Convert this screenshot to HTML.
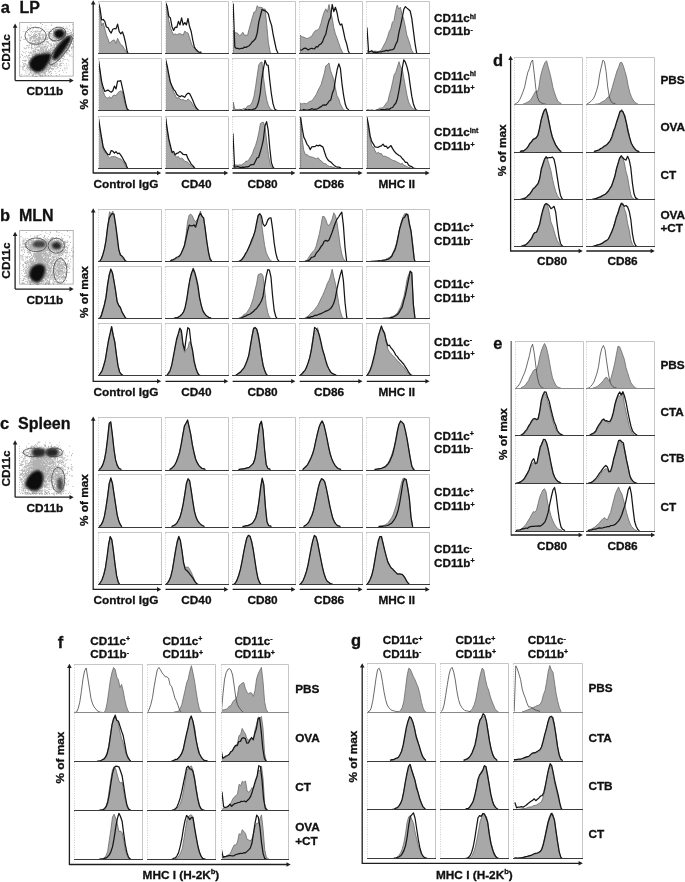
<!DOCTYPE html><html><head><meta charset="utf-8"><style>html,body{margin:0;padding:0;background:#fff;overflow:hidden}svg{display:block;filter:blur(0.3px)}</style></head><body>
<svg width="685" height="882" viewBox="0 0 685 882" font-family="'Liberation Sans', sans-serif" font-weight="bold" fill="#111">
<rect width="685" height="882" fill="#fff"/>
<rect x="98.5" y="1.5" width="63.0" height="52.0" fill="#fff" stroke="none"/>
<path d="M98.0,1.5 H161.5 V53.5" fill="none" stroke="#c6c6c6" stroke-width="1"/>
<line x1="98.5" y1="2.0" x2="98.5" y2="53.5" stroke="#cdcdcd" stroke-width="1" stroke-dasharray="1 1.4"/>
<rect x="165.5" y="1.5" width="63.0" height="52.0" fill="#fff" stroke="none"/>
<path d="M165.0,1.5 H228.5 V53.5" fill="none" stroke="#c6c6c6" stroke-width="1"/>
<line x1="165.5" y1="2.0" x2="165.5" y2="53.5" stroke="#cdcdcd" stroke-width="1" stroke-dasharray="1 1.4"/>
<rect x="232.5" y="1.5" width="63.0" height="52.0" fill="#fff" stroke="none"/>
<path d="M232.0,1.5 H295.5 V53.5" fill="none" stroke="#c6c6c6" stroke-width="1"/>
<line x1="232.5" y1="2.0" x2="232.5" y2="53.5" stroke="#cdcdcd" stroke-width="1" stroke-dasharray="1 1.4"/>
<rect x="299.5" y="1.5" width="63.0" height="52.0" fill="#fff" stroke="none"/>
<path d="M299.0,1.5 H362.5 V53.5" fill="none" stroke="#c6c6c6" stroke-width="1"/>
<line x1="299.5" y1="2.0" x2="299.5" y2="53.5" stroke="#cdcdcd" stroke-width="1" stroke-dasharray="1 1.4"/>
<rect x="366.5" y="1.5" width="63.0" height="52.0" fill="#fff" stroke="none"/>
<path d="M366.0,1.5 H429.5 V53.5" fill="none" stroke="#c6c6c6" stroke-width="1"/>
<line x1="366.5" y1="2.0" x2="366.5" y2="53.5" stroke="#cdcdcd" stroke-width="1" stroke-dasharray="1 1.4"/>
<rect x="98.5" y="58.5" width="63.0" height="52.0" fill="#fff" stroke="none"/>
<path d="M98.0,58.5 H161.5 V110.5" fill="none" stroke="#c6c6c6" stroke-width="1"/>
<line x1="98.5" y1="59.0" x2="98.5" y2="110.5" stroke="#cdcdcd" stroke-width="1" stroke-dasharray="1 1.4"/>
<rect x="165.5" y="58.5" width="63.0" height="52.0" fill="#fff" stroke="none"/>
<path d="M165.0,58.5 H228.5 V110.5" fill="none" stroke="#c6c6c6" stroke-width="1"/>
<line x1="165.5" y1="59.0" x2="165.5" y2="110.5" stroke="#cdcdcd" stroke-width="1" stroke-dasharray="1 1.4"/>
<rect x="232.5" y="58.5" width="63.0" height="52.0" fill="#fff" stroke="none"/>
<path d="M232.0,58.5 H295.5 V110.5" fill="none" stroke="#c6c6c6" stroke-width="1"/>
<line x1="232.5" y1="59.0" x2="232.5" y2="110.5" stroke="#cdcdcd" stroke-width="1" stroke-dasharray="1 1.4"/>
<rect x="299.5" y="58.5" width="63.0" height="52.0" fill="#fff" stroke="none"/>
<path d="M299.0,58.5 H362.5 V110.5" fill="none" stroke="#c6c6c6" stroke-width="1"/>
<line x1="299.5" y1="59.0" x2="299.5" y2="110.5" stroke="#cdcdcd" stroke-width="1" stroke-dasharray="1 1.4"/>
<rect x="366.5" y="58.5" width="63.0" height="52.0" fill="#fff" stroke="none"/>
<path d="M366.0,58.5 H429.5 V110.5" fill="none" stroke="#c6c6c6" stroke-width="1"/>
<line x1="366.5" y1="59.0" x2="366.5" y2="110.5" stroke="#cdcdcd" stroke-width="1" stroke-dasharray="1 1.4"/>
<rect x="98.5" y="116.5" width="63.0" height="52.0" fill="#fff" stroke="none"/>
<path d="M98.0,116.5 H161.5 V168.5" fill="none" stroke="#c6c6c6" stroke-width="1"/>
<line x1="98.5" y1="117.0" x2="98.5" y2="168.5" stroke="#cdcdcd" stroke-width="1" stroke-dasharray="1 1.4"/>
<rect x="165.5" y="116.5" width="63.0" height="52.0" fill="#fff" stroke="none"/>
<path d="M165.0,116.5 H228.5 V168.5" fill="none" stroke="#c6c6c6" stroke-width="1"/>
<line x1="165.5" y1="117.0" x2="165.5" y2="168.5" stroke="#cdcdcd" stroke-width="1" stroke-dasharray="1 1.4"/>
<rect x="232.5" y="116.5" width="63.0" height="52.0" fill="#fff" stroke="none"/>
<path d="M232.0,116.5 H295.5 V168.5" fill="none" stroke="#c6c6c6" stroke-width="1"/>
<line x1="232.5" y1="117.0" x2="232.5" y2="168.5" stroke="#cdcdcd" stroke-width="1" stroke-dasharray="1 1.4"/>
<rect x="299.5" y="116.5" width="63.0" height="52.0" fill="#fff" stroke="none"/>
<path d="M299.0,116.5 H362.5 V168.5" fill="none" stroke="#c6c6c6" stroke-width="1"/>
<line x1="299.5" y1="117.0" x2="299.5" y2="168.5" stroke="#cdcdcd" stroke-width="1" stroke-dasharray="1 1.4"/>
<rect x="366.5" y="116.5" width="63.0" height="52.0" fill="#fff" stroke="none"/>
<path d="M366.0,116.5 H429.5 V168.5" fill="none" stroke="#c6c6c6" stroke-width="1"/>
<line x1="366.5" y1="117.0" x2="366.5" y2="168.5" stroke="#cdcdcd" stroke-width="1" stroke-dasharray="1 1.4"/>
<rect x="98.5" y="209.5" width="63.0" height="52.0" fill="#fff" stroke="none"/>
<path d="M98.0,209.5 H161.5 V261.5" fill="none" stroke="#c6c6c6" stroke-width="1"/>
<line x1="98.5" y1="210.0" x2="98.5" y2="261.5" stroke="#cdcdcd" stroke-width="1" stroke-dasharray="1 1.4"/>
<rect x="165.5" y="209.5" width="63.0" height="52.0" fill="#fff" stroke="none"/>
<path d="M165.0,209.5 H228.5 V261.5" fill="none" stroke="#c6c6c6" stroke-width="1"/>
<line x1="165.5" y1="210.0" x2="165.5" y2="261.5" stroke="#cdcdcd" stroke-width="1" stroke-dasharray="1 1.4"/>
<rect x="232.5" y="209.5" width="63.0" height="52.0" fill="#fff" stroke="none"/>
<path d="M232.0,209.5 H295.5 V261.5" fill="none" stroke="#c6c6c6" stroke-width="1"/>
<line x1="232.5" y1="210.0" x2="232.5" y2="261.5" stroke="#cdcdcd" stroke-width="1" stroke-dasharray="1 1.4"/>
<rect x="299.5" y="209.5" width="63.0" height="52.0" fill="#fff" stroke="none"/>
<path d="M299.0,209.5 H362.5 V261.5" fill="none" stroke="#c6c6c6" stroke-width="1"/>
<line x1="299.5" y1="210.0" x2="299.5" y2="261.5" stroke="#cdcdcd" stroke-width="1" stroke-dasharray="1 1.4"/>
<rect x="366.5" y="209.5" width="63.0" height="52.0" fill="#fff" stroke="none"/>
<path d="M366.0,209.5 H429.5 V261.5" fill="none" stroke="#c6c6c6" stroke-width="1"/>
<line x1="366.5" y1="210.0" x2="366.5" y2="261.5" stroke="#cdcdcd" stroke-width="1" stroke-dasharray="1 1.4"/>
<rect x="98.5" y="266.5" width="63.0" height="52.0" fill="#fff" stroke="none"/>
<path d="M98.0,266.5 H161.5 V318.5" fill="none" stroke="#c6c6c6" stroke-width="1"/>
<line x1="98.5" y1="267.0" x2="98.5" y2="318.5" stroke="#cdcdcd" stroke-width="1" stroke-dasharray="1 1.4"/>
<rect x="165.5" y="266.5" width="63.0" height="52.0" fill="#fff" stroke="none"/>
<path d="M165.0,266.5 H228.5 V318.5" fill="none" stroke="#c6c6c6" stroke-width="1"/>
<line x1="165.5" y1="267.0" x2="165.5" y2="318.5" stroke="#cdcdcd" stroke-width="1" stroke-dasharray="1 1.4"/>
<rect x="232.5" y="266.5" width="63.0" height="52.0" fill="#fff" stroke="none"/>
<path d="M232.0,266.5 H295.5 V318.5" fill="none" stroke="#c6c6c6" stroke-width="1"/>
<line x1="232.5" y1="267.0" x2="232.5" y2="318.5" stroke="#cdcdcd" stroke-width="1" stroke-dasharray="1 1.4"/>
<rect x="299.5" y="266.5" width="63.0" height="52.0" fill="#fff" stroke="none"/>
<path d="M299.0,266.5 H362.5 V318.5" fill="none" stroke="#c6c6c6" stroke-width="1"/>
<line x1="299.5" y1="267.0" x2="299.5" y2="318.5" stroke="#cdcdcd" stroke-width="1" stroke-dasharray="1 1.4"/>
<rect x="366.5" y="266.5" width="63.0" height="52.0" fill="#fff" stroke="none"/>
<path d="M366.0,266.5 H429.5 V318.5" fill="none" stroke="#c6c6c6" stroke-width="1"/>
<line x1="366.5" y1="267.0" x2="366.5" y2="318.5" stroke="#cdcdcd" stroke-width="1" stroke-dasharray="1 1.4"/>
<rect x="98.5" y="323.5" width="63.0" height="52.0" fill="#fff" stroke="none"/>
<path d="M98.0,323.5 H161.5 V375.5" fill="none" stroke="#c6c6c6" stroke-width="1"/>
<line x1="98.5" y1="324.0" x2="98.5" y2="375.5" stroke="#cdcdcd" stroke-width="1" stroke-dasharray="1 1.4"/>
<rect x="165.5" y="323.5" width="63.0" height="52.0" fill="#fff" stroke="none"/>
<path d="M165.0,323.5 H228.5 V375.5" fill="none" stroke="#c6c6c6" stroke-width="1"/>
<line x1="165.5" y1="324.0" x2="165.5" y2="375.5" stroke="#cdcdcd" stroke-width="1" stroke-dasharray="1 1.4"/>
<rect x="232.5" y="323.5" width="63.0" height="52.0" fill="#fff" stroke="none"/>
<path d="M232.0,323.5 H295.5 V375.5" fill="none" stroke="#c6c6c6" stroke-width="1"/>
<line x1="232.5" y1="324.0" x2="232.5" y2="375.5" stroke="#cdcdcd" stroke-width="1" stroke-dasharray="1 1.4"/>
<rect x="299.5" y="323.5" width="63.0" height="52.0" fill="#fff" stroke="none"/>
<path d="M299.0,323.5 H362.5 V375.5" fill="none" stroke="#c6c6c6" stroke-width="1"/>
<line x1="299.5" y1="324.0" x2="299.5" y2="375.5" stroke="#cdcdcd" stroke-width="1" stroke-dasharray="1 1.4"/>
<rect x="366.5" y="323.5" width="63.0" height="52.0" fill="#fff" stroke="none"/>
<path d="M366.0,323.5 H429.5 V375.5" fill="none" stroke="#c6c6c6" stroke-width="1"/>
<line x1="366.5" y1="324.0" x2="366.5" y2="375.5" stroke="#cdcdcd" stroke-width="1" stroke-dasharray="1 1.4"/>
<rect x="98.5" y="417.5" width="63.0" height="53.0" fill="#fff" stroke="none"/>
<path d="M98.0,417.5 H161.5 V470.5" fill="none" stroke="#c6c6c6" stroke-width="1"/>
<line x1="98.5" y1="418.0" x2="98.5" y2="470.5" stroke="#cdcdcd" stroke-width="1" stroke-dasharray="1 1.4"/>
<rect x="165.5" y="417.5" width="63.0" height="53.0" fill="#fff" stroke="none"/>
<path d="M165.0,417.5 H228.5 V470.5" fill="none" stroke="#c6c6c6" stroke-width="1"/>
<line x1="165.5" y1="418.0" x2="165.5" y2="470.5" stroke="#cdcdcd" stroke-width="1" stroke-dasharray="1 1.4"/>
<rect x="232.5" y="417.5" width="63.0" height="53.0" fill="#fff" stroke="none"/>
<path d="M232.0,417.5 H295.5 V470.5" fill="none" stroke="#c6c6c6" stroke-width="1"/>
<line x1="232.5" y1="418.0" x2="232.5" y2="470.5" stroke="#cdcdcd" stroke-width="1" stroke-dasharray="1 1.4"/>
<rect x="299.5" y="417.5" width="63.0" height="53.0" fill="#fff" stroke="none"/>
<path d="M299.0,417.5 H362.5 V470.5" fill="none" stroke="#c6c6c6" stroke-width="1"/>
<line x1="299.5" y1="418.0" x2="299.5" y2="470.5" stroke="#cdcdcd" stroke-width="1" stroke-dasharray="1 1.4"/>
<rect x="366.5" y="417.5" width="63.0" height="53.0" fill="#fff" stroke="none"/>
<path d="M366.0,417.5 H429.5 V470.5" fill="none" stroke="#c6c6c6" stroke-width="1"/>
<line x1="366.5" y1="418.0" x2="366.5" y2="470.5" stroke="#cdcdcd" stroke-width="1" stroke-dasharray="1 1.4"/>
<rect x="98.5" y="474.5" width="63.0" height="53.0" fill="#fff" stroke="none"/>
<path d="M98.0,474.5 H161.5 V527.5" fill="none" stroke="#c6c6c6" stroke-width="1"/>
<line x1="98.5" y1="475.0" x2="98.5" y2="527.5" stroke="#cdcdcd" stroke-width="1" stroke-dasharray="1 1.4"/>
<rect x="165.5" y="474.5" width="63.0" height="53.0" fill="#fff" stroke="none"/>
<path d="M165.0,474.5 H228.5 V527.5" fill="none" stroke="#c6c6c6" stroke-width="1"/>
<line x1="165.5" y1="475.0" x2="165.5" y2="527.5" stroke="#cdcdcd" stroke-width="1" stroke-dasharray="1 1.4"/>
<rect x="232.5" y="474.5" width="63.0" height="53.0" fill="#fff" stroke="none"/>
<path d="M232.0,474.5 H295.5 V527.5" fill="none" stroke="#c6c6c6" stroke-width="1"/>
<line x1="232.5" y1="475.0" x2="232.5" y2="527.5" stroke="#cdcdcd" stroke-width="1" stroke-dasharray="1 1.4"/>
<rect x="299.5" y="474.5" width="63.0" height="53.0" fill="#fff" stroke="none"/>
<path d="M299.0,474.5 H362.5 V527.5" fill="none" stroke="#c6c6c6" stroke-width="1"/>
<line x1="299.5" y1="475.0" x2="299.5" y2="527.5" stroke="#cdcdcd" stroke-width="1" stroke-dasharray="1 1.4"/>
<rect x="366.5" y="474.5" width="63.0" height="53.0" fill="#fff" stroke="none"/>
<path d="M366.0,474.5 H429.5 V527.5" fill="none" stroke="#c6c6c6" stroke-width="1"/>
<line x1="366.5" y1="475.0" x2="366.5" y2="527.5" stroke="#cdcdcd" stroke-width="1" stroke-dasharray="1 1.4"/>
<rect x="98.5" y="532.5" width="63.0" height="52.0" fill="#fff" stroke="none"/>
<path d="M98.0,532.5 H161.5 V584.5" fill="none" stroke="#c6c6c6" stroke-width="1"/>
<line x1="98.5" y1="533.0" x2="98.5" y2="584.5" stroke="#cdcdcd" stroke-width="1" stroke-dasharray="1 1.4"/>
<rect x="165.5" y="532.5" width="63.0" height="52.0" fill="#fff" stroke="none"/>
<path d="M165.0,532.5 H228.5 V584.5" fill="none" stroke="#c6c6c6" stroke-width="1"/>
<line x1="165.5" y1="533.0" x2="165.5" y2="584.5" stroke="#cdcdcd" stroke-width="1" stroke-dasharray="1 1.4"/>
<rect x="232.5" y="532.5" width="63.0" height="52.0" fill="#fff" stroke="none"/>
<path d="M232.0,532.5 H295.5 V584.5" fill="none" stroke="#c6c6c6" stroke-width="1"/>
<line x1="232.5" y1="533.0" x2="232.5" y2="584.5" stroke="#cdcdcd" stroke-width="1" stroke-dasharray="1 1.4"/>
<rect x="299.5" y="532.5" width="63.0" height="52.0" fill="#fff" stroke="none"/>
<path d="M299.0,532.5 H362.5 V584.5" fill="none" stroke="#c6c6c6" stroke-width="1"/>
<line x1="299.5" y1="533.0" x2="299.5" y2="584.5" stroke="#cdcdcd" stroke-width="1" stroke-dasharray="1 1.4"/>
<rect x="366.5" y="532.5" width="63.0" height="52.0" fill="#fff" stroke="none"/>
<path d="M366.0,532.5 H429.5 V584.5" fill="none" stroke="#c6c6c6" stroke-width="1"/>
<line x1="366.5" y1="533.0" x2="366.5" y2="584.5" stroke="#cdcdcd" stroke-width="1" stroke-dasharray="1 1.4"/>
<rect x="514.5" y="57.5" width="68.0" height="47.0" fill="#fff" stroke="none"/>
<path d="M514.0,57.5 H582.5 V104.5" fill="none" stroke="#c6c6c6" stroke-width="1"/>
<line x1="514.5" y1="58.0" x2="514.5" y2="104.5" stroke="#cdcdcd" stroke-width="1" stroke-dasharray="1 1.4"/>
<rect x="514.5" y="104.5" width="68.0" height="48.0" fill="#fff" stroke="none"/>
<path d="M514.0,104.5 H582.5 V152.5" fill="none" stroke="#c6c6c6" stroke-width="1"/>
<line x1="514.5" y1="105.0" x2="514.5" y2="152.5" stroke="#cdcdcd" stroke-width="1" stroke-dasharray="1 1.4"/>
<rect x="514.5" y="152.5" width="68.0" height="47.0" fill="#fff" stroke="none"/>
<path d="M514.0,152.5 H582.5 V199.5" fill="none" stroke="#c6c6c6" stroke-width="1"/>
<line x1="514.5" y1="153.0" x2="514.5" y2="199.5" stroke="#cdcdcd" stroke-width="1" stroke-dasharray="1 1.4"/>
<rect x="514.5" y="199.5" width="68.0" height="47.0" fill="#fff" stroke="none"/>
<path d="M514.0,199.5 H582.5 V246.5" fill="none" stroke="#c6c6c6" stroke-width="1"/>
<line x1="514.5" y1="200.0" x2="514.5" y2="246.5" stroke="#cdcdcd" stroke-width="1" stroke-dasharray="1 1.4"/>
<rect x="586.5" y="57.5" width="68.0" height="47.0" fill="#fff" stroke="none"/>
<path d="M586.0,57.5 H654.5 V104.5" fill="none" stroke="#c6c6c6" stroke-width="1"/>
<line x1="586.5" y1="58.0" x2="586.5" y2="104.5" stroke="#cdcdcd" stroke-width="1" stroke-dasharray="1 1.4"/>
<rect x="586.5" y="104.5" width="68.0" height="48.0" fill="#fff" stroke="none"/>
<path d="M586.0,104.5 H654.5 V152.5" fill="none" stroke="#c6c6c6" stroke-width="1"/>
<line x1="586.5" y1="105.0" x2="586.5" y2="152.5" stroke="#cdcdcd" stroke-width="1" stroke-dasharray="1 1.4"/>
<rect x="586.5" y="152.5" width="68.0" height="47.0" fill="#fff" stroke="none"/>
<path d="M586.0,152.5 H654.5 V199.5" fill="none" stroke="#c6c6c6" stroke-width="1"/>
<line x1="586.5" y1="153.0" x2="586.5" y2="199.5" stroke="#cdcdcd" stroke-width="1" stroke-dasharray="1 1.4"/>
<rect x="586.5" y="199.5" width="68.0" height="47.0" fill="#fff" stroke="none"/>
<path d="M586.0,199.5 H654.5 V246.5" fill="none" stroke="#c6c6c6" stroke-width="1"/>
<line x1="586.5" y1="200.0" x2="586.5" y2="246.5" stroke="#cdcdcd" stroke-width="1" stroke-dasharray="1 1.4"/>
<rect x="515.5" y="341.5" width="68.0" height="47.0" fill="#fff" stroke="none"/>
<path d="M515.0,341.5 H583.5 V388.5" fill="none" stroke="#c6c6c6" stroke-width="1"/>
<line x1="515.5" y1="342.0" x2="515.5" y2="388.5" stroke="#cdcdcd" stroke-width="1" stroke-dasharray="1 1.4"/>
<rect x="515.5" y="388.5" width="68.0" height="47.0" fill="#fff" stroke="none"/>
<path d="M515.0,388.5 H583.5 V435.5" fill="none" stroke="#c6c6c6" stroke-width="1"/>
<line x1="515.5" y1="389.0" x2="515.5" y2="435.5" stroke="#cdcdcd" stroke-width="1" stroke-dasharray="1 1.4"/>
<rect x="515.5" y="435.5" width="68.0" height="48.0" fill="#fff" stroke="none"/>
<path d="M515.0,435.5 H583.5 V483.5" fill="none" stroke="#c6c6c6" stroke-width="1"/>
<line x1="515.5" y1="436.0" x2="515.5" y2="483.5" stroke="#cdcdcd" stroke-width="1" stroke-dasharray="1 1.4"/>
<rect x="515.5" y="483.5" width="68.0" height="48.0" fill="#fff" stroke="none"/>
<path d="M515.0,483.5 H583.5 V531.5" fill="none" stroke="#c6c6c6" stroke-width="1"/>
<line x1="515.5" y1="484.0" x2="515.5" y2="531.5" stroke="#cdcdcd" stroke-width="1" stroke-dasharray="1 1.4"/>
<rect x="586.5" y="341.5" width="68.0" height="47.0" fill="#fff" stroke="none"/>
<path d="M586.0,341.5 H654.5 V388.5" fill="none" stroke="#c6c6c6" stroke-width="1"/>
<line x1="586.5" y1="342.0" x2="586.5" y2="388.5" stroke="#cdcdcd" stroke-width="1" stroke-dasharray="1 1.4"/>
<rect x="586.5" y="388.5" width="68.0" height="47.0" fill="#fff" stroke="none"/>
<path d="M586.0,388.5 H654.5 V435.5" fill="none" stroke="#c6c6c6" stroke-width="1"/>
<line x1="586.5" y1="389.0" x2="586.5" y2="435.5" stroke="#cdcdcd" stroke-width="1" stroke-dasharray="1 1.4"/>
<rect x="586.5" y="435.5" width="68.0" height="48.0" fill="#fff" stroke="none"/>
<path d="M586.0,435.5 H654.5 V483.5" fill="none" stroke="#c6c6c6" stroke-width="1"/>
<line x1="586.5" y1="436.0" x2="586.5" y2="483.5" stroke="#cdcdcd" stroke-width="1" stroke-dasharray="1 1.4"/>
<rect x="586.5" y="483.5" width="68.0" height="48.0" fill="#fff" stroke="none"/>
<path d="M586.0,483.5 H654.5 V531.5" fill="none" stroke="#c6c6c6" stroke-width="1"/>
<line x1="586.5" y1="484.0" x2="586.5" y2="531.5" stroke="#cdcdcd" stroke-width="1" stroke-dasharray="1 1.4"/>
<rect x="74.5" y="664.5" width="68.0" height="48.0" fill="#fff" stroke="none"/>
<path d="M74.0,664.5 H142.5 V712.5" fill="none" stroke="#c6c6c6" stroke-width="1"/>
<line x1="74.5" y1="665.0" x2="74.5" y2="712.5" stroke="#cdcdcd" stroke-width="1" stroke-dasharray="1 1.4"/>
<rect x="74.5" y="712.5" width="68.0" height="49.0" fill="#fff" stroke="none"/>
<path d="M74.0,712.5 H142.5 V761.5" fill="none" stroke="#c6c6c6" stroke-width="1"/>
<line x1="74.5" y1="713.0" x2="74.5" y2="761.5" stroke="#cdcdcd" stroke-width="1" stroke-dasharray="1 1.4"/>
<rect x="74.5" y="761.5" width="68.0" height="49.0" fill="#fff" stroke="none"/>
<path d="M74.0,761.5 H142.5 V810.5" fill="none" stroke="#c6c6c6" stroke-width="1"/>
<line x1="74.5" y1="762.0" x2="74.5" y2="810.5" stroke="#cdcdcd" stroke-width="1" stroke-dasharray="1 1.4"/>
<rect x="74.5" y="810.5" width="68.0" height="49.0" fill="#fff" stroke="none"/>
<path d="M74.0,810.5 H142.5 V859.5" fill="none" stroke="#c6c6c6" stroke-width="1"/>
<line x1="74.5" y1="811.0" x2="74.5" y2="859.5" stroke="#cdcdcd" stroke-width="1" stroke-dasharray="1 1.4"/>
<rect x="147.5" y="664.5" width="68.0" height="48.0" fill="#fff" stroke="none"/>
<path d="M147.0,664.5 H215.5 V712.5" fill="none" stroke="#c6c6c6" stroke-width="1"/>
<line x1="147.5" y1="665.0" x2="147.5" y2="712.5" stroke="#cdcdcd" stroke-width="1" stroke-dasharray="1 1.4"/>
<rect x="147.5" y="712.5" width="68.0" height="49.0" fill="#fff" stroke="none"/>
<path d="M147.0,712.5 H215.5 V761.5" fill="none" stroke="#c6c6c6" stroke-width="1"/>
<line x1="147.5" y1="713.0" x2="147.5" y2="761.5" stroke="#cdcdcd" stroke-width="1" stroke-dasharray="1 1.4"/>
<rect x="147.5" y="761.5" width="68.0" height="49.0" fill="#fff" stroke="none"/>
<path d="M147.0,761.5 H215.5 V810.5" fill="none" stroke="#c6c6c6" stroke-width="1"/>
<line x1="147.5" y1="762.0" x2="147.5" y2="810.5" stroke="#cdcdcd" stroke-width="1" stroke-dasharray="1 1.4"/>
<rect x="147.5" y="810.5" width="68.0" height="49.0" fill="#fff" stroke="none"/>
<path d="M147.0,810.5 H215.5 V859.5" fill="none" stroke="#c6c6c6" stroke-width="1"/>
<line x1="147.5" y1="811.0" x2="147.5" y2="859.5" stroke="#cdcdcd" stroke-width="1" stroke-dasharray="1 1.4"/>
<rect x="221.5" y="664.5" width="67.0" height="48.0" fill="#fff" stroke="none"/>
<path d="M221.0,664.5 H288.5 V712.5" fill="none" stroke="#c6c6c6" stroke-width="1"/>
<line x1="221.5" y1="665.0" x2="221.5" y2="712.5" stroke="#cdcdcd" stroke-width="1" stroke-dasharray="1 1.4"/>
<rect x="221.5" y="712.5" width="67.0" height="49.0" fill="#fff" stroke="none"/>
<path d="M221.0,712.5 H288.5 V761.5" fill="none" stroke="#c6c6c6" stroke-width="1"/>
<line x1="221.5" y1="713.0" x2="221.5" y2="761.5" stroke="#cdcdcd" stroke-width="1" stroke-dasharray="1 1.4"/>
<rect x="221.5" y="761.5" width="67.0" height="49.0" fill="#fff" stroke="none"/>
<path d="M221.0,761.5 H288.5 V810.5" fill="none" stroke="#c6c6c6" stroke-width="1"/>
<line x1="221.5" y1="762.0" x2="221.5" y2="810.5" stroke="#cdcdcd" stroke-width="1" stroke-dasharray="1 1.4"/>
<rect x="221.5" y="810.5" width="67.0" height="49.0" fill="#fff" stroke="none"/>
<path d="M221.0,810.5 H288.5 V859.5" fill="none" stroke="#c6c6c6" stroke-width="1"/>
<line x1="221.5" y1="811.0" x2="221.5" y2="859.5" stroke="#cdcdcd" stroke-width="1" stroke-dasharray="1 1.4"/>
<rect x="367.5" y="663.5" width="68.0" height="49.0" fill="#fff" stroke="none"/>
<path d="M367.0,663.5 H435.5 V712.5" fill="none" stroke="#c6c6c6" stroke-width="1"/>
<line x1="367.5" y1="664.0" x2="367.5" y2="712.5" stroke="#cdcdcd" stroke-width="1" stroke-dasharray="1 1.4"/>
<rect x="367.5" y="712.5" width="68.0" height="49.0" fill="#fff" stroke="none"/>
<path d="M367.0,712.5 H435.5 V761.5" fill="none" stroke="#c6c6c6" stroke-width="1"/>
<line x1="367.5" y1="713.0" x2="367.5" y2="761.5" stroke="#cdcdcd" stroke-width="1" stroke-dasharray="1 1.4"/>
<rect x="367.5" y="761.5" width="68.0" height="48.0" fill="#fff" stroke="none"/>
<path d="M367.0,761.5 H435.5 V809.5" fill="none" stroke="#c6c6c6" stroke-width="1"/>
<line x1="367.5" y1="762.0" x2="367.5" y2="809.5" stroke="#cdcdcd" stroke-width="1" stroke-dasharray="1 1.4"/>
<rect x="367.5" y="809.5" width="68.0" height="49.0" fill="#fff" stroke="none"/>
<path d="M367.0,809.5 H435.5 V858.5" fill="none" stroke="#c6c6c6" stroke-width="1"/>
<line x1="367.5" y1="810.0" x2="367.5" y2="858.5" stroke="#cdcdcd" stroke-width="1" stroke-dasharray="1 1.4"/>
<rect x="440.5" y="663.5" width="68.0" height="49.0" fill="#fff" stroke="none"/>
<path d="M440.0,663.5 H508.5 V712.5" fill="none" stroke="#c6c6c6" stroke-width="1"/>
<line x1="440.5" y1="664.0" x2="440.5" y2="712.5" stroke="#cdcdcd" stroke-width="1" stroke-dasharray="1 1.4"/>
<rect x="440.5" y="712.5" width="68.0" height="49.0" fill="#fff" stroke="none"/>
<path d="M440.0,712.5 H508.5 V761.5" fill="none" stroke="#c6c6c6" stroke-width="1"/>
<line x1="440.5" y1="713.0" x2="440.5" y2="761.5" stroke="#cdcdcd" stroke-width="1" stroke-dasharray="1 1.4"/>
<rect x="440.5" y="761.5" width="68.0" height="48.0" fill="#fff" stroke="none"/>
<path d="M440.0,761.5 H508.5 V809.5" fill="none" stroke="#c6c6c6" stroke-width="1"/>
<line x1="440.5" y1="762.0" x2="440.5" y2="809.5" stroke="#cdcdcd" stroke-width="1" stroke-dasharray="1 1.4"/>
<rect x="440.5" y="809.5" width="68.0" height="49.0" fill="#fff" stroke="none"/>
<path d="M440.0,809.5 H508.5 V858.5" fill="none" stroke="#c6c6c6" stroke-width="1"/>
<line x1="440.5" y1="810.0" x2="440.5" y2="858.5" stroke="#cdcdcd" stroke-width="1" stroke-dasharray="1 1.4"/>
<rect x="513.5" y="663.5" width="69.0" height="49.0" fill="#fff" stroke="none"/>
<path d="M513.0,663.5 H582.5 V712.5" fill="none" stroke="#c6c6c6" stroke-width="1"/>
<line x1="513.5" y1="664.0" x2="513.5" y2="712.5" stroke="#cdcdcd" stroke-width="1" stroke-dasharray="1 1.4"/>
<rect x="513.5" y="712.5" width="69.0" height="49.0" fill="#fff" stroke="none"/>
<path d="M513.0,712.5 H582.5 V761.5" fill="none" stroke="#c6c6c6" stroke-width="1"/>
<line x1="513.5" y1="713.0" x2="513.5" y2="761.5" stroke="#cdcdcd" stroke-width="1" stroke-dasharray="1 1.4"/>
<rect x="513.5" y="761.5" width="69.0" height="48.0" fill="#fff" stroke="none"/>
<path d="M513.0,761.5 H582.5 V809.5" fill="none" stroke="#c6c6c6" stroke-width="1"/>
<line x1="513.5" y1="762.0" x2="513.5" y2="809.5" stroke="#cdcdcd" stroke-width="1" stroke-dasharray="1 1.4"/>
<rect x="513.5" y="809.5" width="69.0" height="49.0" fill="#fff" stroke="none"/>
<path d="M513.0,809.5 H582.5 V858.5" fill="none" stroke="#c6c6c6" stroke-width="1"/>
<line x1="513.5" y1="810.0" x2="513.5" y2="858.5" stroke="#cdcdcd" stroke-width="1" stroke-dasharray="1 1.4"/>
<defs><filter id="dblur" x="-50%" y="-50%" width="200%" height="200%"><feGaussianBlur stdDeviation="0.9"/></filter><filter id="sblur" x="-10%" y="-10%" width="120%" height="120%"><feGaussianBlur stdDeviation="0.45"/></filter></defs>
<rect x="19.7" y="22.5" width="53.5" height="53.599999999999994" fill="none" stroke="#a0a0a0" stroke-width="0.8"/>
<line x1="15.1" y1="80.6" x2="15.1" y2="26.6" stroke="#1e1e1e" stroke-width="1.3"/>
<path d="M12.8,27.8 L15.1,23.6 L17.4,27.8 Z" fill="#1e1e1e"/>
<line x1="15.1" y1="80.6" x2="70.7" y2="80.6" stroke="#1e1e1e" stroke-width="1.3"/>
<path d="M69.5,78.3 L73.7,80.6 L69.5,82.89999999999999 Z" fill="#1e1e1e"/>
<path d="M32.6 68.9h0.9v0.9h-0.9zM45.5 57.1h0.9v0.9h-0.9zM30.8 66.9h0.9v0.9h-0.9zM46.0 67.5h0.9v0.9h-0.9zM28.5 59.8h0.9v0.9h-0.9zM46.0 63.3h0.9v0.9h-0.9zM52.9 63.5h0.9v0.9h-0.9zM38.6 61.8h0.9v0.9h-0.9zM56.7 53.3h0.9v0.9h-0.9zM31.8 59.3h0.9v0.9h-0.9zM41.0 63.5h0.9v0.9h-0.9zM37.5 63.8h0.9v0.9h-0.9zM43.6 65.9h0.9v0.9h-0.9zM48.0 60.7h0.9v0.9h-0.9zM29.6 72.5h0.9v0.9h-0.9zM29.9 66.6h0.9v0.9h-0.9zM30.0 67.7h0.9v0.9h-0.9zM35.3 66.6h0.9v0.9h-0.9zM62.3 52.3h0.9v0.9h-0.9zM42.4 53.1h0.9v0.9h-0.9zM39.7 67.5h0.9v0.9h-0.9zM40.3 65.3h0.9v0.9h-0.9zM38.2 57.2h0.9v0.9h-0.9zM41.8 56.8h0.9v0.9h-0.9zM51.4 54.3h0.9v0.9h-0.9zM44.7 60.8h0.9v0.9h-0.9zM44.9 56.7h0.9v0.9h-0.9zM46.5 59.2h0.9v0.9h-0.9zM50.2 62.4h0.9v0.9h-0.9zM39.0 58.3h0.9v0.9h-0.9zM46.4 63.1h0.9v0.9h-0.9zM50.2 55.7h0.9v0.9h-0.9zM45.1 64.0h0.9v0.9h-0.9zM42.5 63.2h0.9v0.9h-0.9zM39.7 59.2h0.9v0.9h-0.9zM32.1 64.1h0.9v0.9h-0.9zM47.8 69.3h0.9v0.9h-0.9zM49.3 65.6h0.9v0.9h-0.9zM47.1 64.3h0.9v0.9h-0.9zM43.2 66.6h0.9v0.9h-0.9zM51.2 55.6h0.9v0.9h-0.9zM40.3 75.9h0.9v0.9h-0.9zM44.1 67.5h0.9v0.9h-0.9zM43.1 54.1h0.9v0.9h-0.9zM61.0 64.9h0.9v0.9h-0.9zM43.1 66.5h0.9v0.9h-0.9zM38.6 57.8h0.9v0.9h-0.9zM40.2 65.4h0.9v0.9h-0.9zM49.4 63.3h0.9v0.9h-0.9zM43.8 70.2h0.9v0.9h-0.9zM36.8 69.7h0.9v0.9h-0.9zM46.8 57.9h0.9v0.9h-0.9zM25.5 63.7h0.9v0.9h-0.9zM42.9 65.1h0.9v0.9h-0.9zM48.0 52.6h0.9v0.9h-0.9zM41.7 66.5h0.9v0.9h-0.9zM32.9 50.6h0.9v0.9h-0.9zM51.3 73.0h0.9v0.9h-0.9zM44.5 54.8h0.9v0.9h-0.9zM37.8 65.5h0.9v0.9h-0.9zM58.5 58.5h0.9v0.9h-0.9zM44.7 71.1h0.9v0.9h-0.9zM44.2 73.4h0.9v0.9h-0.9zM34.1 62.6h0.9v0.9h-0.9zM48.5 68.5h0.9v0.9h-0.9zM45.2 62.6h0.9v0.9h-0.9zM25.8 64.9h0.9v0.9h-0.9zM34.5 62.0h0.9v0.9h-0.9zM43.1 59.3h0.9v0.9h-0.9zM45.6 61.0h0.9v0.9h-0.9zM38.0 64.7h0.9v0.9h-0.9zM45.1 66.3h0.9v0.9h-0.9zM36.2 63.2h0.9v0.9h-0.9zM34.8 76.0h0.9v0.9h-0.9zM49.4 57.4h0.9v0.9h-0.9zM33.6 57.8h0.9v0.9h-0.9zM41.7 63.6h0.9v0.9h-0.9zM55.5 57.4h0.9v0.9h-0.9zM28.5 52.2h0.9v0.9h-0.9zM50.1 59.6h0.9v0.9h-0.9zM29.5 69.1h0.9v0.9h-0.9zM49.1 62.6h0.9v0.9h-0.9zM33.4 51.9h0.9v0.9h-0.9zM35.2 54.9h0.9v0.9h-0.9zM38.6 49.5h0.9v0.9h-0.9zM36.9 72.5h0.9v0.9h-0.9zM48.2 51.4h0.9v0.9h-0.9zM31.8 72.6h0.9v0.9h-0.9zM43.3 54.9h0.9v0.9h-0.9zM33.5 61.4h0.9v0.9h-0.9zM30.2 63.1h0.9v0.9h-0.9zM50.3 62.8h0.9v0.9h-0.9zM53.8 56.0h0.9v0.9h-0.9zM36.6 58.1h0.9v0.9h-0.9zM35.8 56.3h0.9v0.9h-0.9zM29.7 72.4h0.9v0.9h-0.9zM51.9 63.0h0.9v0.9h-0.9zM49.7 60.1h0.9v0.9h-0.9zM35.3 65.7h0.9v0.9h-0.9zM34.6 58.1h0.9v0.9h-0.9zM24.7 60.3h0.9v0.9h-0.9zM40.3 63.8h0.9v0.9h-0.9zM40.4 72.3h0.9v0.9h-0.9zM42.7 65.6h0.9v0.9h-0.9zM46.2 54.7h0.9v0.9h-0.9zM28.5 73.3h0.9v0.9h-0.9zM38.6 72.3h0.9v0.9h-0.9zM44.8 67.4h0.9v0.9h-0.9zM39.9 49.3h0.9v0.9h-0.9zM43.2 57.1h0.9v0.9h-0.9zM33.8 63.0h0.9v0.9h-0.9zM47.5 65.4h0.9v0.9h-0.9zM42.7 50.8h0.9v0.9h-0.9zM30.0 52.0h0.9v0.9h-0.9zM40.8 66.6h0.9v0.9h-0.9zM35.4 66.8h0.9v0.9h-0.9zM44.1 67.7h0.9v0.9h-0.9zM32.3 61.1h0.9v0.9h-0.9zM39.3 74.9h0.9v0.9h-0.9zM47.1 58.9h0.9v0.9h-0.9zM41.8 62.9h0.9v0.9h-0.9zM40.9 61.2h0.9v0.9h-0.9zM34.5 57.2h0.9v0.9h-0.9zM39.8 74.0h0.9v0.9h-0.9zM43.8 61.7h0.9v0.9h-0.9zM38.7 64.0h0.9v0.9h-0.9zM40.8 58.4h0.9v0.9h-0.9zM41.9 63.7h0.9v0.9h-0.9zM32.9 61.1h0.9v0.9h-0.9zM30.5 60.4h0.9v0.9h-0.9zM40.1 47.3h0.9v0.9h-0.9zM36.6 60.5h0.9v0.9h-0.9zM36.0 65.5h0.9v0.9h-0.9zM47.9 59.8h0.9v0.9h-0.9zM37.5 60.1h0.9v0.9h-0.9zM41.4 68.4h0.9v0.9h-0.9zM34.4 58.0h0.9v0.9h-0.9zM28.6 61.0h0.9v0.9h-0.9zM33.3 73.4h0.9v0.9h-0.9zM41.8 60.6h0.9v0.9h-0.9zM48.3 54.8h0.9v0.9h-0.9zM47.1 65.0h0.9v0.9h-0.9zM25.5 59.4h0.9v0.9h-0.9zM36.0 70.9h0.9v0.9h-0.9zM45.7 52.2h0.9v0.9h-0.9zM46.2 57.6h0.9v0.9h-0.9zM35.9 61.3h0.9v0.9h-0.9zM33.2 54.1h0.9v0.9h-0.9zM30.1 59.5h0.9v0.9h-0.9zM48.6 72.8h0.9v0.9h-0.9zM57.7 52.5h0.9v0.9h-0.9zM27.3 66.2h0.9v0.9h-0.9zM42.0 57.2h0.9v0.9h-0.9zM47.7 62.9h0.9v0.9h-0.9zM27.6 65.3h0.9v0.9h-0.9zM38.4 63.9h0.9v0.9h-0.9zM40.0 60.7h0.9v0.9h-0.9zM39.8 59.2h0.9v0.9h-0.9zM37.7 74.1h0.9v0.9h-0.9zM43.6 64.2h0.9v0.9h-0.9zM28.7 67.2h0.9v0.9h-0.9zM42.3 53.4h0.9v0.9h-0.9zM46.5 57.4h0.9v0.9h-0.9zM42.4 61.0h0.9v0.9h-0.9zM44.5 68.9h0.9v0.9h-0.9zM41.2 72.8h0.9v0.9h-0.9zM32.3 60.4h0.9v0.9h-0.9zM42.1 54.9h0.9v0.9h-0.9zM39.8 69.1h0.9v0.9h-0.9zM43.7 49.5h0.9v0.9h-0.9zM48.2 71.6h0.9v0.9h-0.9zM47.5 57.9h0.9v0.9h-0.9zM35.2 63.3h0.9v0.9h-0.9zM31.5 65.2h0.9v0.9h-0.9zM38.4 62.8h0.9v0.9h-0.9zM47.5 58.0h0.9v0.9h-0.9zM32.8 73.3h0.9v0.9h-0.9zM31.6 64.0h0.9v0.9h-0.9zM38.2 61.6h0.9v0.9h-0.9zM32.6 64.8h0.9v0.9h-0.9zM53.3 52.8h0.9v0.9h-0.9zM41.9 69.5h0.9v0.9h-0.9zM47.0 64.8h0.9v0.9h-0.9zM40.9 49.6h0.9v0.9h-0.9zM34.5 66.4h0.9v0.9h-0.9zM46.7 68.5h0.9v0.9h-0.9zM42.6 60.2h0.9v0.9h-0.9zM39.7 61.7h0.9v0.9h-0.9zM43.4 65.9h0.9v0.9h-0.9zM35.6 59.7h0.9v0.9h-0.9zM37.0 71.7h0.9v0.9h-0.9zM51.2 64.3h0.9v0.9h-0.9zM47.9 64.8h0.9v0.9h-0.9zM41.7 66.6h0.9v0.9h-0.9zM32.3 65.2h0.9v0.9h-0.9zM36.9 69.3h0.9v0.9h-0.9zM35.8 64.3h0.9v0.9h-0.9zM46.2 69.1h0.9v0.9h-0.9zM32.2 60.4h0.9v0.9h-0.9zM42.7 54.4h0.9v0.9h-0.9zM41.6 58.5h0.9v0.9h-0.9zM34.7 53.4h0.9v0.9h-0.9zM43.6 58.0h0.9v0.9h-0.9zM41.9 59.8h0.9v0.9h-0.9zM44.8 71.4h0.9v0.9h-0.9zM41.0 65.5h0.9v0.9h-0.9zM41.2 56.4h0.9v0.9h-0.9zM39.6 59.9h0.9v0.9h-0.9zM33.7 71.7h0.9v0.9h-0.9zM44.7 61.3h0.9v0.9h-0.9zM28.7 55.0h0.9v0.9h-0.9zM43.1 60.9h0.9v0.9h-0.9zM28.4 68.0h0.9v0.9h-0.9zM29.6 67.7h0.9v0.9h-0.9zM41.9 64.5h0.9v0.9h-0.9zM41.9 63.2h0.9v0.9h-0.9zM31.3 64.5h0.9v0.9h-0.9zM35.9 63.3h0.9v0.9h-0.9zM43.4 65.5h0.9v0.9h-0.9zM44.6 43.8h0.9v0.9h-0.9zM42.2 60.7h0.9v0.9h-0.9zM57.8 60.9h0.9v0.9h-0.9zM29.8 70.4h0.9v0.9h-0.9zM39.0 70.1h0.9v0.9h-0.9zM32.6 65.8h0.9v0.9h-0.9zM38.9 62.9h0.9v0.9h-0.9zM31.4 54.9h0.9v0.9h-0.9zM45.7 67.0h0.9v0.9h-0.9zM37.0 57.7h0.9v0.9h-0.9zM42.8 65.4h0.9v0.9h-0.9zM38.8 63.5h0.9v0.9h-0.9zM46.7 52.5h0.9v0.9h-0.9zM31.4 54.4h0.9v0.9h-0.9zM33.4 61.2h0.9v0.9h-0.9zM31.7 62.3h0.9v0.9h-0.9zM51.7 56.2h0.9v0.9h-0.9zM44.8 75.3h0.9v0.9h-0.9zM35.2 53.8h0.9v0.9h-0.9zM40.4 56.6h0.9v0.9h-0.9zM48.0 51.0h0.9v0.9h-0.9zM32.0 56.1h0.9v0.9h-0.9zM38.1 57.2h0.9v0.9h-0.9zM38.6 61.2h0.9v0.9h-0.9zM38.2 70.1h0.9v0.9h-0.9zM46.5 60.4h0.9v0.9h-0.9zM31.2 60.0h0.9v0.9h-0.9zM47.9 75.1h0.9v0.9h-0.9zM34.9 60.2h0.9v0.9h-0.9zM32.5 59.3h0.9v0.9h-0.9zM32.9 65.0h0.9v0.9h-0.9zM49.7 58.4h0.9v0.9h-0.9zM32.4 55.8h0.9v0.9h-0.9zM41.4 62.2h0.9v0.9h-0.9zM28.9 61.0h0.9v0.9h-0.9zM42.3 68.6h0.9v0.9h-0.9zM44.8 62.1h0.9v0.9h-0.9zM38.6 65.8h0.9v0.9h-0.9zM45.4 74.9h0.9v0.9h-0.9zM31.4 64.6h0.9v0.9h-0.9zM47.9 57.5h0.9v0.9h-0.9zM49.6 58.2h0.9v0.9h-0.9zM40.0 60.5h0.9v0.9h-0.9zM28.2 62.1h0.9v0.9h-0.9zM56.7 59.5h0.9v0.9h-0.9zM46.5 66.3h0.9v0.9h-0.9zM46.5 66.8h0.9v0.9h-0.9zM37.6 62.6h0.9v0.9h-0.9zM45.8 58.0h0.9v0.9h-0.9zM30.4 66.0h0.9v0.9h-0.9zM37.9 68.1h0.9v0.9h-0.9zM32.4 59.5h0.9v0.9h-0.9zM41.7 72.5h0.9v0.9h-0.9zM40.1 64.0h0.9v0.9h-0.9zM40.8 64.6h0.9v0.9h-0.9zM49.8 67.6h0.9v0.9h-0.9zM32.3 75.6h0.9v0.9h-0.9zM39.2 61.3h0.9v0.9h-0.9zM55.9 54.5h0.9v0.9h-0.9zM55.7 62.1h0.9v0.9h-0.9zM34.2 68.9h0.9v0.9h-0.9zM44.7 60.0h0.9v0.9h-0.9zM23.3 68.5h0.9v0.9h-0.9zM35.9 57.6h0.9v0.9h-0.9zM51.8 55.9h0.9v0.9h-0.9zM36.6 62.6h0.9v0.9h-0.9zM32.7 61.3h0.9v0.9h-0.9zM41.4 64.4h0.9v0.9h-0.9zM36.3 64.1h0.9v0.9h-0.9zM31.9 70.2h0.9v0.9h-0.9zM35.5 66.5h0.9v0.9h-0.9zM32.5 63.1h0.9v0.9h-0.9zM38.4 55.7h0.9v0.9h-0.9zM56.7 55.0h0.9v0.9h-0.9zM37.6 59.2h0.9v0.9h-0.9zM54.4 65.5h0.9v0.9h-0.9zM38.6 54.6h0.9v0.9h-0.9zM38.1 67.9h0.9v0.9h-0.9zM33.5 58.2h0.9v0.9h-0.9zM30.0 62.6h0.9v0.9h-0.9zM38.4 59.4h0.9v0.9h-0.9zM49.4 51.7h0.9v0.9h-0.9zM42.6 62.4h0.9v0.9h-0.9zM41.7 69.1h0.9v0.9h-0.9zM36.9 62.3h0.9v0.9h-0.9zM37.2 63.6h0.9v0.9h-0.9zM50.7 63.1h0.9v0.9h-0.9zM29.8 64.8h0.9v0.9h-0.9zM36.6 70.0h0.9v0.9h-0.9zM43.8 67.1h0.9v0.9h-0.9zM34.7 52.8h0.9v0.9h-0.9zM43.6 62.8h0.9v0.9h-0.9zM40.2 54.3h0.9v0.9h-0.9zM38.8 59.0h0.9v0.9h-0.9zM36.2 67.1h0.9v0.9h-0.9zM40.1 57.0h0.9v0.9h-0.9zM22.1 55.0h0.9v0.9h-0.9zM38.9 70.9h0.9v0.9h-0.9zM33.9 50.9h0.9v0.9h-0.9zM35.2 68.0h0.9v0.9h-0.9zM54.3 64.0h0.9v0.9h-0.9zM43.0 62.9h0.9v0.9h-0.9zM31.7 63.9h0.9v0.9h-0.9zM35.8 59.8h0.9v0.9h-0.9zM39.4 60.7h0.9v0.9h-0.9zM45.9 69.7h0.9v0.9h-0.9zM46.1 62.9h0.9v0.9h-0.9zM34.5 55.5h0.9v0.9h-0.9zM40.6 66.3h0.9v0.9h-0.9zM36.3 73.0h0.9v0.9h-0.9zM38.7 66.1h0.9v0.9h-0.9zM34.6 57.2h0.9v0.9h-0.9zM51.1 50.1h0.9v0.9h-0.9zM44.8 57.1h0.9v0.9h-0.9zM39.9 57.7h0.9v0.9h-0.9zM39.5 69.3h0.9v0.9h-0.9zM51.1 52.2h0.9v0.9h-0.9zM42.5 68.1h0.9v0.9h-0.9zM37.5 68.9h0.9v0.9h-0.9zM36.2 68.8h0.9v0.9h-0.9zM46.0 68.2h0.9v0.9h-0.9zM39.4 55.4h0.9v0.9h-0.9zM41.7 54.9h0.9v0.9h-0.9zM48.9 68.8h0.9v0.9h-0.9zM42.6 58.1h0.9v0.9h-0.9zM48.5 60.1h0.9v0.9h-0.9zM30.6 65.0h0.9v0.9h-0.9zM48.9 56.8h0.9v0.9h-0.9zM40.0 60.7h0.9v0.9h-0.9zM27.2 65.6h0.9v0.9h-0.9zM43.0 63.0h0.9v0.9h-0.9zM33.4 51.9h0.9v0.9h-0.9zM50.1 63.0h0.9v0.9h-0.9zM50.3 66.8h0.9v0.9h-0.9zM35.4 61.1h0.9v0.9h-0.9zM46.4 71.1h0.9v0.9h-0.9zM28.0 67.1h0.9v0.9h-0.9zM36.6 68.3h0.9v0.9h-0.9zM49.2 56.7h0.9v0.9h-0.9zM31.7 67.2h0.9v0.9h-0.9zM34.1 55.5h0.9v0.9h-0.9zM44.7 57.3h0.9v0.9h-0.9zM41.3 53.7h0.9v0.9h-0.9zM43.8 51.7h0.9v0.9h-0.9zM42.6 49.8h0.9v0.9h-0.9zM48.4 56.6h0.9v0.9h-0.9zM28.8 66.7h0.9v0.9h-0.9zM39.8 56.5h0.9v0.9h-0.9zM37.3 66.0h0.9v0.9h-0.9zM31.1 46.9h0.9v0.9h-0.9zM38.2 66.7h0.9v0.9h-0.9zM44.6 67.5h0.9v0.9h-0.9zM46.2 62.2h0.9v0.9h-0.9zM49.8 64.8h0.9v0.9h-0.9zM39.1 59.3h0.9v0.9h-0.9zM48.0 62.1h0.9v0.9h-0.9zM24.3 63.0h0.9v0.9h-0.9zM43.5 62.1h0.9v0.9h-0.9zM43.5 65.6h0.9v0.9h-0.9zM45.0 71.1h0.9v0.9h-0.9zM35.0 62.7h0.9v0.9h-0.9zM44.1 66.0h0.9v0.9h-0.9zM49.1 68.6h0.9v0.9h-0.9zM39.7 70.9h0.9v0.9h-0.9zM40.5 55.8h0.9v0.9h-0.9zM44.4 74.8h0.9v0.9h-0.9zM44.1 58.0h0.9v0.9h-0.9zM21.8 66.6h0.9v0.9h-0.9zM35.4 65.6h0.9v0.9h-0.9zM57.6 59.7h0.9v0.9h-0.9zM39.8 56.9h0.9v0.9h-0.9zM31.4 65.6h0.9v0.9h-0.9zM35.7 60.9h0.9v0.9h-0.9zM47.9 59.8h0.9v0.9h-0.9zM34.9 73.9h0.9v0.9h-0.9zM34.5 56.8h0.9v0.9h-0.9zM43.4 64.6h0.9v0.9h-0.9zM39.5 67.9h0.9v0.9h-0.9zM43.3 55.6h0.9v0.9h-0.9zM19.9 56.5h0.9v0.9h-0.9zM42.2 70.1h0.9v0.9h-0.9zM50.3 67.4h0.9v0.9h-0.9zM52.7 57.2h0.9v0.9h-0.9zM43.3 51.3h0.9v0.9h-0.9zM45.7 63.0h0.9v0.9h-0.9zM38.2 60.9h0.9v0.9h-0.9zM32.8 67.3h0.9v0.9h-0.9zM47.8 57.0h0.9v0.9h-0.9zM41.9 57.7h0.9v0.9h-0.9zM39.2 56.7h0.9v0.9h-0.9zM42.0 60.6h0.9v0.9h-0.9zM40.6 58.7h0.9v0.9h-0.9zM31.2 64.9h0.9v0.9h-0.9zM51.0 68.3h0.9v0.9h-0.9zM39.8 68.4h0.9v0.9h-0.9zM46.2 62.7h0.9v0.9h-0.9zM30.3 69.7h0.9v0.9h-0.9zM36.4 72.5h0.9v0.9h-0.9zM46.9 63.9h0.9v0.9h-0.9zM24.3 74.4h0.9v0.9h-0.9zM41.5 53.8h0.9v0.9h-0.9zM46.8 60.3h0.9v0.9h-0.9zM36.9 59.7h0.9v0.9h-0.9zM32.0 63.9h0.9v0.9h-0.9zM61.5 54.3h0.9v0.9h-0.9zM39.8 58.8h0.9v0.9h-0.9zM34.4 62.0h0.9v0.9h-0.9zM36.2 70.6h0.9v0.9h-0.9zM40.4 68.6h0.9v0.9h-0.9zM34.5 71.7h0.9v0.9h-0.9zM41.5 66.7h0.9v0.9h-0.9zM37.0 58.5h0.9v0.9h-0.9zM47.1 56.8h0.9v0.9h-0.9zM36.8 58.7h0.9v0.9h-0.9zM40.4 60.2h0.9v0.9h-0.9zM42.8 64.0h0.9v0.9h-0.9zM31.7 57.5h0.9v0.9h-0.9zM45.3 66.6h0.9v0.9h-0.9zM41.8 54.6h0.9v0.9h-0.9zM45.1 63.2h0.9v0.9h-0.9zM43.0 64.4h0.9v0.9h-0.9zM38.3 65.2h0.9v0.9h-0.9zM45.0 57.3h0.9v0.9h-0.9zM29.9 67.0h0.9v0.9h-0.9zM36.7 52.3h0.9v0.9h-0.9zM36.9 68.3h0.9v0.9h-0.9zM39.2 64.0h0.9v0.9h-0.9zM33.7 71.9h0.9v0.9h-0.9zM51.4 56.4h0.9v0.9h-0.9zM32.1 59.0h0.9v0.9h-0.9zM46.3 60.7h0.9v0.9h-0.9zM37.7 72.1h0.9v0.9h-0.9zM46.7 63.9h0.9v0.9h-0.9zM27.8 68.0h0.9v0.9h-0.9zM41.1 54.4h0.9v0.9h-0.9zM49.9 67.8h0.9v0.9h-0.9zM45.2 55.8h0.9v0.9h-0.9zM37.6 70.4h0.9v0.9h-0.9zM49.9 66.5h0.9v0.9h-0.9zM47.9 58.7h0.9v0.9h-0.9zM32.5 54.2h0.9v0.9h-0.9zM51.1 72.9h0.9v0.9h-0.9zM35.6 61.9h0.9v0.9h-0.9zM45.4 63.0h0.9v0.9h-0.9zM28.9 63.5h0.9v0.9h-0.9zM37.3 69.9h0.9v0.9h-0.9zM57.8 67.2h0.9v0.9h-0.9zM53.8 67.3h0.9v0.9h-0.9zM30.7 65.0h0.9v0.9h-0.9zM34.3 63.7h0.9v0.9h-0.9zM53.6 45.6h0.9v0.9h-0.9zM40.7 54.5h0.9v0.9h-0.9zM52.4 65.8h0.9v0.9h-0.9zM41.8 75.9h0.9v0.9h-0.9zM43.8 69.9h0.9v0.9h-0.9zM40.7 59.0h0.9v0.9h-0.9zM37.1 63.6h0.9v0.9h-0.9zM44.5 61.7h0.9v0.9h-0.9zM55.6 54.5h0.9v0.9h-0.9zM35.0 60.6h0.9v0.9h-0.9zM31.1 57.6h0.9v0.9h-0.9zM35.6 71.1h0.9v0.9h-0.9zM40.0 61.9h0.9v0.9h-0.9zM45.1 67.7h0.9v0.9h-0.9zM46.1 65.3h0.9v0.9h-0.9zM35.5 63.4h0.9v0.9h-0.9zM34.5 64.9h0.9v0.9h-0.9zM33.5 63.6h0.9v0.9h-0.9zM38.3 62.4h0.9v0.9h-0.9zM36.9 61.2h0.9v0.9h-0.9zM48.0 57.0h0.9v0.9h-0.9zM33.6 67.3h0.9v0.9h-0.9zM29.9 60.6h0.9v0.9h-0.9zM36.3 53.7h0.9v0.9h-0.9zM42.8 50.6h0.9v0.9h-0.9zM35.4 69.0h0.9v0.9h-0.9zM24.3 64.5h0.9v0.9h-0.9zM31.3 65.7h0.9v0.9h-0.9zM28.9 74.1h0.9v0.9h-0.9zM39.8 65.1h0.9v0.9h-0.9zM32.4 52.5h0.9v0.9h-0.9zM35.6 56.2h0.9v0.9h-0.9zM37.9 58.3h0.9v0.9h-0.9zM37.3 62.9h0.9v0.9h-0.9zM47.2 64.7h0.9v0.9h-0.9zM33.1 66.1h0.9v0.9h-0.9zM51.2 61.1h0.9v0.9h-0.9zM34.7 64.7h0.9v0.9h-0.9zM40.0 69.2h0.9v0.9h-0.9zM41.2 64.9h0.9v0.9h-0.9zM51.5 48.5h0.9v0.9h-0.9zM28.7 56.8h0.9v0.9h-0.9zM31.3 72.7h0.9v0.9h-0.9zM46.1 70.9h0.9v0.9h-0.9zM24.3 64.5h0.9v0.9h-0.9zM52.4 64.0h0.9v0.9h-0.9zM48.2 64.9h0.9v0.9h-0.9zM40.2 62.8h0.9v0.9h-0.9zM42.4 67.5h0.9v0.9h-0.9zM39.7 65.3h0.9v0.9h-0.9zM47.0 52.3h0.9v0.9h-0.9zM36.3 68.4h0.9v0.9h-0.9zM37.8 63.0h0.9v0.9h-0.9zM55.3 58.6h0.9v0.9h-0.9zM39.9 70.3h0.9v0.9h-0.9zM54.3 49.0h0.9v0.9h-0.9zM35.7 65.8h0.9v0.9h-0.9zM42.6 59.2h0.9v0.9h-0.9zM41.3 57.1h0.9v0.9h-0.9zM36.2 65.5h0.9v0.9h-0.9zM50.5 43.2h0.9v0.9h-0.9zM46.3 69.0h0.9v0.9h-0.9zM49.9 71.1h0.9v0.9h-0.9zM43.4 62.4h0.9v0.9h-0.9zM36.9 58.8h0.9v0.9h-0.9zM48.1 51.4h0.9v0.9h-0.9zM37.8 60.5h0.9v0.9h-0.9zM29.0 53.4h0.9v0.9h-0.9zM37.8 65.0h0.9v0.9h-0.9zM43.1 67.1h0.9v0.9h-0.9zM37.3 60.0h0.9v0.9h-0.9zM43.8 65.6h0.9v0.9h-0.9zM30.0 57.6h0.9v0.9h-0.9zM35.7 72.0h0.9v0.9h-0.9zM44.5 55.0h0.9v0.9h-0.9zM42.9 67.2h0.9v0.9h-0.9zM47.4 55.2h0.9v0.9h-0.9zM41.9 71.4h0.9v0.9h-0.9zM60.3 63.7h0.9v0.9h-0.9zM33.4 69.1h0.9v0.9h-0.9zM37.8 63.6h0.9v0.9h-0.9zM34.3 62.5h0.9v0.9h-0.9zM44.5 72.8h0.9v0.9h-0.9zM45.8 63.1h0.9v0.9h-0.9zM38.3 58.8h0.9v0.9h-0.9zM41.6 70.5h0.9v0.9h-0.9zM50.6 71.0h0.9v0.9h-0.9zM41.7 62.1h0.9v0.9h-0.9zM30.0 70.3h0.9v0.9h-0.9zM35.7 65.0h0.9v0.9h-0.9zM29.6 64.6h0.9v0.9h-0.9zM36.5 72.1h0.9v0.9h-0.9zM38.7 55.8h0.9v0.9h-0.9zM26.7 68.7h0.9v0.9h-0.9zM33.9 58.5h0.9v0.9h-0.9zM43.5 60.1h0.9v0.9h-0.9zM39.3 59.4h0.9v0.9h-0.9zM35.0 62.3h0.9v0.9h-0.9zM30.7 71.5h0.9v0.9h-0.9zM38.4 52.4h0.9v0.9h-0.9zM43.6 69.0h0.9v0.9h-0.9zM44.9 69.3h0.9v0.9h-0.9zM38.2 63.9h0.9v0.9h-0.9zM28.9 62.2h0.9v0.9h-0.9zM25.3 63.9h0.9v0.9h-0.9zM43.0 65.0h0.9v0.9h-0.9zM48.2 60.0h0.9v0.9h-0.9zM34.4 68.5h0.9v0.9h-0.9zM43.5 73.2h0.9v0.9h-0.9zM55.7 62.0h0.9v0.9h-0.9zM30.9 63.7h0.9v0.9h-0.9zM39.5 58.5h0.9v0.9h-0.9zM45.3 65.1h0.9v0.9h-0.9zM46.3 61.6h0.9v0.9h-0.9zM31.9 61.2h0.9v0.9h-0.9zM42.5 70.6h0.9v0.9h-0.9zM53.2 63.3h0.9v0.9h-0.9zM44.2 65.5h0.9v0.9h-0.9zM48.9 67.4h0.9v0.9h-0.9zM41.9 51.9h0.9v0.9h-0.9zM47.5 62.1h0.9v0.9h-0.9zM38.2 67.3h0.9v0.9h-0.9zM41.8 61.8h0.9v0.9h-0.9zM28.8 69.0h0.9v0.9h-0.9zM43.7 61.0h0.9v0.9h-0.9zM30.4 70.5h0.9v0.9h-0.9zM45.3 61.7h0.9v0.9h-0.9zM42.0 59.7h0.9v0.9h-0.9zM36.9 67.9h0.9v0.9h-0.9zM38.1 65.1h0.9v0.9h-0.9zM63.9 56.6h0.9v0.9h-0.9zM36.8 53.8h0.9v0.9h-0.9zM42.6 66.8h0.9v0.9h-0.9zM34.6 63.9h0.9v0.9h-0.9zM26.1 73.2h0.9v0.9h-0.9zM37.7 68.6h0.9v0.9h-0.9zM48.9 57.8h0.9v0.9h-0.9zM47.3 61.2h0.9v0.9h-0.9zM37.9 62.1h0.9v0.9h-0.9zM37.5 72.7h0.9v0.9h-0.9zM43.4 54.7h0.9v0.9h-0.9zM43.9 56.4h0.9v0.9h-0.9zM32.8 74.3h0.9v0.9h-0.9zM34.3 73.5h0.9v0.9h-0.9zM43.6 67.3h0.9v0.9h-0.9zM46.4 67.7h0.9v0.9h-0.9zM43.8 65.0h0.9v0.9h-0.9zM44.5 68.2h0.9v0.9h-0.9zM39.9 69.8h0.9v0.9h-0.9zM50.1 57.9h0.9v0.9h-0.9zM41.7 58.8h0.9v0.9h-0.9zM38.7 65.3h0.9v0.9h-0.9zM35.4 59.3h0.9v0.9h-0.9zM40.3 64.1h0.9v0.9h-0.9zM44.0 65.8h0.9v0.9h-0.9zM36.9 59.3h0.9v0.9h-0.9zM38.6 66.6h0.9v0.9h-0.9zM45.0 58.2h0.9v0.9h-0.9zM37.0 53.8h0.9v0.9h-0.9zM40.9 61.9h0.9v0.9h-0.9zM39.3 69.2h0.9v0.9h-0.9zM54.8 62.9h0.9v0.9h-0.9zM38.6 73.8h0.9v0.9h-0.9zM37.6 63.8h0.9v0.9h-0.9zM37.2 67.3h0.9v0.9h-0.9zM44.1 62.0h0.9v0.9h-0.9zM38.2 62.9h0.9v0.9h-0.9zM39.7 69.6h0.9v0.9h-0.9zM36.1 63.8h0.9v0.9h-0.9zM36.7 59.6h0.9v0.9h-0.9zM34.7 55.8h0.9v0.9h-0.9zM44.1 64.6h0.9v0.9h-0.9zM41.9 72.4h0.9v0.9h-0.9zM35.8 68.6h0.9v0.9h-0.9zM41.9 58.6h0.9v0.9h-0.9zM40.6 68.6h0.9v0.9h-0.9zM41.1 64.3h0.9v0.9h-0.9zM50.0 59.8h0.9v0.9h-0.9zM26.8 64.3h0.9v0.9h-0.9zM45.3 59.7h0.9v0.9h-0.9zM27.7 55.7h0.9v0.9h-0.9zM46.0 70.1h0.9v0.9h-0.9zM26.1 55.2h0.9v0.9h-0.9zM42.0 58.5h0.9v0.9h-0.9zM37.2 62.2h0.9v0.9h-0.9zM35.0 68.2h0.9v0.9h-0.9zM47.1 62.1h0.9v0.9h-0.9zM38.9 70.4h0.9v0.9h-0.9zM40.7 66.5h0.9v0.9h-0.9zM35.3 69.5h0.9v0.9h-0.9zM48.3 67.6h0.9v0.9h-0.9zM41.3 65.3h0.9v0.9h-0.9zM38.3 69.6h0.9v0.9h-0.9zM48.0 66.4h0.9v0.9h-0.9zM34.3 57.6h0.9v0.9h-0.9zM39.0 62.1h0.9v0.9h-0.9zM36.5 68.6h0.9v0.9h-0.9zM47.4 62.2h0.9v0.9h-0.9zM48.5 61.6h0.9v0.9h-0.9zM32.0 62.9h0.9v0.9h-0.9zM39.3 67.8h0.9v0.9h-0.9zM46.6 60.8h0.9v0.9h-0.9zM44.8 55.4h0.9v0.9h-0.9zM43.0 71.4h0.9v0.9h-0.9zM45.6 67.2h0.9v0.9h-0.9zM23.2 59.9h0.9v0.9h-0.9zM36.7 71.1h0.9v0.9h-0.9zM49.4 54.6h0.9v0.9h-0.9zM30.9 60.6h0.9v0.9h-0.9zM35.4 68.8h0.9v0.9h-0.9zM42.6 74.1h0.9v0.9h-0.9zM43.1 57.1h0.9v0.9h-0.9zM41.2 61.4h0.9v0.9h-0.9zM47.6 65.4h0.9v0.9h-0.9zM39.9 68.9h0.9v0.9h-0.9zM43.6 60.8h0.9v0.9h-0.9zM43.4 65.9h0.9v0.9h-0.9zM36.2 60.4h0.9v0.9h-0.9zM48.5 59.1h0.9v0.9h-0.9zM37.2 67.3h0.9v0.9h-0.9zM30.3 67.9h0.9v0.9h-0.9zM29.9 65.0h0.9v0.9h-0.9zM26.3 64.7h0.9v0.9h-0.9zM45.6 59.2h0.9v0.9h-0.9zM36.3 76.1h0.9v0.9h-0.9zM39.5 72.9h0.9v0.9h-0.9zM32.9 56.8h0.9v0.9h-0.9zM51.3 55.0h0.9v0.9h-0.9zM48.1 67.0h0.9v0.9h-0.9zM31.5 67.5h0.9v0.9h-0.9zM37.7 68.0h0.9v0.9h-0.9zM36.8 56.3h0.9v0.9h-0.9zM42.3 66.9h0.9v0.9h-0.9zM39.5 66.9h0.9v0.9h-0.9zM36.4 64.4h0.9v0.9h-0.9zM42.7 62.7h0.9v0.9h-0.9zM50.9 64.1h0.9v0.9h-0.9zM47.5 64.2h0.9v0.9h-0.9zM38.2 56.3h0.9v0.9h-0.9zM51.5 69.0h0.9v0.9h-0.9zM40.9 61.0h0.9v0.9h-0.9zM42.8 69.6h0.9v0.9h-0.9zM39.5 56.9h0.9v0.9h-0.9zM37.0 59.5h0.9v0.9h-0.9zM36.5 58.9h0.9v0.9h-0.9zM37.9 73.6h0.9v0.9h-0.9zM43.0 51.2h0.9v0.9h-0.9zM32.4 63.7h0.9v0.9h-0.9zM34.0 56.9h0.9v0.9h-0.9zM42.0 51.7h0.9v0.9h-0.9zM46.4 64.6h0.9v0.9h-0.9zM36.0 60.7h0.9v0.9h-0.9zM40.8 63.6h0.9v0.9h-0.9zM23.0 62.9h0.9v0.9h-0.9zM43.3 60.8h0.9v0.9h-0.9zM34.8 59.0h0.9v0.9h-0.9zM33.5 61.1h0.9v0.9h-0.9zM55.5 47.7h0.9v0.9h-0.9zM51.5 60.8h0.9v0.9h-0.9zM42.0 63.4h0.9v0.9h-0.9zM41.5 72.7h0.9v0.9h-0.9zM43.4 61.3h0.9v0.9h-0.9zM39.8 64.5h0.9v0.9h-0.9zM31.7 64.9h0.9v0.9h-0.9zM37.5 68.2h0.9v0.9h-0.9zM39.4 51.2h0.9v0.9h-0.9zM41.0 69.0h0.9v0.9h-0.9zM28.5 60.7h0.9v0.9h-0.9zM46.4 59.2h0.9v0.9h-0.9zM34.1 58.0h0.9v0.9h-0.9zM39.8 59.5h0.9v0.9h-0.9zM42.5 64.6h0.9v0.9h-0.9zM43.9 59.1h0.9v0.9h-0.9zM36.7 64.8h0.9v0.9h-0.9zM39.8 64.2h0.9v0.9h-0.9zM36.0 63.4h0.9v0.9h-0.9zM34.7 61.7h0.9v0.9h-0.9zM44.0 68.7h0.9v0.9h-0.9zM38.0 67.8h0.9v0.9h-0.9zM42.6 62.5h0.9v0.9h-0.9zM43.2 57.9h0.9v0.9h-0.9zM44.6 62.9h0.9v0.9h-0.9zM48.9 71.6h0.9v0.9h-0.9zM33.3 66.8h0.9v0.9h-0.9zM40.0 56.8h0.9v0.9h-0.9zM49.2 61.7h0.9v0.9h-0.9zM31.8 59.1h0.9v0.9h-0.9zM48.3 43.1h0.9v0.9h-0.9zM29.6 72.2h0.9v0.9h-0.9zM37.8 60.0h0.9v0.9h-0.9zM44.3 61.7h0.9v0.9h-0.9zM42.6 63.5h0.9v0.9h-0.9zM36.1 73.4h0.9v0.9h-0.9zM39.8 70.5h0.9v0.9h-0.9zM44.8 61.1h0.9v0.9h-0.9zM40.9 62.3h0.9v0.9h-0.9zM27.0 67.0h0.9v0.9h-0.9zM38.9 53.1h0.9v0.9h-0.9zM32.8 73.4h0.9v0.9h-0.9zM41.6 52.3h0.9v0.9h-0.9zM43.0 61.3h0.9v0.9h-0.9zM45.8 58.2h0.9v0.9h-0.9zM36.7 59.7h0.9v0.9h-0.9zM41.0 61.8h0.9v0.9h-0.9zM34.8 63.2h0.9v0.9h-0.9zM36.6 68.7h0.9v0.9h-0.9zM29.3 57.9h0.9v0.9h-0.9zM36.3 71.8h0.9v0.9h-0.9zM38.3 68.1h0.9v0.9h-0.9zM43.7 58.0h0.9v0.9h-0.9zM46.4 63.4h0.9v0.9h-0.9zM38.0 59.4h0.9v0.9h-0.9zM36.5 56.3h0.9v0.9h-0.9zM36.8 60.8h0.9v0.9h-0.9zM43.8 63.5h0.9v0.9h-0.9zM37.9 69.6h0.9v0.9h-0.9zM48.2 59.6h0.9v0.9h-0.9zM36.4 68.0h0.9v0.9h-0.9zM22.2 67.5h0.9v0.9h-0.9zM49.0 71.9h0.9v0.9h-0.9zM38.9 73.5h0.9v0.9h-0.9zM60.4 65.8h0.9v0.9h-0.9zM43.9 67.9h0.9v0.9h-0.9zM37.3 60.3h0.9v0.9h-0.9zM42.3 71.8h0.9v0.9h-0.9zM45.0 58.8h0.9v0.9h-0.9zM44.8 66.5h0.9v0.9h-0.9zM43.7 61.0h0.9v0.9h-0.9zM33.8 61.1h0.9v0.9h-0.9zM35.7 61.4h0.9v0.9h-0.9zM25.9 60.3h0.9v0.9h-0.9zM43.1 54.2h0.9v0.9h-0.9zM31.1 66.9h0.9v0.9h-0.9zM52.9 65.3h0.9v0.9h-0.9zM34.7 58.7h0.9v0.9h-0.9zM34.1 59.8h0.9v0.9h-0.9zM37.5 67.3h0.9v0.9h-0.9zM30.9 62.1h0.9v0.9h-0.9zM38.2 63.7h0.9v0.9h-0.9zM32.9 61.2h0.9v0.9h-0.9zM30.5 62.5h0.9v0.9h-0.9zM42.9 60.0h0.9v0.9h-0.9zM20.6 76.1h0.9v0.9h-0.9zM37.4 58.5h0.9v0.9h-0.9zM30.7 47.5h0.9v0.9h-0.9zM31.8 74.5h0.9v0.9h-0.9zM59.9 68.1h0.9v0.9h-0.9zM35.1 65.5h0.9v0.9h-0.9zM42.2 53.9h0.9v0.9h-0.9zM50.0 53.6h0.9v0.9h-0.9zM39.5 55.7h0.9v0.9h-0.9zM42.4 61.8h0.9v0.9h-0.9zM44.4 53.3h0.9v0.9h-0.9zM44.5 72.9h0.9v0.9h-0.9zM32.8 68.7h0.9v0.9h-0.9zM41.7 58.9h0.9v0.9h-0.9zM41.8 71.5h0.9v0.9h-0.9zM49.2 62.5h0.9v0.9h-0.9zM39.0 56.0h0.9v0.9h-0.9zM45.2 72.5h0.9v0.9h-0.9zM43.7 52.3h0.9v0.9h-0.9zM24.3 66.0h0.9v0.9h-0.9zM39.7 59.5h0.9v0.9h-0.9zM38.8 65.8h0.9v0.9h-0.9zM46.6 61.3h0.9v0.9h-0.9zM44.9 51.3h0.9v0.9h-0.9zM44.3 63.8h0.9v0.9h-0.9zM33.1 74.5h0.9v0.9h-0.9zM25.5 60.2h0.9v0.9h-0.9zM61.5 61.6h0.9v0.9h-0.9zM46.0 69.2h0.9v0.9h-0.9zM45.0 53.2h0.9v0.9h-0.9zM46.9 69.1h0.9v0.9h-0.9zM39.1 63.9h0.9v0.9h-0.9zM38.7 68.5h0.9v0.9h-0.9zM34.7 61.6h0.9v0.9h-0.9zM29.3 61.8h0.9v0.9h-0.9zM42.7 64.9h0.9v0.9h-0.9zM34.7 58.5h0.9v0.9h-0.9zM43.2 63.9h0.9v0.9h-0.9zM47.4 56.2h0.9v0.9h-0.9zM38.5 67.1h0.9v0.9h-0.9zM50.3 57.9h0.9v0.9h-0.9zM37.1 58.1h0.9v0.9h-0.9zM39.8 69.4h0.9v0.9h-0.9zM48.7 66.4h0.9v0.9h-0.9zM30.9 72.8h0.9v0.9h-0.9zM35.2 69.2h0.9v0.9h-0.9zM23.6 70.0h0.9v0.9h-0.9zM37.2 72.8h0.9v0.9h-0.9zM44.2 69.7h0.9v0.9h-0.9zM42.0 75.2h0.9v0.9h-0.9zM41.8 74.8h0.9v0.9h-0.9zM34.2 59.2h0.9v0.9h-0.9zM45.1 57.9h0.9v0.9h-0.9zM36.2 55.8h0.9v0.9h-0.9zM37.9 64.7h0.9v0.9h-0.9zM36.2 67.4h0.9v0.9h-0.9zM26.5 75.2h0.9v0.9h-0.9zM41.0 72.4h0.9v0.9h-0.9zM35.9 60.5h0.9v0.9h-0.9zM37.6 66.0h0.9v0.9h-0.9zM42.9 58.6h0.9v0.9h-0.9zM35.7 67.9h0.9v0.9h-0.9zM41.2 50.8h0.9v0.9h-0.9zM31.1 62.7h0.9v0.9h-0.9zM54.9 64.3h0.9v0.9h-0.9zM46.8 63.2h0.9v0.9h-0.9zM35.2 72.8h0.9v0.9h-0.9zM34.9 60.1h0.9v0.9h-0.9zM49.6 48.8h0.9v0.9h-0.9zM50.0 59.7h0.9v0.9h-0.9zM34.1 66.9h0.9v0.9h-0.9zM34.7 66.7h0.9v0.9h-0.9zM32.5 58.5h0.9v0.9h-0.9zM57.0 51.7h0.9v0.9h-0.9zM46.7 59.6h0.9v0.9h-0.9zM41.4 53.9h0.9v0.9h-0.9zM24.4 48.3h0.9v0.9h-0.9zM48.1 62.2h0.9v0.9h-0.9zM34.1 71.4h0.9v0.9h-0.9zM44.0 67.3h0.9v0.9h-0.9zM46.2 65.3h0.9v0.9h-0.9zM38.8 60.8h0.9v0.9h-0.9zM48.1 67.5h0.9v0.9h-0.9zM29.1 60.5h0.9v0.9h-0.9zM44.4 73.1h0.9v0.9h-0.9zM34.2 54.3h0.9v0.9h-0.9zM47.5 64.6h0.9v0.9h-0.9zM53.9 57.8h0.9v0.9h-0.9zM51.7 52.7h0.9v0.9h-0.9zM46.6 60.9h0.9v0.9h-0.9zM31.1 65.3h0.9v0.9h-0.9zM52.1 64.9h0.9v0.9h-0.9zM40.3 70.3h0.9v0.9h-0.9zM48.6 65.1h0.9v0.9h-0.9zM42.8 63.8h0.9v0.9h-0.9zM34.2 65.3h0.9v0.9h-0.9zM39.0 58.6h0.9v0.9h-0.9zM38.5 64.8h0.9v0.9h-0.9zM44.2 68.1h0.9v0.9h-0.9zM32.0 64.1h0.9v0.9h-0.9zM40.9 60.1h0.9v0.9h-0.9zM41.1 59.4h0.9v0.9h-0.9zM47.6 58.0h0.9v0.9h-0.9zM34.2 70.8h0.9v0.9h-0.9zM46.6 47.1h0.9v0.9h-0.9zM39.3 63.8h0.9v0.9h-0.9zM51.0 67.9h0.9v0.9h-0.9zM35.0 54.9h0.9v0.9h-0.9zM47.2 66.4h0.9v0.9h-0.9zM43.5 62.0h0.9v0.9h-0.9zM27.9 58.6h0.9v0.9h-0.9zM47.5 61.5h0.9v0.9h-0.9zM45.6 62.8h0.9v0.9h-0.9zM55.3 65.4h0.9v0.9h-0.9zM38.8 70.3h0.9v0.9h-0.9zM27.6 57.4h0.9v0.9h-0.9zM47.2 56.8h0.9v0.9h-0.9zM25.3 69.8h0.9v0.9h-0.9zM36.8 67.9h0.9v0.9h-0.9zM37.7 59.0h0.9v0.9h-0.9zM37.1 69.5h0.9v0.9h-0.9zM34.0 66.7h0.9v0.9h-0.9zM34.4 68.7h0.9v0.9h-0.9zM53.8 60.4h0.9v0.9h-0.9zM48.9 61.9h0.9v0.9h-0.9zM32.7 64.4h0.9v0.9h-0.9zM41.7 65.2h0.9v0.9h-0.9zM37.5 68.3h0.9v0.9h-0.9zM35.3 65.7h0.9v0.9h-0.9zM37.0 56.7h0.9v0.9h-0.9zM47.1 60.1h0.9v0.9h-0.9zM40.7 62.5h0.9v0.9h-0.9zM22.0 62.1h0.9v0.9h-0.9zM36.5 71.3h0.9v0.9h-0.9zM37.7 68.2h0.9v0.9h-0.9zM30.8 61.7h0.9v0.9h-0.9zM39.6 70.3h0.9v0.9h-0.9zM28.2 67.4h0.9v0.9h-0.9zM43.2 62.5h0.9v0.9h-0.9zM41.9 67.3h0.9v0.9h-0.9zM39.5 56.6h0.9v0.9h-0.9zM42.4 56.7h0.9v0.9h-0.9zM41.4 72.1h0.9v0.9h-0.9zM60.5 63.2h0.9v0.9h-0.9zM41.0 57.4h0.9v0.9h-0.9zM39.1 74.6h0.9v0.9h-0.9zM38.8 54.3h0.9v0.9h-0.9zM52.3 61.2h0.9v0.9h-0.9zM50.1 61.0h0.9v0.9h-0.9zM23.4 65.9h0.9v0.9h-0.9zM38.7 62.5h0.9v0.9h-0.9zM48.7 54.5h0.9v0.9h-0.9zM39.2 63.0h0.9v0.9h-0.9zM36.8 57.6h0.9v0.9h-0.9zM25.1 52.8h0.9v0.9h-0.9zM41.8 60.8h0.9v0.9h-0.9zM38.8 56.6h0.9v0.9h-0.9zM37.6 57.7h0.9v0.9h-0.9zM34.0 68.1h0.9v0.9h-0.9zM45.9 64.2h0.9v0.9h-0.9zM38.8 61.0h0.9v0.9h-0.9zM52.8 65.4h0.9v0.9h-0.9zM32.9 59.1h0.9v0.9h-0.9zM43.4 63.6h0.9v0.9h-0.9zM23.6 65.1h0.9v0.9h-0.9zM44.2 67.7h0.9v0.9h-0.9zM26.2 66.6h0.9v0.9h-0.9zM53.5 66.1h0.9v0.9h-0.9zM38.4 64.0h0.9v0.9h-0.9zM35.0 68.0h0.9v0.9h-0.9zM27.7 55.2h0.9v0.9h-0.9zM29.8 68.2h0.9v0.9h-0.9zM33.8 73.3h0.9v0.9h-0.9zM51.4 64.4h0.9v0.9h-0.9zM47.4 67.1h0.9v0.9h-0.9zM44.1 66.9h0.9v0.9h-0.9zM45.3 65.8h0.9v0.9h-0.9zM31.4 62.6h0.9v0.9h-0.9zM35.3 70.7h0.9v0.9h-0.9zM41.5 57.1h0.9v0.9h-0.9zM31.8 63.0h0.9v0.9h-0.9zM45.7 59.6h0.9v0.9h-0.9zM36.6 60.0h0.9v0.9h-0.9zM43.3 72.1h0.9v0.9h-0.9zM34.4 63.3h0.9v0.9h-0.9zM53.5 61.5h0.9v0.9h-0.9zM35.0 72.6h0.9v0.9h-0.9zM32.8 70.1h0.9v0.9h-0.9zM20.2 65.6h0.9v0.9h-0.9zM44.8 56.8h0.9v0.9h-0.9zM35.2 65.6h0.9v0.9h-0.9zM38.9 60.4h0.9v0.9h-0.9zM40.0 75.0h0.9v0.9h-0.9zM51.1 60.1h0.9v0.9h-0.9zM30.8 63.8h0.9v0.9h-0.9zM39.3 66.6h0.9v0.9h-0.9zM49.7 55.1h0.9v0.9h-0.9zM40.0 60.2h0.9v0.9h-0.9zM39.3 58.8h0.9v0.9h-0.9zM45.6 68.2h0.9v0.9h-0.9zM36.5 62.5h0.9v0.9h-0.9zM37.5 55.5h0.9v0.9h-0.9zM49.0 49.9h0.9v0.9h-0.9zM35.4 59.3h0.9v0.9h-0.9zM49.1 55.6h0.9v0.9h-0.9zM41.4 75.0h0.9v0.9h-0.9zM37.3 59.1h0.9v0.9h-0.9zM40.5 64.1h0.9v0.9h-0.9zM34.5 64.4h0.9v0.9h-0.9zM40.5 67.6h0.9v0.9h-0.9zM47.5 65.1h0.9v0.9h-0.9zM41.3 67.8h0.9v0.9h-0.9zM41.6 70.0h0.9v0.9h-0.9zM41.8 59.4h0.9v0.9h-0.9zM44.6 50.8h0.9v0.9h-0.9zM31.4 61.7h0.9v0.9h-0.9zM36.0 56.7h0.9v0.9h-0.9zM27.0 56.5h0.9v0.9h-0.9zM38.9 58.4h0.9v0.9h-0.9zM57.0 60.3h0.9v0.9h-0.9zM35.6 73.9h0.9v0.9h-0.9zM43.5 68.6h0.9v0.9h-0.9zM35.4 72.9h0.9v0.9h-0.9zM46.5 57.2h0.9v0.9h-0.9zM33.3 63.7h0.9v0.9h-0.9zM48.0 75.4h0.9v0.9h-0.9zM56.3 65.5h0.9v0.9h-0.9zM37.7 61.9h0.9v0.9h-0.9zM41.9 60.3h0.9v0.9h-0.9zM36.3 63.4h0.9v0.9h-0.9zM45.7 60.0h0.9v0.9h-0.9zM41.0 60.8h0.9v0.9h-0.9zM37.9 61.8h0.9v0.9h-0.9zM49.3 60.3h0.9v0.9h-0.9zM49.9 57.3h0.9v0.9h-0.9zM43.8 52.1h0.9v0.9h-0.9zM37.2 64.0h0.9v0.9h-0.9zM35.4 64.4h0.9v0.9h-0.9zM33.3 65.1h0.9v0.9h-0.9zM35.5 65.1h0.9v0.9h-0.9zM35.5 58.5h0.9v0.9h-0.9zM37.3 64.5h0.9v0.9h-0.9zM31.6 67.6h0.9v0.9h-0.9zM48.0 57.8h0.9v0.9h-0.9zM45.4 64.7h0.9v0.9h-0.9zM38.0 72.8h0.9v0.9h-0.9zM54.6 49.4h0.9v0.9h-0.9zM52.9 52.3h0.9v0.9h-0.9zM45.4 48.5h0.9v0.9h-0.9zM48.2 60.2h0.9v0.9h-0.9zM29.2 62.6h0.9v0.9h-0.9zM30.6 61.4h0.9v0.9h-0.9zM42.2 60.8h0.9v0.9h-0.9zM22.1 69.3h0.9v0.9h-0.9zM43.5 62.0h0.9v0.9h-0.9zM46.9 47.6h0.9v0.9h-0.9zM41.8 62.4h0.9v0.9h-0.9zM41.6 53.4h0.9v0.9h-0.9zM30.7 66.3h0.9v0.9h-0.9zM36.0 52.9h0.9v0.9h-0.9zM42.6 61.8h0.9v0.9h-0.9zM38.4 46.4h0.9v0.9h-0.9zM41.2 56.6h0.9v0.9h-0.9zM38.8 68.8h0.9v0.9h-0.9zM52.0 58.5h0.9v0.9h-0.9zM42.7 70.5h0.9v0.9h-0.9zM33.6 65.0h0.9v0.9h-0.9zM34.1 59.3h0.9v0.9h-0.9zM46.6 73.5h0.9v0.9h-0.9zM43.0 65.0h0.9v0.9h-0.9zM42.7 69.3h0.9v0.9h-0.9zM39.1 57.6h0.9v0.9h-0.9zM44.4 70.6h0.9v0.9h-0.9zM42.5 69.8h0.9v0.9h-0.9zM44.8 74.3h0.9v0.9h-0.9zM43.7 65.7h0.9v0.9h-0.9zM40.2 68.5h0.9v0.9h-0.9zM34.7 55.6h0.9v0.9h-0.9zM39.1 55.4h0.9v0.9h-0.9zM52.2 62.6h0.9v0.9h-0.9zM41.9 66.7h0.9v0.9h-0.9zM37.3 68.8h0.9v0.9h-0.9zM53.5 46.0h0.9v0.9h-0.9zM38.1 66.2h0.9v0.9h-0.9zM38.6 52.4h0.9v0.9h-0.9zM37.5 74.1h0.9v0.9h-0.9zM37.4 68.0h0.9v0.9h-0.9zM28.4 62.4h0.9v0.9h-0.9zM28.3 70.3h0.9v0.9h-0.9zM48.2 59.8h0.9v0.9h-0.9zM38.8 65.2h0.9v0.9h-0.9zM42.5 59.9h0.9v0.9h-0.9zM48.8 71.9h0.9v0.9h-0.9zM53.8 52.8h0.9v0.9h-0.9zM49.9 66.5h0.9v0.9h-0.9zM43.6 59.9h0.9v0.9h-0.9zM49.6 66.0h0.9v0.9h-0.9zM45.3 53.3h0.9v0.9h-0.9zM46.2 57.8h0.9v0.9h-0.9zM38.5 66.1h0.9v0.9h-0.9zM44.6 62.7h0.9v0.9h-0.9zM39.4 65.0h0.9v0.9h-0.9zM40.0 66.9h0.9v0.9h-0.9zM48.1 64.9h0.9v0.9h-0.9zM30.7 65.2h0.9v0.9h-0.9zM37.5 56.1h0.9v0.9h-0.9zM42.3 61.0h0.9v0.9h-0.9zM41.5 64.9h0.9v0.9h-0.9zM39.8 73.5h0.9v0.9h-0.9zM66.0 38.5h0.9v0.9h-0.9zM66.2 46.1h0.9v0.9h-0.9zM55.2 53.1h0.9v0.9h-0.9zM57.8 36.3h0.9v0.9h-0.9zM53.7 59.0h0.9v0.9h-0.9zM62.3 40.9h0.9v0.9h-0.9zM73.1 46.6h0.9v0.9h-0.9zM62.3 46.2h0.9v0.9h-0.9zM58.5 45.0h0.9v0.9h-0.9zM65.1 44.1h0.9v0.9h-0.9zM70.0 45.6h0.9v0.9h-0.9zM61.9 48.1h0.9v0.9h-0.9zM68.3 49.6h0.9v0.9h-0.9zM51.9 59.3h0.9v0.9h-0.9zM57.5 53.1h0.9v0.9h-0.9zM66.6 41.6h0.9v0.9h-0.9zM66.3 42.6h0.9v0.9h-0.9zM54.6 51.9h0.9v0.9h-0.9zM53.0 59.3h0.9v0.9h-0.9zM61.1 53.0h0.9v0.9h-0.9zM64.6 38.3h0.9v0.9h-0.9zM56.0 57.9h0.9v0.9h-0.9zM56.2 55.3h0.9v0.9h-0.9zM63.8 42.2h0.9v0.9h-0.9zM70.1 32.2h0.9v0.9h-0.9zM62.6 43.6h0.9v0.9h-0.9zM42.4 70.0h0.9v0.9h-0.9zM61.8 50.6h0.9v0.9h-0.9zM58.1 47.2h0.9v0.9h-0.9zM56.9 51.2h0.9v0.9h-0.9zM65.1 41.4h0.9v0.9h-0.9zM71.4 40.4h0.9v0.9h-0.9zM59.5 56.2h0.9v0.9h-0.9zM46.9 65.7h0.9v0.9h-0.9zM54.6 55.3h0.9v0.9h-0.9zM68.4 38.9h0.9v0.9h-0.9zM63.8 52.3h0.9v0.9h-0.9zM53.8 51.9h0.9v0.9h-0.9zM69.1 41.8h0.9v0.9h-0.9zM52.5 59.4h0.9v0.9h-0.9zM65.6 41.4h0.9v0.9h-0.9zM59.0 51.4h0.9v0.9h-0.9zM60.4 44.6h0.9v0.9h-0.9zM61.7 37.6h0.9v0.9h-0.9zM67.0 53.7h0.9v0.9h-0.9zM54.3 56.1h0.9v0.9h-0.9zM44.3 63.7h0.9v0.9h-0.9zM54.0 57.1h0.9v0.9h-0.9zM63.4 56.2h0.9v0.9h-0.9zM55.2 55.1h0.9v0.9h-0.9zM64.4 47.8h0.9v0.9h-0.9zM62.1 37.2h0.9v0.9h-0.9zM51.7 49.6h0.9v0.9h-0.9zM53.0 47.1h0.9v0.9h-0.9zM60.5 45.1h0.9v0.9h-0.9zM60.8 43.5h0.9v0.9h-0.9zM68.1 52.7h0.9v0.9h-0.9zM69.0 39.2h0.9v0.9h-0.9zM59.2 59.1h0.9v0.9h-0.9zM46.2 57.8h0.9v0.9h-0.9zM67.5 36.4h0.9v0.9h-0.9zM71.3 38.8h0.9v0.9h-0.9zM62.9 41.9h0.9v0.9h-0.9zM69.0 46.7h0.9v0.9h-0.9zM53.4 39.9h0.9v0.9h-0.9zM57.6 50.0h0.9v0.9h-0.9zM59.7 47.6h0.9v0.9h-0.9zM64.5 36.0h0.9v0.9h-0.9zM58.0 39.8h0.9v0.9h-0.9zM44.3 62.5h0.9v0.9h-0.9zM53.7 51.7h0.9v0.9h-0.9zM58.4 54.9h0.9v0.9h-0.9zM64.9 43.6h0.9v0.9h-0.9zM60.2 44.8h0.9v0.9h-0.9zM50.6 52.2h0.9v0.9h-0.9zM55.1 48.5h0.9v0.9h-0.9zM61.1 52.2h0.9v0.9h-0.9zM68.4 46.9h0.9v0.9h-0.9zM48.6 50.0h0.9v0.9h-0.9zM59.9 61.4h0.9v0.9h-0.9zM64.1 41.5h0.9v0.9h-0.9zM68.1 36.7h0.9v0.9h-0.9zM70.4 34.0h0.9v0.9h-0.9zM60.5 52.8h0.9v0.9h-0.9zM53.3 56.5h0.9v0.9h-0.9zM53.3 56.0h0.9v0.9h-0.9zM58.6 46.4h0.9v0.9h-0.9zM67.3 47.8h0.9v0.9h-0.9zM63.9 49.7h0.9v0.9h-0.9zM63.3 46.0h0.9v0.9h-0.9zM59.1 56.2h0.9v0.9h-0.9zM68.2 36.4h0.9v0.9h-0.9zM57.0 56.1h0.9v0.9h-0.9zM65.0 49.9h0.9v0.9h-0.9zM63.7 43.9h0.9v0.9h-0.9zM54.1 60.3h0.9v0.9h-0.9zM57.9 44.2h0.9v0.9h-0.9zM46.2 55.2h0.9v0.9h-0.9zM63.6 42.1h0.9v0.9h-0.9zM37.5 71.8h0.9v0.9h-0.9zM56.7 52.7h0.9v0.9h-0.9zM60.2 46.9h0.9v0.9h-0.9zM68.7 44.7h0.9v0.9h-0.9zM64.2 53.5h0.9v0.9h-0.9zM57.6 46.9h0.9v0.9h-0.9zM57.7 43.4h0.9v0.9h-0.9zM56.0 47.8h0.9v0.9h-0.9zM58.9 51.8h0.9v0.9h-0.9zM46.7 68.0h0.9v0.9h-0.9zM62.0 45.5h0.9v0.9h-0.9zM66.5 43.3h0.9v0.9h-0.9zM55.7 48.4h0.9v0.9h-0.9zM67.8 44.1h0.9v0.9h-0.9zM49.5 57.7h0.9v0.9h-0.9zM56.0 59.2h0.9v0.9h-0.9zM53.7 49.5h0.9v0.9h-0.9zM71.8 37.4h0.9v0.9h-0.9zM63.2 46.8h0.9v0.9h-0.9zM59.9 49.5h0.9v0.9h-0.9zM67.9 42.1h0.9v0.9h-0.9zM58.4 51.8h0.9v0.9h-0.9zM71.1 32.1h0.9v0.9h-0.9zM53.0 58.6h0.9v0.9h-0.9zM61.5 63.2h0.9v0.9h-0.9zM66.6 44.6h0.9v0.9h-0.9zM69.1 49.9h0.9v0.9h-0.9zM54.4 55.8h0.9v0.9h-0.9zM54.1 64.0h0.9v0.9h-0.9zM65.7 52.9h0.9v0.9h-0.9zM56.1 47.7h0.9v0.9h-0.9zM58.9 55.5h0.9v0.9h-0.9zM56.5 55.1h0.9v0.9h-0.9zM54.3 52.0h0.9v0.9h-0.9zM62.2 56.3h0.9v0.9h-0.9zM55.1 57.2h0.9v0.9h-0.9zM63.8 40.0h0.9v0.9h-0.9zM55.9 63.4h0.9v0.9h-0.9zM71.2 33.9h0.9v0.9h-0.9zM55.9 59.5h0.9v0.9h-0.9zM58.2 46.4h0.9v0.9h-0.9zM51.4 45.3h0.9v0.9h-0.9zM52.1 51.5h0.9v0.9h-0.9zM54.3 59.8h0.9v0.9h-0.9zM67.6 50.1h0.9v0.9h-0.9zM41.9 67.4h0.9v0.9h-0.9zM59.5 57.8h0.9v0.9h-0.9zM67.8 40.2h0.9v0.9h-0.9zM59.2 45.5h0.9v0.9h-0.9zM56.3 51.0h0.9v0.9h-0.9zM50.5 72.4h0.9v0.9h-0.9zM71.7 47.3h0.9v0.9h-0.9zM70.2 39.6h0.9v0.9h-0.9zM61.1 37.5h0.9v0.9h-0.9zM57.0 58.1h0.9v0.9h-0.9zM53.6 47.2h0.9v0.9h-0.9zM56.9 45.1h0.9v0.9h-0.9zM65.5 51.9h0.9v0.9h-0.9zM52.3 55.9h0.9v0.9h-0.9zM64.3 43.7h0.9v0.9h-0.9zM59.5 44.6h0.9v0.9h-0.9zM51.6 45.0h0.9v0.9h-0.9zM63.5 52.6h0.9v0.9h-0.9zM53.1 56.4h0.9v0.9h-0.9zM69.0 45.5h0.9v0.9h-0.9zM65.6 36.8h0.9v0.9h-0.9zM63.4 55.6h0.9v0.9h-0.9zM58.7 52.5h0.9v0.9h-0.9zM53.5 53.2h0.9v0.9h-0.9zM40.3 70.1h0.9v0.9h-0.9zM43.8 62.9h0.9v0.9h-0.9zM58.6 59.1h0.9v0.9h-0.9zM66.9 43.1h0.9v0.9h-0.9zM53.3 48.8h0.9v0.9h-0.9zM61.4 42.3h0.9v0.9h-0.9zM62.9 51.3h0.9v0.9h-0.9zM59.5 49.5h0.9v0.9h-0.9zM57.6 58.5h0.9v0.9h-0.9zM66.3 45.7h0.9v0.9h-0.9zM66.3 31.4h0.9v0.9h-0.9zM62.9 49.5h0.9v0.9h-0.9zM63.8 46.3h0.9v0.9h-0.9zM59.2 40.7h0.9v0.9h-0.9zM63.7 51.6h0.9v0.9h-0.9zM59.8 48.1h0.9v0.9h-0.9zM60.9 37.2h0.9v0.9h-0.9zM67.8 48.7h0.9v0.9h-0.9zM56.7 48.1h0.9v0.9h-0.9zM62.8 42.9h0.9v0.9h-0.9zM56.0 55.0h0.9v0.9h-0.9zM52.2 62.8h0.9v0.9h-0.9zM51.5 56.2h0.9v0.9h-0.9zM65.3 42.4h0.9v0.9h-0.9zM66.5 49.4h0.9v0.9h-0.9zM60.0 54.7h0.9v0.9h-0.9zM52.6 63.1h0.9v0.9h-0.9zM66.9 36.1h0.9v0.9h-0.9zM66.2 46.5h0.9v0.9h-0.9zM57.8 47.9h0.9v0.9h-0.9zM66.4 33.1h0.9v0.9h-0.9zM64.7 49.2h0.9v0.9h-0.9zM67.0 50.1h0.9v0.9h-0.9zM71.6 37.6h0.9v0.9h-0.9zM51.9 57.1h0.9v0.9h-0.9zM63.1 46.5h0.9v0.9h-0.9zM56.8 67.1h0.9v0.9h-0.9zM47.4 57.7h0.9v0.9h-0.9zM64.2 45.1h0.9v0.9h-0.9zM71.2 36.6h0.9v0.9h-0.9zM65.3 46.9h0.9v0.9h-0.9zM52.2 50.8h0.9v0.9h-0.9zM60.9 54.2h0.9v0.9h-0.9zM62.7 53.4h0.9v0.9h-0.9zM59.5 54.3h0.9v0.9h-0.9zM63.5 49.9h0.9v0.9h-0.9zM61.5 48.5h0.9v0.9h-0.9zM61.6 54.8h0.9v0.9h-0.9zM62.1 49.6h0.9v0.9h-0.9zM62.3 40.8h0.9v0.9h-0.9zM55.4 54.5h0.9v0.9h-0.9zM65.8 35.5h0.9v0.9h-0.9zM51.4 53.7h0.9v0.9h-0.9zM55.1 48.6h0.9v0.9h-0.9zM57.2 55.8h0.9v0.9h-0.9zM53.8 56.7h0.9v0.9h-0.9zM52.7 56.9h0.9v0.9h-0.9zM58.1 39.2h0.9v0.9h-0.9zM61.8 48.2h0.9v0.9h-0.9zM61.2 49.2h0.9v0.9h-0.9zM59.6 41.7h0.9v0.9h-0.9zM62.0 50.6h0.9v0.9h-0.9zM65.0 34.6h0.9v0.9h-0.9zM52.9 49.5h0.9v0.9h-0.9zM57.5 45.7h0.9v0.9h-0.9zM56.9 57.7h0.9v0.9h-0.9zM69.0 25.5h0.9v0.9h-0.9zM68.6 32.9h0.9v0.9h-0.9zM66.2 43.6h0.9v0.9h-0.9zM68.1 37.9h0.9v0.9h-0.9zM55.4 54.5h0.9v0.9h-0.9zM63.2 39.7h0.9v0.9h-0.9zM63.4 44.9h0.9v0.9h-0.9zM62.0 46.7h0.9v0.9h-0.9zM67.1 45.3h0.9v0.9h-0.9zM58.0 49.5h0.9v0.9h-0.9zM44.6 62.8h0.9v0.9h-0.9zM53.2 61.7h0.9v0.9h-0.9zM51.9 54.9h0.9v0.9h-0.9zM67.2 46.3h0.9v0.9h-0.9zM66.0 36.5h0.9v0.9h-0.9zM65.6 48.8h0.9v0.9h-0.9zM54.8 54.2h0.9v0.9h-0.9zM51.2 56.1h0.9v0.9h-0.9zM65.6 42.7h0.9v0.9h-0.9zM56.9 49.6h0.9v0.9h-0.9zM72.8 38.0h0.9v0.9h-0.9zM59.5 63.0h0.9v0.9h-0.9zM57.8 51.0h0.9v0.9h-0.9zM56.1 50.5h0.9v0.9h-0.9zM60.6 39.6h0.9v0.9h-0.9zM60.1 47.0h0.9v0.9h-0.9zM73.1 35.3h0.9v0.9h-0.9zM65.2 45.9h0.9v0.9h-0.9zM65.0 43.7h0.9v0.9h-0.9zM46.6 68.3h0.9v0.9h-0.9zM61.0 52.3h0.9v0.9h-0.9zM61.2 44.3h0.9v0.9h-0.9zM52.2 52.6h0.9v0.9h-0.9zM62.4 45.6h0.9v0.9h-0.9zM54.2 54.1h0.9v0.9h-0.9zM61.1 43.7h0.9v0.9h-0.9zM58.3 47.6h0.9v0.9h-0.9zM44.7 68.6h0.9v0.9h-0.9zM63.7 49.5h0.9v0.9h-0.9zM67.0 36.1h0.9v0.9h-0.9zM65.5 44.0h0.9v0.9h-0.9zM63.9 49.5h0.9v0.9h-0.9zM62.7 38.2h0.9v0.9h-0.9zM69.7 36.1h0.9v0.9h-0.9zM54.6 51.6h0.9v0.9h-0.9zM56.1 47.1h0.9v0.9h-0.9zM69.1 40.6h0.9v0.9h-0.9zM57.6 57.1h0.9v0.9h-0.9zM62.6 46.4h0.9v0.9h-0.9zM66.7 40.3h0.9v0.9h-0.9zM60.7 51.3h0.9v0.9h-0.9zM45.7 59.5h0.9v0.9h-0.9zM67.3 46.7h0.9v0.9h-0.9zM50.3 61.2h0.9v0.9h-0.9zM55.9 52.6h0.9v0.9h-0.9zM69.1 46.9h0.9v0.9h-0.9zM65.4 43.4h0.9v0.9h-0.9zM50.3 63.6h0.9v0.9h-0.9zM50.1 54.7h0.9v0.9h-0.9zM57.0 43.3h0.9v0.9h-0.9zM64.7 46.4h0.9v0.9h-0.9zM62.6 46.3h0.9v0.9h-0.9zM63.4 40.9h0.9v0.9h-0.9zM63.1 46.3h0.9v0.9h-0.9zM62.6 39.3h0.9v0.9h-0.9zM62.1 45.8h0.9v0.9h-0.9zM66.5 44.4h0.9v0.9h-0.9zM63.5 47.7h0.9v0.9h-0.9zM67.8 47.9h0.9v0.9h-0.9zM64.4 46.9h0.9v0.9h-0.9zM54.4 54.8h0.9v0.9h-0.9zM68.9 44.6h0.9v0.9h-0.9zM54.6 55.6h0.9v0.9h-0.9zM59.4 50.3h0.9v0.9h-0.9zM56.6 50.8h0.9v0.9h-0.9zM60.9 48.8h0.9v0.9h-0.9zM64.8 38.1h0.9v0.9h-0.9zM57.2 57.4h0.9v0.9h-0.9zM63.5 43.7h0.9v0.9h-0.9zM56.8 59.6h0.9v0.9h-0.9zM57.5 59.1h0.9v0.9h-0.9zM62.1 45.7h0.9v0.9h-0.9zM62.3 51.3h0.9v0.9h-0.9zM55.8 43.8h0.9v0.9h-0.9zM50.1 48.4h0.9v0.9h-0.9zM66.2 47.1h0.9v0.9h-0.9zM63.4 36.8h0.9v0.9h-0.9zM54.3 44.1h0.9v0.9h-0.9zM58.5 57.3h0.9v0.9h-0.9zM72.4 30.6h0.9v0.9h-0.9zM46.4 60.1h0.9v0.9h-0.9zM73.0 33.1h0.9v0.9h-0.9zM45.9 54.0h0.9v0.9h-0.9zM67.3 45.0h0.9v0.9h-0.9zM57.3 51.3h0.9v0.9h-0.9zM60.4 46.6h0.9v0.9h-0.9zM55.8 50.9h0.9v0.9h-0.9zM60.8 55.6h0.9v0.9h-0.9zM66.5 47.4h0.9v0.9h-0.9zM65.8 28.2h0.9v0.9h-0.9zM63.3 50.9h0.9v0.9h-0.9zM57.8 48.3h0.9v0.9h-0.9zM61.8 43.7h0.9v0.9h-0.9zM54.7 53.9h0.9v0.9h-0.9zM61.3 47.7h0.9v0.9h-0.9zM66.6 41.1h0.9v0.9h-0.9zM66.9 59.1h0.9v0.9h-0.9zM58.7 49.2h0.9v0.9h-0.9zM57.9 47.5h0.9v0.9h-0.9zM51.5 60.8h0.9v0.9h-0.9zM64.7 32.3h0.9v0.9h-0.9zM57.4 55.0h0.9v0.9h-0.9zM58.2 54.6h0.9v0.9h-0.9zM57.3 45.8h0.9v0.9h-0.9zM58.0 48.5h0.9v0.9h-0.9zM56.8 37.7h0.9v0.9h-0.9zM67.4 48.0h0.9v0.9h-0.9zM62.6 47.5h0.9v0.9h-0.9zM58.5 53.0h0.9v0.9h-0.9zM56.2 46.1h0.9v0.9h-0.9zM46.6 51.7h0.9v0.9h-0.9zM64.2 45.1h0.9v0.9h-0.9zM68.5 40.2h0.9v0.9h-0.9zM61.3 39.4h0.9v0.9h-0.9zM47.4 61.2h0.9v0.9h-0.9zM59.9 51.5h0.9v0.9h-0.9zM59.6 48.7h0.9v0.9h-0.9zM61.9 48.3h0.9v0.9h-0.9zM63.1 47.2h0.9v0.9h-0.9zM57.5 51.7h0.9v0.9h-0.9zM48.3 56.8h0.9v0.9h-0.9zM60.5 51.2h0.9v0.9h-0.9zM52.0 50.6h0.9v0.9h-0.9zM64.5 38.6h0.9v0.9h-0.9zM47.2 59.1h0.9v0.9h-0.9zM46.3 51.5h0.9v0.9h-0.9zM63.5 55.1h0.9v0.9h-0.9zM53.8 51.9h0.9v0.9h-0.9zM68.4 39.4h0.9v0.9h-0.9zM64.3 52.1h0.9v0.9h-0.9zM53.3 57.1h0.9v0.9h-0.9zM64.7 44.6h0.9v0.9h-0.9zM50.8 55.0h0.9v0.9h-0.9zM71.8 34.0h0.9v0.9h-0.9zM62.4 52.7h0.9v0.9h-0.9zM49.5 61.9h0.9v0.9h-0.9zM53.9 65.1h0.9v0.9h-0.9zM55.0 56.0h0.9v0.9h-0.9zM55.5 55.5h0.9v0.9h-0.9zM62.9 45.6h0.9v0.9h-0.9zM59.6 51.1h0.9v0.9h-0.9zM57.9 48.7h0.9v0.9h-0.9zM67.4 45.2h0.9v0.9h-0.9zM49.4 56.1h0.9v0.9h-0.9zM56.9 54.8h0.9v0.9h-0.9zM56.7 62.7h0.9v0.9h-0.9zM61.7 48.1h0.9v0.9h-0.9zM64.2 39.5h0.9v0.9h-0.9zM64.5 46.1h0.9v0.9h-0.9zM66.0 35.5h0.9v0.9h-0.9zM71.4 38.7h0.9v0.9h-0.9zM65.7 48.6h0.9v0.9h-0.9zM58.8 49.5h0.9v0.9h-0.9zM65.2 40.7h0.9v0.9h-0.9zM71.8 42.9h0.9v0.9h-0.9zM62.9 46.8h0.9v0.9h-0.9zM54.2 50.9h0.9v0.9h-0.9zM67.0 34.4h0.9v0.9h-0.9zM62.4 48.1h0.9v0.9h-0.9zM53.3 53.3h0.9v0.9h-0.9zM62.8 58.5h0.9v0.9h-0.9zM67.4 48.4h0.9v0.9h-0.9zM68.0 36.7h0.9v0.9h-0.9zM61.0 56.8h0.9v0.9h-0.9zM67.2 34.2h0.9v0.9h-0.9zM69.1 39.8h0.9v0.9h-0.9zM68.9 44.1h0.9v0.9h-0.9zM71.2 31.7h0.9v0.9h-0.9zM64.8 51.0h0.9v0.9h-0.9zM61.1 51.3h0.9v0.9h-0.9zM55.6 44.5h0.9v0.9h-0.9zM60.2 54.3h0.9v0.9h-0.9zM53.2 48.5h0.9v0.9h-0.9zM58.3 52.1h0.9v0.9h-0.9zM65.2 44.9h0.9v0.9h-0.9zM61.3 41.3h0.9v0.9h-0.9zM55.1 50.8h0.9v0.9h-0.9zM59.7 52.4h0.9v0.9h-0.9zM68.8 37.0h0.9v0.9h-0.9zM71.1 42.3h0.9v0.9h-0.9zM51.6 54.8h0.9v0.9h-0.9zM58.1 43.4h0.9v0.9h-0.9zM67.4 28.9h0.9v0.9h-0.9zM55.8 59.3h0.9v0.9h-0.9zM58.6 55.4h0.9v0.9h-0.9zM58.1 58.1h0.9v0.9h-0.9zM59.7 54.1h0.9v0.9h-0.9zM63.1 36.5h0.9v0.9h-0.9zM50.5 50.6h0.9v0.9h-0.9zM57.0 58.7h0.9v0.9h-0.9zM63.5 50.1h0.9v0.9h-0.9zM64.5 41.2h0.9v0.9h-0.9zM59.8 51.6h0.9v0.9h-0.9zM69.9 43.7h0.9v0.9h-0.9zM62.3 44.8h0.9v0.9h-0.9zM65.7 52.4h0.9v0.9h-0.9zM68.9 50.4h0.9v0.9h-0.9zM59.4 55.5h0.9v0.9h-0.9zM64.9 48.0h0.9v0.9h-0.9zM57.6 54.5h0.9v0.9h-0.9zM60.1 47.7h0.9v0.9h-0.9zM49.6 53.7h0.9v0.9h-0.9zM60.8 51.7h0.9v0.9h-0.9zM63.7 46.4h0.9v0.9h-0.9zM59.4 42.1h0.9v0.9h-0.9zM68.2 39.7h0.9v0.9h-0.9zM55.0 52.3h0.9v0.9h-0.9zM68.1 40.6h0.9v0.9h-0.9zM57.1 65.7h0.9v0.9h-0.9zM57.1 63.4h0.9v0.9h-0.9zM63.7 38.8h0.9v0.9h-0.9zM72.8 41.2h0.9v0.9h-0.9zM69.8 41.3h0.9v0.9h-0.9zM64.0 45.8h0.9v0.9h-0.9zM58.8 52.6h0.9v0.9h-0.9zM69.1 37.6h0.9v0.9h-0.9zM69.1 28.9h0.9v0.9h-0.9zM57.2 44.0h0.9v0.9h-0.9zM51.1 62.0h0.9v0.9h-0.9zM57.7 49.0h0.9v0.9h-0.9zM54.0 55.4h0.9v0.9h-0.9zM50.6 59.9h0.9v0.9h-0.9zM54.4 48.9h0.9v0.9h-0.9zM58.5 40.2h0.9v0.9h-0.9zM64.9 45.1h0.9v0.9h-0.9zM65.1 44.0h0.9v0.9h-0.9zM65.6 41.0h0.9v0.9h-0.9zM55.7 57.1h0.9v0.9h-0.9zM55.4 53.0h0.9v0.9h-0.9zM59.4 44.6h0.9v0.9h-0.9zM63.0 36.5h0.9v0.9h-0.9zM69.0 38.2h0.9v0.9h-0.9zM66.5 43.2h0.9v0.9h-0.9zM58.1 43.6h0.9v0.9h-0.9zM55.1 49.9h0.9v0.9h-0.9zM56.5 53.0h0.9v0.9h-0.9zM56.8 54.3h0.9v0.9h-0.9zM58.4 48.7h0.9v0.9h-0.9zM65.2 45.9h0.9v0.9h-0.9zM52.1 57.4h0.9v0.9h-0.9zM61.7 42.1h0.9v0.9h-0.9zM72.0 43.9h0.9v0.9h-0.9zM64.6 43.0h0.9v0.9h-0.9zM56.0 43.0h0.9v0.9h-0.9zM64.2 42.5h0.9v0.9h-0.9zM65.0 45.6h0.9v0.9h-0.9zM68.9 51.1h0.9v0.9h-0.9zM65.2 39.1h0.9v0.9h-0.9zM67.1 44.6h0.9v0.9h-0.9zM65.8 50.8h0.9v0.9h-0.9zM53.9 46.5h0.9v0.9h-0.9zM55.8 56.9h0.9v0.9h-0.9zM55.6 55.8h0.9v0.9h-0.9zM53.1 60.4h0.9v0.9h-0.9zM57.1 47.6h0.9v0.9h-0.9zM57.1 51.4h0.9v0.9h-0.9zM67.8 41.3h0.9v0.9h-0.9zM60.6 49.7h0.9v0.9h-0.9zM68.3 42.0h0.9v0.9h-0.9zM70.2 32.5h0.9v0.9h-0.9zM66.9 41.7h0.9v0.9h-0.9zM59.2 54.1h0.9v0.9h-0.9zM69.5 43.7h0.9v0.9h-0.9zM61.8 42.0h0.9v0.9h-0.9zM63.6 47.4h0.9v0.9h-0.9zM72.1 35.2h0.9v0.9h-0.9zM66.9 50.3h0.9v0.9h-0.9zM60.5 46.2h0.9v0.9h-0.9zM65.4 47.4h0.9v0.9h-0.9zM57.4 42.6h0.9v0.9h-0.9zM61.8 53.3h0.9v0.9h-0.9zM59.3 55.5h0.9v0.9h-0.9zM60.1 44.6h0.9v0.9h-0.9zM60.1 36.5h0.9v0.9h-0.9zM43.8 60.2h0.9v0.9h-0.9zM63.9 43.0h0.9v0.9h-0.9zM65.1 42.7h0.9v0.9h-0.9zM60.7 45.5h0.9v0.9h-0.9zM61.8 53.2h0.9v0.9h-0.9zM62.3 38.7h0.9v0.9h-0.9zM70.9 48.1h0.9v0.9h-0.9zM63.3 39.7h0.9v0.9h-0.9zM66.7 42.6h0.9v0.9h-0.9zM62.2 52.5h0.9v0.9h-0.9zM67.5 37.1h0.9v0.9h-0.9zM61.0 45.9h0.9v0.9h-0.9zM66.1 51.5h0.9v0.9h-0.9zM60.4 52.5h0.9v0.9h-0.9zM63.2 46.0h0.9v0.9h-0.9zM56.2 57.9h0.9v0.9h-0.9zM56.7 57.9h0.9v0.9h-0.9zM61.2 48.8h0.9v0.9h-0.9zM56.0 49.3h0.9v0.9h-0.9zM55.0 55.7h0.9v0.9h-0.9zM61.7 49.1h0.9v0.9h-0.9zM61.9 51.8h0.9v0.9h-0.9zM62.6 47.0h0.9v0.9h-0.9zM59.8 49.6h0.9v0.9h-0.9zM63.4 41.1h0.9v0.9h-0.9zM55.0 57.9h0.9v0.9h-0.9zM64.1 44.6h0.9v0.9h-0.9zM59.1 42.8h0.9v0.9h-0.9zM55.3 55.2h0.9v0.9h-0.9zM57.6 45.1h0.9v0.9h-0.9zM58.7 39.7h0.9v0.9h-0.9zM66.0 35.8h0.9v0.9h-0.9zM54.9 49.6h0.9v0.9h-0.9zM52.1 57.3h0.9v0.9h-0.9zM48.6 61.5h0.9v0.9h-0.9zM61.5 45.8h0.9v0.9h-0.9zM57.0 44.6h0.9v0.9h-0.9zM46.0 58.8h0.9v0.9h-0.9zM68.8 40.4h0.9v0.9h-0.9zM55.2 65.5h0.9v0.9h-0.9zM68.4 45.5h0.9v0.9h-0.9zM71.4 43.1h0.9v0.9h-0.9zM51.1 60.9h0.9v0.9h-0.9zM62.2 58.3h0.9v0.9h-0.9zM65.6 42.5h0.9v0.9h-0.9zM53.6 44.8h0.9v0.9h-0.9zM59.5 45.0h0.9v0.9h-0.9zM71.9 39.2h0.9v0.9h-0.9zM59.7 47.5h0.9v0.9h-0.9zM66.6 38.1h0.9v0.9h-0.9zM68.7 39.9h0.9v0.9h-0.9zM60.6 50.9h0.9v0.9h-0.9zM67.5 30.7h0.9v0.9h-0.9zM68.1 43.8h0.9v0.9h-0.9zM64.0 53.2h0.9v0.9h-0.9zM67.1 44.0h0.9v0.9h-0.9zM56.8 56.9h0.9v0.9h-0.9zM54.8 58.9h0.9v0.9h-0.9zM72.0 29.2h0.9v0.9h-0.9zM67.8 33.3h0.9v0.9h-0.9zM63.8 49.0h0.9v0.9h-0.9zM53.3 59.7h0.9v0.9h-0.9zM54.7 52.3h0.9v0.9h-0.9zM66.3 41.2h0.9v0.9h-0.9zM63.9 44.8h0.9v0.9h-0.9zM68.2 48.6h0.9v0.9h-0.9zM61.3 46.2h0.9v0.9h-0.9zM63.6 49.3h0.9v0.9h-0.9zM57.9 39.3h0.9v0.9h-0.9zM62.1 49.4h0.9v0.9h-0.9zM56.3 47.2h0.9v0.9h-0.9zM55.7 44.2h0.9v0.9h-0.9zM55.9 54.1h0.9v0.9h-0.9zM51.2 58.8h0.9v0.9h-0.9zM60.7 56.0h0.9v0.9h-0.9zM64.1 48.3h0.9v0.9h-0.9zM69.2 32.6h0.9v0.9h-0.9zM63.3 36.0h0.9v0.9h-0.9zM58.3 50.4h0.9v0.9h-0.9zM54.1 45.2h0.9v0.9h-0.9zM61.2 46.2h0.9v0.9h-0.9zM72.2 37.8h0.9v0.9h-0.9zM48.2 64.8h0.9v0.9h-0.9zM67.7 39.4h0.9v0.9h-0.9zM52.9 50.0h0.9v0.9h-0.9zM56.3 48.4h0.9v0.9h-0.9zM58.6 49.2h0.9v0.9h-0.9zM66.4 35.7h0.9v0.9h-0.9zM60.2 42.7h0.9v0.9h-0.9zM66.0 48.1h0.9v0.9h-0.9zM54.3 49.4h0.9v0.9h-0.9zM61.6 47.6h0.9v0.9h-0.9zM58.5 53.7h0.9v0.9h-0.9zM63.7 48.9h0.9v0.9h-0.9zM54.9 60.2h0.9v0.9h-0.9zM66.8 36.2h0.9v0.9h-0.9zM50.1 55.3h0.9v0.9h-0.9zM54.7 52.0h0.9v0.9h-0.9zM60.7 50.4h0.9v0.9h-0.9zM59.1 48.6h0.9v0.9h-0.9zM49.3 50.4h0.9v0.9h-0.9zM53.3 50.4h0.9v0.9h-0.9zM59.7 35.3h0.9v0.9h-0.9zM60.0 32.3h0.9v0.9h-0.9zM60.1 49.4h0.9v0.9h-0.9zM51.5 54.1h0.9v0.9h-0.9zM63.6 38.5h0.9v0.9h-0.9zM60.8 48.7h0.9v0.9h-0.9zM61.7 39.8h0.9v0.9h-0.9zM69.0 37.3h0.9v0.9h-0.9zM63.5 36.7h0.9v0.9h-0.9zM67.8 39.2h0.9v0.9h-0.9zM64.3 40.3h0.9v0.9h-0.9zM66.8 41.3h0.9v0.9h-0.9zM56.7 68.4h0.9v0.9h-0.9zM58.5 54.1h0.9v0.9h-0.9zM58.7 48.3h0.9v0.9h-0.9zM61.6 52.9h0.9v0.9h-0.9zM69.8 42.8h0.9v0.9h-0.9zM53.4 62.4h0.9v0.9h-0.9zM58.6 65.0h0.9v0.9h-0.9zM67.0 47.6h0.9v0.9h-0.9zM61.7 48.2h0.9v0.9h-0.9zM62.7 58.1h0.9v0.9h-0.9zM62.4 53.0h0.9v0.9h-0.9zM55.8 53.8h0.9v0.9h-0.9zM58.5 50.6h0.9v0.9h-0.9zM59.9 53.3h0.9v0.9h-0.9zM60.7 38.9h0.9v0.9h-0.9zM54.6 48.1h0.9v0.9h-0.9zM64.3 36.5h0.9v0.9h-0.9zM64.7 44.6h0.9v0.9h-0.9zM55.2 43.6h0.9v0.9h-0.9zM71.5 34.3h0.9v0.9h-0.9zM68.7 45.1h0.9v0.9h-0.9zM52.1 53.2h0.9v0.9h-0.9zM55.9 54.0h0.9v0.9h-0.9zM66.8 40.1h0.9v0.9h-0.9zM71.3 39.1h0.9v0.9h-0.9zM62.8 50.0h0.9v0.9h-0.9zM62.0 54.5h0.9v0.9h-0.9zM61.0 56.1h0.9v0.9h-0.9zM71.9 24.2h0.9v0.9h-0.9zM67.6 31.1h0.9v0.9h-0.9zM66.3 52.7h0.9v0.9h-0.9zM70.1 41.0h0.9v0.9h-0.9zM64.2 45.3h0.9v0.9h-0.9zM63.6 43.8h0.9v0.9h-0.9zM55.9 47.1h0.9v0.9h-0.9zM72.2 34.2h0.9v0.9h-0.9zM60.9 41.7h0.9v0.9h-0.9zM59.8 49.9h0.9v0.9h-0.9zM59.7 48.0h0.9v0.9h-0.9zM45.8 64.6h0.9v0.9h-0.9zM58.3 48.6h0.9v0.9h-0.9zM54.7 46.5h0.9v0.9h-0.9zM60.3 58.0h0.9v0.9h-0.9zM53.8 53.9h0.9v0.9h-0.9zM55.6 53.8h0.9v0.9h-0.9zM64.0 56.6h0.9v0.9h-0.9zM58.8 59.1h0.9v0.9h-0.9zM59.7 52.5h0.9v0.9h-0.9zM52.8 41.0h0.9v0.9h-0.9zM58.5 49.9h0.9v0.9h-0.9zM62.8 47.4h0.9v0.9h-0.9zM51.6 54.1h0.9v0.9h-0.9zM65.4 41.2h0.9v0.9h-0.9zM63.5 49.1h0.9v0.9h-0.9zM62.5 47.3h0.9v0.9h-0.9zM54.6 56.2h0.9v0.9h-0.9zM55.9 65.2h0.9v0.9h-0.9zM61.5 57.8h0.9v0.9h-0.9zM57.9 51.3h0.9v0.9h-0.9zM70.2 38.1h0.9v0.9h-0.9zM61.7 45.7h0.9v0.9h-0.9zM57.6 48.0h0.9v0.9h-0.9zM51.3 49.5h0.9v0.9h-0.9zM58.1 47.1h0.9v0.9h-0.9zM69.9 30.1h0.9v0.9h-0.9zM58.8 50.2h0.9v0.9h-0.9zM56.4 63.4h0.9v0.9h-0.9zM66.8 42.9h0.9v0.9h-0.9zM60.4 50.7h0.9v0.9h-0.9zM59.9 52.5h0.9v0.9h-0.9zM54.7 59.2h0.9v0.9h-0.9zM58.3 49.0h0.9v0.9h-0.9zM58.7 50.4h0.9v0.9h-0.9zM52.3 62.7h0.9v0.9h-0.9zM65.6 53.6h0.9v0.9h-0.9zM64.2 50.1h0.9v0.9h-0.9zM60.9 47.6h0.9v0.9h-0.9zM52.4 56.1h0.9v0.9h-0.9zM50.6 46.5h0.9v0.9h-0.9zM57.5 48.3h0.9v0.9h-0.9zM66.5 47.8h0.9v0.9h-0.9zM63.1 52.9h0.9v0.9h-0.9zM71.6 39.9h0.9v0.9h-0.9zM59.7 50.5h0.9v0.9h-0.9zM63.6 34.6h0.9v0.9h-0.9zM52.5 69.7h0.9v0.9h-0.9zM70.0 45.4h0.9v0.9h-0.9zM64.3 42.5h0.9v0.9h-0.9zM61.1 33.7h0.9v0.9h-0.9zM65.6 35.6h0.9v0.9h-0.9zM55.1 32.5h0.9v0.9h-0.9zM63.7 36.0h0.9v0.9h-0.9zM60.6 35.0h0.9v0.9h-0.9zM53.9 32.5h0.9v0.9h-0.9zM60.4 28.3h0.9v0.9h-0.9zM61.5 35.5h0.9v0.9h-0.9zM62.3 36.2h0.9v0.9h-0.9zM67.0 33.7h0.9v0.9h-0.9zM55.2 29.6h0.9v0.9h-0.9zM50.4 36.0h0.9v0.9h-0.9zM61.9 28.6h0.9v0.9h-0.9zM59.6 31.9h0.9v0.9h-0.9zM58.4 35.0h0.9v0.9h-0.9zM58.8 30.6h0.9v0.9h-0.9zM62.2 33.2h0.9v0.9h-0.9zM52.3 37.8h0.9v0.9h-0.9zM65.3 31.9h0.9v0.9h-0.9zM64.8 28.3h0.9v0.9h-0.9zM59.0 38.2h0.9v0.9h-0.9zM64.8 34.8h0.9v0.9h-0.9zM63.3 32.2h0.9v0.9h-0.9zM62.6 36.5h0.9v0.9h-0.9zM63.2 34.6h0.9v0.9h-0.9zM62.8 34.8h0.9v0.9h-0.9zM60.9 29.1h0.9v0.9h-0.9zM61.2 30.9h0.9v0.9h-0.9zM57.8 34.6h0.9v0.9h-0.9zM59.6 30.1h0.9v0.9h-0.9zM57.3 35.2h0.9v0.9h-0.9zM57.7 34.5h0.9v0.9h-0.9zM60.3 34.6h0.9v0.9h-0.9zM57.2 35.1h0.9v0.9h-0.9zM60.9 30.0h0.9v0.9h-0.9zM61.9 30.6h0.9v0.9h-0.9zM61.1 35.7h0.9v0.9h-0.9zM61.2 30.2h0.9v0.9h-0.9zM55.0 31.3h0.9v0.9h-0.9zM61.6 34.1h0.9v0.9h-0.9zM52.5 37.6h0.9v0.9h-0.9zM63.7 31.8h0.9v0.9h-0.9zM59.1 34.9h0.9v0.9h-0.9zM55.0 33.6h0.9v0.9h-0.9zM61.3 32.7h0.9v0.9h-0.9zM59.3 34.5h0.9v0.9h-0.9zM66.2 33.7h0.9v0.9h-0.9zM60.4 32.5h0.9v0.9h-0.9zM64.2 33.5h0.9v0.9h-0.9zM59.8 38.1h0.9v0.9h-0.9zM64.1 30.4h0.9v0.9h-0.9zM58.7 38.1h0.9v0.9h-0.9zM58.2 39.1h0.9v0.9h-0.9zM59.6 40.0h0.9v0.9h-0.9zM54.4 29.0h0.9v0.9h-0.9zM54.5 41.0h0.9v0.9h-0.9zM56.2 33.3h0.9v0.9h-0.9zM56.6 32.3h0.9v0.9h-0.9zM59.9 34.4h0.9v0.9h-0.9zM56.5 33.0h0.9v0.9h-0.9zM65.0 36.0h0.9v0.9h-0.9zM63.8 37.1h0.9v0.9h-0.9zM59.0 36.9h0.9v0.9h-0.9zM65.3 30.5h0.9v0.9h-0.9zM63.3 25.9h0.9v0.9h-0.9zM50.9 31.1h0.9v0.9h-0.9zM54.8 31.9h0.9v0.9h-0.9zM57.7 36.9h0.9v0.9h-0.9zM56.1 33.5h0.9v0.9h-0.9zM53.3 30.3h0.9v0.9h-0.9zM58.1 32.0h0.9v0.9h-0.9zM62.8 33.8h0.9v0.9h-0.9zM52.4 37.5h0.9v0.9h-0.9zM54.3 33.8h0.9v0.9h-0.9zM54.7 32.4h0.9v0.9h-0.9zM56.2 31.0h0.9v0.9h-0.9zM56.1 33.8h0.9v0.9h-0.9zM62.4 35.7h0.9v0.9h-0.9zM65.4 28.0h0.9v0.9h-0.9zM58.3 38.0h0.9v0.9h-0.9zM54.6 34.4h0.9v0.9h-0.9zM62.9 38.2h0.9v0.9h-0.9zM61.6 34.7h0.9v0.9h-0.9zM58.9 36.0h0.9v0.9h-0.9zM59.8 35.0h0.9v0.9h-0.9zM56.6 34.2h0.9v0.9h-0.9zM55.1 31.5h0.9v0.9h-0.9zM55.4 32.2h0.9v0.9h-0.9zM56.2 32.8h0.9v0.9h-0.9zM53.3 36.0h0.9v0.9h-0.9zM61.2 38.4h0.9v0.9h-0.9zM49.1 31.5h0.9v0.9h-0.9zM54.9 32.2h0.9v0.9h-0.9zM58.9 31.5h0.9v0.9h-0.9zM56.5 36.8h0.9v0.9h-0.9zM57.6 29.4h0.9v0.9h-0.9zM64.1 40.1h0.9v0.9h-0.9zM63.5 32.8h0.9v0.9h-0.9zM64.5 32.9h0.9v0.9h-0.9zM57.9 35.1h0.9v0.9h-0.9zM64.3 33.5h0.9v0.9h-0.9zM57.2 30.2h0.9v0.9h-0.9zM59.3 30.8h0.9v0.9h-0.9zM58.0 30.0h0.9v0.9h-0.9zM55.2 31.8h0.9v0.9h-0.9zM55.9 31.2h0.9v0.9h-0.9zM64.4 35.5h0.9v0.9h-0.9zM57.3 31.2h0.9v0.9h-0.9zM63.3 32.6h0.9v0.9h-0.9zM61.9 36.6h0.9v0.9h-0.9zM57.8 35.6h0.9v0.9h-0.9zM60.7 32.5h0.9v0.9h-0.9zM58.1 32.3h0.9v0.9h-0.9zM45.5 35.3h0.9v0.9h-0.9zM66.2 35.9h0.9v0.9h-0.9zM69.9 32.4h0.9v0.9h-0.9zM62.3 31.6h0.9v0.9h-0.9zM55.7 32.0h0.9v0.9h-0.9zM61.3 36.0h0.9v0.9h-0.9zM52.0 37.5h0.9v0.9h-0.9zM63.1 35.8h0.9v0.9h-0.9zM54.2 35.5h0.9v0.9h-0.9zM59.7 29.9h0.9v0.9h-0.9zM55.8 41.4h0.9v0.9h-0.9zM56.2 33.1h0.9v0.9h-0.9zM51.1 33.6h0.9v0.9h-0.9zM64.7 34.3h0.9v0.9h-0.9zM55.8 34.8h0.9v0.9h-0.9zM60.9 35.5h0.9v0.9h-0.9zM55.4 35.9h0.9v0.9h-0.9zM56.2 33.0h0.9v0.9h-0.9zM55.3 32.3h0.9v0.9h-0.9zM60.1 28.5h0.9v0.9h-0.9zM61.3 41.9h0.9v0.9h-0.9zM55.5 33.8h0.9v0.9h-0.9zM59.6 38.7h0.9v0.9h-0.9zM53.8 36.7h0.9v0.9h-0.9zM59.7 39.9h0.9v0.9h-0.9zM59.3 40.1h0.9v0.9h-0.9zM55.5 35.8h0.9v0.9h-0.9zM54.5 33.1h0.9v0.9h-0.9zM54.0 33.7h0.9v0.9h-0.9zM64.9 31.4h0.9v0.9h-0.9zM69.6 37.1h0.9v0.9h-0.9zM60.3 33.9h0.9v0.9h-0.9zM59.9 31.6h0.9v0.9h-0.9zM61.5 33.9h0.9v0.9h-0.9zM51.4 35.5h0.9v0.9h-0.9zM61.4 33.8h0.9v0.9h-0.9zM60.3 33.8h0.9v0.9h-0.9zM57.7 37.5h0.9v0.9h-0.9zM64.4 32.2h0.9v0.9h-0.9zM61.7 30.3h0.9v0.9h-0.9zM63.6 30.8h0.9v0.9h-0.9zM59.7 36.8h0.9v0.9h-0.9zM57.1 34.5h0.9v0.9h-0.9zM62.7 31.7h0.9v0.9h-0.9zM61.0 37.0h0.9v0.9h-0.9zM59.7 31.6h0.9v0.9h-0.9zM57.4 33.6h0.9v0.9h-0.9zM59.5 35.9h0.9v0.9h-0.9zM53.0 34.9h0.9v0.9h-0.9zM60.6 38.3h0.9v0.9h-0.9zM52.9 32.5h0.9v0.9h-0.9zM62.5 33.3h0.9v0.9h-0.9zM63.3 33.2h0.9v0.9h-0.9zM56.5 34.3h0.9v0.9h-0.9zM64.3 35.3h0.9v0.9h-0.9zM59.9 34.3h0.9v0.9h-0.9zM63.6 35.1h0.9v0.9h-0.9zM60.4 36.0h0.9v0.9h-0.9zM58.9 30.7h0.9v0.9h-0.9zM63.2 36.9h0.9v0.9h-0.9zM64.5 32.9h0.9v0.9h-0.9zM54.6 36.1h0.9v0.9h-0.9zM55.8 29.0h0.9v0.9h-0.9zM59.3 31.7h0.9v0.9h-0.9zM59.1 32.6h0.9v0.9h-0.9zM62.7 36.0h0.9v0.9h-0.9zM61.6 37.1h0.9v0.9h-0.9zM58.2 41.3h0.9v0.9h-0.9zM52.8 37.4h0.9v0.9h-0.9zM62.9 32.2h0.9v0.9h-0.9zM58.9 30.5h0.9v0.9h-0.9zM57.5 35.2h0.9v0.9h-0.9zM53.2 29.3h0.9v0.9h-0.9zM57.3 31.8h0.9v0.9h-0.9zM55.3 34.2h0.9v0.9h-0.9zM54.3 38.1h0.9v0.9h-0.9zM63.5 33.3h0.9v0.9h-0.9zM56.8 34.3h0.9v0.9h-0.9zM58.3 31.8h0.9v0.9h-0.9zM56.8 35.7h0.9v0.9h-0.9zM55.3 32.8h0.9v0.9h-0.9zM56.8 31.5h0.9v0.9h-0.9zM59.4 30.2h0.9v0.9h-0.9zM63.0 35.5h0.9v0.9h-0.9zM59.4 36.5h0.9v0.9h-0.9zM63.1 32.2h0.9v0.9h-0.9zM58.5 32.3h0.9v0.9h-0.9zM57.5 33.2h0.9v0.9h-0.9zM59.6 35.5h0.9v0.9h-0.9zM67.7 33.5h0.9v0.9h-0.9zM62.6 32.7h0.9v0.9h-0.9zM65.5 33.3h0.9v0.9h-0.9zM58.2 33.3h0.9v0.9h-0.9zM59.0 32.9h0.9v0.9h-0.9zM60.6 39.0h0.9v0.9h-0.9zM58.9 31.8h0.9v0.9h-0.9zM51.9 35.0h0.9v0.9h-0.9zM54.8 32.5h0.9v0.9h-0.9zM59.8 34.9h0.9v0.9h-0.9zM61.4 37.0h0.9v0.9h-0.9zM55.1 32.8h0.9v0.9h-0.9zM55.2 31.7h0.9v0.9h-0.9zM56.1 32.0h0.9v0.9h-0.9zM61.1 30.5h0.9v0.9h-0.9zM66.4 26.6h0.9v0.9h-0.9zM61.4 29.0h0.9v0.9h-0.9zM56.5 30.8h0.9v0.9h-0.9zM59.3 35.4h0.9v0.9h-0.9zM57.1 32.4h0.9v0.9h-0.9zM54.8 32.2h0.9v0.9h-0.9zM55.4 32.6h0.9v0.9h-0.9zM59.7 36.5h0.9v0.9h-0.9zM55.3 28.7h0.9v0.9h-0.9zM58.0 36.6h0.9v0.9h-0.9zM55.2 35.7h0.9v0.9h-0.9zM53.9 31.1h0.9v0.9h-0.9zM58.9 28.5h0.9v0.9h-0.9zM56.0 26.5h0.9v0.9h-0.9zM55.1 35.7h0.9v0.9h-0.9zM56.6 32.3h0.9v0.9h-0.9zM60.5 31.0h0.9v0.9h-0.9zM54.3 33.5h0.9v0.9h-0.9zM58.7 34.4h0.9v0.9h-0.9zM58.8 37.4h0.9v0.9h-0.9zM61.0 33.2h0.9v0.9h-0.9zM66.9 27.9h0.9v0.9h-0.9zM59.4 31.5h0.9v0.9h-0.9zM67.2 33.3h0.9v0.9h-0.9zM62.2 34.5h0.9v0.9h-0.9zM64.2 31.4h0.9v0.9h-0.9zM61.5 28.4h0.9v0.9h-0.9zM61.6 36.8h0.9v0.9h-0.9zM62.5 35.1h0.9v0.9h-0.9zM51.8 35.4h0.9v0.9h-0.9zM58.3 38.5h0.9v0.9h-0.9zM61.2 35.4h0.9v0.9h-0.9zM64.1 34.5h0.9v0.9h-0.9zM53.2 32.5h0.9v0.9h-0.9zM51.5 38.8h0.9v0.9h-0.9zM57.5 30.4h0.9v0.9h-0.9zM60.5 32.4h0.9v0.9h-0.9zM58.3 37.8h0.9v0.9h-0.9zM50.3 31.1h0.9v0.9h-0.9zM58.3 33.3h0.9v0.9h-0.9zM63.0 32.1h0.9v0.9h-0.9zM61.7 38.5h0.9v0.9h-0.9zM52.9 30.8h0.9v0.9h-0.9zM56.0 33.8h0.9v0.9h-0.9zM54.8 35.4h0.9v0.9h-0.9zM56.4 37.7h0.9v0.9h-0.9zM61.1 35.5h0.9v0.9h-0.9zM59.8 34.3h0.9v0.9h-0.9zM52.5 34.4h0.9v0.9h-0.9zM52.7 38.9h0.9v0.9h-0.9zM54.0 32.1h0.9v0.9h-0.9zM58.2 40.5h0.9v0.9h-0.9zM55.4 39.4h0.9v0.9h-0.9zM60.6 41.2h0.9v0.9h-0.9zM57.7 32.5h0.9v0.9h-0.9zM58.4 32.3h0.9v0.9h-0.9zM56.4 36.4h0.9v0.9h-0.9zM57.5 36.7h0.9v0.9h-0.9zM61.6 36.2h0.9v0.9h-0.9zM65.4 35.9h0.9v0.9h-0.9zM55.9 38.4h0.9v0.9h-0.9zM50.0 39.2h0.9v0.9h-0.9zM62.9 30.0h0.9v0.9h-0.9zM62.7 27.7h0.9v0.9h-0.9zM62.5 32.1h0.9v0.9h-0.9zM57.6 33.6h0.9v0.9h-0.9zM57.0 36.4h0.9v0.9h-0.9zM58.6 33.8h0.9v0.9h-0.9zM58.8 32.8h0.9v0.9h-0.9zM55.3 36.3h0.9v0.9h-0.9zM61.4 30.0h0.9v0.9h-0.9zM63.1 36.9h0.9v0.9h-0.9zM60.2 38.0h0.9v0.9h-0.9zM51.3 39.3h0.9v0.9h-0.9zM56.2 35.3h0.9v0.9h-0.9zM56.6 41.5h0.9v0.9h-0.9zM57.6 36.1h0.9v0.9h-0.9zM53.1 34.0h0.9v0.9h-0.9zM60.4 33.3h0.9v0.9h-0.9zM56.7 38.7h0.9v0.9h-0.9zM53.0 35.2h0.9v0.9h-0.9zM58.0 33.0h0.9v0.9h-0.9zM61.4 34.2h0.9v0.9h-0.9zM58.5 35.9h0.9v0.9h-0.9zM58.8 35.5h0.9v0.9h-0.9zM63.8 33.8h0.9v0.9h-0.9zM58.8 32.2h0.9v0.9h-0.9zM64.7 35.7h0.9v0.9h-0.9zM61.0 34.4h0.9v0.9h-0.9zM55.7 34.7h0.9v0.9h-0.9zM59.4 30.4h0.9v0.9h-0.9zM55.2 34.2h0.9v0.9h-0.9zM66.4 33.7h0.9v0.9h-0.9zM54.0 38.5h0.9v0.9h-0.9zM62.6 35.4h0.9v0.9h-0.9zM56.7 34.0h0.9v0.9h-0.9zM67.8 35.7h0.9v0.9h-0.9zM52.6 33.8h0.9v0.9h-0.9zM55.0 32.6h0.9v0.9h-0.9zM62.3 37.3h0.9v0.9h-0.9zM53.7 36.5h0.9v0.9h-0.9zM62.3 34.1h0.9v0.9h-0.9zM64.6 36.4h0.9v0.9h-0.9zM35.2 53.3h0.9v0.9h-0.9zM47.9 37.7h0.9v0.9h-0.9zM42.0 63.6h0.9v0.9h-0.9zM49.2 52.1h0.9v0.9h-0.9zM55.9 41.6h0.9v0.9h-0.9zM58.9 46.6h0.9v0.9h-0.9zM42.6 46.9h0.9v0.9h-0.9zM29.8 58.4h0.9v0.9h-0.9zM30.3 61.4h0.9v0.9h-0.9zM35.3 66.6h0.9v0.9h-0.9zM48.6 65.4h0.9v0.9h-0.9zM31.8 58.4h0.9v0.9h-0.9zM53.4 55.0h0.9v0.9h-0.9zM43.4 44.9h0.9v0.9h-0.9zM29.9 39.6h0.9v0.9h-0.9zM35.8 59.8h0.9v0.9h-0.9zM45.1 49.3h0.9v0.9h-0.9zM35.6 53.9h0.9v0.9h-0.9zM26.7 45.2h0.9v0.9h-0.9zM54.2 41.1h0.9v0.9h-0.9zM43.3 47.4h0.9v0.9h-0.9zM30.1 28.7h0.9v0.9h-0.9zM34.6 42.8h0.9v0.9h-0.9zM32.7 51.2h0.9v0.9h-0.9zM48.4 59.2h0.9v0.9h-0.9zM49.0 38.1h0.9v0.9h-0.9zM61.1 56.0h0.9v0.9h-0.9zM53.5 36.8h0.9v0.9h-0.9zM50.9 65.0h0.9v0.9h-0.9zM38.0 53.8h0.9v0.9h-0.9zM44.2 59.7h0.9v0.9h-0.9zM46.7 55.0h0.9v0.9h-0.9zM34.1 37.9h0.9v0.9h-0.9zM33.3 58.1h0.9v0.9h-0.9zM60.6 44.3h0.9v0.9h-0.9zM25.6 56.2h0.9v0.9h-0.9zM44.4 41.7h0.9v0.9h-0.9zM62.6 60.3h0.9v0.9h-0.9zM44.8 35.7h0.9v0.9h-0.9zM59.7 65.3h0.9v0.9h-0.9zM54.7 71.1h0.9v0.9h-0.9zM32.7 40.2h0.9v0.9h-0.9zM55.2 57.2h0.9v0.9h-0.9zM44.4 46.2h0.9v0.9h-0.9zM57.0 55.0h0.9v0.9h-0.9zM55.2 38.5h0.9v0.9h-0.9zM45.6 56.9h0.9v0.9h-0.9zM57.0 32.3h0.9v0.9h-0.9zM42.5 44.2h0.9v0.9h-0.9zM45.0 50.3h0.9v0.9h-0.9zM49.9 61.3h0.9v0.9h-0.9zM48.1 51.1h0.9v0.9h-0.9zM55.4 68.5h0.9v0.9h-0.9zM45.7 42.5h0.9v0.9h-0.9zM65.9 62.9h0.9v0.9h-0.9zM70.8 47.1h0.9v0.9h-0.9zM40.4 50.0h0.9v0.9h-0.9zM43.9 34.7h0.9v0.9h-0.9zM54.9 34.3h0.9v0.9h-0.9zM32.3 55.1h0.9v0.9h-0.9zM31.2 35.9h0.9v0.9h-0.9zM20.7 37.1h0.9v0.9h-0.9zM53.0 44.3h0.9v0.9h-0.9zM61.0 54.9h0.9v0.9h-0.9zM22.8 31.2h0.9v0.9h-0.9zM27.0 45.1h0.9v0.9h-0.9zM45.4 44.7h0.9v0.9h-0.9zM38.6 40.8h0.9v0.9h-0.9zM47.0 61.4h0.9v0.9h-0.9zM32.3 66.9h0.9v0.9h-0.9zM35.0 48.6h0.9v0.9h-0.9zM64.9 59.2h0.9v0.9h-0.9zM45.6 29.2h0.9v0.9h-0.9zM46.0 47.8h0.9v0.9h-0.9zM42.4 65.1h0.9v0.9h-0.9zM38.5 73.4h0.9v0.9h-0.9zM45.6 54.0h0.9v0.9h-0.9zM41.3 53.2h0.9v0.9h-0.9zM61.1 54.9h0.9v0.9h-0.9zM33.1 42.9h0.9v0.9h-0.9zM58.9 58.6h0.9v0.9h-0.9zM34.9 50.5h0.9v0.9h-0.9zM46.2 58.9h0.9v0.9h-0.9zM33.6 53.2h0.9v0.9h-0.9zM29.6 42.8h0.9v0.9h-0.9zM42.3 68.2h0.9v0.9h-0.9zM44.0 71.8h0.9v0.9h-0.9zM49.6 67.5h0.9v0.9h-0.9zM43.1 30.6h0.9v0.9h-0.9zM66.2 50.2h0.9v0.9h-0.9zM39.0 59.3h0.9v0.9h-0.9zM40.6 47.5h0.9v0.9h-0.9zM47.4 56.8h0.9v0.9h-0.9zM38.1 42.4h0.9v0.9h-0.9zM64.2 41.7h0.9v0.9h-0.9zM34.3 49.8h0.9v0.9h-0.9zM43.3 55.6h0.9v0.9h-0.9zM63.7 67.6h0.9v0.9h-0.9zM44.5 53.5h0.9v0.9h-0.9zM56.6 50.5h0.9v0.9h-0.9zM47.0 39.0h0.9v0.9h-0.9zM49.8 51.0h0.9v0.9h-0.9zM27.9 54.9h0.9v0.9h-0.9zM71.5 56.1h0.9v0.9h-0.9zM35.5 67.4h0.9v0.9h-0.9zM49.3 54.3h0.9v0.9h-0.9zM63.1 62.9h0.9v0.9h-0.9zM70.0 42.5h0.9v0.9h-0.9zM39.8 51.0h0.9v0.9h-0.9zM47.4 37.9h0.9v0.9h-0.9zM48.4 35.3h0.9v0.9h-0.9zM38.3 49.0h0.9v0.9h-0.9zM48.1 55.9h0.9v0.9h-0.9zM36.0 56.1h0.9v0.9h-0.9zM48.6 50.9h0.9v0.9h-0.9zM45.4 45.9h0.9v0.9h-0.9zM66.6 68.4h0.9v0.9h-0.9zM48.1 67.8h0.9v0.9h-0.9zM34.6 45.8h0.9v0.9h-0.9zM41.1 57.3h0.9v0.9h-0.9zM41.1 41.1h0.9v0.9h-0.9zM27.1 38.9h0.9v0.9h-0.9zM56.2 57.8h0.9v0.9h-0.9zM28.2 74.2h0.9v0.9h-0.9zM39.2 46.5h0.9v0.9h-0.9zM43.0 52.5h0.9v0.9h-0.9zM40.5 51.6h0.9v0.9h-0.9zM54.3 62.9h0.9v0.9h-0.9zM36.9 50.0h0.9v0.9h-0.9zM36.0 46.8h0.9v0.9h-0.9zM43.8 48.2h0.9v0.9h-0.9zM52.1 41.0h0.9v0.9h-0.9zM49.6 60.8h0.9v0.9h-0.9zM41.3 48.1h0.9v0.9h-0.9zM52.2 47.6h0.9v0.9h-0.9zM41.1 54.5h0.9v0.9h-0.9zM47.9 58.9h0.9v0.9h-0.9zM28.6 47.0h0.9v0.9h-0.9zM50.3 58.6h0.9v0.9h-0.9zM38.0 46.6h0.9v0.9h-0.9zM63.2 55.2h0.9v0.9h-0.9zM59.7 36.0h0.9v0.9h-0.9zM50.1 45.4h0.9v0.9h-0.9zM39.0 67.1h0.9v0.9h-0.9zM32.4 40.8h0.9v0.9h-0.9zM36.7 49.1h0.9v0.9h-0.9zM45.4 57.0h0.9v0.9h-0.9zM59.8 57.6h0.9v0.9h-0.9zM66.0 64.7h0.9v0.9h-0.9zM51.5 50.3h0.9v0.9h-0.9zM61.4 48.4h0.9v0.9h-0.9zM56.8 52.4h0.9v0.9h-0.9zM38.4 59.9h0.9v0.9h-0.9zM53.2 55.7h0.9v0.9h-0.9zM58.0 53.4h0.9v0.9h-0.9zM36.3 53.0h0.9v0.9h-0.9zM67.2 40.5h0.9v0.9h-0.9zM23.4 52.1h0.9v0.9h-0.9zM32.9 68.0h0.9v0.9h-0.9zM46.9 41.0h0.9v0.9h-0.9zM44.3 40.9h0.9v0.9h-0.9zM50.8 63.1h0.9v0.9h-0.9zM59.4 64.5h0.9v0.9h-0.9zM44.8 66.1h0.9v0.9h-0.9zM50.8 36.9h0.9v0.9h-0.9zM61.2 41.5h0.9v0.9h-0.9zM38.0 33.5h0.9v0.9h-0.9zM35.2 27.0h0.9v0.9h-0.9zM30.4 42.1h0.9v0.9h-0.9zM30.9 47.4h0.9v0.9h-0.9zM54.5 48.3h0.9v0.9h-0.9zM50.2 65.2h0.9v0.9h-0.9zM37.8 69.6h0.9v0.9h-0.9zM44.5 51.4h0.9v0.9h-0.9zM49.3 68.1h0.9v0.9h-0.9zM30.6 63.0h0.9v0.9h-0.9zM39.3 53.1h0.9v0.9h-0.9zM58.9 61.1h0.9v0.9h-0.9zM32.5 41.2h0.9v0.9h-0.9zM30.7 51.5h0.9v0.9h-0.9zM69.3 50.4h0.9v0.9h-0.9zM24.8 60.8h0.9v0.9h-0.9zM34.2 33.1h0.9v0.9h-0.9zM49.6 51.9h0.9v0.9h-0.9zM47.1 60.5h0.9v0.9h-0.9zM56.4 27.2h0.9v0.9h-0.9zM47.0 65.7h0.9v0.9h-0.9zM59.8 39.7h0.9v0.9h-0.9zM23.3 38.8h0.9v0.9h-0.9zM49.7 49.6h0.9v0.9h-0.9zM54.7 49.9h0.9v0.9h-0.9zM29.9 38.8h0.9v0.9h-0.9zM42.2 61.9h0.9v0.9h-0.9zM62.6 40.1h0.9v0.9h-0.9zM50.3 51.2h0.9v0.9h-0.9zM31.2 38.0h0.9v0.9h-0.9zM63.6 46.8h0.9v0.9h-0.9zM44.0 57.4h0.9v0.9h-0.9zM49.3 60.2h0.9v0.9h-0.9zM35.4 47.5h0.9v0.9h-0.9zM48.0 56.1h0.9v0.9h-0.9zM36.3 31.7h0.9v0.9h-0.9zM55.3 62.1h0.9v0.9h-0.9zM56.3 50.6h0.9v0.9h-0.9zM23.6 47.3h0.9v0.9h-0.9zM69.1 55.6h0.9v0.9h-0.9zM48.0 32.6h0.9v0.9h-0.9zM37.3 63.6h0.9v0.9h-0.9zM49.0 50.4h0.9v0.9h-0.9zM59.9 60.5h0.9v0.9h-0.9zM51.5 50.0h0.9v0.9h-0.9zM50.0 64.3h0.9v0.9h-0.9zM48.7 37.0h0.9v0.9h-0.9zM42.9 48.7h0.9v0.9h-0.9zM50.0 67.1h0.9v0.9h-0.9zM44.2 46.8h0.9v0.9h-0.9zM53.8 57.6h0.9v0.9h-0.9zM35.7 57.5h0.9v0.9h-0.9zM47.3 56.1h0.9v0.9h-0.9zM26.8 28.5h0.9v0.9h-0.9zM27.1 31.9h0.9v0.9h-0.9zM56.6 63.9h0.9v0.9h-0.9zM29.6 69.5h0.9v0.9h-0.9zM31.5 42.4h0.9v0.9h-0.9zM70.7 36.7h0.9v0.9h-0.9zM53.4 61.8h0.9v0.9h-0.9zM58.2 59.9h0.9v0.9h-0.9zM48.0 70.3h0.9v0.9h-0.9zM44.1 53.2h0.9v0.9h-0.9zM49.8 48.0h0.9v0.9h-0.9zM43.3 66.4h0.9v0.9h-0.9zM64.3 59.2h0.9v0.9h-0.9zM43.7 46.1h0.9v0.9h-0.9zM40.4 47.7h0.9v0.9h-0.9zM39.8 51.0h0.9v0.9h-0.9zM42.4 64.9h0.9v0.9h-0.9zM28.2 47.2h0.9v0.9h-0.9zM54.7 47.2h0.9v0.9h-0.9zM40.2 58.6h0.9v0.9h-0.9zM44.1 40.6h0.9v0.9h-0.9zM46.9 59.6h0.9v0.9h-0.9zM24.9 62.9h0.9v0.9h-0.9zM24.7 60.4h0.9v0.9h-0.9zM29.4 54.8h0.9v0.9h-0.9zM44.6 64.3h0.9v0.9h-0.9zM44.2 47.0h0.9v0.9h-0.9zM36.2 54.6h0.9v0.9h-0.9zM42.2 62.5h0.9v0.9h-0.9zM50.0 66.9h0.9v0.9h-0.9zM53.6 54.2h0.9v0.9h-0.9zM44.3 59.6h0.9v0.9h-0.9zM54.2 36.2h0.9v0.9h-0.9zM49.9 47.8h0.9v0.9h-0.9zM49.0 61.6h0.9v0.9h-0.9zM22.3 50.8h0.9v0.9h-0.9zM57.1 31.5h0.9v0.9h-0.9zM47.8 52.3h0.9v0.9h-0.9zM38.4 62.9h0.9v0.9h-0.9zM56.1 52.4h0.9v0.9h-0.9zM62.0 69.6h0.9v0.9h-0.9zM47.6 62.2h0.9v0.9h-0.9zM55.6 72.8h0.9v0.9h-0.9zM54.8 60.4h0.9v0.9h-0.9zM46.7 60.9h0.9v0.9h-0.9zM64.0 51.4h0.9v0.9h-0.9zM44.0 40.8h0.9v0.9h-0.9zM39.3 45.5h0.9v0.9h-0.9zM59.4 56.5h0.9v0.9h-0.9zM21.2 54.0h0.9v0.9h-0.9zM67.1 51.8h0.9v0.9h-0.9zM42.5 49.8h0.9v0.9h-0.9zM50.6 33.1h0.9v0.9h-0.9zM43.6 49.8h0.9v0.9h-0.9zM54.3 48.1h0.9v0.9h-0.9zM47.0 37.2h0.9v0.9h-0.9zM30.4 53.1h0.9v0.9h-0.9zM64.9 40.8h0.9v0.9h-0.9zM26.5 66.5h0.9v0.9h-0.9zM50.0 61.9h0.9v0.9h-0.9zM43.4 55.4h0.9v0.9h-0.9zM44.4 52.5h0.9v0.9h-0.9zM66.7 47.7h0.9v0.9h-0.9zM40.8 52.6h0.9v0.9h-0.9zM43.3 72.6h0.9v0.9h-0.9zM43.6 57.1h0.9v0.9h-0.9zM30.9 59.0h0.9v0.9h-0.9zM53.2 60.3h0.9v0.9h-0.9zM26.4 45.1h0.9v0.9h-0.9zM44.3 72.0h0.9v0.9h-0.9zM68.4 64.7h0.9v0.9h-0.9zM37.9 49.9h0.9v0.9h-0.9zM54.9 29.2h0.9v0.9h-0.9zM62.0 70.1h0.9v0.9h-0.9zM55.9 49.1h0.9v0.9h-0.9zM49.8 33.5h0.9v0.9h-0.9zM34.2 47.2h0.9v0.9h-0.9zM36.5 72.4h0.9v0.9h-0.9zM50.9 23.7h0.9v0.9h-0.9zM59.2 58.5h0.9v0.9h-0.9zM42.7 43.9h0.9v0.9h-0.9zM70.2 55.3h0.9v0.9h-0.9zM48.6 33.4h0.9v0.9h-0.9zM38.6 63.2h0.9v0.9h-0.9zM47.0 47.1h0.9v0.9h-0.9zM41.8 33.5h0.9v0.9h-0.9zM28.1 33.7h0.9v0.9h-0.9zM49.2 63.5h0.9v0.9h-0.9zM41.3 65.6h0.9v0.9h-0.9zM64.9 39.5h0.9v0.9h-0.9zM64.3 49.0h0.9v0.9h-0.9zM44.6 46.8h0.9v0.9h-0.9zM33.4 59.6h0.9v0.9h-0.9zM65.4 67.9h0.9v0.9h-0.9zM38.8 58.4h0.9v0.9h-0.9zM58.0 59.3h0.9v0.9h-0.9zM36.5 42.5h0.9v0.9h-0.9zM47.1 55.2h0.9v0.9h-0.9zM38.7 36.7h0.9v0.9h-0.9zM30.8 52.5h0.9v0.9h-0.9zM22.9 65.9h0.9v0.9h-0.9zM53.2 55.0h0.9v0.9h-0.9zM47.9 42.0h0.9v0.9h-0.9zM38.7 63.1h0.9v0.9h-0.9zM39.2 71.4h0.9v0.9h-0.9zM57.6 60.6h0.9v0.9h-0.9zM42.6 41.3h0.9v0.9h-0.9zM43.6 40.9h0.9v0.9h-0.9zM41.0 48.1h0.9v0.9h-0.9zM38.7 66.0h0.9v0.9h-0.9zM34.8 43.4h0.9v0.9h-0.9zM59.5 55.5h0.9v0.9h-0.9zM51.3 44.8h0.9v0.9h-0.9zM49.3 68.1h0.9v0.9h-0.9zM45.6 57.5h0.9v0.9h-0.9zM60.0 59.6h0.9v0.9h-0.9zM60.2 38.1h0.9v0.9h-0.9zM24.3 38.9h0.9v0.9h-0.9zM50.5 44.3h0.9v0.9h-0.9zM21.2 74.0h0.9v0.9h-0.9zM61.1 45.9h0.9v0.9h-0.9zM37.5 44.0h0.9v0.9h-0.9zM54.0 57.8h0.9v0.9h-0.9zM47.0 68.8h0.9v0.9h-0.9zM35.5 38.0h0.9v0.9h-0.9zM45.4 51.8h0.9v0.9h-0.9zM46.5 57.3h0.9v0.9h-0.9zM26.8 71.4h0.9v0.9h-0.9zM23.9 56.3h0.9v0.9h-0.9zM49.6 62.2h0.9v0.9h-0.9zM48.0 42.5h0.9v0.9h-0.9zM43.0 35.9h0.9v0.9h-0.9zM43.4 49.6h0.9v0.9h-0.9zM38.1 58.8h0.9v0.9h-0.9zM61.0 51.9h0.9v0.9h-0.9zM40.4 39.0h0.9v0.9h-0.9zM36.5 43.7h0.9v0.9h-0.9zM43.5 61.8h0.9v0.9h-0.9zM47.6 70.3h0.9v0.9h-0.9zM50.1 55.1h0.9v0.9h-0.9zM48.5 34.5h0.9v0.9h-0.9zM44.6 43.9h0.9v0.9h-0.9zM42.7 51.9h0.9v0.9h-0.9zM42.0 51.6h0.9v0.9h-0.9zM49.6 56.0h0.9v0.9h-0.9zM37.3 63.2h0.9v0.9h-0.9zM46.0 56.7h0.9v0.9h-0.9zM66.2 72.3h0.9v0.9h-0.9zM71.4 49.5h0.9v0.9h-0.9zM50.3 58.1h0.9v0.9h-0.9zM46.5 50.5h0.9v0.9h-0.9zM55.3 66.0h0.9v0.9h-0.9zM71.7 45.9h0.9v0.9h-0.9zM50.9 43.3h0.9v0.9h-0.9zM42.1 24.0h0.9v0.9h-0.9zM70.8 33.2h0.9v0.9h-0.9zM46.6 31.0h0.9v0.9h-0.9zM41.3 40.0h0.9v0.9h-0.9zM20.2 39.8h0.9v0.9h-0.9zM42.5 50.8h0.9v0.9h-0.9zM22.0 59.9h0.9v0.9h-0.9zM41.5 38.7h0.9v0.9h-0.9zM63.5 43.9h0.9v0.9h-0.9zM48.0 70.4h0.9v0.9h-0.9zM45.9 51.0h0.9v0.9h-0.9zM56.8 47.1h0.9v0.9h-0.9zM46.1 50.5h0.9v0.9h-0.9zM40.7 61.2h0.9v0.9h-0.9zM48.6 69.2h0.9v0.9h-0.9zM49.9 35.3h0.9v0.9h-0.9zM50.0 48.8h0.9v0.9h-0.9zM42.2 63.8h0.9v0.9h-0.9zM50.2 33.1h0.9v0.9h-0.9zM69.3 50.6h0.9v0.9h-0.9zM25.7 48.3h0.9v0.9h-0.9zM51.1 38.8h0.9v0.9h-0.9zM34.9 30.8h0.9v0.9h-0.9zM48.5 45.9h0.9v0.9h-0.9zM63.5 55.5h0.9v0.9h-0.9zM48.1 44.9h0.9v0.9h-0.9zM57.0 35.7h0.9v0.9h-0.9zM48.6 58.0h0.9v0.9h-0.9zM35.8 38.0h0.9v0.9h-0.9zM59.1 74.1h0.9v0.9h-0.9zM49.9 74.2h0.9v0.9h-0.9zM50.7 50.0h0.9v0.9h-0.9zM40.4 37.6h0.9v0.9h-0.9zM56.2 45.4h0.9v0.9h-0.9zM37.6 56.6h0.9v0.9h-0.9zM51.0 43.3h0.9v0.9h-0.9zM47.7 50.3h0.9v0.9h-0.9zM46.8 50.5h0.9v0.9h-0.9zM40.1 23.0h0.9v0.9h-0.9zM38.0 66.5h0.9v0.9h-0.9zM41.2 54.3h0.9v0.9h-0.9zM52.4 40.1h0.9v0.9h-0.9zM46.0 48.9h0.9v0.9h-0.9zM49.5 59.4h0.9v0.9h-0.9zM46.1 49.6h0.9v0.9h-0.9zM56.6 53.6h0.9v0.9h-0.9zM27.4 67.2h0.9v0.9h-0.9zM50.6 45.1h0.9v0.9h-0.9zM44.4 40.7h0.9v0.9h-0.9zM46.8 34.5h0.9v0.9h-0.9zM57.2 57.8h0.9v0.9h-0.9zM33.2 58.2h0.9v0.9h-0.9zM27.7 45.7h0.9v0.9h-0.9zM33.1 60.4h0.9v0.9h-0.9zM53.5 36.0h0.9v0.9h-0.9zM47.3 58.1h0.9v0.9h-0.9zM26.3 68.1h0.9v0.9h-0.9zM63.1 47.9h0.9v0.9h-0.9zM31.5 66.6h0.9v0.9h-0.9zM27.9 51.8h0.9v0.9h-0.9zM38.2 36.5h0.9v0.9h-0.9zM51.8 66.0h0.9v0.9h-0.9zM28.7 59.9h0.9v0.9h-0.9zM46.2 43.9h0.9v0.9h-0.9zM38.7 58.7h0.9v0.9h-0.9zM58.5 48.7h0.9v0.9h-0.9zM49.8 28.7h0.9v0.9h-0.9zM38.8 51.9h0.9v0.9h-0.9zM41.5 55.6h0.9v0.9h-0.9zM34.4 59.7h0.9v0.9h-0.9zM37.9 50.5h0.9v0.9h-0.9zM52.8 68.3h0.9v0.9h-0.9zM32.7 50.8h0.9v0.9h-0.9zM32.7 52.5h0.9v0.9h-0.9zM38.0 37.5h0.9v0.9h-0.9zM58.4 56.2h0.9v0.9h-0.9zM45.0 67.9h0.9v0.9h-0.9zM25.2 56.7h0.9v0.9h-0.9zM64.3 47.6h0.9v0.9h-0.9zM34.5 42.4h0.9v0.9h-0.9zM59.7 64.7h0.9v0.9h-0.9zM48.8 63.1h0.9v0.9h-0.9zM36.9 47.3h0.9v0.9h-0.9zM54.9 40.6h0.9v0.9h-0.9zM47.5 51.6h0.9v0.9h-0.9zM34.7 54.4h0.9v0.9h-0.9zM29.5 44.1h0.9v0.9h-0.9zM21.1 36.6h0.9v0.9h-0.9zM34.2 56.2h0.9v0.9h-0.9zM45.0 36.7h0.9v0.9h-0.9zM45.7 56.7h0.9v0.9h-0.9zM58.5 34.5h0.9v0.9h-0.9zM34.0 42.8h0.9v0.9h-0.9zM43.2 59.0h0.9v0.9h-0.9zM23.7 60.0h0.9v0.9h-0.9zM49.6 37.7h0.9v0.9h-0.9zM34.5 45.2h0.9v0.9h-0.9zM63.9 39.5h0.9v0.9h-0.9zM56.2 75.3h0.9v0.9h-0.9zM40.0 41.8h0.9v0.9h-0.9zM44.6 39.5h0.9v0.9h-0.9zM40.1 38.7h0.9v0.9h-0.9zM26.6 32.2h0.9v0.9h-0.9zM55.6 43.3h0.9v0.9h-0.9zM30.6 64.4h0.9v0.9h-0.9zM42.3 47.3h0.9v0.9h-0.9zM35.3 51.4h0.9v0.9h-0.9zM40.7 46.2h0.9v0.9h-0.9zM42.3 60.7h0.9v0.9h-0.9zM42.1 67.2h0.9v0.9h-0.9zM56.2 39.0h0.9v0.9h-0.9zM32.7 35.8h0.9v0.9h-0.9zM35.2 60.0h0.9v0.9h-0.9zM40.3 45.4h0.9v0.9h-0.9zM45.5 25.0h0.9v0.9h-0.9zM48.2 49.0h0.9v0.9h-0.9zM52.4 47.7h0.9v0.9h-0.9zM56.4 64.1h0.9v0.9h-0.9zM40.7 58.2h0.9v0.9h-0.9zM33.4 42.7h0.9v0.9h-0.9zM31.0 48.7h0.9v0.9h-0.9zM29.5 38.1h0.9v0.9h-0.9zM41.6 33.5h0.9v0.9h-0.9zM51.3 40.0h0.9v0.9h-0.9zM41.2 47.5h0.9v0.9h-0.9zM56.5 58.5h0.9v0.9h-0.9zM41.3 44.0h0.9v0.9h-0.9zM54.6 49.5h0.9v0.9h-0.9zM31.5 52.7h0.9v0.9h-0.9zM51.8 50.7h0.9v0.9h-0.9zM44.8 69.0h0.9v0.9h-0.9zM37.9 60.4h0.9v0.9h-0.9zM63.1 71.7h0.9v0.9h-0.9zM30.3 57.6h0.9v0.9h-0.9zM59.6 63.5h0.9v0.9h-0.9zM58.5 57.9h0.9v0.9h-0.9zM23.7 60.6h0.9v0.9h-0.9zM53.7 53.6h0.9v0.9h-0.9zM56.5 51.0h0.9v0.9h-0.9zM54.0 54.2h0.9v0.9h-0.9zM35.4 63.2h0.9v0.9h-0.9zM37.5 58.9h0.9v0.9h-0.9zM31.7 54.2h0.9v0.9h-0.9zM50.9 65.2h0.9v0.9h-0.9zM31.1 44.7h0.9v0.9h-0.9zM44.2 38.8h0.9v0.9h-0.9zM52.5 58.9h0.9v0.9h-0.9zM34.3 58.2h0.9v0.9h-0.9zM50.8 75.1h0.9v0.9h-0.9zM40.1 66.3h0.9v0.9h-0.9zM40.1 48.0h0.9v0.9h-0.9zM39.2 54.7h0.9v0.9h-0.9zM26.3 46.9h0.9v0.9h-0.9zM62.3 29.5h0.9v0.9h-0.9zM55.1 60.7h0.9v0.9h-0.9zM39.2 42.0h0.9v0.9h-0.9zM58.2 47.2h0.9v0.9h-0.9zM48.1 48.7h0.9v0.9h-0.9zM30.8 63.9h0.9v0.9h-0.9zM52.3 40.0h0.9v0.9h-0.9zM57.8 36.3h0.9v0.9h-0.9zM28.9 61.8h0.9v0.9h-0.9zM39.2 51.4h0.9v0.9h-0.9zM63.7 38.3h0.9v0.9h-0.9zM51.8 46.5h0.9v0.9h-0.9zM45.6 48.7h0.9v0.9h-0.9zM34.8 52.0h0.9v0.9h-0.9zM33.2 51.6h0.9v0.9h-0.9zM32.8 48.0h0.9v0.9h-0.9zM46.0 34.5h0.9v0.9h-0.9zM43.6 59.9h0.9v0.9h-0.9zM45.8 62.6h0.9v0.9h-0.9zM32.3 58.5h0.9v0.9h-0.9zM44.3 62.0h0.9v0.9h-0.9zM43.6 51.8h0.9v0.9h-0.9zM42.8 49.5h0.9v0.9h-0.9zM31.7 43.1h0.9v0.9h-0.9zM44.1 54.1h0.9v0.9h-0.9zM52.0 57.5h0.9v0.9h-0.9zM43.5 32.4h0.9v0.9h-0.9zM29.9 71.8h0.9v0.9h-0.9zM49.5 59.4h0.9v0.9h-0.9zM31.6 45.6h0.9v0.9h-0.9zM47.6 42.0h0.9v0.9h-0.9zM58.8 42.2h0.9v0.9h-0.9zM39.2 37.4h0.9v0.9h-0.9zM48.7 67.0h0.9v0.9h-0.9zM47.0 51.3h0.9v0.9h-0.9zM40.0 61.0h0.9v0.9h-0.9zM44.4 72.6h0.9v0.9h-0.9zM41.2 46.8h0.9v0.9h-0.9zM38.1 28.4h0.9v0.9h-0.9zM47.2 52.9h0.9v0.9h-0.9zM25.1 37.2h0.9v0.9h-0.9zM31.5 47.6h0.9v0.9h-0.9zM32.1 60.6h0.9v0.9h-0.9zM58.8 43.5h0.9v0.9h-0.9zM44.7 38.6h0.9v0.9h-0.9zM60.3 38.3h0.9v0.9h-0.9zM34.8 51.4h0.9v0.9h-0.9zM42.1 48.5h0.9v0.9h-0.9zM32.4 50.4h0.9v0.9h-0.9zM37.0 46.3h0.9v0.9h-0.9zM56.4 44.2h0.9v0.9h-0.9zM49.4 43.8h0.9v0.9h-0.9zM56.5 42.2h0.9v0.9h-0.9zM32.7 48.4h0.9v0.9h-0.9zM59.4 46.5h0.9v0.9h-0.9zM33.9 49.5h0.9v0.9h-0.9zM35.8 54.5h0.9v0.9h-0.9zM36.2 55.2h0.9v0.9h-0.9zM55.1 57.3h0.9v0.9h-0.9zM62.5 55.0h0.9v0.9h-0.9zM66.5 66.6h0.9v0.9h-0.9zM41.1 60.7h0.9v0.9h-0.9zM35.5 48.9h0.9v0.9h-0.9zM43.3 41.9h0.9v0.9h-0.9zM48.1 50.3h0.9v0.9h-0.9zM68.3 60.6h0.9v0.9h-0.9zM41.5 43.3h0.9v0.9h-0.9zM37.9 43.1h0.9v0.9h-0.9zM35.4 51.5h0.9v0.9h-0.9zM28.2 47.7h0.9v0.9h-0.9zM50.2 44.4h0.9v0.9h-0.9zM30.9 45.4h0.9v0.9h-0.9zM54.6 42.2h0.9v0.9h-0.9zM63.0 31.5h0.9v0.9h-0.9zM34.7 58.7h0.9v0.9h-0.9zM60.5 48.9h0.9v0.9h-0.9zM24.6 48.0h0.9v0.9h-0.9zM33.5 43.2h0.9v0.9h-0.9zM39.9 44.2h0.9v0.9h-0.9zM43.9 53.1h0.9v0.9h-0.9zM40.9 30.0h0.9v0.9h-0.9zM45.2 46.3h0.9v0.9h-0.9zM64.2 67.4h0.9v0.9h-0.9zM47.0 45.5h0.9v0.9h-0.9zM49.9 70.8h0.9v0.9h-0.9zM43.3 49.6h0.9v0.9h-0.9zM37.4 50.6h0.9v0.9h-0.9zM54.4 40.5h0.9v0.9h-0.9zM57.0 53.0h0.9v0.9h-0.9zM71.0 53.7h0.9v0.9h-0.9zM59.5 39.6h0.9v0.9h-0.9zM43.5 69.3h0.9v0.9h-0.9zM46.3 36.7h0.9v0.9h-0.9zM51.7 58.0h0.9v0.9h-0.9zM44.3 45.9h0.9v0.9h-0.9zM25.2 71.5h0.9v0.9h-0.9zM39.2 55.7h0.9v0.9h-0.9zM38.5 43.0h0.9v0.9h-0.9zM47.8 40.9h0.9v0.9h-0.9zM55.7 32.3h0.9v0.9h-0.9zM51.6 65.6h0.9v0.9h-0.9zM39.2 54.1h0.9v0.9h-0.9zM54.4 46.3h0.9v0.9h-0.9zM41.8 49.3h0.9v0.9h-0.9zM42.4 46.2h0.9v0.9h-0.9zM38.0 40.5h0.9v0.9h-0.9zM36.7 53.4h0.9v0.9h-0.9zM58.4 70.9h0.9v0.9h-0.9zM29.2 39.9h0.9v0.9h-0.9zM44.2 39.9h0.9v0.9h-0.9zM35.3 48.9h0.9v0.9h-0.9zM37.8 41.5h0.9v0.9h-0.9zM47.1 42.3h0.9v0.9h-0.9zM41.3 55.4h0.9v0.9h-0.9zM53.1 54.0h0.9v0.9h-0.9zM57.5 53.3h0.9v0.9h-0.9zM27.0 69.0h0.9v0.9h-0.9zM63.7 64.7h0.9v0.9h-0.9zM39.3 59.0h0.9v0.9h-0.9zM36.4 44.8h0.9v0.9h-0.9zM51.3 52.6h0.9v0.9h-0.9zM36.8 34.7h0.9v0.9h-0.9zM54.2 51.6h0.9v0.9h-0.9zM46.3 41.1h0.9v0.9h-0.9zM35.4 51.0h0.9v0.9h-0.9zM22.4 66.0h0.9v0.9h-0.9zM44.9 64.6h0.9v0.9h-0.9zM56.0 44.8h0.9v0.9h-0.9zM50.7 38.3h0.9v0.9h-0.9zM33.8 67.5h0.9v0.9h-0.9zM38.3 42.4h0.9v0.9h-0.9zM50.3 51.9h0.9v0.9h-0.9zM56.2 36.5h0.9v0.9h-0.9zM41.6 38.8h0.9v0.9h-0.9zM45.0 48.4h0.9v0.9h-0.9zM33.4 30.9h0.9v0.9h-0.9zM28.5 62.8h0.9v0.9h-0.9zM40.3 38.7h0.9v0.9h-0.9zM46.7 38.3h0.9v0.9h-0.9zM55.6 62.0h0.9v0.9h-0.9zM45.1 44.8h0.9v0.9h-0.9zM22.9 57.4h0.9v0.9h-0.9zM68.8 54.0h0.9v0.9h-0.9zM38.2 61.2h0.9v0.9h-0.9zM40.0 37.1h0.9v0.9h-0.9zM43.4 58.8h0.9v0.9h-0.9zM22.9 64.0h0.9v0.9h-0.9zM64.1 51.4h0.9v0.9h-0.9zM38.9 34.7h0.9v0.9h-0.9zM51.1 48.3h0.9v0.9h-0.9zM59.2 70.3h0.9v0.9h-0.9zM59.5 53.8h0.9v0.9h-0.9zM23.0 67.4h0.9v0.9h-0.9zM38.9 45.9h0.9v0.9h-0.9zM57.5 57.4h0.9v0.9h-0.9zM32.2 47.7h0.9v0.9h-0.9zM41.3 49.9h0.9v0.9h-0.9zM30.7 69.4h0.9v0.9h-0.9zM43.1 59.5h0.9v0.9h-0.9zM53.3 43.0h0.9v0.9h-0.9zM39.5 62.1h0.9v0.9h-0.9zM64.4 34.3h0.9v0.9h-0.9zM67.6 45.0h0.9v0.9h-0.9zM42.5 46.6h0.9v0.9h-0.9zM51.8 49.4h0.9v0.9h-0.9zM44.2 40.7h0.9v0.9h-0.9zM62.1 56.0h0.9v0.9h-0.9zM52.5 68.1h0.9v0.9h-0.9zM41.6 53.5h0.9v0.9h-0.9zM42.9 62.1h0.9v0.9h-0.9zM48.2 31.6h0.9v0.9h-0.9zM51.6 49.2h0.9v0.9h-0.9zM47.8 63.3h0.9v0.9h-0.9zM41.5 59.4h0.9v0.9h-0.9zM45.0 50.7h0.9v0.9h-0.9zM38.8 50.5h0.9v0.9h-0.9zM41.1 61.2h0.9v0.9h-0.9zM43.9 39.3h0.9v0.9h-0.9zM54.2 51.4h0.9v0.9h-0.9zM51.5 67.8h0.9v0.9h-0.9zM47.4 32.9h0.9v0.9h-0.9zM25.8 51.1h0.9v0.9h-0.9zM43.7 30.5h0.9v0.9h-0.9zM39.0 65.2h0.9v0.9h-0.9zM30.9 46.4h0.9v0.9h-0.9zM57.9 32.6h0.9v0.9h-0.9zM52.8 69.1h0.9v0.9h-0.9zM32.9 50.0h0.9v0.9h-0.9zM64.6 69.5h0.9v0.9h-0.9zM64.2 50.7h0.9v0.9h-0.9zM40.5 49.8h0.9v0.9h-0.9zM40.4 61.7h0.9v0.9h-0.9zM55.0 58.0h0.9v0.9h-0.9zM36.7 61.2h0.9v0.9h-0.9zM38.7 38.0h0.9v0.9h-0.9zM42.7 35.3h0.9v0.9h-0.9zM36.6 41.9h0.9v0.9h-0.9zM31.9 40.9h0.9v0.9h-0.9zM40.0 43.7h0.9v0.9h-0.9zM43.1 34.4h0.9v0.9h-0.9zM45.8 34.9h0.9v0.9h-0.9zM29.5 35.7h0.9v0.9h-0.9zM34.1 33.0h0.9v0.9h-0.9zM41.4 39.3h0.9v0.9h-0.9zM39.4 30.8h0.9v0.9h-0.9zM46.0 39.1h0.9v0.9h-0.9zM42.4 38.6h0.9v0.9h-0.9zM38.0 40.4h0.9v0.9h-0.9zM36.9 43.2h0.9v0.9h-0.9zM33.2 27.9h0.9v0.9h-0.9zM34.1 36.9h0.9v0.9h-0.9zM38.3 37.4h0.9v0.9h-0.9zM38.4 39.0h0.9v0.9h-0.9zM35.1 39.5h0.9v0.9h-0.9zM39.1 33.6h0.9v0.9h-0.9zM26.4 38.0h0.9v0.9h-0.9zM38.7 41.8h0.9v0.9h-0.9zM42.1 38.3h0.9v0.9h-0.9zM42.4 34.5h0.9v0.9h-0.9zM33.5 43.0h0.9v0.9h-0.9zM29.5 36.9h0.9v0.9h-0.9zM30.3 31.6h0.9v0.9h-0.9zM47.7 29.2h0.9v0.9h-0.9zM45.7 35.0h0.9v0.9h-0.9zM32.0 29.6h0.9v0.9h-0.9zM37.3 39.8h0.9v0.9h-0.9zM39.2 33.0h0.9v0.9h-0.9zM45.0 38.0h0.9v0.9h-0.9zM38.9 39.7h0.9v0.9h-0.9zM39.1 35.6h0.9v0.9h-0.9zM38.0 33.9h0.9v0.9h-0.9zM37.5 32.8h0.9v0.9h-0.9zM28.3 34.4h0.9v0.9h-0.9zM35.2 34.0h0.9v0.9h-0.9zM34.4 34.6h0.9v0.9h-0.9zM36.3 44.8h0.9v0.9h-0.9zM39.3 40.8h0.9v0.9h-0.9zM41.5 40.9h0.9v0.9h-0.9zM38.4 40.8h0.9v0.9h-0.9zM41.9 36.4h0.9v0.9h-0.9zM34.6 37.0h0.9v0.9h-0.9zM35.8 39.1h0.9v0.9h-0.9zM33.7 35.2h0.9v0.9h-0.9zM37.4 39.2h0.9v0.9h-0.9zM35.5 30.5h0.9v0.9h-0.9zM34.8 40.8h0.9v0.9h-0.9zM34.9 42.6h0.9v0.9h-0.9zM33.3 36.0h0.9v0.9h-0.9zM40.4 42.2h0.9v0.9h-0.9zM34.5 43.5h0.9v0.9h-0.9zM37.1 38.8h0.9v0.9h-0.9zM45.8 40.8h0.9v0.9h-0.9zM34.9 36.8h0.9v0.9h-0.9zM31.2 42.0h0.9v0.9h-0.9zM38.0 45.3h0.9v0.9h-0.9zM42.7 37.2h0.9v0.9h-0.9zM32.8 35.7h0.9v0.9h-0.9zM42.9 36.5h0.9v0.9h-0.9zM42.3 42.5h0.9v0.9h-0.9zM44.2 38.2h0.9v0.9h-0.9zM40.0 31.5h0.9v0.9h-0.9zM38.0 37.2h0.9v0.9h-0.9zM41.1 29.4h0.9v0.9h-0.9zM34.4 47.3h0.9v0.9h-0.9zM37.0 35.0h0.9v0.9h-0.9zM36.7 36.5h0.9v0.9h-0.9zM34.3 39.7h0.9v0.9h-0.9zM37.6 42.1h0.9v0.9h-0.9zM49.7 40.3h0.9v0.9h-0.9zM38.1 43.6h0.9v0.9h-0.9zM28.7 45.1h0.9v0.9h-0.9zM30.0 35.0h0.9v0.9h-0.9zM36.5 31.2h0.9v0.9h-0.9zM32.8 37.8h0.9v0.9h-0.9zM38.4 31.0h0.9v0.9h-0.9zM20.0 40.0h0.9v0.9h-0.9zM27.2 38.6h0.9v0.9h-0.9zM38.7 40.6h0.9v0.9h-0.9zM33.1 34.4h0.9v0.9h-0.9zM52.8 36.7h0.9v0.9h-0.9zM30.6 31.3h0.9v0.9h-0.9zM34.7 44.7h0.9v0.9h-0.9zM39.9 33.2h0.9v0.9h-0.9zM28.7 34.4h0.9v0.9h-0.9zM36.0 38.4h0.9v0.9h-0.9zM38.8 42.0h0.9v0.9h-0.9zM28.9 30.3h0.9v0.9h-0.9zM35.6 39.7h0.9v0.9h-0.9zM33.1 38.3h0.9v0.9h-0.9zM35.6 42.2h0.9v0.9h-0.9zM35.0 35.1h0.9v0.9h-0.9zM38.9 41.5h0.9v0.9h-0.9zM32.6 36.6h0.9v0.9h-0.9zM32.2 32.1h0.9v0.9h-0.9zM49.3 34.4h0.9v0.9h-0.9zM34.4 35.6h0.9v0.9h-0.9zM31.7 36.5h0.9v0.9h-0.9zM35.6 38.8h0.9v0.9h-0.9zM33.1 30.9h0.9v0.9h-0.9zM35.4 40.2h0.9v0.9h-0.9zM43.0 36.7h0.9v0.9h-0.9zM34.7 33.8h0.9v0.9h-0.9zM44.2 34.5h0.9v0.9h-0.9zM33.3 36.9h0.9v0.9h-0.9zM34.9 37.4h0.9v0.9h-0.9zM38.4 44.6h0.9v0.9h-0.9zM38.9 39.0h0.9v0.9h-0.9zM28.2 46.9h0.9v0.9h-0.9zM38.9 41.0h0.9v0.9h-0.9zM34.4 36.7h0.9v0.9h-0.9zM34.1 36.3h0.9v0.9h-0.9zM33.9 40.6h0.9v0.9h-0.9zM41.9 36.9h0.9v0.9h-0.9zM34.5 40.8h0.9v0.9h-0.9zM35.0 39.5h0.9v0.9h-0.9zM32.6 43.3h0.9v0.9h-0.9zM33.6 39.6h0.9v0.9h-0.9zM45.4 38.9h0.9v0.9h-0.9zM34.7 40.4h0.9v0.9h-0.9zM44.4 27.3h0.9v0.9h-0.9zM34.0 36.5h0.9v0.9h-0.9zM40.8 30.5h0.9v0.9h-0.9zM40.5 37.4h0.9v0.9h-0.9zM39.2 32.6h0.9v0.9h-0.9zM43.1 48.7h0.9v0.9h-0.9zM36.8 39.8h0.9v0.9h-0.9zM30.5 24.6h0.9v0.9h-0.9zM35.7 36.1h0.9v0.9h-0.9zM39.8 37.4h0.9v0.9h-0.9zM28.9 27.2h0.9v0.9h-0.9zM42.1 41.4h0.9v0.9h-0.9zM35.4 36.0h0.9v0.9h-0.9zM39.9 34.8h0.9v0.9h-0.9zM29.1 42.7h0.9v0.9h-0.9zM28.6 35.3h0.9v0.9h-0.9zM43.2 39.2h0.9v0.9h-0.9zM42.1 43.8h0.9v0.9h-0.9zM37.2 30.6h0.9v0.9h-0.9zM26.8 27.3h0.9v0.9h-0.9zM40.2 30.7h0.9v0.9h-0.9zM35.4 37.6h0.9v0.9h-0.9zM38.0 37.0h0.9v0.9h-0.9zM43.1 38.6h0.9v0.9h-0.9zM42.0 36.8h0.9v0.9h-0.9zM36.3 37.9h0.9v0.9h-0.9zM38.8 40.6h0.9v0.9h-0.9zM33.5 39.9h0.9v0.9h-0.9zM51.3 25.1h0.9v0.9h-0.9zM39.6 36.6h0.9v0.9h-0.9zM34.9 34.5h0.9v0.9h-0.9zM29.7 38.2h0.9v0.9h-0.9zM32.2 44.2h0.9v0.9h-0.9zM37.9 45.0h0.9v0.9h-0.9zM36.8 30.7h0.9v0.9h-0.9zM38.5 38.1h0.9v0.9h-0.9zM40.8 26.3h0.9v0.9h-0.9zM36.5 43.7h0.9v0.9h-0.9zM36.6 27.9h0.9v0.9h-0.9zM38.4 39.3h0.9v0.9h-0.9zM43.8 39.7h0.9v0.9h-0.9zM30.7 42.4h0.9v0.9h-0.9zM40.0 42.5h0.9v0.9h-0.9zM35.2 41.8h0.9v0.9h-0.9zM24.6 31.1h0.9v0.9h-0.9zM39.5 44.3h0.9v0.9h-0.9zM39.3 37.9h0.9v0.9h-0.9zM35.2 35.2h0.9v0.9h-0.9zM42.2 29.1h0.9v0.9h-0.9zM37.6 43.9h0.9v0.9h-0.9zM27.0 27.0h0.9v0.9h-0.9zM30.7 37.1h0.9v0.9h-0.9zM39.1 34.5h0.9v0.9h-0.9zM40.5 34.8h0.9v0.9h-0.9zM27.3 41.7h0.9v0.9h-0.9zM36.1 34.1h0.9v0.9h-0.9zM27.1 25.7h0.9v0.9h-0.9zM30.3 40.4h0.9v0.9h-0.9zM31.1 31.0h0.9v0.9h-0.9zM31.8 39.8h0.9v0.9h-0.9zM39.4 42.7h0.9v0.9h-0.9zM31.3 43.9h0.9v0.9h-0.9zM44.9 39.1h0.9v0.9h-0.9zM41.9 44.7h0.9v0.9h-0.9zM38.3 33.2h0.9v0.9h-0.9zM39.1 38.8h0.9v0.9h-0.9zM40.0 49.0h0.9v0.9h-0.9zM36.4 36.1h0.9v0.9h-0.9zM43.0 37.3h0.9v0.9h-0.9zM29.3 38.6h0.9v0.9h-0.9zM41.7 29.8h0.9v0.9h-0.9zM45.6 45.9h0.9v0.9h-0.9zM30.0 38.3h0.9v0.9h-0.9zM38.4 39.7h0.9v0.9h-0.9zM37.7 40.4h0.9v0.9h-0.9zM31.9 36.0h0.9v0.9h-0.9zM35.7 39.2h0.9v0.9h-0.9zM47.0 41.2h0.9v0.9h-0.9zM30.4 38.9h0.9v0.9h-0.9zM46.7 46.5h0.9v0.9h-0.9zM45.6 37.6h0.9v0.9h-0.9zM40.4 38.0h0.9v0.9h-0.9zM30.0 37.4h0.9v0.9h-0.9zM34.0 31.4h0.9v0.9h-0.9zM35.4 35.4h0.9v0.9h-0.9zM34.8 40.5h0.9v0.9h-0.9zM30.3 37.5h0.9v0.9h-0.9zM38.2 38.5h0.9v0.9h-0.9zM37.7 37.6h0.9v0.9h-0.9zM27.5 27.7h0.9v0.9h-0.9zM33.0 35.3h0.9v0.9h-0.9zM31.1 33.6h0.9v0.9h-0.9zM33.9 44.9h0.9v0.9h-0.9zM35.6 40.8h0.9v0.9h-0.9zM39.9 37.9h0.9v0.9h-0.9zM41.6 34.6h0.9v0.9h-0.9zM35.2 31.8h0.9v0.9h-0.9zM35.5 41.2h0.9v0.9h-0.9zM31.3 36.8h0.9v0.9h-0.9z" fill="#000" opacity="0.3" filter="url(#sblur)"/>
<g filter="url(#dblur)" fill="#0a0a0a">
<polygon points="30.8,60.4 32.7,57.5 37.0,55.1 43.8,54.1 50.5,53.6 50.0,58.5 47.6,63.3 43.8,69.1 39.9,71.5 35.1,71.5 31.3,69.1 29.3,64.2" opacity="1" stroke="#0a0a0a" stroke-width="1" stroke-linejoin="round"/>
<polygon points="52.5,58.5 54.4,51.7 58.2,45.9 63.1,40.2 67.4,36.8 70.8,36.3 69.8,41.1 66.0,46.9 62.1,52.7 58.2,57.5 55.4,59.4" opacity="1" stroke="#0a0a0a" stroke-width="1" stroke-linejoin="round"/>
<polygon points="54.2,32.2 57.5,29.8 62.0,30.0 64.5,33.0 63.0,36.8 59.0,38.2 55.5,37.0" opacity="1" stroke="#0a0a0a" stroke-width="1" stroke-linejoin="round"/>
</g>
<ellipse cx="35.6" cy="35.8" rx="10.6" ry="8.6" transform="rotate(0 35.6 35.8)" fill="none" stroke="#3a3a3a" stroke-width="0.7"/>
<ellipse cx="57.3" cy="34.0" rx="8.8" ry="6.5" transform="rotate(-22 57.3 34.0)" fill="none" stroke="#3a3a3a" stroke-width="0.7"/>
<ellipse cx="60.6" cy="50.3" rx="18.0" ry="5.0" transform="rotate(-52 60.6 50.3)" fill="none" stroke="#3a3a3a" stroke-width="0.7"/>
<rect x="19.7" y="230.5" width="53.5" height="53.60000000000002" fill="none" stroke="#a0a0a0" stroke-width="0.8"/>
<line x1="15.1" y1="289.1" x2="15.1" y2="234.8" stroke="#1e1e1e" stroke-width="1.3"/>
<path d="M12.8,236.0 L15.1,231.8 L17.4,236.0 Z" fill="#1e1e1e"/>
<line x1="15.1" y1="289.1" x2="70.7" y2="289.1" stroke="#1e1e1e" stroke-width="1.3"/>
<path d="M69.5,286.8 L73.7,289.1 L69.5,291.40000000000003 Z" fill="#1e1e1e"/>
<path d="M35.6 272.6h0.9v0.9h-0.9zM34.2 274.8h0.9v0.9h-0.9zM29.0 272.8h0.9v0.9h-0.9zM49.3 267.5h0.9v0.9h-0.9zM43.3 269.3h0.9v0.9h-0.9zM40.8 278.4h0.9v0.9h-0.9zM47.0 279.7h0.9v0.9h-0.9zM39.3 257.2h0.9v0.9h-0.9zM35.8 264.4h0.9v0.9h-0.9zM25.4 275.4h0.9v0.9h-0.9zM21.3 273.2h0.9v0.9h-0.9zM43.0 271.0h0.9v0.9h-0.9zM30.7 270.1h0.9v0.9h-0.9zM48.6 266.9h0.9v0.9h-0.9zM31.3 276.0h0.9v0.9h-0.9zM31.5 281.6h0.9v0.9h-0.9zM33.9 263.9h0.9v0.9h-0.9zM27.8 270.0h0.9v0.9h-0.9zM44.2 274.6h0.9v0.9h-0.9zM35.2 261.9h0.9v0.9h-0.9zM39.6 268.8h0.9v0.9h-0.9zM53.5 267.6h0.9v0.9h-0.9zM29.9 262.7h0.9v0.9h-0.9zM37.6 277.4h0.9v0.9h-0.9zM37.1 281.6h0.9v0.9h-0.9zM42.4 269.8h0.9v0.9h-0.9zM49.0 269.7h0.9v0.9h-0.9zM38.4 273.7h0.9v0.9h-0.9zM44.6 274.2h0.9v0.9h-0.9zM41.7 259.9h0.9v0.9h-0.9zM36.4 274.1h0.9v0.9h-0.9zM49.0 262.9h0.9v0.9h-0.9zM28.4 277.7h0.9v0.9h-0.9zM51.9 276.9h0.9v0.9h-0.9zM25.6 258.4h0.9v0.9h-0.9zM35.8 266.6h0.9v0.9h-0.9zM39.0 281.1h0.9v0.9h-0.9zM43.3 267.5h0.9v0.9h-0.9zM32.8 271.0h0.9v0.9h-0.9zM39.1 277.6h0.9v0.9h-0.9zM33.3 279.9h0.9v0.9h-0.9zM42.1 271.9h0.9v0.9h-0.9zM41.7 271.8h0.9v0.9h-0.9zM33.8 279.5h0.9v0.9h-0.9zM39.4 274.6h0.9v0.9h-0.9zM32.7 270.5h0.9v0.9h-0.9zM28.6 272.6h0.9v0.9h-0.9zM32.8 262.5h0.9v0.9h-0.9zM53.5 266.9h0.9v0.9h-0.9zM43.7 281.7h0.9v0.9h-0.9zM40.1 274.1h0.9v0.9h-0.9zM36.2 276.6h0.9v0.9h-0.9zM39.0 277.6h0.9v0.9h-0.9zM43.3 262.6h0.9v0.9h-0.9zM28.9 271.5h0.9v0.9h-0.9zM38.5 263.8h0.9v0.9h-0.9zM42.7 277.7h0.9v0.9h-0.9zM37.8 280.8h0.9v0.9h-0.9zM41.3 273.1h0.9v0.9h-0.9zM31.8 280.5h0.9v0.9h-0.9zM34.9 267.5h0.9v0.9h-0.9zM30.2 276.9h0.9v0.9h-0.9zM39.0 272.4h0.9v0.9h-0.9zM44.3 268.5h0.9v0.9h-0.9zM43.1 270.5h0.9v0.9h-0.9zM36.4 271.6h0.9v0.9h-0.9zM36.9 283.1h0.9v0.9h-0.9zM32.0 279.7h0.9v0.9h-0.9zM45.3 273.5h0.9v0.9h-0.9zM34.4 264.5h0.9v0.9h-0.9zM35.8 273.9h0.9v0.9h-0.9zM30.5 275.2h0.9v0.9h-0.9zM37.6 280.3h0.9v0.9h-0.9zM49.4 282.6h0.9v0.9h-0.9zM31.9 271.3h0.9v0.9h-0.9zM29.3 268.8h0.9v0.9h-0.9zM26.6 279.5h0.9v0.9h-0.9zM22.3 274.9h0.9v0.9h-0.9zM39.9 262.6h0.9v0.9h-0.9zM40.6 283.1h0.9v0.9h-0.9zM48.9 273.4h0.9v0.9h-0.9zM41.8 275.4h0.9v0.9h-0.9zM46.4 274.8h0.9v0.9h-0.9zM45.6 267.4h0.9v0.9h-0.9zM34.2 264.9h0.9v0.9h-0.9zM37.5 264.2h0.9v0.9h-0.9zM38.8 269.4h0.9v0.9h-0.9zM27.8 273.2h0.9v0.9h-0.9zM43.8 278.0h0.9v0.9h-0.9zM39.6 271.9h0.9v0.9h-0.9zM37.9 261.9h0.9v0.9h-0.9zM51.9 263.8h0.9v0.9h-0.9zM32.6 264.9h0.9v0.9h-0.9zM30.0 273.0h0.9v0.9h-0.9zM33.0 268.4h0.9v0.9h-0.9zM40.9 265.2h0.9v0.9h-0.9zM29.4 275.1h0.9v0.9h-0.9zM36.1 259.8h0.9v0.9h-0.9zM42.7 263.8h0.9v0.9h-0.9zM37.0 273.2h0.9v0.9h-0.9zM38.6 275.3h0.9v0.9h-0.9zM34.5 272.4h0.9v0.9h-0.9zM26.1 273.1h0.9v0.9h-0.9zM24.0 276.0h0.9v0.9h-0.9zM31.2 278.3h0.9v0.9h-0.9zM36.0 276.6h0.9v0.9h-0.9zM34.4 270.8h0.9v0.9h-0.9zM39.4 278.1h0.9v0.9h-0.9zM37.9 253.6h0.9v0.9h-0.9zM37.1 278.2h0.9v0.9h-0.9zM45.6 272.7h0.9v0.9h-0.9zM48.3 249.4h0.9v0.9h-0.9zM35.2 268.2h0.9v0.9h-0.9zM50.7 273.7h0.9v0.9h-0.9zM53.7 276.3h0.9v0.9h-0.9zM34.9 268.5h0.9v0.9h-0.9zM31.5 273.0h0.9v0.9h-0.9zM39.2 266.3h0.9v0.9h-0.9zM47.2 282.5h0.9v0.9h-0.9zM34.4 276.4h0.9v0.9h-0.9zM36.6 269.4h0.9v0.9h-0.9zM32.3 267.4h0.9v0.9h-0.9zM36.6 270.7h0.9v0.9h-0.9zM45.5 268.5h0.9v0.9h-0.9zM43.7 263.2h0.9v0.9h-0.9zM38.7 278.7h0.9v0.9h-0.9zM45.4 271.5h0.9v0.9h-0.9zM31.0 255.1h0.9v0.9h-0.9zM30.3 270.8h0.9v0.9h-0.9zM39.4 276.6h0.9v0.9h-0.9zM38.1 271.9h0.9v0.9h-0.9zM38.1 281.5h0.9v0.9h-0.9zM36.3 279.9h0.9v0.9h-0.9zM46.1 276.3h0.9v0.9h-0.9zM41.3 276.4h0.9v0.9h-0.9zM43.8 280.7h0.9v0.9h-0.9zM37.1 281.9h0.9v0.9h-0.9zM44.8 276.3h0.9v0.9h-0.9zM37.9 278.7h0.9v0.9h-0.9zM38.9 271.5h0.9v0.9h-0.9zM29.6 272.2h0.9v0.9h-0.9zM35.3 276.9h0.9v0.9h-0.9zM35.4 272.7h0.9v0.9h-0.9zM42.2 274.3h0.9v0.9h-0.9zM32.8 276.1h0.9v0.9h-0.9zM36.6 265.8h0.9v0.9h-0.9zM31.4 266.0h0.9v0.9h-0.9zM36.1 256.9h0.9v0.9h-0.9zM28.6 267.4h0.9v0.9h-0.9zM34.8 271.6h0.9v0.9h-0.9zM42.3 266.4h0.9v0.9h-0.9zM46.7 277.6h0.9v0.9h-0.9zM21.5 270.1h0.9v0.9h-0.9zM30.1 275.8h0.9v0.9h-0.9zM50.4 265.4h0.9v0.9h-0.9zM39.2 265.7h0.9v0.9h-0.9zM26.7 276.0h0.9v0.9h-0.9zM43.5 269.4h0.9v0.9h-0.9zM36.1 264.1h0.9v0.9h-0.9zM33.1 270.7h0.9v0.9h-0.9zM35.1 278.0h0.9v0.9h-0.9zM38.5 273.1h0.9v0.9h-0.9zM37.0 277.7h0.9v0.9h-0.9zM42.5 264.3h0.9v0.9h-0.9zM35.4 275.9h0.9v0.9h-0.9zM33.9 262.0h0.9v0.9h-0.9zM32.1 263.4h0.9v0.9h-0.9zM35.9 271.8h0.9v0.9h-0.9zM43.0 260.2h0.9v0.9h-0.9zM39.1 279.4h0.9v0.9h-0.9zM54.8 274.1h0.9v0.9h-0.9zM44.2 261.8h0.9v0.9h-0.9zM39.6 269.2h0.9v0.9h-0.9zM48.2 268.1h0.9v0.9h-0.9zM50.1 267.7h0.9v0.9h-0.9zM39.8 275.9h0.9v0.9h-0.9zM39.1 269.2h0.9v0.9h-0.9zM28.7 281.8h0.9v0.9h-0.9zM41.2 267.5h0.9v0.9h-0.9zM27.6 277.1h0.9v0.9h-0.9zM46.0 274.3h0.9v0.9h-0.9zM33.5 276.7h0.9v0.9h-0.9zM38.8 282.3h0.9v0.9h-0.9zM37.0 268.0h0.9v0.9h-0.9zM38.3 263.6h0.9v0.9h-0.9zM30.6 268.0h0.9v0.9h-0.9zM35.9 273.5h0.9v0.9h-0.9zM28.3 269.0h0.9v0.9h-0.9zM52.2 263.3h0.9v0.9h-0.9zM35.3 269.3h0.9v0.9h-0.9zM42.2 268.2h0.9v0.9h-0.9zM52.6 271.9h0.9v0.9h-0.9zM38.6 274.5h0.9v0.9h-0.9zM45.6 277.8h0.9v0.9h-0.9zM28.0 271.9h0.9v0.9h-0.9zM31.7 280.6h0.9v0.9h-0.9zM40.1 276.3h0.9v0.9h-0.9zM37.4 268.0h0.9v0.9h-0.9zM42.8 280.8h0.9v0.9h-0.9zM52.2 273.9h0.9v0.9h-0.9zM45.8 266.9h0.9v0.9h-0.9zM40.7 273.9h0.9v0.9h-0.9zM30.9 267.6h0.9v0.9h-0.9zM38.1 271.7h0.9v0.9h-0.9zM35.6 270.8h0.9v0.9h-0.9zM37.6 270.0h0.9v0.9h-0.9zM25.9 272.1h0.9v0.9h-0.9zM48.6 273.9h0.9v0.9h-0.9zM39.1 267.5h0.9v0.9h-0.9zM33.0 265.5h0.9v0.9h-0.9zM28.3 271.8h0.9v0.9h-0.9zM30.7 274.2h0.9v0.9h-0.9zM39.5 263.2h0.9v0.9h-0.9zM51.9 273.1h0.9v0.9h-0.9zM38.5 270.0h0.9v0.9h-0.9zM29.5 271.5h0.9v0.9h-0.9zM43.1 259.0h0.9v0.9h-0.9zM37.1 274.0h0.9v0.9h-0.9zM51.4 261.4h0.9v0.9h-0.9zM31.0 280.1h0.9v0.9h-0.9zM31.5 276.6h0.9v0.9h-0.9zM32.0 263.8h0.9v0.9h-0.9zM42.6 270.0h0.9v0.9h-0.9zM30.0 272.0h0.9v0.9h-0.9zM44.8 273.6h0.9v0.9h-0.9zM53.2 266.6h0.9v0.9h-0.9zM47.4 277.0h0.9v0.9h-0.9zM41.8 279.2h0.9v0.9h-0.9zM35.6 270.7h0.9v0.9h-0.9zM29.2 266.5h0.9v0.9h-0.9zM31.2 279.2h0.9v0.9h-0.9zM33.7 274.9h0.9v0.9h-0.9zM32.9 265.6h0.9v0.9h-0.9zM43.3 261.4h0.9v0.9h-0.9zM38.5 266.1h0.9v0.9h-0.9zM31.8 270.5h0.9v0.9h-0.9zM49.3 281.5h0.9v0.9h-0.9zM41.8 277.2h0.9v0.9h-0.9zM41.1 268.8h0.9v0.9h-0.9zM38.3 272.4h0.9v0.9h-0.9zM40.0 279.8h0.9v0.9h-0.9zM31.1 262.5h0.9v0.9h-0.9zM47.8 266.9h0.9v0.9h-0.9zM43.5 276.4h0.9v0.9h-0.9zM36.0 274.1h0.9v0.9h-0.9zM43.0 272.8h0.9v0.9h-0.9zM47.5 274.8h0.9v0.9h-0.9zM45.2 276.4h0.9v0.9h-0.9zM37.5 278.6h0.9v0.9h-0.9zM36.9 268.2h0.9v0.9h-0.9zM36.5 273.5h0.9v0.9h-0.9zM33.7 277.9h0.9v0.9h-0.9zM38.8 275.4h0.9v0.9h-0.9zM34.5 274.2h0.9v0.9h-0.9zM41.9 271.7h0.9v0.9h-0.9zM35.1 274.6h0.9v0.9h-0.9zM39.3 269.2h0.9v0.9h-0.9zM41.9 277.0h0.9v0.9h-0.9zM50.6 267.1h0.9v0.9h-0.9zM28.4 273.4h0.9v0.9h-0.9zM48.2 281.8h0.9v0.9h-0.9zM38.0 267.8h0.9v0.9h-0.9zM39.6 269.9h0.9v0.9h-0.9zM31.7 272.7h0.9v0.9h-0.9zM32.9 270.1h0.9v0.9h-0.9zM32.5 270.7h0.9v0.9h-0.9zM40.1 273.9h0.9v0.9h-0.9zM40.0 266.0h0.9v0.9h-0.9zM27.8 270.6h0.9v0.9h-0.9zM36.1 277.4h0.9v0.9h-0.9zM26.9 277.7h0.9v0.9h-0.9zM37.5 265.3h0.9v0.9h-0.9zM33.7 269.0h0.9v0.9h-0.9zM46.2 271.4h0.9v0.9h-0.9zM40.1 267.1h0.9v0.9h-0.9zM29.0 266.3h0.9v0.9h-0.9zM26.8 268.8h0.9v0.9h-0.9zM32.5 280.0h0.9v0.9h-0.9zM40.1 279.2h0.9v0.9h-0.9zM38.4 272.1h0.9v0.9h-0.9zM38.6 281.5h0.9v0.9h-0.9zM33.2 263.3h0.9v0.9h-0.9zM34.8 262.2h0.9v0.9h-0.9zM34.5 270.1h0.9v0.9h-0.9zM32.3 270.6h0.9v0.9h-0.9zM44.6 274.6h0.9v0.9h-0.9zM44.3 273.0h0.9v0.9h-0.9zM39.3 263.5h0.9v0.9h-0.9zM44.5 276.4h0.9v0.9h-0.9zM46.4 273.9h0.9v0.9h-0.9zM32.2 257.7h0.9v0.9h-0.9zM43.2 266.4h0.9v0.9h-0.9zM29.0 273.3h0.9v0.9h-0.9zM32.2 278.6h0.9v0.9h-0.9zM33.4 268.5h0.9v0.9h-0.9zM35.6 271.3h0.9v0.9h-0.9zM39.5 271.0h0.9v0.9h-0.9zM47.6 264.8h0.9v0.9h-0.9zM41.4 262.2h0.9v0.9h-0.9zM38.8 281.8h0.9v0.9h-0.9zM46.0 279.0h0.9v0.9h-0.9zM38.9 268.6h0.9v0.9h-0.9zM34.2 273.6h0.9v0.9h-0.9zM33.7 262.9h0.9v0.9h-0.9zM44.6 277.9h0.9v0.9h-0.9zM40.4 270.5h0.9v0.9h-0.9zM41.8 270.7h0.9v0.9h-0.9zM39.6 273.8h0.9v0.9h-0.9zM38.0 268.5h0.9v0.9h-0.9zM42.4 268.1h0.9v0.9h-0.9zM46.1 281.1h0.9v0.9h-0.9zM34.8 276.0h0.9v0.9h-0.9zM42.4 274.1h0.9v0.9h-0.9zM29.4 273.6h0.9v0.9h-0.9zM35.0 271.2h0.9v0.9h-0.9zM50.3 275.6h0.9v0.9h-0.9zM27.0 276.4h0.9v0.9h-0.9zM44.8 268.5h0.9v0.9h-0.9zM37.6 268.1h0.9v0.9h-0.9zM37.4 281.4h0.9v0.9h-0.9zM54.3 274.4h0.9v0.9h-0.9zM36.3 282.9h0.9v0.9h-0.9zM34.4 279.0h0.9v0.9h-0.9zM30.8 277.2h0.9v0.9h-0.9zM46.4 281.8h0.9v0.9h-0.9zM46.2 281.5h0.9v0.9h-0.9zM36.4 278.1h0.9v0.9h-0.9zM42.5 275.7h0.9v0.9h-0.9zM43.1 272.2h0.9v0.9h-0.9zM30.1 282.0h0.9v0.9h-0.9zM49.8 272.3h0.9v0.9h-0.9zM47.3 277.9h0.9v0.9h-0.9zM41.9 261.6h0.9v0.9h-0.9zM34.6 271.0h0.9v0.9h-0.9zM34.7 264.2h0.9v0.9h-0.9zM25.9 272.1h0.9v0.9h-0.9zM38.5 279.6h0.9v0.9h-0.9zM29.7 260.5h0.9v0.9h-0.9zM50.5 274.5h0.9v0.9h-0.9zM35.2 280.1h0.9v0.9h-0.9zM30.2 270.6h0.9v0.9h-0.9zM41.8 277.1h0.9v0.9h-0.9zM43.1 271.2h0.9v0.9h-0.9zM48.6 264.7h0.9v0.9h-0.9zM23.0 269.1h0.9v0.9h-0.9zM37.9 273.0h0.9v0.9h-0.9zM25.3 261.4h0.9v0.9h-0.9zM33.7 278.7h0.9v0.9h-0.9zM29.7 268.0h0.9v0.9h-0.9zM27.3 262.6h0.9v0.9h-0.9zM29.1 270.7h0.9v0.9h-0.9zM31.2 274.1h0.9v0.9h-0.9zM46.4 272.7h0.9v0.9h-0.9zM34.2 272.6h0.9v0.9h-0.9zM36.0 271.2h0.9v0.9h-0.9zM32.5 273.1h0.9v0.9h-0.9zM32.9 275.4h0.9v0.9h-0.9zM36.8 280.5h0.9v0.9h-0.9zM39.9 277.2h0.9v0.9h-0.9zM37.0 269.8h0.9v0.9h-0.9zM41.8 267.8h0.9v0.9h-0.9zM31.8 276.9h0.9v0.9h-0.9zM41.0 273.7h0.9v0.9h-0.9zM44.4 271.1h0.9v0.9h-0.9zM28.5 275.3h0.9v0.9h-0.9zM39.7 275.7h0.9v0.9h-0.9zM44.2 266.6h0.9v0.9h-0.9zM33.9 279.9h0.9v0.9h-0.9zM42.0 260.3h0.9v0.9h-0.9zM37.3 278.5h0.9v0.9h-0.9zM28.9 270.8h0.9v0.9h-0.9zM30.4 269.8h0.9v0.9h-0.9zM38.8 268.0h0.9v0.9h-0.9zM27.5 275.6h0.9v0.9h-0.9zM41.4 270.3h0.9v0.9h-0.9zM31.5 278.4h0.9v0.9h-0.9zM34.7 281.1h0.9v0.9h-0.9zM41.7 271.9h0.9v0.9h-0.9zM45.8 261.5h0.9v0.9h-0.9zM31.0 272.4h0.9v0.9h-0.9zM41.9 279.9h0.9v0.9h-0.9zM41.5 268.0h0.9v0.9h-0.9zM40.2 281.2h0.9v0.9h-0.9zM39.2 264.9h0.9v0.9h-0.9zM33.1 281.6h0.9v0.9h-0.9zM30.5 280.9h0.9v0.9h-0.9zM42.4 261.7h0.9v0.9h-0.9zM38.1 269.6h0.9v0.9h-0.9zM34.0 283.0h0.9v0.9h-0.9zM30.1 260.4h0.9v0.9h-0.9zM34.7 273.5h0.9v0.9h-0.9zM38.6 274.3h0.9v0.9h-0.9zM31.8 270.6h0.9v0.9h-0.9zM50.0 278.9h0.9v0.9h-0.9zM42.0 276.5h0.9v0.9h-0.9zM40.3 262.9h0.9v0.9h-0.9zM25.0 275.2h0.9v0.9h-0.9zM28.0 276.2h0.9v0.9h-0.9zM39.3 272.7h0.9v0.9h-0.9zM29.9 267.8h0.9v0.9h-0.9zM45.8 272.6h0.9v0.9h-0.9zM36.1 276.7h0.9v0.9h-0.9zM33.6 271.0h0.9v0.9h-0.9zM38.0 277.6h0.9v0.9h-0.9zM34.6 265.2h0.9v0.9h-0.9zM42.4 270.5h0.9v0.9h-0.9zM38.6 265.9h0.9v0.9h-0.9zM51.4 275.0h0.9v0.9h-0.9zM38.0 279.6h0.9v0.9h-0.9zM29.7 273.0h0.9v0.9h-0.9zM29.8 265.8h0.9v0.9h-0.9zM41.1 282.0h0.9v0.9h-0.9zM41.1 267.2h0.9v0.9h-0.9zM35.5 278.1h0.9v0.9h-0.9zM34.9 270.4h0.9v0.9h-0.9zM37.3 278.9h0.9v0.9h-0.9zM34.9 261.8h0.9v0.9h-0.9zM33.7 271.3h0.9v0.9h-0.9zM35.3 274.7h0.9v0.9h-0.9zM44.1 274.1h0.9v0.9h-0.9zM40.3 269.0h0.9v0.9h-0.9zM35.8 276.7h0.9v0.9h-0.9zM28.4 278.5h0.9v0.9h-0.9zM32.0 270.1h0.9v0.9h-0.9zM39.8 277.6h0.9v0.9h-0.9zM38.2 268.8h0.9v0.9h-0.9zM49.3 274.5h0.9v0.9h-0.9zM37.2 273.5h0.9v0.9h-0.9zM38.2 271.3h0.9v0.9h-0.9zM34.6 265.2h0.9v0.9h-0.9zM29.0 276.5h0.9v0.9h-0.9zM47.4 276.1h0.9v0.9h-0.9zM38.2 271.6h0.9v0.9h-0.9zM37.5 276.8h0.9v0.9h-0.9zM47.0 254.5h0.9v0.9h-0.9zM41.3 273.4h0.9v0.9h-0.9zM37.5 273.8h0.9v0.9h-0.9zM40.5 277.9h0.9v0.9h-0.9zM47.9 272.0h0.9v0.9h-0.9zM38.6 279.8h0.9v0.9h-0.9zM33.6 271.2h0.9v0.9h-0.9zM40.6 275.3h0.9v0.9h-0.9zM36.1 274.7h0.9v0.9h-0.9zM54.6 273.1h0.9v0.9h-0.9zM30.1 273.1h0.9v0.9h-0.9zM26.3 266.7h0.9v0.9h-0.9zM23.4 279.1h0.9v0.9h-0.9zM42.2 272.4h0.9v0.9h-0.9zM24.3 262.4h0.9v0.9h-0.9zM27.5 271.3h0.9v0.9h-0.9zM41.6 277.8h0.9v0.9h-0.9zM35.3 268.7h0.9v0.9h-0.9zM43.6 272.8h0.9v0.9h-0.9zM27.7 266.3h0.9v0.9h-0.9zM31.4 282.2h0.9v0.9h-0.9zM37.9 260.9h0.9v0.9h-0.9zM33.6 278.3h0.9v0.9h-0.9zM31.6 268.2h0.9v0.9h-0.9zM28.6 273.1h0.9v0.9h-0.9zM37.9 269.2h0.9v0.9h-0.9zM37.2 276.6h0.9v0.9h-0.9zM32.8 271.7h0.9v0.9h-0.9zM41.3 271.7h0.9v0.9h-0.9zM26.0 275.0h0.9v0.9h-0.9zM36.0 275.7h0.9v0.9h-0.9zM36.3 283.9h0.9v0.9h-0.9zM39.2 278.4h0.9v0.9h-0.9zM31.2 272.2h0.9v0.9h-0.9zM35.6 275.9h0.9v0.9h-0.9zM26.4 270.7h0.9v0.9h-0.9zM33.4 267.7h0.9v0.9h-0.9zM32.8 276.5h0.9v0.9h-0.9zM42.2 278.4h0.9v0.9h-0.9zM26.3 268.4h0.9v0.9h-0.9zM38.3 274.0h0.9v0.9h-0.9zM42.7 270.3h0.9v0.9h-0.9zM37.4 258.7h0.9v0.9h-0.9zM35.5 277.1h0.9v0.9h-0.9zM39.0 267.4h0.9v0.9h-0.9zM36.7 272.9h0.9v0.9h-0.9zM31.7 268.2h0.9v0.9h-0.9zM37.3 277.6h0.9v0.9h-0.9zM50.4 268.6h0.9v0.9h-0.9zM33.9 278.2h0.9v0.9h-0.9zM32.9 277.8h0.9v0.9h-0.9zM22.9 282.6h0.9v0.9h-0.9zM42.9 274.7h0.9v0.9h-0.9zM29.1 268.7h0.9v0.9h-0.9zM30.2 281.6h0.9v0.9h-0.9zM33.4 274.1h0.9v0.9h-0.9zM41.1 271.2h0.9v0.9h-0.9zM35.5 257.0h0.9v0.9h-0.9zM39.1 266.9h0.9v0.9h-0.9zM40.4 271.6h0.9v0.9h-0.9zM24.5 268.5h0.9v0.9h-0.9zM28.4 277.4h0.9v0.9h-0.9zM26.8 272.2h0.9v0.9h-0.9zM37.9 261.9h0.9v0.9h-0.9zM38.1 268.3h0.9v0.9h-0.9zM32.2 261.8h0.9v0.9h-0.9zM37.7 268.7h0.9v0.9h-0.9zM36.0 272.5h0.9v0.9h-0.9zM46.4 272.8h0.9v0.9h-0.9zM35.6 282.4h0.9v0.9h-0.9zM32.4 280.6h0.9v0.9h-0.9zM42.2 260.2h0.9v0.9h-0.9zM46.5 273.5h0.9v0.9h-0.9zM29.9 269.7h0.9v0.9h-0.9zM37.7 274.6h0.9v0.9h-0.9zM52.4 263.4h0.9v0.9h-0.9zM39.7 269.4h0.9v0.9h-0.9zM34.6 269.2h0.9v0.9h-0.9zM30.1 283.1h0.9v0.9h-0.9zM38.0 272.7h0.9v0.9h-0.9zM40.7 262.7h0.9v0.9h-0.9zM36.5 269.1h0.9v0.9h-0.9zM29.1 281.1h0.9v0.9h-0.9zM37.4 277.2h0.9v0.9h-0.9zM33.0 272.9h0.9v0.9h-0.9zM36.0 277.0h0.9v0.9h-0.9zM37.2 276.2h0.9v0.9h-0.9zM31.5 275.4h0.9v0.9h-0.9zM39.0 276.8h0.9v0.9h-0.9zM34.7 274.2h0.9v0.9h-0.9zM36.1 274.9h0.9v0.9h-0.9zM37.4 269.5h0.9v0.9h-0.9zM33.5 273.1h0.9v0.9h-0.9zM32.9 254.8h0.9v0.9h-0.9zM36.7 270.1h0.9v0.9h-0.9zM37.6 277.1h0.9v0.9h-0.9zM39.3 271.5h0.9v0.9h-0.9zM40.0 261.4h0.9v0.9h-0.9zM41.5 267.3h0.9v0.9h-0.9zM31.3 275.3h0.9v0.9h-0.9zM33.9 265.8h0.9v0.9h-0.9zM36.4 265.6h0.9v0.9h-0.9zM43.1 266.1h0.9v0.9h-0.9zM34.9 280.0h0.9v0.9h-0.9zM42.8 276.1h0.9v0.9h-0.9zM28.4 275.6h0.9v0.9h-0.9zM43.5 280.6h0.9v0.9h-0.9zM39.7 277.7h0.9v0.9h-0.9zM35.6 275.3h0.9v0.9h-0.9zM39.3 273.4h0.9v0.9h-0.9zM46.0 268.4h0.9v0.9h-0.9zM45.5 270.4h0.9v0.9h-0.9zM30.7 269.6h0.9v0.9h-0.9zM31.9 270.2h0.9v0.9h-0.9zM39.3 281.9h0.9v0.9h-0.9zM45.0 255.6h0.9v0.9h-0.9zM45.2 269.2h0.9v0.9h-0.9zM37.8 281.9h0.9v0.9h-0.9zM38.4 266.3h0.9v0.9h-0.9zM34.4 273.7h0.9v0.9h-0.9zM34.8 266.1h0.9v0.9h-0.9zM44.7 283.8h0.9v0.9h-0.9zM37.3 277.5h0.9v0.9h-0.9zM32.4 271.2h0.9v0.9h-0.9zM32.4 278.9h0.9v0.9h-0.9zM45.4 270.4h0.9v0.9h-0.9zM25.1 276.4h0.9v0.9h-0.9zM51.0 268.4h0.9v0.9h-0.9zM48.1 277.0h0.9v0.9h-0.9zM40.5 262.5h0.9v0.9h-0.9zM37.4 262.8h0.9v0.9h-0.9zM39.2 268.3h0.9v0.9h-0.9zM33.1 271.4h0.9v0.9h-0.9zM36.1 282.8h0.9v0.9h-0.9zM37.4 273.8h0.9v0.9h-0.9zM31.6 265.4h0.9v0.9h-0.9zM38.4 272.3h0.9v0.9h-0.9zM35.2 276.0h0.9v0.9h-0.9zM48.1 268.4h0.9v0.9h-0.9zM40.0 280.1h0.9v0.9h-0.9zM35.2 263.5h0.9v0.9h-0.9zM28.9 272.5h0.9v0.9h-0.9zM37.1 275.5h0.9v0.9h-0.9zM40.0 280.6h0.9v0.9h-0.9zM36.5 274.0h0.9v0.9h-0.9zM32.7 263.9h0.9v0.9h-0.9zM38.1 265.5h0.9v0.9h-0.9zM46.2 269.2h0.9v0.9h-0.9zM48.3 269.9h0.9v0.9h-0.9zM34.7 280.1h0.9v0.9h-0.9zM37.8 282.8h0.9v0.9h-0.9zM30.7 277.0h0.9v0.9h-0.9zM33.8 275.7h0.9v0.9h-0.9zM29.3 265.5h0.9v0.9h-0.9zM34.5 275.6h0.9v0.9h-0.9zM31.4 265.5h0.9v0.9h-0.9zM26.2 267.1h0.9v0.9h-0.9zM47.9 270.6h0.9v0.9h-0.9zM26.4 261.3h0.9v0.9h-0.9zM30.4 268.5h0.9v0.9h-0.9zM37.5 279.1h0.9v0.9h-0.9zM33.0 276.5h0.9v0.9h-0.9zM35.6 277.2h0.9v0.9h-0.9zM42.5 279.5h0.9v0.9h-0.9zM25.5 276.0h0.9v0.9h-0.9zM37.5 256.9h0.9v0.9h-0.9zM39.9 271.7h0.9v0.9h-0.9zM31.3 258.4h0.9v0.9h-0.9zM39.7 275.4h0.9v0.9h-0.9zM40.9 274.3h0.9v0.9h-0.9zM50.3 270.5h0.9v0.9h-0.9zM37.3 273.6h0.9v0.9h-0.9zM45.5 283.4h0.9v0.9h-0.9zM31.9 280.4h0.9v0.9h-0.9zM31.8 277.8h0.9v0.9h-0.9zM29.1 258.9h0.9v0.9h-0.9zM42.6 276.9h0.9v0.9h-0.9zM36.5 260.7h0.9v0.9h-0.9zM34.1 268.4h0.9v0.9h-0.9zM41.4 274.6h0.9v0.9h-0.9zM25.3 265.4h0.9v0.9h-0.9zM30.5 266.8h0.9v0.9h-0.9zM27.7 279.3h0.9v0.9h-0.9zM44.4 272.8h0.9v0.9h-0.9zM33.3 265.5h0.9v0.9h-0.9zM42.4 277.3h0.9v0.9h-0.9zM45.1 270.2h0.9v0.9h-0.9zM33.1 275.4h0.9v0.9h-0.9zM28.2 279.9h0.9v0.9h-0.9zM34.8 263.6h0.9v0.9h-0.9zM43.2 272.0h0.9v0.9h-0.9zM33.4 282.1h0.9v0.9h-0.9zM46.9 270.0h0.9v0.9h-0.9zM46.3 264.2h0.9v0.9h-0.9zM45.8 276.0h0.9v0.9h-0.9zM35.4 283.5h0.9v0.9h-0.9zM41.8 261.3h0.9v0.9h-0.9zM38.1 279.6h0.9v0.9h-0.9zM36.2 264.1h0.9v0.9h-0.9zM27.6 267.9h0.9v0.9h-0.9zM32.9 273.6h0.9v0.9h-0.9zM48.2 271.5h0.9v0.9h-0.9zM28.7 271.8h0.9v0.9h-0.9zM37.4 278.1h0.9v0.9h-0.9zM45.3 278.0h0.9v0.9h-0.9zM39.8 268.4h0.9v0.9h-0.9zM38.1 280.3h0.9v0.9h-0.9zM32.7 283.9h0.9v0.9h-0.9zM36.1 278.4h0.9v0.9h-0.9zM25.2 278.8h0.9v0.9h-0.9zM36.8 269.5h0.9v0.9h-0.9zM38.0 275.0h0.9v0.9h-0.9zM34.0 263.4h0.9v0.9h-0.9zM38.8 278.3h0.9v0.9h-0.9zM38.5 271.5h0.9v0.9h-0.9zM37.9 259.9h0.9v0.9h-0.9zM34.7 267.5h0.9v0.9h-0.9zM38.8 257.3h0.9v0.9h-0.9zM29.3 268.1h0.9v0.9h-0.9zM26.8 261.5h0.9v0.9h-0.9zM46.6 273.0h0.9v0.9h-0.9zM33.7 272.7h0.9v0.9h-0.9zM30.2 272.4h0.9v0.9h-0.9zM35.1 265.3h0.9v0.9h-0.9zM36.4 277.6h0.9v0.9h-0.9zM38.5 264.0h0.9v0.9h-0.9zM38.3 268.6h0.9v0.9h-0.9zM33.8 273.6h0.9v0.9h-0.9zM38.8 279.1h0.9v0.9h-0.9zM42.2 279.2h0.9v0.9h-0.9zM46.7 282.9h0.9v0.9h-0.9zM45.6 283.0h0.9v0.9h-0.9zM33.5 278.5h0.9v0.9h-0.9zM43.3 279.9h0.9v0.9h-0.9zM44.8 279.0h0.9v0.9h-0.9zM32.2 271.0h0.9v0.9h-0.9zM32.6 263.2h0.9v0.9h-0.9zM48.9 281.4h0.9v0.9h-0.9zM46.7 265.7h0.9v0.9h-0.9zM42.7 271.0h0.9v0.9h-0.9zM40.8 279.1h0.9v0.9h-0.9zM46.3 269.3h0.9v0.9h-0.9zM44.0 281.7h0.9v0.9h-0.9zM40.8 266.3h0.9v0.9h-0.9zM31.3 260.4h0.9v0.9h-0.9zM26.0 276.8h0.9v0.9h-0.9zM27.8 266.0h0.9v0.9h-0.9zM39.6 270.2h0.9v0.9h-0.9zM38.7 282.1h0.9v0.9h-0.9zM33.1 277.2h0.9v0.9h-0.9zM43.9 274.2h0.9v0.9h-0.9zM43.6 274.1h0.9v0.9h-0.9zM37.2 279.7h0.9v0.9h-0.9zM36.0 271.9h0.9v0.9h-0.9zM39.5 281.0h0.9v0.9h-0.9zM29.1 279.9h0.9v0.9h-0.9zM38.3 275.1h0.9v0.9h-0.9zM47.2 268.6h0.9v0.9h-0.9zM32.9 264.7h0.9v0.9h-0.9zM37.6 276.9h0.9v0.9h-0.9zM27.2 274.9h0.9v0.9h-0.9zM29.3 273.6h0.9v0.9h-0.9zM49.3 283.5h0.9v0.9h-0.9zM36.2 279.9h0.9v0.9h-0.9zM45.0 258.2h0.9v0.9h-0.9zM31.3 277.7h0.9v0.9h-0.9zM42.1 266.9h0.9v0.9h-0.9zM39.7 276.9h0.9v0.9h-0.9zM36.7 273.4h0.9v0.9h-0.9zM48.5 280.9h0.9v0.9h-0.9zM45.0 262.9h0.9v0.9h-0.9zM34.0 278.7h0.9v0.9h-0.9zM39.1 272.5h0.9v0.9h-0.9zM31.0 274.7h0.9v0.9h-0.9zM38.5 262.5h0.9v0.9h-0.9zM53.8 275.3h0.9v0.9h-0.9zM27.5 261.4h0.9v0.9h-0.9zM33.9 269.7h0.9v0.9h-0.9zM32.0 271.8h0.9v0.9h-0.9zM47.9 268.0h0.9v0.9h-0.9zM43.4 280.3h0.9v0.9h-0.9zM31.9 262.5h0.9v0.9h-0.9zM40.9 281.1h0.9v0.9h-0.9zM41.4 278.5h0.9v0.9h-0.9zM32.3 277.3h0.9v0.9h-0.9zM29.7 276.4h0.9v0.9h-0.9zM42.1 279.5h0.9v0.9h-0.9zM45.0 279.4h0.9v0.9h-0.9zM43.9 276.0h0.9v0.9h-0.9zM48.1 275.2h0.9v0.9h-0.9zM47.6 270.7h0.9v0.9h-0.9zM29.8 273.9h0.9v0.9h-0.9zM37.6 270.3h0.9v0.9h-0.9zM31.4 278.4h0.9v0.9h-0.9zM39.1 280.3h0.9v0.9h-0.9zM34.4 275.7h0.9v0.9h-0.9zM31.9 268.1h0.9v0.9h-0.9zM41.5 280.0h0.9v0.9h-0.9zM36.7 282.1h0.9v0.9h-0.9zM31.0 282.2h0.9v0.9h-0.9zM36.7 272.6h0.9v0.9h-0.9zM29.7 282.0h0.9v0.9h-0.9zM29.5 282.1h0.9v0.9h-0.9zM48.5 262.7h0.9v0.9h-0.9zM38.4 265.7h0.9v0.9h-0.9zM34.2 272.9h0.9v0.9h-0.9zM34.7 277.9h0.9v0.9h-0.9zM42.4 262.0h0.9v0.9h-0.9zM31.1 263.1h0.9v0.9h-0.9zM28.0 275.7h0.9v0.9h-0.9zM36.2 273.8h0.9v0.9h-0.9zM24.4 268.7h0.9v0.9h-0.9zM23.1 270.8h0.9v0.9h-0.9zM32.7 275.8h0.9v0.9h-0.9zM39.6 279.8h0.9v0.9h-0.9zM35.3 275.9h0.9v0.9h-0.9zM39.5 266.2h0.9v0.9h-0.9zM36.3 281.2h0.9v0.9h-0.9zM31.1 280.5h0.9v0.9h-0.9zM33.6 282.1h0.9v0.9h-0.9zM38.5 267.5h0.9v0.9h-0.9zM36.9 282.0h0.9v0.9h-0.9zM26.3 264.6h0.9v0.9h-0.9zM41.0 266.4h0.9v0.9h-0.9zM25.7 271.5h0.9v0.9h-0.9zM34.4 270.9h0.9v0.9h-0.9zM34.3 274.9h0.9v0.9h-0.9zM33.5 261.5h0.9v0.9h-0.9zM35.9 271.0h0.9v0.9h-0.9zM35.9 273.6h0.9v0.9h-0.9zM34.5 261.7h0.9v0.9h-0.9zM38.3 284.0h0.9v0.9h-0.9zM40.2 274.8h0.9v0.9h-0.9zM41.4 271.6h0.9v0.9h-0.9zM30.4 258.5h0.9v0.9h-0.9zM39.1 265.6h0.9v0.9h-0.9zM30.6 275.0h0.9v0.9h-0.9zM26.5 269.6h0.9v0.9h-0.9zM32.2 272.8h0.9v0.9h-0.9zM36.2 276.4h0.9v0.9h-0.9zM37.0 264.8h0.9v0.9h-0.9zM21.7 283.1h0.9v0.9h-0.9zM32.2 277.2h0.9v0.9h-0.9zM36.9 278.6h0.9v0.9h-0.9zM35.6 281.3h0.9v0.9h-0.9zM30.0 275.6h0.9v0.9h-0.9zM41.0 268.0h0.9v0.9h-0.9zM31.9 266.8h0.9v0.9h-0.9zM45.7 271.4h0.9v0.9h-0.9zM43.0 271.2h0.9v0.9h-0.9zM37.7 277.7h0.9v0.9h-0.9zM38.9 270.2h0.9v0.9h-0.9zM45.5 278.7h0.9v0.9h-0.9zM32.9 275.4h0.9v0.9h-0.9zM49.8 270.6h0.9v0.9h-0.9zM37.2 276.7h0.9v0.9h-0.9zM34.8 271.7h0.9v0.9h-0.9zM42.7 271.9h0.9v0.9h-0.9zM35.8 275.0h0.9v0.9h-0.9zM28.7 272.2h0.9v0.9h-0.9zM42.6 281.9h0.9v0.9h-0.9zM25.4 269.8h0.9v0.9h-0.9zM49.5 268.2h0.9v0.9h-0.9zM31.1 274.4h0.9v0.9h-0.9zM33.7 266.9h0.9v0.9h-0.9zM32.1 273.6h0.9v0.9h-0.9zM38.3 275.9h0.9v0.9h-0.9zM29.6 260.0h0.9v0.9h-0.9zM42.1 273.3h0.9v0.9h-0.9zM37.3 275.9h0.9v0.9h-0.9zM45.0 282.5h0.9v0.9h-0.9zM32.6 277.8h0.9v0.9h-0.9zM38.5 283.7h0.9v0.9h-0.9zM51.1 277.9h0.9v0.9h-0.9zM30.4 276.0h0.9v0.9h-0.9zM32.3 272.1h0.9v0.9h-0.9zM44.4 270.0h0.9v0.9h-0.9zM25.2 266.9h0.9v0.9h-0.9zM32.5 260.7h0.9v0.9h-0.9zM40.3 277.6h0.9v0.9h-0.9zM37.4 281.3h0.9v0.9h-0.9zM37.4 279.9h0.9v0.9h-0.9zM31.8 275.6h0.9v0.9h-0.9zM36.5 264.9h0.9v0.9h-0.9zM39.8 267.1h0.9v0.9h-0.9zM45.2 262.9h0.9v0.9h-0.9zM23.0 280.1h0.9v0.9h-0.9zM41.5 271.6h0.9v0.9h-0.9zM25.5 266.4h0.9v0.9h-0.9zM23.9 282.6h0.9v0.9h-0.9zM42.3 269.1h0.9v0.9h-0.9zM45.7 275.3h0.9v0.9h-0.9zM32.5 269.8h0.9v0.9h-0.9zM43.4 270.4h0.9v0.9h-0.9zM32.7 271.3h0.9v0.9h-0.9zM37.6 264.4h0.9v0.9h-0.9zM35.7 276.6h0.9v0.9h-0.9zM37.1 265.7h0.9v0.9h-0.9zM40.5 266.6h0.9v0.9h-0.9zM28.0 267.6h0.9v0.9h-0.9zM40.2 270.5h0.9v0.9h-0.9zM41.7 279.1h0.9v0.9h-0.9zM32.8 277.9h0.9v0.9h-0.9zM40.9 276.6h0.9v0.9h-0.9zM33.0 276.5h0.9v0.9h-0.9zM37.3 278.7h0.9v0.9h-0.9zM37.1 269.4h0.9v0.9h-0.9zM27.8 271.1h0.9v0.9h-0.9zM48.4 276.8h0.9v0.9h-0.9zM38.1 267.9h0.9v0.9h-0.9zM39.2 274.4h0.9v0.9h-0.9zM38.6 271.8h0.9v0.9h-0.9zM31.4 266.1h0.9v0.9h-0.9zM34.3 266.0h0.9v0.9h-0.9zM29.8 274.1h0.9v0.9h-0.9zM37.7 269.8h0.9v0.9h-0.9zM34.7 280.8h0.9v0.9h-0.9zM28.6 276.5h0.9v0.9h-0.9zM21.9 282.0h0.9v0.9h-0.9zM48.4 276.4h0.9v0.9h-0.9zM40.6 277.2h0.9v0.9h-0.9zM23.3 277.7h0.9v0.9h-0.9zM41.1 280.0h0.9v0.9h-0.9zM40.2 265.6h0.9v0.9h-0.9zM37.3 246.7h0.9v0.9h-0.9zM39.4 268.3h0.9v0.9h-0.9zM31.9 280.1h0.9v0.9h-0.9zM40.5 253.6h0.9v0.9h-0.9zM45.2 264.3h0.9v0.9h-0.9zM30.4 264.7h0.9v0.9h-0.9zM46.5 265.5h0.9v0.9h-0.9zM38.4 277.7h0.9v0.9h-0.9zM21.5 280.4h0.9v0.9h-0.9zM30.3 283.8h0.9v0.9h-0.9zM32.4 282.9h0.9v0.9h-0.9zM53.0 260.4h0.9v0.9h-0.9zM29.9 267.6h0.9v0.9h-0.9zM37.2 276.6h0.9v0.9h-0.9zM43.1 267.5h0.9v0.9h-0.9zM32.8 273.4h0.9v0.9h-0.9zM46.5 269.7h0.9v0.9h-0.9zM42.1 268.6h0.9v0.9h-0.9zM29.2 272.6h0.9v0.9h-0.9zM37.9 273.9h0.9v0.9h-0.9zM32.6 268.5h0.9v0.9h-0.9zM44.7 264.3h0.9v0.9h-0.9zM34.3 264.4h0.9v0.9h-0.9zM35.9 282.2h0.9v0.9h-0.9zM35.3 268.0h0.9v0.9h-0.9zM34.5 273.1h0.9v0.9h-0.9zM35.0 265.9h0.9v0.9h-0.9zM37.1 284.0h0.9v0.9h-0.9zM39.2 268.6h0.9v0.9h-0.9zM45.4 274.9h0.9v0.9h-0.9zM39.8 272.6h0.9v0.9h-0.9zM41.4 264.6h0.9v0.9h-0.9zM36.9 271.9h0.9v0.9h-0.9zM35.3 274.0h0.9v0.9h-0.9zM56.2 269.5h0.9v0.9h-0.9zM36.6 263.6h0.9v0.9h-0.9zM38.2 269.5h0.9v0.9h-0.9zM43.4 273.4h0.9v0.9h-0.9zM36.0 273.3h0.9v0.9h-0.9zM48.4 282.9h0.9v0.9h-0.9zM38.2 281.1h0.9v0.9h-0.9zM37.4 261.7h0.9v0.9h-0.9zM27.2 275.2h0.9v0.9h-0.9zM39.9 269.4h0.9v0.9h-0.9zM29.6 277.9h0.9v0.9h-0.9zM35.5 264.1h0.9v0.9h-0.9zM41.5 274.8h0.9v0.9h-0.9zM27.1 282.4h0.9v0.9h-0.9zM33.9 268.7h0.9v0.9h-0.9zM32.5 269.8h0.9v0.9h-0.9zM47.0 272.5h0.9v0.9h-0.9zM42.5 269.1h0.9v0.9h-0.9zM43.1 283.3h0.9v0.9h-0.9zM40.8 259.6h0.9v0.9h-0.9zM29.5 267.2h0.9v0.9h-0.9zM41.9 274.9h0.9v0.9h-0.9zM38.4 275.0h0.9v0.9h-0.9zM34.8 272.1h0.9v0.9h-0.9zM33.2 272.5h0.9v0.9h-0.9zM46.2 273.8h0.9v0.9h-0.9zM34.5 269.6h0.9v0.9h-0.9zM23.9 277.5h0.9v0.9h-0.9zM42.1 276.9h0.9v0.9h-0.9zM36.3 277.9h0.9v0.9h-0.9zM41.5 283.2h0.9v0.9h-0.9zM30.9 282.0h0.9v0.9h-0.9zM28.2 280.6h0.9v0.9h-0.9zM52.8 283.3h0.9v0.9h-0.9zM36.3 274.1h0.9v0.9h-0.9zM33.9 271.6h0.9v0.9h-0.9zM38.7 268.5h0.9v0.9h-0.9zM44.1 277.0h0.9v0.9h-0.9zM30.0 266.6h0.9v0.9h-0.9zM36.9 270.8h0.9v0.9h-0.9zM47.9 267.7h0.9v0.9h-0.9zM37.1 272.2h0.9v0.9h-0.9zM35.1 277.3h0.9v0.9h-0.9zM41.4 270.0h0.9v0.9h-0.9zM33.0 275.2h0.9v0.9h-0.9zM37.2 269.5h0.9v0.9h-0.9zM26.1 273.6h0.9v0.9h-0.9zM33.4 276.2h0.9v0.9h-0.9zM32.9 271.9h0.9v0.9h-0.9zM37.5 260.2h0.9v0.9h-0.9zM36.8 275.2h0.9v0.9h-0.9zM36.2 273.6h0.9v0.9h-0.9zM48.7 260.8h0.9v0.9h-0.9zM31.3 267.2h0.9v0.9h-0.9zM32.5 268.6h0.9v0.9h-0.9zM28.9 269.1h0.9v0.9h-0.9zM40.9 268.8h0.9v0.9h-0.9zM40.1 279.7h0.9v0.9h-0.9zM42.0 275.7h0.9v0.9h-0.9zM24.6 269.9h0.9v0.9h-0.9zM22.8 259.5h0.9v0.9h-0.9zM44.5 254.2h0.9v0.9h-0.9zM41.9 269.6h0.9v0.9h-0.9zM39.5 283.4h0.9v0.9h-0.9zM37.8 265.9h0.9v0.9h-0.9zM42.5 264.7h0.9v0.9h-0.9zM37.2 272.6h0.9v0.9h-0.9zM46.1 262.2h0.9v0.9h-0.9zM45.0 262.8h0.9v0.9h-0.9zM40.0 276.2h0.9v0.9h-0.9zM32.8 270.7h0.9v0.9h-0.9zM23.1 282.9h0.9v0.9h-0.9zM40.6 271.4h0.9v0.9h-0.9zM36.3 272.5h0.9v0.9h-0.9zM41.1 272.6h0.9v0.9h-0.9zM47.2 282.3h0.9v0.9h-0.9zM38.9 270.4h0.9v0.9h-0.9zM24.8 263.0h0.9v0.9h-0.9zM51.1 275.1h0.9v0.9h-0.9zM47.4 260.7h0.9v0.9h-0.9zM27.7 278.0h0.9v0.9h-0.9zM46.1 264.2h0.9v0.9h-0.9zM28.3 263.7h0.9v0.9h-0.9zM40.4 257.5h0.9v0.9h-0.9zM49.2 267.1h0.9v0.9h-0.9zM38.3 279.2h0.9v0.9h-0.9zM36.4 272.9h0.9v0.9h-0.9zM44.6 273.1h0.9v0.9h-0.9zM34.0 272.1h0.9v0.9h-0.9zM23.2 266.8h0.9v0.9h-0.9zM32.0 281.8h0.9v0.9h-0.9zM41.1 266.6h0.9v0.9h-0.9zM27.0 275.9h0.9v0.9h-0.9zM38.6 279.1h0.9v0.9h-0.9zM36.8 275.5h0.9v0.9h-0.9zM38.2 266.0h0.9v0.9h-0.9zM41.8 279.5h0.9v0.9h-0.9zM33.3 282.1h0.9v0.9h-0.9zM41.7 268.5h0.9v0.9h-0.9zM29.4 283.5h0.9v0.9h-0.9zM44.6 265.8h0.9v0.9h-0.9zM37.0 270.5h0.9v0.9h-0.9zM39.9 272.2h0.9v0.9h-0.9zM29.4 262.1h0.9v0.9h-0.9zM32.1 258.0h0.9v0.9h-0.9zM40.4 270.5h0.9v0.9h-0.9zM47.3 282.5h0.9v0.9h-0.9zM43.4 272.2h0.9v0.9h-0.9zM38.3 268.4h0.9v0.9h-0.9zM33.8 272.2h0.9v0.9h-0.9zM35.0 269.8h0.9v0.9h-0.9zM35.6 273.5h0.9v0.9h-0.9zM46.0 273.2h0.9v0.9h-0.9zM33.9 276.8h0.9v0.9h-0.9zM39.9 265.4h0.9v0.9h-0.9zM35.4 271.9h0.9v0.9h-0.9zM31.2 277.9h0.9v0.9h-0.9zM40.0 269.5h0.9v0.9h-0.9zM44.1 276.9h0.9v0.9h-0.9zM37.0 275.0h0.9v0.9h-0.9zM41.8 279.0h0.9v0.9h-0.9zM32.1 274.6h0.9v0.9h-0.9zM36.8 270.8h0.9v0.9h-0.9zM33.6 280.4h0.9v0.9h-0.9zM32.1 278.8h0.9v0.9h-0.9zM44.8 271.7h0.9v0.9h-0.9zM36.4 280.9h0.9v0.9h-0.9zM49.2 274.4h0.9v0.9h-0.9zM35.6 275.3h0.9v0.9h-0.9zM42.3 271.2h0.9v0.9h-0.9zM42.2 277.5h0.9v0.9h-0.9zM38.7 266.5h0.9v0.9h-0.9zM44.6 258.5h0.9v0.9h-0.9zM33.0 259.3h0.9v0.9h-0.9zM35.0 271.1h0.9v0.9h-0.9zM35.7 267.9h0.9v0.9h-0.9zM44.3 260.1h0.9v0.9h-0.9zM26.8 273.6h0.9v0.9h-0.9zM44.5 277.1h0.9v0.9h-0.9zM31.6 258.6h0.9v0.9h-0.9zM40.5 275.6h0.9v0.9h-0.9zM39.3 263.6h0.9v0.9h-0.9zM47.6 281.1h0.9v0.9h-0.9zM40.0 277.0h0.9v0.9h-0.9zM36.2 270.9h0.9v0.9h-0.9zM38.6 267.2h0.9v0.9h-0.9zM41.1 264.5h0.9v0.9h-0.9zM47.9 268.7h0.9v0.9h-0.9zM44.3 246.5h0.9v0.9h-0.9zM45.0 246.0h0.9v0.9h-0.9zM36.3 248.5h0.9v0.9h-0.9zM45.8 240.5h0.9v0.9h-0.9zM38.6 243.4h0.9v0.9h-0.9zM30.8 244.8h0.9v0.9h-0.9zM35.8 237.7h0.9v0.9h-0.9zM51.9 244.8h0.9v0.9h-0.9zM37.1 245.2h0.9v0.9h-0.9zM31.7 241.7h0.9v0.9h-0.9zM50.2 243.0h0.9v0.9h-0.9zM26.1 245.6h0.9v0.9h-0.9zM44.5 242.0h0.9v0.9h-0.9zM33.8 248.9h0.9v0.9h-0.9zM44.5 240.3h0.9v0.9h-0.9zM34.9 243.2h0.9v0.9h-0.9zM36.8 240.1h0.9v0.9h-0.9zM36.7 240.9h0.9v0.9h-0.9zM43.2 245.1h0.9v0.9h-0.9zM34.6 243.5h0.9v0.9h-0.9zM34.7 247.5h0.9v0.9h-0.9zM41.6 246.6h0.9v0.9h-0.9zM23.3 246.8h0.9v0.9h-0.9zM37.4 243.0h0.9v0.9h-0.9zM28.1 248.3h0.9v0.9h-0.9zM49.0 244.5h0.9v0.9h-0.9zM36.9 242.0h0.9v0.9h-0.9zM44.0 244.7h0.9v0.9h-0.9zM33.1 248.8h0.9v0.9h-0.9zM41.7 245.4h0.9v0.9h-0.9zM37.6 243.6h0.9v0.9h-0.9zM32.4 242.7h0.9v0.9h-0.9zM34.3 247.4h0.9v0.9h-0.9zM31.3 249.4h0.9v0.9h-0.9zM45.8 242.3h0.9v0.9h-0.9zM32.6 238.7h0.9v0.9h-0.9zM44.1 246.8h0.9v0.9h-0.9zM49.6 245.4h0.9v0.9h-0.9zM41.0 243.4h0.9v0.9h-0.9zM29.4 246.6h0.9v0.9h-0.9zM35.7 244.3h0.9v0.9h-0.9zM32.7 246.1h0.9v0.9h-0.9zM26.2 240.3h0.9v0.9h-0.9zM45.7 246.4h0.9v0.9h-0.9zM31.3 245.3h0.9v0.9h-0.9zM40.7 247.9h0.9v0.9h-0.9zM45.7 247.8h0.9v0.9h-0.9zM34.1 250.9h0.9v0.9h-0.9zM38.2 246.8h0.9v0.9h-0.9zM42.3 249.4h0.9v0.9h-0.9zM45.6 238.9h0.9v0.9h-0.9zM28.1 244.0h0.9v0.9h-0.9zM32.6 247.7h0.9v0.9h-0.9zM48.8 248.9h0.9v0.9h-0.9zM30.9 246.2h0.9v0.9h-0.9zM44.7 246.9h0.9v0.9h-0.9zM44.7 253.4h0.9v0.9h-0.9zM43.8 245.9h0.9v0.9h-0.9zM42.1 245.5h0.9v0.9h-0.9zM35.4 244.5h0.9v0.9h-0.9zM31.7 241.2h0.9v0.9h-0.9zM38.6 241.5h0.9v0.9h-0.9zM33.8 242.2h0.9v0.9h-0.9zM30.1 235.5h0.9v0.9h-0.9zM42.6 249.0h0.9v0.9h-0.9zM39.5 242.1h0.9v0.9h-0.9zM46.0 245.7h0.9v0.9h-0.9zM28.4 244.2h0.9v0.9h-0.9zM38.4 241.5h0.9v0.9h-0.9zM41.8 239.6h0.9v0.9h-0.9zM38.2 246.9h0.9v0.9h-0.9zM24.8 246.4h0.9v0.9h-0.9zM44.1 241.6h0.9v0.9h-0.9zM30.0 243.8h0.9v0.9h-0.9zM38.0 243.8h0.9v0.9h-0.9zM35.8 240.7h0.9v0.9h-0.9zM25.3 242.0h0.9v0.9h-0.9zM44.5 247.0h0.9v0.9h-0.9zM43.0 243.8h0.9v0.9h-0.9zM33.8 242.7h0.9v0.9h-0.9zM39.1 239.8h0.9v0.9h-0.9zM40.5 245.9h0.9v0.9h-0.9zM33.7 247.4h0.9v0.9h-0.9zM42.9 237.0h0.9v0.9h-0.9zM35.1 244.0h0.9v0.9h-0.9zM21.7 246.5h0.9v0.9h-0.9zM44.7 246.2h0.9v0.9h-0.9zM37.0 249.2h0.9v0.9h-0.9zM38.5 245.5h0.9v0.9h-0.9zM41.3 248.2h0.9v0.9h-0.9zM26.1 247.5h0.9v0.9h-0.9zM40.4 249.2h0.9v0.9h-0.9zM39.4 244.2h0.9v0.9h-0.9zM33.2 244.6h0.9v0.9h-0.9zM33.9 246.2h0.9v0.9h-0.9zM38.3 242.0h0.9v0.9h-0.9zM42.7 244.3h0.9v0.9h-0.9zM35.2 249.0h0.9v0.9h-0.9zM41.1 245.9h0.9v0.9h-0.9zM32.8 248.7h0.9v0.9h-0.9zM42.0 240.5h0.9v0.9h-0.9zM36.0 248.6h0.9v0.9h-0.9zM44.7 244.1h0.9v0.9h-0.9zM39.5 245.1h0.9v0.9h-0.9zM21.7 246.9h0.9v0.9h-0.9zM48.1 242.7h0.9v0.9h-0.9zM38.8 247.7h0.9v0.9h-0.9zM39.7 248.0h0.9v0.9h-0.9zM38.2 243.7h0.9v0.9h-0.9zM33.2 244.2h0.9v0.9h-0.9zM28.9 240.5h0.9v0.9h-0.9zM38.6 241.5h0.9v0.9h-0.9zM38.9 244.2h0.9v0.9h-0.9zM36.9 246.3h0.9v0.9h-0.9zM34.7 241.0h0.9v0.9h-0.9zM36.1 243.8h0.9v0.9h-0.9zM47.3 247.8h0.9v0.9h-0.9zM28.6 238.5h0.9v0.9h-0.9zM29.4 246.3h0.9v0.9h-0.9zM25.1 247.4h0.9v0.9h-0.9zM35.7 248.2h0.9v0.9h-0.9zM39.6 241.4h0.9v0.9h-0.9zM35.1 245.1h0.9v0.9h-0.9zM46.0 243.6h0.9v0.9h-0.9zM33.9 244.9h0.9v0.9h-0.9zM32.5 246.2h0.9v0.9h-0.9zM40.6 247.4h0.9v0.9h-0.9zM31.9 248.3h0.9v0.9h-0.9zM57.7 249.1h0.9v0.9h-0.9zM38.6 244.1h0.9v0.9h-0.9zM27.1 246.0h0.9v0.9h-0.9zM52.2 246.3h0.9v0.9h-0.9zM40.6 244.3h0.9v0.9h-0.9zM29.9 252.3h0.9v0.9h-0.9zM35.5 249.8h0.9v0.9h-0.9zM38.2 244.2h0.9v0.9h-0.9zM31.8 244.9h0.9v0.9h-0.9zM39.3 243.3h0.9v0.9h-0.9zM37.3 243.9h0.9v0.9h-0.9zM31.8 242.2h0.9v0.9h-0.9zM56.5 240.2h0.9v0.9h-0.9zM42.8 239.9h0.9v0.9h-0.9zM31.3 247.6h0.9v0.9h-0.9zM27.8 247.0h0.9v0.9h-0.9zM48.2 243.8h0.9v0.9h-0.9zM43.3 247.8h0.9v0.9h-0.9zM23.4 243.1h0.9v0.9h-0.9zM35.0 247.5h0.9v0.9h-0.9zM34.7 240.3h0.9v0.9h-0.9zM28.5 244.7h0.9v0.9h-0.9zM38.4 245.9h0.9v0.9h-0.9zM30.1 246.1h0.9v0.9h-0.9zM37.1 241.2h0.9v0.9h-0.9zM29.0 251.7h0.9v0.9h-0.9zM42.0 243.3h0.9v0.9h-0.9zM41.9 242.1h0.9v0.9h-0.9zM49.8 246.4h0.9v0.9h-0.9zM22.0 243.2h0.9v0.9h-0.9zM36.1 244.9h0.9v0.9h-0.9zM29.6 247.7h0.9v0.9h-0.9zM39.0 249.3h0.9v0.9h-0.9zM39.4 249.4h0.9v0.9h-0.9zM49.0 244.9h0.9v0.9h-0.9zM40.0 247.6h0.9v0.9h-0.9zM41.2 244.2h0.9v0.9h-0.9zM54.4 248.5h0.9v0.9h-0.9zM41.5 240.6h0.9v0.9h-0.9zM30.3 243.9h0.9v0.9h-0.9zM30.0 239.7h0.9v0.9h-0.9zM42.3 246.8h0.9v0.9h-0.9zM33.9 244.5h0.9v0.9h-0.9zM45.8 247.5h0.9v0.9h-0.9zM50.8 243.9h0.9v0.9h-0.9zM35.4 247.2h0.9v0.9h-0.9zM51.0 244.0h0.9v0.9h-0.9zM35.6 243.7h0.9v0.9h-0.9zM45.9 248.5h0.9v0.9h-0.9zM31.1 248.1h0.9v0.9h-0.9zM43.5 248.8h0.9v0.9h-0.9zM34.6 244.4h0.9v0.9h-0.9zM41.7 246.3h0.9v0.9h-0.9zM31.2 247.1h0.9v0.9h-0.9zM42.3 243.8h0.9v0.9h-0.9zM41.0 248.3h0.9v0.9h-0.9zM38.1 244.8h0.9v0.9h-0.9zM30.8 244.4h0.9v0.9h-0.9zM33.1 241.3h0.9v0.9h-0.9zM44.7 246.1h0.9v0.9h-0.9zM40.3 245.2h0.9v0.9h-0.9zM47.6 238.9h0.9v0.9h-0.9zM49.0 243.1h0.9v0.9h-0.9zM31.7 242.0h0.9v0.9h-0.9zM31.9 244.1h0.9v0.9h-0.9zM43.4 241.9h0.9v0.9h-0.9zM43.7 242.9h0.9v0.9h-0.9zM38.0 249.2h0.9v0.9h-0.9zM35.7 240.8h0.9v0.9h-0.9zM38.6 245.9h0.9v0.9h-0.9zM35.4 243.2h0.9v0.9h-0.9zM42.4 241.5h0.9v0.9h-0.9zM37.1 241.9h0.9v0.9h-0.9zM42.3 243.2h0.9v0.9h-0.9zM40.5 244.4h0.9v0.9h-0.9zM37.5 241.7h0.9v0.9h-0.9zM46.8 242.8h0.9v0.9h-0.9zM37.1 240.4h0.9v0.9h-0.9zM38.6 241.8h0.9v0.9h-0.9zM30.5 247.9h0.9v0.9h-0.9zM43.4 245.5h0.9v0.9h-0.9zM39.4 246.4h0.9v0.9h-0.9zM38.0 245.2h0.9v0.9h-0.9zM31.1 243.3h0.9v0.9h-0.9zM36.9 236.1h0.9v0.9h-0.9zM29.6 241.7h0.9v0.9h-0.9zM52.2 239.3h0.9v0.9h-0.9zM24.9 246.8h0.9v0.9h-0.9zM31.0 246.1h0.9v0.9h-0.9zM37.7 249.9h0.9v0.9h-0.9zM37.9 247.4h0.9v0.9h-0.9zM36.8 244.7h0.9v0.9h-0.9zM38.1 244.4h0.9v0.9h-0.9zM48.0 249.7h0.9v0.9h-0.9zM38.2 243.8h0.9v0.9h-0.9zM39.4 247.8h0.9v0.9h-0.9zM43.1 244.8h0.9v0.9h-0.9zM26.9 252.2h0.9v0.9h-0.9zM48.3 246.1h0.9v0.9h-0.9zM40.3 249.0h0.9v0.9h-0.9zM49.7 244.9h0.9v0.9h-0.9zM40.2 244.0h0.9v0.9h-0.9zM51.7 243.4h0.9v0.9h-0.9zM35.1 248.0h0.9v0.9h-0.9zM42.4 244.6h0.9v0.9h-0.9zM44.0 245.6h0.9v0.9h-0.9zM38.0 245.8h0.9v0.9h-0.9zM42.1 245.3h0.9v0.9h-0.9zM41.5 245.1h0.9v0.9h-0.9zM41.9 241.5h0.9v0.9h-0.9zM50.0 248.0h0.9v0.9h-0.9zM40.3 246.6h0.9v0.9h-0.9zM50.8 246.2h0.9v0.9h-0.9zM29.3 245.9h0.9v0.9h-0.9zM24.3 244.0h0.9v0.9h-0.9zM48.3 241.1h0.9v0.9h-0.9zM27.4 243.5h0.9v0.9h-0.9zM40.9 250.9h0.9v0.9h-0.9zM36.4 244.4h0.9v0.9h-0.9zM29.8 251.5h0.9v0.9h-0.9zM37.1 246.1h0.9v0.9h-0.9zM45.4 244.2h0.9v0.9h-0.9zM32.1 243.1h0.9v0.9h-0.9zM37.6 247.4h0.9v0.9h-0.9zM45.4 242.9h0.9v0.9h-0.9zM35.7 240.1h0.9v0.9h-0.9zM38.4 251.7h0.9v0.9h-0.9zM41.3 243.6h0.9v0.9h-0.9zM48.7 246.1h0.9v0.9h-0.9zM46.2 249.9h0.9v0.9h-0.9zM29.6 244.8h0.9v0.9h-0.9zM36.6 248.6h0.9v0.9h-0.9zM37.5 245.1h0.9v0.9h-0.9zM24.1 243.0h0.9v0.9h-0.9zM34.1 241.3h0.9v0.9h-0.9zM39.3 243.7h0.9v0.9h-0.9zM39.5 247.6h0.9v0.9h-0.9zM41.0 244.7h0.9v0.9h-0.9zM40.4 241.0h0.9v0.9h-0.9zM35.5 242.8h0.9v0.9h-0.9zM51.3 240.5h0.9v0.9h-0.9zM35.5 246.4h0.9v0.9h-0.9zM34.8 246.7h0.9v0.9h-0.9zM30.1 247.9h0.9v0.9h-0.9zM39.5 237.5h0.9v0.9h-0.9zM28.2 240.4h0.9v0.9h-0.9zM36.3 243.4h0.9v0.9h-0.9zM40.4 246.6h0.9v0.9h-0.9zM42.2 246.1h0.9v0.9h-0.9zM32.4 239.7h0.9v0.9h-0.9zM29.6 245.8h0.9v0.9h-0.9zM31.3 240.6h0.9v0.9h-0.9zM32.0 245.9h0.9v0.9h-0.9zM28.8 243.9h0.9v0.9h-0.9zM43.1 247.3h0.9v0.9h-0.9zM26.2 244.4h0.9v0.9h-0.9zM34.1 252.6h0.9v0.9h-0.9zM36.3 240.0h0.9v0.9h-0.9zM33.7 244.5h0.9v0.9h-0.9zM34.7 246.9h0.9v0.9h-0.9zM35.3 244.7h0.9v0.9h-0.9zM61.8 246.0h0.9v0.9h-0.9zM43.9 244.6h0.9v0.9h-0.9zM21.0 250.1h0.9v0.9h-0.9zM34.9 246.8h0.9v0.9h-0.9zM28.2 244.9h0.9v0.9h-0.9zM45.6 241.0h0.9v0.9h-0.9zM51.4 247.8h0.9v0.9h-0.9zM40.7 243.7h0.9v0.9h-0.9zM44.6 237.9h0.9v0.9h-0.9zM46.8 238.1h0.9v0.9h-0.9zM34.5 248.9h0.9v0.9h-0.9zM40.4 238.4h0.9v0.9h-0.9zM26.4 240.4h0.9v0.9h-0.9zM34.3 241.8h0.9v0.9h-0.9zM44.8 243.4h0.9v0.9h-0.9zM50.3 249.0h0.9v0.9h-0.9zM29.4 248.7h0.9v0.9h-0.9zM47.2 240.7h0.9v0.9h-0.9zM35.7 241.8h0.9v0.9h-0.9zM31.0 244.3h0.9v0.9h-0.9zM40.2 241.8h0.9v0.9h-0.9zM26.8 246.6h0.9v0.9h-0.9zM47.3 248.3h0.9v0.9h-0.9zM28.1 242.8h0.9v0.9h-0.9zM35.8 242.3h0.9v0.9h-0.9zM45.5 241.5h0.9v0.9h-0.9zM35.9 245.7h0.9v0.9h-0.9zM38.5 245.3h0.9v0.9h-0.9zM37.0 246.2h0.9v0.9h-0.9zM40.3 244.7h0.9v0.9h-0.9zM41.9 245.9h0.9v0.9h-0.9zM43.0 246.1h0.9v0.9h-0.9zM41.2 245.7h0.9v0.9h-0.9zM32.1 242.9h0.9v0.9h-0.9zM35.9 242.3h0.9v0.9h-0.9zM34.7 242.3h0.9v0.9h-0.9zM33.2 245.6h0.9v0.9h-0.9zM58.9 250.9h0.9v0.9h-0.9zM38.0 244.7h0.9v0.9h-0.9zM36.2 243.8h0.9v0.9h-0.9zM42.0 245.9h0.9v0.9h-0.9zM40.0 247.5h0.9v0.9h-0.9zM34.9 246.9h0.9v0.9h-0.9zM39.2 241.3h0.9v0.9h-0.9zM46.8 241.5h0.9v0.9h-0.9zM43.6 242.2h0.9v0.9h-0.9zM33.2 248.2h0.9v0.9h-0.9zM40.8 244.5h0.9v0.9h-0.9zM32.5 238.9h0.9v0.9h-0.9zM34.6 244.0h0.9v0.9h-0.9zM44.2 244.5h0.9v0.9h-0.9zM45.0 242.7h0.9v0.9h-0.9zM44.4 247.3h0.9v0.9h-0.9zM36.3 247.2h0.9v0.9h-0.9zM49.7 240.0h0.9v0.9h-0.9zM28.9 242.3h0.9v0.9h-0.9zM34.1 241.4h0.9v0.9h-0.9zM39.1 240.0h0.9v0.9h-0.9zM50.6 244.2h0.9v0.9h-0.9zM39.5 243.9h0.9v0.9h-0.9zM34.1 244.9h0.9v0.9h-0.9zM37.1 245.7h0.9v0.9h-0.9zM43.2 241.8h0.9v0.9h-0.9zM25.7 242.3h0.9v0.9h-0.9zM39.7 237.9h0.9v0.9h-0.9zM41.1 244.8h0.9v0.9h-0.9zM28.8 245.2h0.9v0.9h-0.9zM44.5 244.2h0.9v0.9h-0.9zM41.4 246.4h0.9v0.9h-0.9zM46.2 248.4h0.9v0.9h-0.9zM32.9 243.8h0.9v0.9h-0.9zM38.3 241.3h0.9v0.9h-0.9zM38.9 245.7h0.9v0.9h-0.9zM40.3 238.4h0.9v0.9h-0.9zM33.6 236.4h0.9v0.9h-0.9zM38.7 244.4h0.9v0.9h-0.9zM43.5 247.4h0.9v0.9h-0.9zM31.5 244.2h0.9v0.9h-0.9zM39.2 247.0h0.9v0.9h-0.9zM46.1 243.9h0.9v0.9h-0.9zM27.9 247.1h0.9v0.9h-0.9zM36.6 238.6h0.9v0.9h-0.9zM39.3 241.7h0.9v0.9h-0.9zM38.3 248.4h0.9v0.9h-0.9zM37.6 241.9h0.9v0.9h-0.9zM41.0 243.6h0.9v0.9h-0.9zM38.7 247.7h0.9v0.9h-0.9zM39.6 246.1h0.9v0.9h-0.9zM37.7 244.9h0.9v0.9h-0.9zM30.9 242.0h0.9v0.9h-0.9zM45.1 248.7h0.9v0.9h-0.9zM30.5 246.7h0.9v0.9h-0.9zM44.2 241.9h0.9v0.9h-0.9zM42.9 246.4h0.9v0.9h-0.9zM46.4 250.2h0.9v0.9h-0.9zM38.2 245.8h0.9v0.9h-0.9zM32.0 245.4h0.9v0.9h-0.9zM38.3 243.8h0.9v0.9h-0.9zM39.0 247.3h0.9v0.9h-0.9zM44.5 247.0h0.9v0.9h-0.9zM50.5 239.9h0.9v0.9h-0.9zM37.1 244.2h0.9v0.9h-0.9zM35.4 243.1h0.9v0.9h-0.9zM28.5 243.5h0.9v0.9h-0.9zM46.6 243.1h0.9v0.9h-0.9zM37.9 245.9h0.9v0.9h-0.9zM38.1 241.4h0.9v0.9h-0.9zM34.6 248.3h0.9v0.9h-0.9zM33.5 240.5h0.9v0.9h-0.9zM51.3 245.0h0.9v0.9h-0.9zM30.5 238.8h0.9v0.9h-0.9zM33.0 240.3h0.9v0.9h-0.9zM37.2 247.5h0.9v0.9h-0.9zM43.6 243.3h0.9v0.9h-0.9zM42.6 243.1h0.9v0.9h-0.9zM20.6 246.8h0.9v0.9h-0.9zM32.6 241.4h0.9v0.9h-0.9zM45.0 244.7h0.9v0.9h-0.9zM44.1 247.6h0.9v0.9h-0.9zM43.4 244.1h0.9v0.9h-0.9zM52.4 241.3h0.9v0.9h-0.9zM44.8 250.6h0.9v0.9h-0.9zM37.0 242.6h0.9v0.9h-0.9zM44.0 248.1h0.9v0.9h-0.9zM42.1 242.5h0.9v0.9h-0.9zM39.3 239.8h0.9v0.9h-0.9zM45.6 248.2h0.9v0.9h-0.9zM37.0 246.5h0.9v0.9h-0.9zM36.2 244.7h0.9v0.9h-0.9zM39.3 243.9h0.9v0.9h-0.9zM58.4 243.6h0.9v0.9h-0.9zM45.3 241.7h0.9v0.9h-0.9zM40.1 244.4h0.9v0.9h-0.9zM32.5 247.2h0.9v0.9h-0.9zM43.6 248.8h0.9v0.9h-0.9zM41.2 241.2h0.9v0.9h-0.9zM43.9 245.5h0.9v0.9h-0.9zM51.0 236.9h0.9v0.9h-0.9zM37.1 244.9h0.9v0.9h-0.9zM45.5 240.7h0.9v0.9h-0.9zM46.0 245.5h0.9v0.9h-0.9zM24.1 252.1h0.9v0.9h-0.9zM23.5 241.2h0.9v0.9h-0.9zM32.4 246.0h0.9v0.9h-0.9zM35.0 244.2h0.9v0.9h-0.9zM33.0 246.1h0.9v0.9h-0.9zM43.9 250.1h0.9v0.9h-0.9zM28.0 242.2h0.9v0.9h-0.9zM34.1 243.1h0.9v0.9h-0.9zM37.2 246.6h0.9v0.9h-0.9zM33.9 242.5h0.9v0.9h-0.9zM46.9 249.0h0.9v0.9h-0.9zM51.1 251.1h0.9v0.9h-0.9zM33.1 248.9h0.9v0.9h-0.9zM43.2 244.3h0.9v0.9h-0.9zM42.6 242.5h0.9v0.9h-0.9zM30.5 243.7h0.9v0.9h-0.9zM27.7 243.2h0.9v0.9h-0.9zM38.7 241.3h0.9v0.9h-0.9zM33.1 238.2h0.9v0.9h-0.9zM30.1 244.3h0.9v0.9h-0.9zM33.7 245.0h0.9v0.9h-0.9zM33.7 242.9h0.9v0.9h-0.9zM26.8 250.0h0.9v0.9h-0.9zM36.5 247.4h0.9v0.9h-0.9zM32.8 240.7h0.9v0.9h-0.9zM40.1 243.1h0.9v0.9h-0.9zM37.7 246.5h0.9v0.9h-0.9zM42.4 247.1h0.9v0.9h-0.9zM39.6 238.3h0.9v0.9h-0.9zM41.6 249.4h0.9v0.9h-0.9zM40.9 247.9h0.9v0.9h-0.9zM41.6 246.2h0.9v0.9h-0.9zM42.4 239.7h0.9v0.9h-0.9zM23.4 244.7h0.9v0.9h-0.9zM42.5 246.3h0.9v0.9h-0.9zM36.3 243.0h0.9v0.9h-0.9zM31.0 245.6h0.9v0.9h-0.9zM40.5 246.9h0.9v0.9h-0.9zM37.4 248.6h0.9v0.9h-0.9zM33.2 248.1h0.9v0.9h-0.9zM32.7 249.1h0.9v0.9h-0.9zM45.0 241.3h0.9v0.9h-0.9zM42.0 241.3h0.9v0.9h-0.9zM50.9 248.1h0.9v0.9h-0.9zM38.9 245.7h0.9v0.9h-0.9zM37.9 243.0h0.9v0.9h-0.9zM30.6 244.3h0.9v0.9h-0.9zM45.3 245.7h0.9v0.9h-0.9zM46.2 247.9h0.9v0.9h-0.9zM42.0 241.6h0.9v0.9h-0.9zM31.5 243.3h0.9v0.9h-0.9zM22.9 239.5h0.9v0.9h-0.9zM38.8 248.9h0.9v0.9h-0.9zM53.5 245.1h0.9v0.9h-0.9zM44.9 245.7h0.9v0.9h-0.9zM32.1 247.6h0.9v0.9h-0.9zM38.0 246.6h0.9v0.9h-0.9zM25.3 243.5h0.9v0.9h-0.9zM45.1 243.8h0.9v0.9h-0.9zM38.2 247.4h0.9v0.9h-0.9zM48.5 249.0h0.9v0.9h-0.9zM39.3 242.8h0.9v0.9h-0.9zM45.0 242.5h0.9v0.9h-0.9zM29.8 241.9h0.9v0.9h-0.9zM38.0 242.2h0.9v0.9h-0.9zM32.6 247.8h0.9v0.9h-0.9zM30.3 240.6h0.9v0.9h-0.9zM38.7 246.7h0.9v0.9h-0.9zM34.6 241.4h0.9v0.9h-0.9zM55.3 243.2h0.9v0.9h-0.9zM57.0 242.2h0.9v0.9h-0.9zM47.4 240.6h0.9v0.9h-0.9zM49.8 246.4h0.9v0.9h-0.9zM40.3 242.8h0.9v0.9h-0.9zM49.6 249.1h0.9v0.9h-0.9zM39.0 245.4h0.9v0.9h-0.9zM34.0 246.9h0.9v0.9h-0.9zM36.5 246.5h0.9v0.9h-0.9zM25.0 246.2h0.9v0.9h-0.9zM45.8 245.3h0.9v0.9h-0.9zM49.8 242.3h0.9v0.9h-0.9zM46.9 245.2h0.9v0.9h-0.9zM39.4 246.3h0.9v0.9h-0.9zM48.3 239.0h0.9v0.9h-0.9zM39.2 244.5h0.9v0.9h-0.9zM44.3 244.8h0.9v0.9h-0.9zM35.6 245.6h0.9v0.9h-0.9zM44.7 242.6h0.9v0.9h-0.9zM40.1 244.4h0.9v0.9h-0.9zM34.8 244.8h0.9v0.9h-0.9zM52.7 243.3h0.9v0.9h-0.9zM42.9 246.5h0.9v0.9h-0.9zM47.3 243.7h0.9v0.9h-0.9zM30.3 247.2h0.9v0.9h-0.9zM24.7 245.7h0.9v0.9h-0.9zM45.7 246.8h0.9v0.9h-0.9zM39.5 244.1h0.9v0.9h-0.9zM35.3 247.7h0.9v0.9h-0.9zM27.2 240.9h0.9v0.9h-0.9zM35.2 244.1h0.9v0.9h-0.9zM42.3 243.9h0.9v0.9h-0.9zM39.2 243.0h0.9v0.9h-0.9zM46.2 247.5h0.9v0.9h-0.9zM27.1 248.3h0.9v0.9h-0.9zM41.1 245.1h0.9v0.9h-0.9zM44.6 246.3h0.9v0.9h-0.9zM40.1 246.2h0.9v0.9h-0.9zM26.4 246.1h0.9v0.9h-0.9zM39.8 241.3h0.9v0.9h-0.9zM34.9 246.6h0.9v0.9h-0.9zM35.6 241.5h0.9v0.9h-0.9zM37.0 242.9h0.9v0.9h-0.9zM39.5 248.6h0.9v0.9h-0.9zM52.9 244.7h0.9v0.9h-0.9zM42.0 241.5h0.9v0.9h-0.9zM43.5 246.4h0.9v0.9h-0.9zM34.3 247.0h0.9v0.9h-0.9zM34.4 245.2h0.9v0.9h-0.9zM40.6 245.0h0.9v0.9h-0.9zM40.9 246.2h0.9v0.9h-0.9zM34.6 245.4h0.9v0.9h-0.9zM43.6 248.0h0.9v0.9h-0.9zM32.8 243.4h0.9v0.9h-0.9zM35.6 240.6h0.9v0.9h-0.9zM41.7 250.8h0.9v0.9h-0.9zM34.5 243.7h0.9v0.9h-0.9zM35.8 244.5h0.9v0.9h-0.9zM32.8 250.9h0.9v0.9h-0.9zM31.6 246.9h0.9v0.9h-0.9zM45.4 245.2h0.9v0.9h-0.9zM48.7 239.3h0.9v0.9h-0.9zM41.4 244.3h0.9v0.9h-0.9zM40.3 242.3h0.9v0.9h-0.9zM31.7 242.2h0.9v0.9h-0.9zM38.8 246.6h0.9v0.9h-0.9zM52.1 243.9h0.9v0.9h-0.9zM27.0 247.7h0.9v0.9h-0.9zM35.8 241.5h0.9v0.9h-0.9zM43.4 238.7h0.9v0.9h-0.9zM29.7 250.7h0.9v0.9h-0.9zM34.9 246.3h0.9v0.9h-0.9zM47.6 240.7h0.9v0.9h-0.9zM39.6 248.5h0.9v0.9h-0.9zM44.6 249.2h0.9v0.9h-0.9zM56.0 251.3h0.9v0.9h-0.9zM43.5 242.7h0.9v0.9h-0.9zM44.5 242.6h0.9v0.9h-0.9zM26.1 240.0h0.9v0.9h-0.9zM38.8 244.6h0.9v0.9h-0.9zM34.7 248.3h0.9v0.9h-0.9zM37.6 242.3h0.9v0.9h-0.9zM38.4 244.6h0.9v0.9h-0.9zM42.8 244.6h0.9v0.9h-0.9zM44.9 243.3h0.9v0.9h-0.9zM37.6 246.6h0.9v0.9h-0.9zM33.1 245.4h0.9v0.9h-0.9zM39.8 248.0h0.9v0.9h-0.9zM21.5 248.9h0.9v0.9h-0.9zM36.2 245.0h0.9v0.9h-0.9zM48.3 246.4h0.9v0.9h-0.9zM28.8 243.7h0.9v0.9h-0.9zM43.7 243.8h0.9v0.9h-0.9zM41.1 247.6h0.9v0.9h-0.9zM52.2 242.5h0.9v0.9h-0.9zM27.4 242.3h0.9v0.9h-0.9zM35.3 247.9h0.9v0.9h-0.9zM40.3 248.8h0.9v0.9h-0.9zM39.9 240.4h0.9v0.9h-0.9zM41.2 242.6h0.9v0.9h-0.9zM40.7 239.5h0.9v0.9h-0.9zM43.9 241.4h0.9v0.9h-0.9zM35.7 247.6h0.9v0.9h-0.9zM36.9 241.8h0.9v0.9h-0.9zM48.7 243.7h0.9v0.9h-0.9zM45.3 244.4h0.9v0.9h-0.9zM26.0 244.1h0.9v0.9h-0.9zM41.2 244.2h0.9v0.9h-0.9zM50.1 239.3h0.9v0.9h-0.9zM33.4 246.8h0.9v0.9h-0.9zM46.3 247.5h0.9v0.9h-0.9zM31.9 245.8h0.9v0.9h-0.9zM42.0 250.6h0.9v0.9h-0.9zM53.5 246.3h0.9v0.9h-0.9zM43.0 247.2h0.9v0.9h-0.9zM37.8 245.7h0.9v0.9h-0.9zM41.1 245.2h0.9v0.9h-0.9zM43.2 244.8h0.9v0.9h-0.9zM34.6 248.4h0.9v0.9h-0.9zM45.0 242.3h0.9v0.9h-0.9zM42.7 241.9h0.9v0.9h-0.9zM40.7 242.4h0.9v0.9h-0.9zM34.3 246.1h0.9v0.9h-0.9zM32.2 247.2h0.9v0.9h-0.9zM49.7 243.9h0.9v0.9h-0.9zM33.3 246.0h0.9v0.9h-0.9zM36.9 239.8h0.9v0.9h-0.9zM53.5 243.2h0.9v0.9h-0.9zM51.3 247.6h0.9v0.9h-0.9zM43.2 246.0h0.9v0.9h-0.9zM36.3 246.8h0.9v0.9h-0.9zM34.4 246.0h0.9v0.9h-0.9zM32.5 244.9h0.9v0.9h-0.9zM41.1 245.0h0.9v0.9h-0.9zM40.6 246.4h0.9v0.9h-0.9zM50.5 243.1h0.9v0.9h-0.9zM39.9 244.8h0.9v0.9h-0.9zM43.5 249.9h0.9v0.9h-0.9zM40.6 241.7h0.9v0.9h-0.9zM43.6 242.5h0.9v0.9h-0.9zM28.0 241.3h0.9v0.9h-0.9zM38.5 240.3h0.9v0.9h-0.9zM35.8 246.2h0.9v0.9h-0.9zM22.6 248.7h0.9v0.9h-0.9zM52.3 244.2h0.9v0.9h-0.9zM37.8 243.9h0.9v0.9h-0.9zM27.9 244.2h0.9v0.9h-0.9zM31.0 241.8h0.9v0.9h-0.9zM33.3 241.3h0.9v0.9h-0.9zM23.1 248.5h0.9v0.9h-0.9zM30.8 247.6h0.9v0.9h-0.9zM43.6 243.7h0.9v0.9h-0.9zM38.7 244.9h0.9v0.9h-0.9zM41.9 246.0h0.9v0.9h-0.9zM36.4 244.6h0.9v0.9h-0.9zM45.5 242.1h0.9v0.9h-0.9zM26.8 237.9h0.9v0.9h-0.9zM35.9 247.8h0.9v0.9h-0.9zM52.8 242.8h0.9v0.9h-0.9zM39.5 241.9h0.9v0.9h-0.9zM39.1 244.1h0.9v0.9h-0.9zM44.6 247.2h0.9v0.9h-0.9zM41.4 244.9h0.9v0.9h-0.9zM44.4 244.0h0.9v0.9h-0.9zM47.3 249.4h0.9v0.9h-0.9zM44.2 250.2h0.9v0.9h-0.9zM34.1 246.3h0.9v0.9h-0.9zM40.2 242.3h0.9v0.9h-0.9zM40.7 244.2h0.9v0.9h-0.9zM41.6 245.2h0.9v0.9h-0.9zM43.2 243.7h0.9v0.9h-0.9zM38.4 247.6h0.9v0.9h-0.9zM47.3 245.2h0.9v0.9h-0.9zM26.3 247.6h0.9v0.9h-0.9zM42.8 241.2h0.9v0.9h-0.9zM24.7 239.6h0.9v0.9h-0.9zM27.3 250.4h0.9v0.9h-0.9zM35.3 244.2h0.9v0.9h-0.9zM43.5 249.5h0.9v0.9h-0.9zM39.4 244.5h0.9v0.9h-0.9zM45.5 249.0h0.9v0.9h-0.9zM40.2 242.9h0.9v0.9h-0.9zM31.0 247.5h0.9v0.9h-0.9zM31.7 242.9h0.9v0.9h-0.9zM23.4 240.8h0.9v0.9h-0.9zM42.6 242.8h0.9v0.9h-0.9zM43.7 244.2h0.9v0.9h-0.9zM34.6 247.7h0.9v0.9h-0.9zM39.2 243.6h0.9v0.9h-0.9zM48.8 241.5h0.9v0.9h-0.9zM30.5 244.8h0.9v0.9h-0.9zM38.1 238.6h0.9v0.9h-0.9zM36.2 243.9h0.9v0.9h-0.9zM32.3 245.3h0.9v0.9h-0.9zM23.6 246.1h0.9v0.9h-0.9zM45.4 252.0h0.9v0.9h-0.9zM29.3 247.8h0.9v0.9h-0.9zM32.7 239.4h0.9v0.9h-0.9zM38.1 242.0h0.9v0.9h-0.9zM34.2 241.9h0.9v0.9h-0.9zM41.5 244.1h0.9v0.9h-0.9zM41.1 245.4h0.9v0.9h-0.9zM41.3 244.8h0.9v0.9h-0.9zM29.9 246.8h0.9v0.9h-0.9zM35.6 244.9h0.9v0.9h-0.9zM39.2 245.1h0.9v0.9h-0.9zM33.6 242.8h0.9v0.9h-0.9zM31.9 243.7h0.9v0.9h-0.9zM43.2 241.7h0.9v0.9h-0.9zM40.1 250.3h0.9v0.9h-0.9zM28.4 244.9h0.9v0.9h-0.9zM40.4 243.9h0.9v0.9h-0.9zM34.4 247.0h0.9v0.9h-0.9zM37.4 245.4h0.9v0.9h-0.9zM30.5 248.7h0.9v0.9h-0.9zM51.7 243.8h0.9v0.9h-0.9zM41.2 242.9h0.9v0.9h-0.9zM46.7 246.1h0.9v0.9h-0.9zM39.8 244.3h0.9v0.9h-0.9zM31.6 245.4h0.9v0.9h-0.9zM40.7 238.8h0.9v0.9h-0.9zM56.2 239.5h0.9v0.9h-0.9zM63.0 246.1h0.9v0.9h-0.9zM58.0 243.1h0.9v0.9h-0.9zM64.3 246.9h0.9v0.9h-0.9zM56.2 245.1h0.9v0.9h-0.9zM51.7 244.4h0.9v0.9h-0.9zM54.2 241.7h0.9v0.9h-0.9zM60.9 240.4h0.9v0.9h-0.9zM57.6 249.9h0.9v0.9h-0.9zM56.9 246.8h0.9v0.9h-0.9zM53.7 242.2h0.9v0.9h-0.9zM64.0 240.8h0.9v0.9h-0.9zM57.7 242.0h0.9v0.9h-0.9zM58.3 247.8h0.9v0.9h-0.9zM61.2 245.7h0.9v0.9h-0.9zM55.9 244.6h0.9v0.9h-0.9zM55.8 245.4h0.9v0.9h-0.9zM59.6 245.0h0.9v0.9h-0.9zM54.8 253.3h0.9v0.9h-0.9zM50.2 246.1h0.9v0.9h-0.9zM67.5 241.3h0.9v0.9h-0.9zM62.5 246.4h0.9v0.9h-0.9zM60.7 247.9h0.9v0.9h-0.9zM48.8 248.8h0.9v0.9h-0.9zM54.2 240.7h0.9v0.9h-0.9zM58.0 242.2h0.9v0.9h-0.9zM54.9 246.7h0.9v0.9h-0.9zM48.7 248.3h0.9v0.9h-0.9zM59.3 246.0h0.9v0.9h-0.9zM60.0 245.4h0.9v0.9h-0.9zM62.9 244.2h0.9v0.9h-0.9zM56.7 248.0h0.9v0.9h-0.9zM58.0 240.5h0.9v0.9h-0.9zM54.3 249.5h0.9v0.9h-0.9zM53.3 240.7h0.9v0.9h-0.9zM57.8 242.4h0.9v0.9h-0.9zM61.7 243.5h0.9v0.9h-0.9zM44.3 241.5h0.9v0.9h-0.9zM50.6 243.3h0.9v0.9h-0.9zM57.1 245.9h0.9v0.9h-0.9zM60.0 242.9h0.9v0.9h-0.9zM53.3 246.8h0.9v0.9h-0.9zM57.9 248.4h0.9v0.9h-0.9zM48.6 246.2h0.9v0.9h-0.9zM57.7 247.3h0.9v0.9h-0.9zM54.2 246.4h0.9v0.9h-0.9zM47.5 242.2h0.9v0.9h-0.9zM61.0 242.7h0.9v0.9h-0.9zM57.1 252.9h0.9v0.9h-0.9zM48.0 242.2h0.9v0.9h-0.9zM56.2 246.6h0.9v0.9h-0.9zM56.3 246.1h0.9v0.9h-0.9zM49.9 244.5h0.9v0.9h-0.9zM60.2 242.0h0.9v0.9h-0.9zM54.7 245.5h0.9v0.9h-0.9zM59.9 243.3h0.9v0.9h-0.9zM61.9 246.6h0.9v0.9h-0.9zM56.9 244.8h0.9v0.9h-0.9zM52.6 241.6h0.9v0.9h-0.9zM59.2 245.5h0.9v0.9h-0.9zM59.5 248.1h0.9v0.9h-0.9zM51.5 246.0h0.9v0.9h-0.9zM52.5 239.4h0.9v0.9h-0.9zM60.2 245.9h0.9v0.9h-0.9zM56.1 249.6h0.9v0.9h-0.9zM50.3 249.4h0.9v0.9h-0.9zM53.3 246.7h0.9v0.9h-0.9zM56.0 242.8h0.9v0.9h-0.9zM48.8 249.1h0.9v0.9h-0.9zM53.6 246.9h0.9v0.9h-0.9zM53.4 246.3h0.9v0.9h-0.9zM54.7 245.3h0.9v0.9h-0.9zM59.5 251.1h0.9v0.9h-0.9zM51.0 243.6h0.9v0.9h-0.9zM57.4 244.4h0.9v0.9h-0.9zM55.2 248.2h0.9v0.9h-0.9zM55.6 242.1h0.9v0.9h-0.9zM59.7 246.1h0.9v0.9h-0.9zM57.7 246.1h0.9v0.9h-0.9zM46.9 249.7h0.9v0.9h-0.9zM52.1 249.4h0.9v0.9h-0.9zM49.9 245.9h0.9v0.9h-0.9zM57.0 243.6h0.9v0.9h-0.9zM57.7 247.4h0.9v0.9h-0.9zM53.1 247.7h0.9v0.9h-0.9zM56.0 247.7h0.9v0.9h-0.9zM51.9 243.6h0.9v0.9h-0.9zM53.4 243.9h0.9v0.9h-0.9zM53.8 247.4h0.9v0.9h-0.9zM57.3 243.1h0.9v0.9h-0.9zM54.7 247.2h0.9v0.9h-0.9zM52.0 244.4h0.9v0.9h-0.9zM53.5 242.4h0.9v0.9h-0.9zM50.8 243.1h0.9v0.9h-0.9zM58.7 244.3h0.9v0.9h-0.9zM57.4 243.7h0.9v0.9h-0.9zM48.6 243.8h0.9v0.9h-0.9zM59.6 245.9h0.9v0.9h-0.9zM53.2 246.6h0.9v0.9h-0.9zM55.5 243.8h0.9v0.9h-0.9zM52.7 246.5h0.9v0.9h-0.9zM53.6 240.4h0.9v0.9h-0.9zM57.0 241.5h0.9v0.9h-0.9zM47.3 241.0h0.9v0.9h-0.9zM45.4 249.7h0.9v0.9h-0.9zM54.3 248.9h0.9v0.9h-0.9zM57.1 244.5h0.9v0.9h-0.9zM48.3 247.3h0.9v0.9h-0.9zM54.6 245.1h0.9v0.9h-0.9zM49.1 249.9h0.9v0.9h-0.9zM51.5 246.6h0.9v0.9h-0.9zM55.5 251.2h0.9v0.9h-0.9zM63.3 247.1h0.9v0.9h-0.9zM54.4 249.3h0.9v0.9h-0.9zM59.7 240.2h0.9v0.9h-0.9zM55.9 243.4h0.9v0.9h-0.9zM61.7 250.8h0.9v0.9h-0.9zM51.9 244.4h0.9v0.9h-0.9zM51.6 247.4h0.9v0.9h-0.9zM59.9 240.6h0.9v0.9h-0.9zM48.1 247.7h0.9v0.9h-0.9zM56.8 242.9h0.9v0.9h-0.9zM57.6 249.3h0.9v0.9h-0.9zM62.7 247.4h0.9v0.9h-0.9zM52.7 248.4h0.9v0.9h-0.9zM58.1 243.9h0.9v0.9h-0.9zM62.7 250.3h0.9v0.9h-0.9zM66.1 246.0h0.9v0.9h-0.9zM54.1 245.0h0.9v0.9h-0.9zM56.2 242.9h0.9v0.9h-0.9zM49.2 251.4h0.9v0.9h-0.9zM59.3 247.1h0.9v0.9h-0.9zM60.5 243.8h0.9v0.9h-0.9zM54.3 245.0h0.9v0.9h-0.9zM62.3 245.3h0.9v0.9h-0.9zM57.0 244.2h0.9v0.9h-0.9zM57.8 247.6h0.9v0.9h-0.9zM55.8 244.4h0.9v0.9h-0.9zM64.6 242.6h0.9v0.9h-0.9zM52.3 248.0h0.9v0.9h-0.9zM51.0 242.4h0.9v0.9h-0.9zM57.8 248.7h0.9v0.9h-0.9zM66.5 252.1h0.9v0.9h-0.9zM57.9 252.0h0.9v0.9h-0.9zM50.0 245.1h0.9v0.9h-0.9zM48.6 250.3h0.9v0.9h-0.9zM53.0 246.3h0.9v0.9h-0.9zM53.9 246.4h0.9v0.9h-0.9zM54.2 248.0h0.9v0.9h-0.9zM60.6 244.5h0.9v0.9h-0.9zM55.5 244.8h0.9v0.9h-0.9zM52.0 251.0h0.9v0.9h-0.9zM46.5 239.6h0.9v0.9h-0.9zM47.8 249.7h0.9v0.9h-0.9zM58.5 249.2h0.9v0.9h-0.9zM50.3 245.2h0.9v0.9h-0.9zM65.4 241.3h0.9v0.9h-0.9zM46.1 240.9h0.9v0.9h-0.9zM54.3 248.5h0.9v0.9h-0.9zM59.6 245.1h0.9v0.9h-0.9zM57.3 245.4h0.9v0.9h-0.9zM53.7 250.1h0.9v0.9h-0.9zM56.2 245.0h0.9v0.9h-0.9zM55.8 246.2h0.9v0.9h-0.9zM57.9 249.2h0.9v0.9h-0.9zM55.7 247.2h0.9v0.9h-0.9zM54.3 243.8h0.9v0.9h-0.9zM64.9 244.3h0.9v0.9h-0.9zM64.0 240.8h0.9v0.9h-0.9zM63.9 241.9h0.9v0.9h-0.9zM55.4 245.9h0.9v0.9h-0.9zM55.8 245.7h0.9v0.9h-0.9zM52.4 248.4h0.9v0.9h-0.9zM54.3 242.2h0.9v0.9h-0.9zM59.7 247.3h0.9v0.9h-0.9zM52.6 241.4h0.9v0.9h-0.9zM60.5 246.1h0.9v0.9h-0.9zM54.9 243.4h0.9v0.9h-0.9zM50.3 250.2h0.9v0.9h-0.9zM57.7 243.2h0.9v0.9h-0.9zM58.6 246.6h0.9v0.9h-0.9zM56.5 239.9h0.9v0.9h-0.9zM58.2 247.9h0.9v0.9h-0.9zM50.6 247.4h0.9v0.9h-0.9zM54.7 246.3h0.9v0.9h-0.9zM50.9 248.2h0.9v0.9h-0.9zM55.8 245.4h0.9v0.9h-0.9zM57.1 242.2h0.9v0.9h-0.9zM57.9 251.4h0.9v0.9h-0.9zM58.8 245.6h0.9v0.9h-0.9zM51.5 246.4h0.9v0.9h-0.9zM55.5 244.7h0.9v0.9h-0.9zM53.3 245.3h0.9v0.9h-0.9zM58.8 245.9h0.9v0.9h-0.9zM57.5 246.5h0.9v0.9h-0.9zM44.1 253.7h0.9v0.9h-0.9zM59.1 245.2h0.9v0.9h-0.9zM55.8 248.9h0.9v0.9h-0.9zM58.3 250.7h0.9v0.9h-0.9zM48.9 246.1h0.9v0.9h-0.9zM52.5 246.5h0.9v0.9h-0.9zM57.3 247.0h0.9v0.9h-0.9zM51.3 248.0h0.9v0.9h-0.9zM60.4 246.2h0.9v0.9h-0.9zM56.3 250.7h0.9v0.9h-0.9zM60.2 244.1h0.9v0.9h-0.9zM61.3 247.2h0.9v0.9h-0.9zM51.3 243.6h0.9v0.9h-0.9zM47.1 243.0h0.9v0.9h-0.9zM55.8 248.7h0.9v0.9h-0.9zM55.5 244.2h0.9v0.9h-0.9zM54.4 243.6h0.9v0.9h-0.9zM53.7 251.5h0.9v0.9h-0.9zM56.2 242.0h0.9v0.9h-0.9zM55.3 243.4h0.9v0.9h-0.9zM50.7 242.8h0.9v0.9h-0.9zM64.2 242.7h0.9v0.9h-0.9zM52.0 245.1h0.9v0.9h-0.9zM60.9 252.9h0.9v0.9h-0.9zM58.5 247.2h0.9v0.9h-0.9zM54.1 245.1h0.9v0.9h-0.9zM62.2 243.4h0.9v0.9h-0.9zM58.8 242.6h0.9v0.9h-0.9zM55.2 245.1h0.9v0.9h-0.9zM59.8 239.6h0.9v0.9h-0.9zM48.5 245.7h0.9v0.9h-0.9zM56.3 248.3h0.9v0.9h-0.9zM49.0 248.9h0.9v0.9h-0.9zM58.5 245.0h0.9v0.9h-0.9zM62.2 243.8h0.9v0.9h-0.9zM60.9 250.1h0.9v0.9h-0.9zM55.2 246.4h0.9v0.9h-0.9zM53.6 246.4h0.9v0.9h-0.9zM58.0 244.2h0.9v0.9h-0.9zM55.6 246.8h0.9v0.9h-0.9zM49.8 245.9h0.9v0.9h-0.9zM56.4 250.8h0.9v0.9h-0.9zM58.0 244.6h0.9v0.9h-0.9zM55.3 247.8h0.9v0.9h-0.9zM51.0 247.3h0.9v0.9h-0.9zM51.9 249.0h0.9v0.9h-0.9zM60.7 243.1h0.9v0.9h-0.9zM59.5 248.3h0.9v0.9h-0.9zM50.0 244.6h0.9v0.9h-0.9zM55.4 248.8h0.9v0.9h-0.9zM52.6 249.5h0.9v0.9h-0.9zM60.7 245.3h0.9v0.9h-0.9zM54.4 246.5h0.9v0.9h-0.9zM57.8 247.5h0.9v0.9h-0.9zM49.1 243.9h0.9v0.9h-0.9zM48.7 249.6h0.9v0.9h-0.9zM60.0 245.2h0.9v0.9h-0.9zM58.8 242.1h0.9v0.9h-0.9zM55.8 247.3h0.9v0.9h-0.9zM48.3 245.9h0.9v0.9h-0.9zM50.3 248.9h0.9v0.9h-0.9zM55.2 244.5h0.9v0.9h-0.9zM50.8 249.0h0.9v0.9h-0.9zM56.4 243.8h0.9v0.9h-0.9zM53.0 243.0h0.9v0.9h-0.9zM61.2 244.2h0.9v0.9h-0.9zM64.0 244.5h0.9v0.9h-0.9zM51.4 244.9h0.9v0.9h-0.9zM55.1 248.2h0.9v0.9h-0.9zM67.2 251.8h0.9v0.9h-0.9zM58.8 241.1h0.9v0.9h-0.9zM63.0 251.8h0.9v0.9h-0.9zM48.9 245.0h0.9v0.9h-0.9zM57.7 252.9h0.9v0.9h-0.9zM60.3 246.3h0.9v0.9h-0.9zM45.0 249.1h0.9v0.9h-0.9zM49.9 243.8h0.9v0.9h-0.9zM49.0 247.6h0.9v0.9h-0.9zM65.1 246.5h0.9v0.9h-0.9zM60.0 243.4h0.9v0.9h-0.9zM50.0 246.7h0.9v0.9h-0.9zM47.7 242.9h0.9v0.9h-0.9zM56.2 242.4h0.9v0.9h-0.9zM58.0 253.3h0.9v0.9h-0.9zM59.8 250.3h0.9v0.9h-0.9zM51.9 245.0h0.9v0.9h-0.9zM55.5 247.4h0.9v0.9h-0.9zM50.3 243.3h0.9v0.9h-0.9zM60.6 247.9h0.9v0.9h-0.9zM64.1 251.2h0.9v0.9h-0.9zM57.7 243.5h0.9v0.9h-0.9zM52.6 242.6h0.9v0.9h-0.9zM59.9 249.1h0.9v0.9h-0.9zM62.7 244.1h0.9v0.9h-0.9zM61.7 243.9h0.9v0.9h-0.9zM55.9 243.8h0.9v0.9h-0.9zM57.9 246.3h0.9v0.9h-0.9zM56.1 238.3h0.9v0.9h-0.9zM57.8 248.8h0.9v0.9h-0.9zM60.2 241.6h0.9v0.9h-0.9zM46.0 250.1h0.9v0.9h-0.9zM55.8 244.4h0.9v0.9h-0.9zM50.6 243.3h0.9v0.9h-0.9zM50.3 243.2h0.9v0.9h-0.9zM57.8 239.8h0.9v0.9h-0.9zM63.8 249.9h0.9v0.9h-0.9zM47.3 246.3h0.9v0.9h-0.9zM56.5 248.7h0.9v0.9h-0.9zM40.7 249.9h0.9v0.9h-0.9zM62.7 243.7h0.9v0.9h-0.9zM53.7 248.8h0.9v0.9h-0.9zM57.2 251.5h0.9v0.9h-0.9zM49.9 241.4h0.9v0.9h-0.9zM54.7 245.9h0.9v0.9h-0.9zM53.2 247.7h0.9v0.9h-0.9zM52.4 247.5h0.9v0.9h-0.9zM50.1 251.1h0.9v0.9h-0.9zM59.7 246.2h0.9v0.9h-0.9zM51.7 244.5h0.9v0.9h-0.9zM51.1 240.8h0.9v0.9h-0.9zM50.9 249.6h0.9v0.9h-0.9zM53.9 248.9h0.9v0.9h-0.9zM56.3 244.0h0.9v0.9h-0.9zM50.1 244.4h0.9v0.9h-0.9zM55.8 243.1h0.9v0.9h-0.9zM52.2 241.9h0.9v0.9h-0.9zM62.2 240.4h0.9v0.9h-0.9zM57.9 241.6h0.9v0.9h-0.9zM53.8 251.7h0.9v0.9h-0.9zM51.9 247.1h0.9v0.9h-0.9zM50.2 251.6h0.9v0.9h-0.9zM61.7 250.7h0.9v0.9h-0.9zM51.9 240.3h0.9v0.9h-0.9zM49.6 240.5h0.9v0.9h-0.9zM61.1 246.5h0.9v0.9h-0.9zM54.5 242.8h0.9v0.9h-0.9zM57.6 244.6h0.9v0.9h-0.9zM52.9 246.4h0.9v0.9h-0.9zM50.5 240.6h0.9v0.9h-0.9zM60.6 251.5h0.9v0.9h-0.9zM46.2 247.3h0.9v0.9h-0.9zM48.2 243.5h0.9v0.9h-0.9zM53.6 248.7h0.9v0.9h-0.9zM47.2 250.5h0.9v0.9h-0.9zM55.4 251.2h0.9v0.9h-0.9zM51.3 238.1h0.9v0.9h-0.9zM59.2 241.9h0.9v0.9h-0.9zM67.4 246.8h0.9v0.9h-0.9zM60.5 241.9h0.9v0.9h-0.9zM54.8 246.3h0.9v0.9h-0.9zM46.6 240.8h0.9v0.9h-0.9zM56.3 247.3h0.9v0.9h-0.9zM53.1 252.3h0.9v0.9h-0.9zM62.4 238.9h0.9v0.9h-0.9zM52.5 241.5h0.9v0.9h-0.9zM50.1 243.8h0.9v0.9h-0.9zM45.9 246.7h0.9v0.9h-0.9zM61.6 250.1h0.9v0.9h-0.9zM47.2 246.4h0.9v0.9h-0.9zM57.8 244.0h0.9v0.9h-0.9zM63.9 247.8h0.9v0.9h-0.9zM61.7 245.9h0.9v0.9h-0.9zM58.5 248.2h0.9v0.9h-0.9zM50.6 239.7h0.9v0.9h-0.9zM55.6 242.1h0.9v0.9h-0.9zM60.0 241.8h0.9v0.9h-0.9zM57.8 241.1h0.9v0.9h-0.9zM65.1 246.3h0.9v0.9h-0.9zM49.6 245.5h0.9v0.9h-0.9zM56.0 237.0h0.9v0.9h-0.9zM49.9 246.7h0.9v0.9h-0.9zM51.2 244.3h0.9v0.9h-0.9zM62.5 249.7h0.9v0.9h-0.9zM56.2 247.0h0.9v0.9h-0.9zM63.2 246.8h0.9v0.9h-0.9zM48.1 246.3h0.9v0.9h-0.9zM49.3 242.8h0.9v0.9h-0.9zM55.6 245.3h0.9v0.9h-0.9zM54.9 248.1h0.9v0.9h-0.9zM54.2 246.3h0.9v0.9h-0.9zM58.9 243.8h0.9v0.9h-0.9zM54.1 244.5h0.9v0.9h-0.9zM49.8 242.7h0.9v0.9h-0.9zM57.6 245.8h0.9v0.9h-0.9zM48.3 248.0h0.9v0.9h-0.9zM58.9 248.7h0.9v0.9h-0.9zM61.4 245.9h0.9v0.9h-0.9zM58.2 244.9h0.9v0.9h-0.9zM50.4 245.2h0.9v0.9h-0.9zM57.6 246.4h0.9v0.9h-0.9zM52.3 243.1h0.9v0.9h-0.9zM52.4 244.1h0.9v0.9h-0.9zM53.9 247.3h0.9v0.9h-0.9zM54.8 238.0h0.9v0.9h-0.9zM58.9 243.9h0.9v0.9h-0.9zM64.9 251.7h0.9v0.9h-0.9zM60.2 244.8h0.9v0.9h-0.9zM55.0 240.6h0.9v0.9h-0.9zM62.4 243.9h0.9v0.9h-0.9zM60.3 246.8h0.9v0.9h-0.9zM64.6 246.2h0.9v0.9h-0.9zM55.6 243.8h0.9v0.9h-0.9zM47.3 247.0h0.9v0.9h-0.9zM52.0 248.9h0.9v0.9h-0.9zM61.3 246.5h0.9v0.9h-0.9zM66.5 246.8h0.9v0.9h-0.9zM59.5 243.0h0.9v0.9h-0.9zM58.8 245.3h0.9v0.9h-0.9zM62.5 245.3h0.9v0.9h-0.9zM44.8 248.6h0.9v0.9h-0.9zM61.0 241.4h0.9v0.9h-0.9zM55.3 246.9h0.9v0.9h-0.9zM59.3 242.3h0.9v0.9h-0.9zM51.6 243.8h0.9v0.9h-0.9zM53.1 243.5h0.9v0.9h-0.9zM56.4 240.8h0.9v0.9h-0.9zM57.4 242.2h0.9v0.9h-0.9zM52.8 243.3h0.9v0.9h-0.9zM59.3 246.1h0.9v0.9h-0.9zM52.8 246.8h0.9v0.9h-0.9zM50.5 246.3h0.9v0.9h-0.9zM56.3 245.7h0.9v0.9h-0.9zM49.2 246.7h0.9v0.9h-0.9zM58.1 246.8h0.9v0.9h-0.9zM53.2 249.0h0.9v0.9h-0.9zM64.2 249.6h0.9v0.9h-0.9zM56.8 251.2h0.9v0.9h-0.9zM51.8 239.6h0.9v0.9h-0.9zM51.3 243.3h0.9v0.9h-0.9zM52.4 245.0h0.9v0.9h-0.9zM56.9 244.5h0.9v0.9h-0.9zM50.5 244.4h0.9v0.9h-0.9zM57.7 242.2h0.9v0.9h-0.9zM48.4 244.0h0.9v0.9h-0.9zM53.7 256.7h0.9v0.9h-0.9zM56.8 243.5h0.9v0.9h-0.9zM53.8 243.4h0.9v0.9h-0.9zM59.0 252.9h0.9v0.9h-0.9zM57.6 243.6h0.9v0.9h-0.9zM56.4 254.5h0.9v0.9h-0.9zM51.1 243.3h0.9v0.9h-0.9zM53.0 244.0h0.9v0.9h-0.9zM44.1 242.0h0.9v0.9h-0.9zM54.0 248.1h0.9v0.9h-0.9zM50.5 241.7h0.9v0.9h-0.9zM53.8 241.0h0.9v0.9h-0.9zM46.2 245.6h0.9v0.9h-0.9zM57.1 244.0h0.9v0.9h-0.9zM57.5 247.2h0.9v0.9h-0.9zM59.2 244.7h0.9v0.9h-0.9zM57.9 243.6h0.9v0.9h-0.9zM56.3 248.4h0.9v0.9h-0.9zM63.7 246.9h0.9v0.9h-0.9zM53.1 243.7h0.9v0.9h-0.9zM49.8 248.1h0.9v0.9h-0.9zM61.4 243.0h0.9v0.9h-0.9zM53.3 245.0h0.9v0.9h-0.9zM48.3 241.4h0.9v0.9h-0.9zM58.0 243.2h0.9v0.9h-0.9zM58.2 246.8h0.9v0.9h-0.9zM62.1 243.2h0.9v0.9h-0.9zM62.3 244.0h0.9v0.9h-0.9zM55.6 249.9h0.9v0.9h-0.9zM53.0 241.6h0.9v0.9h-0.9zM58.8 244.4h0.9v0.9h-0.9zM47.9 249.9h0.9v0.9h-0.9zM52.1 248.2h0.9v0.9h-0.9zM55.1 242.8h0.9v0.9h-0.9zM55.9 240.9h0.9v0.9h-0.9zM60.8 242.1h0.9v0.9h-0.9zM55.7 253.7h0.9v0.9h-0.9zM54.3 245.5h0.9v0.9h-0.9zM49.0 250.7h0.9v0.9h-0.9zM56.6 246.2h0.9v0.9h-0.9zM48.5 244.2h0.9v0.9h-0.9zM54.7 244.0h0.9v0.9h-0.9zM52.2 238.0h0.9v0.9h-0.9zM50.2 252.8h0.9v0.9h-0.9zM57.2 248.3h0.9v0.9h-0.9zM49.5 249.8h0.9v0.9h-0.9zM53.0 244.3h0.9v0.9h-0.9zM56.2 245.0h0.9v0.9h-0.9zM58.5 241.9h0.9v0.9h-0.9zM55.9 241.5h0.9v0.9h-0.9zM66.7 240.3h0.9v0.9h-0.9zM62.0 249.6h0.9v0.9h-0.9zM54.3 245.0h0.9v0.9h-0.9zM54.7 247.1h0.9v0.9h-0.9zM58.2 247.0h0.9v0.9h-0.9zM59.1 246.6h0.9v0.9h-0.9zM51.2 247.6h0.9v0.9h-0.9zM52.6 241.9h0.9v0.9h-0.9zM57.2 244.8h0.9v0.9h-0.9zM42.9 248.2h0.9v0.9h-0.9zM55.5 247.0h0.9v0.9h-0.9zM49.2 244.7h0.9v0.9h-0.9zM52.4 245.2h0.9v0.9h-0.9zM60.8 242.3h0.9v0.9h-0.9zM53.6 244.2h0.9v0.9h-0.9zM57.0 240.1h0.9v0.9h-0.9zM58.5 243.4h0.9v0.9h-0.9zM62.1 249.6h0.9v0.9h-0.9zM53.9 243.4h0.9v0.9h-0.9zM53.3 243.1h0.9v0.9h-0.9zM60.0 252.0h0.9v0.9h-0.9zM49.4 242.7h0.9v0.9h-0.9zM56.1 246.2h0.9v0.9h-0.9zM57.5 241.2h0.9v0.9h-0.9zM59.2 244.3h0.9v0.9h-0.9zM58.4 244.7h0.9v0.9h-0.9zM48.7 248.5h0.9v0.9h-0.9zM54.4 243.5h0.9v0.9h-0.9zM48.8 244.1h0.9v0.9h-0.9zM61.2 249.6h0.9v0.9h-0.9zM58.8 243.6h0.9v0.9h-0.9zM56.1 246.3h0.9v0.9h-0.9zM52.6 244.2h0.9v0.9h-0.9zM56.5 242.3h0.9v0.9h-0.9zM54.1 241.7h0.9v0.9h-0.9zM52.3 243.8h0.9v0.9h-0.9zM57.2 247.4h0.9v0.9h-0.9zM52.0 245.9h0.9v0.9h-0.9zM62.4 238.1h0.9v0.9h-0.9zM54.7 240.5h0.9v0.9h-0.9zM61.3 247.1h0.9v0.9h-0.9zM57.8 246.6h0.9v0.9h-0.9zM47.5 249.4h0.9v0.9h-0.9zM54.1 244.9h0.9v0.9h-0.9zM48.3 245.7h0.9v0.9h-0.9zM47.4 240.2h0.9v0.9h-0.9zM66.7 244.6h0.9v0.9h-0.9zM66.4 250.4h0.9v0.9h-0.9zM61.6 238.7h0.9v0.9h-0.9zM63.4 245.8h0.9v0.9h-0.9zM52.6 252.6h0.9v0.9h-0.9zM59.6 248.4h0.9v0.9h-0.9zM50.3 244.4h0.9v0.9h-0.9zM58.6 245.2h0.9v0.9h-0.9zM46.1 246.1h0.9v0.9h-0.9zM55.2 244.4h0.9v0.9h-0.9zM57.0 243.7h0.9v0.9h-0.9zM61.9 239.7h0.9v0.9h-0.9zM51.9 247.4h0.9v0.9h-0.9zM60.2 250.9h0.9v0.9h-0.9zM60.4 241.4h0.9v0.9h-0.9zM59.7 244.3h0.9v0.9h-0.9zM62.2 248.8h0.9v0.9h-0.9zM51.3 244.5h0.9v0.9h-0.9zM56.3 241.4h0.9v0.9h-0.9zM48.1 244.2h0.9v0.9h-0.9zM59.0 250.3h0.9v0.9h-0.9zM57.7 246.2h0.9v0.9h-0.9zM53.5 250.1h0.9v0.9h-0.9zM48.8 247.3h0.9v0.9h-0.9zM60.6 250.2h0.9v0.9h-0.9zM51.5 242.2h0.9v0.9h-0.9zM53.6 248.2h0.9v0.9h-0.9zM57.7 245.4h0.9v0.9h-0.9zM59.9 245.4h0.9v0.9h-0.9zM54.6 251.3h0.9v0.9h-0.9zM53.7 246.5h0.9v0.9h-0.9zM52.0 247.2h0.9v0.9h-0.9zM52.6 247.9h0.9v0.9h-0.9zM54.4 245.4h0.9v0.9h-0.9zM66.6 247.8h0.9v0.9h-0.9zM60.1 244.2h0.9v0.9h-0.9zM53.9 248.2h0.9v0.9h-0.9zM59.6 246.9h0.9v0.9h-0.9zM60.9 238.2h0.9v0.9h-0.9zM55.9 249.4h0.9v0.9h-0.9zM58.6 249.5h0.9v0.9h-0.9zM51.0 247.3h0.9v0.9h-0.9zM51.6 240.2h0.9v0.9h-0.9zM63.9 247.9h0.9v0.9h-0.9zM62.9 243.2h0.9v0.9h-0.9zM55.1 243.2h0.9v0.9h-0.9zM61.5 243.6h0.9v0.9h-0.9zM52.7 244.2h0.9v0.9h-0.9zM53.1 243.3h0.9v0.9h-0.9zM64.3 241.7h0.9v0.9h-0.9zM51.2 240.9h0.9v0.9h-0.9zM61.1 242.5h0.9v0.9h-0.9zM59.1 250.4h0.9v0.9h-0.9zM57.4 251.8h0.9v0.9h-0.9zM52.6 254.0h0.9v0.9h-0.9zM59.7 240.6h0.9v0.9h-0.9zM58.5 244.2h0.9v0.9h-0.9zM62.6 241.2h0.9v0.9h-0.9zM60.1 240.4h0.9v0.9h-0.9zM58.2 239.7h0.9v0.9h-0.9zM43.5 247.0h0.9v0.9h-0.9zM49.6 249.5h0.9v0.9h-0.9zM56.0 243.3h0.9v0.9h-0.9zM60.6 251.9h0.9v0.9h-0.9zM53.4 243.1h0.9v0.9h-0.9zM55.7 241.5h0.9v0.9h-0.9zM53.6 242.0h0.9v0.9h-0.9zM62.9 241.7h0.9v0.9h-0.9zM62.0 249.2h0.9v0.9h-0.9zM53.9 245.2h0.9v0.9h-0.9zM50.8 250.9h0.9v0.9h-0.9zM52.8 246.2h0.9v0.9h-0.9zM53.2 245.5h0.9v0.9h-0.9zM58.4 247.2h0.9v0.9h-0.9zM60.8 245.6h0.9v0.9h-0.9zM58.3 240.1h0.9v0.9h-0.9zM53.6 239.2h0.9v0.9h-0.9zM59.8 245.5h0.9v0.9h-0.9zM49.2 243.4h0.9v0.9h-0.9zM57.3 250.4h0.9v0.9h-0.9zM52.9 246.7h0.9v0.9h-0.9zM49.4 253.6h0.9v0.9h-0.9zM49.7 248.2h0.9v0.9h-0.9zM59.6 265.0h0.9v0.9h-0.9zM63.1 271.5h0.9v0.9h-0.9zM63.3 266.4h0.9v0.9h-0.9zM58.7 262.4h0.9v0.9h-0.9zM58.6 268.7h0.9v0.9h-0.9zM60.6 265.3h0.9v0.9h-0.9zM58.3 251.2h0.9v0.9h-0.9zM65.0 277.6h0.9v0.9h-0.9zM61.6 272.2h0.9v0.9h-0.9zM55.9 261.3h0.9v0.9h-0.9zM58.7 267.0h0.9v0.9h-0.9zM61.2 266.4h0.9v0.9h-0.9zM52.3 276.3h0.9v0.9h-0.9zM58.1 274.3h0.9v0.9h-0.9zM59.4 276.2h0.9v0.9h-0.9zM62.1 267.0h0.9v0.9h-0.9zM60.8 271.4h0.9v0.9h-0.9zM60.1 260.9h0.9v0.9h-0.9zM57.8 270.8h0.9v0.9h-0.9zM58.9 255.3h0.9v0.9h-0.9zM62.5 270.9h0.9v0.9h-0.9zM59.0 264.1h0.9v0.9h-0.9zM57.5 271.0h0.9v0.9h-0.9zM64.4 279.9h0.9v0.9h-0.9zM60.0 271.6h0.9v0.9h-0.9zM60.6 276.8h0.9v0.9h-0.9zM63.4 277.3h0.9v0.9h-0.9zM59.8 278.6h0.9v0.9h-0.9zM53.7 262.7h0.9v0.9h-0.9zM61.4 276.9h0.9v0.9h-0.9zM57.4 278.0h0.9v0.9h-0.9zM59.2 269.7h0.9v0.9h-0.9zM59.7 267.5h0.9v0.9h-0.9zM63.3 267.7h0.9v0.9h-0.9zM57.7 276.6h0.9v0.9h-0.9zM56.3 270.6h0.9v0.9h-0.9zM57.3 269.9h0.9v0.9h-0.9zM55.0 267.6h0.9v0.9h-0.9zM54.6 272.6h0.9v0.9h-0.9zM60.5 263.4h0.9v0.9h-0.9zM55.3 264.4h0.9v0.9h-0.9zM57.0 281.8h0.9v0.9h-0.9zM62.3 265.4h0.9v0.9h-0.9zM62.4 273.1h0.9v0.9h-0.9zM56.0 258.6h0.9v0.9h-0.9zM57.6 261.0h0.9v0.9h-0.9zM57.4 266.4h0.9v0.9h-0.9zM60.9 257.1h0.9v0.9h-0.9zM66.2 267.0h0.9v0.9h-0.9zM56.6 264.6h0.9v0.9h-0.9zM56.6 279.2h0.9v0.9h-0.9zM57.0 252.3h0.9v0.9h-0.9zM57.3 274.8h0.9v0.9h-0.9zM56.2 270.2h0.9v0.9h-0.9zM64.2 277.1h0.9v0.9h-0.9zM56.1 276.6h0.9v0.9h-0.9zM59.9 268.0h0.9v0.9h-0.9zM66.3 265.2h0.9v0.9h-0.9zM62.1 267.5h0.9v0.9h-0.9zM57.6 260.1h0.9v0.9h-0.9zM61.5 272.6h0.9v0.9h-0.9zM65.4 264.3h0.9v0.9h-0.9zM64.1 267.0h0.9v0.9h-0.9zM55.8 272.6h0.9v0.9h-0.9zM62.7 268.7h0.9v0.9h-0.9zM63.8 283.7h0.9v0.9h-0.9zM64.9 272.5h0.9v0.9h-0.9zM57.2 283.5h0.9v0.9h-0.9zM60.9 267.8h0.9v0.9h-0.9zM56.2 274.6h0.9v0.9h-0.9zM65.8 274.9h0.9v0.9h-0.9zM57.0 272.3h0.9v0.9h-0.9zM58.7 274.2h0.9v0.9h-0.9zM65.7 258.1h0.9v0.9h-0.9zM60.9 268.0h0.9v0.9h-0.9zM60.9 268.2h0.9v0.9h-0.9zM56.9 281.3h0.9v0.9h-0.9zM58.9 267.6h0.9v0.9h-0.9zM63.4 276.6h0.9v0.9h-0.9zM63.3 265.6h0.9v0.9h-0.9zM59.0 276.1h0.9v0.9h-0.9zM57.8 262.9h0.9v0.9h-0.9zM56.8 266.1h0.9v0.9h-0.9zM55.3 266.1h0.9v0.9h-0.9zM58.3 277.3h0.9v0.9h-0.9zM56.5 269.3h0.9v0.9h-0.9zM58.4 264.3h0.9v0.9h-0.9zM56.3 270.0h0.9v0.9h-0.9zM62.0 270.8h0.9v0.9h-0.9zM55.4 278.9h0.9v0.9h-0.9zM60.1 269.9h0.9v0.9h-0.9zM55.2 267.8h0.9v0.9h-0.9zM65.8 272.9h0.9v0.9h-0.9zM63.8 268.6h0.9v0.9h-0.9zM56.9 263.5h0.9v0.9h-0.9zM59.4 265.8h0.9v0.9h-0.9zM61.9 264.6h0.9v0.9h-0.9zM63.2 261.5h0.9v0.9h-0.9zM54.7 279.4h0.9v0.9h-0.9zM56.8 272.4h0.9v0.9h-0.9zM61.8 271.9h0.9v0.9h-0.9zM63.8 275.9h0.9v0.9h-0.9zM60.0 270.7h0.9v0.9h-0.9zM64.3 270.8h0.9v0.9h-0.9zM62.9 276.3h0.9v0.9h-0.9zM58.0 274.9h0.9v0.9h-0.9zM69.2 263.6h0.9v0.9h-0.9zM62.8 255.6h0.9v0.9h-0.9zM59.1 267.6h0.9v0.9h-0.9zM61.6 272.1h0.9v0.9h-0.9zM55.7 261.7h0.9v0.9h-0.9zM59.6 265.7h0.9v0.9h-0.9zM59.2 271.8h0.9v0.9h-0.9zM59.9 281.5h0.9v0.9h-0.9zM61.0 273.5h0.9v0.9h-0.9zM57.4 281.2h0.9v0.9h-0.9zM63.6 272.1h0.9v0.9h-0.9zM59.4 274.0h0.9v0.9h-0.9zM63.6 278.3h0.9v0.9h-0.9zM57.9 277.4h0.9v0.9h-0.9zM60.0 265.7h0.9v0.9h-0.9zM59.0 276.6h0.9v0.9h-0.9zM65.8 268.4h0.9v0.9h-0.9zM58.3 271.7h0.9v0.9h-0.9zM58.6 261.0h0.9v0.9h-0.9zM63.9 263.5h0.9v0.9h-0.9zM58.9 271.3h0.9v0.9h-0.9zM59.3 276.4h0.9v0.9h-0.9zM56.5 261.0h0.9v0.9h-0.9zM60.8 270.1h0.9v0.9h-0.9zM56.3 276.3h0.9v0.9h-0.9zM60.7 258.7h0.9v0.9h-0.9zM60.7 274.8h0.9v0.9h-0.9zM62.2 265.4h0.9v0.9h-0.9zM59.3 270.0h0.9v0.9h-0.9zM61.6 265.2h0.9v0.9h-0.9zM59.6 268.1h0.9v0.9h-0.9zM59.5 264.9h0.9v0.9h-0.9zM61.1 277.9h0.9v0.9h-0.9zM64.3 270.1h0.9v0.9h-0.9zM61.1 271.1h0.9v0.9h-0.9zM61.2 262.8h0.9v0.9h-0.9zM54.5 281.6h0.9v0.9h-0.9zM68.3 265.5h0.9v0.9h-0.9zM62.9 272.9h0.9v0.9h-0.9zM64.2 262.9h0.9v0.9h-0.9zM67.1 262.7h0.9v0.9h-0.9zM60.1 268.7h0.9v0.9h-0.9zM66.3 277.2h0.9v0.9h-0.9zM57.5 274.8h0.9v0.9h-0.9zM59.6 261.0h0.9v0.9h-0.9zM58.4 277.6h0.9v0.9h-0.9zM53.4 282.3h0.9v0.9h-0.9zM62.3 277.4h0.9v0.9h-0.9zM53.8 275.2h0.9v0.9h-0.9zM57.2 259.4h0.9v0.9h-0.9zM57.5 273.1h0.9v0.9h-0.9zM63.7 281.8h0.9v0.9h-0.9zM62.3 272.7h0.9v0.9h-0.9zM58.9 262.3h0.9v0.9h-0.9zM61.5 270.5h0.9v0.9h-0.9zM60.2 261.2h0.9v0.9h-0.9zM57.5 269.9h0.9v0.9h-0.9zM58.7 273.3h0.9v0.9h-0.9zM64.6 273.7h0.9v0.9h-0.9zM61.4 268.2h0.9v0.9h-0.9zM55.6 273.4h0.9v0.9h-0.9zM60.0 265.8h0.9v0.9h-0.9zM57.5 276.6h0.9v0.9h-0.9zM61.9 270.2h0.9v0.9h-0.9zM62.6 259.4h0.9v0.9h-0.9zM59.7 281.2h0.9v0.9h-0.9zM58.9 272.9h0.9v0.9h-0.9zM59.2 273.6h0.9v0.9h-0.9zM56.8 260.0h0.9v0.9h-0.9zM62.9 274.5h0.9v0.9h-0.9zM63.1 263.9h0.9v0.9h-0.9zM60.8 269.7h0.9v0.9h-0.9zM53.2 260.6h0.9v0.9h-0.9zM61.5 283.3h0.9v0.9h-0.9zM58.4 283.4h0.9v0.9h-0.9zM56.6 275.5h0.9v0.9h-0.9zM58.9 262.3h0.9v0.9h-0.9zM62.7 265.9h0.9v0.9h-0.9zM61.5 277.6h0.9v0.9h-0.9zM57.8 265.8h0.9v0.9h-0.9zM59.6 270.2h0.9v0.9h-0.9zM65.7 275.6h0.9v0.9h-0.9zM58.0 272.0h0.9v0.9h-0.9zM59.3 270.1h0.9v0.9h-0.9zM63.0 275.0h0.9v0.9h-0.9zM59.0 276.7h0.9v0.9h-0.9zM63.2 275.1h0.9v0.9h-0.9zM58.2 282.2h0.9v0.9h-0.9zM64.8 264.7h0.9v0.9h-0.9zM62.8 276.6h0.9v0.9h-0.9zM61.7 276.3h0.9v0.9h-0.9zM59.3 269.2h0.9v0.9h-0.9zM62.4 271.5h0.9v0.9h-0.9zM63.0 281.2h0.9v0.9h-0.9zM60.4 274.6h0.9v0.9h-0.9zM64.5 264.2h0.9v0.9h-0.9zM55.4 274.7h0.9v0.9h-0.9zM64.9 268.2h0.9v0.9h-0.9zM61.4 267.7h0.9v0.9h-0.9zM59.9 270.1h0.9v0.9h-0.9zM66.9 258.7h0.9v0.9h-0.9zM58.0 261.1h0.9v0.9h-0.9zM53.4 249.7h0.9v0.9h-0.9zM62.0 270.1h0.9v0.9h-0.9zM59.7 271.4h0.9v0.9h-0.9zM60.0 268.5h0.9v0.9h-0.9zM58.7 271.6h0.9v0.9h-0.9zM58.2 267.8h0.9v0.9h-0.9zM62.1 276.1h0.9v0.9h-0.9zM63.2 279.4h0.9v0.9h-0.9zM61.7 272.7h0.9v0.9h-0.9zM53.2 279.3h0.9v0.9h-0.9zM61.4 270.0h0.9v0.9h-0.9zM54.9 268.7h0.9v0.9h-0.9zM56.8 270.1h0.9v0.9h-0.9zM60.9 270.2h0.9v0.9h-0.9zM59.5 269.8h0.9v0.9h-0.9zM66.6 263.7h0.9v0.9h-0.9zM61.9 264.4h0.9v0.9h-0.9zM59.0 279.5h0.9v0.9h-0.9zM56.8 270.5h0.9v0.9h-0.9zM56.3 281.8h0.9v0.9h-0.9zM61.1 276.6h0.9v0.9h-0.9zM59.7 278.9h0.9v0.9h-0.9zM55.9 275.2h0.9v0.9h-0.9zM53.0 280.4h0.9v0.9h-0.9zM58.1 267.5h0.9v0.9h-0.9zM64.3 270.7h0.9v0.9h-0.9zM61.8 267.2h0.9v0.9h-0.9zM58.6 278.4h0.9v0.9h-0.9zM57.9 266.9h0.9v0.9h-0.9zM61.9 268.6h0.9v0.9h-0.9zM55.1 269.5h0.9v0.9h-0.9zM65.3 265.5h0.9v0.9h-0.9zM26.8 270.4h0.9v0.9h-0.9zM39.1 253.1h0.9v0.9h-0.9zM70.4 261.6h0.9v0.9h-0.9zM31.7 267.1h0.9v0.9h-0.9zM49.7 256.0h0.9v0.9h-0.9zM39.2 258.7h0.9v0.9h-0.9zM36.4 268.8h0.9v0.9h-0.9zM69.1 237.1h0.9v0.9h-0.9zM44.8 266.7h0.9v0.9h-0.9zM44.9 272.4h0.9v0.9h-0.9zM57.0 261.4h0.9v0.9h-0.9zM37.5 272.1h0.9v0.9h-0.9zM36.9 252.3h0.9v0.9h-0.9zM42.3 262.4h0.9v0.9h-0.9zM38.4 256.8h0.9v0.9h-0.9zM47.6 273.4h0.9v0.9h-0.9zM36.6 249.2h0.9v0.9h-0.9zM28.9 256.8h0.9v0.9h-0.9zM47.1 267.0h0.9v0.9h-0.9zM39.9 245.0h0.9v0.9h-0.9zM29.9 271.6h0.9v0.9h-0.9zM53.0 269.3h0.9v0.9h-0.9zM56.4 260.8h0.9v0.9h-0.9zM39.1 247.2h0.9v0.9h-0.9zM45.6 256.6h0.9v0.9h-0.9zM31.5 252.5h0.9v0.9h-0.9zM29.3 266.2h0.9v0.9h-0.9zM46.5 276.2h0.9v0.9h-0.9zM45.9 257.1h0.9v0.9h-0.9zM53.9 263.6h0.9v0.9h-0.9zM28.2 243.9h0.9v0.9h-0.9zM32.0 273.8h0.9v0.9h-0.9zM65.7 254.9h0.9v0.9h-0.9zM51.7 269.6h0.9v0.9h-0.9zM48.8 283.0h0.9v0.9h-0.9zM43.0 253.3h0.9v0.9h-0.9zM28.8 249.3h0.9v0.9h-0.9zM44.1 236.3h0.9v0.9h-0.9zM57.6 239.2h0.9v0.9h-0.9zM28.6 252.8h0.9v0.9h-0.9zM39.4 255.0h0.9v0.9h-0.9zM40.9 281.0h0.9v0.9h-0.9zM39.6 268.3h0.9v0.9h-0.9zM32.9 278.8h0.9v0.9h-0.9zM42.7 262.6h0.9v0.9h-0.9zM30.6 249.2h0.9v0.9h-0.9zM44.8 243.2h0.9v0.9h-0.9zM50.2 262.6h0.9v0.9h-0.9zM56.0 248.9h0.9v0.9h-0.9zM49.2 279.8h0.9v0.9h-0.9zM44.0 258.5h0.9v0.9h-0.9zM64.0 264.2h0.9v0.9h-0.9zM61.9 248.6h0.9v0.9h-0.9zM43.2 266.2h0.9v0.9h-0.9zM51.7 271.2h0.9v0.9h-0.9zM55.8 256.3h0.9v0.9h-0.9zM41.0 256.0h0.9v0.9h-0.9zM53.8 270.0h0.9v0.9h-0.9zM36.3 265.4h0.9v0.9h-0.9zM41.1 252.8h0.9v0.9h-0.9zM46.2 271.6h0.9v0.9h-0.9zM40.8 249.2h0.9v0.9h-0.9zM34.9 255.2h0.9v0.9h-0.9zM44.6 260.6h0.9v0.9h-0.9zM41.5 257.7h0.9v0.9h-0.9zM49.1 242.8h0.9v0.9h-0.9zM36.5 277.4h0.9v0.9h-0.9zM41.1 273.1h0.9v0.9h-0.9zM41.2 253.5h0.9v0.9h-0.9zM30.2 264.8h0.9v0.9h-0.9zM37.9 277.4h0.9v0.9h-0.9zM56.0 267.5h0.9v0.9h-0.9zM34.4 263.7h0.9v0.9h-0.9zM35.0 258.9h0.9v0.9h-0.9zM54.0 273.9h0.9v0.9h-0.9zM25.2 272.9h0.9v0.9h-0.9zM66.8 249.5h0.9v0.9h-0.9zM45.4 271.5h0.9v0.9h-0.9zM44.4 270.7h0.9v0.9h-0.9zM46.0 268.8h0.9v0.9h-0.9zM43.0 251.1h0.9v0.9h-0.9zM49.9 247.8h0.9v0.9h-0.9zM28.8 252.8h0.9v0.9h-0.9zM47.0 254.9h0.9v0.9h-0.9zM47.2 248.3h0.9v0.9h-0.9zM57.5 262.6h0.9v0.9h-0.9zM43.1 249.1h0.9v0.9h-0.9zM43.2 255.1h0.9v0.9h-0.9zM42.2 243.1h0.9v0.9h-0.9zM52.7 261.0h0.9v0.9h-0.9zM65.1 272.2h0.9v0.9h-0.9zM28.7 251.0h0.9v0.9h-0.9zM50.7 264.0h0.9v0.9h-0.9zM46.9 258.6h0.9v0.9h-0.9zM52.3 274.8h0.9v0.9h-0.9zM30.0 259.6h0.9v0.9h-0.9zM31.0 243.6h0.9v0.9h-0.9zM34.0 271.0h0.9v0.9h-0.9zM62.2 278.8h0.9v0.9h-0.9zM48.0 256.9h0.9v0.9h-0.9zM44.3 265.4h0.9v0.9h-0.9zM39.2 259.0h0.9v0.9h-0.9zM34.7 254.6h0.9v0.9h-0.9zM46.1 260.9h0.9v0.9h-0.9zM50.8 275.0h0.9v0.9h-0.9zM53.6 267.5h0.9v0.9h-0.9zM36.3 271.4h0.9v0.9h-0.9zM70.8 255.9h0.9v0.9h-0.9zM59.0 269.9h0.9v0.9h-0.9zM45.8 257.9h0.9v0.9h-0.9zM62.2 254.1h0.9v0.9h-0.9zM53.3 257.1h0.9v0.9h-0.9zM54.5 275.4h0.9v0.9h-0.9zM53.5 273.3h0.9v0.9h-0.9zM42.1 266.3h0.9v0.9h-0.9zM53.3 283.4h0.9v0.9h-0.9zM48.0 264.4h0.9v0.9h-0.9zM38.2 265.0h0.9v0.9h-0.9zM25.6 256.8h0.9v0.9h-0.9zM61.3 252.6h0.9v0.9h-0.9zM41.6 268.7h0.9v0.9h-0.9zM35.9 263.9h0.9v0.9h-0.9zM32.8 255.5h0.9v0.9h-0.9zM59.3 244.9h0.9v0.9h-0.9zM22.3 240.5h0.9v0.9h-0.9zM52.6 254.1h0.9v0.9h-0.9zM61.8 240.1h0.9v0.9h-0.9zM48.8 233.8h0.9v0.9h-0.9zM71.9 268.7h0.9v0.9h-0.9zM40.7 253.6h0.9v0.9h-0.9zM44.5 234.9h0.9v0.9h-0.9zM20.1 244.5h0.9v0.9h-0.9zM38.3 245.5h0.9v0.9h-0.9zM61.6 233.3h0.9v0.9h-0.9zM52.0 246.6h0.9v0.9h-0.9zM41.7 251.6h0.9v0.9h-0.9zM47.2 265.4h0.9v0.9h-0.9zM30.5 275.0h0.9v0.9h-0.9zM33.7 241.5h0.9v0.9h-0.9zM42.7 270.2h0.9v0.9h-0.9zM49.4 255.8h0.9v0.9h-0.9zM62.7 246.5h0.9v0.9h-0.9zM34.9 279.9h0.9v0.9h-0.9zM59.8 254.5h0.9v0.9h-0.9zM46.0 253.5h0.9v0.9h-0.9zM48.3 258.9h0.9v0.9h-0.9zM32.0 244.6h0.9v0.9h-0.9zM43.7 251.1h0.9v0.9h-0.9zM38.7 254.9h0.9v0.9h-0.9zM43.2 280.0h0.9v0.9h-0.9zM48.6 252.5h0.9v0.9h-0.9zM49.9 245.1h0.9v0.9h-0.9zM33.6 262.3h0.9v0.9h-0.9zM34.2 248.2h0.9v0.9h-0.9zM63.3 280.4h0.9v0.9h-0.9zM56.1 246.6h0.9v0.9h-0.9zM24.2 249.5h0.9v0.9h-0.9zM29.6 249.8h0.9v0.9h-0.9zM39.5 264.0h0.9v0.9h-0.9zM71.3 248.3h0.9v0.9h-0.9zM41.6 240.9h0.9v0.9h-0.9zM62.4 271.0h0.9v0.9h-0.9zM49.0 250.2h0.9v0.9h-0.9zM43.0 263.4h0.9v0.9h-0.9zM51.3 247.8h0.9v0.9h-0.9zM59.5 253.3h0.9v0.9h-0.9zM51.3 270.3h0.9v0.9h-0.9zM52.6 245.3h0.9v0.9h-0.9zM48.8 267.3h0.9v0.9h-0.9zM38.7 246.7h0.9v0.9h-0.9zM45.9 268.2h0.9v0.9h-0.9zM62.0 277.0h0.9v0.9h-0.9zM50.1 238.8h0.9v0.9h-0.9zM44.2 255.5h0.9v0.9h-0.9zM61.8 268.7h0.9v0.9h-0.9zM29.8 243.4h0.9v0.9h-0.9zM46.7 247.5h0.9v0.9h-0.9zM23.7 239.6h0.9v0.9h-0.9zM61.1 264.6h0.9v0.9h-0.9zM31.1 257.5h0.9v0.9h-0.9zM38.2 249.8h0.9v0.9h-0.9zM57.5 275.1h0.9v0.9h-0.9zM57.9 255.2h0.9v0.9h-0.9zM60.1 242.6h0.9v0.9h-0.9zM22.4 251.4h0.9v0.9h-0.9zM38.7 269.7h0.9v0.9h-0.9zM31.7 260.8h0.9v0.9h-0.9zM48.4 264.3h0.9v0.9h-0.9zM38.5 254.8h0.9v0.9h-0.9zM34.1 258.3h0.9v0.9h-0.9zM35.4 265.9h0.9v0.9h-0.9zM47.9 258.4h0.9v0.9h-0.9zM46.4 261.3h0.9v0.9h-0.9zM54.8 273.3h0.9v0.9h-0.9zM22.2 275.0h0.9v0.9h-0.9zM49.3 270.4h0.9v0.9h-0.9zM58.0 254.8h0.9v0.9h-0.9zM34.4 271.5h0.9v0.9h-0.9zM66.6 253.7h0.9v0.9h-0.9zM24.9 270.8h0.9v0.9h-0.9zM55.8 258.2h0.9v0.9h-0.9zM31.2 281.8h0.9v0.9h-0.9zM41.1 262.6h0.9v0.9h-0.9zM37.5 277.6h0.9v0.9h-0.9zM48.9 274.9h0.9v0.9h-0.9zM55.2 267.8h0.9v0.9h-0.9zM42.5 255.9h0.9v0.9h-0.9zM37.2 255.9h0.9v0.9h-0.9zM28.2 266.9h0.9v0.9h-0.9zM58.0 261.0h0.9v0.9h-0.9zM20.6 255.7h0.9v0.9h-0.9zM62.9 243.7h0.9v0.9h-0.9zM38.3 259.2h0.9v0.9h-0.9zM44.0 265.1h0.9v0.9h-0.9zM56.7 265.5h0.9v0.9h-0.9zM40.8 241.7h0.9v0.9h-0.9zM46.0 252.1h0.9v0.9h-0.9zM47.0 262.3h0.9v0.9h-0.9zM35.0 259.9h0.9v0.9h-0.9zM44.3 239.8h0.9v0.9h-0.9zM40.7 268.3h0.9v0.9h-0.9zM21.2 259.4h0.9v0.9h-0.9zM59.9 247.4h0.9v0.9h-0.9zM40.7 242.7h0.9v0.9h-0.9zM63.4 263.1h0.9v0.9h-0.9zM47.3 260.2h0.9v0.9h-0.9zM46.1 270.0h0.9v0.9h-0.9zM46.9 241.5h0.9v0.9h-0.9zM59.5 262.0h0.9v0.9h-0.9zM47.7 254.8h0.9v0.9h-0.9zM38.8 252.6h0.9v0.9h-0.9zM42.4 259.2h0.9v0.9h-0.9zM44.2 244.1h0.9v0.9h-0.9zM38.6 262.9h0.9v0.9h-0.9zM53.2 268.4h0.9v0.9h-0.9zM36.9 267.6h0.9v0.9h-0.9zM45.4 273.3h0.9v0.9h-0.9zM38.4 276.7h0.9v0.9h-0.9zM43.1 261.7h0.9v0.9h-0.9zM45.9 261.2h0.9v0.9h-0.9zM33.9 267.6h0.9v0.9h-0.9zM39.8 274.5h0.9v0.9h-0.9zM43.4 246.7h0.9v0.9h-0.9zM22.2 246.5h0.9v0.9h-0.9zM54.3 260.2h0.9v0.9h-0.9zM57.1 269.3h0.9v0.9h-0.9zM52.3 245.5h0.9v0.9h-0.9zM46.4 247.9h0.9v0.9h-0.9zM62.0 253.3h0.9v0.9h-0.9zM48.8 254.5h0.9v0.9h-0.9zM49.5 278.2h0.9v0.9h-0.9zM48.8 278.7h0.9v0.9h-0.9zM30.6 262.5h0.9v0.9h-0.9zM31.2 280.9h0.9v0.9h-0.9zM47.0 265.2h0.9v0.9h-0.9zM41.8 266.5h0.9v0.9h-0.9zM38.1 265.3h0.9v0.9h-0.9zM28.3 264.5h0.9v0.9h-0.9zM30.6 265.7h0.9v0.9h-0.9zM32.3 273.7h0.9v0.9h-0.9zM37.0 265.5h0.9v0.9h-0.9zM32.3 266.5h0.9v0.9h-0.9zM35.3 271.8h0.9v0.9h-0.9zM54.5 278.4h0.9v0.9h-0.9zM47.3 246.2h0.9v0.9h-0.9zM45.4 266.2h0.9v0.9h-0.9zM37.6 265.0h0.9v0.9h-0.9zM53.1 250.3h0.9v0.9h-0.9zM65.1 249.0h0.9v0.9h-0.9zM39.8 258.7h0.9v0.9h-0.9zM43.4 248.8h0.9v0.9h-0.9zM62.0 260.0h0.9v0.9h-0.9zM38.9 248.4h0.9v0.9h-0.9zM50.6 262.4h0.9v0.9h-0.9zM37.6 263.6h0.9v0.9h-0.9zM68.0 260.1h0.9v0.9h-0.9zM28.0 266.7h0.9v0.9h-0.9zM64.1 258.3h0.9v0.9h-0.9zM36.5 266.8h0.9v0.9h-0.9zM41.6 271.1h0.9v0.9h-0.9zM49.6 262.7h0.9v0.9h-0.9zM40.2 269.8h0.9v0.9h-0.9zM47.3 253.4h0.9v0.9h-0.9zM50.0 253.3h0.9v0.9h-0.9zM60.6 261.5h0.9v0.9h-0.9zM43.9 268.4h0.9v0.9h-0.9zM37.8 255.3h0.9v0.9h-0.9zM54.6 278.4h0.9v0.9h-0.9zM52.9 237.0h0.9v0.9h-0.9zM44.1 271.9h0.9v0.9h-0.9zM35.5 262.4h0.9v0.9h-0.9zM41.9 273.8h0.9v0.9h-0.9zM55.7 269.7h0.9v0.9h-0.9zM43.3 261.7h0.9v0.9h-0.9zM30.1 252.2h0.9v0.9h-0.9zM58.2 249.0h0.9v0.9h-0.9zM47.4 270.2h0.9v0.9h-0.9zM41.7 278.9h0.9v0.9h-0.9zM33.1 256.1h0.9v0.9h-0.9zM51.2 240.9h0.9v0.9h-0.9zM39.1 264.1h0.9v0.9h-0.9zM49.5 270.7h0.9v0.9h-0.9zM40.9 267.3h0.9v0.9h-0.9zM60.1 263.8h0.9v0.9h-0.9zM30.4 264.3h0.9v0.9h-0.9zM72.6 252.6h0.9v0.9h-0.9zM36.7 267.4h0.9v0.9h-0.9zM42.7 250.0h0.9v0.9h-0.9zM47.4 276.1h0.9v0.9h-0.9zM48.4 274.1h0.9v0.9h-0.9zM44.8 250.4h0.9v0.9h-0.9zM57.4 260.2h0.9v0.9h-0.9zM59.2 271.1h0.9v0.9h-0.9zM49.9 262.0h0.9v0.9h-0.9zM41.4 230.8h0.9v0.9h-0.9zM42.4 256.4h0.9v0.9h-0.9zM41.1 269.5h0.9v0.9h-0.9zM40.9 249.7h0.9v0.9h-0.9zM54.0 247.2h0.9v0.9h-0.9zM55.7 264.2h0.9v0.9h-0.9zM55.4 278.6h0.9v0.9h-0.9zM62.1 267.1h0.9v0.9h-0.9zM47.7 262.7h0.9v0.9h-0.9zM41.5 253.9h0.9v0.9h-0.9zM60.2 276.4h0.9v0.9h-0.9zM58.4 242.9h0.9v0.9h-0.9zM54.0 242.4h0.9v0.9h-0.9zM26.9 277.6h0.9v0.9h-0.9zM48.1 283.9h0.9v0.9h-0.9zM65.2 242.1h0.9v0.9h-0.9zM25.3 281.0h0.9v0.9h-0.9zM34.1 256.8h0.9v0.9h-0.9zM51.6 274.6h0.9v0.9h-0.9zM53.9 245.0h0.9v0.9h-0.9zM45.9 260.9h0.9v0.9h-0.9zM62.3 253.8h0.9v0.9h-0.9zM60.2 274.5h0.9v0.9h-0.9zM45.0 257.1h0.9v0.9h-0.9zM60.8 281.0h0.9v0.9h-0.9zM31.3 238.1h0.9v0.9h-0.9zM44.2 267.2h0.9v0.9h-0.9zM41.1 241.3h0.9v0.9h-0.9zM36.2 268.3h0.9v0.9h-0.9zM32.6 272.8h0.9v0.9h-0.9zM48.2 258.7h0.9v0.9h-0.9zM20.6 236.1h0.9v0.9h-0.9zM45.2 265.4h0.9v0.9h-0.9zM53.8 278.7h0.9v0.9h-0.9zM45.5 258.7h0.9v0.9h-0.9zM50.3 277.3h0.9v0.9h-0.9zM41.8 277.5h0.9v0.9h-0.9zM52.0 281.8h0.9v0.9h-0.9zM46.1 275.6h0.9v0.9h-0.9zM45.7 265.8h0.9v0.9h-0.9zM42.6 261.7h0.9v0.9h-0.9zM28.3 246.3h0.9v0.9h-0.9zM33.7 273.9h0.9v0.9h-0.9zM57.7 264.3h0.9v0.9h-0.9zM54.4 247.3h0.9v0.9h-0.9zM39.1 267.6h0.9v0.9h-0.9zM32.8 239.4h0.9v0.9h-0.9zM20.4 278.2h0.9v0.9h-0.9zM44.3 260.8h0.9v0.9h-0.9zM48.8 278.0h0.9v0.9h-0.9zM29.1 248.8h0.9v0.9h-0.9zM28.1 243.6h0.9v0.9h-0.9zM44.7 253.0h0.9v0.9h-0.9zM59.1 262.6h0.9v0.9h-0.9zM44.2 278.3h0.9v0.9h-0.9zM22.8 242.7h0.9v0.9h-0.9zM58.4 242.5h0.9v0.9h-0.9zM39.1 255.0h0.9v0.9h-0.9zM67.6 263.6h0.9v0.9h-0.9zM49.5 272.4h0.9v0.9h-0.9zM34.1 273.2h0.9v0.9h-0.9zM49.8 231.5h0.9v0.9h-0.9zM32.4 245.9h0.9v0.9h-0.9zM53.2 265.4h0.9v0.9h-0.9zM61.7 268.9h0.9v0.9h-0.9zM25.0 238.3h0.9v0.9h-0.9zM33.1 260.3h0.9v0.9h-0.9zM22.4 244.2h0.9v0.9h-0.9zM46.6 245.5h0.9v0.9h-0.9zM45.2 261.3h0.9v0.9h-0.9zM24.3 268.0h0.9v0.9h-0.9zM57.0 257.4h0.9v0.9h-0.9zM47.9 261.9h0.9v0.9h-0.9zM50.4 239.0h0.9v0.9h-0.9zM44.3 249.1h0.9v0.9h-0.9zM38.2 242.4h0.9v0.9h-0.9zM40.5 244.5h0.9v0.9h-0.9zM63.5 251.1h0.9v0.9h-0.9zM32.5 268.5h0.9v0.9h-0.9zM59.5 255.6h0.9v0.9h-0.9zM50.6 259.3h0.9v0.9h-0.9zM42.1 261.7h0.9v0.9h-0.9zM53.5 262.7h0.9v0.9h-0.9zM45.0 254.8h0.9v0.9h-0.9zM60.4 275.4h0.9v0.9h-0.9zM33.8 261.8h0.9v0.9h-0.9zM55.7 258.0h0.9v0.9h-0.9zM45.5 281.9h0.9v0.9h-0.9zM48.6 246.2h0.9v0.9h-0.9zM39.1 250.0h0.9v0.9h-0.9zM42.2 262.3h0.9v0.9h-0.9zM48.2 256.3h0.9v0.9h-0.9zM28.6 249.9h0.9v0.9h-0.9zM53.2 259.8h0.9v0.9h-0.9zM44.1 257.7h0.9v0.9h-0.9zM65.1 258.3h0.9v0.9h-0.9zM50.7 254.8h0.9v0.9h-0.9zM54.1 247.9h0.9v0.9h-0.9zM50.2 267.2h0.9v0.9h-0.9zM41.3 256.6h0.9v0.9h-0.9zM62.6 259.1h0.9v0.9h-0.9zM63.7 246.4h0.9v0.9h-0.9zM47.6 275.2h0.9v0.9h-0.9zM41.7 266.7h0.9v0.9h-0.9zM57.4 256.6h0.9v0.9h-0.9zM56.5 231.9h0.9v0.9h-0.9zM44.1 264.1h0.9v0.9h-0.9zM36.6 248.2h0.9v0.9h-0.9zM42.4 261.5h0.9v0.9h-0.9zM45.1 260.7h0.9v0.9h-0.9zM51.6 265.0h0.9v0.9h-0.9zM55.1 272.1h0.9v0.9h-0.9zM70.0 258.8h0.9v0.9h-0.9zM45.0 245.5h0.9v0.9h-0.9zM44.6 274.7h0.9v0.9h-0.9zM67.0 266.4h0.9v0.9h-0.9zM35.8 269.1h0.9v0.9h-0.9zM32.3 243.6h0.9v0.9h-0.9zM65.0 252.7h0.9v0.9h-0.9zM63.0 250.7h0.9v0.9h-0.9zM48.4 246.5h0.9v0.9h-0.9zM56.5 277.9h0.9v0.9h-0.9zM45.7 255.8h0.9v0.9h-0.9zM31.9 242.8h0.9v0.9h-0.9zM60.7 253.5h0.9v0.9h-0.9zM32.7 269.9h0.9v0.9h-0.9zM42.5 263.8h0.9v0.9h-0.9zM31.5 264.9h0.9v0.9h-0.9zM24.4 261.6h0.9v0.9h-0.9zM44.3 267.8h0.9v0.9h-0.9zM32.3 261.1h0.9v0.9h-0.9zM23.3 242.7h0.9v0.9h-0.9zM59.0 255.5h0.9v0.9h-0.9zM43.8 264.2h0.9v0.9h-0.9zM44.7 268.9h0.9v0.9h-0.9zM32.5 268.0h0.9v0.9h-0.9zM62.8 247.2h0.9v0.9h-0.9zM34.3 250.9h0.9v0.9h-0.9zM66.7 242.0h0.9v0.9h-0.9zM40.7 243.9h0.9v0.9h-0.9zM48.1 268.3h0.9v0.9h-0.9zM58.9 248.2h0.9v0.9h-0.9zM34.2 276.5h0.9v0.9h-0.9zM47.6 262.7h0.9v0.9h-0.9zM20.2 255.5h0.9v0.9h-0.9zM48.7 266.6h0.9v0.9h-0.9zM43.8 272.1h0.9v0.9h-0.9zM59.4 258.3h0.9v0.9h-0.9zM54.0 278.5h0.9v0.9h-0.9zM70.1 242.0h0.9v0.9h-0.9zM54.7 277.0h0.9v0.9h-0.9zM56.2 247.5h0.9v0.9h-0.9zM48.7 260.2h0.9v0.9h-0.9zM47.1 259.6h0.9v0.9h-0.9zM30.2 258.0h0.9v0.9h-0.9zM48.7 269.8h0.9v0.9h-0.9zM59.1 261.5h0.9v0.9h-0.9zM49.3 252.5h0.9v0.9h-0.9zM44.9 260.8h0.9v0.9h-0.9zM28.9 272.8h0.9v0.9h-0.9zM34.9 281.8h0.9v0.9h-0.9zM62.7 260.4h0.9v0.9h-0.9zM50.9 261.5h0.9v0.9h-0.9zM47.9 236.2h0.9v0.9h-0.9zM43.5 245.9h0.9v0.9h-0.9zM52.9 259.6h0.9v0.9h-0.9zM33.4 266.6h0.9v0.9h-0.9zM59.7 259.5h0.9v0.9h-0.9zM27.0 268.1h0.9v0.9h-0.9zM59.6 266.6h0.9v0.9h-0.9zM72.7 251.0h0.9v0.9h-0.9zM32.6 265.8h0.9v0.9h-0.9zM32.3 263.7h0.9v0.9h-0.9zM44.8 269.8h0.9v0.9h-0.9zM52.1 260.5h0.9v0.9h-0.9zM36.3 251.4h0.9v0.9h-0.9zM53.2 263.1h0.9v0.9h-0.9zM44.4 259.1h0.9v0.9h-0.9zM38.0 271.7h0.9v0.9h-0.9zM38.9 270.9h0.9v0.9h-0.9zM64.4 261.9h0.9v0.9h-0.9zM42.9 264.5h0.9v0.9h-0.9zM31.5 242.7h0.9v0.9h-0.9zM61.8 263.7h0.9v0.9h-0.9zM44.3 275.8h0.9v0.9h-0.9zM50.2 243.5h0.9v0.9h-0.9zM44.1 254.4h0.9v0.9h-0.9zM57.3 252.0h0.9v0.9h-0.9zM44.0 270.5h0.9v0.9h-0.9zM37.4 257.1h0.9v0.9h-0.9zM57.6 265.0h0.9v0.9h-0.9zM51.5 257.6h0.9v0.9h-0.9zM30.7 261.4h0.9v0.9h-0.9zM60.5 244.2h0.9v0.9h-0.9zM44.3 266.9h0.9v0.9h-0.9zM48.3 261.0h0.9v0.9h-0.9zM53.4 277.8h0.9v0.9h-0.9zM36.9 254.2h0.9v0.9h-0.9zM56.1 249.9h0.9v0.9h-0.9zM59.4 246.1h0.9v0.9h-0.9zM46.6 269.8h0.9v0.9h-0.9zM60.9 270.2h0.9v0.9h-0.9zM34.8 253.1h0.9v0.9h-0.9zM57.0 261.1h0.9v0.9h-0.9zM35.9 266.6h0.9v0.9h-0.9zM49.6 248.9h0.9v0.9h-0.9zM37.9 263.0h0.9v0.9h-0.9zM54.7 262.5h0.9v0.9h-0.9zM36.8 236.1h0.9v0.9h-0.9zM35.3 244.4h0.9v0.9h-0.9zM43.8 247.3h0.9v0.9h-0.9zM49.4 243.1h0.9v0.9h-0.9zM48.3 276.3h0.9v0.9h-0.9zM42.8 247.9h0.9v0.9h-0.9zM48.0 283.5h0.9v0.9h-0.9zM40.1 245.2h0.9v0.9h-0.9zM60.2 259.8h0.9v0.9h-0.9zM28.0 251.6h0.9v0.9h-0.9zM58.7 243.6h0.9v0.9h-0.9zM35.5 275.0h0.9v0.9h-0.9zM39.1 244.0h0.9v0.9h-0.9zM43.9 273.2h0.9v0.9h-0.9zM24.4 273.3h0.9v0.9h-0.9zM48.0 265.3h0.9v0.9h-0.9zM52.9 258.8h0.9v0.9h-0.9zM21.9 259.4h0.9v0.9h-0.9zM38.2 246.7h0.9v0.9h-0.9zM55.4 245.9h0.9v0.9h-0.9zM40.6 251.5h0.9v0.9h-0.9zM36.8 255.5h0.9v0.9h-0.9zM43.5 240.7h0.9v0.9h-0.9zM35.2 266.9h0.9v0.9h-0.9zM44.6 247.7h0.9v0.9h-0.9zM38.1 269.4h0.9v0.9h-0.9zM50.0 232.3h0.9v0.9h-0.9zM57.1 270.4h0.9v0.9h-0.9zM40.1 266.2h0.9v0.9h-0.9zM46.9 261.2h0.9v0.9h-0.9zM53.0 262.9h0.9v0.9h-0.9zM42.2 253.2h0.9v0.9h-0.9zM40.0 267.8h0.9v0.9h-0.9zM57.5 260.2h0.9v0.9h-0.9zM36.1 258.0h0.9v0.9h-0.9zM31.3 258.7h0.9v0.9h-0.9zM56.5 257.4h0.9v0.9h-0.9zM54.4 238.2h0.9v0.9h-0.9zM35.8 258.0h0.9v0.9h-0.9zM30.3 260.0h0.9v0.9h-0.9zM34.6 276.8h0.9v0.9h-0.9zM54.7 265.7h0.9v0.9h-0.9zM39.3 249.5h0.9v0.9h-0.9zM35.1 276.3h0.9v0.9h-0.9zM29.3 262.3h0.9v0.9h-0.9zM40.0 260.2h0.9v0.9h-0.9zM51.5 269.9h0.9v0.9h-0.9zM54.8 262.0h0.9v0.9h-0.9zM35.8 248.9h0.9v0.9h-0.9zM38.5 264.7h0.9v0.9h-0.9zM55.2 263.0h0.9v0.9h-0.9zM55.7 261.0h0.9v0.9h-0.9zM34.5 249.9h0.9v0.9h-0.9zM61.3 264.7h0.9v0.9h-0.9zM47.5 256.8h0.9v0.9h-0.9zM50.4 263.0h0.9v0.9h-0.9zM38.5 260.2h0.9v0.9h-0.9zM38.5 252.3h0.9v0.9h-0.9zM46.3 247.4h0.9v0.9h-0.9zM53.8 255.6h0.9v0.9h-0.9zM56.1 247.8h0.9v0.9h-0.9zM34.4 282.8h0.9v0.9h-0.9zM62.8 263.5h0.9v0.9h-0.9zM63.2 266.7h0.9v0.9h-0.9zM50.6 264.1h0.9v0.9h-0.9zM63.9 272.4h0.9v0.9h-0.9zM30.9 261.8h0.9v0.9h-0.9zM24.7 255.8h0.9v0.9h-0.9zM42.3 268.8h0.9v0.9h-0.9zM55.5 255.8h0.9v0.9h-0.9zM45.4 274.3h0.9v0.9h-0.9zM45.7 253.6h0.9v0.9h-0.9zM42.4 277.7h0.9v0.9h-0.9zM46.3 262.6h0.9v0.9h-0.9zM45.2 266.1h0.9v0.9h-0.9zM44.3 274.6h0.9v0.9h-0.9zM62.2 263.9h0.9v0.9h-0.9zM26.7 274.7h0.9v0.9h-0.9zM47.8 261.0h0.9v0.9h-0.9zM64.0 264.8h0.9v0.9h-0.9zM42.8 252.7h0.9v0.9h-0.9zM64.8 268.5h0.9v0.9h-0.9zM37.7 244.5h0.9v0.9h-0.9zM52.7 255.6h0.9v0.9h-0.9zM68.8 272.0h0.9v0.9h-0.9zM47.5 267.6h0.9v0.9h-0.9zM50.0 248.9h0.9v0.9h-0.9zM51.7 273.7h0.9v0.9h-0.9zM38.9 255.5h0.9v0.9h-0.9zM50.2 258.0h0.9v0.9h-0.9zM60.5 270.4h0.9v0.9h-0.9zM58.1 263.6h0.9v0.9h-0.9zM44.2 276.8h0.9v0.9h-0.9zM51.3 266.3h0.9v0.9h-0.9zM62.2 251.5h0.9v0.9h-0.9zM26.6 256.5h0.9v0.9h-0.9zM49.6 272.5h0.9v0.9h-0.9zM42.9 255.0h0.9v0.9h-0.9zM38.2 259.2h0.9v0.9h-0.9zM40.3 276.2h0.9v0.9h-0.9zM46.2 256.8h0.9v0.9h-0.9zM48.8 251.7h0.9v0.9h-0.9zM43.9 252.5h0.9v0.9h-0.9zM43.9 252.6h0.9v0.9h-0.9zM54.4 247.3h0.9v0.9h-0.9zM62.5 262.0h0.9v0.9h-0.9zM30.8 244.0h0.9v0.9h-0.9zM36.1 241.7h0.9v0.9h-0.9zM43.6 268.4h0.9v0.9h-0.9zM47.5 258.0h0.9v0.9h-0.9zM67.2 265.8h0.9v0.9h-0.9zM30.0 261.1h0.9v0.9h-0.9zM30.3 257.9h0.9v0.9h-0.9zM47.2 275.7h0.9v0.9h-0.9zM47.8 251.9h0.9v0.9h-0.9zM47.6 265.2h0.9v0.9h-0.9zM37.0 258.7h0.9v0.9h-0.9zM51.0 251.5h0.9v0.9h-0.9zM56.1 252.1h0.9v0.9h-0.9zM36.7 258.2h0.9v0.9h-0.9zM49.3 260.8h0.9v0.9h-0.9zM53.5 246.2h0.9v0.9h-0.9zM53.8 259.3h0.9v0.9h-0.9zM36.4 264.3h0.9v0.9h-0.9zM38.1 274.8h0.9v0.9h-0.9zM44.6 269.1h0.9v0.9h-0.9zM24.1 250.4h0.9v0.9h-0.9zM36.1 265.0h0.9v0.9h-0.9zM34.0 252.2h0.9v0.9h-0.9zM29.8 256.1h0.9v0.9h-0.9zM25.0 246.1h0.9v0.9h-0.9zM51.3 268.2h0.9v0.9h-0.9zM65.2 274.0h0.9v0.9h-0.9zM61.4 267.0h0.9v0.9h-0.9zM36.6 249.8h0.9v0.9h-0.9zM54.6 272.2h0.9v0.9h-0.9zM34.1 272.4h0.9v0.9h-0.9zM46.6 265.3h0.9v0.9h-0.9zM34.0 235.4h0.9v0.9h-0.9zM29.2 256.4h0.9v0.9h-0.9zM54.2 257.0h0.9v0.9h-0.9zM60.1 245.7h0.9v0.9h-0.9zM65.2 263.6h0.9v0.9h-0.9zM38.4 254.8h0.9v0.9h-0.9zM56.5 248.1h0.9v0.9h-0.9zM30.4 260.1h0.9v0.9h-0.9zM52.6 257.7h0.9v0.9h-0.9zM42.0 273.5h0.9v0.9h-0.9zM45.0 260.2h0.9v0.9h-0.9zM66.1 280.1h0.9v0.9h-0.9zM34.1 248.2h0.9v0.9h-0.9zM31.4 267.1h0.9v0.9h-0.9zM52.4 256.7h0.9v0.9h-0.9zM43.2 251.3h0.9v0.9h-0.9zM48.2 271.7h0.9v0.9h-0.9zM28.6 252.5h0.9v0.9h-0.9zM54.4 263.4h0.9v0.9h-0.9zM42.0 258.2h0.9v0.9h-0.9zM41.1 256.9h0.9v0.9h-0.9zM35.5 256.8h0.9v0.9h-0.9zM44.6 245.9h0.9v0.9h-0.9zM44.9 260.2h0.9v0.9h-0.9zM44.8 263.7h0.9v0.9h-0.9zM46.4 268.5h0.9v0.9h-0.9zM41.6 263.8h0.9v0.9h-0.9zM40.3 259.5h0.9v0.9h-0.9zM69.8 265.5h0.9v0.9h-0.9zM33.1 274.4h0.9v0.9h-0.9zM42.4 247.2h0.9v0.9h-0.9zM29.0 269.6h0.9v0.9h-0.9zM45.3 268.1h0.9v0.9h-0.9zM26.5 244.0h0.9v0.9h-0.9zM42.9 267.2h0.9v0.9h-0.9zM39.8 275.3h0.9v0.9h-0.9zM43.3 247.8h0.9v0.9h-0.9zM51.7 268.0h0.9v0.9h-0.9zM50.3 263.5h0.9v0.9h-0.9zM27.8 265.9h0.9v0.9h-0.9zM41.2 241.9h0.9v0.9h-0.9zM44.9 258.8h0.9v0.9h-0.9zM36.8 267.4h0.9v0.9h-0.9zM36.8 247.9h0.9v0.9h-0.9zM60.8 264.2h0.9v0.9h-0.9zM58.0 273.5h0.9v0.9h-0.9zM48.8 276.7h0.9v0.9h-0.9zM21.5 257.4h0.9v0.9h-0.9zM67.9 244.9h0.9v0.9h-0.9zM23.1 254.1h0.9v0.9h-0.9zM38.2 252.1h0.9v0.9h-0.9zM41.8 253.1h0.9v0.9h-0.9zM48.0 258.1h0.9v0.9h-0.9zM52.8 257.3h0.9v0.9h-0.9zM40.4 263.3h0.9v0.9h-0.9zM32.0 256.8h0.9v0.9h-0.9zM50.7 254.5h0.9v0.9h-0.9zM55.8 256.6h0.9v0.9h-0.9zM44.2 263.3h0.9v0.9h-0.9zM47.0 260.4h0.9v0.9h-0.9zM22.8 260.1h0.9v0.9h-0.9zM38.2 253.3h0.9v0.9h-0.9zM49.8 249.0h0.9v0.9h-0.9zM41.3 255.3h0.9v0.9h-0.9zM27.0 260.0h0.9v0.9h-0.9zM60.2 261.6h0.9v0.9h-0.9zM43.9 257.4h0.9v0.9h-0.9zM38.9 241.4h0.9v0.9h-0.9zM44.9 268.3h0.9v0.9h-0.9zM22.4 237.5h0.9v0.9h-0.9zM47.4 280.3h0.9v0.9h-0.9zM61.7 264.3h0.9v0.9h-0.9zM32.5 282.3h0.9v0.9h-0.9zM45.0 250.2h0.9v0.9h-0.9zM32.2 275.3h0.9v0.9h-0.9zM44.6 271.2h0.9v0.9h-0.9zM32.3 265.7h0.9v0.9h-0.9zM35.8 272.1h0.9v0.9h-0.9zM25.5 272.2h0.9v0.9h-0.9zM34.4 256.3h0.9v0.9h-0.9zM30.5 277.7h0.9v0.9h-0.9zM44.1 260.1h0.9v0.9h-0.9zM36.1 254.9h0.9v0.9h-0.9zM44.3 258.4h0.9v0.9h-0.9zM42.1 263.4h0.9v0.9h-0.9zM57.5 267.6h0.9v0.9h-0.9zM47.0 261.1h0.9v0.9h-0.9zM34.2 269.8h0.9v0.9h-0.9zM29.9 253.0h0.9v0.9h-0.9zM60.9 236.8h0.9v0.9h-0.9zM40.9 260.8h0.9v0.9h-0.9zM49.3 271.4h0.9v0.9h-0.9zM36.4 252.0h0.9v0.9h-0.9zM34.6 265.0h0.9v0.9h-0.9zM60.8 265.6h0.9v0.9h-0.9zM43.3 268.1h0.9v0.9h-0.9zM53.8 276.9h0.9v0.9h-0.9zM25.4 262.2h0.9v0.9h-0.9zM58.9 263.1h0.9v0.9h-0.9zM30.9 268.6h0.9v0.9h-0.9zM39.2 263.4h0.9v0.9h-0.9zM72.3 254.9h0.9v0.9h-0.9zM40.1 267.6h0.9v0.9h-0.9zM35.8 265.6h0.9v0.9h-0.9zM33.6 265.3h0.9v0.9h-0.9zM58.0 262.2h0.9v0.9h-0.9zM67.1 264.3h0.9v0.9h-0.9zM45.3 250.6h0.9v0.9h-0.9zM47.6 253.7h0.9v0.9h-0.9zM48.9 265.9h0.9v0.9h-0.9zM53.3 245.8h0.9v0.9h-0.9zM44.8 239.4h0.9v0.9h-0.9zM54.7 254.3h0.9v0.9h-0.9zM34.5 249.3h0.9v0.9h-0.9zM35.2 268.5h0.9v0.9h-0.9zM33.8 245.9h0.9v0.9h-0.9zM58.2 240.7h0.9v0.9h-0.9zM41.1 260.2h0.9v0.9h-0.9zM40.9 269.7h0.9v0.9h-0.9zM39.4 262.5h0.9v0.9h-0.9zM42.3 280.4h0.9v0.9h-0.9zM50.4 275.7h0.9v0.9h-0.9zM51.7 251.0h0.9v0.9h-0.9zM43.2 263.2h0.9v0.9h-0.9zM41.1 240.6h0.9v0.9h-0.9zM45.7 254.1h0.9v0.9h-0.9zM49.3 256.1h0.9v0.9h-0.9zM50.3 247.4h0.9v0.9h-0.9zM31.8 257.8h0.9v0.9h-0.9zM52.7 251.8h0.9v0.9h-0.9zM36.8 248.1h0.9v0.9h-0.9zM38.5 239.8h0.9v0.9h-0.9zM49.8 261.9h0.9v0.9h-0.9zM69.2 268.0h0.9v0.9h-0.9zM56.9 264.9h0.9v0.9h-0.9zM66.6 263.2h0.9v0.9h-0.9zM54.0 263.1h0.9v0.9h-0.9zM37.8 243.3h0.9v0.9h-0.9zM59.6 268.2h0.9v0.9h-0.9zM65.3 250.0h0.9v0.9h-0.9zM32.0 250.5h0.9v0.9h-0.9zM21.5 250.0h0.9v0.9h-0.9zM26.7 259.9h0.9v0.9h-0.9zM35.1 262.1h0.9v0.9h-0.9zM63.8 264.7h0.9v0.9h-0.9zM52.5 277.1h0.9v0.9h-0.9zM32.6 260.4h0.9v0.9h-0.9zM67.2 231.1h0.9v0.9h-0.9zM52.0 265.1h0.9v0.9h-0.9zM40.7 267.6h0.9v0.9h-0.9zM49.8 254.1h0.9v0.9h-0.9zM51.1 257.2h0.9v0.9h-0.9zM56.9 265.8h0.9v0.9h-0.9zM40.8 264.6h0.9v0.9h-0.9zM41.9 274.2h0.9v0.9h-0.9zM36.0 250.9h0.9v0.9h-0.9zM51.2 241.5h0.9v0.9h-0.9zM43.5 268.4h0.9v0.9h-0.9zM65.4 242.3h0.9v0.9h-0.9zM26.8 251.7h0.9v0.9h-0.9zM51.2 270.4h0.9v0.9h-0.9zM38.8 275.1h0.9v0.9h-0.9zM37.2 265.8h0.9v0.9h-0.9zM41.7 281.4h0.9v0.9h-0.9zM61.8 274.2h0.9v0.9h-0.9zM38.5 241.0h0.9v0.9h-0.9zM39.8 253.9h0.9v0.9h-0.9zM36.3 251.5h0.9v0.9h-0.9zM40.0 266.0h0.9v0.9h-0.9zM59.9 272.8h0.9v0.9h-0.9zM63.9 235.0h0.9v0.9h-0.9zM58.2 270.4h0.9v0.9h-0.9zM56.4 258.9h0.9v0.9h-0.9zM41.8 254.2h0.9v0.9h-0.9zM39.2 257.3h0.9v0.9h-0.9zM37.0 279.0h0.9v0.9h-0.9zM53.0 272.0h0.9v0.9h-0.9zM66.0 264.0h0.9v0.9h-0.9zM57.4 252.1h0.9v0.9h-0.9zM50.0 269.1h0.9v0.9h-0.9zM30.7 269.4h0.9v0.9h-0.9zM46.0 254.6h0.9v0.9h-0.9zM62.2 262.2h0.9v0.9h-0.9zM44.7 271.1h0.9v0.9h-0.9zM38.3 243.4h0.9v0.9h-0.9zM55.8 273.7h0.9v0.9h-0.9zM38.7 263.9h0.9v0.9h-0.9zM45.9 264.0h0.9v0.9h-0.9zM58.3 262.4h0.9v0.9h-0.9zM54.3 271.0h0.9v0.9h-0.9zM41.7 265.2h0.9v0.9h-0.9zM40.9 259.1h0.9v0.9h-0.9zM61.3 251.2h0.9v0.9h-0.9zM54.8 258.9h0.9v0.9h-0.9zM39.8 262.7h0.9v0.9h-0.9zM38.5 241.4h0.9v0.9h-0.9zM58.6 269.9h0.9v0.9h-0.9zM39.9 245.5h0.9v0.9h-0.9zM33.6 281.8h0.9v0.9h-0.9zM34.1 252.5h0.9v0.9h-0.9zM69.5 236.0h0.9v0.9h-0.9zM31.6 248.9h0.9v0.9h-0.9zM38.4 235.0h0.9v0.9h-0.9zM47.4 244.6h0.9v0.9h-0.9zM28.8 264.6h0.9v0.9h-0.9zM33.9 265.7h0.9v0.9h-0.9zM35.7 280.5h0.9v0.9h-0.9zM31.0 264.1h0.9v0.9h-0.9zM31.7 277.6h0.9v0.9h-0.9zM22.8 256.7h0.9v0.9h-0.9zM47.2 255.8h0.9v0.9h-0.9zM43.3 254.6h0.9v0.9h-0.9zM39.0 264.1h0.9v0.9h-0.9zM68.6 266.5h0.9v0.9h-0.9zM51.0 253.1h0.9v0.9h-0.9zM34.7 261.7h0.9v0.9h-0.9zM37.1 280.8h0.9v0.9h-0.9zM45.3 280.0h0.9v0.9h-0.9zM42.8 275.0h0.9v0.9h-0.9zM27.3 282.3h0.9v0.9h-0.9zM30.4 263.5h0.9v0.9h-0.9zM43.5 259.2h0.9v0.9h-0.9zM55.3 249.7h0.9v0.9h-0.9zM51.6 241.8h0.9v0.9h-0.9zM27.6 270.3h0.9v0.9h-0.9zM62.0 248.4h0.9v0.9h-0.9zM52.4 256.6h0.9v0.9h-0.9zM65.3 265.3h0.9v0.9h-0.9zM67.8 256.1h0.9v0.9h-0.9zM68.7 253.4h0.9v0.9h-0.9zM66.9 269.6h0.9v0.9h-0.9zM27.7 274.0h0.9v0.9h-0.9zM48.3 271.7h0.9v0.9h-0.9zM34.9 256.0h0.9v0.9h-0.9zM30.0 280.6h0.9v0.9h-0.9zM45.3 231.8h0.9v0.9h-0.9zM55.4 262.9h0.9v0.9h-0.9zM51.8 256.0h0.9v0.9h-0.9zM39.2 270.0h0.9v0.9h-0.9zM46.4 232.9h0.9v0.9h-0.9zM44.1 271.9h0.9v0.9h-0.9zM57.8 272.8h0.9v0.9h-0.9zM39.2 245.6h0.9v0.9h-0.9zM50.5 247.6h0.9v0.9h-0.9zM62.1 258.5h0.9v0.9h-0.9zM55.1 265.2h0.9v0.9h-0.9zM56.4 266.1h0.9v0.9h-0.9zM51.1 263.3h0.9v0.9h-0.9zM35.8 240.9h0.9v0.9h-0.9zM25.1 275.4h0.9v0.9h-0.9zM37.0 265.9h0.9v0.9h-0.9zM22.2 256.1h0.9v0.9h-0.9zM54.2 264.0h0.9v0.9h-0.9zM31.0 261.4h0.9v0.9h-0.9zM47.1 273.7h0.9v0.9h-0.9zM38.6 247.4h0.9v0.9h-0.9zM62.7 253.6h0.9v0.9h-0.9zM42.7 254.9h0.9v0.9h-0.9zM42.6 263.3h0.9v0.9h-0.9zM56.7 266.1h0.9v0.9h-0.9zM72.5 246.9h0.9v0.9h-0.9zM49.1 258.6h0.9v0.9h-0.9zM44.8 272.8h0.9v0.9h-0.9zM36.0 261.5h0.9v0.9h-0.9zM47.5 266.6h0.9v0.9h-0.9zM48.3 246.8h0.9v0.9h-0.9zM56.0 231.1h0.9v0.9h-0.9zM33.7 250.2h0.9v0.9h-0.9zM43.6 262.9h0.9v0.9h-0.9zM45.0 264.5h0.9v0.9h-0.9zM63.4 268.0h0.9v0.9h-0.9zM43.7 236.5h0.9v0.9h-0.9zM59.7 259.7h0.9v0.9h-0.9zM31.0 266.9h0.9v0.9h-0.9zM32.2 276.3h0.9v0.9h-0.9zM41.0 255.8h0.9v0.9h-0.9zM44.9 279.2h0.9v0.9h-0.9zM27.7 276.9h0.9v0.9h-0.9zM65.8 271.8h0.9v0.9h-0.9zM45.5 273.2h0.9v0.9h-0.9zM39.3 251.0h0.9v0.9h-0.9zM60.6 242.4h0.9v0.9h-0.9zM50.6 254.5h0.9v0.9h-0.9zM41.3 260.8h0.9v0.9h-0.9zM39.1 277.0h0.9v0.9h-0.9zM36.2 247.1h0.9v0.9h-0.9zM28.7 261.4h0.9v0.9h-0.9zM47.7 260.3h0.9v0.9h-0.9zM47.4 246.9h0.9v0.9h-0.9zM50.0 271.4h0.9v0.9h-0.9zM27.1 257.5h0.9v0.9h-0.9zM45.3 256.7h0.9v0.9h-0.9zM35.3 252.9h0.9v0.9h-0.9zM32.3 281.0h0.9v0.9h-0.9zM29.6 247.8h0.9v0.9h-0.9zM26.3 263.0h0.9v0.9h-0.9zM32.9 268.3h0.9v0.9h-0.9zM46.6 265.4h0.9v0.9h-0.9zM54.8 260.5h0.9v0.9h-0.9zM40.3 261.8h0.9v0.9h-0.9zM57.5 249.8h0.9v0.9h-0.9zM42.2 281.2h0.9v0.9h-0.9zM49.9 276.7h0.9v0.9h-0.9zM53.9 239.6h0.9v0.9h-0.9zM40.5 244.7h0.9v0.9h-0.9zM48.5 259.3h0.9v0.9h-0.9zM54.5 263.9h0.9v0.9h-0.9zM40.7 275.0h0.9v0.9h-0.9zM28.8 239.7h0.9v0.9h-0.9zM56.8 266.1h0.9v0.9h-0.9zM53.6 249.3h0.9v0.9h-0.9zM53.8 268.9h0.9v0.9h-0.9zM45.9 261.1h0.9v0.9h-0.9zM43.1 266.3h0.9v0.9h-0.9zM28.0 277.5h0.9v0.9h-0.9zM33.7 247.9h0.9v0.9h-0.9zM60.7 259.9h0.9v0.9h-0.9zM25.5 263.0h0.9v0.9h-0.9zM38.4 265.7h0.9v0.9h-0.9zM30.2 259.6h0.9v0.9h-0.9zM40.1 281.2h0.9v0.9h-0.9zM32.7 273.6h0.9v0.9h-0.9zM56.9 265.4h0.9v0.9h-0.9zM41.8 267.2h0.9v0.9h-0.9zM35.2 273.8h0.9v0.9h-0.9zM23.8 278.1h0.9v0.9h-0.9zM40.3 253.5h0.9v0.9h-0.9zM48.7 281.8h0.9v0.9h-0.9zM44.0 265.4h0.9v0.9h-0.9zM28.5 260.6h0.9v0.9h-0.9zM44.1 253.3h0.9v0.9h-0.9zM28.1 253.9h0.9v0.9h-0.9zM49.6 269.4h0.9v0.9h-0.9zM67.5 235.3h0.9v0.9h-0.9zM67.5 272.1h0.9v0.9h-0.9zM44.8 276.7h0.9v0.9h-0.9zM49.2 240.6h0.9v0.9h-0.9zM54.0 243.4h0.9v0.9h-0.9zM54.3 244.7h0.9v0.9h-0.9zM24.2 272.4h0.9v0.9h-0.9zM39.1 252.5h0.9v0.9h-0.9zM67.7 261.0h0.9v0.9h-0.9zM64.9 257.6h0.9v0.9h-0.9zM43.9 235.3h0.9v0.9h-0.9zM60.9 255.0h0.9v0.9h-0.9zM57.6 252.3h0.9v0.9h-0.9zM21.7 264.4h0.9v0.9h-0.9zM58.5 232.1h0.9v0.9h-0.9zM30.3 276.0h0.9v0.9h-0.9zM65.1 255.8h0.9v0.9h-0.9zM48.4 267.9h0.9v0.9h-0.9zM50.4 246.4h0.9v0.9h-0.9zM58.7 281.7h0.9v0.9h-0.9zM47.1 262.3h0.9v0.9h-0.9zM37.6 267.2h0.9v0.9h-0.9zM53.6 253.5h0.9v0.9h-0.9zM24.2 242.6h0.9v0.9h-0.9zM51.8 262.5h0.9v0.9h-0.9zM40.6 233.9h0.9v0.9h-0.9zM26.6 281.1h0.9v0.9h-0.9zM32.9 248.1h0.9v0.9h-0.9zM57.6 276.1h0.9v0.9h-0.9zM38.6 262.5h0.9v0.9h-0.9zM50.7 266.5h0.9v0.9h-0.9zM39.3 260.6h0.9v0.9h-0.9zM52.3 279.5h0.9v0.9h-0.9zM50.4 238.1h0.9v0.9h-0.9zM32.9 248.6h0.9v0.9h-0.9zM54.6 278.9h0.9v0.9h-0.9zM51.2 245.2h0.9v0.9h-0.9zM40.8 259.0h0.9v0.9h-0.9zM55.8 262.8h0.9v0.9h-0.9zM54.6 254.6h0.9v0.9h-0.9zM68.9 244.6h0.9v0.9h-0.9zM43.6 273.4h0.9v0.9h-0.9zM55.1 246.0h0.9v0.9h-0.9zM36.9 255.7h0.9v0.9h-0.9zM55.6 271.1h0.9v0.9h-0.9zM26.2 256.9h0.9v0.9h-0.9zM47.5 273.1h0.9v0.9h-0.9zM52.6 276.4h0.9v0.9h-0.9zM39.7 251.7h0.9v0.9h-0.9zM47.1 263.6h0.9v0.9h-0.9zM43.1 247.1h0.9v0.9h-0.9zM47.9 254.5h0.9v0.9h-0.9zM52.9 258.5h0.9v0.9h-0.9zM34.7 248.4h0.9v0.9h-0.9zM37.0 259.5h0.9v0.9h-0.9zM43.6 243.3h0.9v0.9h-0.9zM52.7 255.8h0.9v0.9h-0.9zM53.0 262.8h0.9v0.9h-0.9zM40.1 275.7h0.9v0.9h-0.9zM55.5 244.6h0.9v0.9h-0.9zM42.2 243.1h0.9v0.9h-0.9zM37.3 258.3h0.9v0.9h-0.9zM38.2 257.2h0.9v0.9h-0.9zM51.0 273.7h0.9v0.9h-0.9zM51.9 271.8h0.9v0.9h-0.9zM37.3 255.2h0.9v0.9h-0.9zM57.0 253.1h0.9v0.9h-0.9zM50.9 261.4h0.9v0.9h-0.9zM52.2 274.4h0.9v0.9h-0.9zM46.7 253.3h0.9v0.9h-0.9zM35.3 282.0h0.9v0.9h-0.9zM56.2 244.2h0.9v0.9h-0.9zM45.2 252.0h0.9v0.9h-0.9zM45.3 283.5h0.9v0.9h-0.9zM46.1 242.3h0.9v0.9h-0.9zM45.8 260.7h0.9v0.9h-0.9zM31.1 243.5h0.9v0.9h-0.9zM37.0 259.3h0.9v0.9h-0.9zM57.7 250.6h0.9v0.9h-0.9zM49.3 280.5h0.9v0.9h-0.9zM33.0 246.3h0.9v0.9h-0.9zM37.1 266.3h0.9v0.9h-0.9zM32.6 272.8h0.9v0.9h-0.9zM37.0 251.7h0.9v0.9h-0.9zM49.7 270.2h0.9v0.9h-0.9zM39.5 258.2h0.9v0.9h-0.9zM55.6 281.7h0.9v0.9h-0.9zM38.2 270.3h0.9v0.9h-0.9zM57.5 267.7h0.9v0.9h-0.9zM47.0 263.1h0.9v0.9h-0.9zM31.5 257.8h0.9v0.9h-0.9zM35.0 253.3h0.9v0.9h-0.9zM48.6 255.1h0.9v0.9h-0.9zM59.7 248.0h0.9v0.9h-0.9zM55.9 250.2h0.9v0.9h-0.9zM43.5 251.5h0.9v0.9h-0.9zM42.9 267.1h0.9v0.9h-0.9zM31.8 265.4h0.9v0.9h-0.9zM52.5 250.0h0.9v0.9h-0.9zM41.4 273.3h0.9v0.9h-0.9zM39.7 268.1h0.9v0.9h-0.9zM44.2 259.3h0.9v0.9h-0.9zM46.7 263.9h0.9v0.9h-0.9zM41.6 273.2h0.9v0.9h-0.9zM45.6 261.5h0.9v0.9h-0.9zM54.3 268.4h0.9v0.9h-0.9zM48.6 274.7h0.9v0.9h-0.9zM22.5 257.9h0.9v0.9h-0.9zM53.5 270.1h0.9v0.9h-0.9zM58.1 269.3h0.9v0.9h-0.9zM43.5 277.0h0.9v0.9h-0.9zM36.6 255.5h0.9v0.9h-0.9zM65.7 256.2h0.9v0.9h-0.9zM62.0 250.3h0.9v0.9h-0.9zM44.7 271.9h0.9v0.9h-0.9zM24.8 258.7h0.9v0.9h-0.9zM43.4 259.7h0.9v0.9h-0.9zM56.9 247.6h0.9v0.9h-0.9zM65.2 255.6h0.9v0.9h-0.9zM32.0 264.0h0.9v0.9h-0.9zM53.2 270.4h0.9v0.9h-0.9zM51.6 249.6h0.9v0.9h-0.9zM22.2 280.1h0.9v0.9h-0.9zM47.0 264.7h0.9v0.9h-0.9zM58.6 271.3h0.9v0.9h-0.9zM30.9 239.8h0.9v0.9h-0.9zM22.4 241.3h0.9v0.9h-0.9zM52.2 260.9h0.9v0.9h-0.9zM44.9 248.8h0.9v0.9h-0.9zM45.9 255.0h0.9v0.9h-0.9zM44.0 267.1h0.9v0.9h-0.9zM45.2 267.6h0.9v0.9h-0.9zM42.4 276.2h0.9v0.9h-0.9zM66.7 256.9h0.9v0.9h-0.9zM46.4 258.2h0.9v0.9h-0.9zM39.5 273.8h0.9v0.9h-0.9zM59.9 268.2h0.9v0.9h-0.9zM27.0 261.8h0.9v0.9h-0.9zM41.0 262.9h0.9v0.9h-0.9zM58.4 256.7h0.9v0.9h-0.9zM60.8 280.8h0.9v0.9h-0.9zM39.6 266.5h0.9v0.9h-0.9zM53.4 268.0h0.9v0.9h-0.9zM55.4 237.6h0.9v0.9h-0.9zM58.0 273.4h0.9v0.9h-0.9zM41.8 280.6h0.9v0.9h-0.9zM49.2 267.1h0.9v0.9h-0.9zM53.7 266.5h0.9v0.9h-0.9zM61.7 252.6h0.9v0.9h-0.9zM36.4 251.2h0.9v0.9h-0.9zM56.7 255.4h0.9v0.9h-0.9zM50.0 255.0h0.9v0.9h-0.9zM34.6 254.5h0.9v0.9h-0.9zM44.2 253.4h0.9v0.9h-0.9zM61.7 268.1h0.9v0.9h-0.9zM54.0 262.8h0.9v0.9h-0.9zM44.8 238.6h0.9v0.9h-0.9zM45.0 251.1h0.9v0.9h-0.9zM54.6 259.0h0.9v0.9h-0.9zM47.6 240.4h0.9v0.9h-0.9zM54.0 264.2h0.9v0.9h-0.9zM35.9 264.4h0.9v0.9h-0.9zM65.5 272.2h0.9v0.9h-0.9zM40.1 246.2h0.9v0.9h-0.9zM35.4 264.1h0.9v0.9h-0.9zM43.5 268.6h0.9v0.9h-0.9zM49.2 260.3h0.9v0.9h-0.9zM44.7 266.4h0.9v0.9h-0.9zM37.9 260.0h0.9v0.9h-0.9zM36.0 264.7h0.9v0.9h-0.9zM52.9 270.9h0.9v0.9h-0.9zM44.2 250.6h0.9v0.9h-0.9zM38.7 267.9h0.9v0.9h-0.9zM37.9 263.4h0.9v0.9h-0.9zM49.3 270.6h0.9v0.9h-0.9zM34.6 277.4h0.9v0.9h-0.9zM27.6 273.9h0.9v0.9h-0.9zM49.9 275.9h0.9v0.9h-0.9zM41.1 265.2h0.9v0.9h-0.9zM35.7 255.0h0.9v0.9h-0.9zM25.9 263.4h0.9v0.9h-0.9zM39.9 275.3h0.9v0.9h-0.9zM67.3 247.9h0.9v0.9h-0.9zM62.0 265.9h0.9v0.9h-0.9zM32.5 240.4h0.9v0.9h-0.9zM45.8 255.7h0.9v0.9h-0.9zM58.7 254.0h0.9v0.9h-0.9zM65.2 242.7h0.9v0.9h-0.9zM46.3 264.7h0.9v0.9h-0.9zM65.8 270.9h0.9v0.9h-0.9zM40.0 267.6h0.9v0.9h-0.9zM50.6 265.8h0.9v0.9h-0.9zM39.2 253.8h0.9v0.9h-0.9zM31.4 246.4h0.9v0.9h-0.9zM49.1 268.5h0.9v0.9h-0.9zM37.9 271.1h0.9v0.9h-0.9zM30.9 253.9h0.9v0.9h-0.9zM39.0 247.5h0.9v0.9h-0.9zM31.9 264.0h0.9v0.9h-0.9zM40.8 260.2h0.9v0.9h-0.9zM44.3 249.5h0.9v0.9h-0.9zM60.4 257.0h0.9v0.9h-0.9zM59.9 254.4h0.9v0.9h-0.9zM54.3 251.0h0.9v0.9h-0.9zM20.6 257.5h0.9v0.9h-0.9zM51.2 261.1h0.9v0.9h-0.9zM62.2 270.2h0.9v0.9h-0.9zM42.5 268.9h0.9v0.9h-0.9zM57.8 257.2h0.9v0.9h-0.9zM51.0 276.5h0.9v0.9h-0.9zM27.8 264.2h0.9v0.9h-0.9zM50.3 272.5h0.9v0.9h-0.9zM48.8 266.4h0.9v0.9h-0.9zM53.8 281.0h0.9v0.9h-0.9zM44.9 265.1h0.9v0.9h-0.9zM41.1 271.4h0.9v0.9h-0.9zM38.4 241.9h0.9v0.9h-0.9zM31.2 254.7h0.9v0.9h-0.9zM32.6 255.7h0.9v0.9h-0.9zM45.8 262.8h0.9v0.9h-0.9zM37.0 276.1h0.9v0.9h-0.9zM55.5 263.2h0.9v0.9h-0.9zM57.5 259.3h0.9v0.9h-0.9zM48.0 275.0h0.9v0.9h-0.9zM51.9 261.7h0.9v0.9h-0.9zM27.7 256.4h0.9v0.9h-0.9zM36.7 269.1h0.9v0.9h-0.9zM47.3 264.3h0.9v0.9h-0.9zM26.2 266.2h0.9v0.9h-0.9zM51.8 278.2h0.9v0.9h-0.9zM58.3 235.1h0.9v0.9h-0.9zM59.1 264.7h0.9v0.9h-0.9zM41.5 247.4h0.9v0.9h-0.9zM44.5 277.0h0.9v0.9h-0.9zM52.1 263.2h0.9v0.9h-0.9zM48.2 249.5h0.9v0.9h-0.9zM22.4 265.4h0.9v0.9h-0.9zM31.3 260.7h0.9v0.9h-0.9zM58.5 254.0h0.9v0.9h-0.9zM32.6 261.5h0.9v0.9h-0.9zM38.8 258.3h0.9v0.9h-0.9zM49.3 259.9h0.9v0.9h-0.9zM54.9 281.0h0.9v0.9h-0.9zM38.7 238.2h0.9v0.9h-0.9zM31.4 275.8h0.9v0.9h-0.9zM43.5 260.1h0.9v0.9h-0.9zM41.3 272.4h0.9v0.9h-0.9zM64.4 241.3h0.9v0.9h-0.9zM58.8 259.5h0.9v0.9h-0.9zM25.8 246.4h0.9v0.9h-0.9zM46.7 264.2h0.9v0.9h-0.9zM33.9 271.5h0.9v0.9h-0.9zM42.5 265.7h0.9v0.9h-0.9zM30.3 259.0h0.9v0.9h-0.9zM67.5 241.9h0.9v0.9h-0.9zM48.8 259.1h0.9v0.9h-0.9zM54.2 268.3h0.9v0.9h-0.9zM57.3 263.7h0.9v0.9h-0.9zM23.7 276.1h0.9v0.9h-0.9zM71.1 250.1h0.9v0.9h-0.9zM40.1 266.5h0.9v0.9h-0.9zM28.0 262.3h0.9v0.9h-0.9zM49.3 260.8h0.9v0.9h-0.9zM43.6 272.0h0.9v0.9h-0.9zM43.1 277.0h0.9v0.9h-0.9zM41.2 251.8h0.9v0.9h-0.9zM56.7 269.9h0.9v0.9h-0.9zM27.9 246.7h0.9v0.9h-0.9zM44.0 270.5h0.9v0.9h-0.9zM42.4 256.2h0.9v0.9h-0.9zM43.2 276.5h0.9v0.9h-0.9zM22.2 254.8h0.9v0.9h-0.9zM34.9 266.2h0.9v0.9h-0.9zM64.5 276.0h0.9v0.9h-0.9zM48.3 257.6h0.9v0.9h-0.9zM60.0 257.2h0.9v0.9h-0.9zM37.1 268.8h0.9v0.9h-0.9zM54.8 272.0h0.9v0.9h-0.9zM27.0 256.3h0.9v0.9h-0.9zM41.6 263.4h0.9v0.9h-0.9zM47.3 246.2h0.9v0.9h-0.9zM28.8 247.3h0.9v0.9h-0.9zM27.2 281.7h0.9v0.9h-0.9zM46.5 236.9h0.9v0.9h-0.9zM33.5 262.0h0.9v0.9h-0.9zM56.3 279.0h0.9v0.9h-0.9zM55.7 248.0h0.9v0.9h-0.9zM51.6 247.9h0.9v0.9h-0.9zM49.9 259.0h0.9v0.9h-0.9zM63.5 252.0h0.9v0.9h-0.9zM61.0 270.5h0.9v0.9h-0.9zM30.6 243.7h0.9v0.9h-0.9zM48.6 265.8h0.9v0.9h-0.9zM29.9 265.5h0.9v0.9h-0.9zM23.4 278.4h0.9v0.9h-0.9zM34.7 265.4h0.9v0.9h-0.9zM39.9 269.5h0.9v0.9h-0.9zM54.8 241.2h0.9v0.9h-0.9zM51.1 262.4h0.9v0.9h-0.9zM37.0 269.8h0.9v0.9h-0.9zM51.8 272.3h0.9v0.9h-0.9zM22.2 264.9h0.9v0.9h-0.9zM41.3 260.5h0.9v0.9h-0.9zM67.5 267.3h0.9v0.9h-0.9zM60.8 252.5h0.9v0.9h-0.9zM41.6 250.9h0.9v0.9h-0.9zM42.5 258.4h0.9v0.9h-0.9zM59.6 252.4h0.9v0.9h-0.9zM61.7 253.8h0.9v0.9h-0.9zM69.4 255.1h0.9v0.9h-0.9zM38.5 263.9h0.9v0.9h-0.9zM44.8 253.2h0.9v0.9h-0.9zM56.7 268.7h0.9v0.9h-0.9zM59.5 245.0h0.9v0.9h-0.9zM59.3 237.9h0.9v0.9h-0.9zM49.8 255.9h0.9v0.9h-0.9zM37.2 266.3h0.9v0.9h-0.9zM34.0 254.0h0.9v0.9h-0.9zM35.1 273.5h0.9v0.9h-0.9zM59.5 261.2h0.9v0.9h-0.9zM47.5 254.3h0.9v0.9h-0.9zM59.8 271.2h0.9v0.9h-0.9zM39.1 248.9h0.9v0.9h-0.9zM62.2 247.4h0.9v0.9h-0.9zM54.0 274.8h0.9v0.9h-0.9zM27.6 265.4h0.9v0.9h-0.9zM53.9 273.8h0.9v0.9h-0.9zM64.7 252.2h0.9v0.9h-0.9zM52.6 266.7h0.9v0.9h-0.9zM62.9 265.7h0.9v0.9h-0.9zM53.3 246.9h0.9v0.9h-0.9zM51.5 261.8h0.9v0.9h-0.9zM51.7 246.0h0.9v0.9h-0.9zM38.0 263.2h0.9v0.9h-0.9zM37.7 274.4h0.9v0.9h-0.9zM56.3 258.2h0.9v0.9h-0.9zM63.5 266.7h0.9v0.9h-0.9zM53.1 265.8h0.9v0.9h-0.9zM69.4 252.1h0.9v0.9h-0.9zM59.6 268.7h0.9v0.9h-0.9zM36.7 270.0h0.9v0.9h-0.9zM44.9 252.9h0.9v0.9h-0.9zM43.0 263.5h0.9v0.9h-0.9zM40.0 251.3h0.9v0.9h-0.9zM47.2 261.1h0.9v0.9h-0.9zM36.8 251.0h0.9v0.9h-0.9zM33.6 254.0h0.9v0.9h-0.9zM58.5 266.9h0.9v0.9h-0.9zM35.6 261.3h0.9v0.9h-0.9zM43.7 265.3h0.9v0.9h-0.9zM51.1 239.6h0.9v0.9h-0.9zM31.3 264.4h0.9v0.9h-0.9zM42.6 270.9h0.9v0.9h-0.9zM36.5 237.5h0.9v0.9h-0.9zM41.0 278.7h0.9v0.9h-0.9zM39.9 251.1h0.9v0.9h-0.9zM55.9 234.9h0.9v0.9h-0.9zM32.0 244.2h0.9v0.9h-0.9zM65.0 246.5h0.9v0.9h-0.9zM47.5 262.2h0.9v0.9h-0.9zM49.4 265.2h0.9v0.9h-0.9zM58.8 265.5h0.9v0.9h-0.9zM40.2 262.7h0.9v0.9h-0.9zM50.3 267.6h0.9v0.9h-0.9zM61.8 258.4h0.9v0.9h-0.9zM39.6 234.2h0.9v0.9h-0.9zM53.5 258.5h0.9v0.9h-0.9zM57.0 248.7h0.9v0.9h-0.9zM44.3 252.4h0.9v0.9h-0.9zM34.9 246.6h0.9v0.9h-0.9zM43.8 253.0h0.9v0.9h-0.9zM56.5 266.7h0.9v0.9h-0.9zM54.6 256.2h0.9v0.9h-0.9zM53.5 258.9h0.9v0.9h-0.9zM29.6 250.0h0.9v0.9h-0.9zM44.8 268.8h0.9v0.9h-0.9zM30.4 284.0h0.9v0.9h-0.9zM45.7 252.2h0.9v0.9h-0.9zM48.2 255.7h0.9v0.9h-0.9zM48.4 241.7h0.9v0.9h-0.9zM53.1 265.6h0.9v0.9h-0.9zM51.3 279.2h0.9v0.9h-0.9zM37.6 271.9h0.9v0.9h-0.9zM49.9 254.1h0.9v0.9h-0.9zM47.3 270.1h0.9v0.9h-0.9zM52.1 237.0h0.9v0.9h-0.9zM45.6 257.2h0.9v0.9h-0.9zM64.2 272.2h0.9v0.9h-0.9zM31.7 260.7h0.9v0.9h-0.9zM43.3 275.0h0.9v0.9h-0.9zM58.9 248.4h0.9v0.9h-0.9zM51.4 258.9h0.9v0.9h-0.9zM45.2 260.6h0.9v0.9h-0.9zM44.4 275.6h0.9v0.9h-0.9zM20.7 254.9h0.9v0.9h-0.9zM43.4 251.8h0.9v0.9h-0.9zM46.7 249.4h0.9v0.9h-0.9zM72.2 256.3h0.9v0.9h-0.9zM49.7 247.8h0.9v0.9h-0.9zM32.4 279.9h0.9v0.9h-0.9zM32.1 260.7h0.9v0.9h-0.9zM51.6 260.1h0.9v0.9h-0.9zM56.8 275.0h0.9v0.9h-0.9zM44.3 271.1h0.9v0.9h-0.9zM61.5 264.7h0.9v0.9h-0.9zM66.7 250.9h0.9v0.9h-0.9zM65.9 252.2h0.9v0.9h-0.9zM50.4 268.6h0.9v0.9h-0.9zM45.3 275.3h0.9v0.9h-0.9zM23.2 265.7h0.9v0.9h-0.9zM25.8 232.1h0.9v0.9h-0.9zM33.2 273.4h0.9v0.9h-0.9zM46.1 258.8h0.9v0.9h-0.9zM42.5 248.1h0.9v0.9h-0.9zM34.6 262.4h0.9v0.9h-0.9zM43.0 258.5h0.9v0.9h-0.9zM38.4 274.9h0.9v0.9h-0.9zM41.2 273.6h0.9v0.9h-0.9zM31.0 264.3h0.9v0.9h-0.9zM53.9 265.0h0.9v0.9h-0.9zM43.1 246.1h0.9v0.9h-0.9zM63.9 242.9h0.9v0.9h-0.9zM35.2 269.0h0.9v0.9h-0.9zM62.1 244.9h0.9v0.9h-0.9zM36.8 281.3h0.9v0.9h-0.9zM59.3 276.4h0.9v0.9h-0.9zM40.9 257.3h0.9v0.9h-0.9zM36.8 235.1h0.9v0.9h-0.9zM45.4 283.8h0.9v0.9h-0.9zM50.5 275.0h0.9v0.9h-0.9zM42.7 246.9h0.9v0.9h-0.9zM37.1 236.8h0.9v0.9h-0.9zM35.4 236.2h0.9v0.9h-0.9zM46.7 280.2h0.9v0.9h-0.9zM40.7 262.4h0.9v0.9h-0.9zM45.2 259.5h0.9v0.9h-0.9zM41.7 264.9h0.9v0.9h-0.9zM20.4 262.7h0.9v0.9h-0.9zM23.0 264.1h0.9v0.9h-0.9zM28.4 264.2h0.9v0.9h-0.9zM46.9 266.1h0.9v0.9h-0.9zM36.7 257.7h0.9v0.9h-0.9zM45.6 253.0h0.9v0.9h-0.9zM34.5 272.5h0.9v0.9h-0.9zM40.7 263.6h0.9v0.9h-0.9zM40.4 251.2h0.9v0.9h-0.9zM66.3 252.6h0.9v0.9h-0.9zM38.9 258.5h0.9v0.9h-0.9zM39.9 260.8h0.9v0.9h-0.9zM35.4 259.3h0.9v0.9h-0.9zM36.1 256.3h0.9v0.9h-0.9zM40.2 244.7h0.9v0.9h-0.9zM40.3 261.2h0.9v0.9h-0.9zM35.6 265.9h0.9v0.9h-0.9zM41.0 253.8h0.9v0.9h-0.9zM36.2 261.8h0.9v0.9h-0.9zM37.1 244.6h0.9v0.9h-0.9zM37.1 259.4h0.9v0.9h-0.9zM41.4 253.1h0.9v0.9h-0.9zM38.2 256.7h0.9v0.9h-0.9zM38.3 256.1h0.9v0.9h-0.9zM40.6 259.5h0.9v0.9h-0.9zM41.3 246.8h0.9v0.9h-0.9zM41.1 252.1h0.9v0.9h-0.9zM36.5 258.3h0.9v0.9h-0.9zM39.8 263.8h0.9v0.9h-0.9zM36.3 259.2h0.9v0.9h-0.9zM41.1 249.6h0.9v0.9h-0.9zM42.6 256.2h0.9v0.9h-0.9zM34.4 253.7h0.9v0.9h-0.9zM40.4 256.0h0.9v0.9h-0.9zM40.3 260.5h0.9v0.9h-0.9zM38.1 247.9h0.9v0.9h-0.9zM39.4 249.7h0.9v0.9h-0.9zM39.9 260.2h0.9v0.9h-0.9zM38.5 260.1h0.9v0.9h-0.9zM39.4 253.6h0.9v0.9h-0.9zM34.8 244.9h0.9v0.9h-0.9zM38.4 268.8h0.9v0.9h-0.9zM37.3 253.2h0.9v0.9h-0.9zM36.4 257.6h0.9v0.9h-0.9zM38.3 257.5h0.9v0.9h-0.9zM38.8 243.8h0.9v0.9h-0.9zM33.6 259.8h0.9v0.9h-0.9zM39.3 252.4h0.9v0.9h-0.9zM38.8 261.5h0.9v0.9h-0.9zM34.9 257.3h0.9v0.9h-0.9zM37.8 254.5h0.9v0.9h-0.9zM37.5 242.5h0.9v0.9h-0.9zM39.1 259.5h0.9v0.9h-0.9zM36.9 257.1h0.9v0.9h-0.9zM37.4 254.9h0.9v0.9h-0.9zM39.7 254.4h0.9v0.9h-0.9zM44.1 260.3h0.9v0.9h-0.9zM35.6 260.0h0.9v0.9h-0.9zM40.6 243.1h0.9v0.9h-0.9zM40.2 252.8h0.9v0.9h-0.9zM38.0 254.6h0.9v0.9h-0.9zM35.0 254.7h0.9v0.9h-0.9zM38.4 255.7h0.9v0.9h-0.9zM35.7 256.0h0.9v0.9h-0.9zM38.5 250.5h0.9v0.9h-0.9zM40.8 258.3h0.9v0.9h-0.9zM40.7 255.5h0.9v0.9h-0.9zM39.2 265.6h0.9v0.9h-0.9zM39.6 256.0h0.9v0.9h-0.9zM37.9 261.8h0.9v0.9h-0.9zM38.9 253.2h0.9v0.9h-0.9zM37.3 261.4h0.9v0.9h-0.9zM36.7 257.0h0.9v0.9h-0.9zM39.4 245.2h0.9v0.9h-0.9zM40.9 255.4h0.9v0.9h-0.9zM37.1 262.4h0.9v0.9h-0.9zM38.4 257.6h0.9v0.9h-0.9zM40.2 262.0h0.9v0.9h-0.9zM39.1 260.5h0.9v0.9h-0.9zM36.2 252.9h0.9v0.9h-0.9zM40.7 256.1h0.9v0.9h-0.9zM37.0 264.7h0.9v0.9h-0.9zM41.5 260.0h0.9v0.9h-0.9zM38.5 265.9h0.9v0.9h-0.9zM37.9 251.4h0.9v0.9h-0.9zM38.9 254.9h0.9v0.9h-0.9zM39.4 252.6h0.9v0.9h-0.9zM42.3 256.8h0.9v0.9h-0.9zM40.1 262.3h0.9v0.9h-0.9zM45.0 254.7h0.9v0.9h-0.9zM37.9 260.2h0.9v0.9h-0.9zM40.1 259.5h0.9v0.9h-0.9zM39.6 265.1h0.9v0.9h-0.9zM41.4 263.1h0.9v0.9h-0.9zM33.6 254.9h0.9v0.9h-0.9zM36.7 253.5h0.9v0.9h-0.9zM37.6 269.3h0.9v0.9h-0.9zM39.5 250.0h0.9v0.9h-0.9zM39.2 262.5h0.9v0.9h-0.9zM42.0 257.0h0.9v0.9h-0.9zM38.1 251.4h0.9v0.9h-0.9zM38.4 255.8h0.9v0.9h-0.9zM35.6 251.5h0.9v0.9h-0.9zM43.0 263.7h0.9v0.9h-0.9zM35.3 266.0h0.9v0.9h-0.9zM40.7 247.9h0.9v0.9h-0.9zM38.4 259.2h0.9v0.9h-0.9zM33.1 253.4h0.9v0.9h-0.9zM37.5 263.2h0.9v0.9h-0.9zM37.3 258.8h0.9v0.9h-0.9zM39.6 249.7h0.9v0.9h-0.9zM35.4 260.9h0.9v0.9h-0.9zM40.0 262.5h0.9v0.9h-0.9zM38.4 252.3h0.9v0.9h-0.9zM34.4 269.0h0.9v0.9h-0.9zM34.4 257.4h0.9v0.9h-0.9zM38.8 246.4h0.9v0.9h-0.9zM38.2 260.1h0.9v0.9h-0.9zM39.6 252.6h0.9v0.9h-0.9zM37.0 255.4h0.9v0.9h-0.9zM39.0 256.9h0.9v0.9h-0.9zM30.6 249.4h0.9v0.9h-0.9zM37.0 254.6h0.9v0.9h-0.9zM39.5 251.1h0.9v0.9h-0.9zM34.3 256.7h0.9v0.9h-0.9zM39.4 261.2h0.9v0.9h-0.9zM41.2 260.8h0.9v0.9h-0.9zM38.7 263.8h0.9v0.9h-0.9zM40.1 245.4h0.9v0.9h-0.9zM43.4 258.7h0.9v0.9h-0.9zM38.3 254.0h0.9v0.9h-0.9zM37.6 250.1h0.9v0.9h-0.9zM39.7 253.8h0.9v0.9h-0.9zM39.4 247.9h0.9v0.9h-0.9zM40.7 261.3h0.9v0.9h-0.9zM40.9 260.5h0.9v0.9h-0.9zM40.3 257.8h0.9v0.9h-0.9zM39.7 263.2h0.9v0.9h-0.9zM39.0 249.2h0.9v0.9h-0.9zM39.0 258.4h0.9v0.9h-0.9zM43.2 259.2h0.9v0.9h-0.9zM35.9 253.8h0.9v0.9h-0.9zM38.3 269.9h0.9v0.9h-0.9zM40.4 255.2h0.9v0.9h-0.9zM36.9 263.4h0.9v0.9h-0.9zM38.8 259.6h0.9v0.9h-0.9zM37.4 257.5h0.9v0.9h-0.9zM42.3 265.9h0.9v0.9h-0.9zM39.2 253.7h0.9v0.9h-0.9zM38.0 248.4h0.9v0.9h-0.9zM39.7 250.2h0.9v0.9h-0.9zM39.2 255.1h0.9v0.9h-0.9zM39.9 263.8h0.9v0.9h-0.9zM39.5 260.5h0.9v0.9h-0.9zM38.5 247.2h0.9v0.9h-0.9zM39.0 264.1h0.9v0.9h-0.9zM40.9 257.2h0.9v0.9h-0.9zM42.1 249.9h0.9v0.9h-0.9zM41.2 259.0h0.9v0.9h-0.9zM39.1 259.8h0.9v0.9h-0.9zM42.6 251.6h0.9v0.9h-0.9zM41.3 259.6h0.9v0.9h-0.9zM38.4 256.8h0.9v0.9h-0.9zM36.4 256.5h0.9v0.9h-0.9zM40.3 261.1h0.9v0.9h-0.9zM38.1 264.8h0.9v0.9h-0.9zM37.6 257.5h0.9v0.9h-0.9zM41.4 252.9h0.9v0.9h-0.9zM38.9 262.2h0.9v0.9h-0.9zM41.5 262.3h0.9v0.9h-0.9zM35.3 266.0h0.9v0.9h-0.9zM37.2 263.0h0.9v0.9h-0.9zM37.9 259.3h0.9v0.9h-0.9zM35.6 268.6h0.9v0.9h-0.9zM38.1 267.9h0.9v0.9h-0.9zM40.1 261.5h0.9v0.9h-0.9zM35.0 253.2h0.9v0.9h-0.9zM40.6 258.6h0.9v0.9h-0.9zM38.8 267.5h0.9v0.9h-0.9zM39.1 254.7h0.9v0.9h-0.9zM38.1 252.0h0.9v0.9h-0.9zM39.2 259.7h0.9v0.9h-0.9zM38.0 256.1h0.9v0.9h-0.9zM38.4 258.6h0.9v0.9h-0.9zM40.4 256.7h0.9v0.9h-0.9zM37.3 252.6h0.9v0.9h-0.9zM37.9 254.3h0.9v0.9h-0.9zM39.3 253.2h0.9v0.9h-0.9zM37.8 266.4h0.9v0.9h-0.9zM37.3 248.9h0.9v0.9h-0.9zM37.2 256.0h0.9v0.9h-0.9zM38.5 260.8h0.9v0.9h-0.9zM39.8 259.7h0.9v0.9h-0.9zM35.9 265.6h0.9v0.9h-0.9zM37.2 255.0h0.9v0.9h-0.9zM38.5 260.0h0.9v0.9h-0.9zM38.6 249.2h0.9v0.9h-0.9zM41.0 250.9h0.9v0.9h-0.9zM36.2 256.7h0.9v0.9h-0.9zM38.6 257.4h0.9v0.9h-0.9zM36.9 253.4h0.9v0.9h-0.9zM36.9 254.8h0.9v0.9h-0.9zM39.5 261.5h0.9v0.9h-0.9zM40.8 262.4h0.9v0.9h-0.9zM33.6 253.0h0.9v0.9h-0.9zM36.3 259.1h0.9v0.9h-0.9zM36.0 259.0h0.9v0.9h-0.9zM41.5 253.5h0.9v0.9h-0.9zM38.4 263.1h0.9v0.9h-0.9zM36.7 254.4h0.9v0.9h-0.9zM40.5 255.1h0.9v0.9h-0.9zM40.6 250.1h0.9v0.9h-0.9zM39.6 259.4h0.9v0.9h-0.9zM35.4 253.8h0.9v0.9h-0.9zM37.3 260.3h0.9v0.9h-0.9zM37.3 257.5h0.9v0.9h-0.9zM35.8 267.6h0.9v0.9h-0.9zM40.6 259.4h0.9v0.9h-0.9zM37.7 258.1h0.9v0.9h-0.9zM35.1 257.2h0.9v0.9h-0.9zM33.5 252.4h0.9v0.9h-0.9zM38.7 267.7h0.9v0.9h-0.9zM40.7 262.9h0.9v0.9h-0.9zM42.7 257.8h0.9v0.9h-0.9zM40.3 255.1h0.9v0.9h-0.9zM39.8 257.8h0.9v0.9h-0.9zM33.4 256.2h0.9v0.9h-0.9zM42.3 251.0h0.9v0.9h-0.9zM39.9 266.0h0.9v0.9h-0.9zM38.1 258.9h0.9v0.9h-0.9zM37.4 251.8h0.9v0.9h-0.9zM40.7 256.6h0.9v0.9h-0.9zM37.5 262.3h0.9v0.9h-0.9zM40.2 261.8h0.9v0.9h-0.9zM43.5 255.5h0.9v0.9h-0.9zM38.9 253.6h0.9v0.9h-0.9zM37.7 262.1h0.9v0.9h-0.9zM39.9 258.4h0.9v0.9h-0.9zM40.6 253.4h0.9v0.9h-0.9zM37.4 258.9h0.9v0.9h-0.9zM37.9 240.0h0.9v0.9h-0.9zM39.3 262.5h0.9v0.9h-0.9zM37.4 246.7h0.9v0.9h-0.9zM41.5 258.6h0.9v0.9h-0.9zM39.0 258.7h0.9v0.9h-0.9zM38.9 252.8h0.9v0.9h-0.9zM37.8 260.0h0.9v0.9h-0.9zM37.1 254.9h0.9v0.9h-0.9zM39.8 256.3h0.9v0.9h-0.9zM38.5 253.4h0.9v0.9h-0.9zM41.1 253.5h0.9v0.9h-0.9zM35.1 248.6h0.9v0.9h-0.9zM38.7 256.0h0.9v0.9h-0.9zM38.9 258.8h0.9v0.9h-0.9zM40.2 266.4h0.9v0.9h-0.9zM38.1 254.1h0.9v0.9h-0.9zM36.4 264.3h0.9v0.9h-0.9zM32.6 256.4h0.9v0.9h-0.9zM42.3 248.0h0.9v0.9h-0.9zM36.9 257.8h0.9v0.9h-0.9zM40.2 262.7h0.9v0.9h-0.9zM37.5 259.3h0.9v0.9h-0.9zM39.4 255.9h0.9v0.9h-0.9zM39.2 254.4h0.9v0.9h-0.9zM38.4 258.1h0.9v0.9h-0.9zM40.3 254.1h0.9v0.9h-0.9zM38.6 258.2h0.9v0.9h-0.9zM37.5 258.6h0.9v0.9h-0.9zM37.8 260.3h0.9v0.9h-0.9zM38.3 259.5h0.9v0.9h-0.9zM37.5 255.7h0.9v0.9h-0.9zM35.5 247.0h0.9v0.9h-0.9zM42.0 266.3h0.9v0.9h-0.9zM37.7 261.5h0.9v0.9h-0.9zM33.4 259.8h0.9v0.9h-0.9zM38.0 250.4h0.9v0.9h-0.9zM40.3 263.3h0.9v0.9h-0.9zM37.8 258.5h0.9v0.9h-0.9zM38.6 249.4h0.9v0.9h-0.9zM36.3 245.5h0.9v0.9h-0.9zM36.7 254.3h0.9v0.9h-0.9zM36.9 251.6h0.9v0.9h-0.9zM38.7 257.8h0.9v0.9h-0.9zM38.4 255.8h0.9v0.9h-0.9zM37.7 252.4h0.9v0.9h-0.9zM42.3 256.3h0.9v0.9h-0.9zM39.3 262.7h0.9v0.9h-0.9zM35.6 255.2h0.9v0.9h-0.9zM40.2 255.2h0.9v0.9h-0.9zM40.1 261.9h0.9v0.9h-0.9zM38.7 264.4h0.9v0.9h-0.9zM41.2 256.7h0.9v0.9h-0.9zM41.0 263.3h0.9v0.9h-0.9zM38.2 249.7h0.9v0.9h-0.9zM39.1 261.4h0.9v0.9h-0.9zM36.1 249.4h0.9v0.9h-0.9zM39.5 261.6h0.9v0.9h-0.9zM38.7 257.4h0.9v0.9h-0.9z" fill="#000" opacity="0.3" filter="url(#sblur)"/>
<g filter="url(#dblur)" fill="#0a0a0a">
<polygon points="30.3,271.3 32.2,267.4 36.1,265.0 40.9,264.5 44.3,266.5 44.8,271.3 42.8,277.1 39.9,280.9 36.1,281.9 32.2,280.0 29.8,276.1" opacity="1" stroke="#0a0a0a" stroke-width="1" stroke-linejoin="round"/>
<polygon points="33.5,243.0 38.0,241.2 44.0,242.0 44.5,246.0 39.0,247.0 33.5,245.8" opacity="0.7" stroke="#0a0a0a" stroke-width="1" stroke-linejoin="round"/>
<polygon points="52.5,244.0 57.0,242.2 60.5,244.5 60.0,248.2 55.0,248.8 52.5,246.8" opacity="0.85" stroke="#0a0a0a" stroke-width="1" stroke-linejoin="round"/>
</g>
<ellipse cx="36.1" cy="244.8" rx="10.6" ry="6.8" transform="rotate(0 36.1 244.8)" fill="none" stroke="#3a3a3a" stroke-width="0.7"/>
<ellipse cx="56.3" cy="245.7" rx="8.2" ry="7.5" transform="rotate(0 56.3 245.7)" fill="none" stroke="#3a3a3a" stroke-width="0.7"/>
<ellipse cx="60.2" cy="270.8" rx="6.7" ry="12.5" transform="rotate(0 60.2 270.8)" fill="none" stroke="#3a3a3a" stroke-width="0.7"/>
<line x1="15.1" y1="497.2" x2="15.1" y2="443.3" stroke="#1e1e1e" stroke-width="1.3"/>
<path d="M12.8,444.5 L15.1,440.3 L17.4,444.5 Z" fill="#1e1e1e"/>
<line x1="15.1" y1="497.2" x2="70.7" y2="497.2" stroke="#1e1e1e" stroke-width="1.3"/>
<path d="M69.5,494.9 L73.7,497.2 L69.5,499.5 Z" fill="#1e1e1e"/>
<line x1="19.5" y1="446" x2="19.5" y2="493.5" stroke="#999" stroke-width="0.8" stroke-dasharray="0.8 1.6"/>
<line x1="20" y1="493.5" x2="72" y2="493.5" stroke="#999" stroke-width="0.8" stroke-dasharray="0.8 1.6"/>
<path d="M30.9 477.5h0.9v0.9h-0.9zM47.4 469.1h0.9v0.9h-0.9zM26.4 486.5h0.9v0.9h-0.9zM38.8 481.9h0.9v0.9h-0.9zM31.3 483.2h0.9v0.9h-0.9zM36.0 480.7h0.9v0.9h-0.9zM28.7 476.9h0.9v0.9h-0.9zM55.8 481.8h0.9v0.9h-0.9zM53.9 482.9h0.9v0.9h-0.9zM35.3 485.6h0.9v0.9h-0.9zM28.4 482.5h0.9v0.9h-0.9zM40.6 474.0h0.9v0.9h-0.9zM31.7 473.1h0.9v0.9h-0.9zM40.5 479.2h0.9v0.9h-0.9zM39.3 487.7h0.9v0.9h-0.9zM29.9 477.3h0.9v0.9h-0.9zM20.6 489.4h0.9v0.9h-0.9zM36.6 475.7h0.9v0.9h-0.9zM36.2 485.3h0.9v0.9h-0.9zM39.1 472.9h0.9v0.9h-0.9zM39.0 482.9h0.9v0.9h-0.9zM42.0 486.6h0.9v0.9h-0.9zM23.2 475.9h0.9v0.9h-0.9zM24.2 481.8h0.9v0.9h-0.9zM32.4 483.6h0.9v0.9h-0.9zM47.2 470.9h0.9v0.9h-0.9zM36.1 492.5h0.9v0.9h-0.9zM34.2 478.7h0.9v0.9h-0.9zM37.2 473.5h0.9v0.9h-0.9zM36.6 490.7h0.9v0.9h-0.9zM40.1 474.9h0.9v0.9h-0.9zM38.6 479.9h0.9v0.9h-0.9zM35.9 476.7h0.9v0.9h-0.9zM49.1 475.9h0.9v0.9h-0.9zM30.7 493.6h0.9v0.9h-0.9zM34.1 483.5h0.9v0.9h-0.9zM44.0 485.4h0.9v0.9h-0.9zM42.1 484.6h0.9v0.9h-0.9zM30.1 481.1h0.9v0.9h-0.9zM29.2 477.8h0.9v0.9h-0.9zM37.4 477.1h0.9v0.9h-0.9zM19.8 477.0h0.9v0.9h-0.9zM36.6 476.0h0.9v0.9h-0.9zM33.5 475.9h0.9v0.9h-0.9zM37.9 479.8h0.9v0.9h-0.9zM40.5 485.9h0.9v0.9h-0.9zM26.5 480.4h0.9v0.9h-0.9zM32.7 481.7h0.9v0.9h-0.9zM35.7 469.8h0.9v0.9h-0.9zM31.9 484.6h0.9v0.9h-0.9zM35.0 482.7h0.9v0.9h-0.9zM33.6 479.2h0.9v0.9h-0.9zM41.8 490.8h0.9v0.9h-0.9zM33.8 477.5h0.9v0.9h-0.9zM40.7 475.9h0.9v0.9h-0.9zM28.4 464.8h0.9v0.9h-0.9zM25.4 481.7h0.9v0.9h-0.9zM34.7 473.6h0.9v0.9h-0.9zM42.9 480.8h0.9v0.9h-0.9zM24.7 478.7h0.9v0.9h-0.9zM36.8 489.6h0.9v0.9h-0.9zM43.3 474.0h0.9v0.9h-0.9zM29.7 477.8h0.9v0.9h-0.9zM29.6 483.8h0.9v0.9h-0.9zM24.1 482.7h0.9v0.9h-0.9zM38.4 483.2h0.9v0.9h-0.9zM49.6 478.1h0.9v0.9h-0.9zM31.4 493.1h0.9v0.9h-0.9zM41.5 468.9h0.9v0.9h-0.9zM31.4 481.0h0.9v0.9h-0.9zM29.9 473.8h0.9v0.9h-0.9zM23.0 484.6h0.9v0.9h-0.9zM29.8 488.1h0.9v0.9h-0.9zM44.6 475.9h0.9v0.9h-0.9zM36.7 475.9h0.9v0.9h-0.9zM26.7 483.7h0.9v0.9h-0.9zM41.1 477.3h0.9v0.9h-0.9zM33.8 485.6h0.9v0.9h-0.9zM34.2 488.5h0.9v0.9h-0.9zM28.8 483.4h0.9v0.9h-0.9zM36.9 469.0h0.9v0.9h-0.9zM36.1 479.9h0.9v0.9h-0.9zM38.9 472.7h0.9v0.9h-0.9zM22.5 492.9h0.9v0.9h-0.9zM37.3 480.8h0.9v0.9h-0.9zM35.0 480.1h0.9v0.9h-0.9zM30.0 481.6h0.9v0.9h-0.9zM42.0 486.9h0.9v0.9h-0.9zM36.6 483.9h0.9v0.9h-0.9zM26.6 482.1h0.9v0.9h-0.9zM34.0 478.4h0.9v0.9h-0.9zM28.4 466.3h0.9v0.9h-0.9zM40.6 474.0h0.9v0.9h-0.9zM37.7 472.9h0.9v0.9h-0.9zM30.1 483.3h0.9v0.9h-0.9zM40.5 468.0h0.9v0.9h-0.9zM35.4 481.8h0.9v0.9h-0.9zM29.8 486.3h0.9v0.9h-0.9zM36.0 476.7h0.9v0.9h-0.9zM37.0 466.9h0.9v0.9h-0.9zM25.9 488.0h0.9v0.9h-0.9zM39.0 494.2h0.9v0.9h-0.9zM43.4 473.3h0.9v0.9h-0.9zM42.6 489.6h0.9v0.9h-0.9zM26.3 465.6h0.9v0.9h-0.9zM37.6 465.1h0.9v0.9h-0.9zM40.1 483.8h0.9v0.9h-0.9zM29.4 489.2h0.9v0.9h-0.9zM30.4 485.2h0.9v0.9h-0.9zM20.6 473.2h0.9v0.9h-0.9zM24.0 469.6h0.9v0.9h-0.9zM31.5 483.6h0.9v0.9h-0.9zM25.1 474.4h0.9v0.9h-0.9zM37.2 473.5h0.9v0.9h-0.9zM19.8 477.8h0.9v0.9h-0.9zM33.6 485.4h0.9v0.9h-0.9zM35.3 490.2h0.9v0.9h-0.9zM39.0 466.1h0.9v0.9h-0.9zM34.9 488.1h0.9v0.9h-0.9zM34.1 491.9h0.9v0.9h-0.9zM36.7 478.9h0.9v0.9h-0.9zM28.4 469.5h0.9v0.9h-0.9zM37.4 491.7h0.9v0.9h-0.9zM35.7 478.0h0.9v0.9h-0.9zM32.1 478.6h0.9v0.9h-0.9zM34.9 475.1h0.9v0.9h-0.9zM34.5 483.6h0.9v0.9h-0.9zM47.5 486.4h0.9v0.9h-0.9zM34.2 478.1h0.9v0.9h-0.9zM27.7 480.5h0.9v0.9h-0.9zM27.1 489.7h0.9v0.9h-0.9zM26.2 484.6h0.9v0.9h-0.9zM46.7 474.3h0.9v0.9h-0.9zM23.4 489.5h0.9v0.9h-0.9zM35.9 472.8h0.9v0.9h-0.9zM43.9 477.7h0.9v0.9h-0.9zM39.4 490.7h0.9v0.9h-0.9zM45.4 484.7h0.9v0.9h-0.9zM33.9 469.2h0.9v0.9h-0.9zM26.8 483.4h0.9v0.9h-0.9zM44.2 471.5h0.9v0.9h-0.9zM33.6 480.6h0.9v0.9h-0.9zM32.6 461.9h0.9v0.9h-0.9zM26.6 484.2h0.9v0.9h-0.9zM37.4 484.6h0.9v0.9h-0.9zM40.4 472.6h0.9v0.9h-0.9zM23.9 470.9h0.9v0.9h-0.9zM47.2 472.6h0.9v0.9h-0.9zM34.0 474.1h0.9v0.9h-0.9zM42.1 472.0h0.9v0.9h-0.9zM33.0 468.6h0.9v0.9h-0.9zM36.7 482.1h0.9v0.9h-0.9zM32.4 477.9h0.9v0.9h-0.9zM33.5 475.6h0.9v0.9h-0.9zM47.6 492.2h0.9v0.9h-0.9zM39.2 483.1h0.9v0.9h-0.9zM23.8 486.3h0.9v0.9h-0.9zM36.8 483.9h0.9v0.9h-0.9zM34.3 491.5h0.9v0.9h-0.9zM50.0 477.5h0.9v0.9h-0.9zM37.4 481.7h0.9v0.9h-0.9zM32.8 479.4h0.9v0.9h-0.9zM28.4 484.6h0.9v0.9h-0.9zM21.9 479.1h0.9v0.9h-0.9zM35.3 480.1h0.9v0.9h-0.9zM29.4 469.7h0.9v0.9h-0.9zM24.7 469.2h0.9v0.9h-0.9zM30.2 485.0h0.9v0.9h-0.9zM22.4 470.5h0.9v0.9h-0.9zM35.6 490.4h0.9v0.9h-0.9zM32.7 464.2h0.9v0.9h-0.9zM30.8 487.4h0.9v0.9h-0.9zM31.9 475.9h0.9v0.9h-0.9zM37.0 482.2h0.9v0.9h-0.9zM22.4 488.4h0.9v0.9h-0.9zM38.8 475.2h0.9v0.9h-0.9zM41.5 491.6h0.9v0.9h-0.9zM35.8 475.3h0.9v0.9h-0.9zM35.5 484.9h0.9v0.9h-0.9zM38.6 476.9h0.9v0.9h-0.9zM26.0 471.0h0.9v0.9h-0.9zM34.6 488.0h0.9v0.9h-0.9zM31.4 489.1h0.9v0.9h-0.9zM37.0 477.6h0.9v0.9h-0.9zM36.8 477.4h0.9v0.9h-0.9zM28.6 477.8h0.9v0.9h-0.9zM33.3 486.1h0.9v0.9h-0.9zM35.3 461.2h0.9v0.9h-0.9zM35.5 486.1h0.9v0.9h-0.9zM31.3 479.8h0.9v0.9h-0.9zM27.6 468.3h0.9v0.9h-0.9zM40.2 484.2h0.9v0.9h-0.9zM39.2 477.8h0.9v0.9h-0.9zM40.5 483.9h0.9v0.9h-0.9zM24.0 475.6h0.9v0.9h-0.9zM31.7 481.2h0.9v0.9h-0.9zM29.2 471.8h0.9v0.9h-0.9zM26.8 479.3h0.9v0.9h-0.9zM38.2 487.5h0.9v0.9h-0.9zM41.6 494.1h0.9v0.9h-0.9zM35.2 474.7h0.9v0.9h-0.9zM32.9 474.3h0.9v0.9h-0.9zM31.0 474.5h0.9v0.9h-0.9zM35.3 469.8h0.9v0.9h-0.9zM31.6 481.2h0.9v0.9h-0.9zM32.0 478.0h0.9v0.9h-0.9zM39.3 478.2h0.9v0.9h-0.9zM29.3 480.0h0.9v0.9h-0.9zM30.3 479.7h0.9v0.9h-0.9zM37.1 484.8h0.9v0.9h-0.9zM37.0 469.0h0.9v0.9h-0.9zM35.5 491.0h0.9v0.9h-0.9zM29.8 483.9h0.9v0.9h-0.9zM37.2 490.4h0.9v0.9h-0.9zM38.9 484.0h0.9v0.9h-0.9zM40.8 474.8h0.9v0.9h-0.9zM39.6 479.4h0.9v0.9h-0.9zM30.1 467.6h0.9v0.9h-0.9zM25.9 480.6h0.9v0.9h-0.9zM22.2 475.1h0.9v0.9h-0.9zM29.2 479.6h0.9v0.9h-0.9zM25.5 481.1h0.9v0.9h-0.9zM27.7 481.2h0.9v0.9h-0.9zM40.6 473.2h0.9v0.9h-0.9zM36.7 482.7h0.9v0.9h-0.9zM45.9 459.8h0.9v0.9h-0.9zM39.4 476.6h0.9v0.9h-0.9zM39.0 481.6h0.9v0.9h-0.9zM36.1 478.1h0.9v0.9h-0.9zM29.2 481.2h0.9v0.9h-0.9zM31.6 485.6h0.9v0.9h-0.9zM24.8 484.9h0.9v0.9h-0.9zM33.1 468.2h0.9v0.9h-0.9zM32.4 485.0h0.9v0.9h-0.9zM28.9 474.8h0.9v0.9h-0.9zM32.9 475.9h0.9v0.9h-0.9zM38.3 474.0h0.9v0.9h-0.9zM39.2 476.7h0.9v0.9h-0.9zM50.8 474.7h0.9v0.9h-0.9zM41.5 475.7h0.9v0.9h-0.9zM35.5 478.8h0.9v0.9h-0.9zM33.1 472.9h0.9v0.9h-0.9zM35.2 489.2h0.9v0.9h-0.9zM28.5 467.9h0.9v0.9h-0.9zM46.9 474.6h0.9v0.9h-0.9zM26.5 482.3h0.9v0.9h-0.9zM33.1 493.5h0.9v0.9h-0.9zM32.5 493.3h0.9v0.9h-0.9zM37.2 483.3h0.9v0.9h-0.9zM24.0 483.9h0.9v0.9h-0.9zM46.5 487.7h0.9v0.9h-0.9zM40.4 484.4h0.9v0.9h-0.9zM27.0 481.6h0.9v0.9h-0.9zM22.0 485.8h0.9v0.9h-0.9zM28.7 477.7h0.9v0.9h-0.9zM24.7 493.6h0.9v0.9h-0.9zM33.2 485.3h0.9v0.9h-0.9zM31.5 481.5h0.9v0.9h-0.9zM31.1 473.4h0.9v0.9h-0.9zM28.2 490.2h0.9v0.9h-0.9zM30.8 480.6h0.9v0.9h-0.9zM46.6 487.0h0.9v0.9h-0.9zM40.8 480.9h0.9v0.9h-0.9zM36.6 489.6h0.9v0.9h-0.9zM30.3 490.0h0.9v0.9h-0.9zM45.1 465.2h0.9v0.9h-0.9zM47.0 490.4h0.9v0.9h-0.9zM40.0 484.1h0.9v0.9h-0.9zM43.2 476.4h0.9v0.9h-0.9zM23.2 477.5h0.9v0.9h-0.9zM39.2 476.1h0.9v0.9h-0.9zM43.0 472.5h0.9v0.9h-0.9zM30.2 487.9h0.9v0.9h-0.9zM25.9 476.1h0.9v0.9h-0.9zM45.4 469.7h0.9v0.9h-0.9zM33.8 469.1h0.9v0.9h-0.9zM36.2 469.2h0.9v0.9h-0.9zM30.6 476.1h0.9v0.9h-0.9zM26.1 480.7h0.9v0.9h-0.9zM40.4 481.0h0.9v0.9h-0.9zM26.7 494.2h0.9v0.9h-0.9zM43.7 479.5h0.9v0.9h-0.9zM35.1 477.1h0.9v0.9h-0.9zM32.2 478.9h0.9v0.9h-0.9zM35.6 466.4h0.9v0.9h-0.9zM23.2 480.5h0.9v0.9h-0.9zM29.1 483.2h0.9v0.9h-0.9zM23.2 488.2h0.9v0.9h-0.9zM36.5 475.9h0.9v0.9h-0.9zM31.5 485.8h0.9v0.9h-0.9zM30.9 481.1h0.9v0.9h-0.9zM40.7 482.9h0.9v0.9h-0.9zM39.2 474.8h0.9v0.9h-0.9zM36.8 481.5h0.9v0.9h-0.9zM36.9 480.1h0.9v0.9h-0.9zM27.8 489.7h0.9v0.9h-0.9zM26.1 475.6h0.9v0.9h-0.9zM43.1 471.4h0.9v0.9h-0.9zM27.6 477.4h0.9v0.9h-0.9zM39.1 490.0h0.9v0.9h-0.9zM37.5 476.1h0.9v0.9h-0.9zM42.2 489.6h0.9v0.9h-0.9zM44.7 489.3h0.9v0.9h-0.9zM29.5 484.0h0.9v0.9h-0.9zM35.4 466.5h0.9v0.9h-0.9zM28.6 484.1h0.9v0.9h-0.9zM32.3 487.2h0.9v0.9h-0.9zM30.3 477.8h0.9v0.9h-0.9zM38.6 479.4h0.9v0.9h-0.9zM36.9 474.0h0.9v0.9h-0.9zM34.2 491.9h0.9v0.9h-0.9zM27.4 469.4h0.9v0.9h-0.9zM36.8 467.6h0.9v0.9h-0.9zM29.5 481.2h0.9v0.9h-0.9zM28.0 478.9h0.9v0.9h-0.9zM23.7 485.7h0.9v0.9h-0.9zM38.3 468.2h0.9v0.9h-0.9zM41.7 478.1h0.9v0.9h-0.9zM40.3 466.1h0.9v0.9h-0.9zM23.6 487.4h0.9v0.9h-0.9zM39.7 487.8h0.9v0.9h-0.9zM27.5 482.7h0.9v0.9h-0.9zM47.9 481.2h0.9v0.9h-0.9zM38.7 478.7h0.9v0.9h-0.9zM31.2 485.1h0.9v0.9h-0.9zM26.1 487.8h0.9v0.9h-0.9zM41.3 481.0h0.9v0.9h-0.9zM34.8 468.9h0.9v0.9h-0.9zM35.7 486.5h0.9v0.9h-0.9zM33.9 476.4h0.9v0.9h-0.9zM31.7 477.8h0.9v0.9h-0.9zM53.4 486.9h0.9v0.9h-0.9zM24.0 487.9h0.9v0.9h-0.9zM35.2 467.9h0.9v0.9h-0.9zM51.3 475.8h0.9v0.9h-0.9zM31.3 482.7h0.9v0.9h-0.9zM44.0 480.9h0.9v0.9h-0.9zM45.3 479.5h0.9v0.9h-0.9zM32.0 475.9h0.9v0.9h-0.9zM29.7 477.4h0.9v0.9h-0.9zM46.5 480.0h0.9v0.9h-0.9zM36.3 483.3h0.9v0.9h-0.9zM33.9 478.2h0.9v0.9h-0.9zM37.0 480.9h0.9v0.9h-0.9zM32.1 477.3h0.9v0.9h-0.9zM43.6 474.5h0.9v0.9h-0.9zM29.0 472.1h0.9v0.9h-0.9zM37.4 483.3h0.9v0.9h-0.9zM31.7 486.1h0.9v0.9h-0.9zM46.6 473.6h0.9v0.9h-0.9zM36.1 475.6h0.9v0.9h-0.9zM32.6 482.9h0.9v0.9h-0.9zM28.2 464.1h0.9v0.9h-0.9zM41.4 479.2h0.9v0.9h-0.9zM40.9 475.2h0.9v0.9h-0.9zM40.1 482.1h0.9v0.9h-0.9zM42.3 478.9h0.9v0.9h-0.9zM28.6 470.5h0.9v0.9h-0.9zM33.0 485.5h0.9v0.9h-0.9zM26.7 483.8h0.9v0.9h-0.9zM39.6 472.3h0.9v0.9h-0.9zM31.0 481.6h0.9v0.9h-0.9zM37.5 485.4h0.9v0.9h-0.9zM31.7 478.7h0.9v0.9h-0.9zM37.6 488.6h0.9v0.9h-0.9zM32.3 491.2h0.9v0.9h-0.9zM38.8 476.4h0.9v0.9h-0.9zM39.9 483.2h0.9v0.9h-0.9zM37.9 489.8h0.9v0.9h-0.9zM39.7 488.9h0.9v0.9h-0.9zM45.8 484.4h0.9v0.9h-0.9zM27.9 471.1h0.9v0.9h-0.9zM21.4 463.9h0.9v0.9h-0.9zM31.4 477.0h0.9v0.9h-0.9zM31.9 489.4h0.9v0.9h-0.9zM35.7 492.5h0.9v0.9h-0.9zM37.2 476.2h0.9v0.9h-0.9zM37.5 488.2h0.9v0.9h-0.9zM26.0 478.8h0.9v0.9h-0.9zM37.7 477.6h0.9v0.9h-0.9zM45.3 487.0h0.9v0.9h-0.9zM40.5 480.6h0.9v0.9h-0.9zM35.6 466.4h0.9v0.9h-0.9zM30.0 485.8h0.9v0.9h-0.9zM30.9 479.0h0.9v0.9h-0.9zM21.2 473.0h0.9v0.9h-0.9zM34.1 480.2h0.9v0.9h-0.9zM30.0 477.7h0.9v0.9h-0.9zM38.2 489.1h0.9v0.9h-0.9zM36.8 491.2h0.9v0.9h-0.9zM25.8 485.8h0.9v0.9h-0.9zM37.4 480.8h0.9v0.9h-0.9zM34.6 486.8h0.9v0.9h-0.9zM32.4 492.7h0.9v0.9h-0.9zM28.0 480.3h0.9v0.9h-0.9zM34.6 469.7h0.9v0.9h-0.9zM43.3 468.9h0.9v0.9h-0.9zM39.2 481.2h0.9v0.9h-0.9zM38.7 475.5h0.9v0.9h-0.9zM33.2 484.9h0.9v0.9h-0.9zM28.6 481.2h0.9v0.9h-0.9zM36.7 475.0h0.9v0.9h-0.9zM34.1 486.1h0.9v0.9h-0.9zM34.8 470.1h0.9v0.9h-0.9zM30.8 475.3h0.9v0.9h-0.9zM37.6 472.4h0.9v0.9h-0.9zM40.5 473.6h0.9v0.9h-0.9zM38.8 471.4h0.9v0.9h-0.9zM32.6 484.2h0.9v0.9h-0.9zM34.3 467.5h0.9v0.9h-0.9zM32.0 492.0h0.9v0.9h-0.9zM28.5 481.7h0.9v0.9h-0.9zM34.5 487.1h0.9v0.9h-0.9zM32.5 489.6h0.9v0.9h-0.9zM26.7 480.0h0.9v0.9h-0.9zM26.7 477.5h0.9v0.9h-0.9zM24.2 475.4h0.9v0.9h-0.9zM26.2 493.9h0.9v0.9h-0.9zM33.3 483.8h0.9v0.9h-0.9zM36.9 489.7h0.9v0.9h-0.9zM29.4 477.2h0.9v0.9h-0.9zM43.2 478.7h0.9v0.9h-0.9zM36.1 469.8h0.9v0.9h-0.9zM25.6 476.1h0.9v0.9h-0.9zM30.6 479.8h0.9v0.9h-0.9zM44.2 471.6h0.9v0.9h-0.9zM34.3 476.3h0.9v0.9h-0.9zM33.7 481.5h0.9v0.9h-0.9zM28.3 474.5h0.9v0.9h-0.9zM26.5 491.9h0.9v0.9h-0.9zM27.3 473.9h0.9v0.9h-0.9zM23.5 485.8h0.9v0.9h-0.9zM32.6 481.8h0.9v0.9h-0.9zM36.5 477.4h0.9v0.9h-0.9zM37.1 479.7h0.9v0.9h-0.9zM41.7 487.9h0.9v0.9h-0.9zM26.5 475.4h0.9v0.9h-0.9zM37.4 474.2h0.9v0.9h-0.9zM34.7 486.1h0.9v0.9h-0.9zM30.3 481.9h0.9v0.9h-0.9zM30.6 485.1h0.9v0.9h-0.9zM34.1 476.3h0.9v0.9h-0.9zM45.4 470.3h0.9v0.9h-0.9zM37.3 472.8h0.9v0.9h-0.9zM24.6 476.9h0.9v0.9h-0.9zM22.3 476.6h0.9v0.9h-0.9zM49.4 489.2h0.9v0.9h-0.9zM38.5 469.3h0.9v0.9h-0.9zM19.9 473.5h0.9v0.9h-0.9zM25.4 481.8h0.9v0.9h-0.9zM25.9 475.3h0.9v0.9h-0.9zM50.8 475.3h0.9v0.9h-0.9zM38.6 486.0h0.9v0.9h-0.9zM52.5 473.2h0.9v0.9h-0.9zM30.1 477.8h0.9v0.9h-0.9zM37.4 480.7h0.9v0.9h-0.9zM42.8 485.5h0.9v0.9h-0.9zM26.7 482.2h0.9v0.9h-0.9zM44.8 484.9h0.9v0.9h-0.9zM31.7 489.0h0.9v0.9h-0.9zM28.8 483.3h0.9v0.9h-0.9zM42.7 484.9h0.9v0.9h-0.9zM33.3 489.7h0.9v0.9h-0.9zM44.8 486.2h0.9v0.9h-0.9zM50.9 480.0h0.9v0.9h-0.9zM24.2 481.3h0.9v0.9h-0.9zM33.3 487.7h0.9v0.9h-0.9zM48.2 488.8h0.9v0.9h-0.9zM34.2 488.3h0.9v0.9h-0.9zM23.9 478.3h0.9v0.9h-0.9zM31.6 490.7h0.9v0.9h-0.9zM38.5 484.7h0.9v0.9h-0.9zM37.1 476.4h0.9v0.9h-0.9zM27.2 478.4h0.9v0.9h-0.9zM33.0 485.0h0.9v0.9h-0.9zM39.9 480.6h0.9v0.9h-0.9zM36.8 471.5h0.9v0.9h-0.9zM44.6 467.2h0.9v0.9h-0.9zM32.7 477.3h0.9v0.9h-0.9zM28.8 487.2h0.9v0.9h-0.9zM36.1 470.9h0.9v0.9h-0.9zM43.7 480.6h0.9v0.9h-0.9zM35.6 494.1h0.9v0.9h-0.9zM44.1 489.5h0.9v0.9h-0.9zM28.8 485.0h0.9v0.9h-0.9zM39.5 468.8h0.9v0.9h-0.9zM29.0 481.3h0.9v0.9h-0.9zM40.8 478.8h0.9v0.9h-0.9zM36.7 460.2h0.9v0.9h-0.9zM50.5 472.9h0.9v0.9h-0.9zM24.3 488.1h0.9v0.9h-0.9zM28.7 477.6h0.9v0.9h-0.9zM25.1 478.3h0.9v0.9h-0.9zM34.6 484.6h0.9v0.9h-0.9zM40.3 482.7h0.9v0.9h-0.9zM26.1 477.7h0.9v0.9h-0.9zM24.3 467.1h0.9v0.9h-0.9zM30.7 486.0h0.9v0.9h-0.9zM29.4 479.7h0.9v0.9h-0.9zM38.5 479.9h0.9v0.9h-0.9zM29.3 485.8h0.9v0.9h-0.9zM34.8 486.8h0.9v0.9h-0.9zM27.0 479.4h0.9v0.9h-0.9zM38.1 476.0h0.9v0.9h-0.9zM36.5 488.5h0.9v0.9h-0.9zM26.7 484.7h0.9v0.9h-0.9zM33.3 492.0h0.9v0.9h-0.9zM22.8 477.1h0.9v0.9h-0.9zM37.7 490.7h0.9v0.9h-0.9zM35.3 481.8h0.9v0.9h-0.9zM28.8 493.4h0.9v0.9h-0.9zM37.2 488.1h0.9v0.9h-0.9zM38.5 475.5h0.9v0.9h-0.9zM43.9 486.4h0.9v0.9h-0.9zM40.2 473.9h0.9v0.9h-0.9zM41.6 489.5h0.9v0.9h-0.9zM43.5 477.1h0.9v0.9h-0.9zM36.3 473.6h0.9v0.9h-0.9zM33.6 468.8h0.9v0.9h-0.9zM35.0 475.9h0.9v0.9h-0.9zM27.1 482.6h0.9v0.9h-0.9zM26.4 488.2h0.9v0.9h-0.9zM31.6 478.4h0.9v0.9h-0.9zM35.3 484.1h0.9v0.9h-0.9zM33.2 477.4h0.9v0.9h-0.9zM21.0 478.6h0.9v0.9h-0.9zM43.8 484.5h0.9v0.9h-0.9zM36.5 486.0h0.9v0.9h-0.9zM39.0 471.8h0.9v0.9h-0.9zM38.5 481.0h0.9v0.9h-0.9zM35.0 486.0h0.9v0.9h-0.9zM36.6 477.6h0.9v0.9h-0.9zM28.8 470.7h0.9v0.9h-0.9zM46.7 493.4h0.9v0.9h-0.9zM49.0 468.0h0.9v0.9h-0.9zM31.3 479.5h0.9v0.9h-0.9zM28.9 485.0h0.9v0.9h-0.9zM27.7 473.5h0.9v0.9h-0.9zM41.1 472.5h0.9v0.9h-0.9zM28.2 477.7h0.9v0.9h-0.9zM38.8 482.7h0.9v0.9h-0.9zM33.9 477.7h0.9v0.9h-0.9zM33.0 484.2h0.9v0.9h-0.9zM48.8 471.5h0.9v0.9h-0.9zM37.4 469.1h0.9v0.9h-0.9zM48.6 467.1h0.9v0.9h-0.9zM32.8 487.0h0.9v0.9h-0.9zM36.8 481.9h0.9v0.9h-0.9zM33.2 479.0h0.9v0.9h-0.9zM23.3 480.2h0.9v0.9h-0.9zM27.8 492.4h0.9v0.9h-0.9zM34.9 485.6h0.9v0.9h-0.9zM32.6 487.3h0.9v0.9h-0.9zM33.3 474.4h0.9v0.9h-0.9zM33.5 477.3h0.9v0.9h-0.9zM35.1 487.0h0.9v0.9h-0.9zM37.8 475.8h0.9v0.9h-0.9zM36.0 483.3h0.9v0.9h-0.9zM31.1 478.0h0.9v0.9h-0.9zM33.4 477.0h0.9v0.9h-0.9zM25.6 492.2h0.9v0.9h-0.9zM32.7 479.1h0.9v0.9h-0.9zM26.4 469.5h0.9v0.9h-0.9zM25.4 486.8h0.9v0.9h-0.9zM31.3 489.7h0.9v0.9h-0.9zM30.8 477.8h0.9v0.9h-0.9zM29.2 484.7h0.9v0.9h-0.9zM24.1 491.9h0.9v0.9h-0.9zM33.1 483.3h0.9v0.9h-0.9zM43.8 474.5h0.9v0.9h-0.9zM33.2 491.0h0.9v0.9h-0.9zM38.2 481.6h0.9v0.9h-0.9zM27.0 492.0h0.9v0.9h-0.9zM42.3 472.0h0.9v0.9h-0.9zM35.1 484.1h0.9v0.9h-0.9zM36.0 489.2h0.9v0.9h-0.9zM39.2 471.8h0.9v0.9h-0.9zM32.3 471.1h0.9v0.9h-0.9zM32.8 467.7h0.9v0.9h-0.9zM39.9 471.3h0.9v0.9h-0.9zM25.0 481.9h0.9v0.9h-0.9zM37.0 485.2h0.9v0.9h-0.9zM36.9 469.0h0.9v0.9h-0.9zM40.3 486.9h0.9v0.9h-0.9zM42.3 477.9h0.9v0.9h-0.9zM33.0 473.2h0.9v0.9h-0.9zM42.4 475.0h0.9v0.9h-0.9zM34.8 492.7h0.9v0.9h-0.9zM32.8 487.9h0.9v0.9h-0.9zM31.5 481.7h0.9v0.9h-0.9zM26.9 472.2h0.9v0.9h-0.9zM53.1 489.1h0.9v0.9h-0.9zM31.5 476.6h0.9v0.9h-0.9zM38.8 482.5h0.9v0.9h-0.9zM31.9 473.1h0.9v0.9h-0.9zM43.0 472.8h0.9v0.9h-0.9zM43.8 468.6h0.9v0.9h-0.9zM27.3 472.0h0.9v0.9h-0.9zM34.3 486.3h0.9v0.9h-0.9zM21.6 478.3h0.9v0.9h-0.9zM33.1 486.4h0.9v0.9h-0.9zM27.7 480.6h0.9v0.9h-0.9zM40.5 487.3h0.9v0.9h-0.9zM32.4 478.9h0.9v0.9h-0.9zM48.9 473.5h0.9v0.9h-0.9zM30.3 482.8h0.9v0.9h-0.9zM40.7 486.1h0.9v0.9h-0.9zM36.3 484.5h0.9v0.9h-0.9zM26.4 485.7h0.9v0.9h-0.9zM25.9 471.2h0.9v0.9h-0.9zM29.3 481.8h0.9v0.9h-0.9zM23.4 470.1h0.9v0.9h-0.9zM27.6 479.4h0.9v0.9h-0.9zM28.2 467.5h0.9v0.9h-0.9zM41.4 486.1h0.9v0.9h-0.9zM33.4 476.6h0.9v0.9h-0.9zM39.6 480.4h0.9v0.9h-0.9zM26.1 475.0h0.9v0.9h-0.9zM35.2 486.7h0.9v0.9h-0.9zM42.3 484.5h0.9v0.9h-0.9zM47.2 476.2h0.9v0.9h-0.9zM27.1 492.2h0.9v0.9h-0.9zM30.6 490.6h0.9v0.9h-0.9zM45.4 474.9h0.9v0.9h-0.9zM29.9 470.7h0.9v0.9h-0.9zM49.1 491.4h0.9v0.9h-0.9zM33.3 491.3h0.9v0.9h-0.9zM44.0 466.9h0.9v0.9h-0.9zM42.4 472.7h0.9v0.9h-0.9zM41.1 483.5h0.9v0.9h-0.9zM33.0 475.4h0.9v0.9h-0.9zM33.5 490.0h0.9v0.9h-0.9zM36.5 478.3h0.9v0.9h-0.9zM44.3 481.7h0.9v0.9h-0.9zM33.2 468.9h0.9v0.9h-0.9zM29.0 474.6h0.9v0.9h-0.9zM24.9 491.5h0.9v0.9h-0.9zM33.4 493.0h0.9v0.9h-0.9zM38.8 471.2h0.9v0.9h-0.9zM37.5 472.4h0.9v0.9h-0.9zM34.7 476.0h0.9v0.9h-0.9zM33.3 479.4h0.9v0.9h-0.9zM41.7 490.5h0.9v0.9h-0.9zM34.9 483.5h0.9v0.9h-0.9zM22.3 483.9h0.9v0.9h-0.9zM36.0 484.9h0.9v0.9h-0.9zM36.1 481.4h0.9v0.9h-0.9zM36.8 483.4h0.9v0.9h-0.9zM38.5 479.3h0.9v0.9h-0.9zM34.9 481.3h0.9v0.9h-0.9zM21.6 481.4h0.9v0.9h-0.9zM25.4 473.3h0.9v0.9h-0.9zM32.3 493.0h0.9v0.9h-0.9zM29.9 482.5h0.9v0.9h-0.9zM42.1 481.8h0.9v0.9h-0.9zM49.0 476.9h0.9v0.9h-0.9zM37.6 479.2h0.9v0.9h-0.9zM40.3 492.7h0.9v0.9h-0.9zM36.7 480.7h0.9v0.9h-0.9zM38.8 478.1h0.9v0.9h-0.9zM22.9 473.8h0.9v0.9h-0.9zM27.9 477.1h0.9v0.9h-0.9zM45.5 485.4h0.9v0.9h-0.9zM29.8 477.4h0.9v0.9h-0.9zM41.3 483.3h0.9v0.9h-0.9zM36.0 482.0h0.9v0.9h-0.9zM33.8 462.0h0.9v0.9h-0.9zM30.4 482.8h0.9v0.9h-0.9zM28.9 492.6h0.9v0.9h-0.9zM31.8 486.5h0.9v0.9h-0.9zM39.1 478.9h0.9v0.9h-0.9zM29.6 481.3h0.9v0.9h-0.9zM34.4 485.1h0.9v0.9h-0.9zM23.3 474.0h0.9v0.9h-0.9zM46.0 485.0h0.9v0.9h-0.9zM20.8 469.7h0.9v0.9h-0.9zM38.7 478.7h0.9v0.9h-0.9zM37.5 487.8h0.9v0.9h-0.9zM22.4 468.5h0.9v0.9h-0.9zM38.4 471.0h0.9v0.9h-0.9zM36.8 478.4h0.9v0.9h-0.9zM37.6 474.0h0.9v0.9h-0.9zM33.9 481.1h0.9v0.9h-0.9zM33.3 485.0h0.9v0.9h-0.9zM27.2 477.1h0.9v0.9h-0.9zM28.2 480.5h0.9v0.9h-0.9zM41.3 466.4h0.9v0.9h-0.9zM42.6 485.7h0.9v0.9h-0.9zM38.0 482.5h0.9v0.9h-0.9zM28.5 476.7h0.9v0.9h-0.9zM25.8 481.3h0.9v0.9h-0.9zM48.0 476.2h0.9v0.9h-0.9zM31.7 481.2h0.9v0.9h-0.9zM32.5 483.6h0.9v0.9h-0.9zM39.9 493.3h0.9v0.9h-0.9zM36.1 474.0h0.9v0.9h-0.9zM37.2 473.9h0.9v0.9h-0.9zM46.1 484.6h0.9v0.9h-0.9zM24.5 467.8h0.9v0.9h-0.9zM33.1 483.0h0.9v0.9h-0.9zM39.7 475.2h0.9v0.9h-0.9zM27.4 470.0h0.9v0.9h-0.9zM39.3 480.3h0.9v0.9h-0.9zM36.0 490.3h0.9v0.9h-0.9zM25.9 492.6h0.9v0.9h-0.9zM39.8 474.1h0.9v0.9h-0.9zM38.0 473.9h0.9v0.9h-0.9zM38.1 476.5h0.9v0.9h-0.9zM51.2 482.5h0.9v0.9h-0.9zM22.5 487.8h0.9v0.9h-0.9zM37.1 468.0h0.9v0.9h-0.9zM28.1 482.5h0.9v0.9h-0.9zM39.0 480.9h0.9v0.9h-0.9zM38.8 471.2h0.9v0.9h-0.9zM40.0 475.0h0.9v0.9h-0.9zM37.0 489.4h0.9v0.9h-0.9zM36.8 475.0h0.9v0.9h-0.9zM29.9 483.0h0.9v0.9h-0.9zM41.1 485.3h0.9v0.9h-0.9zM31.2 478.8h0.9v0.9h-0.9zM31.0 487.6h0.9v0.9h-0.9zM33.9 476.8h0.9v0.9h-0.9zM41.7 468.3h0.9v0.9h-0.9zM26.4 481.2h0.9v0.9h-0.9zM32.5 486.4h0.9v0.9h-0.9zM35.7 466.8h0.9v0.9h-0.9zM38.1 470.1h0.9v0.9h-0.9zM30.8 483.4h0.9v0.9h-0.9zM32.4 468.1h0.9v0.9h-0.9zM38.6 489.6h0.9v0.9h-0.9zM33.9 480.4h0.9v0.9h-0.9zM36.7 473.2h0.9v0.9h-0.9zM36.1 483.4h0.9v0.9h-0.9zM44.6 482.6h0.9v0.9h-0.9zM50.3 475.5h0.9v0.9h-0.9zM36.7 478.9h0.9v0.9h-0.9zM36.9 468.6h0.9v0.9h-0.9zM34.0 483.5h0.9v0.9h-0.9zM34.1 479.6h0.9v0.9h-0.9zM26.8 475.5h0.9v0.9h-0.9zM25.5 475.4h0.9v0.9h-0.9zM42.0 477.8h0.9v0.9h-0.9zM45.0 475.5h0.9v0.9h-0.9zM28.0 475.6h0.9v0.9h-0.9zM39.8 492.7h0.9v0.9h-0.9zM35.4 481.8h0.9v0.9h-0.9zM36.0 478.3h0.9v0.9h-0.9zM35.4 472.8h0.9v0.9h-0.9zM27.9 475.1h0.9v0.9h-0.9zM41.8 473.2h0.9v0.9h-0.9zM43.2 485.4h0.9v0.9h-0.9zM33.1 476.8h0.9v0.9h-0.9zM29.6 484.2h0.9v0.9h-0.9zM31.3 486.8h0.9v0.9h-0.9zM33.4 493.5h0.9v0.9h-0.9zM35.3 475.5h0.9v0.9h-0.9zM34.8 485.7h0.9v0.9h-0.9zM43.6 480.5h0.9v0.9h-0.9zM30.8 467.6h0.9v0.9h-0.9zM28.3 463.3h0.9v0.9h-0.9zM35.7 484.2h0.9v0.9h-0.9zM21.8 484.5h0.9v0.9h-0.9zM27.6 474.9h0.9v0.9h-0.9zM30.5 488.5h0.9v0.9h-0.9zM33.9 471.1h0.9v0.9h-0.9zM41.2 479.1h0.9v0.9h-0.9zM44.0 465.7h0.9v0.9h-0.9zM21.7 482.2h0.9v0.9h-0.9zM30.6 481.3h0.9v0.9h-0.9zM31.0 482.6h0.9v0.9h-0.9zM23.5 471.2h0.9v0.9h-0.9zM30.3 473.8h0.9v0.9h-0.9zM26.7 474.4h0.9v0.9h-0.9zM24.9 490.0h0.9v0.9h-0.9zM38.4 485.2h0.9v0.9h-0.9zM25.6 479.2h0.9v0.9h-0.9zM34.7 475.4h0.9v0.9h-0.9zM27.5 484.0h0.9v0.9h-0.9zM44.0 491.3h0.9v0.9h-0.9zM26.8 478.8h0.9v0.9h-0.9zM24.2 485.3h0.9v0.9h-0.9zM23.9 476.1h0.9v0.9h-0.9zM25.4 480.2h0.9v0.9h-0.9zM26.7 484.2h0.9v0.9h-0.9zM50.6 473.9h0.9v0.9h-0.9zM41.3 474.0h0.9v0.9h-0.9zM37.5 469.1h0.9v0.9h-0.9zM38.8 468.9h0.9v0.9h-0.9zM24.4 480.5h0.9v0.9h-0.9zM28.2 472.6h0.9v0.9h-0.9zM27.5 475.6h0.9v0.9h-0.9zM33.7 485.8h0.9v0.9h-0.9zM39.1 470.3h0.9v0.9h-0.9zM29.2 476.4h0.9v0.9h-0.9zM45.7 476.9h0.9v0.9h-0.9zM33.5 470.3h0.9v0.9h-0.9zM35.1 486.5h0.9v0.9h-0.9zM25.5 474.4h0.9v0.9h-0.9zM34.5 490.6h0.9v0.9h-0.9zM28.2 472.0h0.9v0.9h-0.9zM36.1 489.4h0.9v0.9h-0.9zM39.4 474.2h0.9v0.9h-0.9zM29.6 487.1h0.9v0.9h-0.9zM42.8 479.4h0.9v0.9h-0.9zM43.4 478.9h0.9v0.9h-0.9zM34.3 477.1h0.9v0.9h-0.9zM24.8 465.7h0.9v0.9h-0.9zM34.9 477.0h0.9v0.9h-0.9zM31.5 479.2h0.9v0.9h-0.9zM38.0 492.7h0.9v0.9h-0.9zM28.8 475.2h0.9v0.9h-0.9zM39.3 467.5h0.9v0.9h-0.9zM30.1 493.7h0.9v0.9h-0.9zM33.7 480.3h0.9v0.9h-0.9zM23.2 484.2h0.9v0.9h-0.9zM43.1 473.5h0.9v0.9h-0.9zM39.0 475.0h0.9v0.9h-0.9zM21.6 491.8h0.9v0.9h-0.9zM39.6 474.2h0.9v0.9h-0.9zM23.7 473.7h0.9v0.9h-0.9zM23.6 475.2h0.9v0.9h-0.9zM33.8 474.0h0.9v0.9h-0.9zM48.0 478.6h0.9v0.9h-0.9zM36.1 492.2h0.9v0.9h-0.9zM38.0 475.7h0.9v0.9h-0.9zM39.0 477.8h0.9v0.9h-0.9zM25.5 485.2h0.9v0.9h-0.9zM35.6 489.6h0.9v0.9h-0.9zM26.7 484.2h0.9v0.9h-0.9zM34.7 489.6h0.9v0.9h-0.9zM42.7 467.4h0.9v0.9h-0.9zM22.9 480.7h0.9v0.9h-0.9zM26.4 485.0h0.9v0.9h-0.9zM38.7 479.4h0.9v0.9h-0.9zM31.0 485.5h0.9v0.9h-0.9zM38.5 464.3h0.9v0.9h-0.9zM48.4 484.3h0.9v0.9h-0.9zM33.3 473.0h0.9v0.9h-0.9zM35.3 482.4h0.9v0.9h-0.9zM42.0 481.1h0.9v0.9h-0.9zM36.7 482.5h0.9v0.9h-0.9zM35.2 484.2h0.9v0.9h-0.9zM37.0 491.6h0.9v0.9h-0.9zM45.2 491.6h0.9v0.9h-0.9zM38.5 491.8h0.9v0.9h-0.9zM27.4 473.7h0.9v0.9h-0.9zM26.4 480.2h0.9v0.9h-0.9zM44.5 483.9h0.9v0.9h-0.9zM34.8 489.0h0.9v0.9h-0.9zM28.9 480.5h0.9v0.9h-0.9zM30.0 477.1h0.9v0.9h-0.9zM40.0 480.3h0.9v0.9h-0.9zM35.3 478.8h0.9v0.9h-0.9zM31.7 480.3h0.9v0.9h-0.9zM36.5 468.2h0.9v0.9h-0.9zM37.4 472.1h0.9v0.9h-0.9zM42.3 484.5h0.9v0.9h-0.9zM46.4 465.7h0.9v0.9h-0.9zM32.3 472.7h0.9v0.9h-0.9zM38.0 486.8h0.9v0.9h-0.9zM33.2 487.8h0.9v0.9h-0.9zM40.3 485.3h0.9v0.9h-0.9zM29.8 483.7h0.9v0.9h-0.9zM39.5 468.3h0.9v0.9h-0.9zM44.3 481.7h0.9v0.9h-0.9zM33.4 477.9h0.9v0.9h-0.9zM28.8 468.7h0.9v0.9h-0.9zM41.8 474.0h0.9v0.9h-0.9zM34.5 482.1h0.9v0.9h-0.9zM40.2 463.8h0.9v0.9h-0.9zM38.7 483.5h0.9v0.9h-0.9zM38.3 475.2h0.9v0.9h-0.9zM28.6 478.2h0.9v0.9h-0.9zM21.1 484.4h0.9v0.9h-0.9zM38.8 482.3h0.9v0.9h-0.9zM22.6 480.9h0.9v0.9h-0.9zM31.5 479.4h0.9v0.9h-0.9zM30.4 484.4h0.9v0.9h-0.9zM30.9 476.6h0.9v0.9h-0.9zM34.3 483.4h0.9v0.9h-0.9zM32.5 482.2h0.9v0.9h-0.9zM38.9 480.5h0.9v0.9h-0.9zM26.3 481.8h0.9v0.9h-0.9zM49.0 475.2h0.9v0.9h-0.9zM22.8 489.3h0.9v0.9h-0.9zM42.5 471.0h0.9v0.9h-0.9zM22.7 489.4h0.9v0.9h-0.9zM38.1 488.5h0.9v0.9h-0.9zM28.2 485.9h0.9v0.9h-0.9zM38.8 464.3h0.9v0.9h-0.9zM36.4 484.7h0.9v0.9h-0.9zM45.8 473.6h0.9v0.9h-0.9zM38.0 483.1h0.9v0.9h-0.9zM31.9 485.3h0.9v0.9h-0.9zM31.6 480.6h0.9v0.9h-0.9zM20.1 474.5h0.9v0.9h-0.9zM34.6 474.4h0.9v0.9h-0.9zM25.5 476.6h0.9v0.9h-0.9zM34.9 474.6h0.9v0.9h-0.9zM34.3 480.8h0.9v0.9h-0.9zM31.1 475.9h0.9v0.9h-0.9zM38.5 487.4h0.9v0.9h-0.9zM32.1 482.8h0.9v0.9h-0.9zM31.3 468.3h0.9v0.9h-0.9zM44.6 474.1h0.9v0.9h-0.9zM37.4 488.3h0.9v0.9h-0.9zM36.2 477.8h0.9v0.9h-0.9zM34.8 487.0h0.9v0.9h-0.9zM27.7 488.3h0.9v0.9h-0.9zM21.9 472.3h0.9v0.9h-0.9zM38.1 485.2h0.9v0.9h-0.9zM36.2 480.2h0.9v0.9h-0.9zM26.7 480.7h0.9v0.9h-0.9zM27.7 486.4h0.9v0.9h-0.9zM28.7 485.3h0.9v0.9h-0.9zM53.2 486.5h0.9v0.9h-0.9zM41.0 467.4h0.9v0.9h-0.9zM31.9 472.1h0.9v0.9h-0.9zM23.8 473.3h0.9v0.9h-0.9zM22.6 489.7h0.9v0.9h-0.9zM27.3 484.7h0.9v0.9h-0.9zM30.6 486.2h0.9v0.9h-0.9zM37.8 487.3h0.9v0.9h-0.9zM25.5 487.3h0.9v0.9h-0.9zM48.6 482.7h0.9v0.9h-0.9zM27.7 481.1h0.9v0.9h-0.9zM26.9 479.6h0.9v0.9h-0.9zM38.4 471.2h0.9v0.9h-0.9zM40.7 475.4h0.9v0.9h-0.9zM40.8 486.1h0.9v0.9h-0.9zM39.9 467.8h0.9v0.9h-0.9zM36.4 476.8h0.9v0.9h-0.9zM28.3 473.3h0.9v0.9h-0.9zM34.4 478.2h0.9v0.9h-0.9zM36.2 489.8h0.9v0.9h-0.9zM35.6 467.0h0.9v0.9h-0.9zM26.1 488.3h0.9v0.9h-0.9zM32.0 474.6h0.9v0.9h-0.9zM30.0 486.6h0.9v0.9h-0.9zM38.6 470.6h0.9v0.9h-0.9zM30.5 476.1h0.9v0.9h-0.9zM27.8 491.9h0.9v0.9h-0.9zM33.5 484.9h0.9v0.9h-0.9zM21.7 469.8h0.9v0.9h-0.9zM38.8 480.5h0.9v0.9h-0.9zM34.4 483.0h0.9v0.9h-0.9zM27.5 485.9h0.9v0.9h-0.9zM38.1 481.4h0.9v0.9h-0.9zM42.7 469.0h0.9v0.9h-0.9zM46.7 464.5h0.9v0.9h-0.9zM25.1 489.8h0.9v0.9h-0.9zM40.2 481.6h0.9v0.9h-0.9zM45.0 482.1h0.9v0.9h-0.9zM28.7 486.3h0.9v0.9h-0.9zM26.8 481.8h0.9v0.9h-0.9zM31.3 473.0h0.9v0.9h-0.9zM38.1 487.0h0.9v0.9h-0.9zM38.5 486.4h0.9v0.9h-0.9zM33.4 480.7h0.9v0.9h-0.9zM35.0 461.9h0.9v0.9h-0.9zM36.1 491.0h0.9v0.9h-0.9zM37.5 482.2h0.9v0.9h-0.9zM33.4 482.1h0.9v0.9h-0.9zM40.3 482.4h0.9v0.9h-0.9zM24.4 487.1h0.9v0.9h-0.9zM32.4 473.2h0.9v0.9h-0.9zM26.8 480.8h0.9v0.9h-0.9zM36.6 487.1h0.9v0.9h-0.9zM21.6 491.8h0.9v0.9h-0.9zM46.4 481.0h0.9v0.9h-0.9zM37.2 482.1h0.9v0.9h-0.9zM31.8 487.6h0.9v0.9h-0.9zM43.9 459.7h0.9v0.9h-0.9zM21.2 487.3h0.9v0.9h-0.9zM25.1 492.0h0.9v0.9h-0.9zM26.2 481.1h0.9v0.9h-0.9zM31.0 478.7h0.9v0.9h-0.9zM24.3 470.5h0.9v0.9h-0.9zM30.8 475.6h0.9v0.9h-0.9zM31.7 483.3h0.9v0.9h-0.9zM43.7 486.8h0.9v0.9h-0.9zM34.5 477.6h0.9v0.9h-0.9zM27.8 493.5h0.9v0.9h-0.9zM34.3 469.4h0.9v0.9h-0.9zM31.4 474.1h0.9v0.9h-0.9zM33.7 489.3h0.9v0.9h-0.9zM38.7 478.9h0.9v0.9h-0.9zM28.8 483.5h0.9v0.9h-0.9zM26.3 473.5h0.9v0.9h-0.9zM44.0 479.8h0.9v0.9h-0.9zM31.4 481.0h0.9v0.9h-0.9zM24.2 469.5h0.9v0.9h-0.9zM46.0 467.3h0.9v0.9h-0.9zM37.7 482.8h0.9v0.9h-0.9zM38.1 466.1h0.9v0.9h-0.9zM32.3 475.4h0.9v0.9h-0.9zM35.9 474.5h0.9v0.9h-0.9zM44.5 477.4h0.9v0.9h-0.9zM22.7 486.6h0.9v0.9h-0.9zM35.7 485.6h0.9v0.9h-0.9zM37.8 481.7h0.9v0.9h-0.9zM45.8 493.1h0.9v0.9h-0.9zM26.7 482.3h0.9v0.9h-0.9zM37.4 482.6h0.9v0.9h-0.9zM30.5 489.8h0.9v0.9h-0.9zM36.4 473.0h0.9v0.9h-0.9zM34.8 481.1h0.9v0.9h-0.9zM31.9 485.1h0.9v0.9h-0.9zM31.1 471.2h0.9v0.9h-0.9zM32.4 480.1h0.9v0.9h-0.9zM30.7 483.3h0.9v0.9h-0.9zM40.8 473.1h0.9v0.9h-0.9zM33.7 476.7h0.9v0.9h-0.9zM34.9 483.5h0.9v0.9h-0.9zM25.0 475.4h0.9v0.9h-0.9zM31.3 471.9h0.9v0.9h-0.9zM31.3 482.1h0.9v0.9h-0.9zM42.7 475.4h0.9v0.9h-0.9zM33.8 474.8h0.9v0.9h-0.9zM22.2 464.2h0.9v0.9h-0.9zM24.7 473.1h0.9v0.9h-0.9zM33.0 480.8h0.9v0.9h-0.9zM40.3 484.6h0.9v0.9h-0.9zM37.1 468.4h0.9v0.9h-0.9zM39.5 493.1h0.9v0.9h-0.9zM41.8 491.7h0.9v0.9h-0.9zM30.1 474.7h0.9v0.9h-0.9zM35.7 486.6h0.9v0.9h-0.9zM35.8 478.8h0.9v0.9h-0.9zM39.2 471.6h0.9v0.9h-0.9zM36.0 472.7h0.9v0.9h-0.9zM32.9 477.6h0.9v0.9h-0.9zM30.9 478.8h0.9v0.9h-0.9zM52.9 488.3h0.9v0.9h-0.9zM29.9 474.7h0.9v0.9h-0.9zM42.6 484.0h0.9v0.9h-0.9zM37.5 487.5h0.9v0.9h-0.9zM44.9 475.4h0.9v0.9h-0.9zM27.9 471.1h0.9v0.9h-0.9zM34.0 480.6h0.9v0.9h-0.9zM28.5 470.3h0.9v0.9h-0.9zM32.0 481.2h0.9v0.9h-0.9zM40.7 479.8h0.9v0.9h-0.9zM33.0 485.6h0.9v0.9h-0.9zM29.9 484.9h0.9v0.9h-0.9zM27.2 481.8h0.9v0.9h-0.9zM35.5 493.6h0.9v0.9h-0.9zM35.8 478.7h0.9v0.9h-0.9zM41.2 479.8h0.9v0.9h-0.9zM36.1 490.9h0.9v0.9h-0.9zM33.4 476.0h0.9v0.9h-0.9zM31.6 491.8h0.9v0.9h-0.9zM35.4 487.5h0.9v0.9h-0.9zM35.2 478.4h0.9v0.9h-0.9zM46.3 459.6h0.9v0.9h-0.9zM32.5 492.5h0.9v0.9h-0.9zM25.0 482.1h0.9v0.9h-0.9zM36.9 475.3h0.9v0.9h-0.9zM42.5 475.8h0.9v0.9h-0.9zM32.6 474.9h0.9v0.9h-0.9zM37.2 475.2h0.9v0.9h-0.9zM41.0 484.7h0.9v0.9h-0.9zM38.8 467.8h0.9v0.9h-0.9zM34.1 490.5h0.9v0.9h-0.9zM32.6 479.3h0.9v0.9h-0.9zM34.8 486.6h0.9v0.9h-0.9zM45.7 481.6h0.9v0.9h-0.9zM30.4 480.5h0.9v0.9h-0.9zM20.8 481.1h0.9v0.9h-0.9zM32.5 456.5h0.9v0.9h-0.9zM25.5 484.2h0.9v0.9h-0.9zM25.1 485.6h0.9v0.9h-0.9zM22.8 482.9h0.9v0.9h-0.9zM44.2 481.3h0.9v0.9h-0.9zM35.5 482.0h0.9v0.9h-0.9zM25.0 473.6h0.9v0.9h-0.9zM42.6 479.0h0.9v0.9h-0.9zM27.6 473.3h0.9v0.9h-0.9zM39.8 484.8h0.9v0.9h-0.9zM20.0 479.2h0.9v0.9h-0.9zM39.8 483.6h0.9v0.9h-0.9zM27.3 476.7h0.9v0.9h-0.9zM27.5 478.4h0.9v0.9h-0.9zM34.2 491.8h0.9v0.9h-0.9zM31.9 479.7h0.9v0.9h-0.9zM23.6 479.9h0.9v0.9h-0.9zM47.3 473.2h0.9v0.9h-0.9zM33.5 467.6h0.9v0.9h-0.9zM24.2 479.0h0.9v0.9h-0.9zM33.1 467.1h0.9v0.9h-0.9zM36.0 479.7h0.9v0.9h-0.9zM37.7 479.4h0.9v0.9h-0.9zM31.1 477.9h0.9v0.9h-0.9zM29.4 481.6h0.9v0.9h-0.9zM37.1 481.2h0.9v0.9h-0.9zM44.7 465.0h0.9v0.9h-0.9zM26.3 478.6h0.9v0.9h-0.9zM34.6 465.0h0.9v0.9h-0.9zM30.3 490.0h0.9v0.9h-0.9zM40.5 472.3h0.9v0.9h-0.9zM51.2 475.3h0.9v0.9h-0.9zM35.7 476.7h0.9v0.9h-0.9zM30.0 483.0h0.9v0.9h-0.9zM33.4 480.3h0.9v0.9h-0.9zM31.2 476.6h0.9v0.9h-0.9zM29.7 477.5h0.9v0.9h-0.9zM22.1 483.4h0.9v0.9h-0.9zM33.7 483.0h0.9v0.9h-0.9zM50.1 474.3h0.9v0.9h-0.9zM35.9 476.9h0.9v0.9h-0.9zM36.7 465.5h0.9v0.9h-0.9zM45.8 485.8h0.9v0.9h-0.9zM31.3 488.4h0.9v0.9h-0.9zM32.8 487.5h0.9v0.9h-0.9zM49.0 470.6h0.9v0.9h-0.9zM32.5 471.7h0.9v0.9h-0.9zM36.2 482.6h0.9v0.9h-0.9zM36.5 491.4h0.9v0.9h-0.9zM30.4 475.4h0.9v0.9h-0.9zM40.5 490.1h0.9v0.9h-0.9zM27.3 480.8h0.9v0.9h-0.9zM25.6 481.7h0.9v0.9h-0.9zM33.9 487.6h0.9v0.9h-0.9zM32.0 476.5h0.9v0.9h-0.9zM43.6 474.2h0.9v0.9h-0.9zM32.3 475.8h0.9v0.9h-0.9zM24.7 483.3h0.9v0.9h-0.9zM39.0 471.5h0.9v0.9h-0.9zM45.0 492.1h0.9v0.9h-0.9zM30.9 481.6h0.9v0.9h-0.9zM26.9 472.5h0.9v0.9h-0.9zM39.8 479.6h0.9v0.9h-0.9zM25.2 488.3h0.9v0.9h-0.9zM29.5 477.5h0.9v0.9h-0.9zM42.8 476.9h0.9v0.9h-0.9zM37.1 481.0h0.9v0.9h-0.9zM31.4 484.6h0.9v0.9h-0.9zM53.5 478.8h0.9v0.9h-0.9zM37.1 463.8h0.9v0.9h-0.9zM34.7 479.8h0.9v0.9h-0.9zM34.0 490.5h0.9v0.9h-0.9zM41.4 480.2h0.9v0.9h-0.9zM29.2 476.5h0.9v0.9h-0.9zM38.5 477.1h0.9v0.9h-0.9zM32.6 485.3h0.9v0.9h-0.9zM24.2 475.6h0.9v0.9h-0.9zM38.0 476.0h0.9v0.9h-0.9zM30.5 487.2h0.9v0.9h-0.9zM47.2 479.2h0.9v0.9h-0.9zM30.8 490.1h0.9v0.9h-0.9zM36.0 473.1h0.9v0.9h-0.9zM36.6 480.7h0.9v0.9h-0.9zM34.5 485.1h0.9v0.9h-0.9zM32.3 478.5h0.9v0.9h-0.9zM36.2 483.0h0.9v0.9h-0.9zM44.7 465.9h0.9v0.9h-0.9zM43.0 477.3h0.9v0.9h-0.9zM35.9 474.9h0.9v0.9h-0.9zM31.5 484.1h0.9v0.9h-0.9zM24.2 473.3h0.9v0.9h-0.9zM31.2 486.9h0.9v0.9h-0.9zM28.5 487.7h0.9v0.9h-0.9zM45.6 482.7h0.9v0.9h-0.9zM36.0 483.9h0.9v0.9h-0.9zM28.2 480.1h0.9v0.9h-0.9zM36.8 485.4h0.9v0.9h-0.9zM25.0 486.2h0.9v0.9h-0.9zM26.0 475.6h0.9v0.9h-0.9zM23.6 477.7h0.9v0.9h-0.9zM35.6 482.8h0.9v0.9h-0.9zM35.6 481.4h0.9v0.9h-0.9zM37.9 486.0h0.9v0.9h-0.9zM40.4 481.3h0.9v0.9h-0.9zM36.6 475.3h0.9v0.9h-0.9zM42.2 475.5h0.9v0.9h-0.9zM20.4 480.1h0.9v0.9h-0.9zM34.5 493.0h0.9v0.9h-0.9zM48.6 488.4h0.9v0.9h-0.9zM36.9 489.6h0.9v0.9h-0.9zM25.2 484.4h0.9v0.9h-0.9zM24.5 475.6h0.9v0.9h-0.9zM38.6 469.3h0.9v0.9h-0.9zM31.8 485.7h0.9v0.9h-0.9zM32.0 481.2h0.9v0.9h-0.9zM34.2 480.1h0.9v0.9h-0.9zM31.7 476.7h0.9v0.9h-0.9zM31.0 472.8h0.9v0.9h-0.9zM39.8 489.9h0.9v0.9h-0.9zM29.6 486.9h0.9v0.9h-0.9zM41.0 477.9h0.9v0.9h-0.9zM23.3 490.9h0.9v0.9h-0.9zM25.6 483.3h0.9v0.9h-0.9zM33.5 479.8h0.9v0.9h-0.9zM25.2 484.7h0.9v0.9h-0.9zM26.4 482.8h0.9v0.9h-0.9zM41.7 472.6h0.9v0.9h-0.9zM35.6 492.1h0.9v0.9h-0.9zM26.1 479.3h0.9v0.9h-0.9zM31.3 457.4h0.9v0.9h-0.9zM31.2 482.1h0.9v0.9h-0.9zM38.9 490.8h0.9v0.9h-0.9zM33.3 470.5h0.9v0.9h-0.9zM38.9 481.6h0.9v0.9h-0.9zM36.3 477.9h0.9v0.9h-0.9zM43.2 477.9h0.9v0.9h-0.9zM37.5 482.8h0.9v0.9h-0.9zM32.7 480.1h0.9v0.9h-0.9zM32.8 469.1h0.9v0.9h-0.9zM26.0 467.6h0.9v0.9h-0.9zM34.3 485.3h0.9v0.9h-0.9zM32.9 477.6h0.9v0.9h-0.9zM33.6 487.8h0.9v0.9h-0.9zM23.3 480.1h0.9v0.9h-0.9zM36.5 477.0h0.9v0.9h-0.9zM35.2 476.8h0.9v0.9h-0.9zM49.6 478.1h0.9v0.9h-0.9zM32.6 486.2h0.9v0.9h-0.9zM37.2 477.7h0.9v0.9h-0.9zM38.0 482.3h0.9v0.9h-0.9zM38.7 487.2h0.9v0.9h-0.9zM35.2 476.6h0.9v0.9h-0.9zM26.8 464.9h0.9v0.9h-0.9zM31.0 484.3h0.9v0.9h-0.9zM27.3 488.4h0.9v0.9h-0.9zM27.9 475.7h0.9v0.9h-0.9zM38.9 479.7h0.9v0.9h-0.9zM37.4 475.9h0.9v0.9h-0.9zM30.5 486.8h0.9v0.9h-0.9zM31.3 478.9h0.9v0.9h-0.9zM31.3 489.1h0.9v0.9h-0.9zM29.3 479.3h0.9v0.9h-0.9zM38.9 477.7h0.9v0.9h-0.9zM30.0 478.4h0.9v0.9h-0.9zM40.2 491.3h0.9v0.9h-0.9zM34.0 491.9h0.9v0.9h-0.9zM33.7 487.0h0.9v0.9h-0.9zM34.5 472.6h0.9v0.9h-0.9zM40.9 471.1h0.9v0.9h-0.9zM36.9 472.8h0.9v0.9h-0.9zM28.3 490.5h0.9v0.9h-0.9zM29.1 483.7h0.9v0.9h-0.9zM38.6 482.4h0.9v0.9h-0.9zM27.9 482.9h0.9v0.9h-0.9zM35.3 470.5h0.9v0.9h-0.9zM37.2 483.1h0.9v0.9h-0.9zM39.5 483.1h0.9v0.9h-0.9zM38.6 469.7h0.9v0.9h-0.9zM32.1 472.4h0.9v0.9h-0.9zM38.8 476.3h0.9v0.9h-0.9zM31.4 479.1h0.9v0.9h-0.9zM31.8 481.8h0.9v0.9h-0.9zM36.0 483.8h0.9v0.9h-0.9zM26.0 475.1h0.9v0.9h-0.9zM45.0 492.0h0.9v0.9h-0.9zM39.4 476.6h0.9v0.9h-0.9zM37.8 479.7h0.9v0.9h-0.9zM37.3 483.5h0.9v0.9h-0.9zM31.0 474.0h0.9v0.9h-0.9zM40.1 473.8h0.9v0.9h-0.9zM41.3 479.4h0.9v0.9h-0.9zM33.5 489.5h0.9v0.9h-0.9zM30.8 488.6h0.9v0.9h-0.9zM41.2 466.5h0.9v0.9h-0.9zM47.2 473.2h0.9v0.9h-0.9zM33.8 478.0h0.9v0.9h-0.9zM34.3 486.9h0.9v0.9h-0.9zM38.6 476.1h0.9v0.9h-0.9zM23.2 467.3h0.9v0.9h-0.9zM29.9 494.0h0.9v0.9h-0.9zM28.8 478.7h0.9v0.9h-0.9zM21.5 490.3h0.9v0.9h-0.9zM27.2 487.6h0.9v0.9h-0.9zM39.9 482.6h0.9v0.9h-0.9zM30.4 478.7h0.9v0.9h-0.9zM34.7 476.6h0.9v0.9h-0.9zM38.2 474.3h0.9v0.9h-0.9zM48.7 479.8h0.9v0.9h-0.9zM35.1 481.5h0.9v0.9h-0.9zM47.2 486.7h0.9v0.9h-0.9zM34.8 481.4h0.9v0.9h-0.9zM29.8 450.6h0.9v0.9h-0.9zM45.0 445.4h0.9v0.9h-0.9zM31.9 452.6h0.9v0.9h-0.9zM34.1 457.0h0.9v0.9h-0.9zM40.4 453.1h0.9v0.9h-0.9zM42.3 456.2h0.9v0.9h-0.9zM39.6 450.0h0.9v0.9h-0.9zM38.1 455.5h0.9v0.9h-0.9zM41.8 453.2h0.9v0.9h-0.9zM46.6 457.3h0.9v0.9h-0.9zM25.9 455.6h0.9v0.9h-0.9zM40.7 454.7h0.9v0.9h-0.9zM22.0 451.9h0.9v0.9h-0.9zM47.6 458.8h0.9v0.9h-0.9zM46.5 448.1h0.9v0.9h-0.9zM36.6 455.9h0.9v0.9h-0.9zM42.7 448.9h0.9v0.9h-0.9zM34.6 450.3h0.9v0.9h-0.9zM37.1 456.4h0.9v0.9h-0.9zM35.2 452.8h0.9v0.9h-0.9zM39.7 451.8h0.9v0.9h-0.9zM29.7 453.8h0.9v0.9h-0.9zM46.1 452.3h0.9v0.9h-0.9zM45.2 456.6h0.9v0.9h-0.9zM31.1 455.2h0.9v0.9h-0.9zM44.9 450.7h0.9v0.9h-0.9zM38.4 453.8h0.9v0.9h-0.9zM44.1 453.4h0.9v0.9h-0.9zM39.9 457.4h0.9v0.9h-0.9zM39.2 451.7h0.9v0.9h-0.9zM36.5 452.1h0.9v0.9h-0.9zM40.9 455.4h0.9v0.9h-0.9zM35.2 453.9h0.9v0.9h-0.9zM35.9 454.5h0.9v0.9h-0.9zM33.9 454.8h0.9v0.9h-0.9zM48.9 452.4h0.9v0.9h-0.9zM39.3 451.9h0.9v0.9h-0.9zM43.1 448.1h0.9v0.9h-0.9zM49.2 450.8h0.9v0.9h-0.9zM38.1 453.0h0.9v0.9h-0.9zM39.8 451.8h0.9v0.9h-0.9zM35.8 450.9h0.9v0.9h-0.9zM39.9 449.9h0.9v0.9h-0.9zM39.5 454.3h0.9v0.9h-0.9zM41.0 454.7h0.9v0.9h-0.9zM38.5 453.0h0.9v0.9h-0.9zM43.9 451.4h0.9v0.9h-0.9zM37.6 450.2h0.9v0.9h-0.9zM43.8 456.9h0.9v0.9h-0.9zM30.0 454.2h0.9v0.9h-0.9zM40.0 454.9h0.9v0.9h-0.9zM41.2 454.3h0.9v0.9h-0.9zM50.1 446.4h0.9v0.9h-0.9zM35.2 456.3h0.9v0.9h-0.9zM39.6 454.9h0.9v0.9h-0.9zM41.4 456.0h0.9v0.9h-0.9zM35.8 455.6h0.9v0.9h-0.9zM38.8 456.8h0.9v0.9h-0.9zM38.4 454.7h0.9v0.9h-0.9zM33.9 456.0h0.9v0.9h-0.9zM33.3 457.4h0.9v0.9h-0.9zM48.5 456.6h0.9v0.9h-0.9zM38.2 447.2h0.9v0.9h-0.9zM26.1 452.6h0.9v0.9h-0.9zM47.7 449.4h0.9v0.9h-0.9zM41.4 450.6h0.9v0.9h-0.9zM33.2 448.8h0.9v0.9h-0.9zM35.5 452.3h0.9v0.9h-0.9zM31.5 445.3h0.9v0.9h-0.9zM34.4 452.7h0.9v0.9h-0.9zM34.1 453.9h0.9v0.9h-0.9zM33.4 450.9h0.9v0.9h-0.9zM30.3 455.0h0.9v0.9h-0.9zM37.0 451.4h0.9v0.9h-0.9zM43.3 457.9h0.9v0.9h-0.9zM36.0 451.6h0.9v0.9h-0.9zM46.5 449.9h0.9v0.9h-0.9zM32.4 451.1h0.9v0.9h-0.9zM33.6 455.4h0.9v0.9h-0.9zM24.0 453.2h0.9v0.9h-0.9zM41.1 450.4h0.9v0.9h-0.9zM39.1 454.8h0.9v0.9h-0.9zM36.5 449.1h0.9v0.9h-0.9zM39.3 455.2h0.9v0.9h-0.9zM32.6 451.8h0.9v0.9h-0.9zM41.4 453.7h0.9v0.9h-0.9zM27.2 454.9h0.9v0.9h-0.9zM35.6 449.9h0.9v0.9h-0.9zM46.4 450.4h0.9v0.9h-0.9zM35.6 453.1h0.9v0.9h-0.9zM44.3 455.3h0.9v0.9h-0.9zM33.4 454.8h0.9v0.9h-0.9zM32.3 456.5h0.9v0.9h-0.9zM30.8 447.2h0.9v0.9h-0.9zM39.2 448.7h0.9v0.9h-0.9zM48.0 451.5h0.9v0.9h-0.9zM48.8 448.9h0.9v0.9h-0.9zM43.5 452.1h0.9v0.9h-0.9zM39.0 450.0h0.9v0.9h-0.9zM40.2 453.2h0.9v0.9h-0.9zM54.1 452.6h0.9v0.9h-0.9zM41.2 451.6h0.9v0.9h-0.9zM43.8 451.6h0.9v0.9h-0.9zM39.0 452.4h0.9v0.9h-0.9zM38.6 453.4h0.9v0.9h-0.9zM38.1 449.2h0.9v0.9h-0.9zM43.0 451.4h0.9v0.9h-0.9zM32.7 450.1h0.9v0.9h-0.9zM38.5 453.1h0.9v0.9h-0.9zM43.3 451.2h0.9v0.9h-0.9zM34.0 454.2h0.9v0.9h-0.9zM44.4 455.5h0.9v0.9h-0.9zM26.3 454.1h0.9v0.9h-0.9zM38.5 452.4h0.9v0.9h-0.9zM36.9 457.7h0.9v0.9h-0.9zM39.7 455.1h0.9v0.9h-0.9zM30.2 451.6h0.9v0.9h-0.9zM42.0 455.2h0.9v0.9h-0.9zM44.4 452.6h0.9v0.9h-0.9zM47.1 451.7h0.9v0.9h-0.9zM34.2 452.0h0.9v0.9h-0.9zM46.3 451.7h0.9v0.9h-0.9zM30.8 453.0h0.9v0.9h-0.9zM34.0 455.6h0.9v0.9h-0.9zM38.7 453.4h0.9v0.9h-0.9zM39.7 448.0h0.9v0.9h-0.9zM31.0 452.2h0.9v0.9h-0.9zM33.0 454.1h0.9v0.9h-0.9zM39.5 451.7h0.9v0.9h-0.9zM39.7 452.6h0.9v0.9h-0.9zM29.1 453.2h0.9v0.9h-0.9zM42.7 450.8h0.9v0.9h-0.9zM34.1 452.2h0.9v0.9h-0.9zM42.0 453.3h0.9v0.9h-0.9zM34.1 452.4h0.9v0.9h-0.9zM35.1 448.7h0.9v0.9h-0.9zM28.9 451.0h0.9v0.9h-0.9zM45.0 455.8h0.9v0.9h-0.9zM32.3 458.4h0.9v0.9h-0.9zM34.4 449.4h0.9v0.9h-0.9zM27.9 448.7h0.9v0.9h-0.9zM43.7 453.2h0.9v0.9h-0.9zM38.7 449.7h0.9v0.9h-0.9zM43.0 450.0h0.9v0.9h-0.9zM25.5 451.7h0.9v0.9h-0.9zM38.7 456.0h0.9v0.9h-0.9zM32.2 457.1h0.9v0.9h-0.9zM48.5 451.3h0.9v0.9h-0.9zM40.9 449.8h0.9v0.9h-0.9zM38.3 450.7h0.9v0.9h-0.9zM22.4 452.9h0.9v0.9h-0.9zM40.9 453.9h0.9v0.9h-0.9zM46.2 454.8h0.9v0.9h-0.9zM28.0 453.7h0.9v0.9h-0.9zM38.7 452.5h0.9v0.9h-0.9zM39.2 450.4h0.9v0.9h-0.9zM35.1 449.3h0.9v0.9h-0.9zM42.2 449.3h0.9v0.9h-0.9zM39.8 454.2h0.9v0.9h-0.9zM35.8 454.4h0.9v0.9h-0.9zM36.9 454.8h0.9v0.9h-0.9zM40.0 455.3h0.9v0.9h-0.9zM38.0 452.9h0.9v0.9h-0.9zM33.4 454.0h0.9v0.9h-0.9zM44.7 453.3h0.9v0.9h-0.9zM43.2 451.1h0.9v0.9h-0.9zM31.7 449.8h0.9v0.9h-0.9zM32.1 452.3h0.9v0.9h-0.9zM32.1 451.4h0.9v0.9h-0.9zM39.0 452.0h0.9v0.9h-0.9zM32.6 453.2h0.9v0.9h-0.9zM39.5 449.3h0.9v0.9h-0.9zM50.2 455.8h0.9v0.9h-0.9zM41.1 449.6h0.9v0.9h-0.9zM34.3 455.0h0.9v0.9h-0.9zM49.3 451.3h0.9v0.9h-0.9zM29.4 455.9h0.9v0.9h-0.9zM35.6 455.0h0.9v0.9h-0.9zM33.5 452.0h0.9v0.9h-0.9zM35.5 449.5h0.9v0.9h-0.9zM43.0 448.9h0.9v0.9h-0.9zM37.3 454.0h0.9v0.9h-0.9zM35.2 451.7h0.9v0.9h-0.9zM38.0 455.0h0.9v0.9h-0.9zM33.9 453.1h0.9v0.9h-0.9zM44.8 452.3h0.9v0.9h-0.9zM30.8 453.1h0.9v0.9h-0.9zM22.9 452.3h0.9v0.9h-0.9zM39.9 454.3h0.9v0.9h-0.9zM40.2 450.0h0.9v0.9h-0.9zM42.7 454.8h0.9v0.9h-0.9zM39.1 452.7h0.9v0.9h-0.9zM36.3 449.9h0.9v0.9h-0.9zM38.3 450.9h0.9v0.9h-0.9zM43.3 455.4h0.9v0.9h-0.9zM37.2 457.4h0.9v0.9h-0.9zM40.5 458.5h0.9v0.9h-0.9zM43.9 456.6h0.9v0.9h-0.9zM28.8 452.2h0.9v0.9h-0.9zM47.8 451.3h0.9v0.9h-0.9zM29.4 449.8h0.9v0.9h-0.9zM36.8 450.7h0.9v0.9h-0.9zM34.2 447.8h0.9v0.9h-0.9zM35.6 450.4h0.9v0.9h-0.9zM40.6 457.0h0.9v0.9h-0.9zM38.7 454.7h0.9v0.9h-0.9zM37.7 452.9h0.9v0.9h-0.9zM32.5 452.3h0.9v0.9h-0.9zM42.5 450.8h0.9v0.9h-0.9zM41.8 448.7h0.9v0.9h-0.9zM41.4 452.5h0.9v0.9h-0.9zM40.6 450.9h0.9v0.9h-0.9zM37.1 453.5h0.9v0.9h-0.9zM49.8 450.9h0.9v0.9h-0.9zM41.5 458.8h0.9v0.9h-0.9zM39.6 453.1h0.9v0.9h-0.9zM46.1 449.1h0.9v0.9h-0.9zM31.4 450.5h0.9v0.9h-0.9zM50.0 449.9h0.9v0.9h-0.9zM37.5 450.5h0.9v0.9h-0.9zM40.5 452.9h0.9v0.9h-0.9zM34.1 451.9h0.9v0.9h-0.9zM42.4 452.2h0.9v0.9h-0.9zM34.8 449.7h0.9v0.9h-0.9zM50.9 446.5h0.9v0.9h-0.9zM37.1 452.5h0.9v0.9h-0.9zM35.6 454.1h0.9v0.9h-0.9zM26.7 452.0h0.9v0.9h-0.9zM31.5 452.6h0.9v0.9h-0.9zM36.4 453.4h0.9v0.9h-0.9zM28.3 452.5h0.9v0.9h-0.9zM37.2 451.7h0.9v0.9h-0.9zM35.0 451.1h0.9v0.9h-0.9zM47.1 454.8h0.9v0.9h-0.9zM37.9 453.5h0.9v0.9h-0.9zM43.3 451.3h0.9v0.9h-0.9zM31.2 454.0h0.9v0.9h-0.9zM35.9 454.3h0.9v0.9h-0.9zM39.6 448.6h0.9v0.9h-0.9zM44.3 451.6h0.9v0.9h-0.9zM44.6 452.6h0.9v0.9h-0.9zM45.0 451.9h0.9v0.9h-0.9zM32.2 450.7h0.9v0.9h-0.9zM40.3 458.7h0.9v0.9h-0.9zM37.7 448.3h0.9v0.9h-0.9zM40.6 453.8h0.9v0.9h-0.9zM39.1 453.7h0.9v0.9h-0.9zM34.6 452.3h0.9v0.9h-0.9zM35.0 449.8h0.9v0.9h-0.9zM36.6 450.4h0.9v0.9h-0.9zM30.7 454.8h0.9v0.9h-0.9zM26.7 449.6h0.9v0.9h-0.9zM44.0 454.1h0.9v0.9h-0.9zM37.6 455.3h0.9v0.9h-0.9zM44.8 448.4h0.9v0.9h-0.9zM36.1 452.4h0.9v0.9h-0.9zM33.5 448.9h0.9v0.9h-0.9zM38.1 447.6h0.9v0.9h-0.9zM34.2 451.4h0.9v0.9h-0.9zM37.2 454.4h0.9v0.9h-0.9zM36.9 454.5h0.9v0.9h-0.9zM43.1 454.7h0.9v0.9h-0.9zM31.6 449.7h0.9v0.9h-0.9zM36.3 456.3h0.9v0.9h-0.9zM44.7 454.3h0.9v0.9h-0.9zM32.3 452.4h0.9v0.9h-0.9zM36.0 454.1h0.9v0.9h-0.9zM44.3 448.2h0.9v0.9h-0.9zM31.5 452.3h0.9v0.9h-0.9zM23.2 451.2h0.9v0.9h-0.9zM36.8 452.0h0.9v0.9h-0.9zM41.0 450.3h0.9v0.9h-0.9zM46.7 454.0h0.9v0.9h-0.9zM34.9 453.2h0.9v0.9h-0.9zM39.5 452.8h0.9v0.9h-0.9zM33.4 455.8h0.9v0.9h-0.9zM39.5 451.1h0.9v0.9h-0.9zM38.8 454.5h0.9v0.9h-0.9zM37.2 448.7h0.9v0.9h-0.9zM30.8 453.6h0.9v0.9h-0.9zM38.5 453.8h0.9v0.9h-0.9zM35.4 450.0h0.9v0.9h-0.9zM46.7 453.2h0.9v0.9h-0.9zM36.7 456.2h0.9v0.9h-0.9zM32.4 455.9h0.9v0.9h-0.9zM26.4 454.4h0.9v0.9h-0.9zM35.8 451.4h0.9v0.9h-0.9zM45.3 452.9h0.9v0.9h-0.9zM43.2 453.9h0.9v0.9h-0.9zM43.5 458.1h0.9v0.9h-0.9zM37.2 455.3h0.9v0.9h-0.9zM41.0 451.4h0.9v0.9h-0.9zM36.3 452.7h0.9v0.9h-0.9zM37.6 458.1h0.9v0.9h-0.9zM35.6 454.5h0.9v0.9h-0.9zM40.6 450.7h0.9v0.9h-0.9zM32.4 452.8h0.9v0.9h-0.9zM36.0 454.2h0.9v0.9h-0.9zM37.3 455.3h0.9v0.9h-0.9zM30.1 454.4h0.9v0.9h-0.9zM37.0 454.6h0.9v0.9h-0.9zM36.7 454.5h0.9v0.9h-0.9zM38.7 452.2h0.9v0.9h-0.9zM40.6 450.8h0.9v0.9h-0.9zM39.5 452.3h0.9v0.9h-0.9zM35.6 449.6h0.9v0.9h-0.9zM24.3 451.5h0.9v0.9h-0.9zM49.9 450.8h0.9v0.9h-0.9zM39.0 454.6h0.9v0.9h-0.9zM42.8 450.8h0.9v0.9h-0.9zM35.6 449.6h0.9v0.9h-0.9zM30.9 450.5h0.9v0.9h-0.9zM40.7 449.9h0.9v0.9h-0.9zM41.7 452.9h0.9v0.9h-0.9zM44.4 446.5h0.9v0.9h-0.9zM32.6 451.1h0.9v0.9h-0.9zM35.1 455.7h0.9v0.9h-0.9zM32.3 452.6h0.9v0.9h-0.9zM41.9 453.7h0.9v0.9h-0.9zM35.6 450.3h0.9v0.9h-0.9zM37.4 450.3h0.9v0.9h-0.9zM42.3 449.5h0.9v0.9h-0.9zM45.1 457.5h0.9v0.9h-0.9zM28.5 456.7h0.9v0.9h-0.9zM25.3 457.8h0.9v0.9h-0.9zM43.2 450.5h0.9v0.9h-0.9zM41.9 448.7h0.9v0.9h-0.9zM35.8 450.2h0.9v0.9h-0.9zM46.9 450.8h0.9v0.9h-0.9zM34.5 448.5h0.9v0.9h-0.9zM37.8 453.7h0.9v0.9h-0.9zM42.7 452.0h0.9v0.9h-0.9zM40.1 457.9h0.9v0.9h-0.9zM36.7 451.6h0.9v0.9h-0.9zM36.4 453.1h0.9v0.9h-0.9zM40.3 452.1h0.9v0.9h-0.9zM36.5 456.3h0.9v0.9h-0.9zM34.9 451.6h0.9v0.9h-0.9zM33.8 454.1h0.9v0.9h-0.9zM37.4 452.3h0.9v0.9h-0.9zM30.4 453.0h0.9v0.9h-0.9zM35.7 449.1h0.9v0.9h-0.9zM34.6 450.8h0.9v0.9h-0.9zM33.2 456.4h0.9v0.9h-0.9zM35.0 456.0h0.9v0.9h-0.9zM27.4 449.0h0.9v0.9h-0.9zM43.8 454.7h0.9v0.9h-0.9zM40.9 455.9h0.9v0.9h-0.9zM41.4 455.5h0.9v0.9h-0.9zM36.2 453.9h0.9v0.9h-0.9zM36.3 450.1h0.9v0.9h-0.9zM31.2 450.6h0.9v0.9h-0.9zM46.0 456.0h0.9v0.9h-0.9zM32.6 451.6h0.9v0.9h-0.9zM40.0 452.6h0.9v0.9h-0.9zM32.2 454.6h0.9v0.9h-0.9zM35.6 450.2h0.9v0.9h-0.9zM30.1 454.1h0.9v0.9h-0.9zM37.9 447.2h0.9v0.9h-0.9zM40.5 450.6h0.9v0.9h-0.9zM33.2 450.4h0.9v0.9h-0.9zM24.9 453.9h0.9v0.9h-0.9zM44.4 451.2h0.9v0.9h-0.9zM38.2 452.2h0.9v0.9h-0.9zM40.2 457.4h0.9v0.9h-0.9zM47.1 450.7h0.9v0.9h-0.9zM49.2 450.9h0.9v0.9h-0.9zM39.9 452.6h0.9v0.9h-0.9zM45.1 446.2h0.9v0.9h-0.9zM34.8 454.6h0.9v0.9h-0.9zM34.5 450.4h0.9v0.9h-0.9zM36.4 450.9h0.9v0.9h-0.9zM40.7 447.3h0.9v0.9h-0.9zM46.0 456.0h0.9v0.9h-0.9zM46.3 450.7h0.9v0.9h-0.9zM41.0 450.6h0.9v0.9h-0.9zM44.7 451.3h0.9v0.9h-0.9zM40.4 459.8h0.9v0.9h-0.9zM37.0 454.1h0.9v0.9h-0.9zM42.0 452.0h0.9v0.9h-0.9zM35.0 453.7h0.9v0.9h-0.9zM35.5 451.5h0.9v0.9h-0.9zM32.4 453.0h0.9v0.9h-0.9zM41.4 453.3h0.9v0.9h-0.9zM30.3 448.6h0.9v0.9h-0.9zM38.6 452.0h0.9v0.9h-0.9zM40.3 454.9h0.9v0.9h-0.9zM41.6 450.6h0.9v0.9h-0.9zM33.3 453.3h0.9v0.9h-0.9zM39.9 454.7h0.9v0.9h-0.9zM40.8 454.2h0.9v0.9h-0.9zM24.2 453.0h0.9v0.9h-0.9zM23.4 450.0h0.9v0.9h-0.9zM30.5 448.8h0.9v0.9h-0.9zM39.3 448.6h0.9v0.9h-0.9zM48.2 451.5h0.9v0.9h-0.9zM37.9 452.5h0.9v0.9h-0.9zM41.2 451.0h0.9v0.9h-0.9zM48.8 450.2h0.9v0.9h-0.9zM45.5 450.3h0.9v0.9h-0.9zM32.5 454.2h0.9v0.9h-0.9zM50.9 448.7h0.9v0.9h-0.9zM41.2 447.9h0.9v0.9h-0.9zM24.9 453.6h0.9v0.9h-0.9zM39.3 451.2h0.9v0.9h-0.9zM39.7 452.4h0.9v0.9h-0.9zM36.6 452.8h0.9v0.9h-0.9zM35.1 452.3h0.9v0.9h-0.9zM42.4 446.7h0.9v0.9h-0.9zM38.6 457.1h0.9v0.9h-0.9zM45.1 455.7h0.9v0.9h-0.9zM46.5 454.5h0.9v0.9h-0.9zM33.0 446.1h0.9v0.9h-0.9zM33.6 452.0h0.9v0.9h-0.9zM40.1 454.5h0.9v0.9h-0.9zM32.6 452.5h0.9v0.9h-0.9zM22.3 455.2h0.9v0.9h-0.9zM40.3 452.4h0.9v0.9h-0.9zM37.3 455.0h0.9v0.9h-0.9zM33.8 453.0h0.9v0.9h-0.9zM34.7 454.1h0.9v0.9h-0.9zM44.1 448.8h0.9v0.9h-0.9zM30.8 451.6h0.9v0.9h-0.9zM34.6 453.2h0.9v0.9h-0.9zM38.8 450.9h0.9v0.9h-0.9zM44.5 454.3h0.9v0.9h-0.9zM34.6 452.0h0.9v0.9h-0.9zM40.9 456.1h0.9v0.9h-0.9zM41.2 450.3h0.9v0.9h-0.9zM36.0 455.3h0.9v0.9h-0.9zM40.3 455.1h0.9v0.9h-0.9zM34.7 450.6h0.9v0.9h-0.9zM38.4 453.2h0.9v0.9h-0.9zM41.0 451.1h0.9v0.9h-0.9zM45.6 452.4h0.9v0.9h-0.9zM31.3 452.0h0.9v0.9h-0.9zM35.8 457.5h0.9v0.9h-0.9zM34.0 449.7h0.9v0.9h-0.9zM39.9 453.6h0.9v0.9h-0.9zM36.5 451.3h0.9v0.9h-0.9zM36.0 454.5h0.9v0.9h-0.9zM39.7 452.0h0.9v0.9h-0.9zM25.2 450.5h0.9v0.9h-0.9zM27.5 452.0h0.9v0.9h-0.9zM32.6 450.5h0.9v0.9h-0.9zM34.8 454.0h0.9v0.9h-0.9zM44.5 451.4h0.9v0.9h-0.9zM32.2 453.9h0.9v0.9h-0.9zM39.5 448.5h0.9v0.9h-0.9zM30.5 455.5h0.9v0.9h-0.9zM39.3 449.2h0.9v0.9h-0.9zM43.1 452.3h0.9v0.9h-0.9zM44.4 454.5h0.9v0.9h-0.9zM30.0 446.8h0.9v0.9h-0.9zM36.4 448.9h0.9v0.9h-0.9zM40.2 455.3h0.9v0.9h-0.9zM40.2 454.7h0.9v0.9h-0.9zM38.6 456.8h0.9v0.9h-0.9zM51.2 449.8h0.9v0.9h-0.9zM36.0 456.8h0.9v0.9h-0.9zM33.9 449.0h0.9v0.9h-0.9zM39.8 456.6h0.9v0.9h-0.9zM39.9 456.0h0.9v0.9h-0.9zM29.3 453.2h0.9v0.9h-0.9zM31.6 456.6h0.9v0.9h-0.9zM37.5 456.2h0.9v0.9h-0.9zM36.8 455.2h0.9v0.9h-0.9zM41.1 450.6h0.9v0.9h-0.9zM40.0 451.1h0.9v0.9h-0.9zM38.9 453.5h0.9v0.9h-0.9zM39.3 455.5h0.9v0.9h-0.9zM42.7 452.5h0.9v0.9h-0.9zM32.8 456.1h0.9v0.9h-0.9zM29.8 453.8h0.9v0.9h-0.9zM37.5 449.5h0.9v0.9h-0.9zM31.8 450.8h0.9v0.9h-0.9zM43.8 453.4h0.9v0.9h-0.9zM44.8 451.5h0.9v0.9h-0.9zM35.5 452.5h0.9v0.9h-0.9zM42.4 455.6h0.9v0.9h-0.9zM36.4 455.7h0.9v0.9h-0.9zM43.5 457.5h0.9v0.9h-0.9zM39.4 451.2h0.9v0.9h-0.9zM38.9 454.8h0.9v0.9h-0.9zM41.6 452.0h0.9v0.9h-0.9zM30.2 448.4h0.9v0.9h-0.9zM41.1 451.5h0.9v0.9h-0.9zM44.7 450.0h0.9v0.9h-0.9zM38.1 456.5h0.9v0.9h-0.9zM40.6 451.9h0.9v0.9h-0.9zM44.2 458.6h0.9v0.9h-0.9zM41.1 451.8h0.9v0.9h-0.9zM40.0 448.9h0.9v0.9h-0.9zM44.4 445.3h0.9v0.9h-0.9zM32.7 454.2h0.9v0.9h-0.9zM40.3 452.3h0.9v0.9h-0.9zM29.7 450.6h0.9v0.9h-0.9zM37.4 454.5h0.9v0.9h-0.9zM37.2 447.8h0.9v0.9h-0.9zM45.2 455.4h0.9v0.9h-0.9zM41.6 448.3h0.9v0.9h-0.9zM37.8 452.4h0.9v0.9h-0.9zM35.2 449.8h0.9v0.9h-0.9zM38.2 453.3h0.9v0.9h-0.9zM40.4 454.8h0.9v0.9h-0.9zM41.3 450.5h0.9v0.9h-0.9zM30.7 449.5h0.9v0.9h-0.9zM36.5 452.4h0.9v0.9h-0.9zM36.8 455.6h0.9v0.9h-0.9zM38.3 450.8h0.9v0.9h-0.9zM39.7 447.5h0.9v0.9h-0.9zM33.0 451.0h0.9v0.9h-0.9zM50.8 450.0h0.9v0.9h-0.9zM56.2 453.3h0.9v0.9h-0.9zM50.1 454.9h0.9v0.9h-0.9zM61.4 452.7h0.9v0.9h-0.9zM50.4 452.4h0.9v0.9h-0.9zM42.3 450.5h0.9v0.9h-0.9zM51.5 453.6h0.9v0.9h-0.9zM54.9 453.2h0.9v0.9h-0.9zM52.8 451.1h0.9v0.9h-0.9zM49.7 452.3h0.9v0.9h-0.9zM56.5 450.4h0.9v0.9h-0.9zM47.4 452.8h0.9v0.9h-0.9zM47.9 451.8h0.9v0.9h-0.9zM50.1 454.1h0.9v0.9h-0.9zM46.7 450.0h0.9v0.9h-0.9zM52.1 450.4h0.9v0.9h-0.9zM52.8 449.2h0.9v0.9h-0.9zM60.2 453.7h0.9v0.9h-0.9zM33.7 449.6h0.9v0.9h-0.9zM49.4 455.0h0.9v0.9h-0.9zM57.5 451.8h0.9v0.9h-0.9zM38.4 450.4h0.9v0.9h-0.9zM52.9 452.7h0.9v0.9h-0.9zM48.9 453.6h0.9v0.9h-0.9zM43.0 456.3h0.9v0.9h-0.9zM53.4 451.6h0.9v0.9h-0.9zM60.1 447.4h0.9v0.9h-0.9zM56.1 454.8h0.9v0.9h-0.9zM58.3 452.3h0.9v0.9h-0.9zM54.5 451.3h0.9v0.9h-0.9zM52.9 452.2h0.9v0.9h-0.9zM52.9 453.4h0.9v0.9h-0.9zM54.3 455.5h0.9v0.9h-0.9zM47.7 449.1h0.9v0.9h-0.9zM50.7 449.6h0.9v0.9h-0.9zM55.5 452.1h0.9v0.9h-0.9zM48.3 455.6h0.9v0.9h-0.9zM54.9 456.3h0.9v0.9h-0.9zM51.2 452.1h0.9v0.9h-0.9zM49.1 456.0h0.9v0.9h-0.9zM54.9 452.9h0.9v0.9h-0.9zM54.4 455.3h0.9v0.9h-0.9zM59.8 451.4h0.9v0.9h-0.9zM54.1 452.5h0.9v0.9h-0.9zM49.3 450.4h0.9v0.9h-0.9zM56.3 449.8h0.9v0.9h-0.9zM50.5 453.8h0.9v0.9h-0.9zM50.8 451.2h0.9v0.9h-0.9zM54.3 451.7h0.9v0.9h-0.9zM61.4 454.8h0.9v0.9h-0.9zM52.3 453.7h0.9v0.9h-0.9zM58.0 446.7h0.9v0.9h-0.9zM46.6 453.3h0.9v0.9h-0.9zM51.9 454.9h0.9v0.9h-0.9zM54.7 452.9h0.9v0.9h-0.9zM55.9 450.4h0.9v0.9h-0.9zM53.0 453.7h0.9v0.9h-0.9zM54.8 452.0h0.9v0.9h-0.9zM51.3 457.2h0.9v0.9h-0.9zM58.1 453.0h0.9v0.9h-0.9zM47.8 454.0h0.9v0.9h-0.9zM49.9 456.8h0.9v0.9h-0.9zM54.7 450.5h0.9v0.9h-0.9zM58.4 453.7h0.9v0.9h-0.9zM55.9 454.7h0.9v0.9h-0.9zM55.0 452.2h0.9v0.9h-0.9zM46.2 447.2h0.9v0.9h-0.9zM59.2 451.0h0.9v0.9h-0.9zM53.8 455.2h0.9v0.9h-0.9zM54.1 454.7h0.9v0.9h-0.9zM54.5 455.0h0.9v0.9h-0.9zM52.2 450.2h0.9v0.9h-0.9zM41.6 449.5h0.9v0.9h-0.9zM56.1 450.3h0.9v0.9h-0.9zM49.1 450.4h0.9v0.9h-0.9zM43.6 454.9h0.9v0.9h-0.9zM54.4 450.9h0.9v0.9h-0.9zM47.5 455.0h0.9v0.9h-0.9zM51.7 452.5h0.9v0.9h-0.9zM50.7 454.4h0.9v0.9h-0.9zM48.9 449.9h0.9v0.9h-0.9zM47.9 452.7h0.9v0.9h-0.9zM48.2 450.0h0.9v0.9h-0.9zM46.4 451.9h0.9v0.9h-0.9zM54.2 454.1h0.9v0.9h-0.9zM53.6 456.3h0.9v0.9h-0.9zM45.3 452.0h0.9v0.9h-0.9zM42.5 452.9h0.9v0.9h-0.9zM51.4 446.8h0.9v0.9h-0.9zM53.6 449.5h0.9v0.9h-0.9zM50.6 451.4h0.9v0.9h-0.9zM53.4 457.5h0.9v0.9h-0.9zM49.4 457.6h0.9v0.9h-0.9zM46.1 449.8h0.9v0.9h-0.9zM57.9 450.2h0.9v0.9h-0.9zM57.7 448.7h0.9v0.9h-0.9zM54.2 454.4h0.9v0.9h-0.9zM41.4 453.5h0.9v0.9h-0.9zM49.1 452.3h0.9v0.9h-0.9zM50.9 454.8h0.9v0.9h-0.9zM56.8 453.4h0.9v0.9h-0.9zM50.7 453.7h0.9v0.9h-0.9zM39.3 454.5h0.9v0.9h-0.9zM46.6 453.0h0.9v0.9h-0.9zM52.0 454.5h0.9v0.9h-0.9zM45.7 455.0h0.9v0.9h-0.9zM61.3 455.1h0.9v0.9h-0.9zM43.0 453.2h0.9v0.9h-0.9zM41.5 454.4h0.9v0.9h-0.9zM52.4 449.8h0.9v0.9h-0.9zM50.2 453.6h0.9v0.9h-0.9zM45.3 452.4h0.9v0.9h-0.9zM49.2 449.1h0.9v0.9h-0.9zM50.9 452.9h0.9v0.9h-0.9zM52.7 455.2h0.9v0.9h-0.9zM56.3 452.6h0.9v0.9h-0.9zM42.8 451.0h0.9v0.9h-0.9zM54.2 458.3h0.9v0.9h-0.9zM47.5 454.9h0.9v0.9h-0.9zM49.7 449.2h0.9v0.9h-0.9zM58.9 454.1h0.9v0.9h-0.9zM48.0 450.5h0.9v0.9h-0.9zM51.6 459.9h0.9v0.9h-0.9zM49.1 453.4h0.9v0.9h-0.9zM44.6 450.1h0.9v0.9h-0.9zM52.4 454.3h0.9v0.9h-0.9zM53.3 454.1h0.9v0.9h-0.9zM51.7 452.4h0.9v0.9h-0.9zM48.6 454.2h0.9v0.9h-0.9zM54.8 451.9h0.9v0.9h-0.9zM56.0 453.7h0.9v0.9h-0.9zM51.0 449.5h0.9v0.9h-0.9zM47.1 450.5h0.9v0.9h-0.9zM55.5 450.5h0.9v0.9h-0.9zM54.3 452.7h0.9v0.9h-0.9zM50.4 452.3h0.9v0.9h-0.9zM56.8 453.6h0.9v0.9h-0.9zM57.5 450.2h0.9v0.9h-0.9zM39.4 451.1h0.9v0.9h-0.9zM50.1 448.9h0.9v0.9h-0.9zM46.1 451.4h0.9v0.9h-0.9zM47.7 454.0h0.9v0.9h-0.9zM47.1 449.8h0.9v0.9h-0.9zM47.8 448.7h0.9v0.9h-0.9zM48.9 453.6h0.9v0.9h-0.9zM47.4 455.2h0.9v0.9h-0.9zM47.5 452.2h0.9v0.9h-0.9zM46.3 454.3h0.9v0.9h-0.9zM53.9 452.3h0.9v0.9h-0.9zM46.1 457.1h0.9v0.9h-0.9zM53.1 455.5h0.9v0.9h-0.9zM41.9 451.0h0.9v0.9h-0.9zM56.7 450.8h0.9v0.9h-0.9zM40.0 453.0h0.9v0.9h-0.9zM53.8 454.6h0.9v0.9h-0.9zM47.4 451.0h0.9v0.9h-0.9zM48.5 451.9h0.9v0.9h-0.9zM53.6 452.3h0.9v0.9h-0.9zM51.0 451.6h0.9v0.9h-0.9zM52.4 451.3h0.9v0.9h-0.9zM46.3 451.6h0.9v0.9h-0.9zM46.7 451.9h0.9v0.9h-0.9zM57.9 451.0h0.9v0.9h-0.9zM51.3 452.6h0.9v0.9h-0.9zM47.0 450.4h0.9v0.9h-0.9zM57.1 451.3h0.9v0.9h-0.9zM49.0 452.9h0.9v0.9h-0.9zM49.9 450.4h0.9v0.9h-0.9zM60.5 451.4h0.9v0.9h-0.9zM52.5 451.1h0.9v0.9h-0.9zM48.1 451.9h0.9v0.9h-0.9zM49.9 450.1h0.9v0.9h-0.9zM51.3 451.8h0.9v0.9h-0.9zM56.9 457.2h0.9v0.9h-0.9zM46.7 451.1h0.9v0.9h-0.9zM54.6 452.7h0.9v0.9h-0.9zM48.7 455.3h0.9v0.9h-0.9zM49.3 451.4h0.9v0.9h-0.9zM51.0 452.2h0.9v0.9h-0.9zM55.1 450.8h0.9v0.9h-0.9zM49.2 448.7h0.9v0.9h-0.9zM46.3 455.9h0.9v0.9h-0.9zM58.7 449.0h0.9v0.9h-0.9zM51.9 450.2h0.9v0.9h-0.9zM50.8 449.6h0.9v0.9h-0.9zM50.7 451.6h0.9v0.9h-0.9zM47.7 451.2h0.9v0.9h-0.9zM42.9 451.5h0.9v0.9h-0.9zM51.8 454.6h0.9v0.9h-0.9zM50.9 449.9h0.9v0.9h-0.9zM47.9 450.8h0.9v0.9h-0.9zM48.8 449.0h0.9v0.9h-0.9zM46.4 452.4h0.9v0.9h-0.9zM45.6 455.9h0.9v0.9h-0.9zM52.1 450.3h0.9v0.9h-0.9zM48.6 454.5h0.9v0.9h-0.9zM47.9 445.8h0.9v0.9h-0.9zM57.1 455.8h0.9v0.9h-0.9zM53.4 456.8h0.9v0.9h-0.9zM48.0 450.1h0.9v0.9h-0.9zM53.8 451.1h0.9v0.9h-0.9zM48.0 452.2h0.9v0.9h-0.9zM46.5 454.1h0.9v0.9h-0.9zM46.7 449.3h0.9v0.9h-0.9zM52.4 453.2h0.9v0.9h-0.9zM49.0 454.1h0.9v0.9h-0.9zM50.2 456.2h0.9v0.9h-0.9zM50.0 448.7h0.9v0.9h-0.9zM51.3 449.5h0.9v0.9h-0.9zM48.8 452.3h0.9v0.9h-0.9zM52.5 450.1h0.9v0.9h-0.9zM52.0 453.3h0.9v0.9h-0.9zM54.1 454.1h0.9v0.9h-0.9zM63.1 449.9h0.9v0.9h-0.9zM55.1 451.8h0.9v0.9h-0.9zM51.8 453.9h0.9v0.9h-0.9zM52.4 455.9h0.9v0.9h-0.9zM47.1 452.6h0.9v0.9h-0.9zM53.6 449.7h0.9v0.9h-0.9zM57.9 448.6h0.9v0.9h-0.9zM46.2 451.8h0.9v0.9h-0.9zM56.0 451.7h0.9v0.9h-0.9zM48.5 454.0h0.9v0.9h-0.9zM44.3 452.7h0.9v0.9h-0.9zM48.5 450.3h0.9v0.9h-0.9zM58.9 454.7h0.9v0.9h-0.9zM50.2 452.5h0.9v0.9h-0.9zM48.6 448.3h0.9v0.9h-0.9zM47.0 452.6h0.9v0.9h-0.9zM42.2 456.5h0.9v0.9h-0.9zM45.1 452.1h0.9v0.9h-0.9zM55.3 451.9h0.9v0.9h-0.9zM53.8 456.4h0.9v0.9h-0.9zM47.3 452.0h0.9v0.9h-0.9zM58.8 451.6h0.9v0.9h-0.9zM57.4 454.0h0.9v0.9h-0.9zM53.6 453.3h0.9v0.9h-0.9zM41.0 453.2h0.9v0.9h-0.9zM52.9 453.1h0.9v0.9h-0.9zM50.8 451.2h0.9v0.9h-0.9zM42.4 454.3h0.9v0.9h-0.9zM52.6 455.5h0.9v0.9h-0.9zM54.7 453.5h0.9v0.9h-0.9zM52.2 454.6h0.9v0.9h-0.9zM48.8 453.7h0.9v0.9h-0.9zM52.8 449.0h0.9v0.9h-0.9zM57.3 454.6h0.9v0.9h-0.9zM52.2 453.8h0.9v0.9h-0.9zM55.1 449.3h0.9v0.9h-0.9zM61.0 457.1h0.9v0.9h-0.9zM51.4 453.4h0.9v0.9h-0.9zM47.9 452.1h0.9v0.9h-0.9zM46.8 453.2h0.9v0.9h-0.9zM53.9 450.9h0.9v0.9h-0.9zM41.7 452.8h0.9v0.9h-0.9zM49.1 448.4h0.9v0.9h-0.9zM46.7 453.7h0.9v0.9h-0.9zM46.7 449.1h0.9v0.9h-0.9zM50.6 456.3h0.9v0.9h-0.9zM53.1 452.8h0.9v0.9h-0.9zM50.1 453.1h0.9v0.9h-0.9zM55.5 454.4h0.9v0.9h-0.9zM48.3 451.3h0.9v0.9h-0.9zM55.3 452.9h0.9v0.9h-0.9zM58.5 455.7h0.9v0.9h-0.9zM49.9 451.3h0.9v0.9h-0.9zM47.5 453.2h0.9v0.9h-0.9zM50.0 456.6h0.9v0.9h-0.9zM55.0 448.2h0.9v0.9h-0.9zM51.6 449.5h0.9v0.9h-0.9zM52.2 448.3h0.9v0.9h-0.9zM54.6 451.7h0.9v0.9h-0.9zM55.3 449.4h0.9v0.9h-0.9zM44.3 451.8h0.9v0.9h-0.9zM53.2 452.5h0.9v0.9h-0.9zM52.5 450.6h0.9v0.9h-0.9zM51.1 451.5h0.9v0.9h-0.9zM53.0 452.0h0.9v0.9h-0.9zM43.1 452.0h0.9v0.9h-0.9zM60.6 449.1h0.9v0.9h-0.9zM55.5 450.4h0.9v0.9h-0.9zM51.1 450.7h0.9v0.9h-0.9zM45.4 449.2h0.9v0.9h-0.9zM48.8 455.4h0.9v0.9h-0.9zM60.9 450.0h0.9v0.9h-0.9zM38.9 452.5h0.9v0.9h-0.9zM52.9 447.9h0.9v0.9h-0.9zM57.1 447.0h0.9v0.9h-0.9zM52.4 450.7h0.9v0.9h-0.9zM55.0 451.7h0.9v0.9h-0.9zM54.5 454.7h0.9v0.9h-0.9zM51.7 455.6h0.9v0.9h-0.9zM49.9 453.9h0.9v0.9h-0.9zM49.6 456.4h0.9v0.9h-0.9zM43.2 448.8h0.9v0.9h-0.9zM47.1 454.6h0.9v0.9h-0.9zM54.6 456.2h0.9v0.9h-0.9zM53.1 447.9h0.9v0.9h-0.9zM44.5 452.1h0.9v0.9h-0.9zM52.7 453.9h0.9v0.9h-0.9zM50.5 451.5h0.9v0.9h-0.9zM52.7 451.1h0.9v0.9h-0.9zM47.5 454.3h0.9v0.9h-0.9zM50.1 452.2h0.9v0.9h-0.9zM41.6 455.7h0.9v0.9h-0.9zM48.4 454.0h0.9v0.9h-0.9zM50.4 454.8h0.9v0.9h-0.9zM48.7 452.7h0.9v0.9h-0.9zM51.9 452.5h0.9v0.9h-0.9zM45.8 452.2h0.9v0.9h-0.9zM48.5 448.6h0.9v0.9h-0.9zM46.5 453.3h0.9v0.9h-0.9zM69.0 451.9h0.9v0.9h-0.9zM45.1 449.6h0.9v0.9h-0.9zM59.0 452.4h0.9v0.9h-0.9zM60.4 452.8h0.9v0.9h-0.9zM54.1 458.6h0.9v0.9h-0.9zM55.9 454.3h0.9v0.9h-0.9zM45.8 456.9h0.9v0.9h-0.9zM46.8 448.2h0.9v0.9h-0.9zM54.9 453.8h0.9v0.9h-0.9zM60.8 452.1h0.9v0.9h-0.9zM49.8 455.8h0.9v0.9h-0.9zM56.1 453.0h0.9v0.9h-0.9zM57.9 453.9h0.9v0.9h-0.9zM45.5 450.9h0.9v0.9h-0.9zM55.4 450.7h0.9v0.9h-0.9zM49.5 456.6h0.9v0.9h-0.9zM51.7 459.2h0.9v0.9h-0.9zM54.6 452.9h0.9v0.9h-0.9zM46.3 451.0h0.9v0.9h-0.9zM43.6 453.9h0.9v0.9h-0.9zM56.7 454.6h0.9v0.9h-0.9zM56.2 454.2h0.9v0.9h-0.9zM58.6 455.4h0.9v0.9h-0.9zM47.1 453.6h0.9v0.9h-0.9zM45.1 448.6h0.9v0.9h-0.9zM47.0 450.8h0.9v0.9h-0.9zM53.6 447.4h0.9v0.9h-0.9zM51.0 450.1h0.9v0.9h-0.9zM45.7 449.5h0.9v0.9h-0.9zM60.7 452.7h0.9v0.9h-0.9zM45.3 441.9h0.9v0.9h-0.9zM50.2 456.3h0.9v0.9h-0.9zM60.8 448.8h0.9v0.9h-0.9zM55.8 452.7h0.9v0.9h-0.9zM57.7 454.2h0.9v0.9h-0.9zM43.3 452.5h0.9v0.9h-0.9zM53.4 456.3h0.9v0.9h-0.9zM49.3 452.8h0.9v0.9h-0.9zM45.0 454.1h0.9v0.9h-0.9zM46.4 448.0h0.9v0.9h-0.9zM53.3 452.8h0.9v0.9h-0.9zM47.2 452.1h0.9v0.9h-0.9zM52.4 446.9h0.9v0.9h-0.9zM48.1 458.7h0.9v0.9h-0.9zM58.0 453.1h0.9v0.9h-0.9zM47.9 447.1h0.9v0.9h-0.9zM47.5 452.0h0.9v0.9h-0.9zM43.5 452.5h0.9v0.9h-0.9zM50.0 450.6h0.9v0.9h-0.9zM49.8 453.9h0.9v0.9h-0.9zM48.2 455.2h0.9v0.9h-0.9zM63.6 452.4h0.9v0.9h-0.9zM44.5 448.9h0.9v0.9h-0.9zM47.8 449.9h0.9v0.9h-0.9zM47.9 455.9h0.9v0.9h-0.9zM59.2 451.6h0.9v0.9h-0.9zM55.8 456.9h0.9v0.9h-0.9zM53.6 450.9h0.9v0.9h-0.9zM48.6 451.7h0.9v0.9h-0.9zM47.6 453.9h0.9v0.9h-0.9zM57.7 453.9h0.9v0.9h-0.9zM47.2 450.1h0.9v0.9h-0.9zM50.3 449.4h0.9v0.9h-0.9zM42.3 454.3h0.9v0.9h-0.9zM44.2 455.2h0.9v0.9h-0.9zM49.0 451.0h0.9v0.9h-0.9zM48.4 455.0h0.9v0.9h-0.9zM46.4 451.1h0.9v0.9h-0.9zM45.6 452.4h0.9v0.9h-0.9zM40.9 452.3h0.9v0.9h-0.9zM56.3 455.2h0.9v0.9h-0.9zM35.9 455.6h0.9v0.9h-0.9zM50.0 455.1h0.9v0.9h-0.9zM55.9 451.3h0.9v0.9h-0.9zM48.5 454.9h0.9v0.9h-0.9zM59.6 448.4h0.9v0.9h-0.9zM50.2 453.8h0.9v0.9h-0.9zM53.5 454.9h0.9v0.9h-0.9zM44.1 456.8h0.9v0.9h-0.9zM41.1 456.2h0.9v0.9h-0.9zM53.1 456.2h0.9v0.9h-0.9zM47.5 451.7h0.9v0.9h-0.9zM43.8 454.1h0.9v0.9h-0.9zM52.6 449.5h0.9v0.9h-0.9zM49.5 453.4h0.9v0.9h-0.9zM46.4 448.8h0.9v0.9h-0.9zM61.2 454.5h0.9v0.9h-0.9zM49.7 456.9h0.9v0.9h-0.9zM45.5 452.7h0.9v0.9h-0.9zM43.0 456.3h0.9v0.9h-0.9zM55.9 455.5h0.9v0.9h-0.9zM52.3 452.1h0.9v0.9h-0.9zM50.7 452.7h0.9v0.9h-0.9zM45.2 449.9h0.9v0.9h-0.9zM51.9 449.3h0.9v0.9h-0.9zM46.6 455.2h0.9v0.9h-0.9zM44.5 453.0h0.9v0.9h-0.9zM57.7 453.4h0.9v0.9h-0.9zM50.2 449.8h0.9v0.9h-0.9zM53.1 454.1h0.9v0.9h-0.9zM56.1 452.8h0.9v0.9h-0.9zM54.3 455.8h0.9v0.9h-0.9zM53.9 449.5h0.9v0.9h-0.9zM45.2 453.0h0.9v0.9h-0.9zM50.7 456.4h0.9v0.9h-0.9zM57.0 449.2h0.9v0.9h-0.9zM49.2 450.6h0.9v0.9h-0.9zM46.4 447.9h0.9v0.9h-0.9zM51.1 454.3h0.9v0.9h-0.9zM52.7 448.8h0.9v0.9h-0.9zM54.2 454.0h0.9v0.9h-0.9zM50.6 452.7h0.9v0.9h-0.9zM55.9 451.8h0.9v0.9h-0.9zM49.0 450.9h0.9v0.9h-0.9zM46.1 456.8h0.9v0.9h-0.9zM47.7 449.0h0.9v0.9h-0.9zM41.9 450.6h0.9v0.9h-0.9zM60.9 453.0h0.9v0.9h-0.9zM55.9 448.4h0.9v0.9h-0.9zM57.8 454.2h0.9v0.9h-0.9zM54.0 451.8h0.9v0.9h-0.9zM49.6 451.5h0.9v0.9h-0.9zM53.5 453.1h0.9v0.9h-0.9zM63.2 451.4h0.9v0.9h-0.9zM54.4 452.6h0.9v0.9h-0.9zM47.5 453.2h0.9v0.9h-0.9zM51.3 453.5h0.9v0.9h-0.9zM45.6 454.7h0.9v0.9h-0.9zM48.3 452.0h0.9v0.9h-0.9zM44.1 450.6h0.9v0.9h-0.9zM43.0 455.3h0.9v0.9h-0.9zM54.2 451.8h0.9v0.9h-0.9zM48.6 452.3h0.9v0.9h-0.9zM50.9 450.0h0.9v0.9h-0.9zM48.7 451.5h0.9v0.9h-0.9zM51.7 454.9h0.9v0.9h-0.9zM55.4 448.7h0.9v0.9h-0.9zM58.7 454.1h0.9v0.9h-0.9zM55.8 456.7h0.9v0.9h-0.9zM52.9 453.8h0.9v0.9h-0.9zM48.9 451.4h0.9v0.9h-0.9zM50.4 454.8h0.9v0.9h-0.9zM44.0 451.9h0.9v0.9h-0.9zM50.9 454.3h0.9v0.9h-0.9zM54.8 446.5h0.9v0.9h-0.9zM48.1 446.3h0.9v0.9h-0.9zM48.0 454.4h0.9v0.9h-0.9zM53.0 454.0h0.9v0.9h-0.9zM51.2 448.3h0.9v0.9h-0.9zM60.6 454.6h0.9v0.9h-0.9zM60.5 451.6h0.9v0.9h-0.9zM50.6 452.3h0.9v0.9h-0.9zM52.5 453.3h0.9v0.9h-0.9zM55.4 454.3h0.9v0.9h-0.9zM54.2 452.9h0.9v0.9h-0.9zM56.9 454.8h0.9v0.9h-0.9zM44.2 456.0h0.9v0.9h-0.9zM50.2 457.0h0.9v0.9h-0.9zM51.7 453.9h0.9v0.9h-0.9zM48.2 451.0h0.9v0.9h-0.9zM50.6 448.9h0.9v0.9h-0.9zM60.6 455.5h0.9v0.9h-0.9zM55.4 451.9h0.9v0.9h-0.9zM49.2 450.8h0.9v0.9h-0.9zM45.4 457.6h0.9v0.9h-0.9zM47.3 453.5h0.9v0.9h-0.9zM53.6 445.9h0.9v0.9h-0.9zM50.8 454.8h0.9v0.9h-0.9zM57.7 456.7h0.9v0.9h-0.9zM44.4 458.3h0.9v0.9h-0.9zM54.0 448.4h0.9v0.9h-0.9zM45.3 455.1h0.9v0.9h-0.9zM54.5 453.0h0.9v0.9h-0.9zM56.7 451.8h0.9v0.9h-0.9zM57.0 453.8h0.9v0.9h-0.9zM49.4 456.2h0.9v0.9h-0.9zM56.4 448.0h0.9v0.9h-0.9zM61.7 456.1h0.9v0.9h-0.9zM51.2 451.9h0.9v0.9h-0.9zM48.3 451.3h0.9v0.9h-0.9zM48.8 452.1h0.9v0.9h-0.9zM55.2 447.7h0.9v0.9h-0.9zM48.2 453.7h0.9v0.9h-0.9zM53.5 449.2h0.9v0.9h-0.9zM54.4 450.0h0.9v0.9h-0.9zM55.1 453.3h0.9v0.9h-0.9zM47.4 454.4h0.9v0.9h-0.9zM55.9 453.7h0.9v0.9h-0.9zM52.1 451.4h0.9v0.9h-0.9zM54.3 450.3h0.9v0.9h-0.9zM45.3 454.1h0.9v0.9h-0.9zM53.0 451.8h0.9v0.9h-0.9zM54.9 452.2h0.9v0.9h-0.9zM53.8 453.5h0.9v0.9h-0.9zM55.7 455.3h0.9v0.9h-0.9zM52.1 452.0h0.9v0.9h-0.9zM55.2 450.1h0.9v0.9h-0.9zM50.2 453.2h0.9v0.9h-0.9zM47.6 450.5h0.9v0.9h-0.9zM49.4 453.8h0.9v0.9h-0.9zM58.7 483.4h0.9v0.9h-0.9zM59.2 482.2h0.9v0.9h-0.9zM62.3 471.1h0.9v0.9h-0.9zM63.5 484.7h0.9v0.9h-0.9zM57.6 490.3h0.9v0.9h-0.9zM58.3 483.7h0.9v0.9h-0.9zM60.9 482.4h0.9v0.9h-0.9zM60.3 484.0h0.9v0.9h-0.9zM58.2 484.2h0.9v0.9h-0.9zM63.4 480.1h0.9v0.9h-0.9zM61.8 491.9h0.9v0.9h-0.9zM53.7 486.6h0.9v0.9h-0.9zM59.5 471.0h0.9v0.9h-0.9zM58.7 489.2h0.9v0.9h-0.9zM58.0 490.5h0.9v0.9h-0.9zM60.5 488.8h0.9v0.9h-0.9zM59.5 489.7h0.9v0.9h-0.9zM60.7 462.2h0.9v0.9h-0.9zM57.8 484.4h0.9v0.9h-0.9zM61.2 477.3h0.9v0.9h-0.9zM58.2 490.6h0.9v0.9h-0.9zM58.3 485.1h0.9v0.9h-0.9zM57.4 484.7h0.9v0.9h-0.9zM55.9 486.1h0.9v0.9h-0.9zM60.2 484.3h0.9v0.9h-0.9zM61.4 474.8h0.9v0.9h-0.9zM54.0 485.8h0.9v0.9h-0.9zM55.3 486.8h0.9v0.9h-0.9zM63.1 480.1h0.9v0.9h-0.9zM56.3 490.5h0.9v0.9h-0.9zM59.6 470.0h0.9v0.9h-0.9zM61.7 486.4h0.9v0.9h-0.9zM59.7 481.7h0.9v0.9h-0.9zM63.2 482.8h0.9v0.9h-0.9zM64.6 483.0h0.9v0.9h-0.9zM56.3 483.8h0.9v0.9h-0.9zM61.8 482.0h0.9v0.9h-0.9zM58.8 487.5h0.9v0.9h-0.9zM54.8 475.7h0.9v0.9h-0.9zM62.5 479.2h0.9v0.9h-0.9zM57.0 475.3h0.9v0.9h-0.9zM61.4 476.0h0.9v0.9h-0.9zM56.1 481.2h0.9v0.9h-0.9zM57.5 485.4h0.9v0.9h-0.9zM63.0 478.1h0.9v0.9h-0.9zM62.0 490.4h0.9v0.9h-0.9zM60.2 484.5h0.9v0.9h-0.9zM63.3 479.0h0.9v0.9h-0.9zM63.5 490.6h0.9v0.9h-0.9zM62.2 480.7h0.9v0.9h-0.9zM56.7 482.0h0.9v0.9h-0.9zM56.1 480.2h0.9v0.9h-0.9zM61.6 479.7h0.9v0.9h-0.9zM62.1 477.0h0.9v0.9h-0.9zM56.0 479.0h0.9v0.9h-0.9zM63.0 484.5h0.9v0.9h-0.9zM60.0 483.6h0.9v0.9h-0.9zM58.8 479.9h0.9v0.9h-0.9zM58.7 474.2h0.9v0.9h-0.9zM62.5 490.4h0.9v0.9h-0.9zM54.6 481.5h0.9v0.9h-0.9zM58.2 480.8h0.9v0.9h-0.9zM60.0 481.5h0.9v0.9h-0.9zM56.2 474.1h0.9v0.9h-0.9zM59.3 468.5h0.9v0.9h-0.9zM57.2 488.9h0.9v0.9h-0.9zM58.6 478.8h0.9v0.9h-0.9zM59.8 488.2h0.9v0.9h-0.9zM62.3 475.4h0.9v0.9h-0.9zM61.4 481.7h0.9v0.9h-0.9zM57.7 487.5h0.9v0.9h-0.9zM60.5 489.7h0.9v0.9h-0.9zM60.7 484.8h0.9v0.9h-0.9zM61.0 483.2h0.9v0.9h-0.9zM53.1 484.9h0.9v0.9h-0.9zM59.9 473.1h0.9v0.9h-0.9zM58.6 486.6h0.9v0.9h-0.9zM62.0 476.2h0.9v0.9h-0.9zM59.5 481.7h0.9v0.9h-0.9zM58.2 488.0h0.9v0.9h-0.9zM64.3 480.6h0.9v0.9h-0.9zM59.9 484.7h0.9v0.9h-0.9zM61.5 481.4h0.9v0.9h-0.9zM57.7 491.0h0.9v0.9h-0.9zM54.7 479.9h0.9v0.9h-0.9zM60.0 487.0h0.9v0.9h-0.9zM58.8 477.9h0.9v0.9h-0.9zM55.6 474.8h0.9v0.9h-0.9zM57.7 477.4h0.9v0.9h-0.9zM52.1 493.2h0.9v0.9h-0.9zM60.5 488.3h0.9v0.9h-0.9zM58.9 487.1h0.9v0.9h-0.9zM57.6 488.0h0.9v0.9h-0.9zM58.3 486.0h0.9v0.9h-0.9zM61.4 479.2h0.9v0.9h-0.9zM57.3 475.0h0.9v0.9h-0.9zM57.4 493.0h0.9v0.9h-0.9zM64.1 480.8h0.9v0.9h-0.9zM61.7 482.9h0.9v0.9h-0.9zM59.8 480.7h0.9v0.9h-0.9zM61.6 476.3h0.9v0.9h-0.9zM57.1 490.1h0.9v0.9h-0.9zM64.1 484.6h0.9v0.9h-0.9zM54.9 471.5h0.9v0.9h-0.9zM56.4 485.1h0.9v0.9h-0.9zM59.9 484.6h0.9v0.9h-0.9zM63.8 479.4h0.9v0.9h-0.9zM58.6 481.1h0.9v0.9h-0.9zM58.7 480.7h0.9v0.9h-0.9zM59.9 479.7h0.9v0.9h-0.9zM54.2 481.3h0.9v0.9h-0.9zM59.8 485.8h0.9v0.9h-0.9zM58.2 486.1h0.9v0.9h-0.9zM57.9 477.3h0.9v0.9h-0.9zM52.5 485.3h0.9v0.9h-0.9zM54.2 475.4h0.9v0.9h-0.9zM60.4 493.5h0.9v0.9h-0.9zM60.1 492.7h0.9v0.9h-0.9zM55.6 481.9h0.9v0.9h-0.9zM57.5 484.7h0.9v0.9h-0.9zM60.8 475.5h0.9v0.9h-0.9zM59.1 482.3h0.9v0.9h-0.9zM58.1 482.0h0.9v0.9h-0.9zM63.8 473.5h0.9v0.9h-0.9zM57.6 477.3h0.9v0.9h-0.9zM58.4 486.3h0.9v0.9h-0.9zM57.1 480.2h0.9v0.9h-0.9zM55.7 486.7h0.9v0.9h-0.9zM56.5 486.6h0.9v0.9h-0.9zM55.4 483.7h0.9v0.9h-0.9zM63.5 487.9h0.9v0.9h-0.9zM62.4 481.4h0.9v0.9h-0.9zM59.9 485.0h0.9v0.9h-0.9zM59.2 483.1h0.9v0.9h-0.9zM53.7 487.2h0.9v0.9h-0.9zM56.9 485.8h0.9v0.9h-0.9zM55.2 482.7h0.9v0.9h-0.9zM60.3 485.2h0.9v0.9h-0.9zM56.3 480.7h0.9v0.9h-0.9zM59.7 479.8h0.9v0.9h-0.9zM57.5 478.5h0.9v0.9h-0.9zM58.6 492.6h0.9v0.9h-0.9zM61.3 476.1h0.9v0.9h-0.9zM56.1 474.2h0.9v0.9h-0.9zM57.9 491.8h0.9v0.9h-0.9zM63.3 484.1h0.9v0.9h-0.9zM56.6 479.4h0.9v0.9h-0.9zM55.6 488.2h0.9v0.9h-0.9zM59.7 480.1h0.9v0.9h-0.9zM61.6 482.8h0.9v0.9h-0.9zM56.1 481.8h0.9v0.9h-0.9zM59.8 476.4h0.9v0.9h-0.9zM58.6 486.2h0.9v0.9h-0.9zM53.5 477.4h0.9v0.9h-0.9zM60.7 482.8h0.9v0.9h-0.9zM55.8 470.9h0.9v0.9h-0.9zM60.1 482.5h0.9v0.9h-0.9zM58.2 471.0h0.9v0.9h-0.9zM61.1 485.1h0.9v0.9h-0.9zM58.3 485.0h0.9v0.9h-0.9zM60.2 475.4h0.9v0.9h-0.9zM55.9 477.8h0.9v0.9h-0.9zM57.1 487.4h0.9v0.9h-0.9zM62.3 484.7h0.9v0.9h-0.9zM60.8 486.8h0.9v0.9h-0.9zM60.3 478.3h0.9v0.9h-0.9zM60.9 490.7h0.9v0.9h-0.9zM53.8 487.1h0.9v0.9h-0.9zM60.1 486.2h0.9v0.9h-0.9zM56.3 483.6h0.9v0.9h-0.9zM60.3 492.0h0.9v0.9h-0.9zM62.8 473.1h0.9v0.9h-0.9zM63.6 490.0h0.9v0.9h-0.9zM58.8 489.7h0.9v0.9h-0.9zM55.3 481.0h0.9v0.9h-0.9zM60.4 484.1h0.9v0.9h-0.9zM60.4 477.2h0.9v0.9h-0.9zM56.1 489.6h0.9v0.9h-0.9zM59.8 480.5h0.9v0.9h-0.9zM62.3 491.6h0.9v0.9h-0.9zM59.8 478.3h0.9v0.9h-0.9zM64.7 475.7h0.9v0.9h-0.9zM58.6 486.4h0.9v0.9h-0.9zM57.4 492.3h0.9v0.9h-0.9zM59.4 491.2h0.9v0.9h-0.9zM59.0 480.3h0.9v0.9h-0.9zM58.4 489.6h0.9v0.9h-0.9zM61.3 487.1h0.9v0.9h-0.9zM64.1 486.4h0.9v0.9h-0.9zM61.0 493.9h0.9v0.9h-0.9zM58.0 488.0h0.9v0.9h-0.9zM63.1 485.1h0.9v0.9h-0.9zM59.0 492.2h0.9v0.9h-0.9zM57.7 484.5h0.9v0.9h-0.9zM58.3 482.4h0.9v0.9h-0.9zM55.9 492.7h0.9v0.9h-0.9zM54.8 488.1h0.9v0.9h-0.9zM57.7 480.4h0.9v0.9h-0.9zM54.0 479.1h0.9v0.9h-0.9zM59.3 471.8h0.9v0.9h-0.9zM59.7 473.6h0.9v0.9h-0.9zM60.3 487.8h0.9v0.9h-0.9zM63.2 491.1h0.9v0.9h-0.9zM56.5 489.4h0.9v0.9h-0.9zM57.9 475.0h0.9v0.9h-0.9zM62.1 483.0h0.9v0.9h-0.9zM59.7 487.4h0.9v0.9h-0.9zM56.8 490.7h0.9v0.9h-0.9zM60.8 478.1h0.9v0.9h-0.9zM57.0 478.4h0.9v0.9h-0.9zM59.8 477.1h0.9v0.9h-0.9zM65.5 490.0h0.9v0.9h-0.9zM58.7 488.0h0.9v0.9h-0.9zM59.3 487.1h0.9v0.9h-0.9zM54.8 483.9h0.9v0.9h-0.9zM58.6 482.3h0.9v0.9h-0.9zM57.8 488.3h0.9v0.9h-0.9zM58.6 473.8h0.9v0.9h-0.9zM55.6 490.1h0.9v0.9h-0.9zM62.2 472.5h0.9v0.9h-0.9zM56.9 490.1h0.9v0.9h-0.9zM57.8 477.9h0.9v0.9h-0.9zM62.6 484.4h0.9v0.9h-0.9zM54.6 475.4h0.9v0.9h-0.9zM60.3 478.1h0.9v0.9h-0.9zM63.7 478.4h0.9v0.9h-0.9zM59.8 487.7h0.9v0.9h-0.9zM60.5 482.8h0.9v0.9h-0.9zM56.4 484.5h0.9v0.9h-0.9zM49.2 493.5h0.9v0.9h-0.9zM61.5 490.9h0.9v0.9h-0.9zM61.7 478.7h0.9v0.9h-0.9zM60.9 481.5h0.9v0.9h-0.9zM63.0 469.7h0.9v0.9h-0.9zM59.6 492.1h0.9v0.9h-0.9zM60.0 482.4h0.9v0.9h-0.9zM63.5 477.1h0.9v0.9h-0.9zM59.7 489.7h0.9v0.9h-0.9zM55.5 477.0h0.9v0.9h-0.9zM61.3 481.9h0.9v0.9h-0.9zM59.2 477.0h0.9v0.9h-0.9zM61.8 484.1h0.9v0.9h-0.9zM55.1 488.2h0.9v0.9h-0.9zM63.5 489.2h0.9v0.9h-0.9zM58.4 481.9h0.9v0.9h-0.9zM58.0 482.5h0.9v0.9h-0.9zM59.6 486.2h0.9v0.9h-0.9zM57.1 490.9h0.9v0.9h-0.9zM56.2 470.2h0.9v0.9h-0.9zM57.8 475.0h0.9v0.9h-0.9zM59.1 483.7h0.9v0.9h-0.9zM60.1 491.9h0.9v0.9h-0.9zM61.8 488.6h0.9v0.9h-0.9zM61.8 485.5h0.9v0.9h-0.9zM56.5 469.3h0.9v0.9h-0.9zM62.6 488.8h0.9v0.9h-0.9zM58.7 478.7h0.9v0.9h-0.9zM54.9 483.5h0.9v0.9h-0.9zM59.6 483.4h0.9v0.9h-0.9zM60.3 481.5h0.9v0.9h-0.9zM55.7 490.0h0.9v0.9h-0.9zM57.2 476.4h0.9v0.9h-0.9zM58.7 489.4h0.9v0.9h-0.9zM60.7 491.5h0.9v0.9h-0.9zM60.1 486.5h0.9v0.9h-0.9zM60.9 488.7h0.9v0.9h-0.9zM61.9 483.4h0.9v0.9h-0.9zM59.6 486.0h0.9v0.9h-0.9zM57.1 483.6h0.9v0.9h-0.9zM58.3 471.8h0.9v0.9h-0.9zM57.5 482.1h0.9v0.9h-0.9zM56.7 488.5h0.9v0.9h-0.9zM59.8 478.4h0.9v0.9h-0.9zM55.3 477.3h0.9v0.9h-0.9zM60.5 478.8h0.9v0.9h-0.9zM58.5 481.4h0.9v0.9h-0.9zM58.5 485.0h0.9v0.9h-0.9zM59.2 490.8h0.9v0.9h-0.9zM59.4 479.2h0.9v0.9h-0.9zM61.7 482.2h0.9v0.9h-0.9zM59.7 481.1h0.9v0.9h-0.9zM58.1 489.5h0.9v0.9h-0.9zM62.7 478.4h0.9v0.9h-0.9zM56.6 487.4h0.9v0.9h-0.9zM54.7 475.8h0.9v0.9h-0.9zM60.1 482.7h0.9v0.9h-0.9zM57.3 486.3h0.9v0.9h-0.9zM53.2 493.6h0.9v0.9h-0.9zM57.3 485.5h0.9v0.9h-0.9zM60.0 486.2h0.9v0.9h-0.9zM61.3 482.0h0.9v0.9h-0.9zM66.4 478.5h0.9v0.9h-0.9zM57.6 473.9h0.9v0.9h-0.9zM57.8 481.1h0.9v0.9h-0.9zM61.0 484.7h0.9v0.9h-0.9zM60.7 488.0h0.9v0.9h-0.9zM62.5 480.2h0.9v0.9h-0.9zM58.8 489.6h0.9v0.9h-0.9zM58.6 486.2h0.9v0.9h-0.9zM57.8 478.0h0.9v0.9h-0.9zM57.7 486.4h0.9v0.9h-0.9zM59.6 489.0h0.9v0.9h-0.9zM61.5 480.3h0.9v0.9h-0.9zM57.5 478.0h0.9v0.9h-0.9zM54.4 484.1h0.9v0.9h-0.9zM59.2 482.8h0.9v0.9h-0.9zM60.7 479.0h0.9v0.9h-0.9zM54.4 489.2h0.9v0.9h-0.9zM60.3 473.7h0.9v0.9h-0.9zM59.9 492.6h0.9v0.9h-0.9zM62.1 487.7h0.9v0.9h-0.9zM57.5 477.1h0.9v0.9h-0.9zM57.3 481.9h0.9v0.9h-0.9zM57.7 482.5h0.9v0.9h-0.9zM62.7 491.0h0.9v0.9h-0.9zM57.5 487.3h0.9v0.9h-0.9zM59.5 473.2h0.9v0.9h-0.9zM60.6 477.4h0.9v0.9h-0.9zM57.7 485.9h0.9v0.9h-0.9zM55.6 479.5h0.9v0.9h-0.9zM58.3 490.1h0.9v0.9h-0.9zM60.5 482.5h0.9v0.9h-0.9zM59.0 486.7h0.9v0.9h-0.9zM63.4 487.5h0.9v0.9h-0.9zM59.2 490.2h0.9v0.9h-0.9zM60.6 482.1h0.9v0.9h-0.9zM57.1 490.6h0.9v0.9h-0.9zM56.1 477.9h0.9v0.9h-0.9zM59.6 480.5h0.9v0.9h-0.9zM59.4 484.6h0.9v0.9h-0.9zM58.3 490.9h0.9v0.9h-0.9zM55.8 488.5h0.9v0.9h-0.9zM57.9 480.9h0.9v0.9h-0.9zM56.6 481.5h0.9v0.9h-0.9zM56.1 475.1h0.9v0.9h-0.9zM57.3 486.7h0.9v0.9h-0.9zM59.0 481.4h0.9v0.9h-0.9zM53.4 494.0h0.9v0.9h-0.9zM59.5 493.4h0.9v0.9h-0.9zM58.5 473.6h0.9v0.9h-0.9zM62.4 491.6h0.9v0.9h-0.9zM63.4 490.9h0.9v0.9h-0.9zM55.1 479.1h0.9v0.9h-0.9zM57.0 490.3h0.9v0.9h-0.9zM69.2 491.5h0.9v0.9h-0.9zM60.5 492.2h0.9v0.9h-0.9zM58.4 487.4h0.9v0.9h-0.9zM58.8 481.4h0.9v0.9h-0.9zM55.4 492.4h0.9v0.9h-0.9zM57.7 493.2h0.9v0.9h-0.9zM62.6 487.7h0.9v0.9h-0.9zM56.4 479.7h0.9v0.9h-0.9zM58.3 472.0h0.9v0.9h-0.9zM57.4 479.9h0.9v0.9h-0.9zM63.6 478.2h0.9v0.9h-0.9zM61.9 475.5h0.9v0.9h-0.9zM58.9 480.0h0.9v0.9h-0.9zM61.6 482.1h0.9v0.9h-0.9zM60.0 484.2h0.9v0.9h-0.9zM59.4 485.2h0.9v0.9h-0.9zM60.3 488.8h0.9v0.9h-0.9zM60.7 489.1h0.9v0.9h-0.9zM59.7 485.7h0.9v0.9h-0.9zM56.3 488.3h0.9v0.9h-0.9zM57.4 482.5h0.9v0.9h-0.9zM59.9 480.4h0.9v0.9h-0.9zM55.5 484.3h0.9v0.9h-0.9zM59.3 476.5h0.9v0.9h-0.9zM60.2 474.9h0.9v0.9h-0.9zM54.1 483.6h0.9v0.9h-0.9zM62.5 478.2h0.9v0.9h-0.9zM59.3 485.6h0.9v0.9h-0.9zM64.9 478.1h0.9v0.9h-0.9zM53.7 492.2h0.9v0.9h-0.9zM61.2 482.8h0.9v0.9h-0.9zM58.0 476.6h0.9v0.9h-0.9zM60.2 484.4h0.9v0.9h-0.9zM58.9 475.7h0.9v0.9h-0.9zM58.0 485.7h0.9v0.9h-0.9zM60.1 486.4h0.9v0.9h-0.9zM57.3 476.1h0.9v0.9h-0.9zM59.1 490.8h0.9v0.9h-0.9zM59.0 476.4h0.9v0.9h-0.9zM57.8 491.7h0.9v0.9h-0.9zM57.9 474.8h0.9v0.9h-0.9zM56.3 494.2h0.9v0.9h-0.9zM58.2 477.5h0.9v0.9h-0.9zM58.2 480.0h0.9v0.9h-0.9zM57.9 481.9h0.9v0.9h-0.9zM61.9 475.0h0.9v0.9h-0.9zM57.2 473.5h0.9v0.9h-0.9zM61.5 480.8h0.9v0.9h-0.9zM55.5 489.2h0.9v0.9h-0.9zM56.6 490.5h0.9v0.9h-0.9zM58.4 468.2h0.9v0.9h-0.9zM63.0 472.9h0.9v0.9h-0.9zM60.0 480.7h0.9v0.9h-0.9zM61.3 481.4h0.9v0.9h-0.9zM59.2 479.2h0.9v0.9h-0.9zM56.3 485.4h0.9v0.9h-0.9zM40.6 457.8h0.9v0.9h-0.9zM46.6 465.5h0.9v0.9h-0.9zM50.7 479.9h0.9v0.9h-0.9zM30.0 471.3h0.9v0.9h-0.9zM43.5 478.6h0.9v0.9h-0.9zM62.8 463.4h0.9v0.9h-0.9zM23.4 490.6h0.9v0.9h-0.9zM53.0 465.5h0.9v0.9h-0.9zM37.9 474.7h0.9v0.9h-0.9zM57.4 465.9h0.9v0.9h-0.9zM65.1 469.3h0.9v0.9h-0.9zM57.9 463.6h0.9v0.9h-0.9zM53.8 445.9h0.9v0.9h-0.9zM56.3 480.4h0.9v0.9h-0.9zM54.3 453.9h0.9v0.9h-0.9zM34.4 493.1h0.9v0.9h-0.9zM41.0 479.1h0.9v0.9h-0.9zM49.9 468.7h0.9v0.9h-0.9zM43.3 470.1h0.9v0.9h-0.9zM49.6 473.0h0.9v0.9h-0.9zM37.1 463.3h0.9v0.9h-0.9zM44.0 452.4h0.9v0.9h-0.9zM35.2 448.4h0.9v0.9h-0.9zM22.2 480.7h0.9v0.9h-0.9zM33.2 465.6h0.9v0.9h-0.9zM33.1 491.7h0.9v0.9h-0.9zM53.7 487.5h0.9v0.9h-0.9zM43.6 467.3h0.9v0.9h-0.9zM47.9 462.8h0.9v0.9h-0.9zM52.8 481.0h0.9v0.9h-0.9zM50.2 457.5h0.9v0.9h-0.9zM58.0 452.0h0.9v0.9h-0.9zM37.2 485.8h0.9v0.9h-0.9zM46.0 454.7h0.9v0.9h-0.9zM34.3 456.9h0.9v0.9h-0.9zM55.1 474.8h0.9v0.9h-0.9zM44.6 464.0h0.9v0.9h-0.9zM42.5 479.9h0.9v0.9h-0.9zM51.5 486.6h0.9v0.9h-0.9zM38.6 474.7h0.9v0.9h-0.9zM47.4 451.1h0.9v0.9h-0.9zM61.6 478.2h0.9v0.9h-0.9zM49.6 469.0h0.9v0.9h-0.9zM25.2 462.3h0.9v0.9h-0.9zM46.9 493.4h0.9v0.9h-0.9zM57.1 451.9h0.9v0.9h-0.9zM43.8 477.2h0.9v0.9h-0.9zM38.0 452.9h0.9v0.9h-0.9zM34.6 446.6h0.9v0.9h-0.9zM48.2 462.6h0.9v0.9h-0.9zM59.7 468.1h0.9v0.9h-0.9zM44.0 463.0h0.9v0.9h-0.9zM40.6 488.2h0.9v0.9h-0.9zM53.4 455.1h0.9v0.9h-0.9zM52.6 463.7h0.9v0.9h-0.9zM38.5 470.3h0.9v0.9h-0.9zM58.6 461.1h0.9v0.9h-0.9zM45.1 459.7h0.9v0.9h-0.9zM61.8 467.2h0.9v0.9h-0.9zM39.0 473.2h0.9v0.9h-0.9zM41.4 482.1h0.9v0.9h-0.9zM60.2 469.1h0.9v0.9h-0.9zM44.9 473.0h0.9v0.9h-0.9zM40.7 474.3h0.9v0.9h-0.9zM44.3 469.1h0.9v0.9h-0.9zM42.3 474.7h0.9v0.9h-0.9zM25.9 473.9h0.9v0.9h-0.9zM34.4 455.9h0.9v0.9h-0.9zM50.9 477.2h0.9v0.9h-0.9zM38.1 448.7h0.9v0.9h-0.9zM56.8 477.9h0.9v0.9h-0.9zM66.4 458.9h0.9v0.9h-0.9zM36.2 492.8h0.9v0.9h-0.9zM60.4 456.5h0.9v0.9h-0.9zM44.3 444.8h0.9v0.9h-0.9zM44.6 477.6h0.9v0.9h-0.9zM35.3 475.5h0.9v0.9h-0.9zM52.0 475.7h0.9v0.9h-0.9zM40.2 455.7h0.9v0.9h-0.9zM52.5 485.3h0.9v0.9h-0.9zM51.3 444.6h0.9v0.9h-0.9zM41.7 468.4h0.9v0.9h-0.9zM48.8 476.4h0.9v0.9h-0.9zM29.5 466.8h0.9v0.9h-0.9zM50.6 462.8h0.9v0.9h-0.9zM37.6 457.7h0.9v0.9h-0.9zM33.0 476.7h0.9v0.9h-0.9zM25.6 480.8h0.9v0.9h-0.9zM38.0 477.1h0.9v0.9h-0.9zM57.8 470.5h0.9v0.9h-0.9zM37.8 487.8h0.9v0.9h-0.9zM45.7 450.9h0.9v0.9h-0.9zM55.4 454.4h0.9v0.9h-0.9zM35.1 463.8h0.9v0.9h-0.9zM46.9 468.2h0.9v0.9h-0.9zM28.8 453.6h0.9v0.9h-0.9zM50.5 479.9h0.9v0.9h-0.9zM36.5 489.7h0.9v0.9h-0.9zM42.7 462.4h0.9v0.9h-0.9zM34.5 484.0h0.9v0.9h-0.9zM47.6 460.3h0.9v0.9h-0.9zM32.4 452.4h0.9v0.9h-0.9zM45.4 461.0h0.9v0.9h-0.9zM51.8 485.1h0.9v0.9h-0.9zM27.5 482.0h0.9v0.9h-0.9zM54.5 455.0h0.9v0.9h-0.9zM37.3 462.1h0.9v0.9h-0.9zM52.6 453.0h0.9v0.9h-0.9zM60.8 483.1h0.9v0.9h-0.9zM53.0 460.9h0.9v0.9h-0.9zM61.6 470.2h0.9v0.9h-0.9zM61.7 472.7h0.9v0.9h-0.9zM43.9 468.3h0.9v0.9h-0.9zM55.9 478.9h0.9v0.9h-0.9zM41.2 491.9h0.9v0.9h-0.9zM46.6 474.8h0.9v0.9h-0.9zM54.5 487.2h0.9v0.9h-0.9zM32.6 446.1h0.9v0.9h-0.9zM38.4 457.2h0.9v0.9h-0.9zM56.0 474.1h0.9v0.9h-0.9zM44.9 454.2h0.9v0.9h-0.9zM48.1 468.3h0.9v0.9h-0.9zM42.0 461.8h0.9v0.9h-0.9zM48.6 469.5h0.9v0.9h-0.9zM54.2 471.8h0.9v0.9h-0.9zM59.4 490.8h0.9v0.9h-0.9zM62.3 478.9h0.9v0.9h-0.9zM35.0 466.9h0.9v0.9h-0.9zM64.4 481.8h0.9v0.9h-0.9zM47.1 468.5h0.9v0.9h-0.9zM28.2 464.5h0.9v0.9h-0.9zM37.1 468.4h0.9v0.9h-0.9zM41.2 480.7h0.9v0.9h-0.9zM47.4 463.2h0.9v0.9h-0.9zM22.3 470.0h0.9v0.9h-0.9zM45.1 460.3h0.9v0.9h-0.9zM55.5 478.0h0.9v0.9h-0.9zM52.2 461.4h0.9v0.9h-0.9zM31.9 491.9h0.9v0.9h-0.9zM54.7 457.4h0.9v0.9h-0.9zM47.9 450.3h0.9v0.9h-0.9zM51.3 459.5h0.9v0.9h-0.9zM63.4 475.9h0.9v0.9h-0.9zM37.9 467.9h0.9v0.9h-0.9zM30.1 461.5h0.9v0.9h-0.9zM48.6 476.3h0.9v0.9h-0.9zM47.9 463.1h0.9v0.9h-0.9zM24.8 456.0h0.9v0.9h-0.9zM57.9 476.1h0.9v0.9h-0.9zM33.1 468.7h0.9v0.9h-0.9zM35.3 460.1h0.9v0.9h-0.9zM48.7 479.3h0.9v0.9h-0.9zM36.7 477.8h0.9v0.9h-0.9zM45.8 460.5h0.9v0.9h-0.9zM63.2 462.0h0.9v0.9h-0.9zM49.3 463.9h0.9v0.9h-0.9zM55.3 466.0h0.9v0.9h-0.9zM39.2 476.3h0.9v0.9h-0.9zM50.8 463.1h0.9v0.9h-0.9zM52.7 482.6h0.9v0.9h-0.9zM36.3 445.0h0.9v0.9h-0.9zM32.4 460.4h0.9v0.9h-0.9zM64.6 457.2h0.9v0.9h-0.9zM33.0 469.9h0.9v0.9h-0.9zM29.0 462.3h0.9v0.9h-0.9zM58.1 464.7h0.9v0.9h-0.9zM39.7 473.8h0.9v0.9h-0.9zM41.8 452.3h0.9v0.9h-0.9zM56.5 451.4h0.9v0.9h-0.9zM34.0 452.1h0.9v0.9h-0.9zM36.3 467.4h0.9v0.9h-0.9zM63.5 464.8h0.9v0.9h-0.9zM67.4 467.0h0.9v0.9h-0.9zM28.3 475.6h0.9v0.9h-0.9zM58.9 453.1h0.9v0.9h-0.9zM40.6 456.4h0.9v0.9h-0.9zM57.2 461.7h0.9v0.9h-0.9zM30.3 464.1h0.9v0.9h-0.9zM57.4 477.1h0.9v0.9h-0.9zM46.4 456.9h0.9v0.9h-0.9zM53.1 478.1h0.9v0.9h-0.9zM36.5 463.8h0.9v0.9h-0.9zM50.8 477.0h0.9v0.9h-0.9zM51.0 478.7h0.9v0.9h-0.9zM58.4 474.4h0.9v0.9h-0.9zM50.2 451.7h0.9v0.9h-0.9zM44.2 456.6h0.9v0.9h-0.9zM43.7 475.1h0.9v0.9h-0.9zM45.4 458.2h0.9v0.9h-0.9zM60.7 482.7h0.9v0.9h-0.9zM46.8 477.7h0.9v0.9h-0.9zM27.2 464.7h0.9v0.9h-0.9zM63.9 485.1h0.9v0.9h-0.9zM56.0 447.2h0.9v0.9h-0.9zM50.4 453.8h0.9v0.9h-0.9zM45.0 480.5h0.9v0.9h-0.9zM46.3 474.1h0.9v0.9h-0.9zM44.2 450.4h0.9v0.9h-0.9zM34.2 463.8h0.9v0.9h-0.9zM32.9 477.0h0.9v0.9h-0.9zM46.7 460.7h0.9v0.9h-0.9zM60.4 488.7h0.9v0.9h-0.9zM59.3 474.7h0.9v0.9h-0.9zM62.2 472.9h0.9v0.9h-0.9zM34.8 473.4h0.9v0.9h-0.9zM41.4 469.6h0.9v0.9h-0.9zM68.0 467.9h0.9v0.9h-0.9zM38.0 462.9h0.9v0.9h-0.9zM45.1 494.2h0.9v0.9h-0.9zM48.2 483.5h0.9v0.9h-0.9zM39.1 474.4h0.9v0.9h-0.9zM31.4 486.7h0.9v0.9h-0.9zM41.8 465.0h0.9v0.9h-0.9zM46.3 492.0h0.9v0.9h-0.9zM32.1 475.7h0.9v0.9h-0.9zM33.6 471.5h0.9v0.9h-0.9zM31.8 482.8h0.9v0.9h-0.9zM65.5 463.2h0.9v0.9h-0.9zM20.9 451.7h0.9v0.9h-0.9zM29.9 475.7h0.9v0.9h-0.9zM42.6 462.4h0.9v0.9h-0.9zM39.3 473.5h0.9v0.9h-0.9zM55.7 474.2h0.9v0.9h-0.9zM46.9 472.4h0.9v0.9h-0.9zM33.6 457.8h0.9v0.9h-0.9zM39.5 466.1h0.9v0.9h-0.9zM46.3 460.1h0.9v0.9h-0.9zM44.9 469.7h0.9v0.9h-0.9zM52.6 474.6h0.9v0.9h-0.9zM49.1 470.7h0.9v0.9h-0.9zM25.2 461.4h0.9v0.9h-0.9zM45.1 469.2h0.9v0.9h-0.9zM31.5 484.9h0.9v0.9h-0.9zM57.9 463.7h0.9v0.9h-0.9zM60.7 448.9h0.9v0.9h-0.9zM57.2 470.3h0.9v0.9h-0.9zM38.5 457.6h0.9v0.9h-0.9zM48.2 459.1h0.9v0.9h-0.9zM44.2 462.5h0.9v0.9h-0.9zM58.0 446.3h0.9v0.9h-0.9zM51.7 468.0h0.9v0.9h-0.9zM54.2 478.4h0.9v0.9h-0.9zM32.8 466.2h0.9v0.9h-0.9zM43.5 475.6h0.9v0.9h-0.9zM55.1 457.9h0.9v0.9h-0.9zM69.0 470.9h0.9v0.9h-0.9zM49.1 462.7h0.9v0.9h-0.9zM39.2 486.7h0.9v0.9h-0.9zM31.4 477.5h0.9v0.9h-0.9zM57.1 477.9h0.9v0.9h-0.9zM47.7 468.8h0.9v0.9h-0.9zM24.4 457.3h0.9v0.9h-0.9zM45.9 473.3h0.9v0.9h-0.9zM54.9 477.5h0.9v0.9h-0.9zM50.8 468.2h0.9v0.9h-0.9zM63.1 471.9h0.9v0.9h-0.9zM50.7 488.7h0.9v0.9h-0.9zM41.4 459.7h0.9v0.9h-0.9zM53.1 468.2h0.9v0.9h-0.9zM57.0 458.0h0.9v0.9h-0.9zM36.9 475.5h0.9v0.9h-0.9zM47.5 461.6h0.9v0.9h-0.9zM54.7 466.7h0.9v0.9h-0.9zM44.6 474.6h0.9v0.9h-0.9zM62.0 479.3h0.9v0.9h-0.9zM31.5 455.7h0.9v0.9h-0.9zM43.8 450.2h0.9v0.9h-0.9zM43.1 468.1h0.9v0.9h-0.9zM50.7 464.8h0.9v0.9h-0.9zM34.7 464.9h0.9v0.9h-0.9zM41.8 493.6h0.9v0.9h-0.9zM53.5 471.4h0.9v0.9h-0.9zM48.1 470.8h0.9v0.9h-0.9zM32.9 469.2h0.9v0.9h-0.9zM41.7 467.5h0.9v0.9h-0.9zM36.5 477.7h0.9v0.9h-0.9zM42.4 454.8h0.9v0.9h-0.9zM52.5 470.5h0.9v0.9h-0.9zM37.1 462.8h0.9v0.9h-0.9zM43.5 483.6h0.9v0.9h-0.9zM56.2 454.7h0.9v0.9h-0.9zM34.1 450.1h0.9v0.9h-0.9zM48.3 466.0h0.9v0.9h-0.9zM37.4 473.0h0.9v0.9h-0.9zM41.4 493.3h0.9v0.9h-0.9zM54.8 471.0h0.9v0.9h-0.9zM68.2 466.8h0.9v0.9h-0.9zM27.9 443.2h0.9v0.9h-0.9zM57.6 470.4h0.9v0.9h-0.9zM38.5 466.8h0.9v0.9h-0.9zM44.3 444.9h0.9v0.9h-0.9zM24.8 460.1h0.9v0.9h-0.9zM46.1 475.9h0.9v0.9h-0.9zM52.9 486.3h0.9v0.9h-0.9zM39.2 447.4h0.9v0.9h-0.9zM47.5 468.9h0.9v0.9h-0.9zM62.2 471.3h0.9v0.9h-0.9zM48.5 462.6h0.9v0.9h-0.9zM38.9 486.1h0.9v0.9h-0.9zM39.4 445.4h0.9v0.9h-0.9zM44.0 467.7h0.9v0.9h-0.9zM31.5 452.5h0.9v0.9h-0.9zM39.5 446.8h0.9v0.9h-0.9zM42.6 465.8h0.9v0.9h-0.9zM35.6 458.9h0.9v0.9h-0.9zM35.2 467.7h0.9v0.9h-0.9zM47.1 461.0h0.9v0.9h-0.9zM30.0 485.4h0.9v0.9h-0.9zM33.2 466.0h0.9v0.9h-0.9zM25.8 478.0h0.9v0.9h-0.9zM44.8 469.7h0.9v0.9h-0.9zM61.2 471.5h0.9v0.9h-0.9zM62.9 473.1h0.9v0.9h-0.9zM69.2 474.9h0.9v0.9h-0.9zM29.1 482.8h0.9v0.9h-0.9zM47.0 459.1h0.9v0.9h-0.9zM45.8 473.1h0.9v0.9h-0.9zM42.9 477.8h0.9v0.9h-0.9zM38.5 458.3h0.9v0.9h-0.9zM27.6 464.9h0.9v0.9h-0.9zM42.7 465.6h0.9v0.9h-0.9zM49.5 472.5h0.9v0.9h-0.9zM37.0 464.9h0.9v0.9h-0.9zM49.4 462.0h0.9v0.9h-0.9zM35.2 478.3h0.9v0.9h-0.9zM37.5 455.0h0.9v0.9h-0.9zM50.5 473.7h0.9v0.9h-0.9zM60.0 459.4h0.9v0.9h-0.9zM43.4 460.8h0.9v0.9h-0.9zM41.7 479.9h0.9v0.9h-0.9zM47.5 476.6h0.9v0.9h-0.9zM62.4 473.1h0.9v0.9h-0.9zM41.6 469.4h0.9v0.9h-0.9zM49.0 450.3h0.9v0.9h-0.9zM26.4 460.1h0.9v0.9h-0.9zM68.1 483.8h0.9v0.9h-0.9zM56.8 458.4h0.9v0.9h-0.9zM20.6 463.1h0.9v0.9h-0.9zM60.2 482.0h0.9v0.9h-0.9zM33.3 468.2h0.9v0.9h-0.9zM39.0 460.8h0.9v0.9h-0.9zM46.1 465.4h0.9v0.9h-0.9zM43.5 476.6h0.9v0.9h-0.9zM42.9 446.9h0.9v0.9h-0.9zM46.0 474.9h0.9v0.9h-0.9zM29.2 474.6h0.9v0.9h-0.9zM60.0 470.7h0.9v0.9h-0.9zM38.1 477.5h0.9v0.9h-0.9zM53.1 477.5h0.9v0.9h-0.9zM54.6 460.7h0.9v0.9h-0.9zM34.1 488.6h0.9v0.9h-0.9zM59.3 460.4h0.9v0.9h-0.9zM41.2 472.5h0.9v0.9h-0.9zM43.6 478.9h0.9v0.9h-0.9zM44.8 466.0h0.9v0.9h-0.9zM29.7 455.4h0.9v0.9h-0.9zM32.0 449.5h0.9v0.9h-0.9zM22.1 471.5h0.9v0.9h-0.9zM60.8 473.3h0.9v0.9h-0.9zM72.0 453.1h0.9v0.9h-0.9zM63.0 470.9h0.9v0.9h-0.9zM25.2 463.4h0.9v0.9h-0.9zM37.7 457.2h0.9v0.9h-0.9zM20.7 470.3h0.9v0.9h-0.9zM54.2 480.2h0.9v0.9h-0.9zM60.9 462.9h0.9v0.9h-0.9zM62.0 461.7h0.9v0.9h-0.9zM65.8 475.1h0.9v0.9h-0.9zM48.1 491.6h0.9v0.9h-0.9zM22.1 473.0h0.9v0.9h-0.9zM46.4 474.0h0.9v0.9h-0.9zM62.6 482.0h0.9v0.9h-0.9zM40.1 479.8h0.9v0.9h-0.9zM71.1 475.5h0.9v0.9h-0.9zM35.5 450.5h0.9v0.9h-0.9zM45.8 452.1h0.9v0.9h-0.9zM48.9 460.6h0.9v0.9h-0.9zM28.9 464.9h0.9v0.9h-0.9zM56.6 486.7h0.9v0.9h-0.9zM38.9 465.0h0.9v0.9h-0.9zM29.4 462.0h0.9v0.9h-0.9zM41.1 491.7h0.9v0.9h-0.9zM43.8 487.3h0.9v0.9h-0.9zM47.5 477.2h0.9v0.9h-0.9zM45.3 467.4h0.9v0.9h-0.9zM37.3 462.1h0.9v0.9h-0.9zM28.5 488.5h0.9v0.9h-0.9zM28.9 474.2h0.9v0.9h-0.9zM63.1 480.9h0.9v0.9h-0.9zM35.3 468.4h0.9v0.9h-0.9zM34.0 464.1h0.9v0.9h-0.9zM44.1 479.8h0.9v0.9h-0.9zM52.9 464.3h0.9v0.9h-0.9zM48.6 487.1h0.9v0.9h-0.9zM50.0 475.8h0.9v0.9h-0.9zM47.4 471.2h0.9v0.9h-0.9zM25.7 474.0h0.9v0.9h-0.9zM35.8 456.7h0.9v0.9h-0.9zM50.7 482.6h0.9v0.9h-0.9zM47.7 468.0h0.9v0.9h-0.9zM41.4 462.4h0.9v0.9h-0.9zM42.6 475.6h0.9v0.9h-0.9zM46.6 490.2h0.9v0.9h-0.9zM22.2 461.8h0.9v0.9h-0.9zM50.6 460.8h0.9v0.9h-0.9zM30.5 473.6h0.9v0.9h-0.9zM59.5 476.9h0.9v0.9h-0.9zM41.5 470.5h0.9v0.9h-0.9zM39.1 480.1h0.9v0.9h-0.9zM45.0 476.9h0.9v0.9h-0.9zM41.4 490.5h0.9v0.9h-0.9zM50.4 464.3h0.9v0.9h-0.9zM47.6 450.9h0.9v0.9h-0.9zM21.5 474.6h0.9v0.9h-0.9zM48.8 480.0h0.9v0.9h-0.9zM36.7 476.8h0.9v0.9h-0.9zM33.4 469.8h0.9v0.9h-0.9zM30.0 477.9h0.9v0.9h-0.9zM62.6 462.2h0.9v0.9h-0.9zM47.9 473.2h0.9v0.9h-0.9zM24.8 461.5h0.9v0.9h-0.9zM29.5 467.0h0.9v0.9h-0.9zM40.9 461.7h0.9v0.9h-0.9zM50.7 458.3h0.9v0.9h-0.9zM55.7 477.3h0.9v0.9h-0.9zM31.8 448.5h0.9v0.9h-0.9zM36.2 478.5h0.9v0.9h-0.9zM44.4 462.7h0.9v0.9h-0.9zM42.9 446.9h0.9v0.9h-0.9zM24.1 455.8h0.9v0.9h-0.9zM48.0 466.5h0.9v0.9h-0.9zM42.1 459.4h0.9v0.9h-0.9zM52.6 459.0h0.9v0.9h-0.9zM40.0 467.8h0.9v0.9h-0.9zM42.0 450.3h0.9v0.9h-0.9zM34.6 473.4h0.9v0.9h-0.9zM47.2 464.8h0.9v0.9h-0.9zM46.2 453.6h0.9v0.9h-0.9zM47.0 468.0h0.9v0.9h-0.9zM33.6 482.7h0.9v0.9h-0.9zM53.7 472.8h0.9v0.9h-0.9zM47.8 476.1h0.9v0.9h-0.9zM40.4 466.4h0.9v0.9h-0.9zM55.6 475.2h0.9v0.9h-0.9zM33.8 467.5h0.9v0.9h-0.9zM38.0 454.1h0.9v0.9h-0.9zM27.2 454.7h0.9v0.9h-0.9zM27.3 462.7h0.9v0.9h-0.9zM57.2 454.9h0.9v0.9h-0.9zM32.7 466.4h0.9v0.9h-0.9zM49.8 471.9h0.9v0.9h-0.9zM23.8 485.6h0.9v0.9h-0.9zM41.9 479.9h0.9v0.9h-0.9zM36.0 462.7h0.9v0.9h-0.9zM57.2 468.0h0.9v0.9h-0.9zM49.3 478.2h0.9v0.9h-0.9zM49.2 466.2h0.9v0.9h-0.9zM39.5 472.6h0.9v0.9h-0.9zM53.3 473.9h0.9v0.9h-0.9zM47.3 456.5h0.9v0.9h-0.9zM38.6 477.6h0.9v0.9h-0.9zM50.5 452.7h0.9v0.9h-0.9zM55.3 474.1h0.9v0.9h-0.9zM28.8 471.1h0.9v0.9h-0.9zM35.4 464.7h0.9v0.9h-0.9zM41.3 469.1h0.9v0.9h-0.9zM42.7 476.1h0.9v0.9h-0.9zM43.1 468.5h0.9v0.9h-0.9zM48.5 474.5h0.9v0.9h-0.9zM54.6 490.7h0.9v0.9h-0.9zM49.5 466.8h0.9v0.9h-0.9zM38.7 479.3h0.9v0.9h-0.9zM45.5 457.0h0.9v0.9h-0.9zM45.3 465.8h0.9v0.9h-0.9zM47.2 466.6h0.9v0.9h-0.9zM33.1 458.6h0.9v0.9h-0.9zM31.5 471.3h0.9v0.9h-0.9zM60.2 461.0h0.9v0.9h-0.9zM27.8 467.6h0.9v0.9h-0.9zM59.6 469.0h0.9v0.9h-0.9zM41.9 464.2h0.9v0.9h-0.9zM44.3 455.7h0.9v0.9h-0.9zM42.4 473.8h0.9v0.9h-0.9zM36.0 464.8h0.9v0.9h-0.9zM60.0 481.4h0.9v0.9h-0.9zM29.4 450.4h0.9v0.9h-0.9zM48.0 477.1h0.9v0.9h-0.9zM53.9 468.2h0.9v0.9h-0.9zM48.7 478.6h0.9v0.9h-0.9zM50.9 481.6h0.9v0.9h-0.9zM23.5 479.8h0.9v0.9h-0.9zM49.1 462.1h0.9v0.9h-0.9zM24.4 475.3h0.9v0.9h-0.9zM42.3 471.7h0.9v0.9h-0.9zM35.4 475.1h0.9v0.9h-0.9zM55.2 464.7h0.9v0.9h-0.9zM51.8 467.5h0.9v0.9h-0.9zM50.1 473.6h0.9v0.9h-0.9zM66.3 459.2h0.9v0.9h-0.9zM67.5 455.8h0.9v0.9h-0.9zM38.3 460.8h0.9v0.9h-0.9zM48.8 481.1h0.9v0.9h-0.9zM57.2 458.2h0.9v0.9h-0.9zM44.8 477.8h0.9v0.9h-0.9zM53.3 468.6h0.9v0.9h-0.9zM56.5 466.1h0.9v0.9h-0.9zM36.9 454.2h0.9v0.9h-0.9zM57.9 466.7h0.9v0.9h-0.9zM38.0 456.1h0.9v0.9h-0.9zM53.0 479.3h0.9v0.9h-0.9zM50.5 481.1h0.9v0.9h-0.9zM40.5 466.3h0.9v0.9h-0.9zM36.7 473.1h0.9v0.9h-0.9zM30.0 479.6h0.9v0.9h-0.9zM48.9 470.4h0.9v0.9h-0.9zM61.5 464.1h0.9v0.9h-0.9zM62.1 468.0h0.9v0.9h-0.9zM43.0 477.2h0.9v0.9h-0.9zM35.6 468.5h0.9v0.9h-0.9zM64.6 482.7h0.9v0.9h-0.9zM32.6 467.6h0.9v0.9h-0.9zM57.6 466.4h0.9v0.9h-0.9zM30.3 477.4h0.9v0.9h-0.9zM32.3 471.4h0.9v0.9h-0.9zM34.2 481.4h0.9v0.9h-0.9zM53.5 478.4h0.9v0.9h-0.9zM48.6 466.1h0.9v0.9h-0.9zM56.2 466.2h0.9v0.9h-0.9zM44.6 469.5h0.9v0.9h-0.9zM37.8 454.1h0.9v0.9h-0.9zM45.5 479.2h0.9v0.9h-0.9zM38.2 487.8h0.9v0.9h-0.9zM41.2 450.3h0.9v0.9h-0.9zM31.1 446.4h0.9v0.9h-0.9zM67.0 473.5h0.9v0.9h-0.9zM51.7 459.2h0.9v0.9h-0.9zM52.0 467.9h0.9v0.9h-0.9zM43.0 456.5h0.9v0.9h-0.9zM42.8 462.0h0.9v0.9h-0.9zM58.2 455.7h0.9v0.9h-0.9zM40.3 477.0h0.9v0.9h-0.9zM48.6 467.0h0.9v0.9h-0.9zM64.2 475.1h0.9v0.9h-0.9zM33.7 447.1h0.9v0.9h-0.9zM31.0 468.7h0.9v0.9h-0.9zM47.6 451.9h0.9v0.9h-0.9zM50.5 467.7h0.9v0.9h-0.9zM32.3 459.4h0.9v0.9h-0.9zM46.9 479.0h0.9v0.9h-0.9zM69.8 459.6h0.9v0.9h-0.9zM38.6 462.1h0.9v0.9h-0.9zM54.4 457.0h0.9v0.9h-0.9zM39.0 471.3h0.9v0.9h-0.9zM46.2 462.8h0.9v0.9h-0.9zM54.8 476.5h0.9v0.9h-0.9zM52.2 460.6h0.9v0.9h-0.9zM37.8 479.9h0.9v0.9h-0.9zM46.4 451.0h0.9v0.9h-0.9zM24.3 457.7h0.9v0.9h-0.9zM51.9 457.1h0.9v0.9h-0.9zM41.0 456.5h0.9v0.9h-0.9zM42.1 467.0h0.9v0.9h-0.9zM26.1 445.7h0.9v0.9h-0.9zM54.1 466.9h0.9v0.9h-0.9zM37.3 443.5h0.9v0.9h-0.9zM70.9 468.8h0.9v0.9h-0.9zM42.7 478.9h0.9v0.9h-0.9zM34.0 472.5h0.9v0.9h-0.9zM42.1 463.0h0.9v0.9h-0.9zM49.2 463.8h0.9v0.9h-0.9zM66.4 455.4h0.9v0.9h-0.9zM23.1 457.7h0.9v0.9h-0.9zM43.5 473.3h0.9v0.9h-0.9zM41.4 462.6h0.9v0.9h-0.9zM42.3 464.7h0.9v0.9h-0.9zM39.5 481.6h0.9v0.9h-0.9zM38.5 479.6h0.9v0.9h-0.9zM51.5 459.1h0.9v0.9h-0.9zM44.1 472.4h0.9v0.9h-0.9zM29.3 462.8h0.9v0.9h-0.9zM51.5 476.9h0.9v0.9h-0.9zM47.6 466.3h0.9v0.9h-0.9zM32.3 479.0h0.9v0.9h-0.9zM44.3 466.4h0.9v0.9h-0.9zM55.8 490.2h0.9v0.9h-0.9zM41.8 474.5h0.9v0.9h-0.9zM45.2 475.9h0.9v0.9h-0.9zM46.3 466.4h0.9v0.9h-0.9zM29.5 483.3h0.9v0.9h-0.9zM57.0 453.6h0.9v0.9h-0.9zM28.7 468.0h0.9v0.9h-0.9zM43.9 466.1h0.9v0.9h-0.9zM38.9 455.8h0.9v0.9h-0.9zM35.7 454.8h0.9v0.9h-0.9zM41.8 459.3h0.9v0.9h-0.9zM30.5 471.7h0.9v0.9h-0.9zM52.0 470.3h0.9v0.9h-0.9zM40.6 458.9h0.9v0.9h-0.9zM41.0 471.9h0.9v0.9h-0.9zM36.2 457.7h0.9v0.9h-0.9zM42.6 471.0h0.9v0.9h-0.9zM29.3 464.8h0.9v0.9h-0.9zM32.7 447.7h0.9v0.9h-0.9zM41.3 455.1h0.9v0.9h-0.9zM37.5 456.5h0.9v0.9h-0.9zM52.1 470.5h0.9v0.9h-0.9zM48.8 454.4h0.9v0.9h-0.9zM56.8 458.9h0.9v0.9h-0.9zM54.4 462.0h0.9v0.9h-0.9zM20.7 486.7h0.9v0.9h-0.9zM46.8 483.8h0.9v0.9h-0.9zM54.2 460.4h0.9v0.9h-0.9zM57.6 476.9h0.9v0.9h-0.9zM58.8 460.1h0.9v0.9h-0.9zM39.7 464.9h0.9v0.9h-0.9zM39.3 472.3h0.9v0.9h-0.9zM43.6 465.5h0.9v0.9h-0.9zM44.9 476.2h0.9v0.9h-0.9zM47.2 472.8h0.9v0.9h-0.9zM59.6 460.4h0.9v0.9h-0.9zM36.9 472.6h0.9v0.9h-0.9zM64.2 481.5h0.9v0.9h-0.9zM61.2 473.3h0.9v0.9h-0.9zM52.4 450.1h0.9v0.9h-0.9zM51.9 479.2h0.9v0.9h-0.9zM58.6 455.6h0.9v0.9h-0.9zM49.9 476.3h0.9v0.9h-0.9zM44.4 458.9h0.9v0.9h-0.9zM50.3 466.9h0.9v0.9h-0.9zM31.0 475.6h0.9v0.9h-0.9zM21.8 468.7h0.9v0.9h-0.9zM36.8 467.2h0.9v0.9h-0.9zM34.2 478.8h0.9v0.9h-0.9zM40.4 456.8h0.9v0.9h-0.9zM49.8 459.0h0.9v0.9h-0.9zM58.5 484.2h0.9v0.9h-0.9zM25.0 464.4h0.9v0.9h-0.9zM52.5 472.9h0.9v0.9h-0.9zM21.6 456.6h0.9v0.9h-0.9zM37.3 481.1h0.9v0.9h-0.9zM30.4 468.4h0.9v0.9h-0.9zM31.6 464.7h0.9v0.9h-0.9zM28.3 465.6h0.9v0.9h-0.9zM54.7 474.0h0.9v0.9h-0.9zM46.3 473.1h0.9v0.9h-0.9zM23.0 480.9h0.9v0.9h-0.9zM24.7 483.3h0.9v0.9h-0.9zM44.4 467.3h0.9v0.9h-0.9zM55.5 462.6h0.9v0.9h-0.9zM41.0 464.8h0.9v0.9h-0.9zM49.3 481.5h0.9v0.9h-0.9zM39.9 468.8h0.9v0.9h-0.9zM44.2 474.5h0.9v0.9h-0.9zM45.8 467.4h0.9v0.9h-0.9zM53.7 471.2h0.9v0.9h-0.9zM53.6 485.2h0.9v0.9h-0.9zM55.6 469.5h0.9v0.9h-0.9zM41.7 468.2h0.9v0.9h-0.9zM43.6 475.5h0.9v0.9h-0.9zM42.7 476.9h0.9v0.9h-0.9zM38.3 477.4h0.9v0.9h-0.9zM45.4 472.0h0.9v0.9h-0.9zM33.2 460.7h0.9v0.9h-0.9zM33.1 471.1h0.9v0.9h-0.9zM58.6 486.0h0.9v0.9h-0.9zM55.2 457.7h0.9v0.9h-0.9zM39.1 469.5h0.9v0.9h-0.9zM30.2 460.3h0.9v0.9h-0.9zM42.6 464.3h0.9v0.9h-0.9zM62.7 458.5h0.9v0.9h-0.9zM55.0 458.4h0.9v0.9h-0.9zM34.5 469.3h0.9v0.9h-0.9zM67.3 472.3h0.9v0.9h-0.9zM47.6 448.3h0.9v0.9h-0.9zM50.5 469.8h0.9v0.9h-0.9zM44.8 452.8h0.9v0.9h-0.9zM51.9 487.7h0.9v0.9h-0.9zM63.9 478.2h0.9v0.9h-0.9zM33.6 472.4h0.9v0.9h-0.9zM32.6 451.9h0.9v0.9h-0.9zM39.9 473.1h0.9v0.9h-0.9zM36.9 461.6h0.9v0.9h-0.9zM52.2 473.9h0.9v0.9h-0.9zM45.9 473.7h0.9v0.9h-0.9zM65.2 466.5h0.9v0.9h-0.9zM57.9 464.2h0.9v0.9h-0.9zM36.0 471.9h0.9v0.9h-0.9zM44.5 486.2h0.9v0.9h-0.9zM41.4 463.0h0.9v0.9h-0.9zM46.3 480.4h0.9v0.9h-0.9zM44.0 456.5h0.9v0.9h-0.9zM39.8 471.8h0.9v0.9h-0.9zM44.2 485.7h0.9v0.9h-0.9zM50.9 445.6h0.9v0.9h-0.9zM45.4 464.8h0.9v0.9h-0.9zM46.3 480.2h0.9v0.9h-0.9zM38.5 469.9h0.9v0.9h-0.9zM45.2 471.6h0.9v0.9h-0.9zM47.1 457.1h0.9v0.9h-0.9zM45.4 481.9h0.9v0.9h-0.9zM71.0 454.5h0.9v0.9h-0.9zM56.9 451.9h0.9v0.9h-0.9zM34.2 463.0h0.9v0.9h-0.9zM42.9 475.2h0.9v0.9h-0.9zM54.5 479.2h0.9v0.9h-0.9zM48.9 480.3h0.9v0.9h-0.9zM45.3 482.7h0.9v0.9h-0.9zM57.5 469.7h0.9v0.9h-0.9zM41.7 473.6h0.9v0.9h-0.9zM27.2 455.6h0.9v0.9h-0.9zM44.3 453.9h0.9v0.9h-0.9zM49.7 442.3h0.9v0.9h-0.9zM37.8 480.7h0.9v0.9h-0.9zM28.2 479.8h0.9v0.9h-0.9zM22.7 459.5h0.9v0.9h-0.9zM32.9 472.2h0.9v0.9h-0.9zM21.3 461.6h0.9v0.9h-0.9zM24.1 476.1h0.9v0.9h-0.9zM59.5 463.1h0.9v0.9h-0.9zM34.7 467.7h0.9v0.9h-0.9zM62.7 460.7h0.9v0.9h-0.9zM61.7 475.8h0.9v0.9h-0.9zM54.5 467.7h0.9v0.9h-0.9zM49.6 463.7h0.9v0.9h-0.9zM63.6 457.4h0.9v0.9h-0.9zM52.3 465.0h0.9v0.9h-0.9zM41.1 467.5h0.9v0.9h-0.9zM34.8 461.6h0.9v0.9h-0.9zM53.3 462.1h0.9v0.9h-0.9zM58.9 469.1h0.9v0.9h-0.9zM35.1 487.9h0.9v0.9h-0.9zM41.5 449.5h0.9v0.9h-0.9zM58.3 468.5h0.9v0.9h-0.9zM22.3 474.8h0.9v0.9h-0.9zM36.4 472.5h0.9v0.9h-0.9zM59.3 452.6h0.9v0.9h-0.9zM44.8 471.6h0.9v0.9h-0.9zM32.2 458.2h0.9v0.9h-0.9zM57.6 475.8h0.9v0.9h-0.9zM43.1 465.8h0.9v0.9h-0.9zM31.3 446.0h0.9v0.9h-0.9zM55.5 474.8h0.9v0.9h-0.9zM49.7 454.3h0.9v0.9h-0.9zM52.3 461.7h0.9v0.9h-0.9zM25.9 469.6h0.9v0.9h-0.9zM31.6 462.5h0.9v0.9h-0.9zM51.4 470.3h0.9v0.9h-0.9zM58.8 480.8h0.9v0.9h-0.9zM36.7 468.6h0.9v0.9h-0.9zM52.5 477.4h0.9v0.9h-0.9zM22.7 470.9h0.9v0.9h-0.9zM46.5 465.1h0.9v0.9h-0.9zM39.7 479.3h0.9v0.9h-0.9zM49.6 459.4h0.9v0.9h-0.9zM48.0 475.9h0.9v0.9h-0.9zM48.3 470.3h0.9v0.9h-0.9zM37.5 472.4h0.9v0.9h-0.9zM55.3 472.9h0.9v0.9h-0.9zM48.9 489.2h0.9v0.9h-0.9zM36.3 481.5h0.9v0.9h-0.9zM58.1 467.6h0.9v0.9h-0.9zM50.7 468.8h0.9v0.9h-0.9zM22.9 450.5h0.9v0.9h-0.9zM45.9 461.6h0.9v0.9h-0.9zM62.8 450.3h0.9v0.9h-0.9zM50.0 476.1h0.9v0.9h-0.9zM48.0 455.3h0.9v0.9h-0.9zM37.0 453.0h0.9v0.9h-0.9zM50.2 469.9h0.9v0.9h-0.9zM57.1 468.6h0.9v0.9h-0.9zM54.8 471.6h0.9v0.9h-0.9zM49.6 460.2h0.9v0.9h-0.9zM53.1 462.4h0.9v0.9h-0.9zM52.6 465.4h0.9v0.9h-0.9zM54.0 472.8h0.9v0.9h-0.9zM36.4 476.1h0.9v0.9h-0.9zM36.1 477.3h0.9v0.9h-0.9zM36.7 467.0h0.9v0.9h-0.9zM52.8 475.0h0.9v0.9h-0.9zM54.3 475.6h0.9v0.9h-0.9zM41.0 487.6h0.9v0.9h-0.9zM43.3 461.5h0.9v0.9h-0.9zM44.9 490.6h0.9v0.9h-0.9zM58.7 468.3h0.9v0.9h-0.9zM44.4 463.0h0.9v0.9h-0.9zM51.7 461.3h0.9v0.9h-0.9zM37.5 471.4h0.9v0.9h-0.9zM37.4 448.2h0.9v0.9h-0.9zM38.4 460.0h0.9v0.9h-0.9zM33.7 476.0h0.9v0.9h-0.9zM63.1 465.2h0.9v0.9h-0.9zM48.4 481.2h0.9v0.9h-0.9zM64.7 464.8h0.9v0.9h-0.9zM32.4 471.4h0.9v0.9h-0.9zM52.7 467.6h0.9v0.9h-0.9zM31.4 450.2h0.9v0.9h-0.9zM30.1 473.5h0.9v0.9h-0.9zM65.1 477.4h0.9v0.9h-0.9zM42.8 469.3h0.9v0.9h-0.9zM49.8 476.1h0.9v0.9h-0.9zM49.8 480.0h0.9v0.9h-0.9zM50.1 464.0h0.9v0.9h-0.9zM49.9 474.9h0.9v0.9h-0.9zM59.2 474.8h0.9v0.9h-0.9zM54.1 484.4h0.9v0.9h-0.9zM59.1 441.7h0.9v0.9h-0.9zM47.9 469.6h0.9v0.9h-0.9zM36.5 473.3h0.9v0.9h-0.9zM61.7 469.9h0.9v0.9h-0.9zM51.2 477.2h0.9v0.9h-0.9zM57.1 487.2h0.9v0.9h-0.9zM35.9 467.8h0.9v0.9h-0.9zM31.9 453.4h0.9v0.9h-0.9zM53.2 465.4h0.9v0.9h-0.9zM49.7 451.0h0.9v0.9h-0.9zM44.8 452.7h0.9v0.9h-0.9zM33.0 467.6h0.9v0.9h-0.9zM40.8 475.0h0.9v0.9h-0.9zM43.9 452.4h0.9v0.9h-0.9zM43.9 466.1h0.9v0.9h-0.9zM38.0 468.0h0.9v0.9h-0.9zM26.3 462.8h0.9v0.9h-0.9zM39.7 473.4h0.9v0.9h-0.9zM28.9 457.4h0.9v0.9h-0.9zM41.3 472.7h0.9v0.9h-0.9zM30.9 479.6h0.9v0.9h-0.9zM50.9 478.8h0.9v0.9h-0.9zM39.5 471.5h0.9v0.9h-0.9zM63.5 475.1h0.9v0.9h-0.9zM35.0 464.5h0.9v0.9h-0.9zM31.3 463.7h0.9v0.9h-0.9zM39.4 441.8h0.9v0.9h-0.9zM36.0 449.8h0.9v0.9h-0.9zM52.9 467.8h0.9v0.9h-0.9zM66.6 472.8h0.9v0.9h-0.9zM58.7 467.5h0.9v0.9h-0.9zM34.7 456.7h0.9v0.9h-0.9zM42.5 461.4h0.9v0.9h-0.9zM55.0 468.7h0.9v0.9h-0.9zM51.5 452.6h0.9v0.9h-0.9zM39.7 473.7h0.9v0.9h-0.9zM62.2 454.1h0.9v0.9h-0.9zM36.0 482.9h0.9v0.9h-0.9zM54.5 475.1h0.9v0.9h-0.9zM49.3 473.1h0.9v0.9h-0.9zM51.7 484.0h0.9v0.9h-0.9zM52.2 459.9h0.9v0.9h-0.9zM45.9 470.8h0.9v0.9h-0.9zM40.0 473.9h0.9v0.9h-0.9zM28.0 478.7h0.9v0.9h-0.9zM63.4 466.6h0.9v0.9h-0.9zM51.9 462.9h0.9v0.9h-0.9zM42.1 473.4h0.9v0.9h-0.9zM24.8 472.5h0.9v0.9h-0.9zM26.4 447.2h0.9v0.9h-0.9zM41.8 470.5h0.9v0.9h-0.9zM41.3 475.8h0.9v0.9h-0.9zM41.2 461.1h0.9v0.9h-0.9zM59.5 469.1h0.9v0.9h-0.9zM48.9 462.0h0.9v0.9h-0.9zM45.9 453.8h0.9v0.9h-0.9zM29.5 469.7h0.9v0.9h-0.9zM26.3 466.3h0.9v0.9h-0.9zM44.7 463.9h0.9v0.9h-0.9zM47.3 474.1h0.9v0.9h-0.9zM38.2 465.3h0.9v0.9h-0.9zM35.2 475.2h0.9v0.9h-0.9zM39.1 461.9h0.9v0.9h-0.9zM56.1 471.1h0.9v0.9h-0.9zM30.5 480.7h0.9v0.9h-0.9zM39.8 487.8h0.9v0.9h-0.9zM55.9 477.3h0.9v0.9h-0.9zM24.9 471.8h0.9v0.9h-0.9zM35.2 493.0h0.9v0.9h-0.9zM54.7 473.4h0.9v0.9h-0.9zM72.5 486.1h0.9v0.9h-0.9zM25.6 470.0h0.9v0.9h-0.9zM34.7 444.8h0.9v0.9h-0.9zM20.3 469.7h0.9v0.9h-0.9zM39.0 471.1h0.9v0.9h-0.9zM37.7 456.6h0.9v0.9h-0.9zM59.4 482.5h0.9v0.9h-0.9zM42.4 470.3h0.9v0.9h-0.9zM72.0 475.6h0.9v0.9h-0.9zM56.8 459.8h0.9v0.9h-0.9zM40.4 452.9h0.9v0.9h-0.9zM32.2 454.1h0.9v0.9h-0.9zM49.3 485.7h0.9v0.9h-0.9zM67.5 459.4h0.9v0.9h-0.9zM53.3 463.8h0.9v0.9h-0.9zM31.8 464.3h0.9v0.9h-0.9zM47.0 469.7h0.9v0.9h-0.9zM45.9 492.5h0.9v0.9h-0.9zM60.4 493.0h0.9v0.9h-0.9zM20.5 479.1h0.9v0.9h-0.9zM57.4 466.3h0.9v0.9h-0.9zM34.3 461.0h0.9v0.9h-0.9zM45.3 472.2h0.9v0.9h-0.9zM47.1 483.2h0.9v0.9h-0.9zM47.7 450.4h0.9v0.9h-0.9zM56.2 467.2h0.9v0.9h-0.9zM54.0 460.4h0.9v0.9h-0.9zM31.9 468.4h0.9v0.9h-0.9zM39.7 460.8h0.9v0.9h-0.9zM62.5 461.7h0.9v0.9h-0.9zM36.5 468.7h0.9v0.9h-0.9zM47.5 470.6h0.9v0.9h-0.9zM48.0 480.6h0.9v0.9h-0.9zM26.5 469.2h0.9v0.9h-0.9zM59.1 462.6h0.9v0.9h-0.9zM35.4 476.8h0.9v0.9h-0.9zM58.5 475.5h0.9v0.9h-0.9zM42.4 478.1h0.9v0.9h-0.9zM45.2 453.9h0.9v0.9h-0.9zM51.1 481.5h0.9v0.9h-0.9zM54.4 446.1h0.9v0.9h-0.9zM52.8 469.3h0.9v0.9h-0.9zM43.7 475.4h0.9v0.9h-0.9zM40.5 475.0h0.9v0.9h-0.9zM39.1 467.5h0.9v0.9h-0.9zM30.3 458.5h0.9v0.9h-0.9zM51.8 484.8h0.9v0.9h-0.9zM45.6 473.1h0.9v0.9h-0.9zM38.3 465.1h0.9v0.9h-0.9zM47.0 462.6h0.9v0.9h-0.9zM33.2 477.2h0.9v0.9h-0.9zM50.2 461.6h0.9v0.9h-0.9zM42.0 466.7h0.9v0.9h-0.9zM45.0 481.1h0.9v0.9h-0.9zM46.1 475.8h0.9v0.9h-0.9zM71.2 467.7h0.9v0.9h-0.9zM57.4 455.3h0.9v0.9h-0.9zM58.0 450.1h0.9v0.9h-0.9zM40.4 452.6h0.9v0.9h-0.9zM54.5 469.5h0.9v0.9h-0.9zM35.8 458.2h0.9v0.9h-0.9zM38.6 473.1h0.9v0.9h-0.9zM43.2 448.4h0.9v0.9h-0.9zM50.3 450.9h0.9v0.9h-0.9zM54.2 454.3h0.9v0.9h-0.9zM33.9 478.3h0.9v0.9h-0.9zM53.2 461.3h0.9v0.9h-0.9zM52.9 481.3h0.9v0.9h-0.9zM34.3 467.0h0.9v0.9h-0.9zM34.1 445.3h0.9v0.9h-0.9zM42.9 466.7h0.9v0.9h-0.9zM43.5 443.9h0.9v0.9h-0.9zM43.0 469.6h0.9v0.9h-0.9zM32.3 465.7h0.9v0.9h-0.9zM59.7 468.2h0.9v0.9h-0.9zM34.9 458.2h0.9v0.9h-0.9zM34.6 458.5h0.9v0.9h-0.9zM49.0 442.4h0.9v0.9h-0.9zM51.7 456.0h0.9v0.9h-0.9zM56.6 487.4h0.9v0.9h-0.9zM38.5 479.0h0.9v0.9h-0.9zM56.7 473.9h0.9v0.9h-0.9zM50.2 456.0h0.9v0.9h-0.9zM31.0 457.0h0.9v0.9h-0.9zM35.7 460.8h0.9v0.9h-0.9zM51.9 466.7h0.9v0.9h-0.9zM37.3 479.0h0.9v0.9h-0.9zM37.6 489.2h0.9v0.9h-0.9zM38.0 441.7h0.9v0.9h-0.9zM37.9 472.3h0.9v0.9h-0.9zM22.4 460.8h0.9v0.9h-0.9zM31.8 467.4h0.9v0.9h-0.9zM55.4 475.3h0.9v0.9h-0.9zM38.0 475.3h0.9v0.9h-0.9zM49.7 456.6h0.9v0.9h-0.9zM48.8 466.8h0.9v0.9h-0.9zM55.7 456.8h0.9v0.9h-0.9zM42.3 471.2h0.9v0.9h-0.9zM49.5 478.0h0.9v0.9h-0.9zM41.2 458.8h0.9v0.9h-0.9zM48.0 455.2h0.9v0.9h-0.9zM45.3 471.6h0.9v0.9h-0.9zM36.3 485.0h0.9v0.9h-0.9zM31.3 467.5h0.9v0.9h-0.9zM48.5 476.9h0.9v0.9h-0.9zM44.8 457.8h0.9v0.9h-0.9zM34.4 455.6h0.9v0.9h-0.9zM46.9 493.9h0.9v0.9h-0.9zM43.1 469.8h0.9v0.9h-0.9zM70.9 466.3h0.9v0.9h-0.9zM70.5 468.3h0.9v0.9h-0.9zM50.0 454.7h0.9v0.9h-0.9zM47.1 464.7h0.9v0.9h-0.9zM64.0 465.9h0.9v0.9h-0.9zM57.6 453.7h0.9v0.9h-0.9zM34.5 481.7h0.9v0.9h-0.9zM61.0 472.8h0.9v0.9h-0.9zM43.9 455.7h0.9v0.9h-0.9zM36.6 469.9h0.9v0.9h-0.9zM37.1 471.9h0.9v0.9h-0.9zM54.0 469.0h0.9v0.9h-0.9zM68.3 480.4h0.9v0.9h-0.9zM47.7 472.5h0.9v0.9h-0.9zM49.1 467.9h0.9v0.9h-0.9zM39.1 468.2h0.9v0.9h-0.9zM61.7 455.5h0.9v0.9h-0.9zM52.6 476.6h0.9v0.9h-0.9zM41.7 454.0h0.9v0.9h-0.9zM56.4 489.5h0.9v0.9h-0.9zM55.0 459.6h0.9v0.9h-0.9zM45.5 461.1h0.9v0.9h-0.9zM34.0 447.3h0.9v0.9h-0.9zM49.3 475.2h0.9v0.9h-0.9zM53.3 464.1h0.9v0.9h-0.9zM46.2 451.5h0.9v0.9h-0.9zM32.7 449.5h0.9v0.9h-0.9zM45.8 458.9h0.9v0.9h-0.9zM33.2 478.3h0.9v0.9h-0.9zM45.6 480.9h0.9v0.9h-0.9zM43.1 463.2h0.9v0.9h-0.9zM56.3 461.2h0.9v0.9h-0.9zM43.9 471.9h0.9v0.9h-0.9zM42.3 474.6h0.9v0.9h-0.9zM45.8 470.8h0.9v0.9h-0.9zM42.5 459.2h0.9v0.9h-0.9zM59.5 466.4h0.9v0.9h-0.9zM43.4 456.9h0.9v0.9h-0.9zM48.3 457.8h0.9v0.9h-0.9zM46.5 456.9h0.9v0.9h-0.9zM45.2 468.7h0.9v0.9h-0.9zM55.7 473.0h0.9v0.9h-0.9zM22.0 469.8h0.9v0.9h-0.9zM54.7 470.3h0.9v0.9h-0.9zM57.6 476.3h0.9v0.9h-0.9zM51.6 482.7h0.9v0.9h-0.9zM37.1 484.1h0.9v0.9h-0.9zM30.7 449.5h0.9v0.9h-0.9zM45.2 479.8h0.9v0.9h-0.9zM25.8 464.7h0.9v0.9h-0.9zM26.7 468.6h0.9v0.9h-0.9zM39.7 479.7h0.9v0.9h-0.9zM39.8 476.2h0.9v0.9h-0.9zM39.2 453.8h0.9v0.9h-0.9zM53.2 460.8h0.9v0.9h-0.9zM43.7 480.0h0.9v0.9h-0.9zM20.4 475.2h0.9v0.9h-0.9zM55.2 452.6h0.9v0.9h-0.9zM53.8 476.4h0.9v0.9h-0.9zM53.5 453.4h0.9v0.9h-0.9zM21.4 482.5h0.9v0.9h-0.9zM41.4 453.2h0.9v0.9h-0.9zM49.8 449.5h0.9v0.9h-0.9zM47.4 472.1h0.9v0.9h-0.9zM32.3 454.2h0.9v0.9h-0.9zM39.9 472.2h0.9v0.9h-0.9zM35.5 446.7h0.9v0.9h-0.9zM29.3 469.2h0.9v0.9h-0.9zM45.8 463.6h0.9v0.9h-0.9zM50.5 479.6h0.9v0.9h-0.9zM50.2 458.9h0.9v0.9h-0.9zM53.5 472.5h0.9v0.9h-0.9zM42.5 461.4h0.9v0.9h-0.9zM41.5 462.7h0.9v0.9h-0.9zM45.4 467.3h0.9v0.9h-0.9zM24.9 467.0h0.9v0.9h-0.9zM33.1 461.7h0.9v0.9h-0.9zM71.6 469.4h0.9v0.9h-0.9zM52.6 460.0h0.9v0.9h-0.9zM38.1 453.0h0.9v0.9h-0.9zM29.9 474.4h0.9v0.9h-0.9zM31.6 475.8h0.9v0.9h-0.9zM40.3 474.4h0.9v0.9h-0.9zM52.5 476.4h0.9v0.9h-0.9zM42.0 471.7h0.9v0.9h-0.9zM64.2 469.6h0.9v0.9h-0.9zM42.9 477.5h0.9v0.9h-0.9zM40.7 472.4h0.9v0.9h-0.9zM37.9 457.7h0.9v0.9h-0.9zM57.3 471.5h0.9v0.9h-0.9zM36.7 473.8h0.9v0.9h-0.9zM48.5 483.9h0.9v0.9h-0.9zM51.1 446.6h0.9v0.9h-0.9zM43.4 467.3h0.9v0.9h-0.9zM49.3 454.6h0.9v0.9h-0.9zM39.0 463.3h0.9v0.9h-0.9zM30.8 467.4h0.9v0.9h-0.9zM57.7 461.1h0.9v0.9h-0.9zM35.8 465.4h0.9v0.9h-0.9zM27.7 472.9h0.9v0.9h-0.9zM56.9 461.8h0.9v0.9h-0.9zM42.7 474.5h0.9v0.9h-0.9zM50.4 466.6h0.9v0.9h-0.9zM37.4 460.2h0.9v0.9h-0.9zM51.5 472.9h0.9v0.9h-0.9zM50.8 462.7h0.9v0.9h-0.9zM35.3 481.2h0.9v0.9h-0.9zM47.8 474.3h0.9v0.9h-0.9zM36.9 471.5h0.9v0.9h-0.9zM30.4 484.6h0.9v0.9h-0.9zM22.3 471.2h0.9v0.9h-0.9zM33.0 487.4h0.9v0.9h-0.9zM38.2 458.2h0.9v0.9h-0.9zM33.8 453.6h0.9v0.9h-0.9zM59.1 451.2h0.9v0.9h-0.9zM43.7 468.5h0.9v0.9h-0.9zM49.7 467.2h0.9v0.9h-0.9zM30.5 470.3h0.9v0.9h-0.9zM42.6 463.7h0.9v0.9h-0.9zM52.1 467.7h0.9v0.9h-0.9zM30.6 467.2h0.9v0.9h-0.9zM47.7 469.8h0.9v0.9h-0.9zM47.1 478.1h0.9v0.9h-0.9zM44.8 456.5h0.9v0.9h-0.9zM21.3 479.3h0.9v0.9h-0.9zM49.0 460.5h0.9v0.9h-0.9zM33.2 486.9h0.9v0.9h-0.9zM60.4 469.2h0.9v0.9h-0.9zM51.9 477.9h0.9v0.9h-0.9zM67.4 480.9h0.9v0.9h-0.9zM58.0 473.0h0.9v0.9h-0.9zM57.6 462.3h0.9v0.9h-0.9zM56.8 468.6h0.9v0.9h-0.9zM37.5 475.6h0.9v0.9h-0.9zM57.2 467.4h0.9v0.9h-0.9zM31.7 464.0h0.9v0.9h-0.9zM48.7 469.2h0.9v0.9h-0.9zM52.2 482.2h0.9v0.9h-0.9zM34.6 472.3h0.9v0.9h-0.9zM63.7 453.7h0.9v0.9h-0.9zM45.8 458.6h0.9v0.9h-0.9zM59.1 474.4h0.9v0.9h-0.9zM48.9 478.2h0.9v0.9h-0.9zM35.5 466.1h0.9v0.9h-0.9zM29.3 467.8h0.9v0.9h-0.9zM27.8 470.8h0.9v0.9h-0.9zM41.7 459.3h0.9v0.9h-0.9zM50.3 461.7h0.9v0.9h-0.9zM48.8 461.9h0.9v0.9h-0.9zM30.3 476.0h0.9v0.9h-0.9zM32.9 462.7h0.9v0.9h-0.9zM45.8 464.2h0.9v0.9h-0.9zM51.6 466.6h0.9v0.9h-0.9zM57.2 475.9h0.9v0.9h-0.9zM44.8 456.9h0.9v0.9h-0.9zM45.1 472.6h0.9v0.9h-0.9zM44.0 467.2h0.9v0.9h-0.9zM55.5 464.0h0.9v0.9h-0.9zM41.4 454.0h0.9v0.9h-0.9zM42.5 465.9h0.9v0.9h-0.9zM48.9 468.7h0.9v0.9h-0.9zM38.0 464.3h0.9v0.9h-0.9zM53.3 470.2h0.9v0.9h-0.9zM42.5 457.8h0.9v0.9h-0.9zM45.1 444.6h0.9v0.9h-0.9zM52.0 460.9h0.9v0.9h-0.9zM57.4 448.5h0.9v0.9h-0.9zM58.2 453.8h0.9v0.9h-0.9zM40.1 473.9h0.9v0.9h-0.9zM41.8 479.3h0.9v0.9h-0.9zM37.5 478.0h0.9v0.9h-0.9zM54.6 487.2h0.9v0.9h-0.9zM59.1 480.0h0.9v0.9h-0.9zM38.4 453.7h0.9v0.9h-0.9zM56.6 481.3h0.9v0.9h-0.9zM54.1 494.5h0.9v0.9h-0.9zM38.1 465.2h0.9v0.9h-0.9zM36.9 485.7h0.9v0.9h-0.9zM40.4 462.5h0.9v0.9h-0.9zM45.8 481.2h0.9v0.9h-0.9zM26.7 454.0h0.9v0.9h-0.9zM59.0 467.3h0.9v0.9h-0.9zM37.2 471.5h0.9v0.9h-0.9zM49.7 461.0h0.9v0.9h-0.9zM20.0 464.8h0.9v0.9h-0.9zM33.2 463.5h0.9v0.9h-0.9zM36.8 473.5h0.9v0.9h-0.9zM41.3 465.0h0.9v0.9h-0.9zM62.7 487.2h0.9v0.9h-0.9zM42.6 456.0h0.9v0.9h-0.9zM44.9 467.2h0.9v0.9h-0.9zM45.2 463.0h0.9v0.9h-0.9zM43.3 467.9h0.9v0.9h-0.9zM48.4 458.7h0.9v0.9h-0.9zM63.9 482.1h0.9v0.9h-0.9zM48.8 475.8h0.9v0.9h-0.9zM50.3 468.1h0.9v0.9h-0.9zM49.7 455.4h0.9v0.9h-0.9zM45.8 470.0h0.9v0.9h-0.9zM62.1 460.3h0.9v0.9h-0.9zM45.6 472.4h0.9v0.9h-0.9zM48.3 490.9h0.9v0.9h-0.9zM30.5 480.6h0.9v0.9h-0.9zM30.3 466.5h0.9v0.9h-0.9zM40.0 471.2h0.9v0.9h-0.9zM56.6 465.5h0.9v0.9h-0.9zM58.4 470.9h0.9v0.9h-0.9zM36.3 449.0h0.9v0.9h-0.9zM50.8 471.0h0.9v0.9h-0.9zM29.9 483.4h0.9v0.9h-0.9zM31.3 472.5h0.9v0.9h-0.9zM60.1 482.3h0.9v0.9h-0.9zM40.4 458.6h0.9v0.9h-0.9zM49.3 463.2h0.9v0.9h-0.9zM52.4 481.0h0.9v0.9h-0.9zM49.1 467.4h0.9v0.9h-0.9zM47.4 463.7h0.9v0.9h-0.9zM44.7 475.0h0.9v0.9h-0.9zM54.5 469.4h0.9v0.9h-0.9zM48.0 480.4h0.9v0.9h-0.9zM45.3 469.8h0.9v0.9h-0.9zM35.5 464.2h0.9v0.9h-0.9zM42.7 451.8h0.9v0.9h-0.9zM49.0 470.9h0.9v0.9h-0.9zM35.6 481.4h0.9v0.9h-0.9zM45.9 482.5h0.9v0.9h-0.9zM34.2 463.7h0.9v0.9h-0.9zM56.5 474.9h0.9v0.9h-0.9zM63.0 458.9h0.9v0.9h-0.9zM67.6 468.8h0.9v0.9h-0.9zM48.3 446.4h0.9v0.9h-0.9zM52.8 473.7h0.9v0.9h-0.9zM39.3 461.8h0.9v0.9h-0.9zM51.2 459.1h0.9v0.9h-0.9zM55.1 468.6h0.9v0.9h-0.9zM55.1 465.3h0.9v0.9h-0.9zM41.3 478.8h0.9v0.9h-0.9zM42.8 453.7h0.9v0.9h-0.9zM48.0 464.2h0.9v0.9h-0.9zM60.5 467.1h0.9v0.9h-0.9zM40.4 456.4h0.9v0.9h-0.9zM46.4 490.0h0.9v0.9h-0.9zM34.0 474.2h0.9v0.9h-0.9zM44.0 459.8h0.9v0.9h-0.9zM53.8 478.5h0.9v0.9h-0.9zM56.0 474.0h0.9v0.9h-0.9zM21.3 465.0h0.9v0.9h-0.9zM51.0 466.2h0.9v0.9h-0.9zM56.6 461.0h0.9v0.9h-0.9zM53.3 476.6h0.9v0.9h-0.9zM40.0 479.5h0.9v0.9h-0.9zM44.2 465.5h0.9v0.9h-0.9zM63.6 458.7h0.9v0.9h-0.9zM44.5 476.7h0.9v0.9h-0.9zM43.5 458.8h0.9v0.9h-0.9zM35.7 475.7h0.9v0.9h-0.9zM34.6 467.2h0.9v0.9h-0.9zM39.1 486.3h0.9v0.9h-0.9zM27.4 479.8h0.9v0.9h-0.9zM61.5 465.6h0.9v0.9h-0.9zM49.9 463.1h0.9v0.9h-0.9zM58.6 462.2h0.9v0.9h-0.9zM44.3 494.0h0.9v0.9h-0.9zM48.2 449.0h0.9v0.9h-0.9zM49.3 467.2h0.9v0.9h-0.9zM29.3 483.8h0.9v0.9h-0.9zM37.1 465.6h0.9v0.9h-0.9zM61.3 467.1h0.9v0.9h-0.9zM54.9 468.2h0.9v0.9h-0.9zM41.1 470.8h0.9v0.9h-0.9zM49.1 449.3h0.9v0.9h-0.9zM25.3 466.4h0.9v0.9h-0.9zM43.1 468.9h0.9v0.9h-0.9zM46.7 462.7h0.9v0.9h-0.9zM57.7 488.9h0.9v0.9h-0.9zM59.4 457.0h0.9v0.9h-0.9zM57.0 481.5h0.9v0.9h-0.9zM21.0 461.3h0.9v0.9h-0.9zM50.9 453.0h0.9v0.9h-0.9zM53.2 471.2h0.9v0.9h-0.9zM40.7 470.7h0.9v0.9h-0.9zM42.9 463.4h0.9v0.9h-0.9zM38.5 441.6h0.9v0.9h-0.9zM48.6 458.5h0.9v0.9h-0.9zM43.8 462.3h0.9v0.9h-0.9zM42.7 471.8h0.9v0.9h-0.9zM39.3 486.7h0.9v0.9h-0.9zM39.9 449.7h0.9v0.9h-0.9zM48.8 469.4h0.9v0.9h-0.9zM53.9 466.0h0.9v0.9h-0.9zM64.9 455.2h0.9v0.9h-0.9zM37.2 482.0h0.9v0.9h-0.9zM49.5 478.7h0.9v0.9h-0.9zM40.6 462.0h0.9v0.9h-0.9zM35.9 446.2h0.9v0.9h-0.9zM52.4 463.6h0.9v0.9h-0.9zM30.1 493.7h0.9v0.9h-0.9zM38.4 462.4h0.9v0.9h-0.9zM62.2 461.0h0.9v0.9h-0.9zM39.3 470.4h0.9v0.9h-0.9zM45.0 485.3h0.9v0.9h-0.9zM47.0 484.6h0.9v0.9h-0.9zM43.3 466.3h0.9v0.9h-0.9zM56.1 468.7h0.9v0.9h-0.9zM40.7 462.6h0.9v0.9h-0.9zM43.2 474.8h0.9v0.9h-0.9zM32.7 471.6h0.9v0.9h-0.9zM42.8 482.7h0.9v0.9h-0.9zM40.9 469.4h0.9v0.9h-0.9zM55.5 457.0h0.9v0.9h-0.9zM42.6 482.9h0.9v0.9h-0.9zM53.7 463.2h0.9v0.9h-0.9zM49.8 458.1h0.9v0.9h-0.9zM59.4 473.1h0.9v0.9h-0.9zM33.4 465.1h0.9v0.9h-0.9zM51.0 482.1h0.9v0.9h-0.9zM28.6 471.3h0.9v0.9h-0.9zM27.1 468.4h0.9v0.9h-0.9zM64.6 474.3h0.9v0.9h-0.9zM31.2 451.2h0.9v0.9h-0.9zM72.3 466.6h0.9v0.9h-0.9zM38.8 465.6h0.9v0.9h-0.9zM35.6 454.4h0.9v0.9h-0.9zM66.3 484.8h0.9v0.9h-0.9zM34.4 477.8h0.9v0.9h-0.9zM61.9 453.9h0.9v0.9h-0.9zM33.0 477.2h0.9v0.9h-0.9zM35.0 470.6h0.9v0.9h-0.9zM42.1 467.0h0.9v0.9h-0.9zM50.0 473.3h0.9v0.9h-0.9zM35.7 448.3h0.9v0.9h-0.9zM21.9 465.6h0.9v0.9h-0.9zM42.4 456.3h0.9v0.9h-0.9zM27.0 465.8h0.9v0.9h-0.9zM37.8 474.7h0.9v0.9h-0.9zM53.7 463.0h0.9v0.9h-0.9zM43.6 459.4h0.9v0.9h-0.9zM60.8 476.6h0.9v0.9h-0.9zM25.4 471.3h0.9v0.9h-0.9zM50.9 482.6h0.9v0.9h-0.9zM45.3 478.1h0.9v0.9h-0.9zM46.5 465.7h0.9v0.9h-0.9zM51.3 471.8h0.9v0.9h-0.9zM59.3 444.7h0.9v0.9h-0.9zM38.0 473.2h0.9v0.9h-0.9zM47.6 467.9h0.9v0.9h-0.9zM50.5 469.9h0.9v0.9h-0.9zM51.7 462.8h0.9v0.9h-0.9zM39.3 464.7h0.9v0.9h-0.9zM42.7 455.6h0.9v0.9h-0.9zM47.0 462.0h0.9v0.9h-0.9zM64.6 464.3h0.9v0.9h-0.9zM56.8 471.0h0.9v0.9h-0.9zM36.0 468.2h0.9v0.9h-0.9zM55.4 453.9h0.9v0.9h-0.9zM59.5 469.7h0.9v0.9h-0.9zM34.7 468.1h0.9v0.9h-0.9zM39.0 466.7h0.9v0.9h-0.9zM55.4 456.0h0.9v0.9h-0.9zM31.7 447.9h0.9v0.9h-0.9zM31.3 462.1h0.9v0.9h-0.9zM37.6 463.7h0.9v0.9h-0.9zM50.0 460.8h0.9v0.9h-0.9zM56.8 459.3h0.9v0.9h-0.9zM40.6 465.9h0.9v0.9h-0.9zM37.3 459.4h0.9v0.9h-0.9zM40.5 465.3h0.9v0.9h-0.9zM50.1 469.2h0.9v0.9h-0.9zM47.0 448.9h0.9v0.9h-0.9zM33.0 464.9h0.9v0.9h-0.9zM53.4 466.3h0.9v0.9h-0.9zM37.1 459.2h0.9v0.9h-0.9zM40.0 476.7h0.9v0.9h-0.9zM67.3 470.8h0.9v0.9h-0.9zM30.7 466.6h0.9v0.9h-0.9zM28.1 462.9h0.9v0.9h-0.9zM46.3 477.5h0.9v0.9h-0.9zM47.5 457.9h0.9v0.9h-0.9zM50.3 470.5h0.9v0.9h-0.9zM61.3 462.1h0.9v0.9h-0.9zM38.2 462.3h0.9v0.9h-0.9zM65.5 460.1h0.9v0.9h-0.9zM57.4 454.3h0.9v0.9h-0.9zM43.4 464.7h0.9v0.9h-0.9zM51.6 464.9h0.9v0.9h-0.9zM46.4 455.8h0.9v0.9h-0.9zM36.7 488.3h0.9v0.9h-0.9zM44.0 481.0h0.9v0.9h-0.9zM39.5 454.8h0.9v0.9h-0.9zM30.8 467.2h0.9v0.9h-0.9zM58.0 464.7h0.9v0.9h-0.9zM62.4 469.6h0.9v0.9h-0.9zM57.1 465.3h0.9v0.9h-0.9zM54.2 458.8h0.9v0.9h-0.9zM39.2 472.3h0.9v0.9h-0.9zM52.6 461.0h0.9v0.9h-0.9zM53.9 471.3h0.9v0.9h-0.9zM31.0 475.1h0.9v0.9h-0.9zM61.5 458.3h0.9v0.9h-0.9zM37.6 456.4h0.9v0.9h-0.9zM50.9 448.6h0.9v0.9h-0.9zM35.9 477.1h0.9v0.9h-0.9zM26.9 461.4h0.9v0.9h-0.9zM30.0 460.8h0.9v0.9h-0.9zM39.6 459.7h0.9v0.9h-0.9zM56.6 475.8h0.9v0.9h-0.9zM31.3 466.9h0.9v0.9h-0.9zM64.6 482.0h0.9v0.9h-0.9zM62.4 457.0h0.9v0.9h-0.9zM40.7 451.4h0.9v0.9h-0.9zM62.2 457.0h0.9v0.9h-0.9zM40.4 465.5h0.9v0.9h-0.9zM48.0 466.2h0.9v0.9h-0.9zM42.3 476.2h0.9v0.9h-0.9zM47.7 471.6h0.9v0.9h-0.9zM41.6 463.7h0.9v0.9h-0.9zM48.7 460.0h0.9v0.9h-0.9zM50.7 468.1h0.9v0.9h-0.9zM56.9 466.3h0.9v0.9h-0.9zM42.5 454.8h0.9v0.9h-0.9zM29.1 466.4h0.9v0.9h-0.9zM37.2 473.8h0.9v0.9h-0.9zM30.8 467.4h0.9v0.9h-0.9zM41.9 486.7h0.9v0.9h-0.9zM33.3 467.1h0.9v0.9h-0.9zM24.9 471.7h0.9v0.9h-0.9zM39.4 463.2h0.9v0.9h-0.9zM50.7 448.1h0.9v0.9h-0.9zM37.1 464.3h0.9v0.9h-0.9zM45.3 486.1h0.9v0.9h-0.9zM30.3 472.5h0.9v0.9h-0.9zM47.9 469.8h0.9v0.9h-0.9zM40.4 466.5h0.9v0.9h-0.9zM45.3 471.0h0.9v0.9h-0.9zM55.0 473.0h0.9v0.9h-0.9zM64.5 460.4h0.9v0.9h-0.9zM46.2 453.1h0.9v0.9h-0.9zM49.1 475.7h0.9v0.9h-0.9zM20.4 464.1h0.9v0.9h-0.9zM64.1 477.9h0.9v0.9h-0.9zM33.1 464.2h0.9v0.9h-0.9zM44.3 462.8h0.9v0.9h-0.9zM41.2 468.3h0.9v0.9h-0.9zM41.0 477.2h0.9v0.9h-0.9zM20.8 474.1h0.9v0.9h-0.9zM52.2 462.8h0.9v0.9h-0.9zM49.0 460.2h0.9v0.9h-0.9zM43.3 454.8h0.9v0.9h-0.9zM50.4 477.2h0.9v0.9h-0.9zM61.2 470.4h0.9v0.9h-0.9zM30.9 460.3h0.9v0.9h-0.9zM39.1 469.6h0.9v0.9h-0.9zM37.3 465.4h0.9v0.9h-0.9zM47.6 452.1h0.9v0.9h-0.9zM22.8 463.9h0.9v0.9h-0.9zM57.5 448.0h0.9v0.9h-0.9zM47.4 458.5h0.9v0.9h-0.9zM51.3 482.0h0.9v0.9h-0.9zM41.6 453.4h0.9v0.9h-0.9zM46.9 473.2h0.9v0.9h-0.9zM54.3 448.8h0.9v0.9h-0.9zM42.8 451.4h0.9v0.9h-0.9zM20.8 464.5h0.9v0.9h-0.9zM61.9 471.0h0.9v0.9h-0.9zM32.4 451.7h0.9v0.9h-0.9zM38.7 465.5h0.9v0.9h-0.9zM40.6 459.9h0.9v0.9h-0.9zM47.7 474.2h0.9v0.9h-0.9zM36.8 472.8h0.9v0.9h-0.9zM31.8 476.6h0.9v0.9h-0.9zM34.7 479.1h0.9v0.9h-0.9zM49.8 455.9h0.9v0.9h-0.9zM53.3 457.9h0.9v0.9h-0.9zM41.2 461.1h0.9v0.9h-0.9zM40.1 479.2h0.9v0.9h-0.9zM44.1 455.6h0.9v0.9h-0.9zM56.1 448.1h0.9v0.9h-0.9zM46.7 469.7h0.9v0.9h-0.9zM58.9 468.1h0.9v0.9h-0.9zM41.1 476.4h0.9v0.9h-0.9zM46.6 471.3h0.9v0.9h-0.9zM42.8 451.1h0.9v0.9h-0.9zM55.7 476.5h0.9v0.9h-0.9zM44.0 457.3h0.9v0.9h-0.9zM59.9 480.7h0.9v0.9h-0.9zM41.3 457.8h0.9v0.9h-0.9zM30.7 466.2h0.9v0.9h-0.9zM41.1 445.7h0.9v0.9h-0.9zM32.7 458.5h0.9v0.9h-0.9zM42.3 477.1h0.9v0.9h-0.9zM54.5 454.0h0.9v0.9h-0.9zM46.6 453.9h0.9v0.9h-0.9zM47.8 455.4h0.9v0.9h-0.9zM48.4 450.9h0.9v0.9h-0.9zM48.8 488.8h0.9v0.9h-0.9zM41.4 479.6h0.9v0.9h-0.9zM42.5 465.4h0.9v0.9h-0.9zM28.2 452.0h0.9v0.9h-0.9zM31.0 483.2h0.9v0.9h-0.9zM49.0 464.6h0.9v0.9h-0.9zM40.2 461.4h0.9v0.9h-0.9zM42.8 475.9h0.9v0.9h-0.9zM37.2 468.5h0.9v0.9h-0.9zM23.7 458.4h0.9v0.9h-0.9zM37.1 476.2h0.9v0.9h-0.9zM61.0 460.1h0.9v0.9h-0.9zM59.6 472.4h0.9v0.9h-0.9zM54.8 462.0h0.9v0.9h-0.9zM52.5 451.5h0.9v0.9h-0.9zM46.4 453.9h0.9v0.9h-0.9zM37.5 442.6h0.9v0.9h-0.9zM45.8 484.7h0.9v0.9h-0.9zM57.0 474.2h0.9v0.9h-0.9zM60.3 461.6h0.9v0.9h-0.9zM45.9 467.5h0.9v0.9h-0.9zM58.5 464.9h0.9v0.9h-0.9zM34.1 477.4h0.9v0.9h-0.9zM43.6 455.5h0.9v0.9h-0.9zM59.1 469.7h0.9v0.9h-0.9zM31.2 469.7h0.9v0.9h-0.9zM53.4 486.3h0.9v0.9h-0.9zM71.0 455.3h0.9v0.9h-0.9zM48.3 473.8h0.9v0.9h-0.9zM63.0 468.6h0.9v0.9h-0.9zM54.9 474.3h0.9v0.9h-0.9zM44.7 471.0h0.9v0.9h-0.9zM30.7 456.4h0.9v0.9h-0.9zM42.7 460.1h0.9v0.9h-0.9zM39.4 460.2h0.9v0.9h-0.9zM23.4 459.4h0.9v0.9h-0.9zM60.9 475.1h0.9v0.9h-0.9zM44.2 485.9h0.9v0.9h-0.9zM41.2 471.4h0.9v0.9h-0.9zM38.9 455.4h0.9v0.9h-0.9zM36.5 461.8h0.9v0.9h-0.9zM31.3 473.5h0.9v0.9h-0.9zM59.1 456.8h0.9v0.9h-0.9zM45.6 483.4h0.9v0.9h-0.9zM56.5 485.0h0.9v0.9h-0.9zM46.4 449.2h0.9v0.9h-0.9zM40.7 457.8h0.9v0.9h-0.9zM36.8 469.3h0.9v0.9h-0.9zM48.8 466.0h0.9v0.9h-0.9zM39.6 475.5h0.9v0.9h-0.9zM39.3 459.8h0.9v0.9h-0.9zM45.3 472.3h0.9v0.9h-0.9zM65.6 483.6h0.9v0.9h-0.9zM48.9 457.6h0.9v0.9h-0.9zM63.8 458.2h0.9v0.9h-0.9zM38.2 482.8h0.9v0.9h-0.9zM49.6 484.6h0.9v0.9h-0.9zM38.0 486.1h0.9v0.9h-0.9zM50.7 466.0h0.9v0.9h-0.9zM51.6 456.6h0.9v0.9h-0.9zM65.4 473.0h0.9v0.9h-0.9zM41.2 469.5h0.9v0.9h-0.9zM41.9 452.0h0.9v0.9h-0.9zM32.8 465.3h0.9v0.9h-0.9zM32.9 481.9h0.9v0.9h-0.9zM35.1 448.3h0.9v0.9h-0.9zM42.1 487.0h0.9v0.9h-0.9zM44.0 473.3h0.9v0.9h-0.9zM52.3 462.0h0.9v0.9h-0.9zM35.3 443.9h0.9v0.9h-0.9zM53.8 463.9h0.9v0.9h-0.9zM46.6 468.6h0.9v0.9h-0.9zM49.6 459.2h0.9v0.9h-0.9zM50.7 486.9h0.9v0.9h-0.9zM37.0 462.8h0.9v0.9h-0.9zM45.1 467.6h0.9v0.9h-0.9zM38.6 460.9h0.9v0.9h-0.9zM47.7 476.9h0.9v0.9h-0.9zM34.8 462.2h0.9v0.9h-0.9zM48.6 458.4h0.9v0.9h-0.9zM47.1 477.9h0.9v0.9h-0.9zM54.9 463.4h0.9v0.9h-0.9zM56.6 444.8h0.9v0.9h-0.9zM42.7 474.7h0.9v0.9h-0.9zM48.5 477.3h0.9v0.9h-0.9zM37.4 478.1h0.9v0.9h-0.9zM58.3 473.7h0.9v0.9h-0.9zM20.6 456.8h0.9v0.9h-0.9zM44.4 470.0h0.9v0.9h-0.9zM48.9 470.8h0.9v0.9h-0.9zM69.4 474.4h0.9v0.9h-0.9zM48.9 464.5h0.9v0.9h-0.9zM50.9 470.0h0.9v0.9h-0.9zM30.3 461.1h0.9v0.9h-0.9zM24.1 466.1h0.9v0.9h-0.9zM50.3 467.2h0.9v0.9h-0.9zM56.1 455.1h0.9v0.9h-0.9zM71.8 469.8h0.9v0.9h-0.9zM38.2 459.7h0.9v0.9h-0.9zM51.3 462.0h0.9v0.9h-0.9zM70.9 464.0h0.9v0.9h-0.9zM53.8 469.2h0.9v0.9h-0.9zM40.7 483.5h0.9v0.9h-0.9zM47.0 454.8h0.9v0.9h-0.9zM45.3 458.3h0.9v0.9h-0.9zM35.3 476.4h0.9v0.9h-0.9zM35.1 469.1h0.9v0.9h-0.9zM23.5 452.6h0.9v0.9h-0.9zM41.2 459.8h0.9v0.9h-0.9zM39.3 475.4h0.9v0.9h-0.9zM31.0 478.6h0.9v0.9h-0.9zM57.2 469.5h0.9v0.9h-0.9zM37.7 467.1h0.9v0.9h-0.9zM41.5 460.6h0.9v0.9h-0.9zM41.1 459.0h0.9v0.9h-0.9zM34.6 476.1h0.9v0.9h-0.9zM39.0 462.4h0.9v0.9h-0.9zM45.4 473.8h0.9v0.9h-0.9zM33.8 476.3h0.9v0.9h-0.9zM52.7 475.5h0.9v0.9h-0.9zM69.3 445.8h0.9v0.9h-0.9zM23.4 460.7h0.9v0.9h-0.9zM37.5 464.0h0.9v0.9h-0.9zM36.5 473.5h0.9v0.9h-0.9zM34.6 464.2h0.9v0.9h-0.9zM39.0 465.2h0.9v0.9h-0.9zM37.4 466.8h0.9v0.9h-0.9zM39.8 466.8h0.9v0.9h-0.9zM36.6 455.0h0.9v0.9h-0.9zM37.9 454.3h0.9v0.9h-0.9zM35.8 465.1h0.9v0.9h-0.9zM35.1 465.9h0.9v0.9h-0.9zM37.7 457.5h0.9v0.9h-0.9zM32.8 474.6h0.9v0.9h-0.9zM37.3 476.3h0.9v0.9h-0.9zM43.5 465.4h0.9v0.9h-0.9zM35.8 462.6h0.9v0.9h-0.9zM35.7 464.1h0.9v0.9h-0.9zM37.0 459.3h0.9v0.9h-0.9zM41.8 456.4h0.9v0.9h-0.9zM33.3 467.1h0.9v0.9h-0.9zM32.6 454.9h0.9v0.9h-0.9zM33.6 459.5h0.9v0.9h-0.9zM37.4 468.2h0.9v0.9h-0.9zM27.8 464.6h0.9v0.9h-0.9zM38.9 464.3h0.9v0.9h-0.9zM29.7 467.9h0.9v0.9h-0.9zM32.8 454.9h0.9v0.9h-0.9zM35.4 468.3h0.9v0.9h-0.9zM34.3 461.9h0.9v0.9h-0.9zM29.3 463.4h0.9v0.9h-0.9zM34.3 464.7h0.9v0.9h-0.9zM35.9 469.8h0.9v0.9h-0.9zM37.0 456.1h0.9v0.9h-0.9zM38.5 453.8h0.9v0.9h-0.9zM35.5 468.9h0.9v0.9h-0.9zM41.8 467.4h0.9v0.9h-0.9zM30.6 473.0h0.9v0.9h-0.9zM38.8 473.3h0.9v0.9h-0.9zM37.8 467.8h0.9v0.9h-0.9zM37.8 467.2h0.9v0.9h-0.9zM38.6 461.9h0.9v0.9h-0.9zM34.6 472.4h0.9v0.9h-0.9zM41.0 460.5h0.9v0.9h-0.9zM34.7 467.0h0.9v0.9h-0.9zM38.5 466.0h0.9v0.9h-0.9zM32.7 468.7h0.9v0.9h-0.9zM34.3 464.7h0.9v0.9h-0.9zM34.6 468.7h0.9v0.9h-0.9zM37.3 458.5h0.9v0.9h-0.9zM38.1 461.1h0.9v0.9h-0.9zM36.6 459.0h0.9v0.9h-0.9zM35.7 464.0h0.9v0.9h-0.9zM32.8 460.1h0.9v0.9h-0.9zM34.4 469.9h0.9v0.9h-0.9zM35.0 461.0h0.9v0.9h-0.9zM34.7 459.7h0.9v0.9h-0.9zM43.3 456.0h0.9v0.9h-0.9zM39.3 461.1h0.9v0.9h-0.9zM35.2 460.1h0.9v0.9h-0.9zM37.9 463.4h0.9v0.9h-0.9zM40.4 465.6h0.9v0.9h-0.9zM37.2 446.6h0.9v0.9h-0.9zM35.0 467.5h0.9v0.9h-0.9zM38.0 473.5h0.9v0.9h-0.9zM40.9 454.9h0.9v0.9h-0.9zM35.2 463.3h0.9v0.9h-0.9zM35.3 452.5h0.9v0.9h-0.9zM43.8 469.4h0.9v0.9h-0.9zM30.6 460.0h0.9v0.9h-0.9zM36.2 467.0h0.9v0.9h-0.9zM36.1 468.3h0.9v0.9h-0.9zM39.9 464.7h0.9v0.9h-0.9zM44.8 470.7h0.9v0.9h-0.9zM39.3 468.7h0.9v0.9h-0.9zM33.6 465.7h0.9v0.9h-0.9zM33.7 466.4h0.9v0.9h-0.9zM37.1 464.9h0.9v0.9h-0.9zM33.2 457.8h0.9v0.9h-0.9zM34.5 462.0h0.9v0.9h-0.9zM33.2 455.3h0.9v0.9h-0.9zM33.2 474.1h0.9v0.9h-0.9zM37.6 455.2h0.9v0.9h-0.9zM40.7 481.6h0.9v0.9h-0.9zM38.3 467.3h0.9v0.9h-0.9zM39.9 464.6h0.9v0.9h-0.9zM32.6 464.5h0.9v0.9h-0.9zM40.0 462.6h0.9v0.9h-0.9zM35.6 466.9h0.9v0.9h-0.9zM34.1 466.5h0.9v0.9h-0.9zM44.5 462.0h0.9v0.9h-0.9zM37.6 469.3h0.9v0.9h-0.9zM41.0 464.4h0.9v0.9h-0.9zM35.9 464.2h0.9v0.9h-0.9zM40.2 468.1h0.9v0.9h-0.9zM44.7 468.7h0.9v0.9h-0.9zM38.7 456.7h0.9v0.9h-0.9zM30.9 464.1h0.9v0.9h-0.9zM33.8 467.9h0.9v0.9h-0.9zM41.6 463.2h0.9v0.9h-0.9zM33.7 457.8h0.9v0.9h-0.9zM37.0 463.6h0.9v0.9h-0.9zM37.5 464.0h0.9v0.9h-0.9zM37.8 466.0h0.9v0.9h-0.9zM39.1 463.5h0.9v0.9h-0.9zM41.2 476.1h0.9v0.9h-0.9zM37.2 460.5h0.9v0.9h-0.9zM41.1 467.8h0.9v0.9h-0.9zM36.5 459.1h0.9v0.9h-0.9zM37.4 469.9h0.9v0.9h-0.9zM33.1 464.4h0.9v0.9h-0.9zM39.8 466.9h0.9v0.9h-0.9zM33.1 466.9h0.9v0.9h-0.9zM39.6 457.1h0.9v0.9h-0.9zM31.0 475.6h0.9v0.9h-0.9zM38.8 466.1h0.9v0.9h-0.9zM38.5 461.2h0.9v0.9h-0.9zM33.9 451.8h0.9v0.9h-0.9zM38.9 457.3h0.9v0.9h-0.9zM34.4 478.3h0.9v0.9h-0.9zM39.9 465.2h0.9v0.9h-0.9zM36.4 466.6h0.9v0.9h-0.9zM33.5 456.1h0.9v0.9h-0.9zM35.8 471.0h0.9v0.9h-0.9zM40.3 465.3h0.9v0.9h-0.9zM37.3 456.9h0.9v0.9h-0.9zM39.7 466.9h0.9v0.9h-0.9zM34.1 474.7h0.9v0.9h-0.9zM44.3 453.5h0.9v0.9h-0.9zM34.5 469.0h0.9v0.9h-0.9zM36.4 462.9h0.9v0.9h-0.9zM33.0 470.6h0.9v0.9h-0.9zM35.1 469.3h0.9v0.9h-0.9zM34.8 468.2h0.9v0.9h-0.9zM37.3 469.7h0.9v0.9h-0.9zM39.3 460.4h0.9v0.9h-0.9zM33.2 457.1h0.9v0.9h-0.9zM37.5 468.9h0.9v0.9h-0.9zM38.0 460.6h0.9v0.9h-0.9zM36.0 472.0h0.9v0.9h-0.9zM33.5 462.4h0.9v0.9h-0.9zM40.1 454.7h0.9v0.9h-0.9zM39.0 468.5h0.9v0.9h-0.9zM37.1 454.5h0.9v0.9h-0.9zM34.8 470.4h0.9v0.9h-0.9zM31.8 460.8h0.9v0.9h-0.9zM34.1 455.9h0.9v0.9h-0.9zM31.8 459.2h0.9v0.9h-0.9zM34.9 466.2h0.9v0.9h-0.9zM38.1 464.5h0.9v0.9h-0.9zM34.1 466.2h0.9v0.9h-0.9zM36.3 473.8h0.9v0.9h-0.9zM35.8 458.6h0.9v0.9h-0.9zM36.4 469.5h0.9v0.9h-0.9zM31.1 472.7h0.9v0.9h-0.9zM33.6 463.2h0.9v0.9h-0.9zM35.5 465.5h0.9v0.9h-0.9zM33.0 463.6h0.9v0.9h-0.9zM40.2 460.7h0.9v0.9h-0.9zM36.8 471.4h0.9v0.9h-0.9zM30.9 462.0h0.9v0.9h-0.9zM39.1 462.5h0.9v0.9h-0.9zM36.6 460.6h0.9v0.9h-0.9zM39.6 463.3h0.9v0.9h-0.9zM35.8 457.9h0.9v0.9h-0.9zM39.2 470.3h0.9v0.9h-0.9zM35.0 454.7h0.9v0.9h-0.9zM34.1 474.0h0.9v0.9h-0.9zM41.3 477.3h0.9v0.9h-0.9zM36.4 453.8h0.9v0.9h-0.9zM36.7 466.2h0.9v0.9h-0.9zM35.6 460.6h0.9v0.9h-0.9zM35.2 461.1h0.9v0.9h-0.9zM44.2 467.8h0.9v0.9h-0.9zM36.9 461.0h0.9v0.9h-0.9zM42.1 468.4h0.9v0.9h-0.9zM39.2 461.2h0.9v0.9h-0.9zM37.9 463.5h0.9v0.9h-0.9zM32.4 463.4h0.9v0.9h-0.9zM35.6 467.8h0.9v0.9h-0.9zM40.1 458.5h0.9v0.9h-0.9zM35.4 469.3h0.9v0.9h-0.9zM43.9 456.8h0.9v0.9h-0.9zM40.7 460.0h0.9v0.9h-0.9zM37.5 471.8h0.9v0.9h-0.9zM36.0 459.5h0.9v0.9h-0.9zM32.4 466.8h0.9v0.9h-0.9zM34.4 468.7h0.9v0.9h-0.9zM34.3 460.0h0.9v0.9h-0.9zM36.7 459.8h0.9v0.9h-0.9zM33.5 459.1h0.9v0.9h-0.9zM38.7 473.4h0.9v0.9h-0.9zM40.7 469.0h0.9v0.9h-0.9zM35.6 461.2h0.9v0.9h-0.9zM38.0 465.8h0.9v0.9h-0.9zM32.9 465.1h0.9v0.9h-0.9zM35.3 464.2h0.9v0.9h-0.9zM35.0 455.7h0.9v0.9h-0.9zM33.8 454.0h0.9v0.9h-0.9zM35.4 460.7h0.9v0.9h-0.9zM33.6 465.7h0.9v0.9h-0.9zM32.3 459.4h0.9v0.9h-0.9zM30.2 465.1h0.9v0.9h-0.9zM39.4 463.1h0.9v0.9h-0.9zM37.2 465.2h0.9v0.9h-0.9zM37.5 467.0h0.9v0.9h-0.9zM42.4 470.4h0.9v0.9h-0.9zM40.8 466.2h0.9v0.9h-0.9zM38.6 471.8h0.9v0.9h-0.9zM35.0 468.4h0.9v0.9h-0.9zM31.4 470.8h0.9v0.9h-0.9zM34.6 463.4h0.9v0.9h-0.9zM37.7 467.9h0.9v0.9h-0.9zM44.1 474.1h0.9v0.9h-0.9zM37.3 459.7h0.9v0.9h-0.9zM30.6 457.5h0.9v0.9h-0.9zM36.8 467.1h0.9v0.9h-0.9zM29.8 466.4h0.9v0.9h-0.9zM31.9 469.6h0.9v0.9h-0.9zM44.1 468.3h0.9v0.9h-0.9zM35.1 462.9h0.9v0.9h-0.9zM38.3 469.9h0.9v0.9h-0.9zM38.3 457.3h0.9v0.9h-0.9zM46.4 466.0h0.9v0.9h-0.9zM36.9 474.8h0.9v0.9h-0.9zM37.7 469.5h0.9v0.9h-0.9zM40.6 468.1h0.9v0.9h-0.9zM37.7 467.1h0.9v0.9h-0.9zM45.0 469.5h0.9v0.9h-0.9zM36.8 459.6h0.9v0.9h-0.9zM37.4 464.2h0.9v0.9h-0.9zM35.4 453.6h0.9v0.9h-0.9zM34.9 474.6h0.9v0.9h-0.9zM38.6 464.6h0.9v0.9h-0.9zM33.5 462.5h0.9v0.9h-0.9zM31.6 461.0h0.9v0.9h-0.9zM40.4 456.9h0.9v0.9h-0.9zM32.9 457.8h0.9v0.9h-0.9zM29.0 451.0h0.9v0.9h-0.9zM33.1 454.2h0.9v0.9h-0.9zM37.2 458.4h0.9v0.9h-0.9zM37.5 463.6h0.9v0.9h-0.9zM37.1 461.6h0.9v0.9h-0.9zM37.7 466.7h0.9v0.9h-0.9zM39.8 462.7h0.9v0.9h-0.9zM33.6 468.0h0.9v0.9h-0.9zM37.5 475.2h0.9v0.9h-0.9zM33.6 450.0h0.9v0.9h-0.9zM39.3 469.8h0.9v0.9h-0.9zM34.0 466.6h0.9v0.9h-0.9zM42.9 457.0h0.9v0.9h-0.9zM38.1 468.6h0.9v0.9h-0.9zM40.5 465.4h0.9v0.9h-0.9zM35.2 482.3h0.9v0.9h-0.9zM34.5 472.4h0.9v0.9h-0.9zM37.7 469.3h0.9v0.9h-0.9zM36.4 467.6h0.9v0.9h-0.9zM37.9 467.7h0.9v0.9h-0.9zM35.2 462.4h0.9v0.9h-0.9zM37.2 462.7h0.9v0.9h-0.9zM33.4 467.1h0.9v0.9h-0.9zM34.7 460.1h0.9v0.9h-0.9zM34.0 467.1h0.9v0.9h-0.9zM37.5 469.3h0.9v0.9h-0.9zM37.7 454.0h0.9v0.9h-0.9zM37.4 470.1h0.9v0.9h-0.9zM35.8 460.7h0.9v0.9h-0.9zM34.7 471.1h0.9v0.9h-0.9zM34.3 461.0h0.9v0.9h-0.9zM33.5 462.6h0.9v0.9h-0.9zM42.6 460.5h0.9v0.9h-0.9zM33.2 456.1h0.9v0.9h-0.9zM40.4 475.0h0.9v0.9h-0.9zM34.4 470.8h0.9v0.9h-0.9zM38.9 456.7h0.9v0.9h-0.9zM36.8 457.7h0.9v0.9h-0.9zM38.4 472.0h0.9v0.9h-0.9zM35.3 468.2h0.9v0.9h-0.9zM27.2 459.7h0.9v0.9h-0.9zM38.7 472.2h0.9v0.9h-0.9zM32.3 466.8h0.9v0.9h-0.9zM33.4 463.8h0.9v0.9h-0.9zM39.1 468.5h0.9v0.9h-0.9zM36.6 459.1h0.9v0.9h-0.9zM37.0 466.6h0.9v0.9h-0.9zM35.6 462.0h0.9v0.9h-0.9zM30.7 463.5h0.9v0.9h-0.9zM44.6 468.1h0.9v0.9h-0.9zM37.5 459.2h0.9v0.9h-0.9zM44.2 461.8h0.9v0.9h-0.9zM33.9 463.4h0.9v0.9h-0.9zM37.2 463.6h0.9v0.9h-0.9zM33.4 457.4h0.9v0.9h-0.9zM36.0 463.3h0.9v0.9h-0.9zM38.3 453.8h0.9v0.9h-0.9zM38.7 470.1h0.9v0.9h-0.9zM36.8 449.3h0.9v0.9h-0.9zM37.5 464.6h0.9v0.9h-0.9zM39.3 467.2h0.9v0.9h-0.9zM36.2 470.8h0.9v0.9h-0.9zM33.1 460.0h0.9v0.9h-0.9zM36.3 467.9h0.9v0.9h-0.9zM25.7 472.5h0.9v0.9h-0.9zM37.1 460.3h0.9v0.9h-0.9zM39.9 463.2h0.9v0.9h-0.9zM39.2 470.6h0.9v0.9h-0.9zM46.5 470.9h0.9v0.9h-0.9zM40.8 456.7h0.9v0.9h-0.9zM33.7 471.7h0.9v0.9h-0.9zM36.6 462.2h0.9v0.9h-0.9zM38.8 465.4h0.9v0.9h-0.9zM37.1 467.6h0.9v0.9h-0.9zM32.9 462.7h0.9v0.9h-0.9zM40.2 467.6h0.9v0.9h-0.9zM41.2 460.7h0.9v0.9h-0.9zM38.4 456.3h0.9v0.9h-0.9zM44.6 461.5h0.9v0.9h-0.9zM30.7 458.9h0.9v0.9h-0.9zM38.6 469.7h0.9v0.9h-0.9zM43.9 469.1h0.9v0.9h-0.9zM35.3 474.2h0.9v0.9h-0.9zM32.5 472.6h0.9v0.9h-0.9zM31.2 470.9h0.9v0.9h-0.9zM33.4 460.0h0.9v0.9h-0.9zM41.4 465.3h0.9v0.9h-0.9zM37.7 469.2h0.9v0.9h-0.9zM35.0 461.2h0.9v0.9h-0.9zM31.9 470.2h0.9v0.9h-0.9zM38.1 459.0h0.9v0.9h-0.9zM32.2 460.8h0.9v0.9h-0.9zM41.0 456.1h0.9v0.9h-0.9zM37.6 456.9h0.9v0.9h-0.9zM36.5 462.3h0.9v0.9h-0.9zM35.8 455.4h0.9v0.9h-0.9zM41.1 460.5h0.9v0.9h-0.9zM33.2 461.5h0.9v0.9h-0.9zM36.0 464.5h0.9v0.9h-0.9zM30.5 462.3h0.9v0.9h-0.9zM36.1 463.2h0.9v0.9h-0.9zM41.7 454.2h0.9v0.9h-0.9zM38.6 465.7h0.9v0.9h-0.9zM39.7 457.1h0.9v0.9h-0.9zM40.9 473.7h0.9v0.9h-0.9zM36.3 473.1h0.9v0.9h-0.9zM32.4 462.6h0.9v0.9h-0.9zM37.9 459.0h0.9v0.9h-0.9zM30.9 458.3h0.9v0.9h-0.9zM39.9 457.4h0.9v0.9h-0.9zM36.3 454.4h0.9v0.9h-0.9zM40.4 461.1h0.9v0.9h-0.9zM39.1 465.4h0.9v0.9h-0.9zM36.8 458.6h0.9v0.9h-0.9zM39.1 467.9h0.9v0.9h-0.9zM37.1 459.7h0.9v0.9h-0.9zM32.4 471.6h0.9v0.9h-0.9zM40.5 450.6h0.9v0.9h-0.9zM31.0 463.9h0.9v0.9h-0.9zM36.8 466.8h0.9v0.9h-0.9zM38.2 456.5h0.9v0.9h-0.9zM39.8 477.1h0.9v0.9h-0.9zM40.4 454.8h0.9v0.9h-0.9zM39.5 461.3h0.9v0.9h-0.9zM37.9 461.8h0.9v0.9h-0.9zM36.3 465.3h0.9v0.9h-0.9zM33.7 466.0h0.9v0.9h-0.9zM37.9 468.3h0.9v0.9h-0.9zM36.1 465.4h0.9v0.9h-0.9zM34.2 461.1h0.9v0.9h-0.9zM37.1 468.8h0.9v0.9h-0.9zM33.7 451.1h0.9v0.9h-0.9zM38.5 475.4h0.9v0.9h-0.9zM31.2 465.8h0.9v0.9h-0.9zM32.4 460.4h0.9v0.9h-0.9zM36.7 456.7h0.9v0.9h-0.9zM38.6 470.4h0.9v0.9h-0.9zM42.9 469.5h0.9v0.9h-0.9zM41.2 457.4h0.9v0.9h-0.9zM35.2 471.5h0.9v0.9h-0.9zM38.1 463.1h0.9v0.9h-0.9zM36.9 462.2h0.9v0.9h-0.9zM38.7 459.0h0.9v0.9h-0.9zM37.9 464.6h0.9v0.9h-0.9zM41.0 458.4h0.9v0.9h-0.9zM40.0 471.2h0.9v0.9h-0.9zM33.6 461.1h0.9v0.9h-0.9zM35.6 467.8h0.9v0.9h-0.9zM37.0 465.4h0.9v0.9h-0.9zM39.2 453.7h0.9v0.9h-0.9zM37.0 457.4h0.9v0.9h-0.9zM37.4 468.7h0.9v0.9h-0.9zM38.7 454.7h0.9v0.9h-0.9zM38.3 471.2h0.9v0.9h-0.9zM39.5 466.7h0.9v0.9h-0.9zM36.1 470.5h0.9v0.9h-0.9zM38.0 459.2h0.9v0.9h-0.9zM39.1 458.9h0.9v0.9h-0.9zM42.4 458.1h0.9v0.9h-0.9zM40.9 454.8h0.9v0.9h-0.9zM42.3 468.5h0.9v0.9h-0.9zM36.9 465.0h0.9v0.9h-0.9zM37.3 463.2h0.9v0.9h-0.9zM39.3 461.2h0.9v0.9h-0.9z" fill="#000" opacity="0.3" filter="url(#sblur)"/>
<g filter="url(#dblur)" fill="#0a0a0a">
<polygon points="26.5,481.3 28.9,476.5 32.2,473.1 37.0,470.7 40.9,471.6 42.8,475.5 42.8,481.3 40.9,487.1 37.0,490.0 31.3,490.0 27.4,487.5 25.5,484.2" opacity="1" stroke="#0a0a0a" stroke-width="1" stroke-linejoin="round"/>
<polygon points="33.0,450.0 38.0,448.7 44.0,449.5 45.0,453.0 43.0,455.8 37.0,456.2 33.0,455.0" opacity="0.85" stroke="#0a0a0a" stroke-width="1" stroke-linejoin="round"/>
<polygon points="47.0,450.0 52.0,448.7 57.0,449.5 58.0,453.0 56.0,455.8 50.0,456.2 47.0,455.0" opacity="0.85" stroke="#0a0a0a" stroke-width="1" stroke-linejoin="round"/>
<polygon points="58.0,479.0 61.0,478.0 62.5,484.0 62.0,489.5 58.5,489.5 57.5,485.0" opacity="0.6" stroke="#0a0a0a" stroke-width="1" stroke-linejoin="round"/>
</g>
<ellipse cx="32.7" cy="452.4" rx="9.6" ry="4.3" transform="rotate(0 32.7 452.4)" fill="none" stroke="#3a3a3a" stroke-width="0.7"/>
<ellipse cx="54.4" cy="452.4" rx="8.2" ry="4.3" transform="rotate(0 54.4 452.4)" fill="none" stroke="#3a3a3a" stroke-width="0.7"/>
<ellipse cx="58.2" cy="479.8" rx="6.5" ry="12.5" transform="rotate(0 58.2 479.8)" fill="none" stroke="#3a3a3a" stroke-width="0.7"/>
<defs></defs>
<clipPath id="c1_0"><rect x="99.0" y="2.0" width="62.0" height="51.5"/></clipPath>
<g clip-path="url(#c1_0)">
<polygon points="98.4,53.5 98.4,2.7 100.0,14.4 101.6,25.7 103.2,22.9 104.8,28.8 106.4,34.9 108.0,39.0 109.6,43.2 111.2,41.6 112.8,40.3 114.4,39.9 116.0,43.4 117.6,38.3 119.2,41.6 120.8,44.8 122.4,45.6 124.0,48.3 125.6,50.2 127.2,53.5 127.6,53.2 127.6,53.5" fill="#a8a8a8" stroke="#6a6a6a" stroke-width="0.8" stroke-linejoin="round"/>
<polyline points="98.4,2.7 100.0,8.3 101.6,19.8 103.2,19.5 104.8,21.4 106.4,27.0 108.0,27.6 109.6,31.1 111.2,33.0 112.8,29.3 114.4,28.5 116.0,28.9 117.6,24.1 119.2,31.7 120.8,33.8 122.4,31.8 124.0,36.3 125.6,43.0 127.2,51.5 128.0,53.2" fill="none" stroke="#161616" stroke-width="1.25" stroke-linejoin="round" stroke-linecap="round"/>
</g>
<clipPath id="c1_1"><rect x="166.0" y="2.0" width="62.0" height="51.5"/></clipPath>
<g clip-path="url(#c1_1)">
<polygon points="165.6,53.5 165.6,2.7 167.2,11.0 168.8,20.4 170.4,27.6 172.0,31.5 173.6,34.9 175.2,33.8 176.8,34.8 178.4,33.9 180.0,33.7 181.6,34.3 183.2,35.1 184.8,31.1 186.4,32.4 188.0,33.1 189.6,37.7 191.2,42.9 192.8,46.8 194.4,48.2 196.0,50.2 197.6,52.4 199.2,53.2 200.0,53.2 200.0,53.5" fill="#a8a8a8" stroke="#6a6a6a" stroke-width="0.8" stroke-linejoin="round"/>
<polyline points="165.6,2.7 167.2,6.6 168.8,16.4 170.4,18.0 172.0,26.7 173.6,30.4 175.2,27.2 176.8,27.5 178.4,21.3 180.0,24.9 181.6,17.8 183.2,25.0 184.8,22.6 186.4,24.9 188.0,18.5 189.6,26.8 191.2,31.5 192.8,40.3 194.4,47.1 196.0,49.5 197.6,51.0 199.2,52.4 200.8,52.0 201.0,53.2" fill="none" stroke="#161616" stroke-width="1.25" stroke-linejoin="round" stroke-linecap="round"/>
</g>
<clipPath id="c1_2"><rect x="233.0" y="2.0" width="62.0" height="51.5"/></clipPath>
<g clip-path="url(#c1_2)">
<polygon points="233.2,53.5 233.2,30.0 234.8,32.7 236.4,32.8 238.0,33.6 239.6,35.8 241.2,34.6 242.8,32.3 244.4,35.1 246.0,35.3 247.6,35.2 249.2,28.8 250.8,23.0 252.4,17.3 254.0,12.0 255.6,11.7 257.2,5.7 258.8,7.5 260.4,7.3 262.0,7.6 263.6,9.1 265.2,9.0 266.8,25.6 268.4,42.8 270.0,51.4 270.6,53.2 270.6,53.5" fill="#a8a8a8" stroke="#6a6a6a" stroke-width="0.8" stroke-linejoin="round"/>
<polyline points="233.2,4.0 234.8,47.1 236.4,48.4 238.0,48.4 239.6,49.0 241.2,48.3 242.8,48.4 244.4,47.1 246.0,47.4 247.6,46.5 249.2,45.7 250.8,43.8 252.4,41.7 254.0,40.4 255.6,38.5 257.2,33.1 258.8,21.8 260.4,15.8 262.0,9.3 263.6,10.4 265.2,10.8 266.8,12.0 268.4,14.2 270.0,20.8 271.6,25.4 273.2,34.8 274.8,42.5 276.4,49.8 278.0,53.2" fill="none" stroke="#161616" stroke-width="1.25" stroke-linejoin="round" stroke-linecap="round"/>
</g>
<clipPath id="c1_3"><rect x="300.0" y="2.0" width="62.0" height="51.5"/></clipPath>
<g clip-path="url(#c1_3)">
<polygon points="300.2,53.5 300.2,35.0 301.8,36.9 303.4,36.9 305.0,37.8 306.6,38.4 308.2,38.3 309.8,37.2 311.4,36.5 313.0,33.9 314.6,31.4 316.2,30.3 317.8,30.0 319.4,27.9 321.0,23.2 322.6,17.0 324.2,11.9 325.8,8.8 327.4,12.1 329.0,4.5 330.6,12.3 332.2,18.1 333.8,27.7 335.4,33.9 337.0,38.0 338.6,42.7 340.2,47.3 341.8,51.0 343.0,53.2 343.0,53.5" fill="#a8a8a8" stroke="#6a6a6a" stroke-width="0.8" stroke-linejoin="round"/>
<polyline points="300.2,50.0 301.8,50.1 303.4,48.7 305.0,48.1 306.6,48.7 308.2,49.9 309.8,49.0 311.4,48.3 313.0,48.6 314.6,48.8 316.2,46.7 317.8,46.8 319.4,44.7 321.0,43.9 322.6,41.6 324.2,37.2 325.8,34.2 327.4,26.6 329.0,20.5 330.6,17.4 332.2,4.5 333.8,11.6 335.4,7.3 337.0,12.5 338.6,21.0 340.2,25.1 341.8,24.0 343.4,31.0 345.0,38.7 346.6,43.6 348.2,50.7 349.4,53.2" fill="none" stroke="#161616" stroke-width="1.25" stroke-linejoin="round" stroke-linecap="round"/>
</g>
<clipPath id="c1_4"><rect x="367.0" y="2.0" width="62.0" height="51.5"/></clipPath>
<g clip-path="url(#c1_4)">
<polygon points="366.8,53.5 366.8,50.8 368.4,50.8 370.0,51.9 371.6,50.4 373.2,51.3 374.8,51.1 376.4,51.3 378.0,51.5 379.6,51.1 381.2,50.2 382.8,47.2 384.4,44.3 386.0,41.2 387.6,36.9 389.2,31.5 390.8,28.8 392.4,22.2 394.0,20.5 395.6,11.3 397.2,5.1 398.8,9.0 400.4,7.2 402.0,14.5 403.6,18.3 405.2,26.0 406.8,35.0 408.4,39.3 410.0,44.3 411.6,50.3 413.2,52.6 413.4,53.1 413.4,53.5" fill="#a8a8a8" stroke="#6a6a6a" stroke-width="0.8" stroke-linejoin="round"/>
<polyline points="367.0,28.0 368.6,52.2 370.2,51.5 371.8,50.9 373.4,52.3 375.0,52.2 376.6,52.7 378.2,52.1 379.8,51.9 381.4,51.9 383.0,51.2 384.6,51.1 386.2,50.2 387.8,50.9 389.4,50.1 391.0,49.9 392.6,49.7 394.2,48.4 395.8,44.2 397.4,41.1 399.0,32.2 400.6,25.7 402.2,18.0 403.8,9.3 405.4,6.6 407.0,8.1 408.6,9.5 410.2,11.0 411.8,18.3 413.4,30.9 415.0,43.3 416.6,52.8 416.9,53.1" fill="none" stroke="#161616" stroke-width="1.25" stroke-linejoin="round" stroke-linecap="round"/>
</g>
<clipPath id="c1_5"><rect x="99.0" y="59.0" width="62.0" height="51.5"/></clipPath>
<g clip-path="url(#c1_5)">
<polygon points="98.4,110.5 98.4,59.7 100.0,70.6 101.6,84.7 103.2,91.5 104.8,95.8 106.4,97.6 108.0,98.2 109.6,96.7 111.2,98.5 112.8,95.8 114.4,95.1 116.0,95.7 117.6,93.2 119.2,91.8 120.8,90.9 122.4,91.7 124.0,99.1 125.6,105.7 127.2,109.9 128.4,110.4 128.4,110.5" fill="#a8a8a8" stroke="#6a6a6a" stroke-width="0.8" stroke-linejoin="round"/>
<polyline points="98.4,59.7 100.0,70.3 101.6,81.3 103.2,87.3 104.8,91.4 106.4,90.7 108.0,90.1 109.6,91.3 111.2,92.2 112.8,90.7 114.4,86.1 116.0,88.9 117.6,81.2 119.2,81.1 120.8,80.6 122.4,87.8 124.0,95.2 125.6,103.2 127.2,109.1 128.8,110.3 129.0,110.4" fill="none" stroke="#161616" stroke-width="1.25" stroke-linejoin="round" stroke-linecap="round"/>
</g>
<clipPath id="c1_6"><rect x="166.0" y="59.0" width="62.0" height="51.5"/></clipPath>
<g clip-path="url(#c1_6)">
<polygon points="165.6,110.5 165.6,59.7 167.2,67.8 168.8,75.9 170.4,82.2 172.0,87.4 173.6,91.9 175.2,95.1 176.8,98.5 178.4,97.2 180.0,99.3 181.6,99.7 183.2,99.6 184.8,100.5 186.4,100.9 188.0,98.9 189.6,100.2 191.2,102.0 192.8,104.8 194.4,107.1 196.0,108.3 197.6,109.9 199.0,110.4 199.0,110.5" fill="#a8a8a8" stroke="#6a6a6a" stroke-width="0.8" stroke-linejoin="round"/>
<polyline points="165.6,59.7 167.2,65.8 168.8,74.5 170.4,82.3 172.0,86.0 173.6,89.3 175.2,91.1 176.8,94.5 178.4,95.7 180.0,96.8 181.6,95.7 183.2,96.4 184.8,97.3 186.4,94.5 188.0,93.2 189.6,93.6 191.2,96.8 192.8,100.3 194.4,104.4 196.0,107.5 197.6,109.4 199.0,110.4" fill="none" stroke="#161616" stroke-width="1.25" stroke-linejoin="round" stroke-linecap="round"/>
</g>
<clipPath id="c1_7"><rect x="233.0" y="59.0" width="62.0" height="51.5"/></clipPath>
<g clip-path="url(#c1_7)">
<polygon points="233.2,110.5 233.2,102.0 234.8,109.2 236.4,109.6 238.0,109.4 239.6,109.3 241.2,109.7 242.8,109.1 244.4,108.3 246.0,108.5 247.6,105.9 249.2,105.8 250.8,104.6 252.4,101.8 254.0,96.3 255.6,86.5 257.2,75.6 258.8,64.9 260.4,62.5 262.0,62.0 263.6,78.5 265.2,90.7 266.8,100.1 268.4,105.5 270.0,108.6 271.6,109.7 273.0,110.4 273.0,110.5" fill="#a8a8a8" stroke="#6a6a6a" stroke-width="0.8" stroke-linejoin="round"/>
<polyline points="233.0,110.4 234.6,110.5 236.2,110.3 237.8,110.5 239.4,110.4 241.0,110.1 242.6,110.5 244.2,110.5 245.8,109.4 247.4,110.4 249.0,109.5 250.6,109.8 252.2,109.5 253.8,109.1 255.4,108.7 257.0,106.5 258.6,101.6 260.2,93.5 261.8,78.9 263.4,68.8 265.0,60.3 266.6,64.8 268.2,65.4 269.8,80.8 271.4,94.0 273.0,103.6 274.6,108.9 276.2,110.1 277.0,110.4" fill="none" stroke="#161616" stroke-width="1.25" stroke-linejoin="round" stroke-linecap="round"/>
</g>
<clipPath id="c1_8"><rect x="300.0" y="59.0" width="62.0" height="51.5"/></clipPath>
<g clip-path="url(#c1_8)">
<polygon points="300.2,110.5 300.2,103.0 301.8,104.0 303.4,103.4 305.0,103.6 306.6,103.7 308.2,102.6 309.8,101.4 311.4,100.9 313.0,99.4 314.6,97.0 316.2,94.6 317.8,91.0 319.4,87.7 321.0,84.9 322.6,79.2 324.2,73.7 325.8,65.9 327.4,64.7 329.0,62.9 330.6,70.8 332.2,75.2 333.8,79.8 335.4,88.1 337.0,95.9 338.6,98.5 340.2,103.7 341.8,106.8 343.4,109.7 345.0,110.4 345.0,110.5" fill="#a8a8a8" stroke="#6a6a6a" stroke-width="0.8" stroke-linejoin="round"/>
<polyline points="300.4,110.0 302.0,110.5 303.6,109.5 305.2,109.9 306.8,110.4 308.4,109.9 310.0,109.7 311.6,108.7 313.2,109.2 314.8,109.4 316.4,109.2 318.0,108.5 319.6,107.4 321.2,106.6 322.8,105.2 324.4,104.8 326.0,105.1 327.6,103.3 329.2,101.0 330.8,99.9 332.4,93.1 334.0,89.2 335.6,78.3 337.2,69.5 338.8,63.8 340.4,68.4 342.0,83.8 343.6,95.3 345.2,104.0 346.8,108.2 348.4,109.6 349.0,110.4" fill="none" stroke="#161616" stroke-width="1.25" stroke-linejoin="round" stroke-linecap="round"/>
</g>
<clipPath id="c1_9"><rect x="367.0" y="59.0" width="62.0" height="51.5"/></clipPath>
<g clip-path="url(#c1_9)">
<polygon points="367.0,110.5 367.0,110.0 368.6,109.7 370.2,110.2 371.8,110.1 373.4,110.2 375.0,110.5 376.6,109.6 378.2,109.2 379.8,108.1 381.4,108.0 383.0,107.7 384.6,105.6 386.2,103.3 387.8,101.5 389.4,94.7 391.0,89.2 392.6,82.2 394.2,74.5 395.8,72.3 397.4,66.9 399.0,61.7 400.6,67.2 402.2,68.5 403.8,77.7 405.4,86.8 407.0,95.3 408.6,102.0 410.2,105.2 411.8,107.5 413.4,109.1 415.0,110.0 415.4,110.4 415.4,110.5" fill="#a8a8a8" stroke="#6a6a6a" stroke-width="0.8" stroke-linejoin="round"/>
<polyline points="367.0,110.4 368.6,110.5 370.2,110.5 371.8,110.4 373.4,110.5 375.0,110.5 376.6,110.3 378.2,110.2 379.8,110.2 381.4,109.7 383.0,109.6 384.6,109.9 386.2,109.2 387.8,109.1 389.4,109.3 391.0,108.0 392.6,107.5 394.2,105.0 395.8,103.3 397.4,98.7 399.0,90.5 400.6,80.8 402.2,68.4 403.8,59.9 405.4,62.2 407.0,66.9 408.6,73.6 410.2,85.4 411.8,96.4 413.4,104.0 415.0,108.2 416.6,110.5 417.4,110.4" fill="none" stroke="#161616" stroke-width="1.25" stroke-linejoin="round" stroke-linecap="round"/>
</g>
<clipPath id="c1_10"><rect x="99.0" y="117.0" width="62.0" height="51.5"/></clipPath>
<g clip-path="url(#c1_10)">
<polygon points="98.4,168.5 98.4,117.7 100.0,131.6 101.6,138.0 103.2,148.3 104.8,152.7 106.4,152.4 108.0,156.5 109.6,157.9 111.2,156.7 112.8,156.7 114.4,156.4 116.0,157.0 117.6,157.8 119.2,158.6 120.8,158.9 122.4,161.1 124.0,162.8 125.6,166.1 127.2,168.5 127.2,168.4 127.2,168.5" fill="#a8a8a8" stroke="#6a6a6a" stroke-width="0.8" stroke-linejoin="round"/>
<polyline points="98.4,117.7 100.0,127.9 101.6,137.9 103.2,147.1 104.8,150.1 106.4,152.6 108.0,154.6 109.6,154.7 111.2,150.6 112.8,151.1 114.4,153.0 116.0,151.7 117.6,153.6 119.2,153.1 120.8,155.1 122.4,157.8 124.0,160.9 125.6,163.3 127.2,167.6 127.6,168.4" fill="none" stroke="#161616" stroke-width="1.25" stroke-linejoin="round" stroke-linecap="round"/>
</g>
<clipPath id="c1_11"><rect x="166.0" y="117.0" width="62.0" height="51.5"/></clipPath>
<g clip-path="url(#c1_11)">
<polygon points="165.6,168.5 165.6,117.7 167.2,130.8 168.8,140.3 170.4,147.2 172.0,151.6 173.6,154.4 175.2,155.4 176.8,157.3 178.4,156.5 180.0,159.0 181.6,158.1 183.2,159.2 184.8,161.4 186.4,161.5 188.0,162.4 189.6,164.6 191.2,165.4 192.8,167.0 194.4,168.1 194.4,168.4 194.4,168.5" fill="#a8a8a8" stroke="#6a6a6a" stroke-width="0.8" stroke-linejoin="round"/>
<polyline points="165.6,117.7 167.2,128.9 168.8,138.9 170.4,145.7 172.0,152.4 173.6,151.5 175.2,154.9 176.8,153.3 178.4,152.8 180.0,151.4 181.6,152.8 183.2,154.5 184.8,154.6 186.4,154.6 188.0,158.7 189.6,161.3 191.2,164.1 192.8,165.6 194.4,167.7 195.0,168.4" fill="none" stroke="#161616" stroke-width="1.25" stroke-linejoin="round" stroke-linecap="round"/>
</g>
<clipPath id="c1_12"><rect x="233.0" y="117.0" width="62.0" height="51.5"/></clipPath>
<g clip-path="url(#c1_12)">
<polygon points="233.2,168.5 233.2,165.0 234.8,165.3 236.4,164.8 238.0,165.4 239.6,164.8 241.2,165.1 242.8,164.0 244.4,163.2 246.0,161.1 247.6,161.2 249.2,159.2 250.8,156.6 252.4,153.7 254.0,149.1 255.6,145.4 257.2,139.9 258.8,132.8 260.4,123.6 262.0,122.4 263.6,122.4 265.2,128.6 266.8,142.2 268.4,154.2 270.0,163.6 271.6,167.3 273.0,168.4 273.0,168.5" fill="#a8a8a8" stroke="#6a6a6a" stroke-width="0.8" stroke-linejoin="round"/>
<polyline points="233.0,134.0 234.6,167.2 236.2,166.9 237.8,166.5 239.4,167.1 241.0,167.6 242.6,167.1 244.2,167.3 245.8,166.9 247.4,166.9 249.0,166.3 250.6,164.9 252.2,164.6 253.8,164.5 255.4,161.3 257.0,157.9 258.6,157.5 260.2,152.3 261.8,146.7 263.4,139.3 265.0,125.7 266.6,121.7 268.2,130.2 269.8,148.4 271.4,162.8 273.0,167.2 274.2,168.4" fill="none" stroke="#161616" stroke-width="1.25" stroke-linejoin="round" stroke-linecap="round"/>
</g>
<clipPath id="c1_13"><rect x="300.0" y="117.0" width="62.0" height="51.5"/></clipPath>
<g clip-path="url(#c1_13)">
<polygon points="300.6,168.5 300.6,117.7 302.2,139.3 303.8,150.5 305.4,154.6 307.0,154.6 308.6,155.9 310.2,156.7 311.8,157.0 313.4,157.5 315.0,158.3 316.6,158.7 318.2,157.7 319.8,160.1 321.4,160.9 323.0,163.1 324.6,163.5 326.2,164.1 327.8,165.7 329.4,166.4 331.0,166.5 332.6,167.1 334.2,167.6 335.8,168.1 337.4,167.6 339.0,168.4 339.0,168.5" fill="#a8a8a8" stroke="#6a6a6a" stroke-width="0.8" stroke-linejoin="round"/>
<polyline points="300.6,117.7 302.2,128.3 303.8,137.1 305.4,140.3 307.0,144.3 308.6,146.2 310.2,149.6 311.8,146.8 313.4,146.6 315.0,146.6 316.6,145.2 318.2,145.9 319.8,145.1 321.4,146.1 323.0,147.1 324.6,152.3 326.2,157.0 327.8,159.8 329.4,161.3 331.0,162.1 332.6,163.9 334.2,165.4 335.8,166.5 337.4,167.0 339.0,167.2 340.6,167.8 341.0,168.4" fill="none" stroke="#161616" stroke-width="1.25" stroke-linejoin="round" stroke-linecap="round"/>
</g>
<clipPath id="c1_14"><rect x="367.0" y="117.0" width="62.0" height="51.5"/></clipPath>
<g clip-path="url(#c1_14)">
<polygon points="367.0,168.5 367.0,117.7 368.6,129.1 370.2,139.5 371.8,146.3 373.4,147.1 375.0,150.6 376.6,153.7 378.2,152.2 379.8,153.5 381.4,153.6 383.0,156.3 384.6,156.2 386.2,156.5 387.8,157.6 389.4,158.1 391.0,159.4 392.6,160.2 394.2,160.7 395.8,161.2 397.4,162.2 399.0,163.0 400.6,164.0 402.2,163.3 403.8,165.2 405.4,165.8 407.0,166.7 408.6,167.3 410.2,167.8 411.8,168.3 413.0,168.4 413.0,168.5" fill="#a8a8a8" stroke="#6a6a6a" stroke-width="0.8" stroke-linejoin="round"/>
<polyline points="367.0,117.7 368.6,125.6 370.2,136.2 371.8,141.6 373.4,144.2 375.0,146.8 376.6,147.1 378.2,147.3 379.8,146.4 381.4,145.9 383.0,144.1 384.6,146.3 386.2,146.1 387.8,148.4 389.4,146.9 391.0,145.6 392.6,148.6 394.2,151.2 395.8,153.0 397.4,154.3 399.0,155.5 400.6,156.3 402.2,158.5 403.8,160.0 405.4,162.3 407.0,162.3 408.6,165.1 410.2,166.2 411.8,166.7 413.4,168.0 415.0,168.4" fill="none" stroke="#161616" stroke-width="1.25" stroke-linejoin="round" stroke-linecap="round"/>
</g>
<clipPath id="c2_0"><rect x="99.0" y="210.0" width="62.0" height="51.5"/></clipPath>
<g clip-path="url(#c2_0)">
<polygon points="100.0,261.5 100.0,261.4 101.6,258.5 103.2,253.2 104.8,247.2 106.4,237.4 108.0,223.7 109.6,211.7 111.2,214.1 112.8,211.2 114.4,218.0 116.0,228.4 117.6,243.5 119.2,251.4 120.8,255.0 122.4,258.1 124.0,260.0 125.6,260.5 126.0,261.4 126.0,261.5" fill="#a8a8a8" stroke="#6a6a6a" stroke-width="0.8" stroke-linejoin="round"/>
<polyline points="99.6,261.4 101.2,259.0 102.8,254.9 104.4,249.2 106.0,240.4 107.6,227.2 109.2,218.4 110.8,215.2 112.4,213.6 114.0,214.0 115.6,224.3 117.2,236.2 118.8,249.6 120.4,255.0 122.0,256.1 123.6,257.9 125.2,260.7 126.4,261.4" fill="none" stroke="#161616" stroke-width="1.25" stroke-linejoin="round" stroke-linecap="round"/>
</g>
<clipPath id="c2_1"><rect x="166.0" y="210.0" width="62.0" height="51.5"/></clipPath>
<g clip-path="url(#c2_1)">
<polygon points="170.0,261.5 170.0,261.4 171.6,260.0 173.2,260.2 174.8,259.6 176.4,258.7 178.0,258.1 179.6,256.0 181.2,253.5 182.8,249.1 184.4,245.1 186.0,235.0 187.6,221.5 189.2,215.1 190.8,214.1 192.4,216.0 194.0,219.9 195.6,221.6 197.2,219.5 198.8,217.0 200.4,211.0 202.0,216.1 203.6,218.3 205.2,228.7 206.8,241.0 208.4,251.7 210.0,257.8 211.6,260.6 212.0,261.4 212.0,261.5" fill="#a8a8a8" stroke="#6a6a6a" stroke-width="0.8" stroke-linejoin="round"/>
<polyline points="170.0,261.4 171.6,260.1 173.2,259.6 174.8,258.8 176.4,257.5 178.0,256.8 179.6,255.9 181.2,253.3 182.8,249.8 184.4,245.8 186.0,238.5 187.6,231.0 189.2,225.1 190.8,225.8 192.4,225.8 194.0,225.0 195.6,227.0 197.2,221.7 198.8,215.9 200.4,213.4 202.0,216.3 203.6,217.9 205.2,228.9 206.8,241.5 208.4,251.6 210.0,259.2 211.6,261.1 211.6,261.4" fill="none" stroke="#161616" stroke-width="1.25" stroke-linejoin="round" stroke-linecap="round"/>
</g>
<clipPath id="c2_2"><rect x="233.0" y="210.0" width="62.0" height="51.5"/></clipPath>
<g clip-path="url(#c2_2)">
<polygon points="239.0,261.5 239.0,261.4 240.6,260.3 242.2,258.6 243.8,256.6 245.4,254.2 247.0,251.5 248.6,248.3 250.2,245.1 251.8,242.1 253.4,237.2 255.0,231.6 256.6,225.0 258.2,215.4 259.8,214.2 261.4,222.0 263.0,234.1 264.6,245.4 266.2,252.4 267.8,256.1 269.4,259.0 271.0,260.9 272.2,261.4 272.2,261.5" fill="#a8a8a8" stroke="#6a6a6a" stroke-width="0.8" stroke-linejoin="round"/>
<polyline points="239.0,261.4 240.6,260.6 242.2,259.0 243.8,256.9 245.4,253.9 247.0,251.2 248.6,247.7 250.2,244.0 251.8,239.7 253.4,236.0 255.0,231.1 256.6,222.6 258.2,215.2 259.8,213.7 261.4,216.0 263.0,223.8 264.6,226.2 266.2,224.3 267.8,220.0 269.4,218.0 271.0,217.9 272.6,228.8 274.2,243.1 275.8,253.1 277.4,259.0 279.0,261.4" fill="none" stroke="#161616" stroke-width="1.25" stroke-linejoin="round" stroke-linecap="round"/>
</g>
<clipPath id="c2_3"><rect x="300.0" y="210.0" width="62.0" height="51.5"/></clipPath>
<g clip-path="url(#c2_3)">
<polygon points="305.0,261.5 305.0,261.4 306.6,260.5 308.2,258.3 309.8,255.7 311.4,253.2 313.0,251.7 314.6,249.9 316.2,246.1 317.8,239.8 319.4,233.6 321.0,225.3 322.6,216.4 324.2,216.6 325.8,219.5 327.4,224.6 329.0,225.5 330.6,223.0 332.2,219.0 333.8,212.8 335.4,215.5 337.0,222.4 338.6,233.9 340.2,245.7 341.8,254.1 343.4,258.9 345.0,261.1 345.8,261.4 345.8,261.5" fill="#a8a8a8" stroke="#6a6a6a" stroke-width="0.8" stroke-linejoin="round"/>
<polyline points="305.0,261.4 306.6,260.9 308.2,260.6 309.8,259.6 311.4,257.4 313.0,257.0 314.6,256.4 316.2,253.2 317.8,251.3 319.4,249.4 321.0,246.5 322.6,244.8 324.2,241.2 325.8,240.4 327.4,241.2 329.0,240.0 330.6,236.3 332.2,232.1 333.8,227.2 335.4,222.7 337.0,219.2 338.6,217.0 340.2,214.4 341.8,212.2 343.4,225.4 345.0,247.2 346.6,261.4" fill="none" stroke="#161616" stroke-width="1.25" stroke-linejoin="round" stroke-linecap="round"/>
</g>
<clipPath id="c2_4"><rect x="367.0" y="210.0" width="62.0" height="51.5"/></clipPath>
<g clip-path="url(#c2_4)">
<polygon points="371.0,261.5 371.0,261.4 372.6,261.3 374.2,261.2 375.8,260.7 377.4,260.7 379.0,260.5 380.6,260.6 382.2,260.1 383.8,260.2 385.4,259.7 387.0,258.6 388.6,257.8 390.2,256.9 391.8,255.1 393.4,252.1 395.0,247.7 396.6,242.8 398.2,235.1 399.8,227.3 401.4,221.3 403.0,217.1 404.6,213.8 406.2,213.4 407.8,214.2 409.4,222.5 411.0,230.4 412.6,242.9 414.2,258.4 415.0,261.4 415.0,261.5" fill="#a8a8a8" stroke="#6a6a6a" stroke-width="0.8" stroke-linejoin="round"/>
<polyline points="371.0,261.4 372.6,261.4 374.2,261.4 375.8,261.3 377.4,261.3 379.0,260.7 380.6,261.0 382.2,260.5 383.8,260.0 385.4,260.0 387.0,259.4 388.6,259.1 390.2,257.8 391.8,256.3 393.4,252.6 395.0,249.9 396.6,244.3 398.2,236.5 399.8,228.4 401.4,223.1 403.0,218.2 404.6,217.3 406.2,214.3 407.8,214.7 409.4,224.3 411.0,230.9 412.6,244.9 414.2,258.9 415.0,261.4" fill="none" stroke="#161616" stroke-width="1.25" stroke-linejoin="round" stroke-linecap="round"/>
</g>
<clipPath id="c2_5"><rect x="99.0" y="267.0" width="62.0" height="51.5"/></clipPath>
<g clip-path="url(#c2_5)">
<polygon points="99.6,318.5 99.6,318.4 101.2,314.6 102.8,309.3 104.4,304.0 106.0,295.9 107.6,284.6 109.2,274.6 110.8,270.8 112.4,271.9 114.0,280.7 115.6,291.9 117.2,301.1 118.8,305.4 120.4,308.3 122.0,311.7 123.6,315.2 125.2,317.2 126.4,318.4 126.4,318.5" fill="#a8a8a8" stroke="#6a6a6a" stroke-width="0.8" stroke-linejoin="round"/>
<polyline points="99.6,318.4 101.2,316.1 102.8,310.7 104.4,304.9 106.0,297.4 107.6,284.4 109.2,275.1 110.8,269.0 112.4,272.7 114.0,281.3 115.6,290.6 117.2,302.1 118.8,305.5 120.4,307.5 122.0,312.1 123.6,314.6 125.2,317.5 126.4,318.4" fill="none" stroke="#161616" stroke-width="1.25" stroke-linejoin="round" stroke-linecap="round"/>
</g>
<clipPath id="c2_6"><rect x="166.0" y="267.0" width="62.0" height="51.5"/></clipPath>
<g clip-path="url(#c2_6)">
<polygon points="174.0,318.5 174.0,318.4 175.6,317.9 177.2,317.3 178.8,317.2 180.4,315.4 182.0,314.1 183.6,311.9 185.2,307.1 186.8,300.4 188.4,289.5 190.0,278.5 191.6,271.9 193.2,270.5 194.8,274.3 196.4,280.7 198.0,289.2 199.6,297.7 201.2,305.6 202.8,310.2 204.4,312.9 206.0,314.9 207.6,316.8 209.2,317.4 210.8,318.2 211.0,318.4 211.0,318.5" fill="#a8a8a8" stroke="#6a6a6a" stroke-width="0.8" stroke-linejoin="round"/>
<polyline points="174.0,318.4 175.6,317.7 177.2,317.9 178.8,316.8 180.4,315.8 182.0,314.1 183.6,311.9 185.2,307.2 186.8,298.8 188.4,288.2 190.0,279.1 191.6,273.1 193.2,268.5 194.8,272.4 196.4,278.5 198.0,285.9 199.6,297.8 201.2,304.8 202.8,310.7 204.4,313.3 206.0,315.5 207.6,316.5 209.2,317.7 210.8,317.9 211.0,318.4" fill="none" stroke="#161616" stroke-width="1.25" stroke-linejoin="round" stroke-linecap="round"/>
</g>
<clipPath id="c2_7"><rect x="233.0" y="267.0" width="62.0" height="51.5"/></clipPath>
<g clip-path="url(#c2_7)">
<polygon points="239.0,318.5 239.0,318.4 240.6,317.4 242.2,316.6 243.8,314.6 245.4,313.9 247.0,312.5 248.6,309.7 250.2,307.1 251.8,302.7 253.4,297.7 255.0,290.2 256.6,283.9 258.2,274.6 259.8,273.9 261.4,273.6 263.0,275.8 264.6,289.0 266.2,304.8 267.8,312.7 269.4,317.2 271.0,318.4 271.0,318.5" fill="#a8a8a8" stroke="#6a6a6a" stroke-width="0.8" stroke-linejoin="round"/>
<polyline points="239.0,318.4 240.6,318.2 242.2,317.5 243.8,316.7 245.4,316.2 247.0,315.2 248.6,314.7 250.2,314.0 251.8,312.7 253.4,311.6 255.0,309.7 256.6,308.5 258.2,306.2 259.8,303.8 261.4,301.0 263.0,296.5 264.6,286.1 266.2,276.4 267.8,269.7 269.4,270.2 271.0,277.2 272.6,296.2 274.2,310.5 275.8,316.6 277.0,318.4" fill="none" stroke="#161616" stroke-width="1.25" stroke-linejoin="round" stroke-linecap="round"/>
</g>
<clipPath id="c2_8"><rect x="300.0" y="267.0" width="62.0" height="51.5"/></clipPath>
<g clip-path="url(#c2_8)">
<polygon points="305.0,318.5 305.0,318.4 306.6,317.0 308.2,316.0 309.8,314.1 311.4,312.6 313.0,311.5 314.6,309.5 316.2,307.4 317.8,305.3 319.4,302.1 321.0,298.5 322.6,295.5 324.2,291.8 325.8,287.8 327.4,283.3 329.0,280.4 330.6,276.1 332.2,269.2 333.8,277.2 335.4,283.4 337.0,292.1 338.6,302.5 340.2,310.9 341.8,316.2 343.4,318.4 343.4,318.5" fill="#a8a8a8" stroke="#6a6a6a" stroke-width="0.8" stroke-linejoin="round"/>
<polyline points="305.0,318.4 306.6,318.0 308.2,317.2 309.8,317.4 311.4,316.6 313.0,316.6 314.6,315.4 316.2,315.3 317.8,314.8 319.4,314.1 321.0,313.7 322.6,312.7 324.2,312.0 325.8,311.1 327.4,310.6 329.0,309.7 330.6,308.5 332.2,306.4 333.8,303.1 335.4,297.7 337.0,288.9 338.6,281.7 340.2,275.1 341.8,270.0 343.4,280.6 345.0,302.3 346.6,316.5 347.0,318.4" fill="none" stroke="#161616" stroke-width="1.25" stroke-linejoin="round" stroke-linecap="round"/>
</g>
<clipPath id="c2_9"><rect x="367.0" y="267.0" width="62.0" height="51.5"/></clipPath>
<g clip-path="url(#c2_9)">
<polygon points="383.0,318.5 383.0,318.4 384.6,318.2 386.2,317.9 387.8,318.3 389.4,317.8 391.0,317.3 392.6,316.3 394.2,315.8 395.8,314.5 397.4,312.8 399.0,310.0 400.6,306.8 402.2,301.9 403.8,296.9 405.4,289.3 407.0,279.5 408.6,274.7 410.2,271.3 411.8,274.8 413.4,303.8 415.0,318.4 415.0,318.5" fill="#a8a8a8" stroke="#6a6a6a" stroke-width="0.8" stroke-linejoin="round"/>
<polyline points="383.0,318.4 384.6,318.4 386.2,318.3 387.8,318.2 389.4,318.2 391.0,317.3 392.6,317.3 394.2,316.5 395.8,315.5 397.4,314.5 399.0,312.6 400.6,309.8 402.2,307.1 403.8,300.7 405.4,295.1 407.0,287.1 408.6,279.2 410.2,271.1 411.8,272.8 413.4,305.0 415.0,318.4" fill="none" stroke="#161616" stroke-width="1.25" stroke-linejoin="round" stroke-linecap="round"/>
</g>
<clipPath id="c2_10"><rect x="99.0" y="324.0" width="62.0" height="51.5"/></clipPath>
<g clip-path="url(#c2_10)">
<polygon points="99.0,375.5 99.0,375.4 100.6,372.7 102.2,370.7 103.8,365.3 105.4,360.0 107.0,349.2 108.6,340.0 110.2,333.5 111.8,327.3 113.4,334.9 115.0,342.6 116.6,355.5 118.2,366.3 119.8,371.8 121.4,373.9 123.0,375.5 123.0,375.4 123.0,375.5" fill="#a8a8a8" stroke="#6a6a6a" stroke-width="0.8" stroke-linejoin="round"/>
<polyline points="98.8,375.4 100.4,373.4 102.0,370.9 103.6,366.0 105.2,360.1 106.8,350.6 108.4,341.0 110.0,333.9 111.6,326.7 113.2,335.7 114.8,342.2 116.4,354.9 118.0,365.9 119.6,372.0 121.2,374.2 122.8,375.3 122.8,375.4" fill="none" stroke="#161616" stroke-width="1.25" stroke-linejoin="round" stroke-linecap="round"/>
</g>
<clipPath id="c2_11"><rect x="166.0" y="324.0" width="62.0" height="51.5"/></clipPath>
<g clip-path="url(#c2_11)">
<polygon points="167.0,375.5 167.0,375.4 168.6,373.8 170.2,370.8 171.8,365.8 173.4,358.2 175.0,348.6 176.6,341.1 178.2,334.8 179.8,330.0 181.4,333.3 183.0,345.0 184.6,352.4 186.2,349.4 187.8,348.3 189.4,341.7 191.0,342.6 192.6,352.3 194.2,363.4 195.8,369.4 197.4,372.9 199.0,374.8 200.0,375.4 200.0,375.5" fill="#a8a8a8" stroke="#6a6a6a" stroke-width="0.8" stroke-linejoin="round"/>
<polyline points="167.0,375.4 168.6,372.9 170.2,370.2 171.8,364.6 173.4,356.0 175.0,347.6 176.6,339.0 178.2,333.9 179.8,328.2 181.4,330.7 183.0,344.0 184.6,350.2 186.2,337.9 187.8,327.7 189.4,329.0 191.0,343.4 192.6,350.3 194.2,361.3 195.8,367.7 197.4,372.4 199.0,375.1 200.0,375.4" fill="none" stroke="#161616" stroke-width="1.25" stroke-linejoin="round" stroke-linecap="round"/>
</g>
<clipPath id="c2_12"><rect x="233.0" y="324.0" width="62.0" height="51.5"/></clipPath>
<g clip-path="url(#c2_12)">
<polygon points="236.0,375.5 236.0,375.4 237.6,374.3 239.2,373.0 240.8,371.8 242.4,369.9 244.0,367.5 245.6,365.5 247.2,361.5 248.8,356.0 250.4,347.9 252.0,336.3 253.6,327.6 255.2,328.4 256.8,329.0 258.4,334.0 260.0,344.6 261.6,357.4 263.2,366.0 264.8,371.4 266.4,374.3 267.4,375.4 267.4,375.5" fill="#a8a8a8" stroke="#6a6a6a" stroke-width="0.8" stroke-linejoin="round"/>
<polyline points="235.9,375.2 237.5,374.1 239.1,372.9 240.7,371.9 242.3,369.7 243.9,368.1 245.5,364.6 247.1,360.3 248.7,355.6 250.3,346.2 251.9,336.8 253.5,329.0 255.1,327.5 256.7,329.1 258.3,335.8 259.9,344.9 261.5,356.2 263.1,365.2 264.7,370.6 266.3,374.2 267.3,375.2" fill="none" stroke="#161616" stroke-width="1.25" stroke-linejoin="round" stroke-linecap="round"/>
</g>
<clipPath id="c2_13"><rect x="300.0" y="324.0" width="62.0" height="51.5"/></clipPath>
<g clip-path="url(#c2_13)">
<polygon points="300.0,375.5 300.0,375.4 301.6,374.4 303.2,372.6 304.8,370.4 306.4,367.3 308.0,363.4 309.6,358.3 311.2,349.9 312.8,338.8 314.4,331.4 316.0,330.2 317.6,327.7 319.2,335.8 320.8,342.5 322.4,349.5 324.0,354.6 325.6,361.4 327.2,366.2 328.8,369.4 330.4,372.2 332.0,373.5 333.6,374.7 335.2,374.9 336.0,375.4 336.0,375.5" fill="#a8a8a8" stroke="#6a6a6a" stroke-width="0.8" stroke-linejoin="round"/>
<polyline points="300.2,375.2 301.8,374.1 303.4,372.0 305.0,370.4 306.6,367.1 308.2,362.5 309.8,357.4 311.4,349.6 313.0,339.7 314.6,327.4 316.2,328.8 317.8,330.7 319.4,335.4 321.0,342.2 322.6,349.8 324.2,354.7 325.8,360.6 327.4,365.8 329.0,369.0 330.6,371.9 332.2,373.2 333.8,374.1 335.4,374.8 336.2,375.2" fill="none" stroke="#161616" stroke-width="1.25" stroke-linejoin="round" stroke-linecap="round"/>
</g>
<clipPath id="c2_14"><rect x="367.0" y="324.0" width="62.0" height="51.5"/></clipPath>
<g clip-path="url(#c2_14)">
<polygon points="367.0,375.5 367.0,375.4 368.6,373.2 370.2,371.1 371.8,366.8 373.4,361.9 375.0,353.7 376.6,345.4 378.2,337.9 379.8,331.2 381.4,328.5 383.0,329.9 384.6,333.1 386.2,342.0 387.8,349.1 389.4,351.9 391.0,353.8 392.6,355.3 394.2,356.9 395.8,358.7 397.4,361.1 399.0,362.1 400.6,364.0 402.2,365.8 403.8,367.2 405.4,369.5 407.0,372.0 408.6,373.3 410.2,374.5 411.0,375.4 411.0,375.5" fill="#a8a8a8" stroke="#6a6a6a" stroke-width="0.8" stroke-linejoin="round"/>
<polyline points="367.0,375.4 368.6,373.1 370.2,369.7 371.8,365.1 373.4,358.9 375.0,352.4 376.6,343.7 378.2,336.5 379.8,331.1 381.4,326.0 383.0,330.4 384.6,333.6 386.2,340.8 387.8,345.6 389.4,345.2 391.0,347.9 392.6,349.6 394.2,352.0 395.8,355.1 397.4,356.6 399.0,359.1 400.6,360.7 402.2,362.5 403.8,364.2 405.4,366.9 407.0,369.3 408.6,372.1 410.2,374.2 411.8,375.5 412.0,375.4" fill="none" stroke="#161616" stroke-width="1.25" stroke-linejoin="round" stroke-linecap="round"/>
</g>
<clipPath id="c3_0"><rect x="99.0" y="418.0" width="62.0" height="52.5"/></clipPath>
<g clip-path="url(#c3_0)">
<polygon points="99.6,470.5 99.6,469.4 101.2,467.8 102.8,464.9 104.4,459.8 106.0,451.9 107.6,438.9 109.2,423.9 110.8,422.9 112.4,435.1 114.0,449.7 115.6,460.1 117.2,465.6 118.8,468.2 120.4,469.1 121.0,469.4 121.0,470.5" fill="#a8a8a8" stroke="#6a6a6a" stroke-width="0.8" stroke-linejoin="round"/>
<polyline points="99.6,469.3 101.2,467.6 102.8,464.6 104.4,459.8 106.0,451.2 107.6,438.4 109.2,423.2 110.8,421.8 112.4,434.8 114.0,449.5 115.6,459.9 117.2,465.1 118.8,468.1 120.4,469.0 121.0,469.3" fill="none" stroke="#161616" stroke-width="1.25" stroke-linejoin="round" stroke-linecap="round"/>
</g>
<clipPath id="c3_1"><rect x="166.0" y="418.0" width="62.0" height="52.5"/></clipPath>
<g clip-path="url(#c3_1)">
<polygon points="170.0,470.5 170.0,469.4 171.6,468.4 173.2,467.0 174.8,465.0 176.4,461.7 178.0,457.5 179.6,451.5 181.2,444.6 182.8,435.4 184.4,425.7 186.0,423.0 187.6,421.2 189.2,426.9 190.8,435.2 192.4,445.2 194.0,453.0 195.6,459.0 197.2,462.9 198.8,465.3 200.4,467.0 202.0,468.3 203.6,468.9 205.0,469.4 205.0,470.5" fill="#a8a8a8" stroke="#6a6a6a" stroke-width="0.8" stroke-linejoin="round"/>
<polyline points="170.0,469.3 171.6,468.4 173.2,466.8 174.8,464.8 176.4,461.7 178.0,457.1 179.6,452.4 181.2,444.2 182.8,434.8 184.4,426.3 186.0,423.3 187.6,420.0 189.2,427.4 190.8,434.6 192.4,444.9 194.0,452.5 195.6,459.0 197.2,462.7 198.8,465.3 200.4,467.1 202.0,468.4 203.6,468.6 205.0,469.3" fill="none" stroke="#161616" stroke-width="1.25" stroke-linejoin="round" stroke-linecap="round"/>
</g>
<clipPath id="c3_2"><rect x="233.0" y="418.0" width="62.0" height="52.5"/></clipPath>
<g clip-path="url(#c3_2)">
<polygon points="239.0,470.5 239.0,469.4 240.6,469.4 242.2,469.1 243.8,468.7 245.4,468.5 247.0,467.9 248.6,467.7 250.2,466.5 251.8,465.1 253.4,462.9 255.0,458.4 256.6,449.0 258.2,435.3 259.8,425.1 261.4,420.9 263.0,429.6 264.6,450.2 266.2,464.6 267.8,468.3 269.4,469.1 270.0,469.4 270.0,470.5" fill="#a8a8a8" stroke="#6a6a6a" stroke-width="0.8" stroke-linejoin="round"/>
<polyline points="239.0,469.3 240.6,469.1 242.2,468.9 243.8,468.8 245.4,468.3 247.0,467.9 248.6,467.7 250.2,466.4 251.8,464.9 253.4,463.2 255.0,458.5 256.6,448.7 258.2,435.1 259.8,424.2 261.4,421.3 263.0,430.5 264.6,449.8 266.2,464.4 267.8,468.2 269.4,468.9 270.0,469.3" fill="none" stroke="#161616" stroke-width="1.25" stroke-linejoin="round" stroke-linecap="round"/>
</g>
<clipPath id="c3_3"><rect x="300.0" y="418.0" width="62.0" height="52.5"/></clipPath>
<g clip-path="url(#c3_3)">
<polygon points="303.0,470.5 303.0,469.4 304.6,467.9 306.2,466.4 307.8,464.3 309.4,461.5 311.0,458.2 312.6,454.0 314.2,448.2 315.8,441.0 317.4,433.1 319.0,427.8 320.6,423.6 322.2,421.1 323.8,424.6 325.4,431.4 327.0,438.7 328.6,446.8 330.2,453.9 331.8,458.8 333.4,462.6 335.0,465.1 336.6,467.2 338.2,468.7 339.8,469.0 340.6,469.4 340.6,470.5" fill="#a8a8a8" stroke="#6a6a6a" stroke-width="0.8" stroke-linejoin="round"/>
<polyline points="303.0,469.3 304.6,467.7 306.2,466.3 307.8,464.3 309.4,461.1 311.0,457.8 312.6,453.8 314.2,448.3 315.8,440.6 317.4,433.8 319.0,427.3 320.6,423.3 322.2,420.9 323.8,424.5 325.4,430.8 327.0,438.7 328.6,446.8 330.2,454.0 331.8,458.9 333.4,462.5 335.0,465.3 336.6,467.2 338.2,468.5 339.8,469.0 340.6,469.3" fill="none" stroke="#161616" stroke-width="1.25" stroke-linejoin="round" stroke-linecap="round"/>
</g>
<clipPath id="c3_4"><rect x="367.0" y="418.0" width="62.0" height="52.5"/></clipPath>
<g clip-path="url(#c3_4)">
<polygon points="375.0,470.5 375.0,469.4 376.6,469.1 378.2,469.1 379.8,468.8 381.4,468.3 383.0,467.6 384.6,466.7 386.2,465.1 387.8,463.4 389.4,460.5 391.0,456.7 392.6,452.0 394.2,446.5 395.8,438.8 397.4,430.0 399.0,424.3 400.6,420.5 402.2,422.2 403.8,425.3 405.4,431.2 407.0,438.5 408.6,447.8 410.2,456.8 411.8,465.6 413.4,469.1 414.0,469.4 414.0,470.5" fill="#a8a8a8" stroke="#6a6a6a" stroke-width="0.8" stroke-linejoin="round"/>
<polyline points="375.0,469.4 376.6,469.2 378.2,468.9 379.8,468.7 381.4,468.5 383.0,467.7 384.6,467.2 386.2,465.9 387.8,464.2 389.4,461.9 391.0,458.3 392.6,454.5 394.2,447.9 395.8,440.3 397.4,431.4 399.0,424.2 400.6,421.2 402.2,422.3 403.8,424.2 405.4,430.7 407.0,438.7 408.6,448.3 410.2,458.2 411.8,466.2 413.4,469.1 414.0,469.4" fill="none" stroke="#161616" stroke-width="1.25" stroke-linejoin="round" stroke-linecap="round"/>
</g>
<clipPath id="c3_5"><rect x="99.0" y="475.0" width="62.0" height="52.5"/></clipPath>
<g clip-path="url(#c3_5)">
<polygon points="99.6,527.5 99.6,526.4 101.2,524.7 102.8,521.7 104.4,516.5 106.0,507.6 107.6,496.4 109.2,483.6 110.8,479.1 112.4,482.9 114.0,493.7 115.6,504.8 117.2,515.3 118.8,521.3 120.4,524.8 121.6,526.4 121.6,527.5" fill="#a8a8a8" stroke="#6a6a6a" stroke-width="0.8" stroke-linejoin="round"/>
<polyline points="99.6,526.3 101.2,524.8 102.8,521.6 104.4,516.2 106.0,507.1 107.6,496.3 109.2,483.6 110.8,477.8 112.4,483.2 114.0,493.9 115.6,504.4 117.2,514.9 118.8,521.1 120.4,524.7 121.6,526.3" fill="none" stroke="#161616" stroke-width="1.25" stroke-linejoin="round" stroke-linecap="round"/>
</g>
<clipPath id="c3_6"><rect x="166.0" y="475.0" width="62.0" height="52.5"/></clipPath>
<g clip-path="url(#c3_6)">
<polygon points="172.0,527.5 172.0,526.4 173.6,525.4 175.2,524.7 176.8,523.0 178.4,520.6 180.0,517.3 181.6,511.2 183.2,504.0 184.8,494.0 186.4,483.4 188.0,478.0 189.6,481.3 191.2,490.8 192.8,501.3 194.4,511.3 196.0,516.8 197.6,520.8 199.2,523.0 200.8,524.6 202.4,525.6 204.0,526.4 204.0,526.4 204.0,527.5" fill="#a8a8a8" stroke="#6a6a6a" stroke-width="0.8" stroke-linejoin="round"/>
<polyline points="172.0,526.3 173.6,525.6 175.2,524.7 176.8,523.1 178.4,520.2 180.0,517.1 181.6,511.4 183.2,503.8 184.8,494.2 186.4,483.5 188.0,479.1 189.6,480.5 191.2,490.4 192.8,501.3 194.4,511.1 196.0,517.1 197.6,520.7 199.2,522.9 200.8,524.4 202.4,525.5 204.0,526.3 204.0,526.3" fill="none" stroke="#161616" stroke-width="1.25" stroke-linejoin="round" stroke-linecap="round"/>
</g>
<clipPath id="c3_7"><rect x="233.0" y="475.0" width="62.0" height="52.5"/></clipPath>
<g clip-path="url(#c3_7)">
<polygon points="243.0,527.5 243.0,526.4 244.6,526.0 246.2,526.0 247.8,525.7 249.4,524.8 251.0,524.2 252.6,522.7 254.2,520.8 255.8,517.7 257.4,511.2 259.0,500.7 260.6,486.8 262.2,479.0 263.8,485.2 265.4,506.8 267.0,521.8 268.6,525.6 270.2,526.2 271.0,526.4 271.0,527.5" fill="#a8a8a8" stroke="#6a6a6a" stroke-width="0.8" stroke-linejoin="round"/>
<polyline points="243.0,526.3 244.6,526.1 246.2,525.6 247.8,525.6 249.4,524.9 251.0,524.0 252.6,523.0 254.2,520.7 255.8,517.5 257.4,511.6 259.0,501.0 260.6,487.8 262.2,478.1 263.8,484.7 265.4,506.8 267.0,521.7 268.6,525.5 270.2,525.9 271.0,526.3" fill="none" stroke="#161616" stroke-width="1.25" stroke-linejoin="round" stroke-linecap="round"/>
</g>
<clipPath id="c3_8"><rect x="300.0" y="475.0" width="62.0" height="52.5"/></clipPath>
<g clip-path="url(#c3_8)">
<polygon points="304.0,527.5 304.0,526.4 305.6,525.5 307.2,524.2 308.8,522.3 310.4,519.1 312.0,515.2 313.6,510.1 315.2,503.1 316.8,495.1 318.4,487.4 320.0,481.3 321.6,479.6 323.2,479.3 324.8,482.6 326.4,489.5 328.0,496.7 329.6,504.5 331.2,512.4 332.8,518.2 334.4,521.8 336.0,524.1 337.6,525.7 339.2,526.0 340.0,526.4 340.0,527.5" fill="#a8a8a8" stroke="#6a6a6a" stroke-width="0.8" stroke-linejoin="round"/>
<polyline points="304.0,526.3 305.6,525.3 307.2,523.9 308.8,522.1 310.4,518.6 312.0,515.3 313.6,510.1 315.2,502.4 316.8,494.6 318.4,487.1 320.0,481.7 321.6,478.6 323.2,479.7 324.8,481.9 326.4,488.5 328.0,496.7 329.6,505.1 331.2,511.9 332.8,518.3 334.4,521.8 336.0,524.1 337.6,525.7 339.2,526.0 340.0,526.3" fill="none" stroke="#161616" stroke-width="1.25" stroke-linejoin="round" stroke-linecap="round"/>
</g>
<clipPath id="c3_9"><rect x="367.0" y="475.0" width="62.0" height="52.5"/></clipPath>
<g clip-path="url(#c3_9)">
<polygon points="379.0,527.5 379.0,526.4 380.6,526.1 382.2,525.7 383.8,525.4 385.4,524.7 387.0,523.7 388.6,522.1 390.2,519.8 391.8,517.4 393.4,514.1 395.0,509.1 396.6,503.9 398.2,497.1 399.8,490.2 401.4,483.2 403.0,478.3 404.6,478.3 406.2,480.8 407.8,488.3 409.4,499.5 411.0,516.2 412.6,526.4 412.6,527.5" fill="#a8a8a8" stroke="#6a6a6a" stroke-width="0.8" stroke-linejoin="round"/>
<polyline points="379.0,526.4 380.6,526.3 382.2,526.3 383.8,526.0 385.4,525.8 387.0,525.5 388.6,525.1 390.2,524.0 391.8,522.9 393.4,520.9 395.0,518.5 396.6,515.0 398.2,510.0 399.8,502.2 401.4,492.7 403.0,482.2 404.6,478.8 406.2,479.6 407.8,488.3 409.4,498.6 411.0,517.4 412.6,526.4" fill="none" stroke="#161616" stroke-width="1.25" stroke-linejoin="round" stroke-linecap="round"/>
</g>
<clipPath id="c3_10"><rect x="99.0" y="533.0" width="62.0" height="51.5"/></clipPath>
<g clip-path="url(#c3_10)">
<polygon points="99.0,584.5 99.0,584.4 100.6,582.3 102.2,579.4 103.8,574.3 105.4,567.7 107.0,557.7 108.6,545.0 110.2,536.0 111.8,540.1 113.4,550.9 115.0,563.8 116.6,575.6 118.2,581.6 119.6,584.4 119.6,584.5" fill="#a8a8a8" stroke="#6a6a6a" stroke-width="0.8" stroke-linejoin="round"/>
<polyline points="99.0,584.3 100.6,582.3 102.2,579.3 103.8,574.6 105.4,567.9 107.0,557.0 108.6,544.5 110.2,536.9 111.8,539.6 113.4,550.7 115.0,564.1 116.6,575.7 118.2,582.0 119.6,584.3" fill="none" stroke="#161616" stroke-width="1.25" stroke-linejoin="round" stroke-linecap="round"/>
</g>
<clipPath id="c3_11"><rect x="166.0" y="533.0" width="62.0" height="51.5"/></clipPath>
<g clip-path="url(#c3_11)">
<polygon points="166.0,584.5 166.0,584.4 167.6,583.0 169.2,580.2 170.8,576.5 172.4,570.2 174.0,560.1 175.6,550.1 177.2,541.3 178.8,535.9 180.4,541.0 182.0,551.4 183.6,561.9 185.2,567.4 186.8,567.1 188.4,567.3 190.0,569.9 191.6,573.0 193.2,576.8 194.8,580.8 196.4,583.3 198.0,584.5 198.0,584.4 198.0,584.5" fill="#a8a8a8" stroke="#6a6a6a" stroke-width="0.8" stroke-linejoin="round"/>
<polyline points="166.0,584.4 167.6,582.9 169.2,580.4 170.8,576.4 172.4,569.7 174.0,560.2 175.6,550.3 177.2,542.0 178.8,536.7 180.4,540.5 182.0,550.9 183.6,563.2 185.2,569.2 186.8,570.5 188.4,572.2 190.0,574.3 191.6,576.4 193.2,578.6 194.8,581.4 196.4,583.4 198.0,584.5 198.0,584.4" fill="none" stroke="#161616" stroke-width="1.25" stroke-linejoin="round" stroke-linecap="round"/>
</g>
<clipPath id="c3_12"><rect x="233.0" y="533.0" width="62.0" height="51.5"/></clipPath>
<g clip-path="url(#c3_12)">
<polygon points="234.0,584.5 234.0,584.4 235.6,583.0 237.2,579.7 238.8,575.1 240.4,569.2 242.0,561.7 243.6,553.0 245.2,545.0 246.8,537.8 248.4,535.3 250.0,535.9 251.6,540.8 253.2,548.9 254.8,560.3 256.4,571.1 258.0,578.6 259.6,582.7 261.0,584.4 261.0,584.5" fill="#a8a8a8" stroke="#6a6a6a" stroke-width="0.8" stroke-linejoin="round"/>
<polyline points="234.0,584.3 235.6,582.8 237.2,579.6 238.8,575.0 240.4,569.4 242.0,561.6 243.6,552.6 245.2,544.8 246.8,538.0 248.4,535.4 250.0,536.2 251.6,541.7 253.2,549.5 254.8,559.9 256.4,570.3 258.0,578.6 259.6,582.5 261.0,584.3" fill="none" stroke="#161616" stroke-width="1.25" stroke-linejoin="round" stroke-linecap="round"/>
</g>
<clipPath id="c3_13"><rect x="300.0" y="533.0" width="62.0" height="51.5"/></clipPath>
<g clip-path="url(#c3_13)">
<polygon points="300.0,584.5 300.0,584.4 301.6,582.8 303.2,580.5 304.8,576.6 306.4,571.4 308.0,564.8 309.6,557.0 311.2,548.3 312.8,540.5 314.4,535.5 316.0,537.1 317.6,542.3 319.2,550.8 320.8,558.7 322.4,567.2 324.0,573.7 325.6,578.4 327.2,581.3 328.8,582.7 330.4,583.8 332.0,584.1 332.6,584.4 332.6,584.5" fill="#a8a8a8" stroke="#6a6a6a" stroke-width="0.8" stroke-linejoin="round"/>
<polyline points="300.0,584.3 301.6,582.7 303.2,580.3 304.8,576.3 306.4,571.5 308.0,565.1 309.6,556.4 311.2,548.0 312.8,540.6 314.4,535.4 316.0,536.7 317.6,542.4 319.2,550.8 320.8,559.0 322.4,566.9 324.0,573.5 325.6,578.2 327.2,581.2 328.8,582.3 330.4,583.7 332.0,584.1 332.6,584.3" fill="none" stroke="#161616" stroke-width="1.25" stroke-linejoin="round" stroke-linecap="round"/>
</g>
<clipPath id="c3_14"><rect x="367.0" y="533.0" width="62.0" height="51.5"/></clipPath>
<g clip-path="url(#c3_14)">
<polygon points="367.0,584.5 367.0,584.4 368.6,582.3 370.2,579.5 371.8,574.9 373.4,568.3 375.0,559.4 376.6,549.7 378.2,542.6 379.8,536.6 381.4,536.4 383.0,542.3 384.6,550.6 386.2,556.5 387.8,561.6 389.4,565.0 391.0,567.2 392.6,569.2 394.2,571.0 395.8,572.9 397.4,574.2 399.0,574.4 400.6,574.0 402.2,574.3 403.8,575.9 405.4,578.9 407.0,581.8 408.6,583.7 409.4,584.4 409.4,584.5" fill="#a8a8a8" stroke="#6a6a6a" stroke-width="0.8" stroke-linejoin="round"/>
<polyline points="367.0,584.3 368.6,582.4 370.2,579.3 371.8,575.3 373.4,568.7 375.0,559.4 376.6,550.0 378.2,541.3 379.8,536.6 381.4,536.5 383.0,543.3 384.6,549.8 386.2,556.2 387.8,561.9 389.4,564.9 391.0,567.7 392.6,568.9 394.2,570.8 395.8,572.4 397.4,574.0 399.0,573.8 400.6,574.2 402.2,574.3 403.8,576.2 405.4,578.7 407.0,581.6 408.6,583.6 409.4,584.3" fill="none" stroke="#161616" stroke-width="1.25" stroke-linejoin="round" stroke-linecap="round"/>
</g>
<clipPath id="c4_0"><rect x="515.0" y="58.0" width="67.0" height="46.5"/></clipPath>
<g clip-path="url(#c4_0)">
<polygon points="522.6,104.5 522.6,104.3 524.2,103.7 525.8,103.1 527.4,102.2 529.0,101.3 530.6,99.9 532.2,97.3 533.8,94.5 535.4,91.4 537.0,92.1 538.6,89.0 540.2,78.1 541.8,71.3 543.4,66.3 545.0,62.5 546.6,60.8 548.2,67.1 549.8,73.0 551.4,79.6 553.0,87.8 554.6,93.1 556.2,97.6 557.8,101.0 559.4,102.6 561.0,103.4 561.7,104.3 561.7,104.5" fill="#a8a8a8" stroke="#6a6a6a" stroke-width="0.8" stroke-linejoin="round"/>
<polyline points="515.0,104.1 516.6,103.1 518.2,102.1 519.8,99.4 521.4,96.0 523.0,91.8 524.6,87.2 526.2,79.3 527.8,72.4 529.4,68.6 531.0,62.4 532.6,60.0 534.2,73.3 535.8,88.3 537.4,97.0 539.0,101.1 540.6,102.3 542.2,103.3 543.8,103.9 545.4,104.1 545.9,104.3" fill="none" stroke="#3a3a3a" stroke-width="0.75" stroke-linejoin="round"/>
</g>
<clipPath id="c4_1"><rect x="587.0" y="58.0" width="67.0" height="46.5"/></clipPath>
<g clip-path="url(#c4_1)">
<polygon points="594.6,104.5 594.6,104.3 596.2,104.0 597.8,103.9 599.4,103.5 601.0,102.6 602.6,101.5 604.2,100.9 605.8,99.4 607.4,97.6 609.0,96.9 610.6,93.0 612.2,87.5 613.8,81.8 615.4,76.3 617.0,70.9 618.6,67.2 620.2,62.6 621.8,62.4 623.4,66.2 625.0,71.6 626.6,77.1 628.2,86.0 629.8,92.4 631.4,96.8 633.0,100.0 634.6,101.9 636.2,103.2 637.8,103.9 637.9,104.3 637.9,104.5" fill="#a8a8a8" stroke="#6a6a6a" stroke-width="0.8" stroke-linejoin="round"/>
<polyline points="586.9,104.1 588.5,103.1 590.1,102.1 591.7,100.5 593.3,98.8 594.9,95.5 596.5,90.8 598.1,85.1 599.7,74.1 601.3,66.8 602.9,60.2 604.5,61.7 606.1,71.5 607.7,86.9 609.3,97.0 610.9,101.1 612.5,103.0 614.1,103.3 615.7,104.1" fill="none" stroke="#3a3a3a" stroke-width="0.75" stroke-linejoin="round"/>
</g>
<clipPath id="c4_2"><rect x="515.0" y="105.0" width="67.0" height="47.5"/></clipPath>
<g clip-path="url(#c4_2)">
<polygon points="520.5,152.5 520.5,151.5 522.1,150.8 523.7,150.5 525.3,149.9 526.9,148.3 528.5,146.4 530.1,143.3 531.7,142.1 533.3,139.6 534.9,138.9 536.5,137.7 538.1,134.9 539.7,128.5 541.3,119.7 542.9,113.2 544.5,110.3 546.1,110.7 547.7,114.7 549.3,122.9 550.9,131.0 552.5,137.2 554.1,141.2 555.7,144.4 557.3,147.1 558.9,149.7 560.5,151.0 561.1,151.5 561.1,152.5" fill="#a8a8a8" stroke="#6a6a6a" stroke-width="0.8" stroke-linejoin="round"/>
<polyline points="520.3,151.3 521.9,150.8 523.5,151.1 525.1,149.8 526.7,148.4 528.3,146.1 529.9,143.4 531.5,141.7 533.1,139.4 534.7,138.6 536.3,137.6 537.9,135.1 539.5,128.3 541.1,120.1 542.7,114.7 544.3,110.2 545.9,108.8 547.5,115.1 549.1,122.7 550.7,130.6 552.3,137.0 553.9,141.0 555.5,144.8 557.1,147.1 558.7,149.3 560.3,151.0 560.9,151.3" fill="none" stroke="#161616" stroke-width="1.25" stroke-linejoin="round" stroke-linecap="round"/>
</g>
<clipPath id="c4_3"><rect x="587.0" y="105.0" width="67.0" height="47.5"/></clipPath>
<g clip-path="url(#c4_3)">
<polygon points="594.6,152.5 594.6,151.5 596.2,150.9 597.8,150.8 599.4,149.9 601.0,149.1 602.6,147.5 604.2,146.8 605.8,145.2 607.4,144.4 609.0,143.0 610.6,141.0 612.2,137.8 613.8,133.3 615.4,126.7 617.0,121.3 618.6,117.7 620.2,112.2 621.8,109.4 623.4,112.9 625.0,115.4 626.6,123.3 628.2,130.2 629.8,137.6 631.4,143.5 633.0,146.2 634.6,148.5 636.2,150.8 637.8,150.9 639.0,151.5 639.0,152.5" fill="#a8a8a8" stroke="#6a6a6a" stroke-width="0.8" stroke-linejoin="round"/>
<polyline points="594.3,151.3 595.9,150.8 597.5,150.3 599.1,149.8 600.7,148.5 602.3,147.9 603.9,146.4 605.5,145.6 607.1,144.4 608.7,142.5 610.3,140.3 611.9,136.7 613.5,131.1 615.1,127.2 616.7,121.7 618.3,116.7 619.9,111.6 621.5,110.6 623.1,112.0 624.7,116.4 626.3,122.6 627.9,131.1 629.5,137.2 631.1,142.7 632.7,145.8 634.3,148.2 635.9,149.9 637.5,151.1 638.8,151.3" fill="none" stroke="#161616" stroke-width="1.25" stroke-linejoin="round" stroke-linecap="round"/>
</g>
<clipPath id="c4_4"><rect x="515.0" y="153.0" width="67.0" height="46.5"/></clipPath>
<g clip-path="url(#c4_4)">
<polygon points="520.5,199.5 520.5,199.3 522.1,198.7 523.7,198.3 525.3,198.0 526.9,197.2 528.5,195.9 530.1,193.8 531.7,191.5 533.3,189.4 534.9,187.4 536.5,186.3 538.1,184.4 539.7,178.6 541.3,170.1 542.9,165.8 544.5,159.5 546.1,156.0 547.7,159.9 549.3,164.9 550.9,170.7 552.5,178.9 554.1,185.7 555.7,191.5 557.3,195.4 558.9,198.1 560.5,199.0 561.1,199.3 561.1,199.5" fill="#a8a8a8" stroke="#6a6a6a" stroke-width="0.8" stroke-linejoin="round"/>
<polyline points="520.5,199.3 522.1,199.1 523.7,198.7 525.3,198.1 526.9,196.6 528.5,195.0 530.1,193.7 531.7,191.1 533.3,188.5 534.9,187.4 536.5,185.3 538.1,183.4 539.7,178.5 541.3,168.8 542.9,164.0 544.5,159.2 546.1,157.1 547.7,158.1 549.3,157.5 550.9,157.6 552.5,157.0 554.1,159.4 555.7,166.9 557.3,177.3 558.9,187.7 560.5,195.4 562.1,198.8 562.8,199.3" fill="none" stroke="#161616" stroke-width="1.25" stroke-linejoin="round" stroke-linecap="round"/>
</g>
<clipPath id="c4_5"><rect x="587.0" y="153.0" width="67.0" height="46.5"/></clipPath>
<g clip-path="url(#c4_5)">
<polygon points="592.4,199.5 592.4,199.3 594.0,198.6 595.6,198.5 597.2,198.0 598.8,197.4 600.4,196.8 602.0,196.5 603.6,194.9 605.2,194.7 606.8,193.1 608.4,191.1 610.0,188.7 611.6,185.1 613.2,180.7 614.8,176.6 616.4,168.2 618.0,163.4 619.6,157.6 621.2,157.2 622.8,157.5 624.4,163.0 626.0,171.6 627.6,177.0 629.2,186.8 630.8,194.8 632.4,198.2 634.0,199.0 634.8,199.3 634.8,199.5" fill="#a8a8a8" stroke="#6a6a6a" stroke-width="0.8" stroke-linejoin="round"/>
<polyline points="592.4,199.3 594.0,199.0 595.6,198.6 597.2,198.1 598.8,197.3 600.4,196.9 602.0,195.9 603.6,195.0 605.2,194.2 606.8,192.7 608.4,191.0 610.0,188.3 611.6,186.1 613.2,181.4 614.8,176.3 616.4,169.3 618.0,163.7 619.6,158.4 621.2,155.7 622.8,157.8 624.4,159.3 626.0,160.1 627.6,156.3 629.2,159.9 630.8,167.7 632.4,183.1 634.0,193.8 635.6,197.9 637.2,198.9 637.9,199.3" fill="none" stroke="#161616" stroke-width="1.25" stroke-linejoin="round" stroke-linecap="round"/>
</g>
<clipPath id="c4_6"><rect x="515.0" y="200.0" width="67.0" height="46.5"/></clipPath>
<g clip-path="url(#c4_6)">
<polygon points="520.5,246.5 520.5,246.5 522.1,246.1 523.7,245.1 525.3,245.1 526.9,244.0 528.5,242.3 530.1,240.2 531.7,237.6 533.3,234.6 534.9,232.8 536.5,232.5 538.1,228.3 539.7,224.5 541.3,218.8 542.9,211.4 544.5,206.2 546.1,204.0 547.7,205.6 549.3,212.4 550.9,222.1 552.5,225.7 554.1,231.2 555.7,236.7 557.3,240.7 558.9,243.8 560.5,245.4 561.7,246.5 561.7,246.5" fill="#a8a8a8" stroke="#6a6a6a" stroke-width="0.8" stroke-linejoin="round"/>
<polyline points="520.5,246.5 522.1,246.1 523.7,245.7 525.3,245.1 526.9,243.7 528.5,242.1 530.1,240.2 531.7,238.3 533.3,234.4 534.9,232.5 536.5,232.2 538.1,228.6 539.7,223.9 541.3,215.8 542.9,209.7 544.5,205.0 546.1,203.5 547.7,204.4 549.3,205.8 550.9,208.6 552.5,207.7 554.1,206.3 555.7,212.2 557.3,225.5 558.9,236.5 560.5,243.5 562.1,245.8 563.2,246.5" fill="none" stroke="#161616" stroke-width="1.25" stroke-linejoin="round" stroke-linecap="round"/>
</g>
<clipPath id="c4_7"><rect x="587.0" y="200.0" width="67.0" height="46.5"/></clipPath>
<g clip-path="url(#c4_7)">
<polygon points="592.4,246.5 592.4,246.5 594.0,246.3 595.6,245.5 597.2,244.9 598.8,244.8 600.4,244.1 602.0,243.2 603.6,242.3 605.2,241.4 606.8,240.1 608.4,238.6 610.0,235.9 611.6,233.3 613.2,228.3 614.8,221.8 616.4,218.6 618.0,212.0 619.6,206.8 621.2,202.8 622.8,203.2 624.4,208.9 626.0,213.5 627.6,223.3 629.2,230.0 630.8,239.8 632.4,244.2 634.0,246.1 634.4,246.5 634.4,246.5" fill="#a8a8a8" stroke="#6a6a6a" stroke-width="0.8" stroke-linejoin="round"/>
<polyline points="592.4,246.5 594.0,246.0 595.6,245.7 597.2,244.9 598.8,244.7 600.4,244.2 602.0,243.4 603.6,242.2 605.2,241.1 606.8,240.4 608.4,238.9 610.0,235.5 611.6,231.9 613.2,228.0 614.8,223.2 616.4,216.7 618.0,213.1 619.6,207.4 621.2,203.7 622.8,204.3 624.4,206.3 626.0,205.5 627.6,207.0 629.2,211.2 630.8,219.3 632.4,233.6 634.0,242.1 635.6,245.5 636.9,246.5" fill="none" stroke="#161616" stroke-width="1.25" stroke-linejoin="round" stroke-linecap="round"/>
</g>
<clipPath id="c5_0"><rect x="516.0" y="342.0" width="67.0" height="46.5"/></clipPath>
<g clip-path="url(#c5_0)">
<polygon points="520.5,388.5 520.5,388.3 522.1,387.2 523.7,386.4 525.3,385.2 526.9,382.8 528.5,380.7 530.1,376.7 531.7,374.0 533.3,370.7 534.9,369.3 536.5,370.0 538.1,365.0 539.7,357.1 541.3,351.0 542.9,346.8 544.5,343.5 546.1,346.6 547.7,352.7 549.3,361.0 550.9,370.2 552.5,377.8 554.1,381.7 555.7,384.9 557.3,386.8 558.9,387.5 560.5,388.0 561.1,388.3 561.1,388.5" fill="#a8a8a8" stroke="#6a6a6a" stroke-width="0.8" stroke-linejoin="round"/>
<polyline points="515.0,388.1 516.6,387.3 518.2,386.1 519.8,383.5 521.4,380.2 523.0,376.3 524.6,372.8 526.2,367.8 527.8,361.5 529.4,355.7 531.0,347.7 532.6,344.2 534.2,352.8 535.8,365.8 537.4,377.2 539.0,383.7 540.6,386.5 542.2,387.6 543.8,388.3" fill="none" stroke="#3a3a3a" stroke-width="0.75" stroke-linejoin="round"/>
</g>
<clipPath id="c5_1"><rect x="587.0" y="342.0" width="67.0" height="46.5"/></clipPath>
<g clip-path="url(#c5_1)">
<polygon points="592.4,388.5 592.4,388.3 594.0,387.7 595.6,387.3 597.2,386.5 598.8,385.3 600.4,383.7 602.0,382.3 603.6,380.2 605.2,377.8 606.8,377.3 608.4,379.8 610.0,381.5 611.6,376.0 613.2,369.8 614.8,363.1 616.4,354.4 618.0,346.2 619.6,346.8 621.2,350.6 622.8,355.1 624.4,359.4 626.0,367.5 627.6,372.7 629.2,377.8 630.8,382.4 632.4,384.7 634.0,386.8 635.6,387.9 636.9,388.3 636.9,388.5" fill="#a8a8a8" stroke="#6a6a6a" stroke-width="0.8" stroke-linejoin="round"/>
<polyline points="587.4,388.1 589.0,388.1 590.6,386.5 592.2,384.7 593.8,382.2 595.4,377.9 597.0,373.2 598.6,366.3 600.2,355.2 601.8,348.4 603.4,345.5 605.0,349.3 606.6,361.2 608.2,372.0 609.8,381.6 611.4,384.9 613.0,386.7 614.6,387.6 616.2,387.9 616.8,388.3" fill="none" stroke="#3a3a3a" stroke-width="0.75" stroke-linejoin="round"/>
</g>
<clipPath id="c5_2"><rect x="516.0" y="389.0" width="67.0" height="46.5"/></clipPath>
<g clip-path="url(#c5_2)">
<polygon points="520.5,435.5 520.5,435.5 522.1,434.4 523.7,433.6 525.3,432.6 526.9,430.1 528.5,427.6 530.1,424.5 531.7,421.9 533.3,419.6 534.9,418.5 536.5,419.9 538.1,418.2 539.7,411.5 541.3,402.4 542.9,397.2 544.5,393.1 546.1,395.6 547.7,401.7 549.3,405.8 550.9,413.0 552.5,419.8 554.1,425.1 555.7,429.2 557.3,431.7 558.9,433.5 560.5,434.6 562.1,435.3 562.8,435.5 562.8,435.5" fill="#a8a8a8" stroke="#6a6a6a" stroke-width="0.8" stroke-linejoin="round"/>
<polyline points="520.5,435.5 522.1,434.4 523.7,433.3 525.3,431.1 526.9,429.3 528.5,426.2 530.1,423.8 531.7,420.9 533.3,418.8 534.9,418.5 536.5,419.6 538.1,418.9 539.7,411.4 541.3,400.4 542.9,395.0 544.5,391.8 546.1,392.1 547.7,397.6 549.3,401.6 550.9,408.9 552.5,415.5 554.1,421.5 555.7,425.2 557.3,430.5 558.9,432.7 560.5,434.1 562.1,434.8 563.2,435.5" fill="none" stroke="#161616" stroke-width="1.25" stroke-linejoin="round" stroke-linecap="round"/>
</g>
<clipPath id="c5_3"><rect x="587.0" y="389.0" width="67.0" height="46.5"/></clipPath>
<g clip-path="url(#c5_3)">
<polygon points="589.3,435.5 589.3,435.5 590.9,434.9 592.5,434.4 594.1,433.3 595.7,432.2 597.3,429.1 598.9,426.6 600.5,424.2 602.1,420.8 603.7,419.9 605.3,421.0 606.9,421.8 608.5,423.0 610.1,422.7 611.7,418.9 613.3,414.0 614.9,405.9 616.5,399.3 618.1,395.6 619.7,396.2 621.3,393.8 622.9,393.5 624.5,404.7 626.1,411.9 627.7,419.3 629.3,426.3 630.9,430.0 632.5,433.5 634.1,434.7 634.8,435.5 634.8,435.5" fill="#a8a8a8" stroke="#6a6a6a" stroke-width="0.8" stroke-linejoin="round"/>
<polyline points="589.3,435.5 590.9,434.4 592.5,433.6 594.1,432.7 595.7,431.0 597.3,427.6 598.9,424.8 600.5,422.6 602.1,420.0 603.7,419.0 605.3,420.8 606.9,420.7 608.5,421.7 610.1,421.2 611.7,418.0 613.3,412.4 614.9,404.3 616.5,399.0 618.1,394.6 619.7,392.0 621.3,394.9 622.9,391.7 624.5,396.1 626.1,402.5 627.7,411.1 629.3,419.0 630.9,426.0 632.5,430.9 634.1,432.9 635.7,434.2 637.3,435.3 637.9,435.5" fill="none" stroke="#161616" stroke-width="1.25" stroke-linejoin="round" stroke-linecap="round"/>
</g>
<clipPath id="c5_4"><rect x="516.0" y="436.0" width="67.0" height="47.5"/></clipPath>
<g clip-path="url(#c5_4)">
<polygon points="516.2,483.5 516.2,483.4 517.8,482.9 519.4,482.2 521.0,481.8 522.6,480.7 524.2,479.6 525.8,477.1 527.4,474.2 529.0,470.6 530.6,467.1 532.2,463.8 533.8,462.2 535.4,464.2 537.0,462.7 538.6,456.5 540.2,449.2 541.8,442.5 543.4,440.5 545.0,439.2 546.6,442.7 548.2,449.3 549.8,458.3 551.4,465.5 553.0,472.4 554.6,477.1 556.2,480.1 557.8,482.0 559.4,482.8 561.0,483.3 561.1,483.4 561.1,483.5" fill="#a8a8a8" stroke="#6a6a6a" stroke-width="0.8" stroke-linejoin="round"/>
<polyline points="516.2,483.4 517.8,482.9 519.4,482.4 521.0,481.6 522.6,480.2 524.2,478.7 525.8,475.9 527.4,473.1 529.0,470.0 530.6,465.0 532.2,460.6 533.8,458.7 535.4,463.6 537.0,463.0 538.6,454.8 540.2,446.9 541.8,444.2 543.4,439.4 545.0,439.5 546.6,442.9 548.2,449.1 549.8,457.0 551.4,465.5 553.0,472.9 554.6,477.0 556.2,479.6 557.8,481.3 559.4,482.1 561.0,483.2 561.1,483.4" fill="none" stroke="#161616" stroke-width="1.25" stroke-linejoin="round" stroke-linecap="round"/>
</g>
<clipPath id="c5_5"><rect x="587.0" y="436.0" width="67.0" height="47.5"/></clipPath>
<g clip-path="url(#c5_5)">
<polygon points="588.2,483.5 588.2,483.4 589.8,483.0 591.4,482.4 593.0,481.9 594.6,480.9 596.2,479.4 597.8,478.5 599.4,475.7 601.0,473.3 602.6,470.9 604.2,469.6 605.8,468.6 607.4,469.5 609.0,472.3 610.6,471.6 612.2,466.6 613.8,459.4 615.4,453.9 617.0,448.5 618.6,443.8 620.2,440.3 621.8,443.1 623.4,446.2 625.0,450.7 626.6,460.5 628.2,467.9 629.8,475.5 631.4,480.1 633.0,481.2 634.6,482.3 636.2,483.1 636.9,483.4 636.9,483.5" fill="#a8a8a8" stroke="#6a6a6a" stroke-width="0.8" stroke-linejoin="round"/>
<polyline points="588.2,483.4 589.8,482.8 591.4,482.3 593.0,481.2 594.6,479.7 596.2,478.1 597.8,475.9 599.4,473.4 601.0,471.4 602.6,468.8 604.2,467.0 605.8,465.5 607.4,467.0 609.0,471.8 610.6,471.1 612.2,465.8 613.8,458.2 615.4,452.8 617.0,446.3 618.6,440.6 620.2,440.1 621.8,441.7 623.4,442.9 625.0,452.3 626.6,460.4 628.2,467.6 629.8,475.4 631.4,479.2 633.0,481.2 634.6,482.6 636.2,483.1 636.9,483.4" fill="none" stroke="#161616" stroke-width="1.25" stroke-linejoin="round" stroke-linecap="round"/>
</g>
<clipPath id="c5_6"><rect x="516.0" y="484.0" width="67.0" height="47.5"/></clipPath>
<g clip-path="url(#c5_6)">
<polygon points="520.5,531.5 520.5,530.4 522.1,528.5 523.7,526.6 525.3,525.4 526.9,522.8 528.5,520.1 530.1,517.6 531.7,514.4 533.3,511.6 534.9,512.2 536.5,510.0 538.1,503.7 539.7,497.2 541.3,493.5 542.9,489.9 544.5,488.8 546.1,492.0 547.7,503.1 549.3,509.1 550.9,515.6 552.5,520.0 554.1,523.5 555.7,526.2 557.3,528.2 558.9,529.4 560.5,529.9 561.7,530.4 561.7,531.5" fill="#a8a8a8" stroke="#6a6a6a" stroke-width="0.8" stroke-linejoin="round"/>
<polyline points="516.2,530.4 517.8,530.1 519.4,530.1 521.0,529.4 522.6,528.6 524.2,528.8 525.8,528.0 527.4,528.4 529.0,527.1 530.6,526.7 532.2,526.3 533.8,526.3 535.4,526.2 537.0,526.1 538.6,525.9 540.2,526.2 541.8,525.0 543.4,523.7 545.0,521.9 546.6,517.7 548.2,512.2 549.8,503.9 551.4,496.5 553.0,489.8 554.6,487.5 556.2,495.7 557.8,509.0 559.4,520.0 561.0,526.9 562.6,529.3 564.2,530.1 564.5,530.4" fill="none" stroke="#161616" stroke-width="1.25" stroke-linejoin="round" stroke-linecap="round"/>
</g>
<clipPath id="c5_7"><rect x="587.0" y="484.0" width="67.0" height="47.5"/></clipPath>
<g clip-path="url(#c5_7)">
<polygon points="588.2,531.5 588.2,530.4 589.8,529.8 591.4,529.0 593.0,528.1 594.6,527.3 596.2,525.8 597.8,524.3 599.4,523.0 601.0,520.6 602.6,519.3 604.2,517.6 605.8,518.8 607.4,520.0 609.0,515.6 610.6,512.4 612.2,505.9 613.8,499.6 615.4,493.6 617.0,490.1 618.6,487.0 620.2,491.1 621.8,493.8 623.4,499.5 625.0,505.9 626.6,512.9 628.2,518.3 629.8,523.0 631.4,526.3 633.0,528.0 634.6,529.9 636.2,530.3 636.9,530.4 636.9,531.5" fill="#a8a8a8" stroke="#6a6a6a" stroke-width="0.8" stroke-linejoin="round"/>
<polyline points="588.2,530.4 589.8,530.1 591.4,529.8 593.0,529.3 594.6,529.0 596.2,529.0 597.8,528.3 599.4,527.9 601.0,528.2 602.6,528.0 604.2,527.4 605.8,527.2 607.4,526.7 609.0,526.6 610.6,525.7 612.2,525.5 613.8,525.1 615.4,524.3 617.0,522.6 618.6,520.9 620.2,518.3 621.8,514.8 623.4,509.7 625.0,505.1 626.6,497.8 628.2,489.8 629.8,486.7 631.4,494.2 633.0,508.6 634.6,521.3 636.2,526.5 637.8,529.5 639.0,530.4" fill="none" stroke="#161616" stroke-width="1.25" stroke-linejoin="round" stroke-linecap="round"/>
</g>
<clipPath id="c6_0"><rect x="75.0" y="665.0" width="67.0" height="47.5"/></clipPath>
<g clip-path="url(#c6_0)">
<polygon points="104.0,712.5 104.0,712.5 105.6,710.2 107.2,702.6 108.8,691.2 110.4,679.8 112.0,672.3 113.6,667.5 115.2,669.6 116.8,677.2 118.4,679.8 120.0,687.5 121.6,684.4 123.2,690.9 124.8,699.9 126.4,706.5 128.0,710.7 129.1,712.5 129.1,712.5" fill="#a8a8a8" stroke="#6a6a6a" stroke-width="0.8" stroke-linejoin="round"/>
<polyline points="75.0,712.5 76.6,712.1 78.2,708.4 79.8,702.1 81.4,691.3 83.0,678.8 84.6,670.8 86.2,668.0 87.8,678.0 89.4,688.1 91.0,698.6 92.6,703.9 94.2,707.0 95.8,709.0 97.4,710.9 99.0,711.7 100.6,712.3 102.2,712.4 103.8,712.5 104.0,712.5" fill="none" stroke="#3a3a3a" stroke-width="0.75" stroke-linejoin="round"/>
</g>
<clipPath id="c6_1"><rect x="148.0" y="665.0" width="67.0" height="47.5"/></clipPath>
<g clip-path="url(#c6_1)">
<polygon points="173.8,712.5 173.8,712.1 175.4,711.7 177.0,711.6 178.6,711.1 180.2,708.5 181.8,704.7 183.4,697.6 185.0,690.6 186.6,683.1 188.2,679.1 189.8,671.3 191.4,665.7 193.0,673.0 194.6,681.3 196.2,691.9 197.8,701.9 199.4,708.9 201.0,711.8 201.5,712.1 201.5,712.5" fill="#a8a8a8" stroke="#6a6a6a" stroke-width="0.8" stroke-linejoin="round"/>
<polyline points="147.7,712.1 149.3,709.0 150.9,704.4 152.5,697.5 154.1,686.9 155.7,677.8 157.3,669.8 158.9,667.5 160.5,669.8 162.1,672.9 163.7,674.8 165.3,676.9 166.9,676.8 168.5,678.2 170.1,684.7 171.7,686.7 173.3,692.1 174.9,698.1 176.5,701.3 178.1,705.6 179.7,710.4 181.2,712.1" fill="none" stroke="#3a3a3a" stroke-width="0.75" stroke-linejoin="round"/>
</g>
<clipPath id="c6_2"><rect x="75.0" y="713.0" width="67.0" height="48.5"/></clipPath>
<g clip-path="url(#c6_2)">
<polygon points="97.6,761.5 97.6,761.1 99.2,761.3 100.8,761.0 102.4,759.8 104.0,758.4 105.6,756.2 107.2,752.2 108.8,745.8 110.4,734.3 112.0,725.4 113.6,717.7 115.2,717.9 116.8,720.9 118.4,723.7 120.0,731.8 121.6,738.3 123.2,742.9 124.8,748.8 126.4,755.2 128.0,758.3 129.6,760.2 130.6,761.1 130.6,761.5" fill="#a8a8a8" stroke="#6a6a6a" stroke-width="0.8" stroke-linejoin="round"/>
<polyline points="97.6,761.1 99.2,760.9 100.8,760.5 102.4,759.7 104.0,759.1 105.6,757.2 107.2,753.7 108.8,746.9 110.4,736.2 112.0,724.6 113.6,719.0 115.2,715.2 116.8,720.2 118.4,721.2 120.0,726.1 121.6,731.3 123.2,735.8 124.8,744.2 126.4,753.1 128.0,757.4 129.6,759.9 130.6,761.1" fill="none" stroke="#161616" stroke-width="1.25" stroke-linejoin="round" stroke-linecap="round"/>
</g>
<clipPath id="c6_3"><rect x="148.0" y="713.0" width="67.0" height="48.5"/></clipPath>
<g clip-path="url(#c6_3)">
<polygon points="172.2,761.5 172.2,761.1 173.8,760.4 175.4,760.1 177.0,759.3 178.6,758.0 180.2,756.1 181.8,752.9 183.4,749.2 185.0,742.0 186.6,734.5 188.2,727.4 189.8,720.4 191.4,717.9 193.0,721.3 194.6,727.4 196.2,739.4 197.8,747.4 199.4,753.2 201.0,756.7 202.6,759.3 204.2,760.5 205.8,761.1 207.3,761.1 207.3,761.5" fill="#a8a8a8" stroke="#6a6a6a" stroke-width="0.8" stroke-linejoin="round"/>
<polyline points="172.0,760.9 173.6,760.6 175.2,759.4 176.8,759.5 178.4,758.0 180.0,756.2 181.6,753.7 183.2,749.6 184.8,741.6 186.4,734.3 188.0,727.9 189.6,719.5 191.2,716.0 192.8,720.6 194.4,729.4 196.0,739.5 197.6,747.5 199.2,753.5 200.8,756.3 202.4,758.6 204.0,760.2 205.6,760.5 207.1,760.9" fill="none" stroke="#161616" stroke-width="1.25" stroke-linejoin="round" stroke-linecap="round"/>
</g>
<clipPath id="c6_4"><rect x="75.0" y="762.0" width="67.0" height="48.5"/></clipPath>
<g clip-path="url(#c6_4)">
<polygon points="99.7,810.5 99.7,810.2 101.3,810.1 102.9,809.6 104.5,807.9 106.1,806.1 107.7,800.6 109.3,789.7 110.9,778.8 112.5,769.8 114.1,766.7 115.7,768.8 117.3,775.0 118.9,780.8 120.5,783.1 122.1,782.2 123.7,791.2 125.3,800.1 126.9,806.5 128.5,809.3 129.5,810.2 129.5,810.5" fill="#a8a8a8" stroke="#6a6a6a" stroke-width="0.8" stroke-linejoin="round"/>
<polyline points="99.7,810.2 101.3,810.2 102.9,809.6 104.5,809.0 106.1,806.7 107.7,802.5 109.3,794.4 110.9,783.2 112.5,773.4 114.1,768.0 115.7,766.1 117.3,766.4 118.9,766.8 120.5,771.0 122.1,775.7 123.7,785.8 125.3,796.4 126.9,805.0 128.5,808.7 130.1,810.3 130.6,810.2" fill="none" stroke="#161616" stroke-width="1.25" stroke-linejoin="round" stroke-linecap="round"/>
</g>
<clipPath id="c6_5"><rect x="148.0" y="762.0" width="67.0" height="48.5"/></clipPath>
<g clip-path="url(#c6_5)">
<polygon points="172.2,810.5 172.2,810.2 173.8,809.9 175.4,808.9 177.0,807.9 178.6,806.6 180.2,803.8 181.8,799.1 183.4,791.4 185.0,781.8 186.6,771.2 188.2,768.2 189.8,767.1 191.4,765.9 193.0,770.2 194.6,778.3 196.2,788.4 197.8,798.2 199.4,805.2 201.0,808.2 202.6,809.8 204.1,810.2 204.1,810.5" fill="#a8a8a8" stroke="#6a6a6a" stroke-width="0.8" stroke-linejoin="round"/>
<polyline points="172.2,810.2 173.8,810.0 175.4,808.8 177.0,806.8 178.6,803.0 180.2,798.0 181.8,791.3 183.4,783.5 185.0,775.8 186.6,767.8 188.2,766.1 189.8,768.9 191.4,769.1 193.0,771.7 194.6,779.0 196.2,789.9 197.8,798.9 199.4,805.6 201.0,808.8 202.6,809.8 204.1,810.2" fill="none" stroke="#161616" stroke-width="1.25" stroke-linejoin="round" stroke-linecap="round"/>
</g>
<clipPath id="c6_6"><rect x="75.0" y="811.0" width="67.0" height="48.5"/></clipPath>
<g clip-path="url(#c6_6)">
<polygon points="99.7,859.5 99.7,859.2 101.3,858.6 102.9,858.5 104.5,857.7 106.1,855.4 107.7,851.2 109.3,840.0 110.9,829.6 112.5,817.1 114.1,814.2 115.7,818.2 117.3,823.6 118.9,831.5 120.5,831.0 122.1,832.7 123.7,840.0 125.3,850.0 126.9,855.1 128.5,857.6 129.5,859.2 129.5,859.5" fill="#a8a8a8" stroke="#6a6a6a" stroke-width="0.8" stroke-linejoin="round"/>
<polyline points="99.7,859.2 101.3,859.0 102.9,859.1 104.5,858.4 106.1,857.9 107.7,856.7 109.3,854.9 110.9,851.7 112.5,846.9 114.1,838.3 115.7,827.6 117.3,818.8 118.9,813.3 120.5,816.5 122.1,821.2 123.7,833.6 125.3,844.7 126.9,852.5 128.5,857.1 130.1,859.0 130.6,859.2" fill="none" stroke="#161616" stroke-width="1.25" stroke-linejoin="round" stroke-linecap="round"/>
</g>
<clipPath id="c6_7"><rect x="148.0" y="811.0" width="67.0" height="48.5"/></clipPath>
<g clip-path="url(#c6_7)">
<polygon points="174.3,859.5 174.3,859.2 175.9,858.6 177.5,857.8 179.1,855.7 180.7,852.7 182.3,848.4 183.9,839.2 185.5,828.5 187.1,819.3 188.7,816.3 190.3,814.9 191.9,815.2 193.5,821.9 195.1,832.7 196.7,840.4 198.3,848.4 199.9,853.5 201.5,856.6 203.1,858.3 204.7,859.1 205.2,859.2 205.2,859.5" fill="#a8a8a8" stroke="#6a6a6a" stroke-width="0.8" stroke-linejoin="round"/>
<polyline points="172.2,859.2 173.8,858.2 175.4,857.9 177.0,855.8 178.6,852.6 180.2,846.3 181.8,839.0 183.4,828.8 185.0,820.6 186.6,815.5 188.2,817.2 189.8,819.7 191.4,817.6 193.0,817.3 194.6,827.6 196.2,836.9 197.8,845.6 199.4,852.0 201.0,856.0 202.6,858.3 204.2,858.9 205.2,859.2" fill="none" stroke="#161616" stroke-width="1.25" stroke-linejoin="round" stroke-linecap="round"/>
</g>
<clipPath id="c6_8"><rect x="222.0" y="665.0" width="66.0" height="47.5"/></clipPath>
<g clip-path="url(#c6_8)">
<polygon points="221.4,712.5 221.4,709.6 223.0,710.1 224.6,709.6 226.2,709.2 227.8,708.2 229.4,706.1 231.0,705.7 232.6,702.2 234.2,700.1 235.8,699.5 237.4,695.6 239.0,685.9 240.6,684.5 242.2,683.1 243.8,682.6 245.4,688.7 247.0,692.2 248.6,693.8 250.2,692.6 251.8,693.2 253.4,696.4 255.0,690.4 256.6,678.8 258.2,673.8 259.8,670.4 261.4,667.4 263.0,681.3 264.6,701.7 266.2,709.3 267.8,712.1 267.9,712.5 267.9,712.5" fill="#a8a8a8" stroke="#6a6a6a" stroke-width="0.8" stroke-linejoin="round"/>
<polyline points="221.4,711.9 223.0,693.7 224.6,679.1 226.2,672.7 227.8,669.4 229.4,668.7 231.0,670.1 232.6,675.0 234.2,685.8 235.8,697.9 237.4,704.6 239.0,707.4 240.6,709.6 242.2,711.4 243.8,712.5 245.2,712.5" fill="none" stroke="#3a3a3a" stroke-width="0.75" stroke-linejoin="round"/>
</g>
<clipPath id="c6_9"><rect x="222.0" y="713.0" width="66.0" height="48.5"/></clipPath>
<g clip-path="url(#c6_9)">
<polygon points="221.4,761.5 221.4,759.5 223.0,758.1 224.6,757.8 226.2,756.5 227.8,755.9 229.4,754.0 231.0,752.4 232.6,750.2 234.2,747.0 235.8,744.9 237.4,743.8 239.0,735.5 240.6,734.7 242.2,728.4 243.8,731.5 245.4,734.0 247.0,739.0 248.6,740.1 250.2,738.8 251.8,738.6 253.4,740.5 255.0,730.1 256.6,724.3 258.2,717.0 259.8,718.1 261.4,716.4 263.0,728.1 264.6,753.6 266.2,760.7 266.8,761.5 266.8,761.5" fill="#a8a8a8" stroke="#6a6a6a" stroke-width="0.8" stroke-linejoin="round"/>
<polyline points="221.2,750.4 222.8,758.2 224.4,757.3 226.0,756.0 227.6,755.5 229.2,754.3 230.8,751.7 232.4,750.8 234.0,747.6 235.6,745.5 237.2,745.6 238.8,741.5 240.4,741.4 242.0,738.3 243.6,737.7 245.2,738.4 246.8,743.1 248.4,742.9 250.0,740.0 251.6,737.5 253.2,739.7 254.8,733.5 256.4,728.6 258.0,719.1 259.6,717.8 261.2,731.1 262.8,748.5 264.4,758.3 266.0,760.9 266.8,761.5" fill="none" stroke="#161616" stroke-width="1.25" stroke-linejoin="round" stroke-linecap="round"/>
</g>
<clipPath id="c6_10"><rect x="222.0" y="762.0" width="66.0" height="48.5"/></clipPath>
<g clip-path="url(#c6_10)">
<polygon points="221.5,810.5 221.5,809.9 223.1,808.6 224.7,807.3 226.3,807.4 227.9,805.8 229.5,805.2 231.1,802.7 232.7,799.1 234.3,797.1 235.9,795.4 237.5,794.0 239.1,784.3 240.7,785.8 242.3,781.2 243.9,782.4 245.5,780.9 247.1,791.1 248.7,792.0 250.3,790.7 251.9,787.7 253.5,788.9 255.1,783.2 256.7,778.0 258.3,770.0 259.9,771.0 261.5,766.0 263.1,779.0 264.7,803.9 266.3,808.8 267.9,810.1 268.7,810.5 268.7,810.5" fill="#a8a8a8" stroke="#6a6a6a" stroke-width="0.8" stroke-linejoin="round"/>
<polyline points="222.0,792.2 223.6,806.8 225.2,807.6 226.8,807.0 228.4,806.1 230.0,804.2 231.6,806.3 233.2,804.7 234.8,803.6 236.4,803.3 238.0,802.5 239.6,802.4 241.2,801.3 242.8,801.5 244.4,801.0 246.0,801.9 247.6,800.3 249.2,798.7 250.8,796.1 252.4,791.2 254.0,785.7 255.6,780.2 257.2,775.9 258.8,765.7 260.4,766.5 262.0,779.9 263.6,799.1 265.2,808.0 266.8,810.0 268.4,810.5 268.7,810.5" fill="none" stroke="#161616" stroke-width="1.25" stroke-linejoin="round" stroke-linecap="round"/>
</g>
<clipPath id="c6_11"><rect x="222.0" y="811.0" width="66.0" height="48.5"/></clipPath>
<g clip-path="url(#c6_11)">
<polygon points="221.5,859.5 221.5,858.2 223.1,857.3 224.7,856.9 226.3,855.8 227.9,855.0 229.5,854.4 231.1,851.8 232.7,847.8 234.3,844.9 235.9,845.1 237.5,842.1 239.1,833.7 240.7,834.7 242.3,829.7 243.9,831.5 245.5,833.5 247.1,839.4 248.7,839.9 250.3,840.8 251.9,838.9 253.5,833.6 255.1,826.3 256.7,823.2 258.3,823.1 259.9,818.7 261.5,814.9 263.1,829.4 264.7,849.5 266.3,857.0 267.9,858.7 269.3,859.4 269.3,859.5" fill="#a8a8a8" stroke="#6a6a6a" stroke-width="0.8" stroke-linejoin="round"/>
<polyline points="221.5,850.0 223.1,857.2 224.7,856.6 226.3,856.3 227.9,855.9 229.5,855.5 231.1,855.7 232.7,855.8 234.3,855.6 235.9,854.5 237.5,854.2 239.1,853.7 240.7,853.4 242.3,853.5 243.9,852.7 245.5,852.8 247.1,851.4 248.7,849.9 250.3,848.1 251.9,843.3 253.5,833.2 255.1,822.8 256.7,815.2 258.3,817.1 259.9,826.8 261.5,842.4 263.1,853.6 264.7,858.4 266.3,859.4 266.9,859.4" fill="none" stroke="#161616" stroke-width="1.25" stroke-linejoin="round" stroke-linecap="round"/>
</g>
<clipPath id="c7_0"><rect x="368.0" y="664.0" width="67.0" height="48.5"/></clipPath>
<g clip-path="url(#c7_0)">
<polygon points="399.1,712.5 399.1,711.7 400.7,710.1 402.3,707.3 403.9,700.9 405.5,688.5 407.1,675.8 408.7,668.3 410.3,669.2 411.9,673.0 413.5,677.1 415.1,679.8 416.7,683.9 418.3,687.8 419.9,694.0 421.5,702.4 423.1,708.1 424.7,711.4 425.7,711.7 425.7,712.5" fill="#a8a8a8" stroke="#6a6a6a" stroke-width="0.8" stroke-linejoin="round"/>
<polyline points="368.0,711.7 369.6,711.1 371.2,708.0 372.8,700.7 374.4,690.0 376.0,678.4 377.6,669.5 379.2,668.2 380.8,672.4 382.4,681.3 384.0,691.8 385.6,699.6 387.2,705.0 388.8,707.5 390.4,709.4 392.0,710.4 393.6,710.8 395.2,711.3 396.8,711.5 398.4,711.7 399.1,711.7" fill="none" stroke="#3a3a3a" stroke-width="0.75" stroke-linejoin="round"/>
</g>
<clipPath id="c7_1"><rect x="441.0" y="664.0" width="67.0" height="48.5"/></clipPath>
<g clip-path="url(#c7_1)">
<polygon points="469.4,712.5 469.4,711.7 471.0,710.5 472.6,708.3 474.2,704.9 475.8,699.2 477.4,690.6 479.0,680.7 480.6,673.5 482.2,668.0 483.8,670.1 485.4,679.2 487.0,686.2 488.6,690.0 490.2,696.1 491.8,701.0 493.4,704.8 495.0,708.7 496.6,710.7 498.2,711.7 498.2,712.5" fill="#a8a8a8" stroke="#6a6a6a" stroke-width="0.8" stroke-linejoin="round"/>
<polyline points="440.9,711.7 442.5,710.3 444.1,704.8 445.7,695.3 447.3,684.8 448.9,675.2 450.5,669.2 452.1,667.4 453.7,672.1 455.3,680.0 456.9,691.3 458.5,699.6 460.1,704.5 461.7,707.3 463.3,709.1 464.9,710.7 466.5,710.8 468.1,711.2 469.7,711.6 470.5,711.7" fill="none" stroke="#3a3a3a" stroke-width="0.75" stroke-linejoin="round"/>
</g>
<clipPath id="c7_2"><rect x="368.0" y="713.0" width="67.0" height="48.5"/></clipPath>
<g clip-path="url(#c7_2)">
<polygon points="390.6,761.5 390.6,760.3 392.2,760.3 393.8,759.8 395.4,758.9 397.0,758.0 398.6,757.3 400.2,754.9 401.8,750.6 403.4,745.2 405.0,736.7 406.6,727.3 408.2,721.1 409.8,717.1 411.4,718.6 413.0,722.9 414.6,728.6 416.2,736.0 417.8,740.8 419.4,746.9 421.0,751.7 422.6,756.0 424.2,758.4 425.7,760.3 425.7,761.5" fill="#a8a8a8" stroke="#6a6a6a" stroke-width="0.8" stroke-linejoin="round"/>
<polyline points="390.4,760.1 392.0,759.7 393.6,759.6 395.2,758.7 396.8,758.2 398.4,757.3 400.0,754.5 401.6,751.2 403.2,744.8 404.8,735.9 406.4,727.2 408.0,721.2 409.6,716.7 411.2,718.0 412.8,721.9 414.4,727.9 416.0,736.0 417.6,741.3 419.2,745.9 420.8,751.5 422.4,756.1 424.0,758.5 425.5,760.1" fill="none" stroke="#161616" stroke-width="1.25" stroke-linejoin="round" stroke-linecap="round"/>
</g>
<clipPath id="c7_3"><rect x="441.0" y="713.0" width="67.0" height="48.5"/></clipPath>
<g clip-path="url(#c7_3)">
<polygon points="464.1,761.5 464.1,760.3 465.7,759.4 467.3,759.0 468.9,757.7 470.5,755.9 472.1,753.8 473.7,749.1 475.3,744.9 476.9,735.6 478.5,726.0 480.1,720.4 481.7,717.6 483.3,716.2 484.9,716.5 486.5,721.0 488.1,730.9 489.7,741.5 491.3,749.4 492.9,754.7 494.5,757.9 496.1,759.4 497.1,760.3 497.1,761.5" fill="#a8a8a8" stroke="#6a6a6a" stroke-width="0.8" stroke-linejoin="round"/>
<polyline points="463.9,760.1 465.5,759.6 467.1,758.9 468.7,757.9 470.3,755.8 471.9,753.1 473.5,749.1 475.1,744.2 476.7,736.5 478.3,726.1 479.9,720.0 481.5,717.9 483.1,713.7 484.7,715.1 486.3,720.9 487.9,730.8 489.5,741.1 491.1,749.1 492.7,754.6 494.3,757.7 495.9,759.1 496.9,760.1" fill="none" stroke="#161616" stroke-width="1.25" stroke-linejoin="round" stroke-linecap="round"/>
</g>
<clipPath id="c7_4"><rect x="368.0" y="762.0" width="67.0" height="47.5"/></clipPath>
<g clip-path="url(#c7_4)">
<polygon points="392.7,809.5 392.7,809.5 394.3,809.5 395.9,808.7 397.5,807.7 399.1,806.3 400.7,803.5 402.3,799.2 403.9,791.1 405.5,781.8 407.1,774.0 408.7,766.0 410.3,764.7 411.9,770.1 413.5,775.3 415.1,781.1 416.7,786.2 418.3,793.1 419.9,798.7 421.5,803.4 423.1,807.0 424.7,808.0 425.7,809.5 425.7,809.5" fill="#a8a8a8" stroke="#6a6a6a" stroke-width="0.8" stroke-linejoin="round"/>
<polyline points="392.5,809.4 394.1,809.1 395.7,808.2 397.3,807.7 398.9,805.8 400.5,803.4 402.1,799.4 403.7,791.9 405.3,782.0 406.9,773.7 408.5,766.7 410.1,764.4 411.7,770.3 413.3,775.2 414.9,779.9 416.5,788.0 418.1,792.6 419.7,798.8 421.3,802.9 422.9,806.6 424.5,808.4 425.5,809.4" fill="none" stroke="#161616" stroke-width="1.25" stroke-linejoin="round" stroke-linecap="round"/>
</g>
<clipPath id="c7_5"><rect x="441.0" y="762.0" width="67.0" height="47.5"/></clipPath>
<g clip-path="url(#c7_5)">
<polygon points="465.2,809.5 465.2,809.5 466.8,809.0 468.4,808.4 470.0,806.3 471.6,804.2 473.2,802.0 474.8,796.7 476.4,788.9 478.0,781.0 479.6,776.5 481.2,771.8 482.8,769.5 484.4,765.5 486.0,768.0 487.6,774.4 489.2,784.8 490.8,794.7 492.4,800.4 494.0,805.6 495.6,808.0 497.2,809.0 498.2,809.5 498.2,809.5" fill="#a8a8a8" stroke="#6a6a6a" stroke-width="0.8" stroke-linejoin="round"/>
<polyline points="465.2,809.5 466.8,808.6 468.4,808.5 470.0,806.6 471.6,804.2 473.2,801.0 474.8,795.1 476.4,787.9 478.0,779.1 479.6,774.9 481.2,773.0 482.8,770.4 484.4,765.8 486.0,766.6 487.6,775.6 489.2,784.5 490.8,794.1 492.4,801.0 494.0,805.2 495.6,807.4 497.2,808.9 498.2,809.5" fill="none" stroke="#161616" stroke-width="1.25" stroke-linejoin="round" stroke-linecap="round"/>
</g>
<clipPath id="c7_6"><rect x="368.0" y="810.0" width="67.0" height="48.5"/></clipPath>
<g clip-path="url(#c7_6)">
<polygon points="392.7,858.5 392.7,858.5 394.3,857.8 395.9,857.8 397.5,856.9 399.1,855.2 400.7,852.6 402.3,848.9 403.9,842.7 405.5,833.9 407.1,822.5 408.7,816.9 410.3,815.7 411.9,819.5 413.5,823.4 415.1,832.1 416.7,838.9 418.3,845.6 419.9,850.0 421.5,854.2 423.1,856.3 424.7,857.8 425.7,858.5 425.7,858.5" fill="#a8a8a8" stroke="#6a6a6a" stroke-width="0.8" stroke-linejoin="round"/>
<polyline points="392.7,858.5 394.3,858.3 395.9,858.0 397.5,857.4 399.1,856.7 400.7,855.8 402.3,853.6 403.9,850.6 405.5,845.9 407.1,837.5 408.7,825.4 410.3,816.7 411.9,814.6 413.5,812.8 415.1,818.4 416.7,829.0 418.3,839.5 419.9,847.9 421.5,853.5 423.1,856.2 424.7,857.6 426.3,858.0 427.2,858.5" fill="none" stroke="#161616" stroke-width="1.25" stroke-linejoin="round" stroke-linecap="round"/>
</g>
<clipPath id="c7_7"><rect x="441.0" y="810.0" width="67.0" height="48.5"/></clipPath>
<g clip-path="url(#c7_7)">
<polygon points="467.3,858.5 467.3,858.5 468.9,857.9 470.5,857.5 472.1,855.4 473.7,852.1 475.3,847.0 476.9,839.4 478.5,830.8 480.1,821.5 481.7,817.1 483.3,812.9 484.9,814.8 486.5,816.9 488.1,824.2 489.7,835.9 491.3,843.8 492.9,849.7 494.5,854.0 496.1,856.7 497.7,858.1 498.2,858.5 498.2,858.5" fill="#a8a8a8" stroke="#6a6a6a" stroke-width="0.8" stroke-linejoin="round"/>
<polyline points="465.2,858.5 466.8,858.1 468.4,857.5 470.0,855.7 471.6,852.4 473.2,847.0 474.8,838.3 476.4,827.9 478.0,817.8 479.6,815.7 481.2,816.3 482.8,813.7 484.4,813.9 486.0,817.5 487.6,822.0 489.2,833.6 490.8,843.2 492.4,849.0 494.0,853.6 495.6,856.4 497.2,857.7 498.8,858.5 499.3,858.5" fill="none" stroke="#161616" stroke-width="1.25" stroke-linejoin="round" stroke-linecap="round"/>
</g>
<clipPath id="c7_8"><rect x="514.0" y="664.0" width="68.0" height="48.5"/></clipPath>
<g clip-path="url(#c7_8)">
<polygon points="522.6,712.5 522.6,711.5 524.2,711.3 525.8,710.5 527.4,710.0 529.0,709.3 530.6,708.6 532.2,707.7 533.8,707.3 535.4,706.4 537.0,705.7 538.6,705.3 540.2,704.1 541.8,701.2 543.4,694.7 545.0,690.8 546.6,682.2 548.2,671.7 549.8,665.5 551.4,670.0 553.0,672.3 554.6,683.0 556.2,694.1 557.8,701.6 559.4,707.7 561.0,711.5 561.0,712.5" fill="#a8a8a8" stroke="#6a6a6a" stroke-width="0.8" stroke-linejoin="round"/>
<polyline points="514.2,711.5 515.8,665.8 517.4,669.1 519.0,674.2 520.6,679.5 522.2,689.1 523.8,694.2 525.4,698.2 527.0,703.2 528.6,706.9 530.2,706.9 531.8,707.8 533.4,708.8 535.0,709.8 536.6,710.4 538.2,710.8 539.8,711.3 539.9,711.5" fill="none" stroke="#3a3a3a" stroke-width="0.75" stroke-linejoin="round"/>
</g>
<clipPath id="c7_9"><rect x="514.0" y="713.0" width="68.0" height="48.5"/></clipPath>
<g clip-path="url(#c7_9)">
<polygon points="514.5,761.5 514.5,759.9 516.1,759.9 517.7,759.6 519.3,759.6 520.9,759.3 522.5,758.7 524.1,758.5 525.7,757.0 527.3,757.0 528.9,756.4 530.5,755.5 532.1,754.1 533.7,753.2 535.3,752.7 536.9,752.1 538.5,751.7 540.1,750.3 541.7,746.9 543.3,741.5 544.9,734.8 546.5,727.9 548.1,721.6 549.7,717.4 551.3,716.1 552.9,717.0 554.5,724.6 556.1,734.8 557.7,747.0 559.3,754.6 560.9,759.2 562.5,760.4 562.5,761.5" fill="#a8a8a8" stroke="#6a6a6a" stroke-width="0.8" stroke-linejoin="round"/>
<polyline points="514.3,759.6 515.9,759.6 517.5,759.3 519.1,759.0 520.7,759.0 522.3,758.5 523.9,757.9 525.5,757.3 527.1,756.7 528.7,756.4 530.3,754.9 531.9,753.4 533.5,752.7 535.1,752.8 536.7,751.7 538.3,750.8 539.9,749.7 541.5,747.0 543.1,741.2 544.7,734.7 546.3,729.1 547.9,722.3 549.5,717.2 551.1,716.4 552.7,717.9 554.3,725.0 555.9,735.0 557.5,746.4 559.1,754.6 560.7,759.0 562.3,760.2" fill="none" stroke="#161616" stroke-width="1.25" stroke-linejoin="round" stroke-linecap="round"/>
</g>
<clipPath id="c7_10"><rect x="514.0" y="762.0" width="68.0" height="47.5"/></clipPath>
<g clip-path="url(#c7_10)">
<polygon points="515.7,809.5 515.7,809.5 517.3,809.4 518.9,809.3 520.5,809.0 522.1,808.8 523.7,808.3 525.3,808.5 526.9,807.9 528.5,807.2 530.1,806.9 531.7,806.8 533.3,805.7 534.9,805.5 536.5,804.9 538.1,804.0 539.7,802.9 541.3,802.0 542.9,798.1 544.5,791.3 546.1,781.8 547.7,772.5 549.3,767.8 550.9,765.6 552.5,770.0 554.1,779.2 555.7,787.5 557.3,793.7 558.9,800.4 560.5,807.5 561.9,809.5 561.9,809.5" fill="#a8a8a8" stroke="#6a6a6a" stroke-width="0.8" stroke-linejoin="round"/>
<polyline points="515.0,802.8 516.6,807.8 518.2,807.1 519.8,807.1 521.4,806.6 523.0,807.2 524.6,806.2 526.2,805.3 527.8,803.7 529.4,802.5 531.0,801.3 532.6,800.4 534.2,798.8 535.8,800.7 537.4,799.2 539.0,797.9 540.6,796.0 542.2,795.6 543.8,792.5 545.4,785.5 547.0,777.0 548.6,769.0 550.2,763.7 551.8,765.8 553.4,773.6 555.0,782.0 556.6,788.4 558.2,795.0 559.8,802.8 561.4,808.8 562.4,809.5" fill="none" stroke="#161616" stroke-width="1.25" stroke-linejoin="round" stroke-linecap="round"/>
</g>
<clipPath id="c7_11"><rect x="514.0" y="810.0" width="68.0" height="48.5"/></clipPath>
<g clip-path="url(#c7_11)">
<polygon points="515.7,858.5 515.7,858.5 517.3,858.5 518.9,858.5 520.5,858.2 522.1,857.5 523.7,857.3 525.3,856.9 526.9,856.5 528.5,856.2 530.1,855.8 531.7,855.4 533.3,854.4 534.9,853.9 536.5,853.6 538.1,852.9 539.7,851.7 541.3,849.6 542.9,844.9 544.5,838.3 546.1,830.2 547.7,822.8 549.3,816.8 550.9,814.4 552.5,813.0 554.1,818.8 555.7,828.7 557.3,841.1 558.9,850.9 560.5,856.3 561.9,858.5 561.9,858.5" fill="#a8a8a8" stroke="#6a6a6a" stroke-width="0.8" stroke-linejoin="round"/>
<polyline points="514.5,858.2 516.1,857.9 517.7,858.0 519.3,857.8 520.9,857.8 522.5,857.6 524.1,857.2 525.7,856.7 527.3,856.3 528.9,855.8 530.5,855.4 532.1,854.8 533.7,854.0 535.3,853.3 536.9,853.1 538.5,852.5 540.1,851.6 541.7,849.6 543.3,844.6 544.9,837.7 546.5,830.2 548.1,822.5 549.7,817.6 551.3,813.3 552.9,815.9 554.5,820.1 556.1,831.8 557.7,842.3 559.3,852.1 560.9,857.4 562.2,858.5" fill="none" stroke="#161616" stroke-width="1.25" stroke-linejoin="round" stroke-linecap="round"/>
</g>
<line x1="98.0" y1="53.5" x2="162.0" y2="53.5" stroke="#3a3a3a" stroke-width="1"/>
<line x1="165.0" y1="53.5" x2="229.0" y2="53.5" stroke="#3a3a3a" stroke-width="1"/>
<line x1="232.0" y1="53.5" x2="296.0" y2="53.5" stroke="#3a3a3a" stroke-width="1"/>
<line x1="299.0" y1="53.5" x2="363.0" y2="53.5" stroke="#3a3a3a" stroke-width="1"/>
<line x1="366.0" y1="53.5" x2="430.0" y2="53.5" stroke="#3a3a3a" stroke-width="1"/>
<line x1="98.0" y1="110.5" x2="162.0" y2="110.5" stroke="#3a3a3a" stroke-width="1"/>
<line x1="165.0" y1="110.5" x2="229.0" y2="110.5" stroke="#3a3a3a" stroke-width="1"/>
<line x1="232.0" y1="110.5" x2="296.0" y2="110.5" stroke="#3a3a3a" stroke-width="1"/>
<line x1="299.0" y1="110.5" x2="363.0" y2="110.5" stroke="#3a3a3a" stroke-width="1"/>
<line x1="366.0" y1="110.5" x2="430.0" y2="110.5" stroke="#3a3a3a" stroke-width="1"/>
<line x1="98.0" y1="168.5" x2="162.0" y2="168.5" stroke="#3a3a3a" stroke-width="1"/>
<line x1="165.0" y1="168.5" x2="229.0" y2="168.5" stroke="#3a3a3a" stroke-width="1"/>
<line x1="232.0" y1="168.5" x2="296.0" y2="168.5" stroke="#3a3a3a" stroke-width="1"/>
<line x1="299.0" y1="168.5" x2="363.0" y2="168.5" stroke="#3a3a3a" stroke-width="1"/>
<line x1="366.0" y1="168.5" x2="430.0" y2="168.5" stroke="#3a3a3a" stroke-width="1"/>
<line x1="98.0" y1="261.5" x2="162.0" y2="261.5" stroke="#3a3a3a" stroke-width="1"/>
<line x1="165.0" y1="261.5" x2="229.0" y2="261.5" stroke="#3a3a3a" stroke-width="1"/>
<line x1="232.0" y1="261.5" x2="296.0" y2="261.5" stroke="#3a3a3a" stroke-width="1"/>
<line x1="299.0" y1="261.5" x2="363.0" y2="261.5" stroke="#3a3a3a" stroke-width="1"/>
<line x1="366.0" y1="261.5" x2="430.0" y2="261.5" stroke="#3a3a3a" stroke-width="1"/>
<line x1="98.0" y1="318.5" x2="162.0" y2="318.5" stroke="#3a3a3a" stroke-width="1"/>
<line x1="165.0" y1="318.5" x2="229.0" y2="318.5" stroke="#3a3a3a" stroke-width="1"/>
<line x1="232.0" y1="318.5" x2="296.0" y2="318.5" stroke="#3a3a3a" stroke-width="1"/>
<line x1="299.0" y1="318.5" x2="363.0" y2="318.5" stroke="#3a3a3a" stroke-width="1"/>
<line x1="366.0" y1="318.5" x2="430.0" y2="318.5" stroke="#3a3a3a" stroke-width="1"/>
<line x1="98.0" y1="375.5" x2="162.0" y2="375.5" stroke="#3a3a3a" stroke-width="1"/>
<line x1="165.0" y1="375.5" x2="229.0" y2="375.5" stroke="#3a3a3a" stroke-width="1"/>
<line x1="232.0" y1="375.5" x2="296.0" y2="375.5" stroke="#3a3a3a" stroke-width="1"/>
<line x1="299.0" y1="375.5" x2="363.0" y2="375.5" stroke="#3a3a3a" stroke-width="1"/>
<line x1="366.0" y1="375.5" x2="430.0" y2="375.5" stroke="#3a3a3a" stroke-width="1"/>
<line x1="98.0" y1="470.5" x2="162.0" y2="470.5" stroke="#3a3a3a" stroke-width="1"/>
<line x1="165.0" y1="470.5" x2="229.0" y2="470.5" stroke="#3a3a3a" stroke-width="1"/>
<line x1="232.0" y1="470.5" x2="296.0" y2="470.5" stroke="#3a3a3a" stroke-width="1"/>
<line x1="299.0" y1="470.5" x2="363.0" y2="470.5" stroke="#3a3a3a" stroke-width="1"/>
<line x1="366.0" y1="470.5" x2="430.0" y2="470.5" stroke="#3a3a3a" stroke-width="1"/>
<line x1="98.0" y1="527.5" x2="162.0" y2="527.5" stroke="#3a3a3a" stroke-width="1"/>
<line x1="165.0" y1="527.5" x2="229.0" y2="527.5" stroke="#3a3a3a" stroke-width="1"/>
<line x1="232.0" y1="527.5" x2="296.0" y2="527.5" stroke="#3a3a3a" stroke-width="1"/>
<line x1="299.0" y1="527.5" x2="363.0" y2="527.5" stroke="#3a3a3a" stroke-width="1"/>
<line x1="366.0" y1="527.5" x2="430.0" y2="527.5" stroke="#3a3a3a" stroke-width="1"/>
<line x1="98.0" y1="584.5" x2="162.0" y2="584.5" stroke="#3a3a3a" stroke-width="1"/>
<line x1="165.0" y1="584.5" x2="229.0" y2="584.5" stroke="#3a3a3a" stroke-width="1"/>
<line x1="232.0" y1="584.5" x2="296.0" y2="584.5" stroke="#3a3a3a" stroke-width="1"/>
<line x1="299.0" y1="584.5" x2="363.0" y2="584.5" stroke="#3a3a3a" stroke-width="1"/>
<line x1="366.0" y1="584.5" x2="430.0" y2="584.5" stroke="#3a3a3a" stroke-width="1"/>
<line x1="514.0" y1="104.5" x2="583.0" y2="104.5" stroke="#8a8a8a" stroke-width="1"/>
<line x1="514.0" y1="152.5" x2="583.0" y2="152.5" stroke="#3a3a3a" stroke-width="1"/>
<line x1="514.0" y1="199.5" x2="583.0" y2="199.5" stroke="#3a3a3a" stroke-width="1"/>
<line x1="514.0" y1="246.5" x2="583.0" y2="246.5" stroke="#3a3a3a" stroke-width="1"/>
<line x1="586.0" y1="104.5" x2="655.0" y2="104.5" stroke="#8a8a8a" stroke-width="1"/>
<line x1="586.0" y1="152.5" x2="655.0" y2="152.5" stroke="#3a3a3a" stroke-width="1"/>
<line x1="586.0" y1="199.5" x2="655.0" y2="199.5" stroke="#3a3a3a" stroke-width="1"/>
<line x1="586.0" y1="246.5" x2="655.0" y2="246.5" stroke="#3a3a3a" stroke-width="1"/>
<line x1="515.0" y1="388.5" x2="584.0" y2="388.5" stroke="#8a8a8a" stroke-width="1"/>
<line x1="515.0" y1="435.5" x2="584.0" y2="435.5" stroke="#3a3a3a" stroke-width="1"/>
<line x1="515.0" y1="483.5" x2="584.0" y2="483.5" stroke="#3a3a3a" stroke-width="1"/>
<line x1="515.0" y1="531.5" x2="584.0" y2="531.5" stroke="#3a3a3a" stroke-width="1"/>
<line x1="586.0" y1="388.5" x2="655.0" y2="388.5" stroke="#8a8a8a" stroke-width="1"/>
<line x1="586.0" y1="435.5" x2="655.0" y2="435.5" stroke="#3a3a3a" stroke-width="1"/>
<line x1="586.0" y1="483.5" x2="655.0" y2="483.5" stroke="#3a3a3a" stroke-width="1"/>
<line x1="586.0" y1="531.5" x2="655.0" y2="531.5" stroke="#3a3a3a" stroke-width="1"/>
<line x1="74.0" y1="712.5" x2="143.0" y2="712.5" stroke="#8a8a8a" stroke-width="1"/>
<line x1="74.0" y1="761.5" x2="143.0" y2="761.5" stroke="#3a3a3a" stroke-width="1"/>
<line x1="74.0" y1="810.5" x2="143.0" y2="810.5" stroke="#3a3a3a" stroke-width="1"/>
<line x1="74.0" y1="859.5" x2="143.0" y2="859.5" stroke="#3a3a3a" stroke-width="1"/>
<line x1="147.0" y1="712.5" x2="216.0" y2="712.5" stroke="#8a8a8a" stroke-width="1"/>
<line x1="147.0" y1="761.5" x2="216.0" y2="761.5" stroke="#3a3a3a" stroke-width="1"/>
<line x1="147.0" y1="810.5" x2="216.0" y2="810.5" stroke="#3a3a3a" stroke-width="1"/>
<line x1="147.0" y1="859.5" x2="216.0" y2="859.5" stroke="#3a3a3a" stroke-width="1"/>
<line x1="221.0" y1="712.5" x2="289.0" y2="712.5" stroke="#8a8a8a" stroke-width="1"/>
<line x1="221.0" y1="761.5" x2="289.0" y2="761.5" stroke="#3a3a3a" stroke-width="1"/>
<line x1="221.0" y1="810.5" x2="289.0" y2="810.5" stroke="#3a3a3a" stroke-width="1"/>
<line x1="221.0" y1="859.5" x2="289.0" y2="859.5" stroke="#3a3a3a" stroke-width="1"/>
<line x1="367.0" y1="712.5" x2="436.0" y2="712.5" stroke="#8a8a8a" stroke-width="1"/>
<line x1="367.0" y1="761.5" x2="436.0" y2="761.5" stroke="#3a3a3a" stroke-width="1"/>
<line x1="367.0" y1="809.5" x2="436.0" y2="809.5" stroke="#3a3a3a" stroke-width="1"/>
<line x1="367.0" y1="858.5" x2="436.0" y2="858.5" stroke="#3a3a3a" stroke-width="1"/>
<line x1="440.0" y1="712.5" x2="509.0" y2="712.5" stroke="#8a8a8a" stroke-width="1"/>
<line x1="440.0" y1="761.5" x2="509.0" y2="761.5" stroke="#3a3a3a" stroke-width="1"/>
<line x1="440.0" y1="809.5" x2="509.0" y2="809.5" stroke="#3a3a3a" stroke-width="1"/>
<line x1="440.0" y1="858.5" x2="509.0" y2="858.5" stroke="#3a3a3a" stroke-width="1"/>
<line x1="513.0" y1="712.5" x2="583.0" y2="712.5" stroke="#8a8a8a" stroke-width="1"/>
<line x1="513.0" y1="761.5" x2="583.0" y2="761.5" stroke="#3a3a3a" stroke-width="1"/>
<line x1="513.0" y1="809.5" x2="583.0" y2="809.5" stroke="#3a3a3a" stroke-width="1"/>
<line x1="513.0" y1="858.5" x2="583.0" y2="858.5" stroke="#3a3a3a" stroke-width="1"/>
<line x1="93.2" y1="173.6" x2="93.2" y2="3.2" stroke="#1e1e1e" stroke-width="1.3"/>
<path d="M90.9,4.4 L93.2,0.2 L95.5,4.4 Z" fill="#1e1e1e"/>
<line x1="93.2" y1="173.0" x2="158.20000000000002" y2="173.0" stroke="#1e1e1e" stroke-width="1.3"/>
<path d="M157.00000000000003,170.7 L161.20000000000002,173.0 L157.00000000000003,175.3 Z" fill="#1e1e1e"/>
<line x1="165.5" y1="173.0" x2="225.3" y2="173.0" stroke="#1e1e1e" stroke-width="1.3"/>
<path d="M224.10000000000002,170.7 L228.3,173.0 L224.10000000000002,175.3 Z" fill="#1e1e1e"/>
<line x1="232.6" y1="173.0" x2="292.40000000000003" y2="173.0" stroke="#1e1e1e" stroke-width="1.3"/>
<path d="M291.20000000000005,170.7 L295.40000000000003,173.0 L291.20000000000005,175.3 Z" fill="#1e1e1e"/>
<line x1="299.7" y1="173.0" x2="359.5" y2="173.0" stroke="#1e1e1e" stroke-width="1.3"/>
<path d="M358.3,170.7 L362.5,173.0 L358.3,175.3 Z" fill="#1e1e1e"/>
<line x1="366.79999999999995" y1="173.0" x2="426.59999999999997" y2="173.0" stroke="#1e1e1e" stroke-width="1.3"/>
<path d="M425.4,170.7 L429.59999999999997,173.0 L425.4,175.3 Z" fill="#1e1e1e"/>
<line x1="93.2" y1="381.90000000000003" x2="93.2" y2="211.3" stroke="#1e1e1e" stroke-width="1.3"/>
<path d="M90.9,212.5 L93.2,208.3 L95.5,212.5 Z" fill="#1e1e1e"/>
<line x1="93.2" y1="381.3" x2="158.20000000000002" y2="381.3" stroke="#1e1e1e" stroke-width="1.3"/>
<path d="M157.00000000000003,379.0 L161.20000000000002,381.3 L157.00000000000003,383.6 Z" fill="#1e1e1e"/>
<line x1="165.5" y1="381.3" x2="225.3" y2="381.3" stroke="#1e1e1e" stroke-width="1.3"/>
<path d="M224.10000000000002,379.0 L228.3,381.3 L224.10000000000002,383.6 Z" fill="#1e1e1e"/>
<line x1="232.6" y1="381.3" x2="292.40000000000003" y2="381.3" stroke="#1e1e1e" stroke-width="1.3"/>
<path d="M291.20000000000005,379.0 L295.40000000000003,381.3 L291.20000000000005,383.6 Z" fill="#1e1e1e"/>
<line x1="299.7" y1="381.3" x2="359.5" y2="381.3" stroke="#1e1e1e" stroke-width="1.3"/>
<path d="M358.3,379.0 L362.5,381.3 L358.3,383.6 Z" fill="#1e1e1e"/>
<line x1="366.79999999999995" y1="381.3" x2="426.59999999999997" y2="381.3" stroke="#1e1e1e" stroke-width="1.3"/>
<path d="M425.4,379.0 L429.59999999999997,381.3 L425.4,383.6 Z" fill="#1e1e1e"/>
<line x1="93.2" y1="590.0" x2="93.2" y2="419.6" stroke="#1e1e1e" stroke-width="1.3"/>
<path d="M90.9,420.8 L93.2,416.6 L95.5,420.8 Z" fill="#1e1e1e"/>
<line x1="93.2" y1="589.4" x2="158.20000000000002" y2="589.4" stroke="#1e1e1e" stroke-width="1.3"/>
<path d="M157.00000000000003,587.1 L161.20000000000002,589.4 L157.00000000000003,591.6999999999999 Z" fill="#1e1e1e"/>
<line x1="165.5" y1="589.4" x2="225.3" y2="589.4" stroke="#1e1e1e" stroke-width="1.3"/>
<path d="M224.10000000000002,587.1 L228.3,589.4 L224.10000000000002,591.6999999999999 Z" fill="#1e1e1e"/>
<line x1="232.6" y1="589.4" x2="292.40000000000003" y2="589.4" stroke="#1e1e1e" stroke-width="1.3"/>
<path d="M291.20000000000005,587.1 L295.40000000000003,589.4 L291.20000000000005,591.6999999999999 Z" fill="#1e1e1e"/>
<line x1="299.7" y1="589.4" x2="359.5" y2="589.4" stroke="#1e1e1e" stroke-width="1.3"/>
<path d="M358.3,587.1 L362.5,589.4 L358.3,591.6999999999999 Z" fill="#1e1e1e"/>
<line x1="366.79999999999995" y1="589.4" x2="426.59999999999997" y2="589.4" stroke="#1e1e1e" stroke-width="1.3"/>
<path d="M425.4,587.1 L429.59999999999997,589.4 L425.4,591.6999999999999 Z" fill="#1e1e1e"/>
<line x1="510.6" y1="251.6" x2="510.6" y2="58.8" stroke="#1e1e1e" stroke-width="1.3"/>
<path d="M508.3,60.0 L510.6,55.8 L512.9,60.0 Z" fill="#1e1e1e"/>
<line x1="510.6" y1="251.0" x2="579.8" y2="251.0" stroke="#1e1e1e" stroke-width="1.3"/>
<path d="M578.5999999999999,248.7 L582.8,251.0 L578.5999999999999,253.3 Z" fill="#1e1e1e"/>
<line x1="586.3" y1="251.0" x2="651.8" y2="251.0" stroke="#1e1e1e" stroke-width="1.3"/>
<path d="M650.5999999999999,248.7 L654.8,251.0 L650.5999999999999,253.3 Z" fill="#1e1e1e"/>
<line x1="511.2" y1="341.0" x2="511.2" y2="535.6" stroke="#7a7a7a" stroke-width="1.5"/>
<line x1="511.0" y1="535.0" x2="579.8" y2="535.0" stroke="#1e1e1e" stroke-width="1.3"/>
<path d="M578.5999999999999,532.7 L582.8,535.0 L578.5999999999999,537.3 Z" fill="#1e1e1e"/>
<line x1="586.2" y1="535.0" x2="652.2" y2="535.0" stroke="#1e1e1e" stroke-width="1.3"/>
<path d="M651.0,532.7 L655.2,535.0 L651.0,537.3 Z" fill="#1e1e1e"/>
<line x1="69.4" y1="865.1" x2="69.4" y2="666.8" stroke="#1e1e1e" stroke-width="1.3"/>
<path d="M67.10000000000001,668.0 L69.4,663.8 L71.7,668.0 Z" fill="#1e1e1e"/>
<line x1="69.4" y1="864.5" x2="287.7" y2="864.5" stroke="#1e1e1e" stroke-width="1.3"/>
<path d="M286.5,862.2 L290.7,864.5 L286.5,866.8 Z" fill="#1e1e1e"/>
<line x1="362.2" y1="863.9" x2="362.2" y2="666.2" stroke="#1e1e1e" stroke-width="1.3"/>
<path d="M359.9,667.4000000000001 L362.2,663.2 L364.5,667.4000000000001 Z" fill="#1e1e1e"/>
<line x1="362.2" y1="863.3" x2="579.8" y2="863.3" stroke="#1e1e1e" stroke-width="1.3"/>
<path d="M578.5999999999999,861.0 L582.8,863.3 L578.5999999999999,865.5999999999999 Z" fill="#1e1e1e"/>
<text x="0.80" y="12.60" font-size="16.5" text-anchor="start" stroke="#111" stroke-width="0.3" >a</text>
<text x="19.40" y="12.60" font-size="16" text-anchor="start" stroke="#111" stroke-width="0.3" >LP</text>
<text x="0.00" y="221.20" font-size="16.5" text-anchor="start" stroke="#111" stroke-width="0.3" >b</text>
<text x="19.00" y="221.20" font-size="16" text-anchor="start" stroke="#111" stroke-width="0.3" >MLN</text>
<text x="0.00" y="428.50" font-size="16.5" text-anchor="start" stroke="#111" stroke-width="0.3" >c</text>
<text x="18.00" y="428.50" font-size="16" text-anchor="start" stroke="#111" stroke-width="0.3" >Spleen</text>
<text x="493.00" y="66.40" font-size="16.5" text-anchor="start" stroke="#111" stroke-width="0.3" >d</text>
<text x="493.30" y="348.90" font-size="16.5" text-anchor="start" stroke="#111" stroke-width="0.3" >e</text>
<text x="57.80" y="647.60" font-size="16.5" text-anchor="start" stroke="#111" stroke-width="0.3" >f</text>
<text x="351.00" y="645.80" font-size="16.5" text-anchor="start" stroke="#111" stroke-width="0.3" >g</text>
<text x="126.00" y="187.70" font-size="11.8" text-anchor="middle" stroke="#111" stroke-width="0.3" >Control IgG</text>
<text x="196.40" y="187.70" font-size="11.8" text-anchor="middle" stroke="#111" stroke-width="0.3" >CD40</text>
<text x="262.50" y="187.70" font-size="11.8" text-anchor="middle" stroke="#111" stroke-width="0.3" >CD80</text>
<text x="329.10" y="187.70" font-size="11.8" text-anchor="middle" stroke="#111" stroke-width="0.3" >CD86</text>
<text x="396.80" y="187.70" font-size="11.8" text-anchor="middle" stroke="#111" stroke-width="0.3" >MHC II</text>
<text x="126.00" y="396.00" font-size="11.8" text-anchor="middle" stroke="#111" stroke-width="0.3" >Control IgG</text>
<text x="196.40" y="396.00" font-size="11.8" text-anchor="middle" stroke="#111" stroke-width="0.3" >CD40</text>
<text x="262.50" y="396.00" font-size="11.8" text-anchor="middle" stroke="#111" stroke-width="0.3" >CD80</text>
<text x="329.10" y="396.00" font-size="11.8" text-anchor="middle" stroke="#111" stroke-width="0.3" >CD86</text>
<text x="396.80" y="396.00" font-size="11.8" text-anchor="middle" stroke="#111" stroke-width="0.3" >MHC II</text>
<text x="126.00" y="604.00" font-size="11.8" text-anchor="middle" stroke="#111" stroke-width="0.3" >Control IgG</text>
<text x="196.40" y="604.00" font-size="11.8" text-anchor="middle" stroke="#111" stroke-width="0.3" >CD40</text>
<text x="262.50" y="604.00" font-size="11.8" text-anchor="middle" stroke="#111" stroke-width="0.3" >CD80</text>
<text x="329.10" y="604.00" font-size="11.8" text-anchor="middle" stroke="#111" stroke-width="0.3" >CD86</text>
<text x="396.80" y="604.00" font-size="11.8" text-anchor="middle" stroke="#111" stroke-width="0.3" >MHC II</text>
<text x="87.90" y="83.50" font-size="11.8" text-anchor="middle" transform="rotate(-90 87.9 83.5)" stroke="#111" stroke-width="0.3" >% of max</text>
<text x="87.90" y="292.10" font-size="11.8" text-anchor="middle" transform="rotate(-90 87.9 292.1)" stroke="#111" stroke-width="0.3" >% of max</text>
<text x="87.90" y="500.10" font-size="11.8" text-anchor="middle" transform="rotate(-90 87.9 500.1)" stroke="#111" stroke-width="0.3" >% of max</text>
<text x="505.90" y="150.30" font-size="11.8" text-anchor="middle" transform="rotate(-90 505.9 150.3)" stroke="#111" stroke-width="0.3" >% of max</text>
<text x="506.60" y="434.10" font-size="11.8" text-anchor="middle" transform="rotate(-90 506.6 434.1)" stroke="#111" stroke-width="0.3" >% of max</text>
<text x="64.00" y="757.50" font-size="11.8" text-anchor="middle" transform="rotate(-90 64.0 757.5)" stroke="#111" stroke-width="0.3" >% of max</text>
<text x="356.90" y="756.50" font-size="11.8" text-anchor="middle" transform="rotate(-90 356.9 756.5)" stroke="#111" stroke-width="0.3" >% of max</text>
<text x="434.00" y="22.00" font-size="11.7" text-anchor="start" stroke="#111" stroke-width="0.3" >CD11c<tspan font-size="7" dy="-3.2">hi</tspan></text>
<text x="434.00" y="35.30" font-size="11.7" text-anchor="start" stroke="#111" stroke-width="0.3" >CD11b<tspan font-size="7" dy="-3.2">-</tspan></text>
<text x="434.00" y="79.60" font-size="11.7" text-anchor="start" stroke="#111" stroke-width="0.3" >CD11c<tspan font-size="7" dy="-3.2">hi</tspan></text>
<text x="434.00" y="92.90" font-size="11.7" text-anchor="start" stroke="#111" stroke-width="0.3" >CD11b<tspan font-size="7" dy="-3.2">+</tspan></text>
<text x="434.00" y="136.30" font-size="11.7" text-anchor="start" stroke="#111" stroke-width="0.3" >CD11c<tspan font-size="7" dy="-3.2">int</tspan></text>
<text x="434.00" y="150.00" font-size="11.7" text-anchor="start" stroke="#111" stroke-width="0.3" >CD11b<tspan font-size="7" dy="-3.2">+</tspan></text>
<text x="434.00" y="231.30" font-size="11.7" text-anchor="start" stroke="#111" stroke-width="0.3" >CD11c<tspan font-size="7" dy="-3.2">+</tspan></text>
<text x="434.00" y="244.60" font-size="11.7" text-anchor="start" stroke="#111" stroke-width="0.3" >CD11b<tspan font-size="7" dy="-3.2">-</tspan></text>
<text x="434.00" y="288.40" font-size="11.7" text-anchor="start" stroke="#111" stroke-width="0.3" >CD11c<tspan font-size="7" dy="-3.2">+</tspan></text>
<text x="434.00" y="301.70" font-size="11.7" text-anchor="start" stroke="#111" stroke-width="0.3" >CD11b<tspan font-size="7" dy="-3.2">+</tspan></text>
<text x="434.00" y="345.50" font-size="11.7" text-anchor="start" stroke="#111" stroke-width="0.3" >CD11c<tspan font-size="7" dy="-3.2">-</tspan></text>
<text x="434.00" y="358.80" font-size="11.7" text-anchor="start" stroke="#111" stroke-width="0.3" >CD11b<tspan font-size="7" dy="-3.2">+</tspan></text>
<text x="434.00" y="439.50" font-size="11.7" text-anchor="start" stroke="#111" stroke-width="0.3" >CD11c<tspan font-size="7" dy="-3.2">+</tspan></text>
<text x="434.00" y="453.10" font-size="11.7" text-anchor="start" stroke="#111" stroke-width="0.3" >CD11b<tspan font-size="7" dy="-3.2">-</tspan></text>
<text x="434.00" y="496.20" font-size="11.7" text-anchor="start" stroke="#111" stroke-width="0.3" >CD11c<tspan font-size="7" dy="-3.2">+</tspan></text>
<text x="434.00" y="509.80" font-size="11.7" text-anchor="start" stroke="#111" stroke-width="0.3" >CD11b<tspan font-size="7" dy="-3.2">+</tspan></text>
<text x="434.00" y="552.90" font-size="11.7" text-anchor="start" stroke="#111" stroke-width="0.3" >CD11c<tspan font-size="7" dy="-3.2">-</tspan></text>
<text x="434.00" y="566.50" font-size="11.7" text-anchor="start" stroke="#111" stroke-width="0.3" >CD11b<tspan font-size="7" dy="-3.2">+</tspan></text>
<text x="44.80" y="95.40" font-size="11.8" text-anchor="middle" stroke="#111" stroke-width="0.3" >CD11b</text>
<text x="10.00" y="52.20" font-size="11.8" text-anchor="middle" transform="rotate(-90 10.0 52.2)" stroke="#111" stroke-width="0.3" >CD11c</text>
<text x="44.80" y="303.60" font-size="11.8" text-anchor="middle" stroke="#111" stroke-width="0.3" >CD11b</text>
<text x="10.00" y="260.60" font-size="11.8" text-anchor="middle" transform="rotate(-90 10.0 260.6)" stroke="#111" stroke-width="0.3" >CD11c</text>
<text x="44.80" y="511.70" font-size="11.8" text-anchor="middle" stroke="#111" stroke-width="0.3" >CD11b</text>
<text x="10.00" y="468.50" font-size="11.8" text-anchor="middle" transform="rotate(-90 10.0 468.5)" stroke="#111" stroke-width="0.3" >CD11c</text>
<text x="660.40" y="83.70" font-size="11.8" text-anchor="start" stroke="#111" stroke-width="0.3" >PBS</text>
<text x="660.40" y="130.90" font-size="11.8" text-anchor="start" stroke="#111" stroke-width="0.3" >OVA</text>
<text x="660.40" y="178.80" font-size="11.8" text-anchor="start" stroke="#111" stroke-width="0.3" >CT</text>
<text x="660.40" y="218.90" font-size="11.8" text-anchor="start" stroke="#111" stroke-width="0.3" >OVA</text>
<text x="660.40" y="231.70" font-size="11.8" text-anchor="start" stroke="#111" stroke-width="0.3" >+CT</text>
<text x="552.00" y="265.10" font-size="11.8" text-anchor="middle" stroke="#111" stroke-width="0.3" >CD80</text>
<text x="622.50" y="265.10" font-size="11.8" text-anchor="middle" stroke="#111" stroke-width="0.3" >CD86</text>
<text x="660.40" y="368.70" font-size="11.8" text-anchor="start" stroke="#111" stroke-width="0.3" >PBS</text>
<text x="660.40" y="415.70" font-size="11.8" text-anchor="start" stroke="#111" stroke-width="0.3" >CTA</text>
<text x="660.40" y="462.40" font-size="11.8" text-anchor="start" stroke="#111" stroke-width="0.3" >CTB</text>
<text x="660.40" y="511.30" font-size="11.8" text-anchor="start" stroke="#111" stroke-width="0.3" >CT</text>
<text x="552.00" y="549.90" font-size="11.8" text-anchor="middle" stroke="#111" stroke-width="0.3" >CD80</text>
<text x="622.50" y="549.90" font-size="11.8" text-anchor="middle" stroke="#111" stroke-width="0.3" >CD86</text>
<text x="90.30" y="644.60" font-size="11.7" text-anchor="start" stroke="#111" stroke-width="0.3" >CD11c<tspan font-size="7" dy="-3.2">+</tspan></text>
<text x="90.30" y="657.90" font-size="11.7" text-anchor="start" stroke="#111" stroke-width="0.3" >CD11b<tspan font-size="7" dy="-3.2">-</tspan></text>
<text x="162.50" y="644.60" font-size="11.7" text-anchor="start" stroke="#111" stroke-width="0.3" >CD11c<tspan font-size="7" dy="-3.2">+</tspan></text>
<text x="162.50" y="657.90" font-size="11.7" text-anchor="start" stroke="#111" stroke-width="0.3" >CD11b<tspan font-size="7" dy="-3.2">+</tspan></text>
<text x="234.40" y="644.60" font-size="11.7" text-anchor="start" stroke="#111" stroke-width="0.3" >CD11c<tspan font-size="7" dy="-3.2">-</tspan></text>
<text x="234.40" y="657.90" font-size="11.7" text-anchor="start" stroke="#111" stroke-width="0.3" >CD11b<tspan font-size="7" dy="-3.2">+</tspan></text>
<text x="382.70" y="644.40" font-size="11.7" text-anchor="start" stroke="#111" stroke-width="0.3" >CD11c<tspan font-size="7" dy="-3.2">+</tspan></text>
<text x="382.70" y="657.60" font-size="11.7" text-anchor="start" stroke="#111" stroke-width="0.3" >CD11b<tspan font-size="7" dy="-3.2">-</tspan></text>
<text x="455.60" y="644.40" font-size="11.7" text-anchor="start" stroke="#111" stroke-width="0.3" >CD11c<tspan font-size="7" dy="-3.2">+</tspan></text>
<text x="455.60" y="657.60" font-size="11.7" text-anchor="start" stroke="#111" stroke-width="0.3" >CD11b<tspan font-size="7" dy="-3.2">+</tspan></text>
<text x="527.70" y="644.40" font-size="11.7" text-anchor="start" stroke="#111" stroke-width="0.3" >CD11c<tspan font-size="7" dy="-3.2">-</tspan></text>
<text x="527.70" y="657.60" font-size="11.7" text-anchor="start" stroke="#111" stroke-width="0.3" >CD11b<tspan font-size="7" dy="-3.2">+</tspan></text>
<text x="295.20" y="692.60" font-size="11.8" text-anchor="start" stroke="#111" stroke-width="0.3" >PBS</text>
<text x="295.20" y="742.20" font-size="11.8" text-anchor="start" stroke="#111" stroke-width="0.3" >OVA</text>
<text x="295.20" y="790.60" font-size="11.8" text-anchor="start" stroke="#111" stroke-width="0.3" >CT</text>
<text x="295.20" y="831.10" font-size="11.8" text-anchor="start" stroke="#111" stroke-width="0.3" >OVA</text>
<text x="295.20" y="844.60" font-size="11.8" text-anchor="start" stroke="#111" stroke-width="0.3" >+CT</text>
<text x="588.40" y="692.20" font-size="11.8" text-anchor="start" stroke="#111" stroke-width="0.3" >PBS</text>
<text x="588.40" y="741.80" font-size="11.8" text-anchor="start" stroke="#111" stroke-width="0.3" >CTA</text>
<text x="588.40" y="789.90" font-size="11.8" text-anchor="start" stroke="#111" stroke-width="0.3" >CTB</text>
<text x="588.40" y="838.30" font-size="11.8" text-anchor="start" stroke="#111" stroke-width="0.3" >CT</text>
<text x="142.60" y="878.60" font-size="11.8" text-anchor="start" stroke="#111" stroke-width="0.3" >MHC I (H-2K<tspan font-size="7.5" dy="-4.2">b</tspan><tspan dy="4.2">)</tspan></text>
<text x="436.00" y="878.60" font-size="11.8" text-anchor="start" stroke="#111" stroke-width="0.3" >MHC I (H-2K<tspan font-size="7.5" dy="-4.2">b</tspan><tspan dy="4.2">)</tspan></text>
</svg>
</body></html>
